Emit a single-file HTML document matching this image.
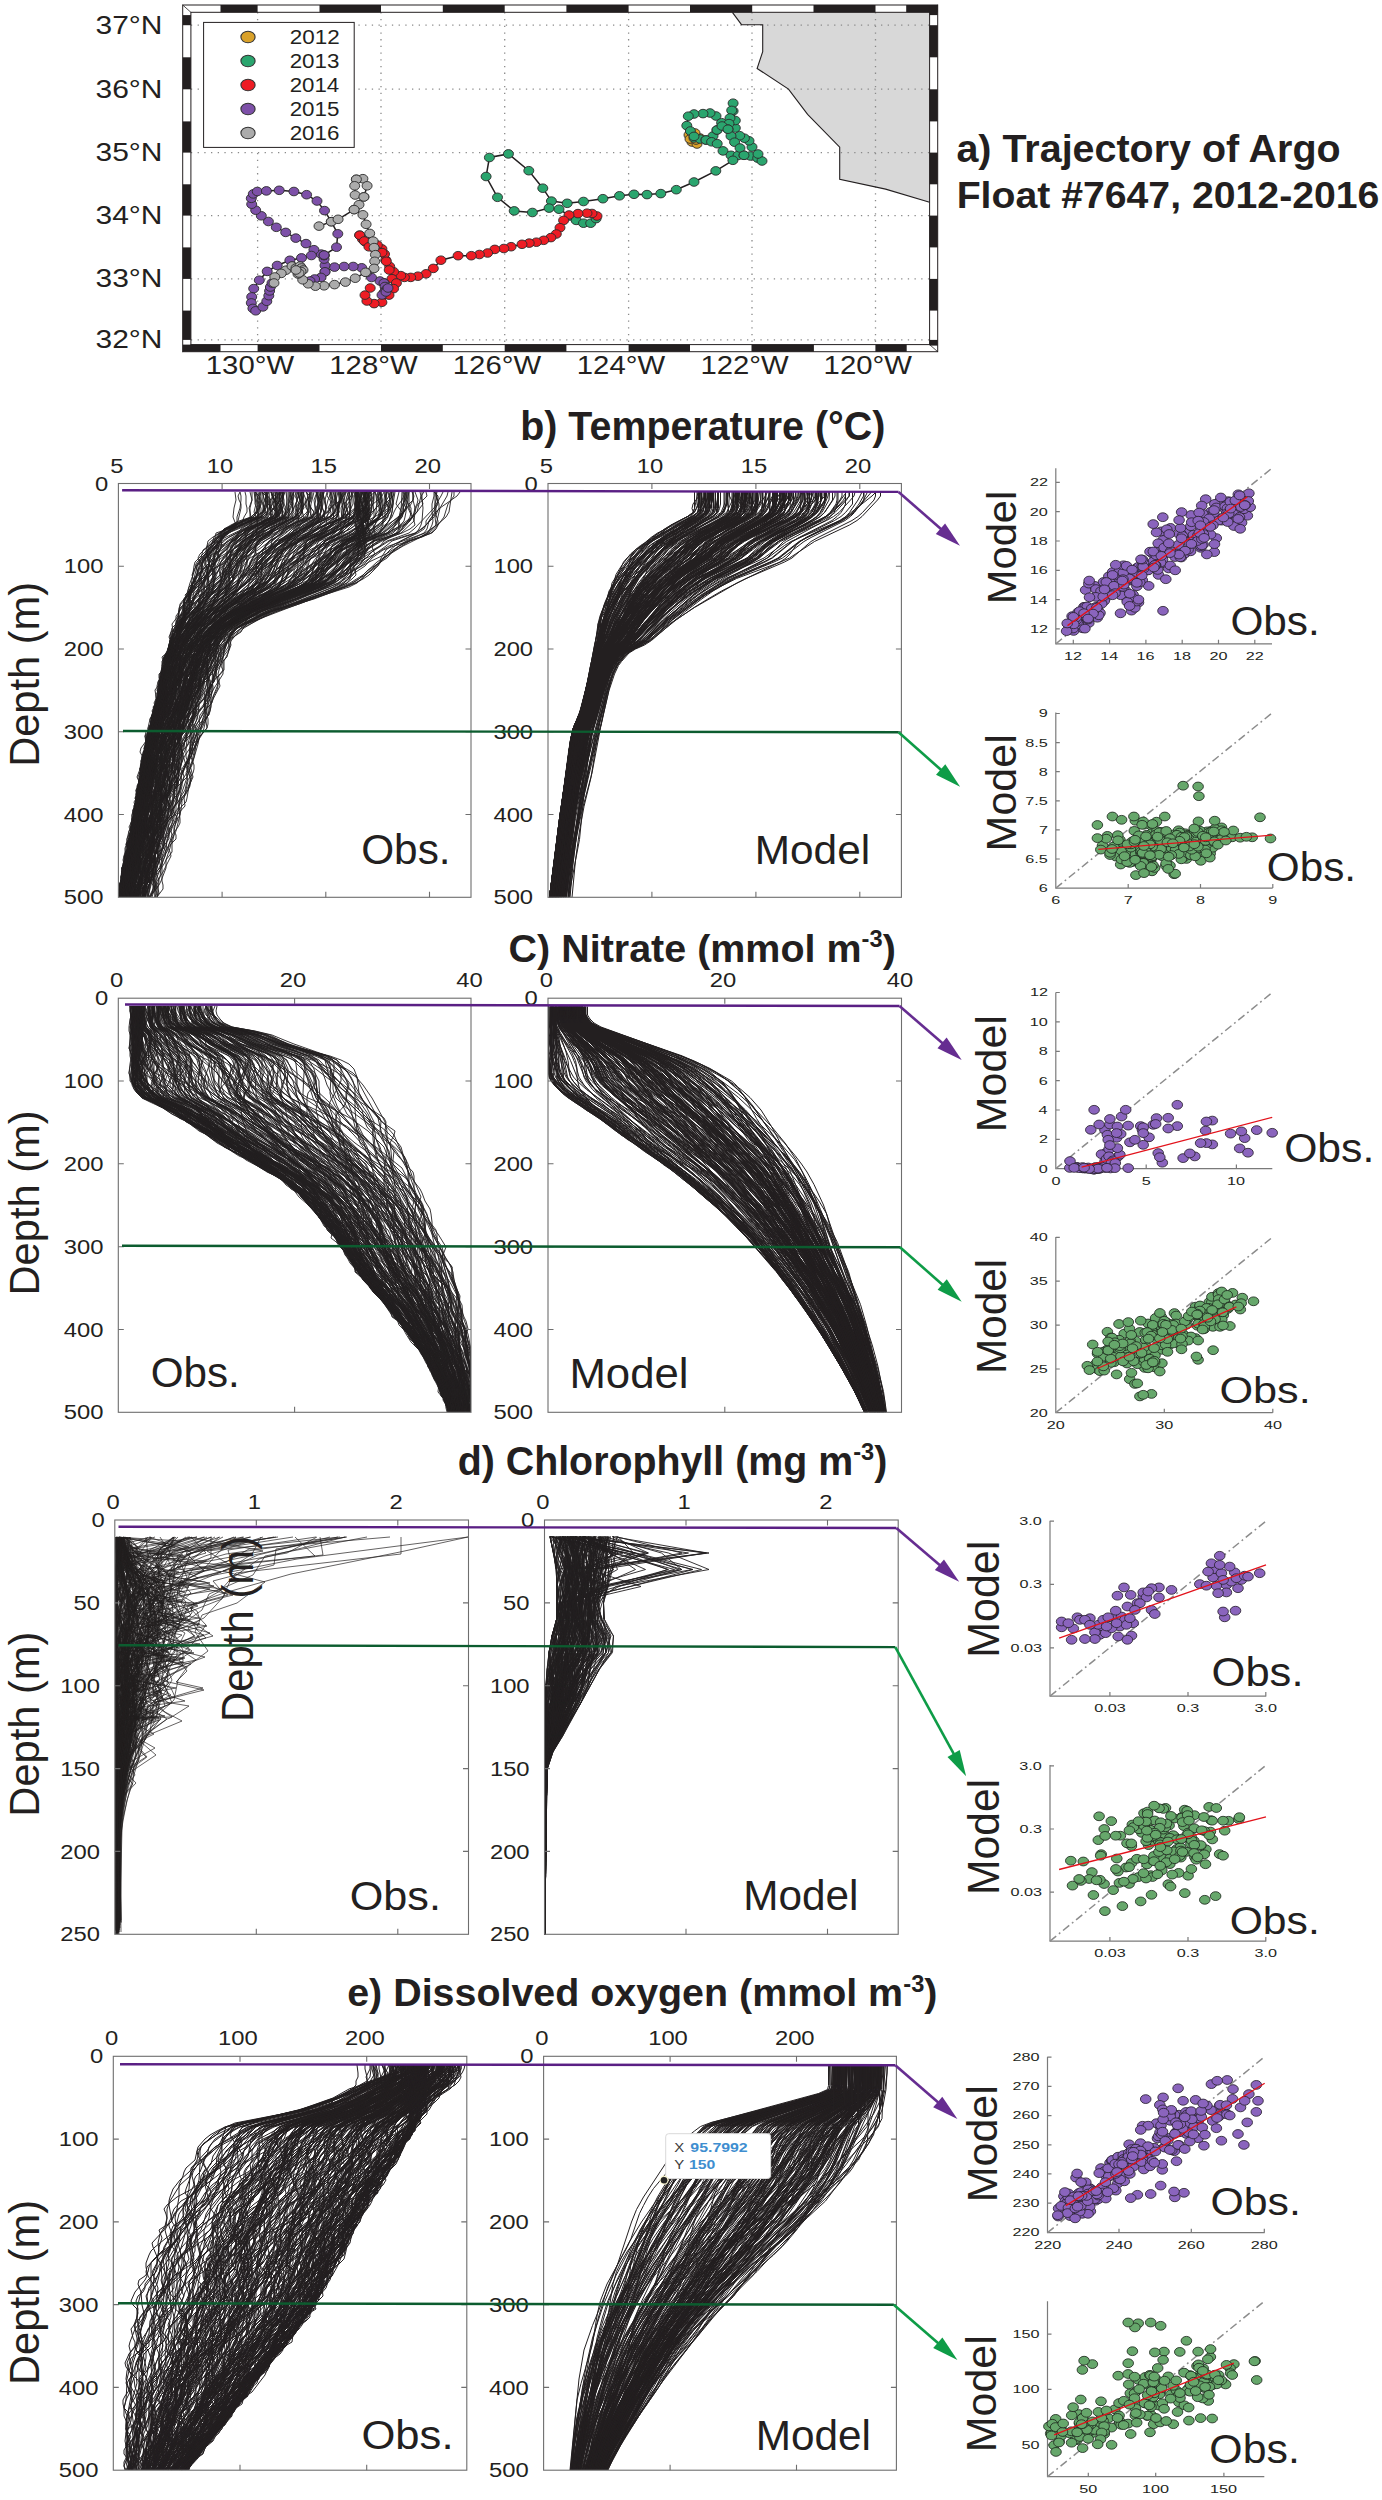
<!DOCTYPE html><html><head><meta charset="utf-8"><style>html,body{margin:0;padding:0;background:#fff;overflow:hidden}svg{display:block}text{font-family:"Liberation Sans",sans-serif}.sm ellipse{rx:5.3px;ry:4.4px}.tm ellipse{rx:5.0px;ry:4.3px}</style></head><body>
<svg width="1382" height="2500" viewBox="0 0 1382 2500">
<rect width="1382" height="2500" fill="#fff"/>
<polygon points="732.4,12.3 741.5,24.7 762.7,24.7 762.7,51.7 757.1,68.5 788.5,89.1 807.6,114.3 839.7,147.2 839.7,179.4 885.6,189.1 929.6,202.2 929.6,12.3" fill="#d8d8d8" stroke="none"/>
<path d="M257.6,12.3V344.6M381.0,12.3V344.6M504.7,12.3V344.6M628.6,12.3V344.6M752.0,12.3V344.6M875.5,12.3V344.6M190.9,25.2H929.6M190.9,89.2H929.6M190.9,152.7H929.6M190.9,215.7H929.6M190.9,278.9H929.6M190.9,339.9H929.6" stroke="#8a8a8a" stroke-width="1.3" stroke-dasharray="1.3 5.4" fill="none"/>
<polyline points="732.4,12.3 741.5,24.7 762.7,24.7 762.7,51.7 757.1,68.5 788.5,89.1 807.6,114.3 839.7,147.2 839.7,179.4 885.6,189.1 929.6,202.2" fill="none" stroke="#231f20" stroke-width="1.1"/>
<polyline points="689.0,135.0 692.0,142.0 697.0,144.0 700.0,138.0 695.0,133.0 690.0,139.0 696.0,140.0" fill="none" stroke="#231f20" stroke-width="1.5"/>
<polyline points="694.0,138.0 706.0,140.0 713.0,136.0 717.0,130.0 721.6,122.7 716.0,116.0 710.0,113.0 703.0,113.6 694.0,114.0 688.3,116.2 686.8,125.6 694.0,136.4" fill="none" stroke="#231f20" stroke-width="1.5"/>
<polyline points="706.0,140.0 717.2,143.7 723.0,150.9 731.0,155.3 738.0,155.5 744.0,155.3 750.5,156.0 757.7,158.1 762.0,161.0 758.0,154.0 752.0,147.0 749.0,140.8 739.7,135.7 735.3,128.0 735.3,120.5 733.1,111.0 733.1,103.2 731.7,110.4 730.0,118.0 728.0,129.2 731.0,136.0 734.6,142.2 740.0,148.0 744.0,155.3" fill="none" stroke="#231f20" stroke-width="1.5"/>
<polyline points="717.0,130.0 722.0,126.0 728.0,129.2" fill="none" stroke="#231f20" stroke-width="1.5"/>
<polyline points="732.9,160.3 715.8,170.9 694.0,182.0 676.3,189.7 660.8,193.6 647.0,194.6 634.0,194.3 619.5,195.8 602.9,198.7 583.5,201.5 567.2,203.3 551.4,201.1 542.8,188.2 528.8,170.7 508.4,153.9 489.4,157.5 486.1,176.5 497.5,197.3 514.2,210.9 532.4,212.5 549.1,208.1 559.0,209.2 570.0,216.0 576.2,220.4 583.5,223.2 590.7,223.2 596.1,218.6" fill="none" stroke="#231f20" stroke-width="1.5"/>
<polyline points="597.0,216.0 592.0,213.5 587.0,213.2 578.0,213.6 569.0,215.0 563.6,220.4 560.0,227.7 556.3,234.0 550.9,237.6 543.7,240.3 536.4,242.2 529.2,243.1 522.0,244.3 511.1,246.7 503.9,248.5 494.8,249.4 487.6,253.0 479.4,254.5 471.3,255.7 458.1,255.7 440.9,260.2 433.3,268.4 426.1,273.8 417.9,276.2 410.7,277.4 404.4,277.4 400.8,275.6 393.6,271.7 389.7,266.5 385.8,260.0 384.5,254.1 381.9,248.9 377.3,245.0 371.5,241.1 365.0,241.7 362.4,239.1 359.7,235.2" fill="none" stroke="#231f20" stroke-width="1.5"/>
<polyline points="359.7,235.2 368.9,246.8 382.0,252.6 386.3,261.3 389.2,270.0 392.0,278.7 396.4,283.0 393.6,288.6 389.0,295.1 381.9,302.3 374.1,303.6 366.9,301.0 365.0,295.1 370.2,288.0" fill="none" stroke="#231f20" stroke-width="1.5"/>
<polyline points="386.0,290.0 384.0,283.0 380.0,281.0 371.5,277.5 361.7,267.8 353.2,266.5 344.1,266.5 334.5,267.1 325.0,271.8 325.0,265.5 324.1,259.1 324.0,255.5" fill="none" stroke="#231f20" stroke-width="1.5"/>
<polyline points="324.0,255.5 321.2,254.1 313.9,249.7 306.0,243.6 295.8,238.1 285.7,232.4 276.3,227.3 268.4,221.5 261.3,215.8 255.7,210.2 251.7,204.2 251.3,198.3 253.3,193.9 257.3,191.5 266.4,190.9 279.2,190.3 293.9,191.5 306.6,194.7 317.0,201.0 324.5,210.6 331.3,221.7 337.8,233.8 336.5,247.2 324.1,255.1" fill="none" stroke="#231f20" stroke-width="1.5"/>
<polyline points="324.1,255.1 311.4,255.5 301.5,257.9 289.9,260.3 277.2,265.5 267.2,271.4 259.3,280.2 253.7,288.6 251.7,296.9 251.3,302.9 252.9,308.4 255.7,310.8 262.9,306.9 266.8,301.3 268.8,295.7 269.6,290.9 270.4,287.0 272.0,283.0" fill="none" stroke="#231f20" stroke-width="1.5"/>
<polyline points="325.0,271.8 321.0,277.4 314.6,279.0 310.0,281.0" fill="none" stroke="#231f20" stroke-width="1.5"/>
<polyline points="384.0,283.0 386.0,290.0 382.0,295.0 386.0,292.0 388.0,288.0" fill="none" stroke="#231f20" stroke-width="1.5"/>
<polyline points="319.0,226.1 331.3,221.7 338.1,219.3 354.1,209.6" fill="none" stroke="#231f20" stroke-width="1.5"/>
<polyline points="356.4,179.3 362.9,178.7 367.1,185.8 363.9,196.9 359.0,204.7 354.1,209.6 362.9,214.8 366.1,224.3 369.7,233.4 373.1,241.1 374.1,247.6 375.4,254.7 374.7,261.3 374.1,268.4 365.6,272.3 355.2,278.2 345.4,282.1 334.5,284.6 324.1,285.8 315.4,286.2 308.2,283.8 302.7,279.8 298.0,274.0 294.0,268.0 292.3,266.3 286.0,270.2 281.2,273.4 274.8,277.0 274.0,283.0" fill="none" stroke="#231f20" stroke-width="1.5"/>
<polyline points="356.4,179.3 354.7,185.8 355.1,195.0 363.9,196.9" fill="none" stroke="#231f20" stroke-width="1.5"/>
<polyline points="292.0,266.0 296.0,268.0 300.0,266.0 303.0,270.0 299.0,273.0 296.0,270.0" fill="none" stroke="#231f20" stroke-width="1.5"/>
<g class="tm" fill="#d9a12a" stroke="#2b2b2b" stroke-width="0.9"><ellipse cx="689.0" cy="135.0" rx="5" ry="4.3"/><ellipse cx="692.0" cy="142.0" rx="5" ry="4.3"/><ellipse cx="697.0" cy="144.0" rx="5" ry="4.3"/><ellipse cx="700.0" cy="138.0" rx="5" ry="4.3"/><ellipse cx="695.0" cy="133.0" rx="5" ry="4.3"/><ellipse cx="690.0" cy="139.0" rx="5" ry="4.3"/><ellipse cx="696.0" cy="140.0" rx="5" ry="4.3"/></g>
<g class="tm" fill="#2aa56e" stroke="#2b2b2b" stroke-width="0.9"><ellipse cx="694.0" cy="138.0" rx="5" ry="4.3"/><ellipse cx="700.0" cy="139.0" rx="5" ry="4.3"/><ellipse cx="706.0" cy="140.0" rx="5" ry="4.3"/><ellipse cx="713.0" cy="136.0" rx="5" ry="4.3"/><ellipse cx="717.0" cy="130.0" rx="5" ry="4.3"/><ellipse cx="721.6" cy="122.7" rx="5" ry="4.3"/><ellipse cx="716.0" cy="116.0" rx="5" ry="4.3"/><ellipse cx="710.0" cy="113.0" rx="5" ry="4.3"/><ellipse cx="703.0" cy="113.6" rx="5" ry="4.3"/><ellipse cx="694.0" cy="114.0" rx="5" ry="4.3"/><ellipse cx="688.3" cy="116.2" rx="5" ry="4.3"/><ellipse cx="686.8" cy="125.6" rx="5" ry="4.3"/><ellipse cx="690.4" cy="131.0" rx="5" ry="4.3"/><ellipse cx="694.0" cy="136.4" rx="5" ry="4.3"/><ellipse cx="706.0" cy="140.0" rx="5" ry="4.3"/><ellipse cx="711.6" cy="141.8" rx="5" ry="4.3"/><ellipse cx="717.2" cy="143.7" rx="5" ry="4.3"/><ellipse cx="723.0" cy="150.9" rx="5" ry="4.3"/><ellipse cx="731.0" cy="155.3" rx="5" ry="4.3"/><ellipse cx="738.0" cy="155.5" rx="5" ry="4.3"/><ellipse cx="744.0" cy="155.3" rx="5" ry="4.3"/><ellipse cx="750.5" cy="156.0" rx="5" ry="4.3"/><ellipse cx="757.7" cy="158.1" rx="5" ry="4.3"/><ellipse cx="762.0" cy="161.0" rx="5" ry="4.3"/><ellipse cx="758.0" cy="154.0" rx="5" ry="4.3"/><ellipse cx="752.0" cy="147.0" rx="5" ry="4.3"/><ellipse cx="749.0" cy="140.8" rx="5" ry="4.3"/><ellipse cx="744.4" cy="138.2" rx="5" ry="4.3"/><ellipse cx="739.7" cy="135.7" rx="5" ry="4.3"/><ellipse cx="735.3" cy="128.0" rx="5" ry="4.3"/><ellipse cx="735.3" cy="120.5" rx="5" ry="4.3"/><ellipse cx="733.1" cy="111.0" rx="5" ry="4.3"/><ellipse cx="733.1" cy="103.2" rx="5" ry="4.3"/><ellipse cx="731.7" cy="110.4" rx="5" ry="4.3"/><ellipse cx="730.0" cy="118.0" rx="5" ry="4.3"/><ellipse cx="729.0" cy="123.6" rx="5" ry="4.3"/><ellipse cx="728.0" cy="129.2" rx="5" ry="4.3"/><ellipse cx="731.0" cy="136.0" rx="5" ry="4.3"/><ellipse cx="734.6" cy="142.2" rx="5" ry="4.3"/><ellipse cx="740.0" cy="148.0" rx="5" ry="4.3"/><ellipse cx="744.0" cy="155.3" rx="5" ry="4.3"/><ellipse cx="717.0" cy="130.0" rx="5" ry="4.3"/><ellipse cx="722.0" cy="126.0" rx="5" ry="4.3"/><ellipse cx="728.0" cy="129.2" rx="5" ry="4.3"/><ellipse cx="732.9" cy="160.3" rx="5" ry="4.3"/><ellipse cx="715.8" cy="170.9" rx="5" ry="4.3"/><ellipse cx="694.0" cy="182.0" rx="5" ry="4.3"/><ellipse cx="676.3" cy="189.7" rx="5" ry="4.3"/><ellipse cx="660.8" cy="193.6" rx="5" ry="4.3"/><ellipse cx="647.0" cy="194.6" rx="5" ry="4.3"/><ellipse cx="634.0" cy="194.3" rx="5" ry="4.3"/><ellipse cx="619.5" cy="195.8" rx="5" ry="4.3"/><ellipse cx="602.9" cy="198.7" rx="5" ry="4.3"/><ellipse cx="583.5" cy="201.5" rx="5" ry="4.3"/><ellipse cx="567.2" cy="203.3" rx="5" ry="4.3"/><ellipse cx="551.4" cy="201.1" rx="5" ry="4.3"/><ellipse cx="542.8" cy="188.2" rx="5" ry="4.3"/><ellipse cx="528.8" cy="170.7" rx="5" ry="4.3"/><ellipse cx="508.4" cy="153.9" rx="5" ry="4.3"/><ellipse cx="489.4" cy="157.5" rx="5" ry="4.3"/><ellipse cx="486.1" cy="176.5" rx="5" ry="4.3"/><ellipse cx="497.5" cy="197.3" rx="5" ry="4.3"/><ellipse cx="514.2" cy="210.9" rx="5" ry="4.3"/><ellipse cx="532.4" cy="212.5" rx="5" ry="4.3"/><ellipse cx="549.1" cy="208.1" rx="5" ry="4.3"/><ellipse cx="559.0" cy="209.2" rx="5" ry="4.3"/><ellipse cx="570.0" cy="216.0" rx="5" ry="4.3"/><ellipse cx="576.2" cy="220.4" rx="5" ry="4.3"/><ellipse cx="583.5" cy="223.2" rx="5" ry="4.3"/><ellipse cx="590.7" cy="223.2" rx="5" ry="4.3"/><ellipse cx="596.1" cy="218.6" rx="5" ry="4.3"/></g>
<g class="tm" fill="#ee1c24" stroke="#2b2b2b" stroke-width="0.9"><ellipse cx="597.0" cy="216.0" rx="5" ry="4.3"/><ellipse cx="592.0" cy="213.5" rx="5" ry="4.3"/><ellipse cx="587.0" cy="213.2" rx="5" ry="4.3"/><ellipse cx="578.0" cy="213.6" rx="5" ry="4.3"/><ellipse cx="569.0" cy="215.0" rx="5" ry="4.3"/><ellipse cx="563.6" cy="220.4" rx="5" ry="4.3"/><ellipse cx="560.0" cy="227.7" rx="5" ry="4.3"/><ellipse cx="556.3" cy="234.0" rx="5" ry="4.3"/><ellipse cx="550.9" cy="237.6" rx="5" ry="4.3"/><ellipse cx="543.7" cy="240.3" rx="5" ry="4.3"/><ellipse cx="536.4" cy="242.2" rx="5" ry="4.3"/><ellipse cx="529.2" cy="243.1" rx="5" ry="4.3"/><ellipse cx="522.0" cy="244.3" rx="5" ry="4.3"/><ellipse cx="511.1" cy="246.7" rx="5" ry="4.3"/><ellipse cx="503.9" cy="248.5" rx="5" ry="4.3"/><ellipse cx="494.8" cy="249.4" rx="5" ry="4.3"/><ellipse cx="487.6" cy="253.0" rx="5" ry="4.3"/><ellipse cx="479.4" cy="254.5" rx="5" ry="4.3"/><ellipse cx="471.3" cy="255.7" rx="5" ry="4.3"/><ellipse cx="458.1" cy="255.7" rx="5" ry="4.3"/><ellipse cx="440.9" cy="260.2" rx="5" ry="4.3"/><ellipse cx="433.3" cy="268.4" rx="5" ry="4.3"/><ellipse cx="426.1" cy="273.8" rx="5" ry="4.3"/><ellipse cx="417.9" cy="276.2" rx="5" ry="4.3"/><ellipse cx="410.7" cy="277.4" rx="5" ry="4.3"/><ellipse cx="404.4" cy="277.4" rx="5" ry="4.3"/><ellipse cx="400.8" cy="275.6" rx="5" ry="4.3"/><ellipse cx="393.6" cy="271.7" rx="5" ry="4.3"/><ellipse cx="389.7" cy="266.5" rx="5" ry="4.3"/><ellipse cx="385.8" cy="260.0" rx="5" ry="4.3"/><ellipse cx="384.5" cy="254.1" rx="5" ry="4.3"/><ellipse cx="381.9" cy="248.9" rx="5" ry="4.3"/><ellipse cx="377.3" cy="245.0" rx="5" ry="4.3"/><ellipse cx="371.5" cy="241.1" rx="5" ry="4.3"/><ellipse cx="365.0" cy="241.7" rx="5" ry="4.3"/><ellipse cx="362.4" cy="239.1" rx="5" ry="4.3"/><ellipse cx="359.7" cy="235.2" rx="5" ry="4.3"/><ellipse cx="359.7" cy="235.2" rx="5" ry="4.3"/><ellipse cx="364.3" cy="241.0" rx="5" ry="4.3"/><ellipse cx="368.9" cy="246.8" rx="5" ry="4.3"/><ellipse cx="375.4" cy="249.7" rx="5" ry="4.3"/><ellipse cx="382.0" cy="252.6" rx="5" ry="4.3"/><ellipse cx="386.3" cy="261.3" rx="5" ry="4.3"/><ellipse cx="389.2" cy="270.0" rx="5" ry="4.3"/><ellipse cx="392.0" cy="278.7" rx="5" ry="4.3"/><ellipse cx="396.4" cy="283.0" rx="5" ry="4.3"/><ellipse cx="393.6" cy="288.6" rx="5" ry="4.3"/><ellipse cx="389.0" cy="295.1" rx="5" ry="4.3"/><ellipse cx="381.9" cy="302.3" rx="5" ry="4.3"/><ellipse cx="374.1" cy="303.6" rx="5" ry="4.3"/><ellipse cx="366.9" cy="301.0" rx="5" ry="4.3"/><ellipse cx="365.0" cy="295.1" rx="5" ry="4.3"/><ellipse cx="370.2" cy="288.0" rx="5" ry="4.3"/></g>
<g class="tm" fill="#7d50a8" stroke="#2b2b2b" stroke-width="0.9"><ellipse cx="386.0" cy="290.0" rx="5" ry="4.3"/><ellipse cx="384.0" cy="283.0" rx="5" ry="4.3"/><ellipse cx="380.0" cy="281.0" rx="5" ry="4.3"/><ellipse cx="371.5" cy="277.5" rx="5" ry="4.3"/><ellipse cx="366.6" cy="272.6" rx="5" ry="4.3"/><ellipse cx="361.7" cy="267.8" rx="5" ry="4.3"/><ellipse cx="353.2" cy="266.5" rx="5" ry="4.3"/><ellipse cx="344.1" cy="266.5" rx="5" ry="4.3"/><ellipse cx="334.5" cy="267.1" rx="5" ry="4.3"/><ellipse cx="325.0" cy="271.8" rx="5" ry="4.3"/><ellipse cx="325.0" cy="265.5" rx="5" ry="4.3"/><ellipse cx="324.1" cy="259.1" rx="5" ry="4.3"/><ellipse cx="324.0" cy="255.5" rx="5" ry="4.3"/><ellipse cx="324.0" cy="255.5" rx="5" ry="4.3"/><ellipse cx="321.2" cy="254.1" rx="5" ry="4.3"/><ellipse cx="313.9" cy="249.7" rx="5" ry="4.3"/><ellipse cx="306.0" cy="243.6" rx="5" ry="4.3"/><ellipse cx="295.8" cy="238.1" rx="5" ry="4.3"/><ellipse cx="285.7" cy="232.4" rx="5" ry="4.3"/><ellipse cx="276.3" cy="227.3" rx="5" ry="4.3"/><ellipse cx="268.4" cy="221.5" rx="5" ry="4.3"/><ellipse cx="261.3" cy="215.8" rx="5" ry="4.3"/><ellipse cx="255.7" cy="210.2" rx="5" ry="4.3"/><ellipse cx="251.7" cy="204.2" rx="5" ry="4.3"/><ellipse cx="251.3" cy="198.3" rx="5" ry="4.3"/><ellipse cx="253.3" cy="193.9" rx="5" ry="4.3"/><ellipse cx="257.3" cy="191.5" rx="5" ry="4.3"/><ellipse cx="266.4" cy="190.9" rx="5" ry="4.3"/><ellipse cx="279.2" cy="190.3" rx="5" ry="4.3"/><ellipse cx="293.9" cy="191.5" rx="5" ry="4.3"/><ellipse cx="306.6" cy="194.7" rx="5" ry="4.3"/><ellipse cx="317.0" cy="201.0" rx="5" ry="4.3"/><ellipse cx="324.5" cy="210.6" rx="5" ry="4.3"/><ellipse cx="331.3" cy="221.7" rx="5" ry="4.3"/><ellipse cx="337.8" cy="233.8" rx="5" ry="4.3"/><ellipse cx="336.5" cy="247.2" rx="5" ry="4.3"/><ellipse cx="324.1" cy="255.1" rx="5" ry="4.3"/><ellipse cx="324.1" cy="255.1" rx="5" ry="4.3"/><ellipse cx="311.4" cy="255.5" rx="5" ry="4.3"/><ellipse cx="301.5" cy="257.9" rx="5" ry="4.3"/><ellipse cx="289.9" cy="260.3" rx="5" ry="4.3"/><ellipse cx="277.2" cy="265.5" rx="5" ry="4.3"/><ellipse cx="267.2" cy="271.4" rx="5" ry="4.3"/><ellipse cx="259.3" cy="280.2" rx="5" ry="4.3"/><ellipse cx="253.7" cy="288.6" rx="5" ry="4.3"/><ellipse cx="251.7" cy="296.9" rx="5" ry="4.3"/><ellipse cx="251.3" cy="302.9" rx="5" ry="4.3"/><ellipse cx="252.9" cy="308.4" rx="5" ry="4.3"/><ellipse cx="255.7" cy="310.8" rx="5" ry="4.3"/><ellipse cx="262.9" cy="306.9" rx="5" ry="4.3"/><ellipse cx="266.8" cy="301.3" rx="5" ry="4.3"/><ellipse cx="268.8" cy="295.7" rx="5" ry="4.3"/><ellipse cx="269.6" cy="290.9" rx="5" ry="4.3"/><ellipse cx="270.4" cy="287.0" rx="5" ry="4.3"/><ellipse cx="272.0" cy="283.0" rx="5" ry="4.3"/><ellipse cx="325.0" cy="271.8" rx="5" ry="4.3"/><ellipse cx="321.0" cy="277.4" rx="5" ry="4.3"/><ellipse cx="314.6" cy="279.0" rx="5" ry="4.3"/><ellipse cx="310.0" cy="281.0" rx="5" ry="4.3"/><ellipse cx="384.0" cy="283.0" rx="5" ry="4.3"/><ellipse cx="385.0" cy="286.5" rx="5" ry="4.3"/><ellipse cx="386.0" cy="290.0" rx="5" ry="4.3"/><ellipse cx="384.0" cy="292.5" rx="5" ry="4.3"/><ellipse cx="382.0" cy="295.0" rx="5" ry="4.3"/><ellipse cx="386.0" cy="292.0" rx="5" ry="4.3"/><ellipse cx="388.0" cy="288.0" rx="5" ry="4.3"/></g>
<g class="tm" fill="#ababab" stroke="#2b2b2b" stroke-width="0.9"><ellipse cx="319.0" cy="226.1" rx="5" ry="4.3"/><ellipse cx="331.3" cy="221.7" rx="5" ry="4.3"/><ellipse cx="338.1" cy="219.3" rx="5" ry="4.3"/><ellipse cx="354.1" cy="209.6" rx="5" ry="4.3"/><ellipse cx="356.4" cy="179.3" rx="5" ry="4.3"/><ellipse cx="362.9" cy="178.7" rx="5" ry="4.3"/><ellipse cx="367.1" cy="185.8" rx="5" ry="4.3"/><ellipse cx="363.9" cy="196.9" rx="5" ry="4.3"/><ellipse cx="359.0" cy="204.7" rx="5" ry="4.3"/><ellipse cx="354.1" cy="209.6" rx="5" ry="4.3"/><ellipse cx="362.9" cy="214.8" rx="5" ry="4.3"/><ellipse cx="366.1" cy="224.3" rx="5" ry="4.3"/><ellipse cx="369.7" cy="233.4" rx="5" ry="4.3"/><ellipse cx="373.1" cy="241.1" rx="5" ry="4.3"/><ellipse cx="374.1" cy="247.6" rx="5" ry="4.3"/><ellipse cx="375.4" cy="254.7" rx="5" ry="4.3"/><ellipse cx="374.7" cy="261.3" rx="5" ry="4.3"/><ellipse cx="374.1" cy="268.4" rx="5" ry="4.3"/><ellipse cx="365.6" cy="272.3" rx="5" ry="4.3"/><ellipse cx="355.2" cy="278.2" rx="5" ry="4.3"/><ellipse cx="345.4" cy="282.1" rx="5" ry="4.3"/><ellipse cx="334.5" cy="284.6" rx="5" ry="4.3"/><ellipse cx="324.1" cy="285.8" rx="5" ry="4.3"/><ellipse cx="315.4" cy="286.2" rx="5" ry="4.3"/><ellipse cx="308.2" cy="283.8" rx="5" ry="4.3"/><ellipse cx="302.7" cy="279.8" rx="5" ry="4.3"/><ellipse cx="298.0" cy="274.0" rx="5" ry="4.3"/><ellipse cx="294.0" cy="268.0" rx="5" ry="4.3"/><ellipse cx="292.3" cy="266.3" rx="5" ry="4.3"/><ellipse cx="286.0" cy="270.2" rx="5" ry="4.3"/><ellipse cx="281.2" cy="273.4" rx="5" ry="4.3"/><ellipse cx="274.8" cy="277.0" rx="5" ry="4.3"/><ellipse cx="274.0" cy="283.0" rx="5" ry="4.3"/><ellipse cx="356.4" cy="179.3" rx="5" ry="4.3"/><ellipse cx="354.7" cy="185.8" rx="5" ry="4.3"/><ellipse cx="355.1" cy="195.0" rx="5" ry="4.3"/><ellipse cx="363.9" cy="196.9" rx="5" ry="4.3"/><ellipse cx="292.0" cy="266.0" rx="5" ry="4.3"/><ellipse cx="296.0" cy="268.0" rx="5" ry="4.3"/><ellipse cx="300.0" cy="266.0" rx="5" ry="4.3"/><ellipse cx="301.5" cy="268.0" rx="5" ry="4.3"/><ellipse cx="303.0" cy="270.0" rx="5" ry="4.3"/><ellipse cx="301.0" cy="271.5" rx="5" ry="4.3"/><ellipse cx="299.0" cy="273.0" rx="5" ry="4.3"/><ellipse cx="296.0" cy="270.0" rx="5" ry="4.3"/></g>
<rect x="220.5" y="5.0" width="37.1" height="7.3" fill="#231f20"/>
<rect x="319.5" y="5.0" width="61.5" height="7.3" fill="#231f20"/>
<rect x="442.8" y="5.0" width="61.9" height="7.3" fill="#231f20"/>
<rect x="566.4" y="5.0" width="62.2" height="7.3" fill="#231f20"/>
<rect x="690.0" y="5.0" width="62.2" height="7.3" fill="#231f20"/>
<rect x="813.5" y="5.0" width="62.0" height="7.3" fill="#231f20"/>
<rect x="906.2" y="5.0" width="31.5" height="7.3" fill="#231f20"/>
<rect x="182.7" y="344.6" width="37.8" height="7.1" fill="#231f20"/>
<rect x="257.6" y="344.6" width="61.9" height="7.1" fill="#231f20"/>
<rect x="381.0" y="344.6" width="61.8" height="7.1" fill="#231f20"/>
<rect x="504.7" y="344.6" width="61.7" height="7.1" fill="#231f20"/>
<rect x="628.6" y="344.6" width="61.4" height="7.1" fill="#231f20"/>
<rect x="751.5" y="344.6" width="62.4" height="7.1" fill="#231f20"/>
<rect x="875.4" y="344.6" width="31.3" height="7.1" fill="#231f20"/>
<rect x="182.7" y="15.1" width="8.2" height="10.1" fill="#231f20"/>
<rect x="182.7" y="57.3" width="8.2" height="32.0" fill="#231f20"/>
<rect x="182.7" y="121.4" width="8.2" height="31.2" fill="#231f20"/>
<rect x="182.7" y="184.3" width="8.2" height="31.3" fill="#231f20"/>
<rect x="182.7" y="247.4" width="8.2" height="31.5" fill="#231f20"/>
<rect x="182.7" y="310.6" width="8.2" height="29.3" fill="#231f20"/>
<rect x="929.6" y="5.0" width="8.1" height="10.1" fill="#231f20"/>
<rect x="929.6" y="25.2" width="8.1" height="32.1" fill="#231f20"/>
<rect x="929.6" y="89.3" width="8.1" height="32.1" fill="#231f20"/>
<rect x="929.6" y="152.6" width="8.1" height="31.7" fill="#231f20"/>
<rect x="929.6" y="215.6" width="8.1" height="31.8" fill="#231f20"/>
<rect x="929.6" y="278.9" width="8.1" height="31.7" fill="#231f20"/>
<rect x="929.6" y="339.9" width="8.1" height="5.7" fill="#231f20"/>
<rect x="182.7" y="5.0" width="755.0" height="346.7" fill="none" stroke="#231f20" stroke-width="1"/>
<rect x="190.9" y="12.3" width="738.7" height="332.3" fill="none" stroke="#231f20" stroke-width="1"/>
<path d="M182.7,5.0L190.9,12.3M937.7,351.7L929.6,344.6M937.7,5.0L929.6,12.3M182.7,351.7L190.9,344.6" stroke="#231f20" stroke-width="0.8"/>
<rect x="203.6" y="22.4" width="150.6" height="125.0" fill="#fff" stroke="#231f20" stroke-width="1"/>
<ellipse cx="248" cy="37" rx="7.1" ry="5.8" fill="#d9a12a" stroke="#333" stroke-width="1.1"/>
<text transform="translate(289.68,44.10) scale(1.1493,1)" font-size="19.57" fill="#231f20">2012</text>
<ellipse cx="248" cy="61" rx="7.1" ry="5.8" fill="#2aa56e" stroke="#333" stroke-width="1.1"/>
<text transform="translate(289.68,68.10) scale(1.1440,1)" font-size="19.57" fill="#231f20">2013</text>
<ellipse cx="248" cy="85" rx="7.1" ry="5.8" fill="#ee1c24" stroke="#333" stroke-width="1.1"/>
<text transform="translate(289.69,92.10) scale(1.1386,1)" font-size="19.57" fill="#231f20">2014</text>
<ellipse cx="248" cy="109" rx="7.1" ry="5.8" fill="#7d50a8" stroke="#333" stroke-width="1.1"/>
<text transform="translate(289.68,116.10) scale(1.1440,1)" font-size="19.57" fill="#231f20">2015</text>
<ellipse cx="248" cy="133" rx="7.1" ry="5.8" fill="#ababab" stroke="#333" stroke-width="1.1"/>
<text transform="translate(289.68,140.10) scale(1.1440,1)" font-size="19.57" fill="#231f20">2016</text>
<text transform="translate(95.50,33.80) scale(1.1732,1)" font-size="25.57" fill="#231f20">37°N</text>
<text transform="translate(95.50,97.90) scale(1.1732,1)" font-size="25.57" fill="#231f20">36°N</text>
<text transform="translate(95.50,161.00) scale(1.1732,1)" font-size="25.57" fill="#231f20">35°N</text>
<text transform="translate(95.50,224.00) scale(1.1732,1)" font-size="25.57" fill="#231f20">34°N</text>
<text transform="translate(95.50,287.20) scale(1.1732,1)" font-size="25.57" fill="#231f20">33°N</text>
<text transform="translate(95.50,348.30) scale(1.1732,1)" font-size="25.57" fill="#231f20">32°N</text>
<text transform="translate(205.80,373.90) scale(1.1588,1)" font-size="25.29" fill="#231f20">130°W</text>
<text transform="translate(329.30,373.90) scale(1.1588,1)" font-size="25.29" fill="#231f20">128°W</text>
<text transform="translate(452.80,373.90) scale(1.1588,1)" font-size="25.29" fill="#231f20">126°W</text>
<text transform="translate(576.80,373.90) scale(1.1588,1)" font-size="25.29" fill="#231f20">124°W</text>
<text transform="translate(700.40,373.90) scale(1.1588,1)" font-size="25.29" fill="#231f20">122°W</text>
<text transform="translate(823.60,373.90) scale(1.1588,1)" font-size="25.29" fill="#231f20">120°W</text>
<text transform="translate(956.42,161.60) scale(1.0143,1)" font-size="38.90" font-weight="bold" fill="#231f20">a) Trajectory of Argo</text>
<text transform="translate(956.65,207.90) scale(1.0488,1)" font-size="37.38" font-weight="bold" fill="#231f20">Float #7647, 2012-2016</text>
<clipPath id="cpbobs"><rect x="118.4" y="483.5" width="352.6" height="413.8"/></clipPath>
<g clip-path="url(#cpbobs)"><path transform="scale(1)" d="M240 492l1 4 0 4-1 8-3 9 0 8-6 4-5 4-7 8-2 5-3 12 0 4 1 4 0 4-6 17 0 4-2 4-21 25-1 4-3 4-9 13-2 4-1 4-5 8-1 4 0 13-3 21-4 12-2 4-3 4-2 4 1 5 0 4-2 8-5 8-3 4-1 4 5 9 0 4 0 4-3 4-1 4-1 9-3 8 1 12 0 4-5 13-1 4 0 8-1 13-7 16 0 13-2 8-1 12M280 492l-1 8-3 8 0 4-3 5-28 12-18 12-7 9-2 4-1 4-8 17-1 8-2 8-5 8-4 9-15 24-2 9-4 8-7 17 0 8-1 4-5 12-6 9-1 8 2 8-3 4-4 5-1 4 0 4-4 16 0 9-4 8-2 8-1 17 1 8-3 17 0 8-4 8-2 8 0 9-5 8 0 4 2 4-1 4-6 21 0 8M349 492l-2 4-1 4 1 8-1 4-3 5-23 16-21 13-4 4-3 8-8 8-4 9-19 16-12 8-22 17-9 4-6 4-5 8-4 5-2 4 0 4 0 4-5 4-4 4 0 9-1 4-1 4-7 8 0 8-9 17-1 8-5 17-9 16-3 4-2 5 2 8-4 16-3 9 0 8-3 8-1 9-3 8-2 8-2 4-2 4 2 5 0 4-4 8-2 12 0 13-3 8 0 8M341 492l-3 20 1 5 2 8-4 4-3 4-14 13-2 4 1 4 0 4-10 21-4 4-7 4-36 17-20 8-18 8-6 4-8 8-14 13-4 4-3 4-1 4 2 4-1 5-3 4-2 4 0 8-3 8-1 5 1 12-3 12-5 13-1 8-2 4-7 13-2 4-2 4-4 4-2 4-4 17-2 4 0 4 1 8-1 4-1 5-2 4-1 4 1 4 0 4-2 4-1 4 2 5 1 4-1 4-1 4 1 4 0 4-2 4-1 4 1 9-1 4-3 4-6 8M378 492l-1 4 0 8-1 4-6 9-17 16-6 4-8 4-6 5-5 4-3 4-4 8-8 13-8 8-6 4-17 8-31 13-9 4-23 16-7 9-10 8-3 4-2 4-1 8-1 5-2 4-7 16 0 4 1 5-1 4-3 4-2 4 1 12-2 5-9 12-2 4 0 4-3 8-1 5 0 8-2 4-4 8-1 4 0 5 0 4-5 12 0 4 0 4-1 5-6 12 0 4 2 4 0 4-5 13 0 4 1 4 0 4-6 17-4 16M318 492l-1 4 1 8-1 13-3 4-18 12-15 8-6 5-21 20-4 4-7 5-4 4-2 4-7 8-16 13-14 12-4 4-2 4-12 17-1 4-2 8-4 8-4 5-1 4 1 4 0 4-1 4-1 13-9 20-4 9-1 4 0 8-5 21-4 8-1 4 2 4 0 4-2 4-1 5 0 4-1 4-2 4-1 4 1 4 0 4-4 13-1 4 1 4 0 4-4 9-2 8-3 4-1 4 2 4 0 4-2 4-1 5 0 4 0 4-3 8-3 4M281 492l-3 12 0 8 2 9-1 4-7 4-4 4-6 4-8 4-13 9-4 4-3 4-7 8-2 4-3 9-2 4-2 4-11 12-13 13-5 8-5 12-3 5-5 4-4 4-3 25 0 4-1 4-5 8-1 4 0 5 1 4-1 4-4 4-3 4-4 13 0 4 0 4-1 4-2 4-1 4 1 4 1 4-7 21-1 29-2 13-2 4-3 4 0 4 1 4 0 4-4 4-3 5 0 8 1 4 0 4-3 21-5 12 1 4M267 492l1 8-2 8-3 4-8 5-12 4-23 12-7 4-5 4-1 5 0 12 1 4 7 13 0 4-1 4-3 4-11 12-16 13-4 4-1 4 0 4-1 4-6 9-2 4-3 12-2 4 0 4 0 9-3 12 0 4 1 4 0 5-6 8-2 8 1 4-1 4-5 13-2 12-4 8-1 5-1 4 0 8-1 4 0 4 1 4 0 5-3 4-1 4 2 4 0 4-3 4-1 4-1 9-5 20 0 17-1 4-4 8-2 13-1 8-3 8M370 492l2 4 1 4-4 8 1 4-5 5-15 8-35 16-5 5-11 12-6 4-4 4-2 9-1 4-2 4-24 16-18 9-6 4-3 4-6 8-7 4-6 4-7 9-3 8-7 8 1 4-1 5-8 8-5 8-9 25-2 8-5 9-6 16-1 17-1 8 1 8-3 8 0 9-6 16-3 13-1 4 1 8-5 8-3 9-4 8-4 16-4 13 0 4 1 8M345 492l-4 8-3 8-3 4-5 5-27 12-22 12-18 9-6 4-4 4-2 4-1 4-6 4-7 5-3 4-2 4-5 4-6 4-3 4 0 4-4 5-12 12-11 16-1 5 1 4-2 4-3 4-5 8-1 9-3 8-1 4 1 4-2 4-3 4-1 5-1 12-4 8-3 9-8 8-2 4 0 4 0 8-1 4-4 13-1 8-4 8 1 17-2 4-3 4-1 4 2 13-2 4-3 4 0 4 1 4-1 9 0 8-4 8-1 4-1 13-2 8 0 8M406 492l0 12 1 4-3 4-11 9-13 12-19 8-8 5-6 4-17 12-8 8-5 5-8 8-6 4-20 8-37 17-17 12-5 4-1 4-4 5-4 4-4 4-4 8-1 4 0 4 1 5-1 4-7 12-1 4 1 4 0 5-10 16-3 13-2 4-5 8-4 12-4 9-1 4 0 4-1 4-4 8-4 13-1 12-4 13-1 4 0 12-1 4-3 4-1 5 0 4-1 4-3 4 0 4 2 8 0 4-1 5-4 4-2 4-2 12M374 492l0 8-1 4-2 4-1 9-20 16-17 8-5 5-4 8-26 29-8 4-18 8-6 4-27 13-7 4-20 16-7 9-4 8-8 12-5 13-4 12-2 4-1 5-1 4-2 8-10 17 0 4 1 12-2 4-2 4-1 4 2 5-1 4-4 8-2 12-4 9-1 4-2 25-1 4-6 12-2 13 0 8-2 4-4 4-5 8 0 5 1 4 0 4-3 4-2 8M307 492l2 16-2 4-5 5-19 8-24 16-4 5-8 8-8 12-3 9-5 8-3 8-8 8-13 9-6 8-5 8-8 8-2 9-4 8-2 8-4 9-3 8 3 8-3 8-6 9-1 8-6 8-5 17-1 8-2 8-6 17 1 8-1 8-6 13-1 4 1 8-3 9-1 8 0 8-6 17-2 8 3 8-5 8-3 9 1 16M415 492l3 8-1 4-2 4-2 9 1 4 1 4-5 4-8 4-24 8-7 5-4 4-5 4-19 12-14 13-14 8-8 4-32 13-9 4-15 8-17 8-6 4-7 13-7 8-1 4 1 4-2 4-4 5-2 4 2 12 0 4-3 13 0 8-2 4-3 4-1 4 1 5-1 4-2 4 0 4 1 4-1 4-5 8-4 13-1 4 1 4-1 4-4 4-2 5-2 8-4 12-3 9-5 8-1 4-1 4-2 8 0 9-2 4-3 4-2 4 0 4-2 4-4 4-3 5-4 12 0 4 2 4M343 492l-5 12-1 8-8 5-13 4-14 8-17 8-5 4-3 5-10 8-17 25-3 4-14 12-11 9-9 8-5 8-8 8-5 9-8 16-2 8-5 9 1 8-5 8-2 9 3 8-5 8-8 8 0 17-7 16 0 9-3 8-5 8 0 9-4 8-1 8-2 8-1 9-2 8 1 8-6 9 2 8-5 8 1 8-6 9-1 8 2 8-3 4M255 492l4 4 1 4-3 12-4 5-9 4-14 8-5 4-10 13-9 8-3 4-2 29-2 4-5 8-3 9-8 12-7 17-2 4-4 4-2 4 1 8-1 4-4 13-1 8-3 13-5 12-1 12-1 5-5 8-1 8-1 21 0 4-6 12-2 9-1 12-3 8 0 17-1 16-2 13-2 4-2 4-2 4-1 17-2 8 0 8M235 492l1 8-2 8-1 9 3 8-8 4-5 4-8 8-12 9-2 8-5 8-2 4-2 5 3 8-4 8-4 8-8 33-5 9-2 8-3 8-2 9-5 8 1 8-6 8 3 9-4 8-2 8 2 9-8 8 0 8-5 33 1 8-5 9-2 8 2 8-2 9-5 8 1 8-4 8-1 17-2 8-4 8 0 17-2 8M385 492l-1 8 1 8 0 13-13 12-8 4-22 9-8 4-19 12-6 4-8 9-13 8-5 4-7 4-45 21-6 4-5 8-12 13-3 4-5 20-2 5-3 4-2 4 0 8-1 8 1 5-1 4-5 4-3 4-1 8-5 13-2 4-8 8-4 8-2 17-4 8-3 17-4 12 0 4 0 17-4 16-3 9 2 12 0 4-4 8-3 13-4 12M409 492l-2 8 0 4-1 4-13 17-9 8-16 8-6 5-5 4-12 16-13 17-33 16-31 13-26 12-5 4-9 13-3 8-6 8-3 17-3 8-9 17-7 8-1 8-4 9-3 8-12 16-5 17-4 8 2 8-1 9-9 16 3 9-3 8-3 16-6 9 0 8 3 8-1 8 0 17-4 8M378 492l1 8 2 12-1 5-3 4-13 8-3 4-14 8-5 5-7 8-12 8-7 13-5 4-18 8-61 29-14 8-6 4-3 4-2 5 1 4-1 4-8 8-3 4-3 4-2 9-4 8 0 8-5 9-5 16 3 4 0 4-5 9-2 8-3 8-1 4 0 9 0 4-5 8 0 12-1 5-11 16-2 8-3 5-1 4 1 8-3 8 0 9-8 16 2 4 0 4-3 4-2 5 3 8-3 12M340 492l1 4 0 4-2 4-5 8-5 5-16 8-21 12-16 9-5 4-9 8-10 12-6 13-4 4-13 12-16 13-7 8-5 8-5 13-7 12-6 17-4 25-1 4-9 16-9 21 0 4 1 4-1 4-3 4-7 17-2 12-1 5-5 8 0 4 1 4-1 4-2 4-1 5 1 4 0 8-3 4-4 4-1 4 2 5-1 4-3 4 0 4 2 4 0 4-5 13 0 8-2 8 0 4M289 492l1 8-2 8 0 4-4 5-34 12-30 17-7 4-4 4-6 8-2 4 1 4 2 5 1 4-1 16-2 9-2 4-7 8-13 16-9 9-1 4 1 4-9 8 1 4 2 5-2 12-2 17-2 12-6 8 0 4 2 5-4 4-5 4-1 4 1 4 3 8-1 4-4 13-1 8-3 8 0 9-5 8 2 4 3 4-1 4-3 5 0 8-4 8-1 8-4 9-1 4-1 4 2 8-5 8 0 5 2 4-2 4-2 4-1 4 0 4M303 492l1 12-2 8-3 5-22 12-16 12-4 5-8 12-9 21-3 4-8 8-15 13-6 8-5 8-15 17-6 8-7 8 2 8-4 9-7 16 2 9-6 8-3 8-2 8-3 9 1 8-7 8-1 8-2 9-2 8 4 8-4 9-6 8 3 8-1 8-3 9-4 8 3 8-3 9 1 8-6 8-1 17-3 8-2 12M349 492l0 4-2 4-2 4 3 8-2 5-19 12-4 4-10 8-18 21-5 8-7 13-4 4-16 8-11 9-17 8-23 16-6 9-4 8-6 8-5 8-4 9-6 8-2 8-5 9-3 16-13 25-2 8-5 13-1 4 4 8-3 8-4 9-1 8 2 8-4 8 1 9-1 8 0 8-2 9 0 4 0 4-9 8-1 8 3 9 0 4-1 4-4 8 0 4M273 492l0 4-3 4-1 4 2 13-25 12-24 17-5 4-3 4-1 4-3 4-4 4-3 4-11 21-4 13-4 8-2 8-4 8-2 9-7 12-4 8 0 4 1 13-2 12 1 4-1 5-3 4-2 4-1 4-2 4-4 4-1 4 1 9-1 8 0 4 0 4-4 8-6 17-3 25 0 12-1 4-3 5-1 4 0 16 1 4-1 5-6 12-2 12-3 4-1 5 0 4 2 12-1 4M443 492l-2 4-7 12-20 21-5 4-22 8-7 5-6 4-16 16-5 9-9 8-6 4-9 4-23 8-26 9-9 4-27 16-10 9-3 4-1 4-2 8-1 4-4 4-2 5 2 4 0 4-10 16-7 21-1 4 0 4-2 5-6 8-5 12-2 4-6 9-6 16-1 21-1 4-4 8 0 4-1 5-4 4-1 4 3 4 1 4-3 8-1 13-1 4-3 8 0 8 0 9 1 4 0 4-6 8M391 492l2 8 0 4-1 8-1 5-5 8-7 8-16 8-7 5-6 4-13 12-11 8-17 13-9 4-21 8-46 21-20 12-6 4-3 5-3 8-7 12-1 4 1 13-1 4-2 4 0 4 1 4 0 5-1 4-3 8-5 8 0 4 0 5-2 4-10 20-1 4 1 5-2 4-4 4-1 4 0 4-1 4-1 4-5 9-1 4 1 4-2 4-5 4-1 4 2 5-1 4-2 4-1 4 0 12-2 5-3 4 0 4 2 4 1 8-1 4-3 4-1 5 2 4 0 4 0 4-2 4-3 4M339 492l2 8-11 8-3 4-7 5-23 8-9 4-6 4-16 13-3 4-1 4 0 4 0 12 0 9-4 8-5 4-28 17-16 8-6 4-10 8-2 4-3 9-4 4-3 4-3 21 0 12-5 8-7 21-2 4-6 9-2 8-3 4-1 4 0 4 0 4-3 4-3 5 1 8 1 16-3 9 1 4 0 4-5 8 1 4 0 5-5 8 1 8-4 8-4 13 0 4 2 8-2 8-1 9-3 8 0 8M371 492l0 8-10 12-13 13-34 16-4 5-11 12-4 8-10 13-8 8-19 12-30 17-7 8-6 4-13 13-2 8-7 8-1 9-6 16-2 8-7 9-4 16-6 9 0 8-6 8 0 8-6 17-1 16-7 9 5 8-6 17-2 16 0 8-1 9-3 8 1 8-5 8-5 17 1 8M280 492l2 8-4 8 2 9-3 4-14 8-11 8-14 13-2 4-5 12-10 17-2 8-20 25-4 8-8 8-6 9-3 8-1 8-11 25-2 8-4 9 2 8-7 8-2 9-5 8 0 8-3 8 0 9-3 8 1 8-2 8 0 9-5 8 0 4 2 13 0 4-1 4-6 8-1 8-2 9 3 8-3 8-1 8-5 9 1 8 0 8M452 492l-3 20-3 5-9 8-12 8-36 13-14 8-17 8-4 4-3 4-14 9-6 4-6 4-29 12-31 13-15 8-6 4-3 4-11 9 0 4 1 4-3 8-4 8 0 9-7 8 1 8-1 4-3 5-2 8-8 8-4 8-6 9-4 8-2 8-6 8 0 9-6 16 1 9-1 8 2 8-6 8 6 9-4 8 0 8-2 9 0 8-6 8 0 8-5 13-2 4-9 12M391 492l-2 4-5 8-3 8-3 5-10 8-8 8-17 8-4 5-5 8-10 12-1 9-3 4-5 4-7 4-28 12-24 9-10 4-26 16-20 21-2 4-2 13-4 8-1 8-3 8 0 5 1 4-2 4-5 8-5 13-1 4-1 12 2 8-3 4-4 5-1 4 1 4 0 4-1 4-2 4-8 13-3 12-6 13-2 12-4 12 1 5 2 4-1 4-6 12 0 8 2 9-4 16M448 492l-1 4-7 12-4 17-7 8-8 4-18 9-13 8-6 4-19 17-13 8-9 4-44 17-24 8-9 4-24 12-6 4-4 5-3 4 0 8-6 8-3 9-6 8-1 8-7 17-2 16-3 9-3 4-1 4 0 8-3 8-2 4-1 5 3 8 0 4-1 4-6 8-2 9-5 8-1 8-5 25 2 4 0 4-5 5-3 4 2 4 1 4-8 16-6 9-5 16M380 492l1 4-3 4-5 4-5 8-4 5-6 4-20 8-25 12-12 9-19 16-14 17-14 12-20 17-17 8-2 4-1 4-7 9-2 4-1 4-6 8-5 8 0 9-6 8-1 4-1 13-2 4-3 4-6 8-5 8 0 9-3 4-4 4-2 4-1 12-6 13-1 4-1 8-3 13 0 4 1 8-2 17 0 8-3 8-2 9-4 8 1 4 2 4 0 8-4 4-5 5 0 4 2 4 0 4 0 4-3 4M262 492l4 12-1 4-2 4-4 5-28 12-6 4-10 8-8 9-12 12-1 4-3 21-3 8-7 9-2 4-1 8-1 12-7 17-1 8-3 4-4 4 0 5 3 4-1 4-3 4-3 8 0 4 1 5 0 4-1 4 0 4 1 4-1 4-3 4-1 5-1 4-1 4-3 4 0 4 1 4 0 4-1 4-3 9-5 8 0 4 2 13-5 12-2 12-1 5-3 4-1 4 0 8-3 13 0 4 2 4 0 4-7 12 0 4 2 13-1 4-4 8M387 492l-2 4 3 12 0 9-3 4-17 12-9 4-12 4-9 5-5 4-23 20-11 9-4 4-6 4-20 8-23 13-8 4-20 12-5 4-5 9-8 8-5 16 0 9-1 4-5 12-2 9-4 8 0 8-3 8-7 13 0 4 1 4 1 4-6 13-9 24-4 13-2 4-1 4 2 4 1 4-6 9-3 16-3 9-3 8-1 4-2 8-1 13-1 8-3 8-3 4M352 492l-1 4-7 8 4 8-2 9-2 4-5 4-4 4-6 4-10 4-7 5-8 8-9 8-7 8-11 9-3 4-4 4-15 8-20 9-12 8-7 8-13 8-5 9-1 8-10 12-6 13 4 8-8 8-1 9-4 8-3 8-3 8-1 9 0 8-7 8-1 8 0 9-5 16-1 9 1 8-3 8-1 8-3 9-1 8 1 8-7 9 2 8-4 8-5 25 2 8-1 4M281 492l2 4-1 4-2 4 0 4 1 4-4 5-10 4-16 8-14 12-7 9-3 4-1 4 0 4-3 8-3 17-13 12-3 5-4 8-7 8-6 8-1 9-3 4-7 12-6 8-1 5 1 4 1 8-2 4-2 4-2 9-6 16-2 8-6 17 0 8-3 8-1 9-4 8-2 8-4 9 0 4 2 4-1 4-5 12 0 9 2 8-3 4-3 4 0 4 2 5-1 4-2 4-1 4-1 12-2 9-1 12-3 8M369 492l-2 12 0 17-20 12-35 17-6 4-4 4-9 12-10 9-15 12-15 8-17 9-6 4-4 4-14 12-3 4-2 5-1 4-6 8-1 4 1 4-2 4-3 5-1 4-2 8-11 29 0 4 1 4-1 4-5 9-9 12-3 8-5 9-4 8 0 4 1 8-1 4-3 9-1 4 1 4-1 4-6 13 0 12-3 12-3 17 2 8-1 4-6 13-1 4 3 12M436 492l1 4-2 8 0 8-6 9-2 8-3 4-8 4-10 4-7 5-5 4-7 8-19 12-9 9-6 4-8 4-57 21-42 16-9 4-4 4-3 5-5 8-2 8-4 8-7 9-4 8 2 8-4 25 2 8 0 5-1 4-7 8-5 12-3 13-3 8 3 8-7 17-7 8 1 8-7 9-4 8-2 8-2 9-2 8-3 8 2 8-1 9-3 8 2 8-2 4M356 492l-1 20-2 5-4 4-6 8-11 17-1 4 0 8-1 4-5 8-3 5-6 4-18 8-61 25-15 8-18 12-1 5 0 12-1 8-5 17-1 8-3 8-6 9-5 8-6 8-3 9-8 8-1 8-6 8-1 4 0 13 4 8 3 8-2 9 0 8-6 8-4 17-11 21-3 8 0 4 0 8-2 8 0 9-2 8 4 8M361 492l0 4-1 4-1 4-3 4-2 9-19 12-4 4-29 17-6 4-12 12-10 17-6 4-19 8-21 13-6 4-18 16-7 9-5 4-3 4-4 12-5 13-7 33-3 8-6 17-6 12-1 4 0 8-2 5 0 12-6 21-2 16-7 17-2 12-4 13 0 4 1 4 1 4-1 4-2 4-3 4-1 5 0 4-1 4-4 4-1 4 1 4M381 492l0 4 1 4-2 4-8 8-4 5-18 12-24 12-5 5-12 12-7 8-2 4 0 5-2 4-16 12-6 4-31 17-27 16-1 4-2 5-7 4-4 4-1 8-11 17-4 16-7 9-1 4-5 12-5 13-2 4-1 8-4 8 0 8-2 9 0 8-1 8 1 9-2 8-3 8 1 8-4 17-9 12-2 5 1 4 0 4-6 8 0 8-3 9 1 12 0 4-2 4M346 492l-1 4-2 8-1 8 0 5-3 4-16 12-16 8-12 9-4 4-7 8-9 17-4 4-21 16-31 21-9 8-6 9-4 8-1 8-4 8-2 9-8 8 0 4 0 4-5 17-2 8-4 8-3 9-4 8-6 16-3 17-4 8-1 9-3 8 0 8-4 8-2 9-5 16 1 9-4 8 0 8-4 8-1 9 1 8-2 8-3 4M298 492l2 8-4 8 3 9-1 4-12 8-14 12-2 9-8 8-6 8 6 9-9 8-2 4-3 4-14 8-11 9-7 8-16 12-3 4-2 5-1 4-1 8-16 17-4 8 0 8-1 8-8 9-2 16-6 13-5 12-5 8 1 9-2 8 1 8-2 8-5 9 4 8-3 8-5 9 4 8-4 8 1 8-3 17 1 8-3 8-2 9-4 8 1 8M262 492l4 4-1 4-2 4 3 8-5 5-15 4-10 4-10 4-6 4-11 13-2 8-7 16 1 9-2 4-4 4-8 8-2 4-2 21-2 4-4 4-1 9-5 8 0 8-6 17-3 16-3 9-5 24-6 9 0 4 1 4-1 8-4 8-1 9-6 16 4 9 0 4-4 12 2 8-4 9-3 8 0 8-3 9-1 8 1 8-3 8-2 13-5 12 0 4M330 492l2 8-4 8 3 4 0 5-20 8-15 8-20 8-12 9-14 8-4 4-9 13-8 8-5 8-7 8-9 9 0 8-7 8-8 8-2 9-4 8-6 8-4 17-9 16-2 9-6 8 0 8-9 17-3 8-1 8 1 9 2 8-4 16 1 17-4 8-2 9-6 16-5 17-2 8-1 16 3 9-9 8 2 8M412 492l2 4-1 4-4 4-1 4 4 9-2 4-5 4-15 8-21 8-21 13-20 16-8 9-6 4-9 4-21 8-36 17-8 4-7 4-4 4-8 8-9 9-3 4-4 8-1 4-1 13-3 8-2 12-6 13 0 4 2 4-1 4-4 9-7 28 0 9-4 16-1 4-9 21-2 8 0 9-3 4-5 4-1 4 1 4-1 4-2 5-5 8-2 4-1 12-3 4-3 5-1 4 1 4-1 4-4 4-1 4M310 492l-2 8 3 8 3 4-1 5-22 12-21 12-12 9-15 8-17 17-10 8-7 8-2 8-4 9-1 8-4 8-13 17-5 8-2 8-14 33-5 17-4 8 0 9-3 8-3 16-3 9 3 8-6 8 2 8-5 9-3 16 1 9-3 8 0 8-4 8 0 9-4 8 4 8-1 8-5 9-4 16M338 492l2 8-2 12-4 5-21 12-11 8-14 9-5 4-3 8-5 8-6 13-2 4-3 4-10 8-22 13-6 4-20 16-3 4-4 9-17 25-3 8-1 8-2 4-6 9-2 4-2 8-2 12-2 5-3 4-1 4 0 8 0 4-7 21 0 4 0 4 1 4-1 4-2 5-2 4 1 8 1 4-1 4-4 4-2 5 0 8-4 12-2 13-2 4-3 12-2 4 0 4 1 5-1 4-3 8-1 8M355 492l2 4 0 4 0 4-1 8-4 5-8 4-14 12-15 8-13 13-6 8-5 8-8 9-4 8-8 4-11 4-12 9-14 8-20 16-8 9-7 8-3 8-5 8-2 5 0 4-2 4-3 4-2 4 0 4-1 4-6 13-2 8-1 8-3 5-4 4-2 4 0 4-4 8-1 4 1 4-6 17 0 12-2 13-1 8-10 25 1 4 3 4 0 4-6 13-1 8-2 8-1 13-4 16M347 492l3 12-7 13-7 4-11 8-8 4-17 8-7 5-5 8-17 8-2 8-6 9-4 4-11 8-19 13-8 8-11 8-6 8-7 9-4 8-7 8-1 8 1 9-7 8-3 8-1 9-3 8-2 8-5 8-3 9 0 8-2 8-3 8-8 25-3 9 0 8-3 8-2 8 0 9 2 8-3 8-5 9-2 8 4 8-7 17 1 8-4 8-1 4M388 492l2 8-2 4-3 4-5 9-4 4-2 8-2 4-10 8-4 5-9 8-4 8-8 8-21 13-9 4-26 8-38 17-11 8-13 8-4 9-4 4-2 4 2 8-3 8-1 9-2 4-3 4-7 8-8 17-7 8-4 13-1 4-1 8-1 4-1 4 3 8 0 13 0 4-6 8-3 4-1 5 1 4-1 4-8 8-2 8-4 9 0 8-3 8 3 21-1 8-4 13 0 4-1 4-5 4-3 4 0 4M240 492l-2 4 1 4 2 4 0 4-3 13-11 8-3 4-8 13-7 8-1 4 1 4 0 4-3 9-5 12-3 8-4 4-5 5-3 4 1 4-2 4-5 4-3 4-1 4-3 9 0 4 1 4-2 4-3 4-2 4-5 13-1 8 0 8 0 4-3 9-2 12-4 13-5 12-1 4 1 4-1 4-2 4 0 5 1 4 0 4-3 8 0 8-4 17-1 17-2 4-4 8 0 4 2 4 0 4-7 13 0 4 0 8-2 21-2 4-3 4 0 4M316 492l5 20-6 5-9 4-10 8-7 8-13 9-4 8-5 8-8 8 0 9-3 4-13 12-23 17-19 16-5 9-8 8-5 8-4 17-9 8 4 8-7 9-4 8 0 8-6 17 3 8-10 8 1 8-1 9-2 8-3 8-1 9-5 16 1 17-6 16 1 9-5 16-1 8 2 9-4 8 1 8-2 4M254 492l2 12-2 8 4 9-3 4-11 4-15 8-29 25-4 17-2 8-6 8 4 9-1 4-7 16-7 13-2 8-4 8 1 8-10 17-4 17-3 8-2 16-3 9-1 8-2 8-1 8-4 9 2 8-4 8 0 9 1 8-3 16-3 9 0 8-4 8-1 4-1 5 0 8-2 8 0 8-4 9-1 4-1 4 1 8-2 4M266 492l0 4 2 4 2 8 2 4-1 5-15 8-6 4-2 4-2 4 0 4-2 5-11 12-3 4-1 4-3 4-10 9-14 16-7 9-3 4-3 4-5 4-4 4-2 8 0 4-2 5-6 8-1 4-1 4 0 8-5 21-1 13-7 16-2 8-2 5-1 4 2 4-1 4-4 8-1 13-2 4-3 4-1 4 1 4 0 4-1 4-1 5 0 8-3 12-2 21-1 12-1 5-4 8-2 8-2 4-2 4 1 9 1 8 1 4-1 4-1 4M375 492l-10 8-7 8-2 4-4 5-19 8-12 8-14 8-3 5-1 4-4 4-2 4 1 8-2 9-1 4-3 4-5 4-7 4-49 25-20 12-5 4-7 9-9 8-2 8-4 9-2 8-3 8 0 8 2 9-5 8 0 8-1 4-1 5-7 8-4 12-9 21-1 8-1 8-3 9 1 8-4 8-2 9 3 8-2 8 0 8-4 9 2 8-4 8 0 8-9 17-2 8M342 492l0 4 3 8-2 8 1 5-8 4-19 8-6 4-23 13-5 4-5 4-9 12-3 4-6 13-4 4-5 8-16 9-11 8-8 8-6 8-9 9-9 16-6 8-4 9-3 16-6 9-3 8-2 8-8 8-1 9-1 16-6 8 1 9-1 8-1 8-2 9-1 8-3 8 3 8-4 9-5 16-1 17 0 8-5 8-7 17 0 8-3 4M276 492l-1 8 1 17-18 12-3 4-15 13-3 4-5 8-5 12-2 5 0 4-1 4-13 12-13 17-2 4 1 4-2 4-11 8-6 9-4 8-2 8-5 9-4 16-2 17-3 8-2 8-6 13-1 4 1 4 0 4-3 4-2 4 2 4 0 5-5 8-1 8 2 8-1 9-3 8 1 4-1 4-4 9-3 12-1 4 0 8-1 17-4 12-3 13-3 8 1 8M303 492l0 4-1 4-3 4-3 8-4 5-9 4-30 16-6 9-8 8-6 8-3 8 3 9-7 8-11 8-2 9-5 8-11 8-6 8 0 9-9 8-2 8-5 8-2 9-3 16 2 9-7 8 1 8-11 8-4 33-5 9-2 16-3 9 0 8-2 8-6 8 2 9-4 8 2 8-5 9 4 8-3 8-1 8-4 9-3 8 1 8 0 4M380 492l-2 4 0 4 2 4 0 4-11 17-7 8-16 8-5 5-7 8-4 4-5 4-3 4 0 4-1 5-4 4-5 4-8 4-53 25-20 12-8 4-5 4-7 9-17 25-3 8 0 4-2 4-6 13 0 4 0 4-1 4-5 4-3 4-1 4-3 5-4 4-3 4 0 16-1 4-2 5-3 4-2 4 2 8-1 8-3 13-1 4 1 17-2 8-3 8 0 4 0 9 0 4-3 8 0 8-5 21-2 12M385 492l1 8 0 4-3 8-3 5-5 4-12 12-16 8-4 5-5 8-2 4-8 8-8 13-4 4-9 4-54 21-9 4-14 8-12 8-3 4-15 21-1 4-1 9-6 20-4 9 0 4 1 4 0 4-10 17-10 28-2 5-4 4-1 4 1 4 0 4-2 8 0 5-2 4-4 4-1 4 1 8 1 4 1 5-2 8-2 4-1 4 1 4 0 4-2 5-1 4 0 4 0 4-1 4-3 4-4 4-1 4 2 5-1 4-5 4-2 4-2 8M279 492l1 8 3 12-2 5-8 4-9 8-10 12-7 13-3 8-4 8-11 9-4 8-14 8-5 4-22 21-7 17-2 8-8 8 0 4 1 4-4 9 0 4-1 12-4 9 2 8 0 4-10 29 1 8-4 8-6 17 1 8-1 9-4 8-1 8-3 8-1 9-4 8 2 4 3 4-2 4-5 5 0 4 3 12-3 8-1 9-1 8-5 8-1 4M314 492l-1 4-2 8-1 8 4 9-3 4-10 4-21 12-12 9-12 12-2 4-1 4-7 9-6 8-9 8-7 9-20 16-7 8-2 4 0 5-9 16-1 4 1 4-2 5-2 4-3 8-5 8 0 4 0 13-10 16-3 9-6 12-6 17-2 8 1 12-2 9-4 8-1 4 1 4-1 8-4 9-1 4-2 12 2 9 0 4-2 4-1 8 0 4-5 13 0 16-1 4M393 492l0 4-8 8-3 8-3 5-5 4-13 12-8 4-12 4-8 5-9 8-5 8-9 8-14 9-2 4-4 4-22 8-13 9-18 8-23 16-9 9-7 8-4 8-2 8-5 9-1 8-4 8-1 9-3 8-3 8-4 8-1 9-5 8 1 8-5 8-1 9 2 8-4 8 2 9-2 8 0 8-5 17-4 8 3 8-5 9 2 8-11 16-3 9 3 8-5 8-4 4M402 492l-1 20-3 9 1 8-3 4-12 8-4 5-15 8-20 16-8 5-17 8-35 12-16 9-27 12-14 8-5 4-4 17-6 8 1 4 0 4-7 9 1 4-1 4-8 8-4 9-8 8-1 8-6 8-1 9 1 8 0 8 2 8-5 9 2 12-1 4-5 9-3 8-15 16 0 9-3 8 2 8-2 4 0 5 3 8-1 8 0 8-3 9-5 8 0 8-1 4M277 492l-6 8-1 4 1 8-3 5-40 16-6 4-5 9-10 8-3 4-2 4-3 8-5 9-4 16-3 9 0 8-8 16-5 13-1 4-1 4-1 4-5 8-2 9-3 4-1 4 2 4 0 4-5 9-1 8 0 8-3 8-2 17-4 8-5 13-1 4 3 8-2 12-6 13 0 8 1 4 0 4-3 9 1 4-1 4-2 4-2 4 2 9-4 12-2 12-3 4-1 5 1 8-2 8-2 4M271 492l2 8-2 8 2 4-1 5-8 4-5 4-2 4-2 4-17 17-3 12-2 4-16 17-12 8-7 8-13 13-3 4-3 8-7 8-4 17-8 25 1 16-1 9 0 8-7 17-1 8-6 8 0 8-2 9 1 8-6 8 3 8-4 9-1 16-3 9 0 8 1 8-5 17 1 8-7 16-1 9 1 8-4 8M408 492l0 8-1 4-5 13-15 16-20 8-9 5-6 4-24 16-20 17-21 8-14 8-29 13-8 4-6 4-10 8-3 4-9 9-2 8-6 8 3 9-6 8 1 8-5 8-2 9 0 8-3 8-5 9-1 8-7 8-1 8-5 17-5 8 1 8-7 9 1 8-9 25 1 8-2 8 0 9-6 16 2 8 0 9-6 8 2 8M301 492l1 8-1 8 3 9-2 4-5 4-3 4-1 4-3 4-12 13-4 8-4 12-4 9-3 4-12 8-16 8-12 9-9 8-18 12-5 4-14 25-7 9 1 8-6 8 2 8-4 9-1 8 1 8-3 9-2 8-3 8-1 8-3 9 2 8-5 8 1 8-5 9-1 8-3 8-1 17-6 8 2 8-7 25-3 8 2 9 2 8-6 8M413 492l0 8 2 8 0 4-1 9-13 12-19 8-9 5-20 12-4 4-10 13-10 8-33 16-35 13-8 4-21 12-4 4-3 5-4 8-1 8-11 25-1 4-1 8-2 9 0 4 0 4 0 4-8 13-2 4 0 4-1 4-3 4-1 4-1 13-7 16-1 4-1 13-2 4-4 4-2 4-1 4-1 9-2 4-4 4-2 4-1 8-3 13 0 8-3 4-4 4-3 4 0 13-1 4-4 4 0 4 3 4M371 492l-2 4 1 4-10 12-4 5-28 16-16 8-9 9-3 4 0 4 1 4-7 8 0 9-2 4-4 4-21 12-25 13-12 8-15 8-11 9-3 8-16 25 0 8-1 8-4 9-4 8-5 8 0 4 3 13-8 16 1 8-5 9-1 8-1 8-5 9 1 8-12 25-1 8-2 8-2 25 2 17-3 8 0 8-1 4M296 492l-1 4 4 8-1 8-1 5-23 12-18 8-4 4-3 5-14 8-4 8-8 8-1 9-8 8-4 8-5 9-17 24-6 17-7 8-2 8-2 9 1 8-7 8 3 9-1 8-6 8-4 8-3 9-1 8-4 8-5 8 1 9 3 8-4 8-1 4-1 5 0 8-6 8 2 8-2 9-3 8 0 8-3 9-1 8 3 8-8 8 1 9-3 8 4 8-3 4M266 492l2 4 0 4-2 8-2 4-4 5-16 8-11 4-8 4-17 17-6 8-5 8-4 17-4 8 0 4-1 4-3 5-2 4 1 4 0 4-3 4-2 4 0 4 0 4-6 9-6 16-4 17 1 8-3 8-1 5-1 4 1 4-1 4-4 4-2 4 1 4 0 5-5 8-5 16 1 9 0 8-3 8-6 21 0 4 2 4 2 4-5 9-2 4 0 4 0 8-2 13-2 4-3 4-1 4 1 8 2 4 0 4-4 9-5 16M321 492l-3 20-7 5-11 4-18 8-11 8-15 9-10 8-5 8-6 8-2 9-6 8-10 8-5 9-9 8-5 8-8 8-5 9-2 8-4 8-6 17 4 8-3 8-6 9-1 8-1 4-7 21 0 8-6 8-1 8 2 9-6 8-3 8 3 9-5 8-2 8-3 8-2 17 0 8-5 9-1 16-6 17 2 8-4 8-1 4M364 492l-1 4 1 4 2 4 1 4 0 4-3 5-7 4-5 4-8 8-13 8-11 13-3 4-6 17-2 4-3 4-5 4-8 4-11 4-14 9-34 16-5 4-2 4-4 4-5 5-3 4-2 4-7 8-4 8-7 9-2 4-2 12-3 4-4 5-3 4-2 4-3 8-4 8-1 5 1 4-2 4-6 8-2 4-1 4 0 13 1 8-2 8-2 9 2 4 2 4 0 4-2 4-3 8 1 9-1 4-3 8-2 13-4 12-3 12-6 17-3 12M352 492l1 4-8 12-3 9-7 4-19 8-5 4-8 4-12 4-9 5-5 4-9 8-9 12-10 9-13 12-17 13-9 8-11 8-7 8-4 9-4 4-2 4-3 8-4 4-2 4-1 9 2 4 0 4-7 17 0 4-1 4-4 8 0 8-1 9-4 8-2 8-3 8 1 17-2 8-4 17-3 16-2 5-1 4 1 8-1 8-7 17-1 4 0 4 1 4 0 4-7 9-1 4-2 8-1 8M338 492l-2 8 1 4 1 4 1 4-2 5-7 4-12 8-5 4-14 8-6 5-3 4-6 8-2 4-2 8-7 13-4 4-15 12-6 5-15 8-11 8-7 8-4 9-12 16-3 8 0 5-1 4-11 16-6 13-1 4 1 4-2 4-4 4-3 4 0 5-2 4-4 4-2 4-3 8-2 4-1 4-1 9-1 8 0 4-1 4-3 4-1 5 1 4 0 4-5 12-4 9-1 4 2 8 2 4 0 4-4 9-2 20 0 8-1 5-5 12 0 4 1 4M349 492l1 4-1 8 1 8-1 9-1 4-3 4-4 4-15 8-5 5-4 8-10 8 0 4 0 4-5 5-7 4-3 4-4 4-17 8-20 9-14 8-17 8-10 8-4 4-17 21-5 8-3 9-5 16-1 9 1 8-3 8-1 8-4 9-1 8 0 8-6 8-1 9-1 8-3 8-1 9 0 8-5 8-1 4-1 4 0 9-7 12-7 13 2 16-6 8 3 9 0 8-4 8-1 4M366 492l-1 8 2 8 2 4-1 5-4 4-2 4-2 8-21 13-4 4-7 8-12 8-9 9-6 4-16 8-49 21-18 12-5 4-4 8-10 13-2 4-1 4-1 4 1 9-3 8-2 8-3 8 0 5 0 4-13 16 0 4-1 5-12 12-2 4 0 8-3 9-1 16-2 8-1 5-1 4 4 8-3 25-3 8 0 4 0 4-9 17-2 8 0 8-2 9-4 8-4 8M303 492l3 8-1 4-3 4-2 4-4 5-46 24-21 17-6 8-8 9-5 8-5 8-10 8-11 17-2 4-4 8-6 21-8 17 0 4 1 12-4 8-2 9-1 16-11 25 2 8-1 4-5 21 0 8-3 9 0 8 1 8-3 9-4 8-1 8-6 25 1 8-6 8 0 5 1 4-4 8 0 4 4 4M286 492l1 8-2 17 1 4-17 8-7 4-11 8-13 9-9 8-5 8-3 4-1 5 2 4 0 4-12 12-13 21-7 12-2 4 1 5-1 4-8 8-3 8-3 4-2 5 1 4-1 4-5 8-4 17-8 16-1 17-2 8-5 21-2 4-4 8-3 17-2 8 2 8-2 17 1 8-3 8-5 9-2 16 0 8-3 9 0 4 0 4 1 8M409 492l0 12-2 4-3 4-5 5-12 8-8 8-15 8-2 5-1 4-4 8-2 4-2 4 2 4 1 5-4 4-5 4-8 4-32 12-38 13-10 4-16 8-7 4-16 13-8 8-9 12-2 5 1 8-1 8-4 8-2 5 0 4 1 8 0 4-1 4-2 4 0 5 3 4 1 4-6 20-5 13-5 8-19 29-1 4 0 4 0 5-3 4-1 4 0 8-2 4-1 4 2 5 1 4-2 8 1 21-1 8 0 4 2 4 0 4M283 492l-3 8 0 4 0 4-2 4-6 5-23 12-17 12-8 5-5 4-9 12-2 4-2 9-2 4-3 4-11 12-1 4 1 5-1 4-8 8-6 16-5 9-2 8-2 8-1 9-3 8 1 8-1 8-4 9-2 12-5 13-2 8-3 8-3 17 1 8-3 8-1 21 0 4-2 4-1 4 1 4 0 5-3 8 1 8-2 8 0 5-1 4-6 4-3 4 1 8-2 17-3 8 0 4 0 4M306 492l4 4 0 4-1 4 2 4 3 4-3 5-8 4-3 4-5 8-4 4-15 9-2 4-2 4-8 8-22 17-9 8-12 8-14 13-4 4-2 8-4 8-9 9-1 4 0 4-8 16-7 13-4 12-6 9 1 8-6 8 0 4 2 4-2 9 0 8-6 8-2 8 1 9 0 8-5 8 1 9-3 8-8 16 2 9-5 16-1 9 1 16-6 8-1 9 3 8-6 8-1 4M333 492l3 8-2 4-6 8-6 5-24 12-21 12-10 9-11 8-15 17-3 8-23 16-5 9-9 8-3 4-7 12-9 9 1 8-5 8-4 9-2 16-4 8 1 9-3 8-5 8-1 9-3 8 0 8-2 8-5 9 2 8-5 8-3 25-4 8 1 9-7 8 0 8 0 17-5 8-1 16-5 9 0 8-2 8M407 492l0 4-4 8 1 8-4 5-18 16-16 8-6 5-7 8-9 8-6 8-11 9-4 4-6 4-61 25-14 8-18 8-5 9-7 8-4 8-1 8-7 9-4 8 0 8-6 9-5 8-3 16-6 9-4 8 0 8-5 17 0 8-5 17-1 16 1 8-3 9-2 8-3 8 3 9-5 8-2 8 0 8-4 9 1 8-2 8-2 4M422 492l0 8 1 8-1 13-1 4-2 4-3 4-24 8-6 5-11 8-5 4-4 4-5 4-16 9-5 4-6 4-45 16-27 9-10 4-8 4-19 12-4 4-4 9-1 8-2 8-4 9-2 4-1 4 3 8 1 4 0 4-2 5-4 8-10 12-8 17-9 20-7 13 1 8-7 13-1 4 2 8 2 4 1 4-3 13 0 4 1 4 0 4-3 8-7 29-2 4-5 9-2 8-4 8M434 492l0 4-2 8 0 8 1 9-1 4-4 8-7 4-11 4-21 13-32 29-8 4-79 25-27 12-8 4-11 17-7 8-6 13-1 4 0 4-1 4-4 4-2 4 0 9-4 8-1 12-1 4-4 9 0 8-2 8-2 17 3 12 1 4-4 9-2 12-1 4-4 4-3 4 1 9 0 4-2 4-6 8-3 9-1 4-1 4-7 8-2 4-2 4-2 9-5 8-2 4-1 4-1 4M406 492l-1 4-2 4 1 4 2 4 0 4-1 5-1 4-11 12-20 8-7 5-16 12-16 17-11 8-31 12-47 21-16 8-6 4-4 4-2 5-4 12-11 12-5 9-3 8-3 12-1 5-2 4-5 8-1 4 0 4-1 9-9 16-1 8 2 9-1 16-2 4-2 4-1 5 0 4-5 12-2 13-2 8 1 4 2 4-1 4-3 4-4 9 2 16-2 4-3 4-2 9-5 8-1 4 0 4M271 492l3 8 9 12-1 5-18 8-6 4-5 4-4 8-12 25-6 9-20 16-7 8-13 13-7 8-3 4-4 8-5 9-2 8-5 8 0 9-5 8-1 8 1 25-7 8-1 4-1 5-2 16 0 8-4 9 0 8 0 8-6 8-2 9 0 8 6 8-8 9-1 4-2 12-2 8 1 9-5 8 0 8-4 8 2 9-4 16M250 492l2 8-2 8 0 9 1 4 0 4-33 16-21 21-2 4 5 9-1 4-5 12-3 17-7 8-7 16-7 9-1 8-5 8-2 9-1 16-2 8 0 9-3 8-2 8 1 9-4 8 0 8-5 8-1 4-1 5 1 8-5 16 0 9-3 8 1 8-2 9-4 8 2 8-4 8-3 17-3 8-1 17-4 12 0 4M454 492l0 4-6 8-4 13-6 8-7 8-9 4-13 4-10 5-5 4-5 4-12 8-14 13-13 8-9 4-21 8-52 17-31 16-5 4-3 5-3 8-7 8-1 4 0 4-5 17-2 21-2 12-3 8-2 9-1 4-2 4-5 8-1 8-1 5-14 41-2 4-7 8 0 5 2 4-1 4-9 21 1 4 2 4-1 4-2 4-2 8-4 9-1 4 1 12-2 4M371 492l1 16-1 4-2 5-10 8-2 4-1 4-5 4-7 4-5 5-3 4-2 4-1 4-2 4-3 4-2 4-1 5-3 4-6 4-15 8-18 8-33 13-17 8-7 4-6 4-13 13-6 8-4 8-7 9-2 4-3 12 0 4 2 4-2 5-4 4-2 4 0 4-2 8 1 4 2 5 0 4-3 4-2 4 0 12-1 9 0 8-2 4-9 12-1 5-1 4-1 4-3 4-3 12-4 9-5 16-2 13-3 8-1 4 2 8-2 13 0 8-1 8M355 492l-1 8 1 8-5 4-7 5-28 12-8 4-14 8-5 5-5 4-6 8 0 8-2 9 0 4 0 4-6 4-7 4-10 8-21 9-6 4-22 16-9 9-10 12-1 8 1 9-4 8 1 8-1 8-1 5-2 4-2 4-10 12-8 25-2 8-6 9 4 8 0 8-2 8-1 13-2 8-4 13 1 8-6 8-1 4-1 13-4 16-2 17 0 8-1 8M291 492l-1 8 1 4 2 4 1 4-4 5-35 16-7 4-4 4-5 5-7 4-5 4-9 12-5 4-11 9-5 4-3 4-2 4-7 8-1 5 0 4-2 4-5 8-7 21-4 25-2 4-5 4 0 4 2 4 1 4 0 13-2 4-5 4-1 4 2 4 0 4-3 5-1 4 1 4-1 4-3 12-2 4-4 5-1 4 1 4 0 16-1 5-3 4-2 4-1 8-2 17-5 12 0 4 2 4-1 5-5 12 0 4 1 4-1 4-2 4-2 5 0 12-2 8M294 492l-6 12 1 4 1 4-4 5-10 4-27 16-6 4-4 5-2 4-6 12-2 8 0 9-1 4-2 4-17 17-2 4-4 12-3 4-13 13-6 8-3 8-4 8-3 9-5 8-2 8-4 13-1 4 0 8-1 4-6 13-1 16-7 8 0 5 2 4 0 4-1 4-4 8-1 4 2 13-2 8 0 8-1 5-3 4-1 4 1 4-1 4-2 4 0 4 0 5-3 12 0 12-3 9-3 16-1 4M405 492l-3 8-6 8-2 4-2 5-6 8-8 8-39 17-6 8-10 8-12 9-21 12-8 4-22 8-13 9-22 8-7 8-5 4-3 4-12 9-1 8-5 8-4 17-7 8-2 8-2 9 2 8-5 8 2 9-4 8 0 8-6 8-1 9 2 8-3 8-2 8 0 9 0 8-4 17-7 8 1 8-1 8-6 9 2 8-11 16 0 9-1 8-4 8M395 492l-2 12-2 4-5 4-12 9-16 12-25 17-7 8-5 12-4 9-3 4-5 4-7 4-38 17-7 4-6 4-19 12-4 4-7 9-6 8-7 17-5 16-12 17-12 25-1 8-3 4-10 12-1 4 0 13-3 8-1 8 2 9-1 8-1 8-3 9 1 4 2 4-1 4-2 4 0 8-2 9 0 8-4 8 0 4 2 4-1 5-7 20M264 492l7 8 0 4-4 8-7 5-10 4-16 8-10 8-8 9-2 4-4 8-1 8-5 17-1 8-2 4-2 4-6 9-8 8-3 8-7 8-4 9 1 8-3 8-4 9-1 8-5 8 2 8-3 9-2 16 0 9-2 8-6 8-1 8 0 9-5 8-1 8-2 8 3 9-2 8-3 8 0 9-4 8 4 8-6 8-1 9-4 8 1 8-1 8-5 9-1 8 0 8M279 492l-2 8 4 8 0 4-4 5-32 12-23 12-2 9-14 8-9 8 0 9-5 8 1 8-4 8-2 9-3 8 2 8-11 8-2 9-1 8-3 8 0 9-7 16-1 8-2 9-6 8 4 8-5 9-6 16-1 8 3 9-6 16 1 8-7 9 1 8-1 8 1 9-4 8-4 25 2 8-5 8 1 8-6 9-2 8 0 8M302 492l0 4 1 8-1 4 0 4 0 5-18 12-3 4-5 4-7 4-4 5 1 4 0 4-13 21-4 4-9 8-4 4-5 4-13 9-10 8-11 12-9 8-3 5-3 8-6 8-2 4-1 4 0 5-1 4-6 12-1 4 1 4 0 5-3 8-2 8-6 13-2 4-1 8 1 12 0 4-3 5-1 4-1 8-3 8-1 13 0 4 1 4-1 4-6 4-2 4 2 5 1 4-9 29-1 4-4 4-1 4 2 4 1 4-3 17-3 8 0 4M327 492l-2 8 1 8-1 4-3 5-12 8-29 16-18 13-5 4-6 8-8 9-25 20-4 4-2 5-3 4-6 4-5 4-4 8-4 4-2 4-6 13-6 12-1 4 0 13-3 8-1 4-1 4-5 9-3 8-4 12-1 5-1 4-1 4-6 8-2 4-1 4 0 9-1 8 0 8-2 4-1 4 1 5 0 4-3 8-1 12-3 13 1 8-2 8-3 5-2 4 0 8-3 8-5 33M357 492l3 8-1 8 1 4-1 5-13 8-8 8-15 8-6 5-5 4-9 16-15 17-6 4-7 4-42 21-14 8-5 4-3 8-10 9-4 8-13 17-2 8 0 8-10 17-1 8-3 8-7 9-1 8-4 8-3 8 0 9-3 8 0 8-1 8-2 9-2 8 2 8-2 9-4 8 4 12 0 4-6 9-3 8 1 4 0 4-5 8 2 9-3 8-1 8M289 492l-1 16 1 4-1 5-26 12-10 8-3 4-12 21-9 17-2 4-6 8-13 13-11 12-3 4-2 4-11 13-2 4-1 4 1 4-2 4-7 8-2 5-1 4 0 4-1 4-1 4-1 4 2 4 0 5-6 8-5 4-2 4 2 4 0 4 0 5-1 4-6 12 0 4 1 4 0 4-3 9-5 20 0 5 1 4-1 4-2 4-2 4 0 4 0 4-2 5 0 4 1 8-1 4-4 13-2 8-2 8-2 8 0 9-3 20M255 492l0 8 0 4 2 4 1 4-5 5-12 4-8 4-7 4-4 4-4 4-10 17-6 8-4 8-2 9-5 8-4 8-7 9-3 24-4 9-4 8-1 12-1 4-4 9-2 12 0 13-5 8 0 8-4 17-5 12-1 4 1 4 0 4-3 5-2 4 1 4 1 4-3 8 1 4 0 5-3 4-2 4 3 8-3 8-3 5-2 4 2 4 0 4-4 8-2 9-1 8-1 8-1 8-3 9 0 8-3 8 0 4M392 492l-1 8-2 8-1 4-5 5-26 16-22 8-9 5-11 8-17 8-30 25-13 8-16 9-27 24-12 17 0 8-2 8 0 9-6 8-2 8-2 9-11 16-7 8-1 9-6 8-6 8-1 8 0 9-4 8-1 8-2 9 5 8-2 8 1 8-4 9 5 8 0 8-6 9-3 8-7 16-2 9-5 12-2 8M375 492l1 4 1 8-1 8-1 5-9 8-13 8-9 4-27 9-22 12-19 12-6 9-11 8-6 8-12 9-8 8-11 8-9 8-3 9-7 8-3 8-5 8-8 9-5 8-5 17-9 16 1 8-5 9 1 8 1 8-5 8 0 9 3 8-9 8 1 9-6 16-9 17 2 8-5 8 2 17-2 8 0 8-5 9 3 8-5 12M277 492l2 8 3 8 1 4-7 5-11 4-18 8-4 4-8 8-2 5-3 8 0 8 3 17 0 4-4 8-3 4-12 13-17 16-10 8-4 5-3 8-4 4-1 4 1 4-1 4-10 13-2 4-2 8 1 9-6 16-4 8-2 13-1 8 1 4 2 4 0 4-5 9-2 4-1 4 2 8-2 13-1 4-6 12-1 4 2 13 0 4-4 4-3 4-1 9-5 16 0 12-1 5-4 8-1 12M387 492l-1 8 3 4 0 4-6 4-23 13-11 8-18 8-5 5-3 4-4 8-1 17-3 4-7 8-5 4-18 8-25 9-13 8-18 8-6 4-3 4-13 9-13 16 0 9-4 8-7 8 4 8-2 17-1 8 0 9-1 8-3 8-11 17-3 8-9 16-2 17-2 8-1 9-3 16 5 8-4 9 2 8-1 8-3 8-11 17-3 8M275 492l2 8-3 8-3 4-6 5-29 12-8 4-5 4-8 9-10 12 3 17-1 8 0 8-1 8-16 17-2 8-7 8-1 9-9 8-10 29-1 4 2 8-5 9-3 8 2 8 0 4-1 5-5 8-3 16-1 17-7 16 1 9-2 16-4 9 3 8-4 8-1 17-4 16-5 8 0 9-1 8-3 8M267 492l-2 12-1 4-2 4-4 5-11 4-13 4-10 4-7 8-6 4-4 5-1 4 0 4 8 8-2 8 2 13-1 4-7 8-2 4-3 5-16 12-5 4-2 8-7 9-1 8-4 8 0 8-4 9 0 8-4 17 2 8-1 8-4 8-6 9 0 16-5 17-1 8-3 8 1 9-2 8-5 8 2 8-4 17 0 8-5 9 2 8-3 8-4 8 0 9 0 8-3 4 0 8M380 492l1 12-3 13-12 16-6 4-8 4-11 9-14 12-8 8-14 9-4 4-7 4-21 8-12 9-22 8-18 12-6 4-5 9-12 16-5 13-3 12 2 8-1 9-4 8-6 16-8 9-3 8 0 8-7 8-2 9 2 8-8 8 4 9-5 8 2 8-4 8 0 9-1 4-6 12 5 9-8 16 0 8 1 9-3 8-5 8-1 4M284 492l-3 20-3 5-8 4-21 8-10 8-12 9-14 16-7 17-4 8-7 8-4 9-6 8 1 8-6 8-1 9-6 8-2 8-5 8-3 9 0 8 0 8-2 9 0 8-7 8-1 8-5 17-3 16 2 9-3 8-4 8 1 9-4 8 2 8-2 8 0 9-4 8-2 8-5 9 3 8-3 8-1 8-2 9 1 8-2 8-2 4M271 492l4 8-5 8 1 9-1 4-6 4-7 4-17 12 0 17-11 17 1 8-8 8-12 8-7 9-15 8 0 4 1 4-8 8-8 17-3 8-1 9-5 8 2 8-3 8 0 9-3 8-6 8 0 17-1 8-9 8 3 9-4 8 0 8-3 8 1 9-6 8 4 8-4 25-4 8 3 9-5 8-5 8 3 8-3 9-2 8-3 8M426 492l1 4-4 4-5 4-2 4-1 4-3 5-11 8-13 8-22 8-7 5-23 16-24 21-7 4-16 8-23 9-9 4-7 4-24 12-6 4-3 4-2 5-2 8-7 12-4 13-3 8-1 4 1 4-1 9-2 12-1 4-4 8-2 9-5 8-2 4 0 4-4 21-4 12-2 9-3 8 0 4 2 4-2 4-8 13-1 4-1 12-2 4-3 5-1 4-1 12-8 17 0 4 1 4 0 4-3 8M356 492l1 4 4 16-6 9 0 4-5 4-8 4-19 8-5 5-9 8-11 8-5 4-4 4-3 9-5 4-6 4-10 8-29 17-13 8-6 8-7 9-2 4-6 12-3 8 1 9-7 8-1 8-4 9 1 8-10 16-8 9-1 8-4 8-5 17-5 8-1 8-4 9 1 8-2 8-1 8-4 9-2 8 3 8-6 9 0 8 1 8-2 8-1 17-1 8-2 4M381 492l2 12-3 13-19 12-4 4-6 4-11 4-8 5-2 4 1 4-8 8-7 8 0 9-5 4-16 8-44 21-19 12-15 13-4 8-7 8-3 4-16 29-3 9-5 8-2 16-4 9 2 8 0 8-4 8-2 9 1 8-5 8 0 9-4 16-1 8-5 9-2 8-5 8 0 9-7 8-2 4 0 4 4 8-3 9-3 8-2 8 0 4M394 492l-3 16-3 4-4 5-29 16-26 13-7 4-36 29-6 4-24 12-34 21-22 21-4 4-2 16-6 13-1 4 1 12-1 4-4 9-2 8-2 4-2 4 0 9-7 16 0 4-1 4-6 9-2 8-2 16-7 17-6 25-4 8-1 8-3 9-2 16-3 13-4 8-1 4 3 4 1 4M353 492l3 4 1 4 0 8-1 4-3 5-5 4-4 4-4 8-11 8-4 5-12 16-2 4-1 4-3 5-11 8-7 4-33 17-19 8-8 4-16 12-9 9-4 4-3 4-3 8-3 4-4 4-2 5-2 8-4 8-1 8-4 9-4 12 0 4-1 13-2 8-3 8-5 8-1 5 4 8 0 4 0 4-3 4-1 4 0 13-2 4-3 4-1 4 1 4 0 5-4 4-2 4-5 16 0 5-2 4-2 4-2 4 0 4-1 4-3 4-2 4 1 5-1 4-2 4 0 4 1 4 0 4M351 492l2 4 0 8-4 8 5 9-21 12-16 8-6 5-15 8-6 8-11 8-12 13-5 4-16 8-13 9-8 8-12 8-14 17-5 8-4 8 0 8-3 9-6 25-3 8-5 8-3 8-4 9-1 8-7 16-6 9 3 8-4 8 2 9-7 8-3 8-2 8 1 9-4 16 2 9-6 16 1 8-2 9 1 8-5 8 0 4M350 492l-1 4 2 12-1 4-5 5-57 24-14 9-5 4-13 12-3 4-2 5-3 12-3 4-7 8-16 13-2 4-4 4-12 8-4 9-8 8-2 4-10 21-4 4-3 4 1 4-1 4-7 9-2 4-1 4 3 8 0 4-1 4-5 9-1 8-3 8 1 8-3 17-5 8 0 9-5 8 0 8-1 8-2 9-5 8-1 8 1 9-2 8-1 8-1 8 0 9-4 8-2 12M335 492l1 8-1 8-1 4-5 5-21 12-6 4-14 13-4 4-5 8-9 21-3 4-4 4-5 4-14 8-10 9-12 8-7 8-16 8 1 5 1 4-10 8-9 17-6 8-3 8-1 8-1 9-6 8-3 8 1 9-9 8 0 8-4 17 5 8-1 8-3 8-4 9-2 16 0 9-3 8-1 8 1 8-5 9-4 16-3 8 0 9-4 8-3 8M311 492l0 4-2 8 2 8-1 5-11 8-11 12-1 9-11 16-2 8-11 13-5 4-14 8-24 13-7 4-12 8-7 8-6 9-6 8-3 8-1 8-6 9 3 8-2 8-2 9-4 8 0 8-3 8-6 9 2 8-6 8-1 8-5 9-4 8 1 8-4 9 2 8-3 8-3 8 1 9-3 8 2 8-1 9-5 8 1 25-2 8-4 8 0 4M413 492l0 8-4 8 4 9-4 4-6 4-16 8-25 8-21 9-11 8-9 8-17 13-19 12-15 8-18 9-7 4-19 12-6 4-3 4-2 9-5 8-4 8-2 9 0 16-4 8 0 9-7 8 0 8-12 17-1 8-6 8-3 9-5 8-1 8 0 8-8 9-2 16 1 9-3 8-1 8 0 25-3 8 1 8-6 25M367 492l-9 12-4 8-6 5-11 4-13 8-7 4-19 8-11 9-13 12-11 8-7 13-3 4-21 17-15 8-2 4-1 4-9 8-7 9-3 8-5 8-2 17-5 8 1 4 2 4-2 4-4 5-9 24-4 9-4 16-3 8-9 17 0 8 1 9-3 8-6 8 0 8-3 9-4 25-3 8-2 16-3 9 3 8-2 4-2 4 0 4M294 492l-2 8 1 8-1 4 0 5 2 4-7 4-10 4-13 8-6 4-3 5 0 4 3 8-2 8 1 9-1 4-2 8-4 4-24 17-16 8-7 8-5 4-8 9-13 16-2 4-3 9-3 4-2 4 1 8 0 8 1 9-7 20-6 13-1 8-5 8 1 9-5 12-3 12-5 9 2 8-2 17 1 8-3 4-1 4 4 8-2 13-1 4-6 8-3 8 1 9-8 16M434 492l4 4 0 4-1 4-1 4 0 4-2 5-4 4-8 8-7 4-26 8-33 21-6 4-10 9-12 8-37 16-21 9-28 12-7 4-4 4-3 4-1 5-3 4-4 4-3 4-1 4 0 13-1 8 0 4-1 4-4 4-1 4 1 5-2 4-3 4-1 4 2 4 0 4-3 4-1 5-4 20-6 21-2 4-6 8-2 4-6 21-6 13-1 4-4 8-4 12-2 5-4 12-3 8-1 8 1 5-1 4-5 8-2 8M316 492l2 4 1 4-1 4-2 4 1 9-17 12-12 12-7 9-3 4-5 8-8 13-12 12-2 4-6 4-16 9-13 8-21 20-8 9-2 4-3 8-9 17-5 8-3 12-3 9-2 4 1 4-1 4-8 21-2 8-4 12-1 17-1 4-1 4 1 4-1 5-1 4 0 4 1 4 0 4-2 4-1 4 0 5 0 4-5 20-1 9-1 4-3 4-1 4 1 4-1 4-2 9-2 12-4 8M420 492l2 8 1 4-3 4-3 4-13 13-2 4-3 4-25 8-10 5-8 4-9 8-7 8-13 9-8 8-8 4-30 12-24 9-13 8-15 8-6 4-4 4-2 5-8 12-3 8-2 9-17 24 3 9-5 16-6 9 3 8-1 8-6 8-2 9 2 8-4 8 0 8 1 9-5 8 3 8-7 9-3 8 2 8-9 17 2 8 0 8-9 8 2 9-4 8-2 8M255 492l2 12 1 4-2 4-5 5-9 4-13 8-12 17-3 4 0 8-2 4-1 4 3 4 1 5-7 8 1 4 0 4-8 8-1 9-6 8-1 8-16 17-5 8-2 8-5 13-1 4 0 8-5 8-5 25-6 17 1 8-4 8 2 9-5 8 0 21-3 12-3 8 0 9-1 8-3 8 1 8-4 9-1 8-2 8-1 8-6 21 0 4M311 492l-1 4-3 4-1 4 2 8 0 5-5 4-17 8-21 12-5 5-14 12-4 4-2 8-2 5-3 4-5 4-3 4-1 4-2 4-12 13-8 12-8 8-4 13-2 4-7 8-2 4-1 4 1 13-1 4-9 21-3 12-4 8-4 13-2 4-7 8-4 13-1 4 1 4 1 4-4 12-3 13-4 12 0 4 2 5 0 4-4 8-6 17 0 12-1 4-2 4-1 4 2 9-2 8-2 12M287 492l0 16 0 4-4 5-35 12-9 4-8 8-5 9-5 4-3 4-4 8-4 4-2 5 1 8 1 4-1 4-7 4-4 4 1 5-1 4-5 8-2 8-6 8-7 13-2 4-3 8-4 9-2 8-2 12-1 4-3 5-1 4 1 4-1 4-8 17-5 16 0 4-1 4-2 4-1 5 0 8 2 4 0 4-5 8-1 9 0 16-3 9-2 12-3 8-1 4 1 5-1 4-3 4-2 4-1 29-1 4-3 8M302 492l-2 4 0 12-2 4-3 5-8 4-7 4-10 8-19 13-4 4-8 12-7 8-9 13-12 12-29 33-2 4-6 21-5 8-2 5-3 12-3 8-1 17-2 4-4 4-2 4 0 13-5 16 0 4 1 4-1 5-3 4-2 4 0 4 1 4 1 4 0 4-3 5-3 8 0 4 1 12-1 5-3 8-2 12 0 9-1 4-4 8-4 12 0 4 2 5-1 4-3 8-1 8M299 492l0 4-7 16-4 5-32 12-23 17-10 12-7 12-3 17-2 8-7 9-16 24 0 9-18 24-4 9-1 8-6 17 0 8-6 8 1 8-4 9-2 24-2 9-1 8-3 8 0 9-3 8 1 8-4 8 1 9-2 8-3 8-3 9 1 8-5 8 0 8 1 9-5 8-1 8-1 4M384 492l-2 4-3 4 4 17 0 4-1 4-12 8-14 8-5 5-15 20-10 9-8 8-9 4-59 25-15 8-12 8-12 13-3 8-11 8 2 4 3 5-3 4-5 4-7 16 0 9-6 8-1 8-9 25 1 8-2 9-3 16 1 8-4 17-5 8 1 9-4 8 2 8-5 8-4 9-8 8-1 16-7 17 0 8M320 492l-2 12 0 17-5 4-14 8-18 8-20 13-5 4-7 12-7 9-5 8-2 4-2 4-3 4-7 5-4 4-3 4-4 4-6 4-12 12-4 5-4 4-2 4-3 8-6 13-3 12-6 17 0 4 2 4-1 4-3 4-2 4 0 4-5 13-1 4-2 4-3 4-1 4 0 9-4 16-4 13 0 4 1 4 0 4-1 4-1 4 1 4-1 5-3 4-2 4 1 4 0 4-3 4-1 4 0 9-4 20-3 9 0 4 1 4-1 4-4 4-1 4M278 492l-1 8 0 12-2 5 0 4 2 4-27 12-7 4-10 9-3 4 1 8-2 8 0 13 0 4-3 8 0 4-3 5-13 8-15 16-5 9-3 8-14 16-9 21-5 17 0 4 0 4 0 4-5 8-2 9-2 20 1 13-4 16 1 4 0 5-5 8-4 4-1 4 1 4 0 4-3 5-2 4 2 4 0 4-3 4-1 4 0 4 0 5-3 4-1 4 1 4 0 4-6 12-1 5 2 4 0 4-3 4-1 4 2 4M358 492l-1 4 0 4 2 4-7 8-7 5-11 4-16 8-6 4-14 8-5 5-4 4-3 4-1 4-2 17-2 8-2 4-5 4-7 4-10 9-7 4-9 4-18 12-8 4-4 4-1 5-5 4-6 4-4 4-1 4-2 4-6 9-3 4-4 12-10 21 0 4 2 4-1 4-8 13 0 4 1 4 1 4 0 8 1 13-2 4-3 4-2 4-1 8-3 9-7 12-1 4 1 4-4 13 0 4-1 4-5 8-4 13-1 4 1 4 0 4-2 4 0 4 1 5 0 4-3 12 1 4M277 492l-3 12 0 4 3 4-4 5-13 4-8 4-8 8-11 8-12 13-5 8-2 8-3 5-5 4-6 8-7 12-6 9-3 8-3 4-3 8-2 4-4 5-2 4 1 4-1 4-4 4-2 4 0 9-4 16 0 4 2 9-1 4-8 12-1 4-2 13-3 8-1 4 1 4-1 8-1 5-3 4-1 4 0 4 2 8 0 4-2 13-1 4-3 4-1 4 0 4-3 13 0 4 0 4-5 13 0 12-2 4-4 8 0 4 2 5 1 4 0 4-1 4-2 8M336 492l0 8 3 8-4 13-3 4-5 4-3 4-17 13-3 4 0 8-3 17-14 12-19 12-24 9-9 4-7 4-13 8-18 17-3 8-6 8-1 9-7 16-2 8 0 9-3 8-1 8 0 9-5 8 0 8-9 8 1 9-4 8-2 8-8 25 1 17-4 8 0 8-2 8-2 9 4 8-7 8 3 8-5 9-6 16M339 492l0 8-1 12 0 5 1 4-1 4-19 12-16 9-5 4-4 8-11 17-4 12-4 4-26 17-24 16-5 4-7 9-4 4-5 8-3 8 0 4-1 5-5 4-2 4 2 4 1 4-7 8-8 9-8 16-11 17-2 8 0 8 1 4-1 5-5 8-2 8 0 8-6 13-1 4 2 12 0 5-2 8 2 12-1 4-4 9 0 8-3 8-1 4-1 4 2 9 0 8-4 8M330 492l0 4 2 8 1 8 1 5-11 12-2 4-4 4-7 4-5 5-3 4-4 4-14 8-8 8-11 9-14 8-17 8-18 17-6 4-4 4-2 8-4 9-5 4-4 4 0 8-4 8-5 9 0 4-1 4-7 8-5 9-4 4-2 4 2 8-3 8-2 5-2 4 1 4 1 4-4 8-2 4 0 4 0 9-1 8-4 17-5 8 0 8-1 4-1 4-3 5-1 4 1 4 0 4-4 8 0 17-2 8-1 21-1 4-4 8 0 4M262 492l0 8-1 4-4 8-4 5-28 12-6 4-5 4-3 9-4 8 2 8 0 8-5 9-2 8-1 8-5 9-3 8-8 8-4 8-2 9-9 8-3 8-1 8-1 9-4 8-1 8 3 9-5 8-2 8-4 8-2 9 1 8-2 8-4 17-7 16 2 9-3 8 5 8-2 8-7 9-2 8 0 4 1 4 2 9-5 8-2 8-5 8-1 9 3 8-5 12M370 492l-5 8 0 4-3 4-4 4-18 13-36 16-7 5-10 8-3 4-2 4-2 4-1 9-1 4-2 4-3 4-4 4-17 13-26 16-12 8-4 4-4 9-7 8-4 8-3 9-8 8-14 25 1 8-6 8 1 9-4 8-1 16 0 9-5 8 2 8 0 8-6 17 0 8-4 9-1 8-7 8-1 4-1 4 0 9-2 16-5 17 1 8-1 8M323 492l1 8 2 8 0 4-3 5-11 8-8 4-7 4-2 4-3 4-13 9-4 8-7 8-13 9 2 4 0 4-14 8-15 8-17 13-26 25-4 4-5 8-4 17-5 8-1 4-1 4 1 8-4 9-3 8-4 8 3 9-6 16-4 8 1 9-3 8 3 8-5 8 3 9-1 8-3 8-2 9-3 8-1 8-1 8-2 9-1 8-2 8-4 8-5 17-1 8M317 492l-3 8 1 8 0 9-3 4-10 8-4 4-18 13-15 12-16 21-8 8-6 4-16 8-9 9-17 16-5 4-4 4-5 13-7 12-3 9 0 8-4 16-4 9-3 8-1 17-1 8-1 8-4 8-1 9-2 16 1 8-1 5-2 4-4 4-2 4 2 4 1 4-4 9 0 12-1 4-2 4-2 4 1 5-1 4-4 4-2 4 1 8-3 8-1 9-4 16M435 492l4 12 0 4-4 9 1 8-9 8-7 4-26 9-11 4-11 8-7 8-26 17-10 4-58 21-10 4-24 12-7 4-4 4-2 9-4 4-2 4 1 4 0 4-6 9-1 16 1 4 0 4-5 9 0 16-6 9-11 33-7 12-1 4 1 4-1 4-5 5-4 4 0 8-10 12-2 5 3 8-2 16-3 9-3 16-4 17 2 8 0 8M320 492l2 12-1 8-3 5-21 12-18 12-4 5-6 8-11 12-7 13-4 4-39 29-17 16-3 4-5 13-8 12-5 13-6 12 1 4 2 4-1 5-3 4-2 4 1 4-1 4-4 8-4 13-1 4 1 4-1 4-2 4-3 9 0 8-2 12 0 9-3 16-4 17-1 12-3 13 1 4-2 4-4 4-1 4 1 4 1 4-2 9 0 4-1 4-2 4-5 8M261 492l-1 4 1 4 2 4 1 4-1 4-2 5-8 4-12 8-3 4-1 4-6 9-1 4 1 4-3 4-5 4-3 4-5 13-4 4-11 8-4 4-7 9-12 16-1 4 1 4-2 4-3 5-2 4 0 4-2 16-1 9-2 4-3 4-1 4 1 4 1 4-1 9-2 4-4 8-2 4-2 9-5 12 0 4 2 4 0 4-3 4-1 5 0 8-4 12-2 17-3 16-3 13-1 4 0 4 2 4-2 4-5 5-2 4 0 4-2 8 1 4 3 4-1 4-2 5-4 8 0 4 2 4 0 4M389 492l1 4-1 8-1 8-5 9 0 4-2 4-5 4-16 8-5 5-12 16-4 8-7 9-5 4-8 4-42 17-19 8-37 20-5 5-6 8-20 33-3 8-3 13-1 8-1 4-5 8-4 21 0 4 2 8-5 21-1 17-3 12-2 17-1 4-2 4-3 4-3 4-1 9-3 8-9 20-3 13-4 8-1 4M264 492l-1 8 0 8 0 4-6 5-14 4-11 4-6 4-4 8-1 4 1 5-2 4-3 4-5 8-1 4 0 4-3 5-11 12-12 12-2 5 1 4 2 4-1 4-3 4-2 4-1 4-1 4-5 9-8 20-1 13-3 12-3 17-2 8-4 8-2 9 0 12-6 21-2 8 0 8 1 9 0 4-5 8-3 8-3 25 0 4-1 4-2 5-1 4 2 4-1 4-3 4-2 4-3 13-1 8 2 8-1 4M328 492l-1 4 3 4 1 4-4 13-1 8-14 8-16 8-13 9-5 4-5 8-2 8-7 13-3 4-13 8-3 4-5 5-14 8-15 16-5 9-8 8-6 8-3 8 0 5-1 4-10 8-2 8-1 9-10 20-5 13-4 4-3 4 3 4 1 4-4 4-2 4 0 9 1 8-3 8-1 9 1 8-3 8 0 8-2 9 1 8 1 4 0 4-4 4-2 5 1 4 0 4-4 8-2 8-3 9-2 12-1 4-3 4M356 492l2 8 1 8-1 4-5 5-8 4-20 12-10 4-8 4-4 5-25 16-8 8-6 9-6 4-34 21-11 8-17 16-6 9-10 24-1 9-4 8-1 8-2 9 2 8-4 16-7 9-1 4-1 4-2 16-1 5-1 4-5 8-3 8 0 9-4 12-2 12-1 9-3 8-5 8 0 4 1 5-1 4-1 4-2 8-4 8-1 4-1 21-1 4M285 492l-3 8 2 4 2 4-1 4-2 5 0 4-3 4-6 4-4 4-15 8-16 17-5 8-13 17-6 8-11 8-10 17-10 12-9 13-2 8-4 17-6 8 1 4 1 4-3 8 0 9-5 8 2 8-1 4-1 5-6 8 0 8-4 8 0 9-5 8-2 8 2 8-1 17-5 8 0 4 2 5-2 8-5 8 0 8 1 9-10 24 1 17-3 8M271 492l2 4 1 4-1 4 2 8-2 5-22 12-19 12-10 9-7 4-5 4 0 4-1 4-7 4-5 5-6 12-8 29-2 16-6 13-4 12-6 9-2 4-1 4 0 4-1 4-3 4-3 4 2 13-1 4-3 8-5 17 1 8 2 4-1 4-6 9-1 4 0 4 0 12 0 4-5 9-1 20-2 5-4 8 0 8-1 8-2 9-1 12-2 12-2 13-2 12M275 492l1 12 0 13-1 4-1 4-6 4-14 12-4 5-4 8-6 8-3 8-4 9-2 4-3 4-15 17-16 12-5 4-2 4-6 8-2 5 0 4-2 4-7 8-2 4-1 4 0 5-1 4-3 4-2 4 0 8-1 4-3 5-4 4-2 4 2 4 1 4-5 13 0 12-7 16 0 9 1 4-1 4-2 4-2 4 1 9-1 8-6 16 0 13-3 12-1 17-2 8-4 8-3 17-3 4 0 4 2 4M366 492l-1 12 1 17-1 4-7 8-12 8-8 9-24 25-9 8-7 4-21 8-27 13-9 4-14 8-10 8-8 9-16 20-5 9-2 4-1 8-1 4-2 4-5 9-1 4 0 4 1 4 1 4-6 8 0 9-6 16 1 8-4 9 3 8-2 8-4 9 0 8-3 8-1 8-6 9 0 8-3 8-7 17-1 8-3 12-1 13-3 12M318 492l0 4 3 4-1 4-3 13-3 4-3 4-29 25-8 8-10 17-2 8-5 4-7 4-10 8-14 9-6 4-23 25-4 4-4 8-4 8-6 13-3 12-3 8-6 9-1 4-1 12-5 9-1 4 0 4-9 16 0 9-3 16-1 8-4 9 0 4 2 4-1 4-4 13-1 4 0 12 2 8-2 5-2 4-3 24-5 9-1 4 1 4-2 4-2 4M301 492l0 8 1 8 0 4-4 5-6 4-5 4-3 4-2 4-12 8-4 5-15 16-8 13-4 4-35 29-4 8-8 8-9 17-2 8-1 8-5 9-5 8 0 8-4 8-1 9-3 8-4 8-5 9-1 8 2 8-7 17-1 8-2 8 2 8-7 9 0 8 1 8-4 9 1 8-4 8 1 8-3 9-6 8 1 8-2 8 1 9-2 8-1 8M304 492l-2 8 2 8-3 4-20 13-29 16-13 9-5 8-5 8-6 9-10 8 0 8-10 8-7 9-8 8-5 8-5 8-3 17-3 8-1 9-6 8 2 8-2 8 1 9-4 8-6 8-1 9-1 8-3 8 2 8-4 9-1 8 1 8-4 8-2 9-2 8-3 8 0 17-5 16-6 9 4 8-3 8 1 8-6 9-2 8 2 8M336 492l-1 4 0 4 3 12-1 5-1 4-18 12-19 8-15 9-5 4-9 8-11 8-4 5-2 4-3 4-32 29-3 4-1 4-3 4-7 4-5 4-3 5-2 4-1 4-7 12-2 9-6 12-6 8-4 9-1 8-4 12-1 4-2 9-1 8-1 4-2 4-1 4 2 4 0 5-2 4-5 12-1 4 0 4 1 5 0 4-10 29-1 12-3 13-2 4-3 4-1 4 3 4 0 4 0 4-2 4-3 5 0 4 1 4-1 4-2 4-1 4M297 492l5 12-2 8-5 5-9 4-6 4-6 4-2 4-4 4-7 4-5 5-6 8-2 4-3 8-3 13-3 4-10 12-9 9-10 12-4 4-12 8-10 21-2 4 1 4-1 4-9 9-4 12-1 4-1 9-6 16-5 8-2 9-4 8 0 8-4 17 1 8-6 12-1 5 2 8-6 12-1 4 3 5 0 4-6 8-4 33-2 8-2 25-1 4M283 492l0 8-1 4-2 4-1 4-3 5-9 4-15 8-10 8-4 4-3 5-5 12-1 4-1 8-2 5 0 4 1 4-1 4-9 8-5 13-3 4-4 4-4 4-1 4-2 4-8 9-5 8-6 8-5 17-10 20 0 5 1 4 0 4-6 8-4 8-6 21-4 8-1 4 3 13-1 4-6 12-1 5 0 12-1 4-3 8 0 5 0 4 2 4 0 4-3 4-2 4-2 21-1 4-3 8 0 9 0 12-1 4-1 4M322 492l3 8 1 8-3 9-3 8-8 8-13 8-4 5-6 8-4 8-5 8-4 5-9 8-6 4-14 8-25 17-12 8-9 8-7 9-6 8-4 8-7 13-1 4-1 4 1 4-2 4-3 4 0 4 2 5-1 4-3 4-2 4 1 4-1 8-8 13-1 4 0 4 1 4-2 4-7 13-1 4 1 4 1 4-1 4-4 9-1 8-4 8-1 4 1 4 0 5-1 4-4 8-2 4-1 21 1 4 1 4-1 4-3 4-2 4 1 5 0 4-2 4 0 4 1 4-1 4M346 492l-5 8 3 12-1 5-13 8-9 8-22 8-15 9-8 8-23 17-6 8-10 8-15 17-8 8-4 8-10 8-5 9-4 8-6 8 0 9-11 16-3 8-5 9-2 8-3 8-2 9-4 12-1 4 1 8-4 9 3 8-1 4-5 12 1 9-6 8 1 8 0 4-6 17-3 12-5 9 1 8-4 8 3 8 0 5 0 4-2 8-1 8M306 492l2 4-3 8 1 4 3 4-2 5-7 4-5 4-9 8-11 8-3 5-10 8-11 16-9 9-6 8-10 8-24 17-4 4-4 4-6 8-8 9-1 4 0 4-3 4-5 4-1 4-1 4-4 9 0 4 1 4-2 4-3 4-1 17-6 16-2 9 1 8 0 8-6 8-1 5 1 16-1 4-3 9 1 8-1 4-3 12-4 9 0 8-4 8 0 9-3 8 0 8-4 8-3 9 0 8-3 8 0 4M358 492l-2 4 0 4 1 12-1 5-3 4-12 12-16 8-5 5-4 4-2 4-7 8-8 13-8 8-19 12-7 4-25 13-15 8-5 4-5 4-7 9-5 8-6 8-1 4 0 4-4 5-6 4-1 4 1 4 0 4-2 4-3 13-1 4-7 8 0 4 2 4-1 5-3 4-6 8-2 4 0 4-4 8 0 5 1 4-1 4-2 4-1 4 1 4 0 4 0 5-3 12-2 12-6 25-5 9 0 4 0 4 0 8-5 8-1 9-3 8-2 12M403 492l0 4 2 4 0 4-2 4 0 4-2 5-8 8-5 4-6 4-20 8-14 9-5 4-13 12-18 13-3 4-7 4-21 8-9 4-23 13-17 8-14 8-4 4-2 5 0 4-2 4-4 4-4 4 0 4-2 4-4 5-2 4 2 4 1 4-6 8-5 17-4 4-2 4 2 4 0 4-7 13-1 4 1 4 0 4-2 4-1 4 1 9-4 8-3 21-1 8-1 4-5 8-1 9-1 8-5 12-1 5 1 4-1 4-5 8-3 8-1 9-4 8-1 8 0 4M322 492l-1 8 0 8-1 13-9 8-3 4-13 8-11 9-5 8-6 8-6 13-3 4-5 4-20 12-10 9-29 20-5 4-2 5-6 12-6 8-2 9-4 8 0 8-8 17-8 25-2 16-5 8 1 9 0 4-9 29 3 8-3 4-3 4-4 9 5 8 0 8-6 8 0 5 1 4-3 8-1 8-3 8-1 9-5 8 1 8M256 492l1 4 3 4 0 4-2 13 0 4-1 4-9 8-6 8-4 5-40 29-3 4-4 8-1 4-6 8 0 5 1 12-1 8-5 13-3 8-2 4-8 12-4 9-1 4 1 8-1 4-1 4-2 9-4 12-1 13-2 4-3 4-1 4 0 4 1 8 0 4-1 5-4 8-1 4-1 21-1 4-2 8-6 13 0 4 1 4 1 8-2 4-2 4 0 5 0 4-4 16 0 8-2 5-3 4-1 4 0 12M332 492l0 4 2 8-1 8 1 9-3 4-9 4-6 4-9 4-35 17-7 8-14 8-5 9-7 8-5 8-12 9-8 8-10 8-8 8 4 9-10 8 0 8-5 8-3 17-7 8 0 9-4 8-6 8-5 8 0 9-6 8-4 8 1 8-4 9 2 8-3 8-2 9-1 8 2 8-2 8-6 9 0 8 3 8-1 17-8 8 4 8-2 9-6 8-5 8 0 4M331 492l2 8-3 12-4 5-24 12-33 21-3 4-3 4-7 8-4 9-6 8-10 8-7 8-14 13-7 8-7 8-2 4-6 9-3 4-8 21-2 8-4 8 0 8-2 9-4 8-7 8-1 4 1 5-5 8-3 8-6 8 1 4 2 5-6 16-2 8 3 9-1 4-3 12-3 9-1 8-5 8-1 8-2 9-1 16-2 8-1 5 0 20M282 492l2 8 0 4-2 4 0 4 1 5-4 4-16 8-10 8-8 13-4 8 0 4 1 4 0 4-3 5-1 4 1 4-1 4-24 21-15 16-10 8-3 5-5 8-4 4-2 4-3 13-7 12 0 8-3 9-4 20-1 4-5 9-4 4-2 4 1 8-3 17-1 12-3 13 0 12-1 4-1 4-1 4 3 9 0 4-2 4-3 4-2 4 1 9-1 8-5 16 1 4-1 5-4 4-3 4 1 4 0 4-1 4M259 492l-1 4-1 4 4 8 0 4-4 5-24 12-6 4-6 8-9 9-8 16-5 9-6 8-3 8-6 8-1 9-2 8-1 8-7 8-1 17-4 8-4 13-5 12 4 8-5 9-4 8-2 8 1 9-1 4-1 4-5 8 0 8-4 9 2 8-2 8 0 17-2 8-5 8-1 9 1 8-1 8-3 8-1 13-1 4-4 8 0 8-2 9-3 8 0 8M280 492l-1 4 2 8-2 8-3 5-7 4-12 8-1 8-10 17 1 8 0 8-8 9-1 4-3 4-4 4-4 4-16 9-16 16-12 8-4 9-2 8-9 12-4 9-2 4 3 8-1 8-5 9 0 8 1 8-5 8 0 9-2 8-2 8-6 8-1 9-4 8 5 8-4 9 0 8-5 8 4 8-8 9 0 8-5 17 3 8-5 8-3 8 3 17-5 8 1 4M435 492l0 8 0 8 0 4 3 9 0 4-2 4-4 4-23 8-10 5-13 8-17 8-23 13-19 8-22 8-48 21-23 16-3 4-2 5-1 4 1 4-2 4-3 4-1 4 0 4 0 9-3 4-4 4-10 17-16 20-7 13-1 4-1 8 0 8 6 21 3 8 1 4-3 9-2 4-5 8-4 8-3 5-11 12-2 4-2 13-7 16-1 8-3 9 2 4 3 4 2 4 0 8M274 492l-1 4 3 8 1 8 0 5-3 4-20 8-4 8-5 4-4 5-3 4-1 4 0 16-7 9 0 4-1 4-6 12-4 5-10 8-4 4-3 4-12 17-13 24 3 9-5 8-7 8-1 9-6 8 0 8-5 8-1 9-3 8-4 8-2 8-2 9-1 16-1 9-1 8-5 8 1 8-5 17 2 17-3 8 2 8-4 8-3 9-2 8 0 12M260 492l-1 4 2 8-1 4-3 4 1 5-2 4-11 8 0 4 1 4-5 9-3 8-8 8-6 8-4 5-14 12-22 17-3 4-2 4 0 4 0 4-3 4-4 4-1 4-2 5 3 8-1 4-4 12 1 9-3 8 1 8-4 9-1 8-1 4-7 12-3 9-2 8-2 8-1 17 1 8-3 8-1 4-1 13-4 8 1 8-4 17-4 8-1 4-1 13-3 16-5 17 0 8-1 4M260 492l0 4-2 4-2 12-5 5-12 4-8 4-7 4-9 12-3 9-4 16 0 13-1 4-4 8 0 4 0 4-2 5-5 4-3 4-4 8-8 12-4 9-2 8-2 4-3 4-4 9-2 8 0 4 1 4-2 4-3 4-1 5 1 4-1 4-2 4-2 8-4 9-1 4-1 12-3 8-1 4 1 5 0 4-4 12 1 8-1 5-5 12 0 4 1 4-1 4-2 5 0 4 0 4-2 4-2 4-4 8-2 17 1 4 1 4 0 4-2 4-3 9 0 8-2 8M331 492l-3 8-3 12-2 5-10 8-21 16-4 5-9 16-3 8-2 5-5 4-8 8-10 8-6 4-17 9-16 12-20 21-13 25-4 4-3 4-2 12-1 4 1 5 0 4-9 16-1 9-3 8-2 8-1 4-1 4 1 9-3 12-1 12-4 13 0 12-3 9 0 4-2 4-2 4-1 4 0 8-2 9 0 8-6 16-7 13 0 4 2 4 1 4M375 492l2 4 2 4-1 4 1 4 1 4 0 5-8 12-4 4-20 8-20 13-5 4-4 4-6 4-8 4-21 13-16 8-20 13-19 8-7 4-7 8-16 21-1 4-1 12-5 13-3 12-7 17-3 12-2 4-4 5-4 4-4 4-4 12-1 8-3 5-4 4-1 4 2 4 0 4-2 4 0 4 0 5 3 8-1 4-2 4-1 4 1 13 0 4-1 4-3 8-1 4 2 5 0 4-9 16-4 13-6 12-3 8M460 492l-3 4-17 12-4 4-10 13-10 8-25 13-5 4-5 8-1 4-2 4-13 9-3 4-6 4-42 16-31 9-13 4-10 4-22 12-5 4-3 5-3 4-1 4-3 12-4 13-1 4 1 4 0 4-7 17-2 12-1 4-10 9-5 8-2 16-4 9 0 4-1 4 3 8 0 13-2 4-6 8-2 4-1 4 1 4 0 5-11 16 0 8-7 9-1 8-3 8-2 8 3 9-1 8 0 4-1 4M368 492l-1 8 1 4-3 4-5 4-6 5-10 4-8 4-10 8-21 8-14 17-13 21-3 4-19 12-8 9-7 4-10 4-6 4-1 4-3 4-6 4-4 4-9 13-3 4-1 8-2 4-1 5-1 8-6 12-1 4-1 5-1 4-4 8-1 8-4 9-4 4-3 4-3 8-4 8-2 13-1 4-4 4-1 4 0 4-1 4-3 9-1 8-4 12-1 5 1 12-1 4-3 4-2 4 0 9-3 12-1 4 1 4 0 4-4 9-1 4-1 12M268 492l-2 4-1 4 2 4 1 4-2 9-9 4-7 4-5 4-13 12-3 5-2 4 0 8 1 4 0 4-6 21-3 4-5 4-3 4-1 5-3 4-14 12-4 4-6 13-2 4-8 8-4 8-2 9-4 8-5 16 1 9-3 12 0 13-3 8-3 4-2 4 0 4 0 4-4 9 1 8 1 4 0 4-3 4-1 4 1 9 0 4-2 4-4 4-2 4 2 13 0 4-5 8-2 13-3 12-1 12 0 4-3 5-1 4 2 8-1 8M309 492l1 4-2 8 0 8-3 5-22 12-18 8-6 4-15 13-9 8-9 8-2 9-11 8-5 8-14 17-2 8-2 4-3 4-7 9-6 24-5 9 0 8-2 8 0 9-3 8-6 8-3 17-7 16-3 8 0 17-7 17 0 8-4 16 1 9-1 8-2 8 2 9-5 8-4 8 2 8-1 9-4 8 3 8-4 4M407 492l-1 8 5 8 0 4-1 5-5 8-7 8-18 8-7 5-6 4-2 4-2 4-12 8-5 9-6 4-7 4-17 8-21 8-25 9-10 4-35 20-9 9-2 4-4 12-11 17 1 8-7 8-4 9-1 8-5 17-1 8-3 8 2 8-6 9 1 4 1 4-2 8 0 8-1 9 0 8-7 17 1 8-6 8 0 4 1 4-5 9-3 8-8 16-2 9-6 8 0 8M403 492l2 4 0 4-2 4 0 8-1 5-6 8-9 8-21 8-8 5-13 8-9 8-30 21-24 12-12 9-18 8-7 4-21 12-3 4 0 5-2 4-10 12-5 8-3 9-3 8-9 17 0 4 1 4-1 4-2 4-2 4-2 13-5 8 0 4 2 4-2 4-3 4-2 5 0 4-3 4-3 4-2 4 0 4-1 9-3 4-4 4-1 4 2 4 1 8-1 5-2 12 0 4 2 4-1 4-2 5-2 8-6 12-6 21-5 12M355 492l1 8-1 8-2 9 1 4-5 4-18 8-16 8-6 5-5 4-5 8-10 8-5 9-4 8-3 4-5 4-19 8-19 13-15 12-4 4-14 21-3 8-1 9-5 8 0 8-7 8-5 17-6 8-3 9-7 8 1 8-7 8-2 9-1 16-5 8 2 9-2 8 1 8-4 9 2 8-4 8 5 8-3 9-4 8-2 8-3 8 1 9-7 16M340 492l2 4 0 4-6 8-1 4-4 5-17 8-33 21-5 4-6 8-6 4-3 4-2 4-2 5-10 8-18 12-4 4-2 5-5 4-7 4-5 4-7 8-8 13-3 8-2 8-2 4-8 9-1 4-1 4 2 4 1 4-1 4-1 4-4 9-3 12-6 13-5 16-7 12-1 5 3 4 0 4-4 4-2 4 1 8-2 13-4 12 0 4-1 5-3 4-1 4 1 8 0 4-5 13 0 8-3 21-5 12-1 8M352 492l-2 20-1 5-15 12-6 4-16 8-6 5-13 12-8 12-12 13-6 4-23 12-6 5-4 4-5 4-14 8-12 8-5 9-3 4-3 4-1 4-2 4-8 8-2 5 0 4 2 4-1 4-2 4-2 4 0 4 0 5-8 12-4 8-1 4-1 13-6 12-3 17 0 8-3 17-2 12-3 12-1 13-2 4-3 4-1 4 1 4 1 5-1 4-1 4-4 8-2 4 0 4 2 4 0 5-2 4-1 4-1 12M341 492l0 8-2 8 0 4-2 5-11 8-5 4-3 4-11 8-2 5-3 16-3 8-4 9-7 8-6 4-47 21-8 4-21 16-21 25-5 9 1 8-6 16-5 9 3 8-1 8-3 9-1 8 3 8-5 8 0 9-5 8-2 8-4 8-6 9 0 8-7 8 1 9-6 16 0 25-5 8 5 8-3 9 0 8-3 8M284 492l-4 8-6 8-4 4-7 5-31 12-8 4-20 17-4 4-2 4 4 8-3 17-1 8 2 8-1 9-5 8-6 8-3 8-6 9-2 8-3 8-6 9-2 8-4 8-1 8-4 9 1 8-1 8-5 9-4 16 1 8-6 9 2 8-1 8 2 8-9 9 2 8-3 8 0 9 4 8-8 8 0 8-3 9 2 8-6 8-1 17-3 8-1 8M252 492l0 8-3 8 1 4 1 5 1 4-36 12-1 4 2 4 2 9-1 8-3 4-6 4-3 4-2 5-4 4-7 4-4 4-1 4 1 4 0 13-1 4-6 8-11 12-1 5 1 4 0 4-1 8-4 13-8 16-1 4 1 13-1 4-5 16-5 29-4 17 0 8-1 4-3 4-1 5-1 12-3 8 1 4 1 5 0 4-5 12 0 4 0 13-2 4-3 4 0 4 2 4-1 4-6 13-1 4 1 4-2 8M299 492l0 4 2 8-1 4-3 4 0 5 2 4-15 8-24 12-10 9-12 12-5 13-3 4-9 8-3 4 0 4-3 4-14 13-3 4-1 4-3 4-3 4-2 4-1 5-5 8-2 4-1 4 0 8-2 5-5 4 1 4 3 4-2 4-4 4-1 4 1 5-1 4-5 8-8 21-4 8-1 4 0 4-1 4-1 4-5 9-1 4 1 12-2 4-3 5-1 4 1 4 0 8-5 17 0 8-4 17-1 12-3 12-4 9 1 16-1 4M334 492l0 4 1 8 4 8-5 5-9 4-13 8-3 4-16 13-17 8-5 8-22 17-8 8-21 17-14 8-13 16-8 17-1 8-6 8-2 9-2 16-2 9-3 8-5 8-1 8-1 9-8 8-3 16-3 9-5 8 2 8-2 9-1 16-4 8-2 9 3 16-2 9-5 8-3 8 3 8-6 9 1 8-1 8-2 4M292 492l1 4 0 8-4 8 0 5-4 4-16 12-7 4-4 4-2 5-1 8-5 8-1 4 0 4-4 5-5 4-3 8-6 8-5 4-7 5-4 4-8 8-21 21-1 4 1 4-2 4-10 12-4 9-1 8 0 8-2 4-3 5-3 12-6 12-1 9-2 8-5 8 0 4 3 13-1 4-7 21-1 4-1 20-2 9-4 8-2 8 1 9 0 4-4 12-1 8-3 9-1 4 1 12-2 4M296 492l1 8-2 8 1 4-1 5-19 8-5 4-3 4-11 8-2 5-2 4-13 16 1 9-4 8-11 8-15 17-19 16-3 4-3 4-3 9-11 16 2 9-6 8-4 8-2 8 0 9-4 8 0 8-6 9-2 8 1 8-3 8-1 9-4 8-1 8 1 8-4 17-1 8 2 17-7 8-1 17-2 8-2 8-5 8 5 9-4 8-3 8M272 492l0 4 4 8 1 4 1 9-1 4-13 8-1 4-4 4-7 4-4 5-3 4-5 12-3 4-4 13-3 4-5 4-10 8-11 13-6 8-3 4-9 8-4 9-6 8-10 21-1 4 0 4 0 4-3 4 0 4 1 4-1 5-3 4-1 4-2 12-1 9-5 12-1 12-1 4-3 5-1 4 1 4 0 4-2 4-1 13-4 12 0 8-1 4-2 5 0 4 1 4 0 4-4 4-1 4 1 4-1 5-3 4-2 4-1 16-2 9-2 4 0 4 1 4 0 4-2 4M318 492l0 4 3 8-3 8 1 9-8 8-16 8-7 4-4 5-2 8-19 25-2 4-4 4-13 8-20 17-23 16 0 9-8 8-3 8-7 8-3 9-1 8-7 8-2 9 0 8-3 8-9 8 2 9-4 8-4 16 0 9-2 8-3 8 0 9 2 8-1 8-6 8 0 9 1 8-5 8 2 9-7 8 2 8-5 8 1 9-6 8 2 8-2 4M391 492l2 12-1 8-3 9-4 4-12 8-9 4-23 9-6 4-25 20-7 9-5 4-7 4-19 8-48 25-10 8-2 4-1 5-9 8-4 8 0 8-5 9 2 8-3 8-5 17 2 8-4 8-2 9-4 8-1 8 0 8-1 9-2 8-1 8-4 9-1 4-5 20-8 17-5 8-1 4-1 13-5 8-1 8-2 9-9 20M317 492l-2 12 1 8-3 5-8 4-12 8-4 4-10 8-5 5-6 8-4 8-6 8-4 9-4 4-13 12-8 9-26 16-1 4-2 4-7 9-4 4-4 4 0 4-1 4-7 8-3 13-1 12-5 9-3 8-5 8-1 8-4 9-1 8-4 8 0 8-7 34-2 33-3 8-6 25-1 8-3 12-1 5 1 4 0 4-3 4-3 4 1 4M265 492l1 4 0 4 2 4 8 8 1 5-14 12-3 4-4 4-9 9-14 8-7 8-15 8-9 9-11 8 0 4-1 13-1 8 1 8-7 17-7 8-7 16-7 9 1 8-5 8 7 9-9 8 0 8-1 8-4 9-1 8-3 8 2 8-8 25-3 9 0 16-2 8-4 9 2 8-1 17-2 8-4 8 0 8-5 9 0 8-2 4-1 4 0 4M324 492l-2 8 0 4 0 4 2 4-2 5-11 4-8 4-7 8-16 13-11 12-10 17-8 8-3 4-18 17-18 12-16 21-3 4-1 4-3 4-4 4-4 4-4 17-4 8-3 8-6 17-4 17-5 8-2 8-1 8-4 13 0 4 1 8-1 4-4 13-1 16 1 4-1 5-4 4-3 4 2 4 1 4-4 13-2 12-4 12-1 4 0 9-1 4-6 12M298 492l0 4-1 4-1 4 2 8-3 5-9 4-13 8-4 4-11 8-3 5 1 4-1 4-4 8-3 8-5 9-5 12-3 4-4 4-12 9-5 4-2 4-3 4-11 8-12 21-7 17-7 12-2 12-1 5-6 12-8 17-2 4-1 8-4 8-1 13-1 4-2 4-1 4 1 4 0 4-2 9 1 4-1 4-4 4-1 4 1 13 0 4-3 4-1 4 1 8 1 4 0 5-3 4-2 4 2 4-1 4-2 4-1 4 0 9-4 12 0 4 1 4M269 492l-2 4 1 21-5 4-13 8-9 8-16 17-15 8-8 8-3 9-6 8-8 8 2 4 3 5-1 8-5 8-2 8-3 9-2 8-5 8-7 8-2 17-3 8-4 9 0 8-4 16-1 9-6 8 2 16-5 9-2 8 4 8-4 9 3 8-4 8-1 8-4 9 1 8-2 8-7 9 3 8-5 8-2 8 4 9-5 16-2 4M323 492l-2 12 3 8 1 9-4 4-11 8-7 4-5 4-2 5-6 8-4 8-10 8-10 13-16 12-6 4-7 5-16 8-5 4-12 12-4 9-9 8-3 4-6 12-2 9-4 8 1 4 2 4-6 13-3 12-7 8 0 5 0 4-2 4-9 12 0 4 0 4-1 9-5 16 1 4 3 5-1 4-2 4-1 4 0 4 0 8-5 17 0 8-1 4-7 21-1 8-6 9-1 4 0 12-1 4M312 492l0 4-1 4-2 4 0 4 0 4-2 5-8 4-12 8-16 17-11 16-1 4-1 13-2 4-5 4-6 8-4 4-12 9-14 12-12 8-4 4-5 13-5 8-5 13-8 12-2 8 1 9-2 4-4 4-3 4-1 4-6 8-2 5-4 16-6 12-1 5-1 4 1 8-2 4-2 4 0 4 2 5 0 4-2 4 0 4 1 4-1 4-3 4 0 5 2 4-1 4-6 16-2 13-1 8 2 8-1 4-2 5-5 8 0 4 3 4-1 4M387 492l-2 8 1 4 4 4 0 4-3 5-19 16-30 13-26 12-6 4-8 8-5 5-36 20-18 13-11 8-16 16-2 5 0 4-2 4-4 4-2 4 0 4-4 9-5 8-6 12-13 17-7 12 0 4 1 5-1 4-4 12-1 8 0 13-1 12 1 4 1 4 0 5-2 4-1 8-2 4-8 13-10 24-2 17 0 16-3 13 0 4 2 8M369 492l0 16-2 9-6 8-5 4-6 4-19 8-8 5-27 16-14 8-6 5-10 8-6 4-19 8-7 4-10 9-14 16-13 13-1 4 2 4-2 4-4 4-1 4 2 4-1 5-2 4 0 4 0 4 0 4-1 4-9 13-5 12-7 8-2 5 0 4-2 4-6 8-5 12-1 9-3 8 0 4 0 4-1 13 3 12-1 4-3 4-1 5 1 4-2 4-3 4 0 4 3 4 2 4 0 5-1 4-4 4-3 4-1 4-3 8-6 17-2 12M437 492l-1 4 2 8-5 8-4 5-3 4 0 4-2 4-6 4-17 8-11 9-4 4-5 8-7 8-5 5-6 4-8 4-11 4-51 17-23 8-26 12-7 4-5 4-7 9-4 8 0 4 0 4 0 4-3 5-2 4 0 4 1 4 2 4 1 4-9 17 0 4-1 4-8 17-6 8-7 21-7 12-1 4 0 4 1 4 0 5-1 4-1 4 2 8-1 8-2 9-3 12-13 25-1 4 0 4-2 4-4 4-3 5 1 8-2 8-3 4M321 492l0 4-3 8-2 8-4 5-33 12-30 12-7 5-6 4-9 8-2 4-2 4 0 4 2 9 0 8 1 4-1 4-6 9-5 8-9 8-11 8-9 9-8 8-6 8-5 17 0 8-3 4-1 4 2 9-1 8 1 8-3 8-4 9-3 8-7 8-4 17-4 25 1 16-4 8 1 9-1 8 1 4-1 4-4 9-4 24-4 9-3 4-2 4 2 12M424 492l-3 4-4 16-14 17-6 4-10 4-12 4-9 5-4 8-23 16-10 9-3 4-5 4-26 8-18 9-22 8-16 8-16 12-12 13-5 8-1 17-10 8-2 4-1 4-1 9-5 8-2 8-4 8 1 9-7 16 0 8 1 9-3 8-4 8 2 9 0 8-4 8 0 8-3 9-2 8 0 8-4 9 0 8-4 8 0 8-2 9-6 8-1 8-2 4M344 492l0 8-3 8 1 13-3 4-7 8-13 8-3 5-8 12-9 8-8 13-3 4-6 4-7 4-18 8-16 9-33 20-5 4-12 21-4 4-9 9-2 4-2 4 2 8-2 4-1 4-3 5-3 4 1 4-1 4-5 4-3 4 1 13-1 4-3 8-1 4 0 4 0 4 0 5-2 4-2 4 2 8-2 8-3 9-1 4 0 21-2 8-2 8-1 13-2 16-1 4-5 8-3 9-4 8-1 8M392 492l-2 4 0 4 1 8-1 4-3 5-9 8-13 8-22 8-7 5-10 8-17 12-15 9-4 4-2 4-5 4-27 12-8 5-5 4-22 12-6 4-4 4-8 13-1 4 0 4-1 4-4 4-1 4 0 9-1 4-9 25 0 4 1 4 0 4-11 13-2 4-6 12-6 8-1 4 2 5-2 4-3 4-2 4 0 12-2 5-3 4-1 4 3 12-1 4-1 5-1 4 1 12-1 8-2 5-2 4-1 4 3 4-1 4-2 4-2 4-2 13-3 8-1 8M282 492l1 12 1 4 2 4-2 5-9 4-6 4-20 16-4 5-8 12-4 4-3 4-2 9-7 12-4 4-6 4-4 4-2 5-3 4-5 4-8 8-8 12-7 9-1 4-2 4 0 12-2 5-5 4-3 4 1 12 0 4-4 9 0 4-1 4-4 8-3 13-1 12-2 4-1 4 0 9-1 4-2 8-3 8-1 4 2 9 0 4-1 4-2 4-1 4 1 4 0 5-4 4-1 4 0 12-1 4-4 9-2 4 0 4-1 8-1 4-1 4 2 5 1 4-3 8-3 8M245 492l1 4 0 8 1 4 0 4-3 5-3 8-12 8-10 8-4 5-5 8-4 4-2 4 2 4 0 4-5 9-2 8-4 8-2 9-5 8-3 8-6 8-1 9 1 4-1 4-5 8-1 8-5 9 0 8-3 8-3 4-2 5 2 8-1 8-5 8-2 9-3 8 0 4-1 4-5 8-1 9 0 8-1 12-4 13 1 8-2 8-3 9 1 4-1 4-3 4-2 4 3 9-1 8-2 12-5 13 0 8-5 12M344 492l-2 4 0 4 2 4 2 13-2 8-5 8-14 8-4 5-5 4-22 12-23 17-14 8-16 8-6 4-4 5-11 12-4 4-3 4-11 21-8 8-2 4 0 4-2 5-7 8-8 12-1 4-1 5-3 4-4 4 0 4 5 4-1 4-6 4-3 5 0 4 2 8-1 4-3 8-2 13-2 4-2 4-3 8-1 13-4 12 0 8-1 5-3 4 0 4 2 4 0 4-3 4 0 4 0 9-1 8-3 12-1 4-3 5-2 4-1 12-1 4M300 492l2 8 1 4-1 8-3 5-7 4-12 8-7 8-14 17-2 4-1 12-3 5-12 12-31 21-13 12-8 8-11 17-2 4 0 4-4 8-3 13-5 12-1 4 1 13-1 4-7 12-1 5 0 12-3 12 0 4-1 5-6 12-5 17 1 4 1 4 0 4-1 4-4 17-7 16 0 4 1 9 0 4-4 20 0 13-2 4-3 4-1 4M364 492l3 12-1 4-3 4-11 9-7 4-23 8-10 4-22 9-10 4-9 8-5 4-4 4-1 9-1 8-6 12-3 4-15 9-17 12-5 4-6 8-10 9-11 8-3 4-2 4-6 17-3 4-2 4 3 8 1 9 0 4-1 4-5 8-4 21-2 4-6 8-7 17-1 8-5 8 0 9 1 8-1 8 2 9-1 16-7 17 0 8-8 12-2 4 1 9-5 8 0 8M399 492l-3 12 6 8-3 9 1 4 0 4-3 4-18 8-21 13-18 16-20 9-6 4-8 4-25 8-21 9-9 4-24 12-11 8-1 9-7 8-1 4 0 4 1 17-4 8 0 8-4 9-3 8-2 4-3 4-8 8-4 9-6 8-2 8-8 13-4 8-1 4 3 8-3 9 3 8-3 8 3 8 0 9 2 8-1 8-4 9-2 8-7 8-3 8-4 9-2 8-6 8-2 4M293 492l1 4-1 4-7 12-4 5-10 4-13 8-11 8-6 4-5 5-4 4-3 4-5 16-4 9-6 8-6 12-3 5-11 8-5 8-2 8 0 4-1 5-5 4-4 4-1 8-3 8-6 9-4 12-1 4 0 9-3 12-1 8-1 4-3 5-2 4 1 8-8 12-1 4 1 9-2 8 1 4 0 4-4 9-4 24-4 9 1 16-7 17 2 12-1 4-3 4-2 5 1 8-3 8 0 4M257 492l0 4 2 8 0 8-2 5-25 12-6 4-3 4-8 17-1 8-1 4 0 4 0 9-2 8-2 4-9 13-3 8-4 8-7 8-6 9-5 12-7 12-6 13-2 8 0 4 2 9-1 4-3 8-8 12-2 9 1 12-1 4-5 8-1 5 1 4 1 4 1 4-5 8-1 4 0 5 0 8 0 4-1 4-5 8-1 5 0 4 2 4 0 4-2 4 0 4 1 4-1 5-4 4-2 4-2 12 1 8-1 5-3 8-1 8-1 4M367 492l2 8 0 4-3 13 0 4-4 4-13 8-7 4-19 9-7 4-23 16-13 9-3 4-6 4-16 8-28 17-6 4-4 4-3 4-4 4-7 4-5 4-3 5-4 8-1 4 0 4 0 4-2 4-2 5 1 4 0 4-4 8-1 17-3 8 0 4-1 4-6 9-3 8-3 8-5 8-1 9-4 12-6 12-2 9-3 4-1 4 1 4 0 4-4 13-1 4 1 8-2 8-1 17 0 4 0 4-4 4-2 4 0 9-1 8 1 4 1 4M280 492l-3 4-2 4 4 4 4 4-3 4-6 5-8 4-13 8-5 4-12 8-19 17-9 17-3 4-3 4-11 8-2 8-9 9-2 8-6 8 1 8-1 5 0 4-4 8 0 8-4 9-1 8-5 8 3 13 0 4-3 8-1 8-4 9 1 8-7 8-2 8 0 9 0 4-1 4-3 8 0 4-1 4 2 9-6 8 0 8-2 9 1 12 0 4-5 8 1 9-4 8-4 12-1 4 2 9 0 4-1 4-3 8M379 492l3 12 0 4-1 4-2 5-6 4-4 4-6 8-23 13-17 12-19 12-9 9-5 4-31 16-28 13-22 16-4 4-2 5-3 12-8 12-1 5-1 4 1 4 2 4-1 4-6 13-1 4 1 4-1 4-4 4-2 4-2 4-2 5-7 8-3 4-5 8-1 4 0 4-1 5-1 4-1 4 2 8 0 8-5 17-2 12 0 9-1 4-3 4-1 4 3 8 1 5-1 4-3 4-1 4 1 4-1 4-6 8-6 13-3 12M291 492l1 12-2 4-5 9-8 4-19 8-14 8-12 9-2 4-2 4-7 8-1 4-1 4 2 9-3 4-5 4-8 17-7 8-5 8-10 8 0 4 1 5-9 8-2 8-7 13-4 12 0 8-2 9 0 8 0 4-1 4-7 8 1 9-1 8-1 4-1 4-6 8 1 9-1 8-4 8 3 9-5 8 0 8-1 8-3 9 2 8-3 8 1 9-6 8-3 8 2 8-5 17-1 8-1 4M324 492l-1 4 0 8-2 8-2 5-5 4-14 12-13 8-4 5-7 8-9 8-2 8-3 5-2 4-5 4-15 12-14 9-11 8-7 8-11 8-4 4-7 9-3 4-2 8-5 8-1 5-6 20-4 9-3 8 0 8-5 8-8 33-3 9-1 8 0 8-1 4 0 5-4 8 1 8 0 8 0 9-4 8-1 17 0 8-5 8-1 17-7 16 3 4M357 492l2 8 1 17-30 24-8 9-11 8-2 4-3 13-5 4-13 8-26 12-19 9-16 8-9 8-11 8-3 5-7 12-6 8 0 4 1 5-8 8 0 4 0 4 2 8-2 9-10 16-1 4-2 5-1 8-6 8-3 8 0 9 0 8-6 8-1 4-3 13-1 16-3 9 4 8-2 4-3 4-2 8 1 9-4 16-2 8-5 9-2 8-1 8M405 492l0 4-2 8-2 4-2 9-4 8-2 4-4 4-16 8-12 9-20 16-8 9-6 4-8 4-60 25-9 4-26 16-3 4-6 13-4 4-2 4 3 13-1 4-4 4-3 4-1 4-2 4-6 9-5 12-8 12-5 13-3 20 1 13 0 4-5 8 0 13-2 4-3 8-2 8-6 13-1 4-1 8-8 17-2 20 1 13-3 12M359 492l0 4 3 12 2 4 0 5-2 4-1 4-2 4-4 4-13 8-9 9-8 8-10 8-10 9-6 4-47 20-8 5-26 16-13 12-2 5-2 8-3 8 0 4-5 13 1 4-1 4-5 12-2 9-2 4-7 8-9 8-6 9-4 8-2 12 2 9 0 4-1 4 0 4 2 17 0 8-2 8-4 13-2 8-2 4-5 8-2 9-6 12-1 4 2 12-1 5-4 12 0 8M269 492l1 16-2 4-5 5-38 12-4 4 0 8-5 9 1 4 3 4-1 4-8 13-27 29-1 4 1 8-2 8-7 17-5 8-6 8-1 4-2 13 3 8 0 8-5 9-4 8 0 8-4 9 0 4 0 4-4 8 0 8-3 9-2 8 0 8 0 8-3 9-1 8-2 8 0 13-3 12 1 8-5 9-6 16 1 4 1 4-2 9 1 8-3 8M266 492l1 8-3 8 1 4-3 5-11 4-18 8-14 8-5 4-11 17-7 8-3 9-3 8-6 21-2 4-6 8 0 8-4 21-2 4-3 4-3 4 0 13-1 4-2 8 0 8-2 9 0 4 0 4-6 8 0 9-3 8-1 8-5 12-3 9-1 8 1 12-3 5-2 4 1 8-1 12-1 5 1 4 0 4-7 8-2 8 2 9 0 8-5 8 1 8-6 13 0 4 0 8M290 492l3 12-1 8-4 5-28 12-24 17-3 4-21 29-3 8-7 8-2 4-2 5-6 8-8 12-3 4-1 4 0 5-3 8-1 8-3 4-5 4 0 5 1 4 0 4-4 12-2 9-4 8-2 4 0 4-4 13-3 12 1 4 2 4-2 4-4 4-1 5 0 4-2 4-3 4 1 4 3 4-1 4-2 5-1 4 0 12-3 8-5 9-1 4-2 12 1 9-2 4-3 4-2 8 1 12-1 9-1 4-4 8 0 4M356 492l1 8 0 17-2 8 5 16-18 9-11 8-8 8-9 9-5 8-6 4-8 4-37 17-6 4-5 4-15 8-5 4-7 13-3 8-5 8-1 9-5 8-2 8-5 8-3 9-6 8-2 8-6 9-7 16-5 8-2 9-4 8 0 16-3 9 1 8 3 8 0 9-2 8-6 16-4 9 2 8 0 8-4 8-2 9-6 8 0 8M370 492l-4 8 1 4 2 4-2 9 2 12 0 8-14 9-29 20-16 9-9 8-36 16-20 9-8 4-10 8-9 8-6 9-6 12-1 4-1 4 1 9-3 4-4 4-2 4-3 12-5 9-3 8-8 8-3 4-4 13-5 8 1 4 1 4 1 4-1 5-3 8 3 8-1 4-2 4 3 9-2 4-2 4-5 17-10 16 1 4 1 4-12 17 0 4-1 21 3 8-1 4-2 4M355 492l2 4 1 4-1 4 4 17-1 4-2 4 0 4 1 4 1 4-2 13-17 12-14 13-7 4-32 12-17 9-38 16-7 4-8 8-5 5-4 4-2 4-3 12-2 4-5 9-1 4-1 4-1 4-3 4 0 4 0 5-1 4-5 12-1 4 1 4 0 5 0 4-7 12-2 8-1 4 1 5 3 4 1 4-2 4 0 4 1 4-2 4-5 5-2 4 0 8 0 12-7 17-5 8 0 4 1 5 0 4-3 4-1 4 1 4-2 4-5 4-2 4-3 13-4 12M365 492l-2 12 1 13-2 8 4 8-7 4-15 9-5 4-7 8-9 8-7 13-4 4-18 8-14 8-30 13-8 4-19 12-5 4-7 9-1 8-5 8-3 9-6 8 0 8-8 13-2 4-3 8-10 17-4 8 0 8-3 8-1 9-3 8-1 8-3 8-1 9-5 20-1 5 3 8-3 8-6 8 2 9-1 8-3 8 0 8-3 9-1 16M361 492l-2 4 0 4 3 4 1 4-1 4 2 17-1 4-7 4-9 4-4 5-15 16-5 8-3 5-11 8-7 4-35 17-22 8-8 4-19 12-5 4-3 5-3 8-5 8-1 4 0 4-4 5-5 4-2 4 0 4-2 4-4 4-1 4 2 5-1 4-6 12-6 8-2 5 0 4-5 8-2 4 0 4 1 4 1 4 0 5-6 12 0 4 2 13-1 16-3 8-4 9-1 4 1 12-1 9-4 8 0 4 0 4-1 4-6 13-2 4-1 4 0 8-1 4M366 492l-1 4-2 4-1 4 1 4-1 4-1 5 0 4 1 4 1 4-1 4 1 4 3 4 0 5-2 4 1 8-4 4-7 4-11 9-13 8-68 25-9 4-6 4-14 8-5 4-8 13-2 4-4 12-4 9-2 4 0 4-2 4-7 12-6 9-2 4 0 4-1 4-3 4-2 4-5 21-1 8 0 13-2 12-1 4-9 17-3 12-3 9-1 4 0 4-1 4-2 4-1 4 1 4 1 17-1 4-2 4-2 8-4 13-3 12M356 492l1 8 4 8-2 4-4 5 0 4 3 12 3 8-1 5-2 4 0 8-16 8-5 4-12 13-9 4-57 21-9 4-13 8-11 8-10 13-2 4-3 12-3 9 0 12-1 4-2 8-1 9-4 4-5 4-2 4 0 4-3 4-4 5-2 4-1 4-7 8-2 4-2 4-1 9-4 8-1 4 4 12-1 5-3 4 0 4 0 4 4 8-2 4-4 5 0 4 2 4 0 4-1 4-8 17-2 8-5 8-1 4-2 13-5 8-2 8M366 492l4 25-3 8 3 8-1 4-15 9-5 4-19 16-9 9-2 4-4 4-21 8-15 8-30 13-8 4-11 8-14 8-8 17-7 8-3 9-2 8-9 16-5 9 0 16-6 17-5 8-4 8 1 9-2 16-3 17 1 8-7 8 0 9 3 8-6 8 0 8-2 9-4 8-4 8 1 8-1 9-6 8-4 8M363 492l3 16-3 17 3 8 0 4-3 4-20 9-3 4-2 4-1 8-8 9-4 8-6 4-24 12-19 9-23 8-6 4-4 4-15 8-11 9-10 16-7 9-2 8 1 8-4 8 0 17-3 8 1 17-8 8-1 8-2 4-1 5-6 8-3 16-8 9-2 4-1 4 2 17-2 8 2 8-6 17-2 8-1 8 0 8-4 9-8 8 3 8M357 492l-2 12 1 8 2 9 0 8 1 4 1 4-3 9-5 4-14 12-6 4-13 13-5 4-7 4-21 8-46 21-7 4-12 8-4 4-8 9-3 4-2 8-11 17-2 8-2 4-1 4 1 4-1 5-5 8-1 4-3 4-5 4-2 4 1 9 0 4 0 4-4 12-2 9 0 12-2 4-1 4 1 4-1 5-2 4-2 4 2 8-1 8-5 13-5 16-1 5 1 12 0 4-6 17-3 4-3 4 0 12M367 492l-2 4 3 8-3 4-1 4 4 5 3 4-5 8 0 4-5 4-10 4-7 5-5 4-3 4-2 8-16 21-6 4-52 21-18 8-19 12-10 9-2 4-2 4 1 8-7 8-2 9-1 8-4 8-3 9-1 8-1 4-2 4-5 8-2 9-8 8 0 8-7 8-2 9 0 4 1 4 3 8-5 9 2 8-5 8 1 8-3 9-5 8 1 8-7 17-4 8 1 8-3 9 0 8-3 8-1 4M365 492l0 8 2 8-1 9 2 8-4 8-1 4 0 4 3 9-2 4-5 4-4 4-3 4-9 9-13 8-18 8-64 25-14 8-6 4-4 4-6 9-1 8-9 8-1 4 0 5-2 4-2 4-7 8 0 4 2 4-1 5-4 12 1 8-4 9 1 16-5 8-4 9-1 8-2 8-1 8-2 9-6 8-1 4-2 21-6 8 0 8-5 9-2 8-5 8-2 8 1 9-3 8-2 8M359 492l-3 8 4 17-2 16 1 8-1 9-1 4-5 4-7 8-16 13-7 4-38 16-31 13-25 12-4 4-3 4-12 9 0 8-6 8 0 9-7 8 0 8-1 8-3 9-3 16-4 17-8 8 2 8-1 9-5 8 0 8-3 17-4 8 1 8-10 17-1 8-3 13-3 12-7 8 3 8-7 9 2 16M366 492l-4 8-2 8 4 29 0 4-2 9-8 4-6 4-2 4-3 4-12 9-4 4-5 4-9 4-32 12-18 9-12 4-9 4-7 4-6 4-3 4-12 21-6 8-5 13-1 4 2 4 0 4-5 13-1 4 1 4 0 4-5 8-4 9-1 8-7 16-1 9-1 4-1 4-3 4-2 4 1 8-1 5-2 4-7 8-2 17-5 8-3 12-3 17-1 4-4 4-2 4 2 8 0 5-1 4-4 4-2 4 1 4 0 4M374 492l-1 12 1 8 0 5-2 4 1 4 2 8 0 4-3 9 1 4 2 4-5 4-12 8-5 4-5 9-4 4-7 4-18 8-44 17-28 12-6 4-7 9-9 8-2 4-2 4-1 8-2 5-3 4-1 4-1 4-1 8-5 9-2 4 0 16 2 13-3 4-11 12-1 4 1 4-2 5-4 4-2 4-4 12-5 9-2 4 1 4-1 4-1 4 0 4 1 4 0 5 0 4-3 8 0 4 1 4 0 4-2 9-4 12-2 4-9 13-1 4 2 4-1 4-3 4-2 4M361 492l0 4-2 8-2 17-1 8 1 4-3 4-9 4-6 5-10 8-4 8-8 8-2 9-4 4-6 4-9 4-43 21-21 12-7 4-2 4-1 5-7 8 0 4 0 4-3 4-5 4-1 5 1 4-6 8-1 8-12 17-10 25-6 8-2 4-1 12-4 9-5 16 3 9-2 8 1 8-3 8-4 9-1 12-3 13 0 8-2 8 1 8-3 9-5 8 0 4 2 4-1 4M361 492l1 8 1 12 1 9-1 4 0 4 1 4 0 4-3 4-1 5 3 4-2 4-12 12-4 4-2 5-3 4-5 4-9 4-67 25-13 8-9 4-7 4-10 13-2 4-3 8-9 13-1 4 1 4-1 4-7 8-7 13-9 12-3 8-5 9-2 12-5 12-1 17 1 12 0 5-7 20-1 4 2 9 1 4 0 4-4 4-2 4 2 13-1 12-3 8-3 4-2 5 1 8-2 8-1 4M363 492l-4 12-1 4 0 4 4 9-1 8-1 8 2 9-2 4-7 4-4 4-2 4-33 25-24 8-10 4-47 21-6 4-4 4-17 17-2 4-4 8-4 13-2 12-2 8-1 5-6 12-4 12-1 9-2 8-1 8 0 13-1 12-4 8-2 9-4 8 1 4 1 4-3 4-5 4 0 5 1 12-3 4-5 4 0 4 1 5-2 4-2 4-1 4 1 4-7 17-7 8 0 4 3 4-3 4M367 492l3 16-6 9 3 8-2 8 0 8 3 9-14 16-4 13-3 4-9 4-29 12-36 13-10 4-16 8-4 4-2 4-14 9-3 8-1 8-8 9-3 8-10 8 0 8-5 9 0 8-9 8 1 9-3 8 1 8-1 8 0 9 3 8-3 8 2 8-4 17 1 8-8 9-3 8-3 8-6 8-1 9-11 8-1 8-3 8 1 9-2 8-6 8M368 492l4 12-1 8-3 9 0 8 5 8 0 4-4 5-6 8-3 4-14 12-7 5-16 8-57 21-21 8-6 4-10 8-5 4-7 9 0 4 1 4-2 8-1 8-2 5-6 8-16 21-3 8-10 16 1 5 1 4-3 8 2 8 1 13 0 4 1 8-14 17-1 8-7 8-1 4-3 13 3 8-7 8 1 4 2 5 1 8-3 20-1 5-3 4-3 4-8 8 0 4M365 492l1 12 3 13-1 4-1 4-2 4-1 4 1 4-17 9-6 4-17 16-19 17-5 4-24 12-32 13-7 4-4 4-12 8-3 4-2 5-5 8-2 4-1 4-1 4-4 4-1 5 1 4-1 4-3 12-6 13-4 12-8 13-1 4-2 12-4 8-2 9-6 12-3 12-1 5-6 8-1 4 2 4 0 4-4 13-1 16-1 4-2 5 0 4 0 12-1 4-3 4-1 4 1 5-3 12-1 8M364 492l1 4-2 8 2 8-3 9 2 8-3 4-12 8-2 5-1 8-8 8-4 8-2 5-5 4-4 4-8 4-10 4-23 8-37 13-11 8-17 8-4 9-11 16-2 8-3 9 0 8 3 8 1 9-4 8-10 16-17 25-6 17-1 8-3 8 0 9 4 16-3 8 2 9-5 8 0 8-5 9-7 16-2 8-4 9 1 8-6 8 0 4M363 492l-4 8 4 8-3 25 3 8-2 5-16 12-17 17-7 4-15 8-9 4-21 8-28 13-23 12-6 4-4 4-9 13-3 4-3 8-8 9-3 8-7 16-1 9-3 8 0 8-6 9-2 8 0 8-4 8-1 9 3 8-4 8-2 8 4 9-6 16 0 13 0 4-8 8 2 8-2 9 0 8-6 8-4 8 1 17-3 8M366 492l-1 16 0 9 4 8-4 8-6 4-18 9-7 4-6 8-9 8-14 17-15 8-14 8-20 9-22 12-13 8-5 4-3 5-2 4-1 4-3 12-6 17-1 8 0 8-6 9-4 16-7 17-9 16 1 9-4 16-3 17-9 8 2 8-1 9-8 8 3 8-6 17-1 8-6 8 0 8-1 9-1 8-3 8M359 492l3 12 0 4-1 4-1 5 1 8 2 4 0 4-3 8-3 5-9 8-7 8-9 13-4 4-4 4-6 4-9 4-23 8-19 9-9 4-16 8-13 8-9 9-3 4 0 4-2 4-3 4-6 13-4 4-2 4 0 4 0 4-9 13-1 4 2 4-1 4-5 4-2 4-2 13-2 4-2 4-3 4-5 4-2 4 2 4 0 5-2 12-1 4-6 13-1 4 0 20-1 5-6 12 0 4 2 4 0 4-2 9-3 16-1 8 1 5-1 4-3 4-2 4-1 8M358 492l2 8-2 8 0 4 2 21-3 8 0 5-2 4-5 8 0 4 1 13-3 4-6 4-8 4-10 4-42 17-27 8-21 8-7 4-12 13-1 4 0 4-7 17 1 12 0 12 2 9-3 4-4 4-6 8-8 9-10 16-1 4 0 4-4 9-3 8 1 4 6 12 1 5 0 4-3 8 0 8 0 4-2 5-8 8-2 4-1 4-6 8-7 17-1 8-3 8 0 5 2 20M362 492l-2 4-1 8 1 8-2 9 4 8-2 8-17 13-22 20-6 9-6 4-9 4-20 8-14 9-19 8-28 16-3 4-2 5-10 8-3 8-8 8 1 5 1 4-6 8-1 8-4 9-2 8-8 25-4 8-5 8 0 8-1 9-5 16-3 9 6 16-8 8 2 9-3 8 0 8-5 9 2 8-6 16-1 9-3 8 0 8-2 4M362 492l3 8 0 4-2 13 0 8 0 12 1 9 0 4-10 8-5 8-8 9-8 8-6 4-9 4-45 17-40 20-4 4 0 5-2 4-5 4-3 4-4 12 0 5 1 4 0 4-5 8-3 8-2 5-1 4-1 4-1 4-4 4-2 4 0 4-2 5-3 4-2 4 0 4-3 4-5 4-2 4 2 4-1 5-4 4-1 4 2 4 0 4-8 13-2 4-1 12-2 8 0 5 1 4-2 4-4 4-2 4 1 4 0 4-2 5 0 4 2 4 0 4-8 25-3 16M364 492l2 4 1 8-2 17 3 8-3 8-1 13-6 12-10 13-8 8-7 4-30 12-34 13-15 8-17 8-5 4-12 13-3 8-8 17-1 4-1 4-1 8-5 9-4 8-2 8 0 8-5 9 2 8-1 4-1 12-2 9-7 16-5 9-3 8-1 8-3 8-1 9-8 8 0 8-1 9 2 8-7 16 0 9 1 8-3 8-1 4M358 492l0 4-1 4 0 4 1 8-1 13 2 8 0 4-2 4 0 5 2 4 0 4-1 4-8 8-3 4-1 5-3 4-5 4-9 4-62 25-24 12-6 4-10 13-5 8-4 8-1 9-3 4-4 4-1 4 2 4-1 4-8 9-5 8-3 12-6 13-2 12-5 8-3 9 0 4 1 4-1 4-1 4-1 4 1 4-1 5-2 4 0 4 0 4-2 8 0 9-1 4-2 4-1 4 1 4 0 4-4 13-3 8-1 8-2 4-7 13-4 16" fill="none" stroke="#231f20" stroke-width="0.90" stroke-linejoin="round"/></g>
<clipPath id="cpbmod"><rect x="548.0" y="483.5" width="353.4" height="413.8"/></clipPath>
<g clip-path="url(#cpbmod)"><path transform="scale(0.5)" d="M1591 984l-1 16-16 25-10 8-14 8-66 34-14 8-11 8-28 25-51 33-31 25-25 25-22 25-14 16-31 41-29 25-11 17-9 16-6 17-20 66-13 33-6 25-22 133-26 182M1535 984l-4 8-27 33-12 8-80 42-21 16-26 33-30 33-37 50-52 66-7 8-25 25-10 17-14 33-17 66-13 42-12 74-19 91-7 41-6 58-5 67M1498 984l0 8-6 25-3 8-8 8-13 8-58 34-12 8-19 16-25 25-29 25-16 17-20 24-24 34-11 16-22 41-21 25-4 9-13 33-22 74-14 33-8 33-23 141-20 166M1636 984l0 24-9 17-8 8-11 8-60 34-12 8-9 8-23 25-12 8-60 33-35 25-59 50-52 49-28 17-12 8-8 9-12 16-8 17-7 16-30 91-14 58-9 50-9 58-18 174M1525 984l0 16-2 25-7 8-10 8-65 42-40 33-66 41-30 25-16 17-19 25-11 16-20 41-21 25-9 17-10 25-25 74-13 33-5 17-12 91-21 116-12 116M1423 984l0 33-2 8-10 8-88 50-24 16-20 17-18 17-22 24-17 25-12 25-10 33-34 166-7 24-10 25-4 17-26 165-20 158M1525 984l0 24-1 9-3 8-9 8-12 8-59 34-12 8-37 33-44 33-20 17-24 24-34 42-32 49-23 25-9 17-10 25-22 74-14 33-6 25-22 141-22 174M1752 984l-8 8-52 41-13 8-67 34-12 8-8 8-12 17-8 8-12 8-86 42-85 49-50 33-42 33-32 17-12 8-15 17-9 16-6 17-20 91-28 99-7 42-9 91-22 116M1479 984l3 33-1 8-7 8-70 50-31 33-49 41-17 17-29 33-27 33-27 41-19 25-4 9-10 24-23 83-16 42-5 33-9 74-14 99-20 125M1561 984l-1 16-7 17-5 8-10 8-14 8-85 42-50 33-53 33-30 25-22 25-18 25-10 16-20 41-20 25-8 17-6 16-23 83-17 42-14 57-10 50-8 50-17 174M1506 984l-3 24-5 17-10 8-14 8-82 42-25 16-69 50-17 17-14 16-17 25-14 25-7 16-10 33-14 25-6 17-25 91-5 16-11 25-10 33-11 58-12 75-18 174M1552 984l0 24-2 9-4 8-10 8-13 8-65 34-14 8-44 33-62 41-27 25-23 25-20 25-11 16-19 33-22 25-4 9-8 16-6 17-20 74-15 42-5 24-28 149-20 158M1691 984l0 24-4 9-5 8-8 8-10 8-66 34-14 8-41 33-16 8-76 33-30 17-27 16-24 17-33 25-20 16-35 33-28 17-11 8-14 17-10 16-9 25-27 100-24 149-27 182M1572 984l-2 16-15 25-10 8-14 8-65 34-13 8-12 8-28 25-49 33-29 25-24 25-27 33-33 49-27 25-5 9-9 16-6 17-21 74-12 33-6 25-29 149-23 166M1653 984l0 8-2 8-21 25-10 8-14 8-69 34-15 8-41 33-74 41-33 25-28 25-25 25-43 49-36 25-12 17-9 16-12 34-24 91-31 132-9 41-8 50-8 58-5 50M1646 984l0 8-10 25-5 8-7 8-11 8-62 34-13 8-38 33-14 8-66 33-38 25-33 25-29 25-18 16-31 33-35 25-13 17-9 16-10 25-16 58-11 33-4 17-23 141-25 182M1494 984l-1 8-17 33-12 8-64 33-29 17-21 16-50 50-12 17-15 24-27 50-19 41-18 25-5 9-13 33-23 74-14 33-6 25-5 33-24 182-15 100M1437 984l0 24-4 17-9 8-86 50-22 16-36 34-16 16-19 25-24 41-12 25-19 66-25 108-6 16-10 25-4 17-45 323M1531 984l-1 16-2 17-2 8-8 8-11 8-71 42-38 33-50 33-31 25-26 25-29 33-12 16-20 33-20 25-5 9-10 24-22 83-14 42-32 190-21 141M1417 984l-1 8-5 16-7 17-12 8-84 42-27 16-20 17-19 25-10 16-7 25-6 33-18 74-15 42-26 99-16 42-4 24-8 67-15 99-18 141M1479 984l-1 24-5 17-9 8-15 8-64 34-27 16-42 33-26 25-13 17-10 16-25 50-21 49-17 25-4 9-10 24-23 83-13 33-4 17-27 165-19 158M1710 984l-2 8-7 8-23 25-11 8-14 8-76 34-16 8-45 33-15 8-53 25-15 8-25 17-22 16-28 25-26 25-32 33-9 8-13 9-16 8-12 8-15 17-10 16-11 25-31 100-7 33-22 149-18 99-7 50M1515 984l0 24-3 17-9 8-12 8-72 42-40 33-46 33-20 17-24 24-35 42-11 16-19 33-19 25-13 33-24 83-13 33-5 17-6 41-36 282M1513 984l-3 24-6 17-9 8-14 8-79 42-93 66-19 17-23 24-17 25-15 25-16 41-15 25-6 17-23 91-16 41-6 25-28 149-8 58-11 108M1545 984l0 24-1 9-3 8-8 8-12 8-57 34-12 8-36 33-50 33-31 25-26 25-31 33-13 16-24 33-24 25-10 17-13 33-20 66-13 33-6 25-18 124-25 191M1583 984l0 8-15 25-6 8-10 8-15 8-68 34-15 8-44 33-52 33-31 25-25 25-21 25-17 24-20 33-24 25-5 9-8 16-6 17-20 74-11 33-4 17-32 165-23 158M1567 984l0 16-4 17-3 8-7 8-12 8-76 42-43 33-57 33-36 25-28 25-32 33-12 16-21 33-22 25-8 17-6 16-21 83-14 42-36 190-12 74-7 67M1699 984l0 8-8 8-27 25-13 8-16 8-81 34-16 8-13 8-31 25-69 41-30 25-98 91-11 8-30 17-12 8-8 9-13 16-12 25-11 33-14 66-10 66-28 108-7 50-5 82-3 34M1483 984l0 8-18 33-11 8-29 17-40 25-18 16-24 33-28 33-66 83-27 41-18 25-4 9-12 33-17 74-15 42-23 115-10 67-10 99-6 50M1482 984l0 33-1 8-8 8-12 8-68 42-38 33-42 33-18 17-22 24-32 42-10 16-16 33-14 25-12 33-21 83-13 33-4 17-28 182-21 141M1394 984l0 24 5 17-6 8-78 58-59 50-16 16-13 17-10 16-6 17-6 17-3 16-5 50-34 124-5 16-11 25-4 17-11 83-15 99-17 141M1607 984l-1 16-15 25-9 8-13 8-68 34-15 8-43 33-70 41-31 25-17 17-23 25-14 16-30 41-29 25-11 17-8 16-6 17-20 66-15 42-8 33-9 49-10 58-24 191M1496 984l0 8-2 8-9 17-7 8-14 8-97 42-30 16-20 17-13 16-10 17-19 49-8 17-68 99-7 17-5 16-17 83-16 42-13 49-9 58-11 99-14 83-5 42M1450 984l0 16-1 8-7 17-12 8-99 50-38 25-20 16-17 17-13 16-14 25-18 50-9 49-9 34-22 91-9 24-11 25-9 33-21 141-19 166M1510 984l0 16-4 8-15 17-15 8-61 25-36 17-15 8-11 8-9 8-11 17-36 66-20 25-38 41-12 17-25 41-8 25-16 75-9 24-16 34-9 33-5 33-8 83-18 107-7 75M1487 984l-2 8-15 33-10 8-59 33-25 17-18 16-44 50-23 33-34 58-21 41-22 25-9 17-10 25-24 74-15 33-9 33-9 58-9 67-20 182M1547 984l-1 8-10 25-5 8-10 8-94 50-45 33-48 33-29 25-23 25-25 33-10 16-17 33-19 25-8 17-6 16-22 83-12 33-4 17-30 165-22 158M1580 984l-1 16-20 25-12 8-15 8-72 34-15 8-24 16-20 17-48 33-10 8-24 25-20 25-23 33-24 41-26 25-5 9-9 16-7 17-23 74-16 42-14 57-12 58-7 50-16 166M1459 984l0 8 12 25 2 8-4 8-10 8-26 17-61 33-69 42-21 16-8 8-6 9-8 16-11 42-16 41-9 16-21 25-8 17-12 33-14 66-15 42-15 66-8 49-9 83-14 83-5 50M1475 984l0 33-2 8-7 8-12 8-52 34-12 8-18 16-15 17-39 33-17 17-22 24-32 42-11 16-17 33-16 25-13 33-22 83-12 33-4 17-29 182-20 141M1427 984l-1 33-2 8-9 8-71 42-23 16-18 17-31 33-18 25-15 24-25 50-24 75-28 107-14 33-4 17-21 149-23 174M1403 984l0 24-3 17-10 8-74 42-24 16-20 17-16 16-19 25-14 25-14 33-10 33-24 124-10 42-7 24-11 25-4 17-22 157-22 166M1570 984l0 16-5 17-4 8-8 8-12 8-59 34-12 8-36 33-52 33-32 25-28 25-32 33-39 49-28 25-10 17-8 16-6 17-20 66-12 33-4 17-23 141-26 182M1426 984l-1 16-5 17-4 8-12 8-102 50-27 16-21 17-7 8-37 83-3 8-4 17-6 58-30 116-8 24-12 25-6 25-19 141-13 107-9 67M1728 984l0 16-5 8-16 17-10 8-12 8-71 34-14 8-41 33-16 8-74 33-43 25-24 17-33 25-66 57-14 9-18 8-13 8-15 17-6 8-8 17-11 33-53 223-8 42-7 49-7 50-4 50M1505 984l0 8-7 25-3 8-10 8-88 50-82 66-18 17-21 24-30 42-10 16-15 33-17 25-12 33-23 83-13 33-4 17-23 149-24 174M1613 984l-2 16-5 17-4 8-8 8-11 8-80 42-46 33-79 41-37 25-29 25-25 25-14 16-22 33-26 25-5 9-9 16-6 17-18 74-14 42-31 132-6 33-6 41-11 125M1651 984l0 8-2 8-15 25-8 8-11 8-57 34-11 8-29 33-12 8-60 33-49 33-63 50-47 41-29 17-12 8-8 9-13 16-9 17-10 25-27 91-6 33-21 157-25 141M1623 984l0 8-5 25-2 8-6 8-10 8-14 9-59 33-44 33-85 41-27 17-23 16-20 17-25 25-14 16-24 33-30 25-11 17-9 16-6 17-20 66-16 42-7 24-10 58-15 116-16 91-6 42M1598 984l0 16-16 25-11 8-13 8-68 34-14 8-42 33-54 33-32 25-18 16-23 25-20 25-30 41-29 25-10 17-8 16-6 17-19 66-15 42-10 41-13 66-10 58-19 166M1505 984l0 24-2 17-8 8-11 8-53 34-11 8-9 8-22 25-40 33-18 17-23 24-34 42-35 49-24 25-9 17-11 25-23 74-14 33-8 33-19 125-20 182M1411 984l1 41-7 8-55 42-17 16-27 33-31 33-28 33-29 42-12 25-15 49-21 100-7 24-14 34-8 33-16 107-12 108-13 83M1477 984l0 16-5 25-8 8-67 42-11 8-10 8-23 25-43 41-20 25-34 50-27 49-19 25-9 17-9 25-22 74-17 42-6 24-21 133-20 174M1431 984l0 33-2 8-9 8-67 42-22 16-17 17-23 25-20 24-17 25-27 50-8 16-12 33-11 25-9 25-21 83-6 16-11 25-6 25-21 149-21 166M1491 984l0 24-2 17-8 8-12 8-68 42-38 33-43 33-18 17-23 24-32 42-10 16-17 33-16 25-12 33-22 83-12 33-4 17-29 165-20 158M1556 984l-2 8-15 33-9 8-13 8-60 34-12 8-11 8-25 25-45 33-28 25-22 25-27 33-35 49-27 25-11 17-11 25-22 74-13 33-11 42-10 49-14 83-20 166M1519 984l-6 41-7 8-11 8-65 42-40 33-62 41-20 17-16 16-25 34-10 16-20 41-21 25-9 17-13 33-21 66-13 33-4 17-13 83-16 91-17 149M1419 984l0 33-2 8-8 8-68 42-22 16-17 17-30 33-18 25-14 24-25 50-26 75-27 107-13 33-5 17-22 157-22 166M1471 984l0 24-3 17-8 8-64 42-11 8-17 16-22 25-35 33-21 25-37 50-11 16-19 33-18 25-4 9-10 24-23 83-13 33-4 17-48 323M1409 984l0 16-8 17-5 8-13 8-35 17-33 16-13 9-28 24-15 17-19 25-16 25-21 115-14 42-25 91-6 16-11 25-4 17-19 132-13 108-11 83M1411 984l1 33-2 8-9 8-69 42-12 8-21 16-17 17-22 25-18 25-13 24-23 50-18 66-22 100-8 24-10 25-4 17-23 157-22 166M1724 984l-8 16-17 25-7 8-11 8-67 34-14 8-42 33-17 8-78 33-32 17-27 16-25 17-33 25-20 16-36 33-29 17-12 8-14 17-10 16-10 25-22 91-14 75-19 91-9 49-11 67-7 58M1615 984l0 24-13 17-10 8-13 8-65 34-13 8-10 8-25 25-11 8-41 25-23 17-28 24-25 25-60 66-37 25-18 25-8 17-6 16-19 58-12 33-8 25-9 41-9 50-8 50-17 174M1435 984l0 33-1 8-9 8-68 42-11 8-20 16-33 34-15 16-19 25-30 50-13 24-25 67-26 99-5 16-11 25-4 17-6 33-38 290M1483 984l1 33-2 8-9 8-13 8-61 34-27 16-55 42-27 24-13 17-10 16-21 42-22 49-18 25-4 9-13 33-21 74-15 42-27 157-13 116-9 58M1610 984l0 24-4 9-5 8-9 8-13 8-66 34-15 8-43 33-61 33-37 25-31 25-26 25-22 24-25 33-28 25-6 9-9 16-6 17-21 74-13 42-28 165-26 166M1550 984l0 16-12 25-9 8-13 8-59 34-12 8-10 8-25 25-46 33-19 17-25 24-29 34-14 16-29 41-26 25-11 17-8 16-5 17-21 66-12 33-7 25-20 124-26 191M1396 984l-7 33-3 8-11 8-33 17-38 25-29 24-14 17-11 17-14 24-32 75-7 25-8 33-12 66-11 50-7 24-11 25-6 25-23 157-20 158M1657 984l-1 8-10 25-5 8-7 8-12 8-78 42-42 33-14 8-70 33-28 17-25 16-32 25-29 25-39 41-33 25-12 17-9 16-9 25-27 100-53 331M1550 984l-1 16-2 17-3 8-7 8-12 8-71 42-39 33-65 41-31 25-26 25-23 25-12 16-22 33-22 25-5 9-7 16-6 17-19 74-12 33-4 17-33 182-11 74-8 67M1454 984l0 24-6 17-11 8-59 33-26 17-19 16-42 50-16 25-29 58-22 49-17 25-8 17-8 25-23 74-18 42-5 24-19 125-21 182M1548 984l-1 24-6 17-9 8-12 8-60 34-12 8-36 33-46 33-21 17-25 24-30 34-19 24-23 33-26 25-11 17-7 16-6 17-20 66-15 42-6 24-23 133-21 174M1540 984l-6 16-11 25-9 8-73 42-12 8-19 16-17 17-42 33-18 17-15 16-27 33-19 25-26 41-25 25-10 17-11 25-23 74-13 33-10 42-10 49-13 83-19 166M1526 984l0 16-4 8-11 17-12 8-83 42-14 8-22 16-49 42-17 16-20 25-20 33-15 25-20 41-21 25-5 9-11 24-25 83-16 42-11 41-13 66-9 58-17 166M1468 984l0 16-8 25-10 8-58 33-26 17-19 16-53 58-17 25-24 42-9 16-19 41-18 25-4 9-10 24-24 83-15 33-8 33-20 133-21 174M1651 984l0 16-18 25-10 8-13 8-88 42-49 33-81 41-37 25-20 17-26 25-22 24-25 33-30 25-6 9-12 24-8 25-15 58-12 42-32 140-8 42-8 49-10 100M1554 984l-1 24-4 17-6 8-9 8-44 34-10 8-21 25-9 8-12 8-78 42-26 16-31 25-17 17-13 16-22 41-24 25-10 17-11 25-26 74-14 33-5 17-11 99-19 83-5 33-8 108M1632 984l-1 16-23 25-13 8-16 8-75 34-15 8-12 8-29 25-59 41-27 25-85 91-9 8-35 25-13 17-10 16-9 25-23 83-4 17-11 66-21 91-9 58-10 116M1638 984l0 8-10 33-5 8-10 8-71 42-32 25-13 8-89 41-39 25-19 17-17 16-22 25-25 33-9 8-36 25-20 25-12 25-13 41-15 58-11 58-18 75-7 41-8 83-14 83M1548 984l-1 33-3 8-8 8-13 8-77 42-47 33-68 41-30 25-24 25-20 25-10 16-16 33-19 25-8 17-5 16-21 83-15 42-19 82-11 58-7 42-7 58-8 91M1502 984l-1 8-15 33-9 8-50 33-20 17-7 8-16 25-7 8-64 58-58 58-12 17-17 24-19 25-7 17-5 16-17 75-17 50-20 82-12 67-9 107-12 75M1508 984l0 16-2 8-9 17-10 8-15 8-66 34-14 8-24 16-62 50-17 17-14 16-24 33-15 25-18 41-15 25-6 17-8 25-19 74-15 42-6 33-20 132-25 166M1515 984l-1 16-12 25-10 8-74 42-12 8-10 8-24 25-46 41-20 25-29 42-35 57-23 25-10 17-10 25-24 74-16 42-8 33-10 49-11 75-19 174M1513 984l0 24-9 17-12 8-84 42-27 16-51 42-27 24-19 25-15 25-18 33-19 41-19 25-5 9-13 33-24 74-14 33-7 25-7 41-22 174-15 100M1516 984l0 16-1 8-7 17-9 8-67 42-10 8-9 8-20 25-8 8-41 33-18 17-40 41-22 25-30 41-22 25-4 9-8 16-5 17-19 74-14 42-18 82-9 50-7 41-17 158M1400 984l0 24-1 9-4 8-11 8-32 17-41 25-20 16-15 17-16 25-31 66-18 33-7 16-8 25-8 33-21 100-8 24-11 25-6 25-18 124-25 191M1427 984l1 33-2 8-8 8-64 42-11 8-18 16-44 50-22 33-28 50-21 49-13 25-11 33-20 75-6 16-11 25-6 25-21 149-20 166M1453 984l-1 24-6 17-11 8-77 42-24 16-19 17-25 25-21 24-15 25-24 50-17 49-13 25-6 17-25 91-5 16-11 25-5 17-6 33-18 116-22 174M1578 984l0 8-5 8-18 25-11 8-15 8-69 34-14 8-23 16-20 17-48 33-19 17-24 24-26 34-11 16-25 41-26 25-5 9-8 16-7 17-21 74-16 42-12 49-15 75-8 49-9 67-9 91M1565 984l0 16-2 8-10 17-9 8-14 8-63 34-13 8-10 8-27 25-47 33-20 17-17 16-23 25-27 33-29 41-28 25-11 17-11 25-23 74-12 33-11 42-10 49-13 83-19 166M1565 984l5 33-1 8-7 8-11 8-15 9-52 25-31 16-42 25-47 25-25 16-18 17-12 16-48 83-7 8-29 25-17 25-8 17-10 25-23 82-9 58-21 83-6 41-7 91-12 67M1676 984l0 16-1 8-3 9-4 8-7 8-10 8-78 42-45 33-17 8-77 33-31 17-26 16-23 17-30 25-17 16-29 33-35 25-13 17-8 16-9 25-15 58-20 66-14 58-12 67-11 107-10 75M1436 984l-1 16-6 25-10 8-71 42-22 16-17 17-34 41-10 17-13 24-22 50-15 41-14 25-11 33-21 75-6 16-11 25-7 25-23 149-20 166M1467 984l0 33-2 8-11 8-16 8-77 34-33 16-25 17-18 16-7 9-8 16-13 50-7 16-55 91-8 25-17 83-5 16-15 34-10 41-15 124-16 99-7 67M1411 984l-1 24-6 17-9 8-29 17-24 16-11 9-17 16-7 8-25 42-60 91-10 16-7 17-17 50-21 99-5 16-11 25-8 33-19 116-13 116-11 75M1559 984l0 16-3 8-10 17-10 8-14 8-68 34-15 8-46 33-50 33-30 25-23 25-19 25-16 24-17 33-22 25-8 17-9 25-20 74-15 42-8 33-18 91-9 49-8 67-10 91M1587 984l0 24-6 17-7 8-10 8-54 34-10 8-29 33-11 8-55 33-55 42-47 41-40 41-33 25-13 17-8 16-10 25-28 100-15 99-30 165-9 67M1605 984l-1 16-11 25-8 8-11 8-60 34-12 8-35 33-12 8-57 33-22 17-30 25-27 25-24 24-29 33-33 25-12 17-9 16-10 25-17 58-12 33-8 33-11 58-11 75-21 174M1727 984l0 8-9 16-13 17-10 8-14 8-81 34-18 8-13 8-34 25-80 41-35 25-87 66-41 33-31 17-13 8-14 17-10 16-6 17-15 66-19 66-8 33-14 100-20 99-4 33-1 42M1597 984l-1 8-9 25-4 8-8 8-12 8-63 34-14 8-41 33-58 33-36 25-30 25-34 33-14 16-25 33-27 25-6 9-8 16-7 17-21 74-12 33-4 17-12 74-35 249M1400 984l-3 33-2 8-10 8-29 17-52 33-19 16-21 25-11 17-13 25-26 66-13 49-13 42-23 91-6 16-11 25-4 17-24 157-20 166M1455 984l0 24 3 17-5 8-63 50-34 33-56 41-19 17-17 16-22 25-11 17-9 16-11 33-13 34-22 91-9 24-14 34-9 33-6 33-9 58-13 124-13 83M1594 984l0 8-2 8-19 25-10 8-14 8-64 34-13 8-10 8-24 25-47 33-20 17-18 16-31 33-56 66-34 25-17 25-14 33-19 58-12 33-7 25-10 66-18 141-18 108M1400 984l-2 8-12 16-2 9 3 8-6 8-38 25-72 41-8 9-8 33-9 25-13 24-28 42-9 16 0 17-1 16-14 50-12 66-7 25-15 33-6 25-42 315M1515 984l0 24-2 9-3 8-8 8-13 8-74 42-42 33-46 33-28 25-22 25-24 33-10 16-15 33-18 25-14 33-22 83-16 42-8 33-21 124-21 174M1496 984l-18 41-11 8-76 42-13 8-21 16-42 42-16 16-12 17-16 25-22 41-19 41-18 25-4 9-10 24-21 75-15 41-9 33-26 141-23 166M1474 984l-1 8-11 33-10 8-54 33-23 17-9 8-28 33-25 25-23 25-50 66-22 41-16 25-11 33-21 83-16 42-7 33-20 116-13 115-9 67M1468 984l0 33-2 8-8 8-81 50-20 16-62 58-21 25-35 50-9 16-16 33-14 25-12 33-23 83-13 33-5 17-5 33-39 290M1398 984l-1 24-9 17-12 8-33 17-33 25-19 16-16 17-22 25-19 24-16 25-2 8-3 17-14 74-13 42-25 99-14 33-6 25-42 315M1408 984l0 33-2 8-9 8-68 42-22 16-16 17-21 25-16 24-13 25-25 58-13 41-12 34-26 99-6 16-11 25-4 17-23 157-21 166M1448 984l0 24 0 9-4 8-9 8-56 33-25 17-18 16-41 50-21 33-31 58-18 41-18 25-7 17-9 25-23 74-17 42-6 24-20 133-20 174M1705 984l0 24-14 17-9 8-13 8-69 34-15 8-40 33-15 8-72 33-41 25-23 17-32 25-64 57-13 9-18 8-12 8-15 17-6 8-8 17-11 33-22 83-26 115-9 42-7 49-8 67-6 58M1522 984l-1 16-7 17-5 8-10 8-16 8-85 42-25 16-57 42-19 16-14 17-12 16-19 34-8 16-16 41-17 25-8 17-8 25-19 66-18 41-7 25-9 41-10 67-14 132-11 75M1551 984l-7 16-15 25-11 8-15 8-69 34-15 8-24 16-74 58-16 17-19 25-26 41-21 41-22 25-4 9-11 24-26 83-17 42-8 33-9 49-9 58-12 116-10 75M1698 984l0 8-5 8-23 25-11 8-14 8-73 34-15 8-44 33-83 41-38 25-21 17-29 25-17 16-30 33-9 8-12 9-15 8-11 8-14 17-13 25-8 25-24 91-32 132-8 41-7 50-6 50-5 58M1674 984l0 16-2 8-12 17-8 8-11 8-61 34-13 8-33 33-13 8-67 33-52 33-65 50-47 41-30 17-12 8-8 9-13 16-8 17-10 25-24 91-16 99-30 165-9 67M1466 984l0 24-2 9-4 8-11 8-61 33-26 17-20 16-44 50-23 33-33 58-21 41-17 25-4 9-12 33-21 74-14 33-4 17-28 190-18 133M1406 984l0 16-5 17-4 8-11 8-33 17-43 25-22 16-9 8-14 17-10 17-11 24-40 124-11 25-5 17-27 99-16 42-6 33-8 66-32 232M1570 984l-6 33-3 8-7 8-12 8-74 42-41 33-57 33-35 25-28 25-31 33-13 16-21 33-23 25-5 9-8 16-6 17-19 74-14 42-19 82-11 58-7 42-15 149M1618 984l0 16-1 8-8 17-8 8-13 8-17 9-70 33-51 33-62 33-13 8-21 17-17 16-15 17-26 33-23 33-7 8-32 25-13 17-9 16-10 25-32 100-14 91-17 82-7 42-5 41-6 75M1430 984l3 33 0 8-8 8-65 42-24 16-57 50-16 16-19 25-14 25-12 25-5 16-8 33-14 42-21 83-9 24-11 25-7 25-43 315M1415 984l1 41-8 8-70 42-24 16-41 33-24 25-12 17-9 16-11 25-11 33-8 50-28 107-8 25-14 33-5 17-4 25-40 298M1561 984l-18 33-6 8-11 8-101 50-24 16-77 58-17 17-19 25-27 41-21 41-22 25-5 9-10 24-25 83-17 42-10 41-8 41-12 75-19 174M1421 984l0 16-4 17-4 8-10 8-75 42-33 24-16 17-19 25-9 16-11 25-22 58-12 41-13 34-27 99-6 16-11 25-5 17-5 33-17 116-21 174M1549 984l-4 8-20 33-10 8-75 42-12 8-10 8-31 33-39 33-15 17-19 25-32 41-28 41-29 25-15 25-10 25-23 66-14 33-10 42-14 91-14 132-10 75M1691 984l0 8-4 8-23 25-10 8-14 8-69 34-14 8-38 33-14 8-64 33-25 17-53 41-28 25-34 33-10 8-30 17-12 8-15 17-10 16-11 25-29 100-47 273-8 58M1761 984l0 8-6 8-31 33-10 8-15 9-70 33-50 33-18 8-88 33-34 17-29 16-26 17-34 25-20 16-36 33-13 9-17 8-12 8-14 17-5 8-8 17-10 33-31 165-20 75-12 58-10 58-6 58M1491 984l0 8-3 8-12 25-11 8-79 42-25 16-48 42-25 24-18 25-24 42-8 16-16 41-16 25-12 33-20 75-16 41-8 33-25 141-21 166M1580 984l-1 16-11 25-8 8-12 8-59 34-13 8-34 33-62 41-20 17-27 25-32 33-42 49-30 25-12 17-8 16-7 17-20 66-13 33-6 25-12 66-9 58-24 191M1398 984l-1 33-2 8-8 8-27 17-36 25-26 24-25 34-22 33-33 58-12 24-18 58-23 108-5 16-11 25-6 25-21 141-22 174M1499 984l0 16-6 17-5 8-10 8-15 8-64 34-14 8-23 16-52 42-18 16-21 25-22 33-15 25-16 41-15 25-6 17-27 99-15 42-7 33-22 132-23 166M1548 984l2 33-3 8-8 8-14 8-17 9-57 25-33 16-63 42-21 16-14 17-28 49-30 42-21 24-26 25-10 17-10 25-17 74-15 42-12 41-5 25-7 41-8 83-17 91-5 50M1591 984l0 8-11 25-4 8-9 8-12 8-59 34-12 8-34 33-11 8-52 33-21 17-28 25-33 33-44 49-31 25-12 17-9 16-6 17-20 66-12 33-5 17-12 74-37 249M1400 984l1 33-1 8-8 8-66 42-21 16-16 17-21 25-17 24-13 25-27 58-24 75-24 99-5 16-11 25-4 17-22 157-21 166M1485 984l0 16-3 8-12 17-12 8-80 42-12 8-19 16-45 58-27 42-30 41-25 41-18 25-7 17-5 16-18 75-17 50-10 41-16 91-13 116-12 83M1604 984l-3 8-15 25-6 8-10 8-14 8-67 34-14 8-42 33-55 33-33 25-18 16-23 25-21 25-29 41-28 25-5 9-9 16-9 25-19 66-14 42-6 24-28 149-12 83-8 75M1584 984l0 16-17 25-11 8-14 8-68 34-15 8-12 8-30 25-51 33-31 25-24 25-20 25-13 16-26 41-27 25-5 9-9 16-9 25-19 66-15 42-10 41-16 83-9 49-18 158M1651 984l0 16-4 8-12 17-10 8-13 8-87 42-48 33-83 41-26 17-22 16-20 17-25 25-15 16-26 33-30 25-6 9-9 16-9 25-28 108-40 198-12 75-8 58M1637 984l-1 8-25 33-10 8-13 8-67 34-13 8-11 8-27 25-12 8-43 25-34 25-28 25-26 25-52 57-36 25-13 17-9 16-10 25-18 58-12 33-9 33-11 58-7 50-26 199M1569 984l-2 8-13 25-6 8-10 8-14 8-66 34-14 8-11 8-29 25-48 33-20 17-16 16-22 25-25 33-26 41-25 25-5 9-9 16-6 17-22 74-16 42-8 33-10 49-12 75-20 174M1573 984l0 8-11 33-7 8-11 8-52 34-11 8-34 33-11 8-58 33-25 17-31 25-27 25-16 16-29 41-26 25-5 9-8 16-6 17-19 66-19 50-8 33-10 49-14 116-21 133M1425 984l0 16-5 17-4 8-11 8-32 17-44 25-12 8-20 16-14 17-12 17-10 16-11 25-25 66-14 41-13 25-6 17-29 99-17 42-7 41-25 199-14 91M1577 984l0 16-2 8-7 17-8 8-12 8-56 34-11 8-9 8-22 25-10 8-51 33-22 17-28 25-35 33-45 49-32 25-11 17-9 16-6 17-33 108-17 107-27 157-9 67M1580 984l0 8-2 8-6 17-5 8-8 8-13 8-62 34-13 8-40 33-54 33-34 25-27 25-24 25-21 24-24 33-26 25-5 9-9 16-7 17-21 74-12 33-4 17-25 149-24 174M1467 984l-1 24-2 17-8 8-63 42-10 8-16 16-20 25-32 33-20 25-34 50-30 49-21 25-8 17-10 25-24 74-14 33-7 25-5 33-13 91-21 191M1578 984l-1 8-14 25-5 8-11 8-14 8-68 34-15 8-45 33-53 33-32 25-25 25-22 25-18 24-19 33-22 25-8 17-7 16-22 83-14 42-6 33-46 298M1568 984l0 8-3 8-20 25-11 8-56 33-12 9-10 8-7 8-15 25-8 8-66 50-70 58-17 16-28 33-25 25-5 9-11 24-20 83-20 58-15 58-8 50-10 107-19 100M1628 984l0 8-2 8-6 17-4 8-8 8-13 8-16 9-68 33-50 33-64 33-13 8-23 17-19 16-23 25-20 25-18 25-13 16-33 25-12 17-9 16-10 25-33 100-17 107-23 124-5 42-5 58M1602 984l-1 41-4 8-8 8-24 17-44 25-36 25-15 8-73 33-16 8-24 17-18 16-14 17-47 66-8 8-35 25-19 25-13 25-8 25-24 107-22 83-5 33-6 75-16 82-5 34M1568 984l0 16-2 8-9 17-11 8-15 8-91 42-26 16-47 34-23 16-9 8-15 17-12 16-52 83-7 8-27 25-11 17-8 16-10 25-32 100-13 91-16 74-6 41-6 50-7 75M1627 984l-12 33-4 8-7 8-11 8-61 34-12 8-37 33-13 8-61 33-36 25-31 25-27 25-48 49-33 25-13 17-9 16-9 25-17 58-12 33-6 25-21 133-24 182M1485 984l-1 24-3 17-8 8-63 42-10 8-9 8-28 33-36 33-22 25-39 50-33 49-22 25-9 17-10 25-23 74-13 33-4 17-6 33-24 190-16 100M1427 984l0 33-1 8-9 8-64 42-20 16-15 17-40 49-15 25-27 50-22 49-14 25-4 9-8 24-21 75-6 16-11 25-7 25-20 141-20 174M1431 984l-1 24-1 9-3 8-10 8-93 50-25 16-31 25-16 17-20 25-10 16-14 33-7 17-4 16-7 50-19 99-7 25-16 42-5 24-22 141-21 166M1631 984l0 8-5 8-23 25-13 8-16 8-57 25-33 17-12 8-36 33-46 33-87 83-41 41-24 17-9 8-12 17-8 16-8 25-13 58-13 42-23 91-9 49-9 100-17 91M1506 984l0 24-7 17-8 8-60 42-15 16-17 25-8 8-62 50-54 50-23 24-22 33-20 25-4 9-6 16-5 17-17 74-13 33-7 25-16 66-11 67-10 107-12 75M1619 984l0 16-1 8-6 17-7 8-11 8-60 34-13 8-39 33-13 8-65 33-26 17-23 16-30 25-28 25-37 41-32 25-11 17-8 16-6 17-31 108-54 331M1484 984l0 24-3 9-5 8-11 8-75 42-11 8-18 16-47 58-56 83-21 33-6 8-21 25-9 17-10 25-22 74-15 42-15 107-24 141-10 83M1488 984l0 41-7 8-68 50-33 33-55 41-37 33-24 25-20 25-10 17-12 24-17 25-11 33-20 83-16 42-18 82-14 83-11 108-7 58M1492 984l-4 41-7 8-60 42-10 8-28 33-8 8-41 33-26 25-31 33-22 25-28 41-20 25-4 9-12 33-19 74-13 42-35 190-9 66-7 75M1502 984l3 41-6 8-10 8-60 42-36 33-62 41-21 17-19 16-24 25-21 25-9 17-13 24-16 25-12 33-20 83-16 42-19 82-14 83-11 116-6 50M1441 984l0 24-2 9-3 8-10 8-91 50-24 16-29 25-24 25-13 17-16 24-21 42-10 33-34 149-5 16-10 25-4 17-45 323M1471 984l-2 8-16 33-12 8-64 33-28 17-21 16-9 9-30 33-12 16-14 25-23 50-19 49-15 25-4 9-9 24-25 83-18 42-5 24-19 125-21 182M1540 984l-1 8-20 33-11 8-80 42-13 8-20 16-17 17-47 41-21 25-31 42-38 57-25 25-9 17-14 33-20 66-12 33-4 17-34 215-14 108M1419 984l0 16-10 25-9 8-25 17-29 25-7 8-23 33-7 8-45 42-24 24-18 25-8 17-4 16-3 33-2 9-6 16-37 116-10 25-5 17-10 74-16 91-10 99-11 67M1532 984l-5 33-2 8-8 8-12 8-70 42-38 33-49 33-31 25-25 25-28 33-12 16-19 33-20 25-5 9-12 33-20 74-15 42-7 33-24 132-20 166M1566 984l0 8-2 8-18 25-11 8-16 8-68 34-14 8-12 8-29 25-53 41-16 17-20 25-30 41-27 41-27 25-10 17-15 33-21 66-13 33-7 25-7 41-21 158-18 116M1512 984l0 24-1 9-4 8-10 8-14 8-62 34-14 8-22 16-19 17-44 33-27 25-20 25-25 33-9 16-17 33-17 25-14 33-22 83-13 33-4 17-24 149-24 174M1540 984l0 33-2 8-7 8-11 8-68 42-39 33-66 41-31 25-35 33-22 25-27 41-21 25-4 9-7 16-6 17-18 74-14 42-36 198-10 66-8 67M1402 984l1 8 8 25 1 8-7 8-92 58-45 33-25 25-12 17-8 16-5 17-8 33-7 49-17 50-25 91-16 42-26 173-19 158M1464 984l0 24-2 9-4 8-11 8-80 42-14 8-23 16-29 25-26 25-13 17-16 24-21 42-7 16-10 33-13 34-25 99-18 50-7 33-20 132-24 166M1665 984l0 16-16 25-9 8-13 8-86 42-47 33-70 33-43 25-34 25-29 25-24 24-27 33-22 17-10 8-6 9-14 24-8 25-14 58-11 42-32 140-8 42-8 49-6 50-5 50M1459 984l-2 33-2 8-9 8-66 42-11 8-18 16-46 50-13 17-17 24-26 42-24 49-18 25-8 17-9 25-22 74-17 42-5 24-22 141-20 166M1641 984l0 24-9 17-8 8-11 8-61 34-12 8-36 33-13 8-64 33-37 25-33 25-29 25-50 49-27 17-11 8-13 17-10 16-9 25-29 91-5 25-23 133-24 182M1414 984l0 33-1 8-9 8-68 42-12 8-20 16-16 17-23 25-18 25-14 24-24 50-20 66-25 108-5 16-11 25-4 17-23 157-22 166M1389 984l0 33-3 8-11 8-32 17-14 8-23 17-18 16-14 17-10 16-12 25-43 99-22 67-26 107-14 33-4 17-5 25-39 298M1631 984l-1 24-9 17-10 8-13 8-92 42-13 8-35 25-57 33-12 8-28 25-84 91-9 8-35 25-13 17-13 25-8 25-11 49-12 42-22 91-9 49-9 91-17 100M1531 984l0 16-8 17-6 8-12 8-17 8-76 34-16 8-25 16-35 34-20 24-36 58-49 66-22 25-5 9-7 16-6 17-17 74-15 42-16 66-9 58-11 99-18 108M1538 984l-1 24-6 17-8 8-12 8-59 34-12 8-37 33-46 33-30 25-24 25-28 33-13 16-22 33-24 25-9 17-10 25-22 74-13 33-6 25-21 133-24 182M1623 984l-8 16-10 17-7 8-10 8-15 8-89 42-49 33-59 33-23 17-19 16-15 17-27 33-33 49-28 25-6 9-10 16-7 17-24 74-16 42-9 33-11 66-17 141-14 91M1492 984l0 24-5 17-9 8-67 42-11 8-32 33-52 41-33 33-21 25-11 17-9 16-15 33-17 25-4 9-10 24-23 75-16 41-4 17-28 174-18 149M1454 984l-1 24-6 17-10 8-57 33-25 17-18 16-41 50-16 25-32 58-23 49-18 25-8 17-9 25-23 74-17 42-5 24-18 125-12 107-10 75M1563 984l-2 16-7 17-4 8-9 8-14 8-63 34-14 8-41 33-63 41-28 25-24 25-21 25-12 16-21 33-23 25-5 9-8 16-6 17-21 74-12 33-4 17-27 157-23 166M1659 984l-1 16-14 25-9 8-11 8-64 34-14 8-39 33-14 8-67 33-38 25-33 25-29 25-50 49-26 17-11 8-13 17-9 16-9 25-31 108-27 149-23 174M1418 984l0 24-1 9-3 8-11 8-60 33-26 17-21 16-23 25-18 25-9 17-24 58-7 16-10 41-15 42-24 91-6 16-11 25-4 17-6 33-17 116-21 174M1624 984l-2 16-7 25-5 8-9 8-49 34-10 8-22 25-9 8-14 8-55 25-33 17-29 16-38 25-21 17-19 16-36 41-21 17-10 8-5 9-10 16-6 17-18 66-20 58-14 49-8 50-11 108-22 116M1751 984l0 8-3 8-23 25-9 8-12 8-68 34-14 8-38 33-15 8-77 33-49 25-29 17-26 16-36 25-51 41-33 17-13 8-15 17-11 16-10 25-7 25-13 58-17 108-14 58-9 49-8 58-7 75M1555 984l0 16-11 25-9 8-13 8-58 34-12 8-10 8-24 25-58 41-19 17-26 25-31 33-14 16-24 33-26 25-10 17-7 16-6 17-18 66-12 33-6 25-28 157-8 58-11 100M1417 984l0 8-16 33-11 8-27 17-30 25-13 16-20 33-14 17-48 49-19 25-9 17-5 16-5 42-15 58-23 74-14 33-3 9-11 91-14 82-12 108-7 50M1488 984l0 16-3 17-3 8-9 8-14 8-75 42-23 16-62 50-18 17-21 24-24 34-14 24-28 67-8 24-21 83-15 42-6 33-27 198-14 100M1489 984l0 16-4 17-4 8-10 8-75 42-12 8-21 16-45 42-24 25-19 24-21 34-10 16-19 41-17 25-4 9-10 24-20 75-16 41-6 25-25 149-22 166M1636 984l-1 24-8 17-8 8-12 8-17 9-72 33-54 33-69 33-27 17-22 16-17 17-22 25-12 16-21 33-6 8-31 25-12 17-9 16-7 17-23 66-13 33-8 25-7 41-14 125-21 107-6 42M1493 984l0 16-2 8-7 17-10 8-72 42-12 8-19 16-58 58-18 25-26 42-31 57-22 25-9 17-9 25-23 74-16 42-9 33-23 132-20 166M1397 984l0 8 4 25 0 8-8 8-26 17-45 33-16 16-13 17-23 33-18 33-29 58-15 41-16 34-28 99-6 16-11 25-6 25-20 149-20 166M1693 984l-24 33-7 8-9 8-13 8-70 34-14 8-44 33-15 8-69 33-27 17-24 16-21 17-29 25-49 49-25 17-11 8-13 17-9 16-9 25-27 100-33 173-15 91-9 67M1569 984l1 33-1 8-6 8-10 8-14 9-61 33-50 33-62 33-24 17-18 16-15 17-22 33-25 41-6 8-29 25-17 25-8 17-9 25-27 91-9 57-22 100-4 33-6 74-11 67M1562 984l0 16-11 25-9 8-12 8-60 34-12 8-10 8-25 25-47 33-20 17-26 24-23 25-21 25-31 41-29 25-11 17-8 16-6 17-21 66-13 33-8 33-11 58-11 75-21 174M1551 984l-1 33-3 8-9 8-13 8-82 42-51 33-55 33-11 8-19 17-15 16-17 25-14 25-19 41-22 25-5 9-12 24-28 83-14 33-7 25-6 33-16 133-24 149M1538 984l1 41-5 8-9 8-12 9-53 33-47 33-62 33-13 8-20 17-16 16-11 17-15 25-21 41-6 8-8 9-19 16-16 25-8 17-8 25-14 49-10 33-10 50-15 66-7 42-9 91-15 91M1422 984l0 24-4 17-9 8-26 17-33 25-18 16-21 25-42 41-15 17-18 25-18 33-5 16-9 42-12 33-29 99-14 33-2 9-12 82-14 83-12 108-8 58M1412 984l0 24 0 9-3 8-11 8-73 42-24 16-19 17-22 25-16 24-13 25-17 42-6 16-9 41-10 34-24 99-5 16-11 25-4 17-24 157-22 166M1618 984l-2 8-13 25-5 8-9 8-12 8-59 34-12 8-34 33-11 8-56 33-22 17-30 25-36 33-47 49-35 25-13 17-9 16-10 25-17 58-12 33-4 17-12 74-37 249M1500 984l3 33-1 8-6 8-11 8-69 42-44 33-51 33-30 25-22 25-17 25-13 24-12 33-16 25-14 33-22 75-18 41-7 25-7 41-18 141-20 133M1638 984l0 8-10 25-4 8-9 8-12 8-82 42-45 33-65 33-14 8-25 17-20 16-18 17-31 33-33 41-33 25-13 17-9 16-9 25-18 58-12 33-4 17-39 232-6 41-5 50M1633 984l0 16-1 8-9 17-8 8-12 8-60 34-13 8-10 8-26 25-12 8-62 33-35 25-31 25-28 25-49 49-26 17-11 8-13 17-9 16-10 25-18 58-11 33-8 33-12 58-12 75-20 174M1574 984l-3 16-4 8-12 17-12 8-17 8-80 34-16 8-24 16-50 50-41 50-49 49-27 33-24 25-11 25-21 83-7 16-14 34-9 33-4 24-8 75-20 108-7 91M1586 984l0 8-3 8-17 25-10 8-14 8-65 34-14 8-11 8-28 25-49 33-30 25-23 25-22 25-13 16-30 41-29 25-11 17-12 25-23 74-13 33-10 42-10 49-10 67-22 182M1496 984l0 33-3 8-8 8-13 8-60 34-25 16-30 25-45 33-19 17-16 16-20 25-17 25-10 16-14 33-14 25-9 25-21 83-14 41-6 25-29 166-20 149M1477 984l-7 24-7 17-11 8-79 42-14 8-23 16-47 42-15 16-11 17-14 25-16 33-17 49-14 25-6 17-25 91-6 16-11 25-7 25-6 33-17 108-20 174M1684 984l0 8-4 8-19 25-10 8-14 8-89 42-50 33-86 41-40 25-21 17-28 25-24 24-27 33-24 17-10 8-6 9-14 24-8 25-14 58-12 42-33 140-8 42-8 49-5 50-4 50M1417 984l0 24-2 9-3 8-10 8-72 42-32 24-15 17-19 25-14 25-10 24-19 50-12 41-14 34-27 99-5 16-11 25-5 17-6 33-20 124-21 166M1473 984l0 33-2 8-8 8-64 42-11 8-18 16-23 25-35 33-21 25-36 50-29 49-19 25-8 17-9 25-22 74-15 33-6 25-21 141-20 174M1650 984l0 8-32 33-12 8-14 8-70 34-14 8-10 8-26 25-11 8-40 25-23 17-44 41-33 33-30 33-9 8-28 17-11 8-8 9-12 16-9 17-9 25-29 82-4 17-7 41-19 149-24 133M1515 984l-1 8-6 25-4 8-9 8-90 50-87 66-26 25-20 25-23 33-9 16-15 33-17 25-13 33-20 75-16 41-8 33-24 141-20 166M1609 984l0 16-2 8-3 9-5 8-11 8-14 8-81 34-34 16-80 50-22 16-14 17-34 50-32 41-16 16-34 25-12 17-13 25-9 25-20 82-10 50-21 83-7 41-6 91-5 33-9 42M1532 984l0 16-1 17-3 8-7 8-11 8-56 34-12 8-35 33-47 33-31 25-25 25-30 33-13 16-23 33-24 25-9 17-13 33-20 66-13 33-6 25-18 124-24 191M1601 984l-1 8-18 25-7 8-12 8-16 8-76 34-16 8-97 66-10 8-17 17-20 25-23 33-20 33-11 16-29 25-11 17-8 16-7 17-23 66-14 33-6 25-7 41-19 149-21 125M1643 984l0 16-3 8-12 17-10 8-14 8-72 34-15 8-47 33-77 41-33 25-19 17-24 25-15 16-32 41-33 25-12 17-9 16-9 25-18 58-14 42-9 33-10 49-6 42-15 124-12 83M1399 984l-1 16-5 17-4 8-13 8-33 17-31 25-17 16-14 17-37 49-16 25-25 42-9 66-13 49-17 75-5 16-11 25-8 33-22 158-19 149M1553 984l0 16-2 8-10 17-11 8-100 50-96 66-19 17-23 24-18 25-16 25-20 41-21 25-4 9-14 33-21 74-17 42-12 49-11 58-7 50-19 174M1649 984l0 24-9 17-7 8-11 8-60 34-12 8-34 33-13 8-65 33-49 33-31 25-29 25-43 41-29 17-11 8-8 9-12 16-9 17-9 25-28 91-10 41-13 66-9 58-17 166M1606 984l0 16-3 8-10 17-10 8-14 8-69 34-15 8-45 33-58 33-34 25-18 16-24 25-21 25-28 41-29 25-5 9-9 16-10 25-19 66-15 42-12 49-11 58-8 50-20 174M1512 984l0 24-2 9-5 8-11 8-15 8-67 34-14 8-23 16-51 42-27 25-20 24-21 34-14 24-15 33-17 25-14 33-19 75-15 41-6 25-28 157-23 158M1496 984l-12 33-4 8-10 8-76 42-13 8-21 16-62 58-20 25-26 42-9 16-18 41-17 25-13 33-21 75-15 41-7 25-25 149-23 166M1563 984l-2 8-21 33-10 8-14 8-62 34-12 8-19 16-15 17-42 33-18 17-23 24-27 34-44 57-29 25-11 17-8 16-7 17-21 66-13 33-7 25-11 66-18 149-16 100M1437 984l0 33-2 8-9 8-74 42-26 16-23 17-29 25-17 16-19 25-10 16-16 34-8 24-7 42-27 116-8 24-12 25-8 33-21 141-20 166M1409 984l1 16 1 17-1 8-9 8-90 50-36 25-19 16-14 17-10 16-7 17-15 58-10 49-14 42-25 99-16 42-25 165-20 166M1488 984l0 33-1 8-7 8-75 50-37 33-46 33-29 25-22 25-25 33-9 16-14 33-16 25-12 33-20 75-6 16-11 25-10 33-10 58-18 149-15 100M1576 984l0 8-23 33-11 8-15 8-66 34-13 8-20 16-17 17-54 41-24 25-21 25-25 33-28 41-30 25-11 17-11 25-25 74-13 33-14 50-8 41-11 75-18 174M1565 984l-2 16-4 17-4 8-9 8-13 8-82 42-47 33-54 33-11 8-19 17-22 25-18 25-10 16-23 41-25 25-10 17-11 25-24 74-14 33-4 17-6 33-13 91-21 132-8 67M1624 984l0 8-2 8-25 25-13 8-16 8-55 25-31 17-11 8-23 25-9 8-45 33-85 75-18 16-32 33-22 17-9 8-6 9-10 16-6 17-18 74-17 50-15 58-7 41-11 99-15 83-6 42M1408 984l0 8-6 33-9 8-27 17-35 25-18 16-13 17-25 41-50 91-31 66-11 33-21 83-16 42-46 331M1602 984l0 16-15 25-10 8-13 8-68 34-14 8-43 33-69 41-31 25-26 25-22 25-36 49-28 25-6 9-9 16-9 25-18 66-15 42-7 33-18 91-9 49-10 75-9 83M1743 984l-21 24-15 17-10 8-12 8-72 34-15 8-42 33-16 8-75 33-43 25-24 17-33 25-20 16-35 33-10 8-14 9-17 8-13 8-15 17-6 8-8 17-11 33-21 83-26 115-9 42-7 49-7 58-6 67M1457 984l-1 8-6 25-4 8-10 8-73 42-13 8-20 16-41 42-13 16-11 17-35 66-15 41-13 25-7 17-25 91-5 16-11 25-4 17-7 33-19 124-22 166M1499 984l0 24-9 17-11 8-81 42-14 8-22 16-48 42-16 16-20 25-15 25-18 33-18 41-17 25-14 33-20 75-17 41-8 33-25 141-20 166M1582 984l-2 33-2 8-8 8-12 8-16 9-54 25-31 16-39 25-56 33-20 17-22 24-57 83-7 8-31 25-12 17-12 25-11 33-10 41-10 33-10 50-18 74-7 42-8 91-14 83M1670 984l0 8-4 8-17 25-8 8-13 8-67 34-14 8-43 33-15 8-69 33-39 25-33 25-29 25-17 16-31 33-35 25-12 17-9 16-9 25-28 100-27 157-25 174M1522 984l0 16-2 8-13 17-12 8-58 33-13 9-9 8-7 8-16 25-7 8-80 66-28 25-15 17-13 16-17 33-18 25-11 25-25 83-18 41-7 25-11 91-20 108-11 116M1735 984l-8 16-18 25-8 8-11 8-68 34-14 8-43 33-17 8-80 33-31 17-28 16-25 17-34 25-20 16-36 33-30 17-13 8-14 17-10 16-9 25-22 91-41 199-12 74-7 67" fill="none" stroke="#231f20" stroke-width="2.00" stroke-linejoin="round"/></g>
<clipPath id="cpcobs"><rect x="118.3" y="998.2" width="352.7" height="414.1"/></clipPath>
<g clip-path="url(#cpcobs)"><path transform="scale(1)" d="M164 1006l1 5 1 4 6 8 4 4 9 4 8 4 11 9 25 12 6 4 8 9 6 12 5 8 8 9 33 24 7 9 9 12 8 8 12 13 9 12 8 9 2 4 2 8 9 8 3 4 8 21 7 8 2 5 5 8 0 8 2 4 7 9 21 28 3 5 3 8 3 4 8 8 6 13 6 8 8 21 4 12 4 13 3 8 0 12M142 1006l-2 17 1 4 2 4 3 13 9 20 13 21 8 8 5 5 20 12 12 12 9 9 8 8 10 8 13 9 54 29 10 8 13 12 3 4 3 9 11 20 1 9 1 4 8 8 9 13 10 8 4 4 6 8 8 8 3 5 4 8 12 12 3 9 2 4 8 8 3 12 4 9 8 12 3 8 6 13 5 12M190 1006l5 9 2 8 5 4 13 4 9 4 12 9 24 12 4 4 3 9 5 8-2 8-1 4 3 4 24 25 13 13 12 12 10 8 16 13 4 4 24 25 13 16 8 9 27 45 5 13 6 16 6 13 7 20 6 21 6 21 3 12-1 13 6 20M150 1006l0 17 0 4 6 8 7 17 4 8 4 13 6 12 4 8 5 5 17 8 20 12 15 9 18 12 14 8 19 13 21 12 21 17 7 8 13 17 8 8 2 4 1 8 8 13 6 12 19 29 11 21 4 12 10 13 6 8 5 12 10 21 6 8 1 4-1 9 8 16M160 1006l0 5 3 8 3 4 7 4 13 4 9 4 16 9 19 8 4 4 2 4-2 9-1 4-13 16-1 4 0 5 3 4 15 16 13 9 7 4 52 25 23 12 12 8 9 9 3 4 6 12 1 4 1 29 2 4 6 9 4 8 2 4 9 8 17 13 6 8 12 12 4 9 5 12 1 13 11 29 3 12 10 21 1 4 1 8 3 4M165 1006l0 5 1 4 6 8 5 4 12 4 9 4 16 9 31 12 6 4 3 4 1 5-3 8-2 8-5 8-2 5 2 4 11 12 5 4 12 9 40 20 14 9 18 12 8 8 3 4 3 5 0 12 4 17 2 4 14 20 21 21 21 33 2 13 2 8 1 8 2 4 5 9 9 12 17 33 1 8 4 13-1 12M191 1006l5 13 3 4 5 4 15 4 11 4 16 9 35 12 5 4 6 9 9 8 13 16 4 5 17 12 21 21 32 33 7 12 6 9 2 4 4 8 1 8 2 4 6 9 1 8 1 4 4 8 1 5 2 8 0 8 1 4 8 21 9 21 0 8 1 4 11 29 3 12 3 9 6 12 2 13 0 8 2 4 0 8M132 1006l1 9-2 12 8 17 3 4 11 12 9 13 2 4 2 12 1 4 3 5 15 12 7 12 9 9 11 8 25 12 26 17 8 4 9 4 21 13 20 16 9 9 16 16 3 13 5 12 8 17 4 8 13 16 14 21 10 8 12 13 15 20 10 13 4 8 1 4 1 9 4 8 1 4-2 8M175 1006l0 9 2 4 3 4 6 4 13 4 28 13 36 12 8 4 12 9 8 8 2 4 3 12 5 17 0 12 1 9 2 4 2 4 4 4 10 8 27 17 10 8 23 17 5 4 4 4 5 8 5 13 4 8-1 13 1 16 1 8 4 9 5 8 4 8 3 4 9 9 12 16 11 17 3 8 4 12 2 13 1 8 1 4-1 9 3 20M209 1006l0 5 1 4 2 4 3 4 7 4 19 4 11 4 15 9 24 12 4 4 1 4 1 9 0 12 2 8 5 5 12 8 22 16 20 13 18 12 16 13 10 8 6 12 9 17 5 12 0 5-3 8 0 12 2 9 2 20 4 13 3 8 7 12 10 13 3 8 2 4 6 8 3 5 4 8 3 8 1 13 2 4 0 45M163 1006l1 17 3 4 8 4 5 4 3 5 6 12 3 17-3 16 0 4 2 4 3 5 24 16 13 8 16 13 13 8 23 13 14 8 30 21 15 12 4 4 6 8 13 13 6 8 16 21 8 12 5 13 6 8 1 4 2 8 3 9 7 12 6 12 6 9 6 20 2 5 6 8 6 21-1 12 5 8M142 1006l0 5 3 16 3 4 19 21 3 4 2 4 3 13 0 12 1 8 3 5 17 12 21 17 12 12 6 4 14 8 20 9 21 12 31 21 12 12 17 25 3 8 2 9 7 12 7 8 6 13 16 20 7 13 7 8 13 13 7 12 4 8 7 9 3 4 4 12 8 17 1 4 1 8 0 4M181 1006l0 13 1 4 3 4 11 4 7 4 10 9 19 12 4 4 9 13 3 4 19 16 6 5 24 12 12 8 6 9 12 12 6 8 20 33 6 13 7 12 16 21 5 8 11 13 12 16 16 25 3 8 4 17 5 8 0 13 6 8 1 4 0 8 8 13 5 16 2 13 2 4 6 8 1 4M166 1006l0 5 5 8 3 4 6 4 13 4 10 4 27 17 6 4 3 4 0 13 0 4-3 4-7 8 1 4 2 5 13 16 8 8 28 21 23 13 35 20 15 13 8 8 10 8 3 4 9 29 4 25 2 9 9 12 3 8 3 4 8 9 10 12 16 21 11 20 2 13 3 8 6 13-1 20M159 1006l-1 13 0 4 3 4 6 4 5 4 3 5 4 12 6 8 2 4 3 17 2 4 8 8 6 5 18 8 21 12 15 9 17 12 37 21 30 20 9 9 13 12 3 4 2 9 8 12 3 8 1 13 7 8 1 4 2 8 3 9 5 12 7 12 5 13 14 29 9 12 4 9 12 20 1 4 2 21 3 4M165 1006l7 17 5 4 12 4 10 4 14 9 17 8 7 4 5 4 7 9 7 12 7 8 4 9 3 4 24 20 5 9 11 20 4 5 11 8 13 16 11 17 5 12 6 9 4 12 5 8 12 21 6 13 16 12 3 8 2 4 17 21 15 21 2 8 2 4 7 8 5 21 10 33M137 1006l1 13 1 8 7 13 2 8 8 12 7 21 3 4 7 8 6 5 24 12 19 12 31 25 18 13 10 8 18 12 9 9 3 4 4 8 11 13 5 8 9 12 7 13 12 16 8 9 16 16 6 8 13 13 9 12 4 8 8 13 7 8 7 13 1 8 1 4 9 21 2 8 3 8M211 1006l1 5 2 4 2 4 4 4 9 4 22 4 16 4 22 9 37 12 7 4 8 9 4 8 3 8-2 8 0 5 5 12 4 17 8 12 2 8 1 4 5 9 7 12 14 21 3 8 2 4 7 9 3 12 5 8 11 13 4 8 3 4 6 8 17 33 1 9 2 4 6 8 3 8 1 5 2 8 3 12 0 58M152 1006l3 21 3 4 2 4 0 9 4 12-9 17-3 8-1 4 2 8 2 5 40 24 15 9 24 12 13 8 30 13 24 12 19 13 10 8 18 21 9 8 4 4 2 4 2 4 2 13 4 8 9 13 4 12 5 8 4 13 8 12 16 21 13 29 8 12 9 13 8 20M168 1006l0 5 1 12 2 4 7 4 5 4 7 9 5 4 23 16 7 9 4 4 11 8 13 13 14 8 5 4 3 4 4 8 5 13 5 8 10 13 10 8 36 25 16 12 4 4 3 4 12 17 0 8 2 4 6 9 0 12 1 8 3 5 8 8 3 8 3 4 11 13 23 29 3 8 3 16 5 17 0 4-1 8 6 13 3 12M159 1006l-2 9 0 8 2 4 5 4 4 4 2 9 3 4 10 12 9 9 10 8 13 12 14 9 24 12 10 8 4 4 6 9 4 12 11 13 10 12 8 8 13 9 5 4 9 8 18 12 15 17 11 12 5 9 3 8 8 29 4 8 4 13 12 12 4 8 11 13 4 8 4 4 9 8 3 5 3 8 0 8 4 13 0 8 4 12M187 1006l-1 5 2 4 8 8 7 4 15 4 10 4 19 17 3 4-1 4-3 9-4 12 0 4 3 4 7 4 9 5 32 12 23 12 8 5 12 8 4 4 3 4 3 8 0 9 0 12 2 4 5 9 4 8 3 4 7 8 28 21 4 4 5 8 8 9 2 4 1 4 2 8-2 17 1 4 3 12 8 17 15 21 12 12 5 12 2 9 0 8-2 12 1 13 5 12M176 1006l-2 5 0 4 4 8 6 4 14 4 11 4 14 9 28 12 5 4 5 9-1 8 1 4 5 8 2 9 2 4 18 20 8 13 15 21 10 8 4 4 5 8 14 13 12 12 13 17 11 12 8 13 8 8 8 12 14 21 8 8 2 4 1 9 10 12 0 8 3 13 9 20 2 21 2 4 5 9 1 12-1 8M139 1006l0 5-7 16-1 4 1 4 0 5-1 8 1 4 7 8 10 9 13 8 30 21 14 8 5 4 5 8 1 4 1 9 10 16 4 4 16 9 19 12 29 13 45 29 5 4 2 4 7 16 1 9 0 12-1 8 0 5 14 12 5 8 4 4 11 9 19 20 24 21 4 8 1 4 1 9 3 12 2 13 2 8 3 12M211 1006l-1 5 3 4 3 4 5 4 10 4 24 4 17 4 12 5 10 4 34 12 5 4 1 4 0 5-1 12 0 8 1 4 2 5 4 4 4 4 29 21 31 29 2 4 3 16 0 13 5 12-2 8 1 5 4 8 9 12 4 9 11 12 2 8 3 4 7 9 1 4 2 8 2 8 0 9-1 12 0 4 1 8 1 9 1 4 5 8 3 13 3 4 0 45M210 1006l1 5 8 12 7 4 20 4 13 4 21 9 39 12 8 4 10 9 8 8 16 21 33 37 7 16 12 34 3 8 11 21 3 12 3 8 9 13 2 8 2 4 6 8 0 13 4 8 3 8 2 13 1 12 3 13 3 20 1 9 2 8 0 41M165 1006l1 13 2 4 3 4 7 4 4 4 6 9 11 12 2 4 9 21 4 8 3 4 5 5 31 16 37 25 11 8 34 21 16 12 3 5 10 16 11 13 2 4 3 8 3 8 6 13 4 12 4 17 2 4 6 8 8 21 10 12 11 21 13 21 6 20 8 21 1 4 0 4M206 1006l7 9 6 8 8 4 23 4 16 4 31 13 26 8 6 4 1 4 1 13-1 16 1 5 4 8 6 8 16 17 36 33 12 12 18 33 1 13 9 41 0 9 1 4 8 8 1 4 0 8 5 9 6 12 6 8 2 4 1 9 7 12 1 8 0 54M181 1006l-1 9 2 4 2 4 4 4 11 4 43 25 5 4 4 4 12 17 7 8 5 4 21 13 16 12 36 29 17 17 2 4 4 8 6 9 4 8 3 8 4 17 6 12 2 13 7 16 15 25 11 21 11 20 14 21 6 12 1 13 4 12 2 9 0 12 3 8M152 1006l-4 13-4 8 0 4-2 9-1 4 0 4 2 4 3 4 9 8 12 9 22 12 19 13 15 8 5 4 3 4 2 4-1 9 1 4 4 8 1 4 2 4 5 4 6 5 23 12 29 12 8 5 27 16 5 4 4 4 5 9 2 4 1 4 0 21 4 8 0 4 0 8 24 21 13 12 11 9 4 4 7 8 10 21-1 12 5 9 4 12 13 21 6 16M198 1006l-1 5 3 8 2 4 5 4 16 4 11 4 16 9 14 8 6 4 3 4 1 4-2 5-4 8 0 4 3 12 2 5 5 4 17 12 6 4 23 13 8 8 27 17 11 8 14 12 14 17 2 4 1 8 3 13 2 20 2 9 3 12 4 13 1 8 2 4 11 16 6 13 10 12 5 9 5 8 3 8 3 8 1 9 8 8 1 4 0 4-2 4 2 9 0 16M203 1006l0 5 2 8 3 4 6 4 19 4 14 4 49 21 6 4 2 4 2 9 3 12 4 13 17 29 15 20 14 13 4 8 13 12 9 13 14 16 8 13 7 12 7 9 3 4 3 8 9 8 3 4 1 9 7 12 3 8 1 4 0 9 6 12 2 21 2 12 1 17 1 4 4 8 2 9 1 4 1 16M171 1006l2 5 8 12 5 4 12 4 9 4 6 5 25 12 5 4 3 4-1 9-10 24 0 5 2 4 4 4 12 8 12 13 38 20 47 29 11 9 7 8 5 8 4 8 1 5-1 8 1 4 6 29 8 12 3 9 4 4 9 8 18 21 7 12 8 13 5 12 5 17 2 12 5 21 1 16M154 1006l0 5 0 4 0 4 2 4 3 4 6 4 3 4 2 5 7 8 2 4 1 4-1 4-5 13-4 8 0 4 2 4 3 4 5 5 49 24 7 5 12 8 7 4 32 17 6 4 26 20 7 9 5 12 6 8 3 5 5 16 3 4 7 9 8 12 13 12 7 9 13 12 15 21 7 12 7 21 6 8 4 13 11 20 5 21 4 8M189 1006l0 5 5 8 3 4 7 4 17 4 13 4 20 9 35 12 7 4 4 4 9 17 5 12 2 5 13 16 2 4 5 17 2 4 7 8 13 21 6 12 8 9 2 4 13 29 10 12 1 9 1 4 5 8 21 25 6 8 5 12 6 9 2 12 7 8 3 5 4 16 5 13 1 12 3 8 1 4 0 9 2 8 0 8M188 1006l2 5 2 12 3 4 11 4 7 4 9 9 12 8 5 4 2 4 0 4-2 9 3 8 2 4 4 4 10 9 35 20 15 9 30 20 14 13 8 8 3 4 5 8 10 29 1 5 2 20 11 13 10 20 19 21 17 21 1 4 1 8 6 8 1 5 1 8 4 8 2 8 4 17 0 8 0 4 2 9 1 8 1 4 2 4M165 1006l0 5-1 12 2 4 10 8 3 5 2 4 5 12 0 4 0 4-5 9 0 4 1 4 3 8 3 4 4 5 7 4 34 16 37 21 25 12 39 25 6 4 4 5 6 8 6 12 5 9 3 12 4 8 1 4-1 9 5 12 4 8 5 13 7 8 8 12 14 13 16 21 4 8 4 4 8 8 5 13 4 8 2 12 5 25M189 1006l0 5 3 8 2 4 5 4 14 4 11 4 29 17 10 8 6 9 5 20 4 4 10 9 21 20 10 9 4 4 6 8 17 13 17 16 29 33 2 4 1 9 8 12 3 8 6 13 6 8 2 4 0 9 7 12 6 21 5 8 2 4 0 8 10 21 1 4 1 8 6 13 4 8 9 33M215 1006l-2 5 0 4 2 4 3 4 8 4 22 4 15 4 20 9 36 12 7 4 5 9 1 4 1 8 3 8 3 9 8 16 9 8 3 5 4 8 11 12 5 9 11 12 10 8 2 4 4 9 5 8 10 12 2 5 9 20 10 17 2 4 1 8 13 33 3 21 4 12 2 9 0 12 1 8 2 9 1 45M193 1006l1 5 2 8 3 4 7 4 16 4 11 4 15 9 24 12 6 4 2 4 0 9 2 12-2 8 0 5 3 4 23 25 8 12 43 37 24 25 10 13 6 12 18 21 3 8 14 21 7 12 0 12 5 21 6 13 4 8 1 4 8 37 0 4-1 9 6 12 0 4M198 1006l0 5 9 8 5 4 9 4 22 4 16 4 26 9 43 12 9 4 2 4 2 5 0 8 0 4-6 12-3 5-2 4-1 4 4 12 2 4 6 9 14 12 24 17 11 8 13 8 5 4 4 9 9 12 2 4 1 9 1 16 0 4-3 9 0 4 3 8 1 8 3 9 7 16 18 25 8 12 4 9 3 12 1 4 0 4-1 17 2 8 0 33M160 1006l0 17 3 4 8 4 5 4 3 9 11 12 2 25 1 4 5 8 4 5 21 12 42 29 44 25 30 21 18 20 9 13 7 8 3 4 5 8 5 13 5 8 9 21 5 12 7 13 6 8 2 12 8 13 4 8 2 8 2 4 6 9 4 12 3 8 2 13 6 8 2 4M206 1006l9 17 7 4 22 4 15 4 21 9 38 12 7 4 3 4 6 13 2 12 2 4 6 9 12 20 3 9 3 4 8 8 11 13 17 20 15 21 6 12 6 9 1 4-1 8 7 13 3 8 0 12 2 9 2 4 5 8 10 33 4 8 1 4 1 9 5 12 2 8 4 9 0 45M145 1006l0 17 1 4 4 4 2 4-2 9-3 25 0 8 0 8 4 8 4 5 8 4 17 8 16 8 21 13 24 12 21 13 32 16 21 13 5 4 8 8 4 8 3 4 8 9 5 8 17 37 12 21 3 8 10 13 5 8 3 4 9 8 6 13 7 8 12 21 9 12 6 13 8 20M196 1006l10 17 6 4 16 4 10 4 35 17 6 4 5 4 4 9-1 16 1 8 2 5 18 24 11 13 18 16 16 13 13 12 11 9 4 4 6 8 14 12 17 29 5 13 7 12 2 9 6 12 1 8 3 13 0 12 3 8 0 13 6 8 1 4 2 8 5 13 5 21 2 8 4 12M154 1006l-2 13-1 4 1 4 8 8 12 17 15 21 4 4 15 12 13 9 35 16 8 4 12 9 27 20 4 4 6 9 22 20 2 5 1 8 4 8 3 13 3 8 2 4 13 21 6 8 12 12 7 9 4 4 11 8 11 12 8 9 6 8 7 17 8 12 5 8 2 13 2 8 0 12 7 25M154 1006l-2 17 1 4 9 8 3 5 2 4 4 12 1 4-1 4-3 9-3 8-1 4 3 8 4 5 13 8 25 21 12 8 7 4 41 21 12 8 22 12 6 5 25 20 12 13 7 8 4 8 10 13 5 8 9 12 8 13 2 8 6 12 15 21 6 13 2 8 11 21 5 12 5 8 2 4 1 9 7 16M168 1006l0 5 2 4 6 8 4 4 11 4 8 4 13 9 15 8 6 4 3 4 4 13 1 4-3 8 0 4 2 4 3 5 14 12 3 8 10 13 6 8 4 4 12 8 13 13 10 8 16 13 8 8 10 12 21 21 22 33 12 13 6 12 5 8 7 8 2 5 2 8 6 12 1 9 2 4 6 8 4 12 3 9 1 12 7 21 0 8 1 4M142 1006l-1 5 0 4 1 8 2 4 4 4 2 4 2 9 10 8 20 12 4 5 7 8 8 16 3 5 13 12 9 17 10 12 4 4 13 8 43 21 8 4 26 17 6 4 8 8 9 21 2 12 7 21 5 8 4 5 28 28 9 13 7 8 3 4 10 9 1 4-2 8 6 8 2 4 1 9 1 4 3 8 6 8 3 13 4 12M150 1006l1 17 2 4 6 4 5 4 2 5 4 12 0 8-2 9-4 8-5 8-1 4 1 4 3 5 6 4 15 8 19 12 17 13 15 8 78 42 12 8 17 16 5 9 3 4 8 8 0 8 1 5 8 8 1 4 0 8 6 9 6 12 10 12 2 9 10 12 7 12 12 17 3 4 8 8 9 13 2 8 3 4 6 9 2 12 3 8M149 1006l1 9 3 8 2 4 6 4 3 4 5 9 17 12 9 8 10 17 9 12 4 5 23 12 11 8 5 4 8 9 10 12 34 33 34 38 11 12 14 21 24 25 5 8 5 12 8 8 2 5 2 8 12 21 4 12 11 21 4 12 11 21-1 8 1 4M137 1006l3 9 1 4-1 8 5 8 3 13-1 4-2 4-12 21 1 4 9 8 13 9 28 12 8 4 13 8 41 34 22 16 32 17 11 8 13 12 3 5 5 8 6 8 8 13 5 12 5 8 4 13 22 20 20 21 2 4 4 8 14 21 9 17 10 16 4 9 2 4 1 8 5 8M131 1006l0 5 0 4 2 4 5 8 8 8 2 5 0 8 1 8-1 4-15 13 0 4 4 4 20 17 19 12 4 4 3 4 7 4 37 17 17 8 30 21 8 12 21 13 14 12 4 4 3 5 4 12 24 25 10 12 7 13 1 8 2 4 4 4 6 4 3 4 5 9 9 8 6 8 4 9 3 4 13 16 9 13 9 16-2 9 1 4 9 16M162 1006l0 5 9 16 15 8 12 9 15 8 6 4 3 4 2 4 0 13 5 16 3 5 16 12 19 21 13 12 10 8 17 13 9 8 18 13 15 20 11 13 12 16 3 4 4 9 14 20 11 13 6 12 7 8 1 5 0 8 9 8 3 4 1 9 5 8 2 4 0 8 1 4 9 17 5 12 0 13 6 12M190 1006l1 5 2 8 2 4 5 4 14 4 9 4 14 9 16 8 5 4 1 4 7 9 2 4-1 8 0 4 2 8 6 5 13 8 22 21 13 8 53 41 8 9 14 16 9 8 2 5 0 8 5 12 4 9 2 12 4 12 4 9 4 20 4 13 3 8 7 12 0 13 9 21 2 8 2 4 5 8 6 29M154 1006l-3 13 1 4 4 4 7 4 2 4 4 17 4 8 1 4-1 9 0 4 2 4 6 12 4 5 25 12 30 17 17 12 15 8 23 13 7 4 16 12 15 13 16 16 19 29 1 4-1 9 6 8 2 4 0 8 10 13 5 8 3 12 11 9 3 4 11 21 7 8 9 12 14 29 2 4 1 9 2 4 5 8 0 4M190 1006l-1 5 2 8 4 4 6 4 15 4 8 4 19 17 4 4 1 4-1 9 0 8 2 4 2 4 4 4 5 4 7 5 29 12 33 17 10 8 6 8 2 4 3 9 2 16 2 8 5 13 11 16 4 5 11 8 5 4 7 8 13 13 7 8 2 12 4 9 0 4 0 8 2 8 1 13 2 4 6 12 2 4 12 13 3 8 2 4 7 9 2 4 2 8 1 8 5 13-3 8-1 8M153 1006l3 17 2 4 6 4 19 17 7 8 2 4 0 9 3 8 1 8 1 4 2 4 4 5 6 4 10 8 10 12 35 29 23 17 8 8 16 13 9 8 15 21 7 12 12 13 6 8 10 12 5 9 4 4 10 8 12 21 14 12 3 8 3 4 8 9 2 4 3 8 2 8 17 34 3 12 2 8M207 1006l0 5 3 8 4 4 7 4 20 4 13 4 18 9 32 12 5 4 5 9 1 4 1 8 2 17 1 4 2 4 12 21 18 20 42 42 4 4 5 8 7 13 8 8 3 4 12 21 10 29 7 12 1 12 5 21 0 8 1 13 8 21 1 12 2 21 3 16M181 1006l0 5 5 8 4 4 6 4 15 4 12 4 18 9 32 12 7 4 4 4 6 13 7 8 9 21 10 12 10 21 3 4 7 8 10 9 4 4 4 8 14 13 5 8 27 33 12 21 9 12 0 8 1 5 10 20 2 13 4 12 6 17 11 20 2 13 1 8 1 4 5 8 3 9 1 4-1 8 1 4M182 1006l0 5 3 8 3 4 6 4 16 4 74 25 10 4 7 4 6 5 4 4 4 8 2 8 1 9-2 12 2 8 0 4-1 9 3 4 9 8 6 8 5 5 14 8 17 12 20 17 6 8 8 13 4 8 3 8 2 8 0 21 0 4 3 9 0 8 2 4 8 8 7 13 10 8 3 4 6 12 7 17 0 12 4 9 0 4 0 21 2 8 4 12M162 1006l0 5 3 12 3 4 8 4 10 9 26 16 5 4 4 9 9 12 3 8 3 4 5 5 18 12 28 25 18 21 14 12 16 12 8 9 16 33 9 8 3 4 6 13 9 16 13 13 3 8 10 12 3 9 2 4 8 8 8 21 13 20 1 5 1 8 8 12 2 21 3 8M159 1006l0 5 2 4 8 12 8 4 5 4 7 9 11 8 3 4 0 4-3 9-4 8 0 4 0 12 2 5 3 4 18 16 17 13 9 8 5 4 29 17 23 12 24 17 6 4 4 4 7 8 22 21 12 21 8 12 4 13 6 8 3 12 8 13 8 16 3 4 6 9 3 12 10 17 18 37 1 8 1 4M195 1006l1 5 7 8 4 4 8 4 20 4 12 4 13 9 17 8 5 4 2 4-6 13-1 4 0 4 1 4 2 4 4 4 6 5 35 16 23 13 10 8 7 8 2 4 3 9 3 16 2 17 1 4 2 4 13 17 14 12 12 12 9 13 4 8 0 21-1 8-1 4 10 21 3 8 2 4 14 17 2 4 4 8 5 21 1 4-1 21 1 8 0 4M131 1006l3 13 3 8 12 17 12 12 6 8 7 9 1 4 2 8 7 13 9 8 10 8 4 4 5 9 3 4 12 12 10 8 37 21 46 29 5 4 20 21 5 8 11 13 3 8 9 12 1 9 1 4 5 8 4 12 2 5 7 8 15 16 8 13 18 21 2 4 4 8 5 12 4 9 6 16M136 1006l2 9 0 8 1 4 12 17 11 12 3 4 5 13 4 12 7 13 15 12 11 12 13 13 16 12 19 13 35 20 23 17 13 12 9 9 11 12 9 13 4 8 15 21 2 4 2 8 5 8 9 13 10 12 8 12 11 21 9 8 3 5 4 8 2 8 2 4 11 17 2 4 1 8M160 1006l1 5 3 8 3 4 5 4 10 4 7 4 12 9 22 12 4 4 3 4 3 9 9 12 4 8 4 5 12 8 4 4 15 17 13 12 16 21 33 33 2 8 2 4 19 29 7 21 3 4 14 17 3 4 4 8 3 4 15 17 11 12 5 13 9 12 9 17 1 4 2 8 5 12 4 13 2 8 0 4M200 1006l-1 5 4 8 3 4 7 4 17 4 11 4 18 9 27 8 11 4 7 4 43 33 8 9 11 12 6 13 1 4 0 8 1 8 2 9 11 24 7 13 3 8 3 4 10 9 11 12 17 29 3 8 4 13 3 16 4 8 0 21 1 4 5 9 1 12-1 8 9 13 4 12 0 33M154 1006l2 13 1 4 3 4 6 4 9 9 18 12 8 8 12 9 4 4 14 20 17 13 15 16 13 21 11 13 14 12 23 17 19 16 8 8 18 21 3 4 5 9 10 12 3 8 7 13 4 8 9 25 6 8 6 12 7 9 1 4 1 8 13 13 9 20 3 13 5 16M131 1006l0 5 1 8 3 8 3 4 14 13 6 8 12 12 5 9 1 4 1 8 3 8 3 5 12 8 4 4 3 8 11 13 14 12 21 17 20 12 23 13 13 8 15 12 17 13 16 16 3 4 5 9 10 12 7 21 6 12 2 8 26 34 7 12 7 8 6 13 20 29 2 4-2 8 2 4M134 1006l1 5 4 12 2 4 13 13 8 16 0 8 0 5-1 4-9 12-3 4-1 4 2 5 16 12 6 4 17 8 29 17 15 8 23 9 18 8 15 8 25 17 3 4 2 4 6 17 5 8 1 8 2 4 7 9 2 4 3 8 7 8 8 9 19 16 9 8 14 13 10 16 13 25 5 17 8 16 2 9 2 4 6 8 4 8M164 1006l0 5 2 4 1 4 3 4 7 4 13 4 9 4 36 21 6 4 3 4 2 5-1 4-1 4-3 8-1 4 0 4 3 9 4 8 5 8 4 4 10 9 8 8 5 4 26 17 7 4 18 8 7 4 12 9 8 8 18 21 3 4 1 8 5 12 0 9 1 4 3 8 2 8 1 5 12 20 15 21 14 16 13 17 6 21 8 20 0 13 1 12M157 1006l0 9 3 8 2 4 5 4 12 13 15 12 3 4 1 4 7 21 2 4 5 4 19 13 35 25 16 12 18 13 23 16 14 13 3 4 5 8 10 8 4 4 18 29 3 13 5 8 9 13 11 20 4 13 8 12 7 17 2 4 7 8 2 4 9 17 5 12 4 13 1 8 2 4 7 8M144 1006l-1 5-1 8 1 4 2 4 3 4 3 21 4 8 3 13 2 8 1 4 9 8 6 5 20 8 21 12 16 9 17 12 15 8 5 4 9 9 23 16 14 13 4 4 3 8 2 4 7 9 6 12 7 8 4 13 20 20 19 25 7 8 13 13 7 8 8 21 12 12 0 9 1 4 5 8 4 21 9 12-1 4M167 1006l-1 9 5 8 5 4 13 4 9 4 18 13 17 8 4 4 1 4 0 9-2 8 0 4 1 8 1 5 3 4 11 12 17 17 15 12 23 13 31 20 10 9 13 12 13 21 2 4 1 8 3 8 6 13 2 12 10 21 13 12 6 9 13 20 7 13 7 8 3 4 1 8 6 13 1 8 1 4 4 9-1 20M158 1006l3 17 1 4 6 4 3 4 4 9 8 12 6 13 3 12 2 4 4 4 4 4 5 5 26 12 6 4 12 8 14 9 6 4 8 8 5 4 23 17 5 4 12 12 5 9 5 8 11 12 5 9 5 12 14 13 3 8 3 4 11 17 20 20 3 4 5 13 4 8 6 8 2 4 2 9 7 12 10 21 13 41M172 1006l-1 5 3 12 3 4 17 8 21 17 4 4 2 4 2 13-2 12 3 8 3 5 17 12 9 8 9 9 5 4 23 16 32 21 11 8 10 9 20 20 8 9 7 8 3 4 4 8 10 13 16 41 9 12 1 9 1 4 10 21 11 29 7 12 2 12 8 21 0 4M198 1006l1 5 5 8 4 4 8 4 21 4 15 4 25 9 44 12 11 4 7 4 5 5 4 4 3 4 2 4 2 8 0 21 2 21 2 8 1 4 15 21 9 8 17 13 20 20 3 4 6 13 5 12 2 4 4 21 1 21-1 12 7 21 6 12 6 9 2 4 3 16 2 4 2 5 2 4 0 45M145 1006l1 5 5 8-1 4 1 4 7 8 5 9 13 16 1 4 1 17 1 4 5 8 3 5 25 16 18 17 20 16 20 13 13 8 5 4 8 8 12 9 5 4 23 29 12 12 6 13 6 8 8 12 6 9 12 12 8 12 8 9 8 12 7 8 3 5 3 8 9 12 3 9 8 12 3 12 6 17 4 8M212 1006l1 9 1 4 3 4 7 4 20 4 14 4 28 13 23 8 8 4 15 21 12 17 16 16 10 13 9 8 14 12 9 13 11 20 7 9 2 4 3 8 5 8 1 5 1 8 0 12 2 9 4 12 2 12 2 9 6 12 0 8 4 13 6 12 2 8 6 13 1 8 4 8 0 54M134 1006l0 9 0 4 1 4 7 17 6 12 1 8 8 21 0 12 5 5 17 8 6 4 40 33 21 17 23 12 21 13 12 8 11 8 9 13 5 8 10 12 4 9 7 12 8 8 3 4 1 9 13 12 32 33 13 21 7 8 11 21 2 4 1 8 8 13 4 16M175 1006l2 13 1 4 4 4 12 4 8 4 12 9 21 12 4 4 6 9 2 4 3 8 3 4 7 8 5 5 12 8 9 8 27 21 12 12 25 21 13 17 24 37 6 12 6 21 4 12 12 21 6 8 4 13 6 12 13 21 7 21 6 12 3 8 3 9 2 4-1 8 3 8M141 1006l0 5-1 8 2 4 3 4 4 4 2 4 7 21 1 4 0 4-3 9 0 12 2 8 3 5 5 4 20 12 17 13 20 12 12 8 38 21 20 12 15 9 6 4 7 8 11 13 8 12 7 8 12 21 5 12 4 9 4 4 10 8 2 8 1 4 9 9 4 4 15 21 5 8 11 12 19 42 2 12 2 4M154 1006l-1 5 6 12 2 4 9 8 15 17 3 4 1 4 0 4 3 13 0 8 3 8 3 5 10 8 18 12 27 21 15 12 14 9 12 8 30 25 8 8 14 17 14 20 8 9 2 4 4 8 9 13 14 20 7 8 20 34 8 8 3 4 1 8 4 13 6 8 2 4 2 8 3 21 1 4M200 1006l1 5 5 8 4 4 7 4 19 4 14 4 18 9 23 8 10 4 4 4-1 13-1 20 0 5 7 16 5 8 7 9 9 12 39 29 20 17 8 8 15 21 11 20 7 21 1 4 4 29 0 13 5 8 2 4 1 8 5 13 1 8 2 4 4 8 2 9 2 4 6 8 3 8 1 5 1 4 0 16M148 1006l0 5-2 8 0 4 2 4 4 4 0 4-5 17-3 25 0 4 1 4 5 8 5 5 30 12 39 21 18 8 25 12 41 25 12 9 4 4 7 8 10 17 1 4 1 8 4 8 6 13 3 12 5 8 18 25 18 21 21 21 8 12 7 8 5 13 8 8 1 4 1 8 6 17 2 8M208 1006l0 5 1 4 1 4 3 4 9 4 20 4 15 4 51 21 7 4 8 13 4 12 7 13 3 8 2 4 6 8 10 13 13 20 20 21 9 13 8 8 6 12 6 9 7 12 2 8 1 4 5 9 10 12 8 29 5 12 7 21 3 13 1 20 5 21 0 37M206 1006l-1 5 2 4 2 4 4 4 8 4 21 4 16 4 25 9 47 12 11 4 8 4 5 5 3 8 2 16 5 9 14 16 4 4 13 9-1 4-4 8 1 8 1 13 2 8 2 4 7 9 6 12 11 12 16 21 1 4 0 4 1 5 4 8 1 8 1 4 5 9 11 24-1 9 2 8 1 4-1 8 2 13 0 8 3 12 4 9 1 45M154 1006l0 5 1 8 2 4 4 4 14 8 10 9 16 12 16 17 16 20 6 5 14 8 5 4 18 17 11 8 14 12 12 9 4 4 5 8 14 12 7 9 2 4 3 8 7 8 2 5 2 8 2 12 5 9 6 12 9 12 4 9 14 20 12 13 9 12 21 33 4 9 10 20 1 13 5 8 1 4 0 4M137 1006l0 5 3 16 9 17 5 29 0 4 0 8 3 8 4 5 19 12 10 8 19 13 15 12 12 8 15 9 25 12 5 4 9 9 12 12 17 17 26 33 8 12 11 13 6 8 13 12 7 8 14 21 11 13 3 4 17 29 4 12 2 8 6 13 2 12M211 1006l1 5 2 4 4 4 5 4 9 4 21 4 13 4 18 9 21 8 7 4 5 4 5 9 3 4 10 8 7 8 5 4 37 25 2 4-1 9 1 4 3 8 2 4 7 9 15 16 1 4 0 13 2 12-1 8 1 5 5 8 3 8 2 4 7 9 7 12 9 8 3 4 0 9 4 16 5 17 3 8 2 4 1 4 1 4-3 9 0 4 3 8 0 13 3 12 0 37M194 1006l1 5 5 8 3 4 8 4 17 4 35 13 42 12 9 4 11 9 9 8 12 12 11 13 5 8 3 12 2 5 7 8 1 12 3 13 4 8 11 21 3 12 4 8 5 13 7 8 2 4 2 9 10 12 27 41 4 13 3 8 1 12 4 21 3 13 0 8 3 12-1 9 1 20M149 1006l-1 5 0 4 1 4 2 4 4 4 7 4 5 4 17 17 2 4 1 4-2 9-3 4-8 8-1 4 2 8 3 5 25 16 49 29 56 29 13 8 8 9 2 4 2 8 7 8 2 5 4 16 2 4 9 9 1 4 2 8 17 21 28 29 11 12 2 4 3 8 7 13 2 8 7 13 2 12 6 17 7 12 4 8M161 1006l3 13 1 4 5 4 9 4 8 4 9 9 24 12 7 4 8 9 5 8 8 12 2 9 11 12 5 12 8 13 7 8 66 46 11 8 8 8 3 4 4 9 6 8 5 8 1 4 0 9 0 4 5 8 3 13 7 8 2 4 2 8 9 13 18 20 11 21 13 33 4 8 1 5 0 8 1 12M199 1006l2 5 4 8 3 4 8 4 20 4 15 4 24 9 40 12 10 4 6 4 26 34 11 16 6 13 2 12 3 8 1 4 6 9 5 12 3 8 2 13 6 12 6 9 1 12 12 21 6 12 5 8 11 13 2 8 11 21 2 4 0 8 7 21 2 12 3 9 1 4 0 45M133 1006l0 17 1 4 1 4 20 50 2 4 13 13 6 4 22 12 7 4 10 9 15 12 27 21 15 8 6 4 15 13 12 12 14 17 4 8 3 4 7 8 10 13 8 8 8 12 19 21 13 12 5 9 6 8 4 4 8 8 3 5 3 8 8 8 2 4 1 9 7 12 2 12 3 9 6 12 1 4M157 1006l0 13 1 8 4 4 3 4 3 9 9 12 4 17 4 8 3 4 9 8 7 5 26 12 15 8 33 21 30 25 24 21 1 8 1 4 15 21 7 16 15 25 14 13 33 41 9 12 4 9 4 12 6 12 2 9 1 12 5 8 2 5 1 8 5 12M179 1006l0 5 2 8 2 4 4 4 10 4 7 4 11 9 14 8 5 4 3 4 0 9-3 16 0 4 0 4 3 5 14 12 16 17 10 8 15 12 8 9 23 12 11 8 4 4 7 9 17 12 8 8 9 13 9 8 2 4 2 9 9 12 4 8 8 13 2 8 3 4 6 8 3 13 4 8 4 12 3 9 3 12 8 21 7 21 3 12 3 8M142 1006l0 5 4 8 0 8 5 8 1 9 0 12-1 4-7 13-1 4 0 4 1 8 1 4 5 5 8 4 40 16 15 9 41 20 6 4 10 9 30 20 4 5 6 8 3 8 2 4 9 9 8 12 5 8 24 25 16 21 9 8 3 4 3 8 8 13 3 8 14 21 5 12 7 9 3 4 3 8 2 4 5 8 6 9 2 4 3 12M152 1006l1 21 7 8 7 9 22 12 3 4 2 4 11 13 3 12 2 4 2 5 27 33 33 20 32 17 14 8 12 9 7 8 2 4 4 8 7 13 1 8 4 8 13 17 3 8 13 13 8 8 9 12 5 8 7 13 4 12 20 33 16 38 4 16M139 1006l2 9 0 8 2 4 7 8 5 9 14 16 6 9 3 12 6 12 3 5 6 4 16 8 6 4 10 8 22 21 19 13 10 8 17 12 14 13 11 12 7 8 5 9 6 12 10 8 3 5 5 8 12 12 5 9 12 12 16 21 8 12 9 8 3 4 4 9 3 8 2 4 6 8 2 5 7 16 2 13 2 8 6 12M195 1006l-1 5 0 4 3 4 4 4 7 4 14 4 9 4 7 5 16 8 5 4 3 4 0 21 1 8 2 4 4 4 5 5 41 24 25 13 26 21 3 4 3 8 4 8 3 9 2 12 0 12 4 13 11 16 18 25 13 13 7 8 2 4 1 8 6 9 1 4 1 8 4 8 1 4-2 9 1 4 4 8 2 13 3 8 1 12 3 9 7 12 1 8M168 1006l0 9 1 4 3 4 5 4 12 4 24 13 18 8 7 4 9 8 4 5 3 4 3 8 2 4 5 8 18 13 9 8 16 21 11 12 21 29 4 4 9 9 11 20 6 13 7 8 3 4 3 9 11 20 11 13 4 8 3 4 14 17 8 12 2 4 1 8 8 13 9 21 5 8 1 4 1 8 4 21-1 8M200 1006l0 5 3 8 3 4 7 4 20 4 14 4 24 9 40 12 8 4 16 17 18 21 3 4 3 8 12 12 6 9 12 20 1 5 1 8 6 12 9 21 2 8 6 13 2 12 2 8 6 13 2 8 5 13 3 12 3 8 8 13 8 20 6 13 1 8 6 12 0 9 1 4 3 4 1 4 0 33M140 1006l0 5-2 16 2 17-2 20 3 17 2 4 4 4 6 4 8 5 21 8 8 4 11 8 24 13 10 8 36 21 6 4 6 8 17 13 8 8 10 12 6 9 6 12 9 12 4 9 21 20 8 13 20 20 6 13 11 8 3 4 3 9 9 12 2 4 10 25 6 12 4 13 5 12M181 1006l-1 9 1 8 4 4 11 4 8 4 9 9 19 12 3 4 3 4 1 5-1 8 2 4 8 12 4 5 30 20 15 13 20 12 12 8 20 13 9 8 16 13 12 12 19 33 3 8 15 34 1 12 2 8 6 13 0 8 1 4 6 17 6 12 4 12 2 9 4 12 0 8 1 5 3 8 4 12M164 1006l0 5 5 8 1 4 2 4 10 4 7 4 19 17 3 4 0 4-6 17-1 8 0 4 2 4 4 5 6 4 22 12 20 13 25 12 14 8 17 13 14 8 4 4 4 8 8 9 2 4 6 16 4 13 11 12 1 9 2 4 21 20 5 9 15 16 6 8 3 9 6 8 2 4 1 8 10 21 2 4 2 9 7 20 4 13 6 16M183 1006l3 17 4 4 11 4 9 4 36 21 4 4 2 4 13 13 6 8 12 8 40 25 17 13 24 25 22 24 3 5-2 8 2 4 5 8 2 13 3 8-2 12 9 21 5 13 5 8 7 12 18 29 2 4 3 9 6 12 8 12 6 17 1 4 0 8 4 9 0 16M173 1006l2 5 5 8 4 4 5 4 14 4 9 4 13 9 16 8 6 4 3 4 0 4 4 9 1 4 1 16 1 5 6 8 10 12 7 13 12 16 7 9 30 24 12 13 9 12 19 21 8 12 7 9 7 12 14 13 6 8 8 12 4 8 9 13 4 8 2 4 2 9 12 12 1 8-1 13 3 8 1 4 0 8 3 13 3 8 0 4M169 1006l1 5 8 12 5 4 12 4 9 4 6 5 9 8 12 8 3 4 0 4-7 17 0 4 3 8 3 5 5 4 30 20 21 13 18 12 21 13 19 16 7 9 3 4 4 8 5 12 4 13 6 12 1 9 3 4 7 8 8 12 20 21 4 8 4 13 4 8 3 4 6 8 1 5 4 16 8 25 1 8 7 13 2 8 4 8M173 1006l1 5 2 8 1 4 4 4 11 4 8 4 12 9 27 12 6 4 7 9 12 12 14 12 5 5 32 20 18 13 16 12 8 13 9 8 2 4 2 8 8 9 8 12 2 12 4 9-1 4-1 8 4 8 1 5 2 8 2 8 6 13 5 12 7 8 3 4 2 9 9 12 22 33 2 8 9 21 2 21 4 12M171 1006l2 17 4 4 11 4 8 4 8 9 19 12 4 4 3 4 1 5-2 8 0 4 3 8 3 4 9 9 29 29 16 12 6 8 5 5 12 8 13 12 13 9 4 4 6 8 8 8 3 4 3 9 20 25 5 8 4 8 3 4 8 9 9 12 3 8 6 13 11 20 8 13 2 8 6 12 0 9 1 4 7 8 1 4 4 17 0 12M211 1006l0 5 8 12 5 4 17 4 14 4 19 9 34 12 6 4 16 17 11 16 4 5 10 8 12 12 14 9 5 4 12 12 3 4 7 25 0 8 1 5 4 8 7 8 2 4 0 9 3 4 13 16 8 13-3 8-1 4 6 21 1 8 3 12-2 9 1 4 6 8 2 4 2 9 3 8 4 21 3 8 0 41M153 1006l0 5 0 4 5 8 4 4 8 4 19 13 21 12 7 4 9 9 7 8 2 4 2 8 5 9 7 8 20 29 14 16 5 5 12 8 17 12 25 21 28 29 3 4 5 8 11 13 5 12 8 21 6 12 2 9 2 8 2 4 7 8 7 13 7 8 2 4 2 8 13 21 2 4 10 29M182 1006l1 5 4 8 3 4 5 4 15 4 11 4 34 21 4 4 5 9 0 4-3 8 0 4 2 13 2 4 22 20 28 21 15 13 18 12 10 8 19 21 10 12 6 13 5 16 1 5-1 8 0 4 8 17 9 12 3 12 6 13 5 8 10 12 3 9 11 12 1 8 1 5 5 8 2 12 2 9-1 12 5 8M156 1006l0 5 3 12 2 4 8 4 19 13 14 8 23 17 4 4 6 8 18 17 16 12 14 12 3 5 4 8 6 8 23 25 13 21 15 20 14 21 3 4 9 9 16 20 11 13 9 8 4 4 12 21 7 8 2 4 1 8 6 9 1 4 1 8 4 13 1 8 4 12 1 13 1 8 4 8M165 1006l7 13 4 4 6 4 16 4 12 4 16 9 19 8 8 4 4 4 2 4 1 5-2 4-6 8-3 8-4 4-1 5 1 4 12 12 11 8 74 42 11 8 12 13 2 4 2 8 3 8 1 4-2 17 0 4 8 8 2 5 3 8 16 12 5 9 13 12 10 16 2 5 4 12 4 8 1 13 3 8 4 21 2 4 9 16 12 25M141 1006l1 5 1 4 0 12 5 8 6 9 4 16 0 4-1 5-4 8 0 12-1 4 1 5 5 4 23 16 25 13 12 8 22 12 45 29 21 17 18 17 13 12 19 25 14 21 8 8 7 12 6 13 6 8 10 12 4 9 4 12 12 12 6 9 6 20 6 13 1 8 1 4M186 1006l1 5 6 12 5 4 13 4 9 4 10 9 12 8 5 4 3 4 1 9-3 12 0 4 2 8 4 5 5 4 13 8 16 12 56 34 8 8 20 12 7 13 7 8 1 12 5 9 1 4 1 8 0 8 1 5 4 8 5 21 6 12 4 8 11 13 13 20 7 13 9 12 4 8 1 13 8 21 0 12 1 8M169 1006l1 5 5 8 4 4 7 4 14 4 12 4 19 9 24 8 9 4 6 4 4 4 9 9 2 4-2 8-2 8 0 5 4 8 2 12 9 17 2 4 7 8 14 13 21 12 9 8 18 13 10 8 4 4 3 4 9 13 8 12 5 13 2 12 4 8-1 13 4 8 4 12 20 34 3 8 9 12 4 13 5 8 2 12 9 21 0 4M168 1006l0 9 1 4 3 4 4 4 10 4 7 4 20 17 4 4 2 4 0 25 2 8 3 5 17 12 17 17 30 20 10 9 18 12 21 17 14 12 4 4 15 21 7 12 17 21 5 12 14 29 8 13 4 8 7 12 3 13 3 8 6 13 6 8 1 4 0 8 4 13 1 8 4 8M168 1006l1 13 0 4 3 4 7 4 6 4 7 13 6 8 1 4 1 9-2 12 1 4 5 8 4 5 21 12 18 12 21 13 18 12 16 9 7 4 37 25 15 12 4 4 4 8 11 13 13 21 0 8 1 4 6 8 2 4 3 17 1 4 8 17 9 24 8 9 2 4 12 29 2 12 10 21 2 8M217 1006l-1 5 1 4 3 4 4 4 8 4 22 4 16 4 17 9 34 12 4 4 4 17 2 4 7 8 5 9 26 24 10 9 16 12 9 13 4 8 4 12 4 9 5 12-3 8 0 4 4 9 1 4 2 8 0 8 2 5 11 20 13 21 11 21 1 12 3 8 1 13 3 8 1 4 0 13-2 8 2 8 0 33M183 1006l4 17 5 4 12 4 7 4 12 9 24 12 4 4 6 13 10 16 3 4 3 5 11 8 17 12 10 9 11 12 13 8 6 4 8 9 10 8 4 4 5 8 15 13 21 41 4 13 9 20 0 9 1 4 12 20 1 9 7 12 3 13 10 20 2 9 6 12 0 8 0 4 5 13 3 12M135 1006l5 17 2 4 7 8 11 17 4 4 10 8 4 5 11 16 9 8 29 17 18 12 43 38 5 4 10 12 29 42 6 12 13 21 13 16 11 13 9 12 15 13 15 16 7 8 14 21 9 17 1 12 5 17 2 16M137 1006l0 5 0 4 3 8 2 4 28 25 11 8 4 4 4 9 0 4 0 8 0 8 2 5 6 8 3 4 3 8 9 9 11 12 12 8 8 4 46 21 16 8 14 9 7 4 4 4 16 17 2 4 3 8 9 21 0 12 3 8 2 5 11 16 4 4 22 21 7 8 14 13 9 12 7 12 4 9-1 8 4 12 1 13 4 12M181 1006l0 5 3 4 6 8 5 4 14 4 10 4 35 17 13 8 3 4 3 5 0 4 1 4-4 12 0 4 1 5 2 4 8 8 2 8 3 4 7 9 9 12 23 21 15 12 9 9 17 12 7 8 9 13 10 8 3 4 4 8 10 13 9 21 5 8 2 4 1 8 8 13 5 20 3 13 0 8 5 12 8 21 2 13 6 20M195 1006l0 5 1 4 1 4 4 4 6 4 16 4 10 4 13 9 15 8 5 4 7 13 1 4-3 8 1 4 8 8 3 5 4 4 6 4 13 8 17 13 11 8 19 12 5 4 14 13 4 4 7 8 2 4 9 25 1 9 0 8 2 8 4 13 4 12 5 8 9 13 12 12 2 8 2 4 8 9 7 20 6 13 3 8 1 4 0 9 4 20 1 13 1 8 2 8M133 1006l4 9 2 8 1 4 8 8 11 9 3 4 8 12 2 9-1 8-5 12-2 4-1 5 4 4 13 8 3 8 3 4 20 9 20 12 19 8 7 5 32 24 14 9 11 8 25 21 12 8 3 4 1 8 16 21 5 13 1 8 2 4 5 8 10 17 18 16 6 13 18 29 10 12 8 21 3 12M206 1006l2 13 2 4 5 4 17 4 10 4 30 21 4 4 11 21 8 8 5 4 8 5 19 8 23 12 18 13 8 8 4 8 4 13 1 12-1 8 0 5 1 8 3 12 1 9 4 4 8 8 6 8 5 4 12 9 16 20 7 13 2 8 1 12-4 9-1 4 1 4 7 33 2 4 7 13 6 20 3 13 0 12M166 1006l0 13 2 4 4 4 10 4 6 4 10 9 23 12 6 4 24 25 13 8 26 17 11 8 10 9 20 12 2 8 2 4 8 9 8 12 6 8 2 5 5 20 5 9 4 12 6 12 3 9 2 8 2 4 10 8 3 5 10 16 3 4 9 8 3 5 25 41 9 21 2 8 4 12 2 9 0 4-1 8 1 4M206 1006l-2 5 2 4 8 8 8 4 20 4 15 4 24 9 40 12 9 4 26 17 7 8 9 13 11 20 2 4 2 9 0 8 2 4 5 8-1 9 0 4 2 4 12 21 23 37 5 12 4 9 10 16 4 9 1 8 4 12 1 29 1 4 4 9 2 8 1 4 0 8 0 4 4 13 0 41M154 1006l0 5-3 8 0 4 2 4 4 4 3 4 1 5 1 12 1 4 0 17-3 12 1 8 4 5 20 12 39 25 83 45 25 21 20 21 10 12 7 13 4 8 16 21 2 4 2 8 9 12 3 9 7 12 7 8 2 5 2 8 12 29 5 16 9 17 1 4 1 4M163 1006l-1 5 2 8 1 4 3 4 16 8 30 21 5 4 5 9 4 8 2 8 7 8 4 5 20 12 24 21 37 29 11 12 10 8 8 9 3 4 7 12 7 9 4 12 10 21 3 8 2 4 6 8 5 13 8 8 2 4 3 8 8 13 7 12 5 9 8 8 2 4 0 8 2 4 7 17 7 12 6 25M153 1006l3 9 0 8 2 4 6 4 5 4 17 21 1 4 0 4-3 17 0 4 2 4 2 4 4 5 52 37 70 45 10 9 7 8 13 12 10 13 5 8 3 8 2 5 12 16 1 4 2 9 10 12 4 8 12 13 4 12 18 29 9 12 4 9 9 25 6 12 2 8M195 1006l-1 9 0 4 2 4 6 4 17 4 12 4 21 9 13 4 33 8 14 4 19 9 7 4 6 4 3 4 2 4-1 4-1 4-1 9-2 4-7 8-1 4 0 13 2 4 2 4 4 4 6 4 35 21 6 4 16 13 5 4 3 4 1 4 1 4-1 4-6 25-1 4 2 9 2 4 5 8 4 8 4 4 9 9 12 12 5 8 4 9 1 4 1 8-1 4-4 8 4 13-2 8 1 4 5 9 3 8 6 12 1 9 0 20M190 1006l0 5 2 4 2 4 4 4 7 4 14 4 9 4 13 9 25 12 4 4 2 4 4 13 1 12 1 4 3 5 15 16 21 21 24 21 37 33 9 12 7 8 8 13 7 8 2 4 1 9 5 12 3 8 2 13 5 8 3 12 6 13 11 20 7 29 6 13 1 12 3 13 1 8 3 8M143 1006l2 21 2 4 2 4 1 9-3 8-10 17-5 12 2 4 3 4 5 4 6 5 15 8 7 4 9 8 53 25 33 17 37 20 6 5 5 4 7 8 6 8 4 13 7 12 7 21 2 4 3 4 16 21 13 12 4 8 4 5 14 8 2 4 5 8 9 9 3 4 10 16 10 21 2 4 2 13 3 8 4 8 1 4M184 1006l3 13 2 4 5 4 13 4 9 4 12 9 27 12 5 4 19 29 4 9 31 24 20 21 14 13 6 8 15 12 5 9 14 12 2 8 2 4 10 17 2 4 3 8 6 13 0 8 1 4 17 29 1 4-1 9 6 8 2 4 2 8 7 21 6 12 4 9 2 12 4 13 1 8 4 12M159 1006l-1 13 2 4 3 4 8 4 18 13 22 12 6 4 6 13 10 8 17 17 10 8 6 8 12 13 4 8 3 4 8 8 4 9 3 4 14 12 19 21 9 8 9 13 19 20 12 13 15 20 7 9 7 12 9 8 2 4 0 9 8 20 4 13 10 21 2 12 10 21 1 16M179 1006l1 5 5 8 3 4 7 4 17 4 11 4 16 9 24 8 9 4 4 4 2 4 0 5-1 8 0 8-7 13 2 4 5 12 2 4 3 4 12 13 10 8 25 17 21 12 6 4 22 17 12 12 11 21 0 12 3 9 3 12-2 8 0 5 11 20 3 8 2 5 5 8 11 21 11 12 4 8 9 13 3 8 1 8 1 4-1 13 2 12M189 1006l0 5 13 12 6 4 18 4 12 4 19 9 25 8 11 4 7 4 12 13 2 4 2 4 1 12 2 5 6 8 4 8 2 4 2 9 6 12 1 8 3 4 7 9 6 12 5 8 7 13 17 25 7 8 8 8 6 13 11 12 17 29 12 12 3 13 10 29 1 12 9 42 0 16M139 1006l2 9 0 4-2 8 0 8-3 21-1 4-2 4 6 17 4 4 5 4 11 9 26 12 8 4 30 21 16 12 32 21 13 12 34 29 4 5 7 8 11 8 4 4 6 9 16 20 3 4 3 9 15 20 5 13 16 20 11 21 13 13 3 8 6 12 4 13 5 8 3 8M141 1006l2 13 3 8 5 4 16 21 5 8 3 9 0 4 0 8 2 4 7 8 5 5 13 8 5 4 29 25 9 8 5 4 14 9 14 12 20 12 10 9 4 8 3 4 19 21 5 8 9 13 11 12 6 8 19 21 8 12 8 9 3 4 5 8 10 12 23 42 2 12 3 9 2 12 4 8M195 1006l0 5 1 4 3 4 3 4 7 4 17 4 11 4 16 9 28 12 6 4 4 9 4 8 1 4 0 8 0 4 2 5 3 4 8 8 10 12 5 13 10 8 4 4 6 9 13 12 15 17 3 4 5 8 3 4 9 8 1 9 1 4 18 21 4 8 2 4 8 8 7 21 7 12 2 9 6 12 3 12 3 9 2 12 9 21 2 8 1 4 0 9-1 12 3 8M158 1006l0 17 2 4 6 4 4 4 2 5 3 8 4 8 1 4 1 13-3 16 0 4 4 5 20 12 22 17 13 8 22 12 18 13 37 20 15 13 11 8 7 8 10 13 12 12 7 9 7 12 3 8 3 4 8 9 3 4 9 16 5 13 7 12 6 8 2 5 13 37 7 16 3 9-1 8 2 8M206 1006l2 5 12 12 7 4 22 4 15 4 23 9 41 12 9 4 4 4 7 9 18 33 8 16 0 5-2 8 12 12 8 21 2 8 2 4 4 9 6 12 5 8 4 13 10 21 2 12 5 8 10 13 3 12 10 21 2 8 8 12 0 9 1 4 4 12 1 4 0 54M156 1006l2 5 1 4 0 8 4 4 9 4 7 4 10 9 21 12 3 4 6 17-1 8 1 4 2 4 3 5 15 12 5 8 3 4 31 29 35 25 10 9 7 8 10 12 12 13 7 8 14 12 8 13 7 8 6 13 5 8 11 12 4 13 2 8 8 12 4 9 6 12 12 33 5 8 7 25M171 1006l3 13 2 4 3 4 10 4 7 4 3 5 7 12 3 4 2 4 1 13 1 4 2 4 3 4 9 8 7 5 34 16 14 8 11 9 8 8 20 29 15 17 12 16 13 13 10 12 12 12 7 9 5 8 2 4 1 8 4 13 5 8 2 12 3 9 2 4 8 8 18 21 7 12 6 21 2 12 7 21 0 4M195 1006l1 5-1 8 1 4 4 4 13 4 8 4 13 9 28 12 7 4 34 21 12 8 14 13 7 8 4 8 0 9-2 12 3 8 5 9 6 8 47 41 8 9 6 8 2 4 1 4 0 8-1 9 1 12 4 21 10 12 5 8 11 13 4 8 9 13 0 12 2 8 1 9 0 24 3 13 3 8 0 4M167 1006l0 5 1 8 3 4 5 4 9 4 5 4 3 5 5 4 19 12 4 4 8 21 2 4 6 8 5 5 15 8 6 4 37 29 12 8 28 21 5 4 6 8 8 9 7 8 17 25 2 4 2 8 11 21 3 12 7 13 8 20 7 9 4 8 2 4 2 8 2 5 6 8 1 8 1 4 7 13 11 29 2 8-1 8M143 1006l4 13 4 8 19 17 10 16 2 4-2 5-5 8-2 4 0 4-1 8 2 5 18 12 9 8 12 13 20 12 29 17 24 12 15 8 6 5 15 12 12 8 7 9 16 24 2 9 2 4 5 8 10 21 9 12 6 13 6 8 11 12 4 9 14 12 3 8 2 4 6 9 8 12 4 8 3 9 1 4 0 8 1 4M168 1006l-2 9 0 8 2 4 9 4 5 4 5 9 10 12 2 4 1 9-2 12 5 12 2 5 5 4 13 8 29 21 19 12 34 21 23 12 26 25 14 17 13 20 9 13 5 12 1 9 2 4 5 8 10 21 5 12 12 21 8 20 9 13-1 8 1 4 5 9 9 20M179 1006l3 13 1 4 7 4 15 4 12 4 13 9 32 12 10 4 7 4 7 5 11 8 14 12 9 9 16 12 0 4 0 4 0 4 6 9 1 4 1 12 1 9 3 8 4 8 3 4 8 9 10 12 13 12 20 21 5 8 11 13 6 8 1 4 1 9 5 8 2 4-1 8 3 13 1 20 7 13 1 8 1 4 13 29 6 8 2 5 1 20M160 1006l4 9 2 4 0 4 2 4 8 4 15 13 18 12 11 13 3 4 4 8 2 4 8 8 5 5 20 12 15 12 11 13 14 12 20 21 9 8 4 4 7 9 6 12 6 8 11 13 7 12 3 9 17 20 18 25 14 25 4 8 2 8 12 21 2 8 1 13 1 4 5 8 9 21 1 8M196 1006l-1 5 3 4 4 8 5 4 28 8 42 21 5 4 2 4 1 9 0 4-3 8 12 17 22 25 12 12 19 21 17 12 5 8 3 5 21 20 21 29 14 25 7 21 6 8 7 12 1 13-1 8 8 13 5 20-1 9 1 4 4 8-2 12 4 9 1 4 0 8 0 4M153 1006l-1 5-1 4 0 8 1 4 5 4 10 9 6 4 35 16 13 9 6 4 4 4 2 4 1 4 6 13 2 20 1 4 5 13 3 4 5 4 30 17 54 25 12 8 8 8 4 8 2 5 0 4 0 8 1 12 0 13 2 8 19 21 16 12 8 8 13 13 2 4 4 8 1 9 3 12 4 8 1 4-1 9 5 12 2 8 7 13 7 8 1 4M153 1006l1 5 3 12 3 4 6 4 4 4 6 9 13 12 3 4-1 4-3 17 0 4 4 8 4 5 16 12 4 4 6 8 3 5 13 8 18 12 26 21 23 12 10 9 10 12 10 8 4 5 4 8 4 4 13 17 9 12 18 21 7 12 11 12 6 9 6 12 7 8 4 13 4 8 8 13 6 12 11 37M150 1006l-1 5 1 4 3 8 2 4 7 4 16 13 17 12 3 4 10 17 1 8 3 4 10 9 21 12 12 8 13 13 10 8 4 4 7 8 27 21 13 13 8 12 3 8 7 13 3 8 3 4 9 8 3 13 4 8 15 21 12 12 4 8 3 5 9 8 6 12 7 9 7 12 9 12 3 9 2 12 12 21 2 12M152 1006l-2 17 1 4 10 8 4 5 4 8 12 12 8 13 3 8 6 8 4 4 6 5 16 8 12 8 23 21 18 12 10 9 13 12 10 8 4 4 7 9 12 12 6 8 6 13 3 4 7 8 9 9 2 4 3 8 9 8 3 4 5 9 9 12 5 8 9 13 4 8 3 4 7 8 6 9 2 4 0 8 8 13 1 8 2 4 4 8 4 13 4 8 1 8M182 1006l0 5 1 4 1 4 2 4 7 4 15 4 9 4 9 9 17 8 6 4 3 4 1 4 8 21 7 8 12 13 5 4 12 8 12 13 7 8 17 12 24 21 21 21 3 4 15 29 10 12 4 9 2 12 3 8 2 5 6 8 4 8 5 17 9 20 2 9 6 12 1 8 1 4 12 29 0 13 1 12M182 1006l0 5 4 12 5 4 12 4 8 4 13 9 22 12 3 4 0 9 0 12 3 8 4 9 14 12 10 12 23 21 17 13 14 12 27 21 4 8 3 4 10 8 3 5 12 16 10 21 3 4 7 8 4 13 6 12 5 17 7 12 3 12 3 9 1 12 7 8 2 5 7 20 1 13 1 8 3 8M171 1006l5 17 5 4 12 4 9 4 16 9 30 12 7 4 10 13 3 4 1 4-3 12 0 5 2 4 11 16 3 4 14 13 24 16 32 21 5 4 8 9 6 8 2 4 3 12 5 9 0 12 3 8 5 9 2 4 11 12 7 9 12 12 2 4 6 17 4 8 1 4 0 8 7 13 3 8 3 12 8 13 1 8 12 33M175 1006l1 13 2 4 4 4 12 4 9 4 12 9 21 12 4 4 8 21 2 4 4 4 24 21 28 21 12 12 19 17 18 12 3 4 4 9 10 8 3 4 4 8 8 13 5 8 4 12 7 13 5 16 2 5 8 8 3 12 7 8 1 5 0 8 10 21 4 12 10 21 6 16 1 4 3 21 2 4M199 1006l-1 5 2 8 2 4 5 4 15 4 10 4 35 17 8 4 3 4 1 9 7 8 11 21 4 4 28 20 5 9 4 4 27 21 19 16 4 4 7 9 11 12 3 8 2 4 7 9 4 12 5 8 1 5 0 8 10 21 2 4 4 16 2 13 0 20 0 4 3 9 7 8 2 4 3 8 1 13 2 8 1 13 1 8 5 8 0 4M139 1006l-4 9-2 12 2 13 2 4 3 4 8 8 29 21 6 8 9 13 9 8 4 4 2 4 4 17 4 8 4 4 7 4 16 9 65 29 7 4 11 8 13 8 4 4 2 5 2 8 2 16 0 13 3 8 3 4 8 9 5 8 4 4 27 21 10 8 3 4 4 8 9 13 2 8 3 12 4 13 4 8 8 21 8 12M145 1006l-1 5-3 16 1 4 1 17-2 4-6 8-2 9 0 4 2 12 1 4 4 4 7 5 28 12 71 37 51 25 8 4 6 4 7 9 13 12 15 21 5 8 1 4-1 9 18 33 23 37 3 4 4 4 9 8 4 9 3 4 7 8 19 29 2 4 1 9 2 4 6 8 3 8M171 1006l0 5 1 4 4 8 3 4 10 4 8 4 12 9 25 12 7 4 5 4 2 5 2 8 13 16 4 5 21 12 9 8 18 21 13 12 4 9 10 12 8 13 7 8 7 12 7 9 3 4 4 8 3 4 12 17 2 4 4 8 12 17 11 16 5 13 15 29 3 12 3 8 3 13 5 12 2 8 2 13 5 12M149 1006l0 9 1 8 1 4 4 4 2 4 0 5-3 8 6 8 2 4 2 9-1 16 2 4 3 4 5 5 8 4 20 8 7 4 11 8 40 25 14 9 26 12 7 4 17 13 14 12 15 12 6 13 2 8 10 13 4 8 8 21 6 12 8 12 4 9 8 12 2 8 3 4 8 9 9 12 7 21 7 12 3 9 2 12 4 8M169 1006l-1 5 0 8 1 4 5 4 10 4 6 4 7 9 16 12 4 4 3 4 3 13 2 4 9 12 5 5 21 12 25 17 5 4 9 8 20 12 17 13 13 12 23 29 10 21 1 12 10 21 2 8 2 5 13 20 3 8 4 9 24 37 4 8 5 13 7 12 5 13 4 12 1 8M130 1006l1 9-1 8 4 21 4 12 6 13 2 12 2 4 2 4 4 4 6 5 24 12 30 21 33 20 19 13 15 8 7 4 4 4 32 38 8 12 3 8 15 21 8 13 21 20 6 13 6 8 10 12 13 13 5 8 8 12 6 9 2 4 3 8 6 13 4 8 3 12M164 1006l-1 5 2 4 3 4 4 4 7 4 10 4 22 13 24 12 5 4 2 4 2 5-1 4-4 8-1 4-1 8 0 5 10 16 8 8 26 21 7 4 37 21 25 17 10 8 5 4 3 4 2 8 5 9 5 12 1 17 0 4 2 4 5 8 5 13 3 8 3 4 9 8 5 9 4 4 11 8 6 12 9 13 4 8 2 8 3 13 8 21 0 4-3 8 1 8M184 1006l-1 5 1 8 2 4 3 4 11 4 7 4 11 9 13 8 4 4 3 4 8 9 12 16 4 4 5 4 6 5 14 8 13 8 14 13 16 20 6 13 10 16 3 4 21 21 3 8 20 21 7 8 2 5 11 20 2 13 3 8 13 33 5 12 14 21 10 21 2 12 4 9 0 4-1 8 1 8M189 1006l-2 5 1 4 5 8 8 4 19 4 13 4 18 9 34 12 8 4 9 9 4 4 4 8 6 17 8 12 14 29 2 4 10 8 3 5 5 8 22 21 9 12 8 8 2 4 3 9 11 16 5 9 3 8 3 8 10 21 4 12 2 21 1 4 5 8 6 13 4 8 3 12 7 21 2 13 3 12 0 8M138 1006l5 9 3 8 2 4 12 13 16 12 4 4 3 4 4 9 0 4-2 8-1 4 1 8 2 5 11 12 10 12 4 5 16 12 13 8 65 33 14 9 12 12 10 8 12 21 3 8 4 13 2 12 4 9 2 4 51 58 5 8 5 8 13 21 2 12 5 9 1 4-1 8 3 8M172 1006l-2 13 1 4 2 4 9 4 7 4 23 21 3 4-1 13 0 12 3 8 5 5 15 8 12 8 25 21 18 12 13 9 22 12 25 21 10 12 14 21 5 12 9 9 2 4 2 8 7 12 2 9 8 12 4 8 4 13 16 33 5 8 1 4 1 9 11 20 4 13 2 16M161 1006l-2 13 0 4 2 4 25 17 35 16 7 4 4 5 7 8 3 4 1 4 1 4 0 9 2 8 5 12 1 4 2 5 3 4 10 8 8 4 45 21 16 8 5 4 13 13 3 4 2 8-1 4-2 9 1 4 6 16 7 9 18 16 26 29 2 4 2 8 2 9 1 4-1 8 3 8 2 5 17 20 5 9 1 4 1 8 8 12 2 5 1 4 1 12 1 4M144 1006l0 21 2 4 0 4 0 5-1 8 0 12-1 9 2 8 1 4 2 4 9 8 8 5 42 16 21 13 16 8 17 12 9 9 6 4 17 8 16 17 3 4 3 12 8 13 7 8 10 21 13 12 11 12 43 42 2 8 3 4 9 8 3 13 4 8 2 13 4 8 7 12 3 13 5 16M135 1006l1 5 4 8 3 8 2 4 0 9 2 4 7 8 3 4 5 8 5 9 3 8 3 4 15 13 14 8 17 8 6 4 39 29 20 13 23 20 11 9 4 4 10 21 6 8 2 4 2 8 7 13 2 8 3 4 10 8 5 9 4 4 9 8 8 12 9 13 18 21 18 24 9 17 10 33 2 4M196 1006l0 5 5 8 4 4 7 4 19 4 14 4 19 9 23 8 9 4 19 17 4 8 0 4 1 13 1 4 6 12 10 13 6 12 7 8 12 21 4 4 12 8 4 5 6 8 5 8 23 33 5 9 5 12 11 21 1 4 1 8 5 12 8 29 1 13 4 12 1 9 5 12 0 8 6 21 1 8M138 1006l0 5 2 8-1 8 2 13 1 4 4 8 0 12 7 17 2 4 8 8 7 5 34 16 7 4 12 9 20 12 8 8 6 4 15 9 11 8 5 4 6 8 10 9 8 8 14 17 3 8 3 4 7 8 8 13 9 8 3 4 4 8 13 13 23 29 11 12 7 13 6 8 4 8 3 13 2 4 7 8 4 21 8 16M135 1006l0 9 3 8 1 8-3 25 1 8 0 5-4 8 3 8 3 4 5 4 7 5 43 20 22 13 31 20 21 13 29 21 9 8 10 12 14 25 7 8 13 13 3 8 2 4 8 9 15 20 13 13 14 20 16 21 8 17 5 16 11 21 7 12M200 1006l5 13 4 4 9 4 21 4 16 4 25 9 31 8 14 4 8 4 5 4 15 9 4 4 3 8 7 13 11 20 5 21 5 12 6 29 1 5 12 20 1 9 4 12 7 8 2 4 1 9 15 20 5 13 16 20 3 9 1 4 0 8 2 4 4 9 3 16 0 62M133 1006l1 9-1 4-3 8 4 8 0 5-5 8 5 12 6 13 3 12 4 8 5 5 22 12 12 8 11 9 20 16 25 13 23 12 20 12 12 9 7 8 8 12 11 13 8 8 9 13 26 33 13 20 11 13 16 20 11 13 14 21 4 8 3 12 5 9 3 12 4 8M159 1006l2 9 1 8 3 4 7 4 5 4 22 21 2 4 1 9-1 16 1 4 3 4 4 5 16 12 13 12 20 17 70 46 4 4 26 29 12 20 9 13 3 8 12 21 5 12 9 13 1 8 3 4 7 8 5 9 2 4 3 8 20 33 0 8 1 5 4 8 4 12M135 1006l0 9 3 12 0 8 4 13-2 8-6 13-1 4 0 4 3 8 3 4 3 4 5 5 15 8 27 16 11 9 46 25 19 8 8 4 12 8 14 13 11 8 3 4 4 8 8 9 3 4 5 12 14 17 7 12 15 21 2 4 7 8 17 17 10 12 11 13 13 20 4 9 1 4 4 12 8 21 2 8M142 1006l-1 13 2 4 2 4 15 13 8 8 4 4 11 8 8 9 10 12 2 4 3 8 3 5 14 12 13 17 5 12 6 8 6 4 34 21 12 8 31 21 18 17 8 8 15 21 5 8 5 12 1 9 2 4 4 8 2 8 2 4 6 9 6 12 7 8 11 13 10 12 5 9 6 12 5 8 1 4 2 9 5 8 2 4 1 4M150 1006l-1 5-1 8 1 4 1 4 4 4 2 13 5 8 5 12 11 17 4 4 11 8 8 5 35 16 7 4 25 17 5 4 27 25 8 8 5 8 11 13 11 21 8 12 24 29 21 21 21 24 5 9 8 12 3 8 2 5 6 8 2 12 2 9 8 12 1 8 8 29M148 1006l-2 5 0 4 5 12 4 4 2 4 1 5 0 8-1 4-5 12-2 5-7 8-3 4 0 4 1 4 4 4 7 5 59 24 34 17 42 25 10 8 4 4 4 9 3 4 7 8 1 8 2 4 8 9 11 20 4 5 11 8 13 12 23 25 7 8 5 9 6 8 2 4 1 8 5 9 2 4 8 8 1 4-1 8 9 13 4 8 10 13 2 8 7 12M183 1006l3 13 4 4 7 4 16 4 11 4 18 9 23 8 8 4 6 4 3 4 2 5 2 8 1 8 2 8 2 5 7 8 3 8 2 4 16 25 10 13 27 24 9 13 21 21 11 12 6 8 6 13 8 12 9 21 15 41 2 13 8 29 7 12 3 8 0 13 2 8 2 4 2 4M176 1006l-1 13 0 4 3 4 10 4 7 4 10 9 13 8 4 4 1 4 1 4 9 17 2 4 4 4 10 9 21 12 44 29 22 21 14 12 12 13 9 16 2 4 0 9 8 12 5 21 7 12 1 8 10 13 7 12 16 21 4 8 9 13 3 8 11 21 2 4 5 16 0 4-1 9 1 4 3 8 0 4M174 1006l-1 5 1 4 1 4 2 4 4 4 12 4 7 4 9 9 20 12 3 4 6 13 2 4 1 8 2 4 4 4 4 5 20 12 9 8 5 4 32 21 9 8 16 13 30 29 10 12 35 67 4 12 10 21 7 29 2 4 7 8 1 12 3 9 6 20 5 13 1 12M144 1006l5 13 2 8 3 4 1 4 0 13-2 4-21 21 3 8 8 12 4 5 12 8 53 21 46 20 21 13 11 8 5 4 10 13 5 8 3 8 3 13 18 20 5 9 2 4 16 16 16 13 20 20 9 13 14 29 3 12 2 4 10 13 5 8 4 8 2 9 5 12 5 8M180 1006l0 5 1 4 6 8 4 4 13 4 9 4 15 9 31 12 6 4 28 33 22 25 14 13 4 8 3 4 10 8 7 13 7 8 3 4 9 17 6 12 7 9 3 4 0 8 3 4 8 8 11 21 8 13 3 8 8 12 7 13 6 8 4 12 2 9 4 12 10 21-1 12 3 8 2 13 1 12M140 1006l3 17 2 4 17 21 7 8 9 8 4 5 3 12 7 12 4 5 20 12 10 8 14 13 12 12 16 13 7 8 9 8 17 13 4 4 7 8 11 21 12 12 4 8 12 13 16 21 13 12 6 8 12 13 23 29 9 12 5 12 7 13 10 29 1 12M177 1006l1 5 2 4 5 8 3 4 9 4 6 4 3 9 3 4 9 8-1 4-5 9 0 4 2 8 2 4 7 8 6 5 8 4 44 20 29 17 7 4 11 8 5 5 8 8 3 4 8 17 1 4 0 8 4 8 1 4 0 9 8 12 4 8 8 9 27 25 9 12 7 8 5 8 7 17 2 8 3 13 5 8 1 4 0 8 2 9 2 4 5 8 4 8 1 5-1 8 1 4 3 8M157 1006l1 5 1 16 15 17 2 4 3 8 0 17 1 4 1 4 2 4 8 8 5 5 22 12 46 29 24 12 17 13 21 12 11 9 10 16 10 17 12 29 2 4 2 8 2 4 10 17 10 12 2 8 3 5 11 12 6 8 4 9 11 12 9 12 3 9 4 12 6 8 1 5 3 8 2 12M137 1006l0 5-3 8-1 4 2 8 4 9 1 4-3 8-1 4 1 17-2 12 2 4 3 4 6 5 24 12 6 4 56 37 25 13 28 16 11 9 18 16 10 9 17 20 3 4 3 9 8 12 7 13 12 16 11 12 3 5 11 16 7 13 5 8 4 4 9 8 3 4 4 9 1 8 2 4 6 8 5 9 2 4 5 12M153 1006l0 9-2 12 0 4-1 4 0 5 1 16 2 4 17 17 6 4 45 25 7 4 4 4 3 4 5 9 4 8 2 8 2 4 15 13 6 4 7 4 35 17 21 12 5 4 15 17 8 12-2 13 1 8 9 21 9 12 16 12 18 17 4 4 6 8 2 4 1 9 4 12 2 8 7 13 2 8 5 13 9 12 3 8M144 1006l1 21 2 4 3 13 4 8 0 4 0 25 1 4 7 8 5 5 53 29 20 12 51 29 13 8 12 9 16 16 11 13 4 12 7 8 7 13 8 20 9 13 13 20 9 13 8 12 20 29 6 9 3 4 3 8 9 21 3 12 3 4M141 1006l0 5-1 8 1 4 3 4 5 4 5 9 3 4 14 12 4 4 18 25 21 17 28 16 29 21 5 8 5 4 16 9 10 12 14 13 8 8 11 21 3 12 5 8 7 13 1 8 2 4 10 17 4 4 9 8 3 4 13 17 8 12 18 21 9 12 17 33 9 25M153 1006l0 5-2 12 1 4 2 4 0 4 0 5 0 4 1 8-4 8-1 4 2 9 2 4 9 12 4 4 8 5 23 8 9 4 33 17 15 8 13 8 25 17 12 12 7 8 6 9 7 12 10 25 4 8 3 4 8 9 11 8 14 12 17 21 12 12 17 29 2 5 10 29 6 12 6 21 8 12 1 4M148 1006l0 5 2 8 1 4 3 4 6 4 4 4 7 9 14 12 3 4 3 4 11 13 2 8 6 8 5 5 19 12 8 8 15 13 32 29 16 12 13 13 15 20 17 21 5 12 9 9 3 4 20 29 10 12 18 21 8 12 7 9 2 4 6 16 3 13 5 12 2 8 7 13-2 8 0 4M201 1006l0 5 3 8 3 4 6 4 18 4 12 4 20 9 24 8 9 4 6 4 6 13 9 20 3 5 11 12 10 12 13 13 7 8 14 13 5 8 14 16 6 9 4 8 10 12 2 9 2 4 6 8 3 13 5 8 1 4 0 8 9 21 1 12 8 21 4 8 1 4-1 9 13 33 0 8 3 13 0 20M161 1006l4 17 4 4 8 4 7 4 19 17 4 4 2 4 0 9 3 12 5 12 2 5 15 12 23 21 13 12 18 13 10 8 28 21 4 4 14 16 8 13 12 12 3 8 2 5 9 8 5 12 11 13 13 16 6 13 9 12 4 8 6 13 7 12 7 17 3 12 5 13 0 8 1 4 4 8M184 1006l0 5 6 8 4 4 7 4 18 4 14 4 23 9 38 12 8 4 5 4 4 5 4 8 1 4-2 4-6 8-1 5 0 16 6 13 1 8 3 4 7 8 51 33 29 29 3 5 3 8 5 8 2 4 0 4 1 17 2 8 0 17 1 8 7 12 19 29 6 13 12 21 4 20 0 13 2 8 0 8M200 1006l-1 5 0 4 2 4 3 4 7 4 17 4 13 4 18 9 39 12 9 4 26 17 21 16 14 13 12 12 1 4-1 9 6 8 1 4 0 8-2 13 8 21 2 8 1 4 15 21 11 12 17 21 4 8 8 21 6 12-1 13 0 8-1 12 4 9 0 4 0 8 2 12 7 21 3 4 0 29M199 1006l0 5 4 8 3 4 7 4 18 4 13 4 53 21 6 4 7 9 4 8 0 8 1 4 2 4 11 17 3 8 19 25 6 8 3 9 3 4 11 12 12 17 11 12 6 9 2 4 1 8 2 4 19 29 6 13 5 8 5 12 4 8 2 5 1 8 7 16 4 17 7 21-1 12 2 8 0 13 2 12M150 1006l-2 9 2 8 1 4 5 4 4 4 8 13 4 8 1 4 0 9 4 8 2 8 2 4 4 4 6 5 15 8 26 16 18 13 47 29 14 12 13 9 4 4 7 8 14 12 8 9 1 4-1 8 8 13 12 20 6 9 2 4 0 8 19 25 10 16 9 13 13 20 5 13 5 8 1 4 0 9 6 8 2 4 2 8M164 1006l-2 9 0 4 1 4 3 4 5 4 2 4 0 5 5 12 0 8-2 9 1 4 12 12 11 8 9 5 31 12 8 4 14 8 11 9 8 8 12 17 8 12 17 21 21 20 16 13 16 16 6 9 14 20 4 9 1 8 2 8 19 37 14 13 11 16 13 25-1 13 3 16M135 1006l1 5 0 8 1 8 1 4 3 9-1 4-5 8 3 12-1 9 1 16 1 4 5 5 27 12 31 17 16 12 53 33 27 21 10 8 3 4 5 9 12 8 4 4 6 8 10 21 8 12 7 13 20 20 18 21 23 33 5 9 4 12 6 12 2 9 11 12 0 4M137 1006l0 17-1 8 2 13 0 8-3 21 0 16 4 4 8 5 30 12 15 8 70 50 32 17 14 8 9 8 9 8 21 25 3 4 4 9 10 12 4 13 1 8 10 12 9 17 17 16 8 9 5 12 7 8 7 13 5 12 8 17 1 4 2 8 1 4M132 1006l0 9 1 20-1 29 4 17 5 8 1 4 3 5 22 12 42 21 23 12 48 21 24 16 22 17 8 12 9 17 2 4 3 8 7 13 4 12 5 9 6 16 3 4 21 21 3 4 4 8 7 9 15 20 17 25 6 13 3 8 7 12M130 1006l0 5 3 8 1 12-1 9 0 12-4 21 3 8 3 4 9 8 6 5 17 8 8 4 21 17 14 8 14 12 43 21 20 12 9 9 11 12 14 13 4 8 25 33 7 12 6 9 7 8 5 4 15 21 10 12 9 8 3 5 3 8 5 8 9 13 4 12 6 8 2 4 8 25M135 1006l0 25 2 9-3 12-1 12 1 9 3 8 1 4-1 4 1 4 4 5 8 4 26 12 47 25 22 12 41 21 13 8 9 9 12 12 7 13 9 12 4 8 12 21 5 12 15 21 19 21 9 12 10 13 6 8 10 12 6 9 6 12 5 12 4 9 7 16M134 1006l2 9-4 8 0 4 1 8 2 13-2 21 0 16 3 4 6 4 9 5 37 12 10 4 25 13 14 8 10 8 4 4 8 9 7 8 13 12 3 4 4 5 12 8 15 12 3 4 3 9 16 12 24 21 6 8 12 21 2 4 2 8 2 4 11 17 19 21 3 4 1 8 3 4 8 8 3 5 5 8 4 8 9 13 1 8 0 12M133 1006l1 17-2 12 1 13-1 21 5 8 5 8 3 4 7 4 8 5 33 12 17 8 16 9 43 24 19 13 5 4 6 8 10 9 4 4 10 16 2 4 3 9 5 12 3 8 2 5 6 8 6 12 8 9 9 12 16 12 9 9 30 33 7 8 2 4 3 8 9 13 3 8 1 13 7 20M130 1006l1 17-1 21 0 12 1 4 6 9 2 8 1 4 3 4 8 8 6 5 28 12 34 21 6 4 10 8 21 13 8 8 19 12 11 9 3 4 4 8 21 21 9 12 18 21 7 12 7 9 3 4 4 8 3 8 4 4 21 17 4 4 3 8 3 4 6 9 8 8 7 8 2 4 4 9 2 12 2 4 3 9 8 12 3 8M136 1006l1 9-1 12 1 29-1 4-4 9 0 4 7 12 7 8 4 5 15 8 12 8 15 8 41 29 34 17 13 8 23 13 29 29 3 4 4 8 11 13 11 20 4 9 2 4 8 8 3 4 5 8 8 13 5 8 11 12 16 21 4 8 8 13 4 12 4 9 3 12 5 8M137 1006l2 21-1 8-3 13 0 12 1 4 2 5 11 16 8 8 7 5 26 12 13 8 23 17 21 21 11 8 22 12 6 4 8 9 26 20 11 13 10 8 3 4 7 9 3 8 3 4 7 8 10 25 4 8 12 13 5 8 21 21 8 12 14 21 8 21 2 12 2 8M133 1006l-2 17 3 8 1 4-2 9 2 12-1 8 2 13-3 8 1 4 3 4 6 5 28 12 16 8 6 4 10 9 26 12 34 21 24 16 10 9 9 8 7 8 17 21 5 12 10 13 4 8 10 13 4 8 19 20 14 13 21 29 7 12 5 13 10 12 2 8 3 13 6 12M139 1006l-1 5 1 8 2 12-3 13 0 4 1 4 7 12 7 9 8 12 12 8 8 5 29 12 14 8 16 9 38 24 11 9 18 12 10 13 15 20 2 9 11 20 2 4 1 9 2 4 4 8 11 17 3 4 11 12 6 8 13 13 8 8 8 13 10 8 4 4 3 8 8 13 13 20 5 25M139 1006l-3 13 4 8 0 4-3 9-1 12-1 8 1 4 5 9 4 8 4 4 20 13 30 12 10 4 7 4 24 17 4 4 6 8 24 21 12 12 24 21 12 13 25 20 6 9 11 12 13 21 6 12 5 12 5 9 6 12 17 21 9 8 3 4 11 17 6 12 2 13 2 8 4 8M139 1006l0 9-1 16 1 13 1 33 0 4 3 4 5 4 8 4 9 5 29 8 13 4 24 12 13 9 11 8 4 4 6 8 40 46 9 8 18 13 15 12 30 29-1 8 1 5 5 8 2 16 3 9 5 8 6 8 26 25 10 12 12 21 3 8 1 13 3 8 1 4M139 1006l1 13-2 12 0 9 2 8-1 4-1 8 2 9 1 4 5 8 4 8 3 4 7 5 28 12 16 8 14 9 11 8 21 12 42 29 5 4 7 9 14 12 4 13 5 8 15 21 6 12 11 12 20 21 4 8 13 13 10 12 9 8 4 13 8 8 8 13 10 24 2 9 4 16M145 1006l-4 9-1 12 4 21 0 4 0 8-3 21 1 8 3 4 6 5 7 4 19 8 23 12 18 13 51 33 26 21 6 8 12 12 25 21 2 4 3 9 10 12 9 8 9 13 9 8 2 4 4 8 9 9 4 4 10 20 9 13 10 21 7 8 3 12 12 21 1 8M134 1006l2 17-1 8 1 13-2 8 0 4 4 8 0 13 2 4 7 12 4 5 22 12 26 21 17 8 23 12 43 21 27 17 6 4 4 4 5 8 11 9 4 4 4 8 5 12 8 9 6 12 7 8 2 5 2 8 9 12 5 8 9 13 12 21 11 12 3 4 8 17 13 20 6 25M138 1006l-1 17-2 8 2 42 0 4-3 8 4 8 6 5 20 8 9 4 7 4 87 54 12 8 21 17 8 12 20 21 8 8 4 4 4 9 7 12 6 8 11 13 13 20 19 21 8 13 11 12 12 17 2 4 3 8 3 12 10 21 1 4M138 1006l-2 17 2 21-2 12 2 8 0 9 11 12 8 8 5 5 14 8 5 4 6 8 2 4 60 29 11 9 23 20 14 9 23 16 4 4 6 9 2 8 1 4-2 8 17 13 13 12 7 9 2 8 2 4 5 8 2 4 9 9 5 8 16 12 4 9 5 12 7 8 4 4 13 25 2 4 0 5-1 8 7 12M133 1006l0 5-3 8-1 8 0 4 3 9 0 4 0 8-2 12-1 9 2 8 3 4 12 8 8 5 21 8 8 4 14 8 63 42 17 12 19 17 21 25 5 8 7 8 22 25 12 12 8 13 25 29 5 12 5 8 10 13 10 21 9 12 16 29 2 8M143 1006l-1 9 0 4 1 8-1 13 0 29-4 12 0 4 1 4 2 4 5 5 14 8 12 8 25 13 13 8 36 21 33 20 11 9 25 24 10 13 19 21 16 20 12 13 2 8 3 4 8 8 9 13 7 8 13 21 3 4 8 8 5 13 1 8 2 4 8 8 9 29M136 1006l0 9-3 12 0 33-1 13 0 8 1 4 3 4 3 4 6 5 31 16 17 8 31 21 43 25 17 12 9 9 6 8 14 12 11 13 20 21 12 20 11 13 5 8 6 8 22 25 6 8 2 4 3 9 5 8 3 4 8 8 2 5 3 8 5 8 2 4-1 9 10 12 2 8M143 1006l1 5-3 12 0 8 3 25-3 8 3 5 6 8 9 8 6 4 44 25 6 4 5 4 8 9 5 8 4 4 11 8 22 21 14 8 11 9 8 8 10 8 4 9 13 12 16 12 4 9 4 4 11 8 7 8 6 9 7 12 12 25 8 8 3 4 1 9 2 4 6 8 9 8 2 4 2 9 4 8 7 12 8 13 4 12M133 1006l0 9-1 12-1 8-2 13 3 8 1 4-3 17 0 4 3 4 8 8 7 5 15 8 40 25 22 16 14 9 19 8 8 4 27 17 6 4 8 8 14 12 26 34 13 20 7 9 2 4 2 8 12 12 6 9 7 12 8 8 9 13 11 20 19 34 8 20M131 1006l-1 5 2 12 0 8 2 13-2 12-1 21 2 8 3 4 4 4 5 5 25 12 13 8 25 13 31 16 49 25 19 13 9 8 4 4 5 8 2 9 3 4 9 8 3 12 5 9 4 12 6 8 7 13 18 20 20 21 2 4 3 9 16 12 7 8 4 13 6 8 2 4 2 8 9 21 1 4M136 1006l0 5-1 20-1 13 1 8 1 12-2 9-2 4 0 4 2 4 9 8 8 5 21 8 9 4 104 58 7 4 5 4 14 13 7 8 6 8 5 9 4 12 7 8 1 4 0 9 8 8 3 4 0 4 2 4 21 21 4 4 6 8 10 13 5 8 17 21 2 4 3 8 14 21 5 12 7 13 5 12M135 1006l-2 9 2 12-1 8-1 13 2 12-2 4 0 5 4 8 3 8 5 8 4 5 21 12 17 12 39 21 31 13 15 8 28 16 25 17 4 4 4 8 13 13 6 8 4 13 4 8 1 12 14 21 6 12 8 9 1 4 2 8 12 8 3 4 2 9 12 12 5 8 4 13 13 21 7 8 2 4 1 8M133 1006l-1 17 2 17-1 8 2 4 15 21 7 12 11 13 16 12 17 17 11 12 13 8 25 13 11 8 25 12 14 9 18 12 14 13 5 8 1 4 3 8 10 29 3 4 9 9 3 4 4 8 4 4 9 8 6 9 16 12 16 21 4 12 5 9 6 12 3 12 7 17 2 8M139 1006l0 21-1 13 1 8-2 4-3 4-1 4 8 9 3 4 2 4 3 16 2 5 8 8 32 12 18 9 16 8 11 8 13 13 16 12 7 4 18 8 12 9 3 4 5 8 9 8 1 5 0 4 4 4 17 12 14 17 2 4 2 8 8 17 3 4 4 4 6 8 19 21 2 4 2 8 11 9 4 4 5 8 14 21 1 4 3 17 1 4 5 8 2 8M136 1006l-1 13 3 41-2 13-1 12 0 4 2 4 6 5 19 8 41 21 17 8 39 21 48 24 23 21 14 17 12 16 5 13 10 20 2 9 8 12 4 8 8 13 8 12 20 29 7 13 6 8 3 4 1 8 2 9 2 4 6 8 3 4 0 4M135 1006l0 9-1 8-3 12 2 21-1 13 0 4 0 4 5 16 5 5 10 4 58 20 16 9 37 16 15 9 16 12 10 8 13 21 1 12 3 9 2 4 2 4 8 8 8 13 16 16 10 9 18 12 18 21 7 12 7 8 6 13 2 8 3 12 5 13 3 8 6 13 2 8 5 12M139 1006l0 9-2 8 1 12 0 21-2 8 1 5 12 8 6 8 11 8 8 5 27 12 29 21 37 33 21 21 18 12 9 8 16 21 2 4 3 8 3 5 8 8 10 8 20 21 3 4 5 8 13 13 7 8 5 12 6 9 2 4 2 8 5 12 8 13 4 8 2 8 7 13 3 12M143 1006l0 5 2 8 0 4-3 8-1 13 4 8 0 4-2 8-2 13 1 4 8 12 5 5 34 12 70 33 23 13 14 8 11 8 10 8 6 9 9 16 4 9 0 4 0 8 12 25 5 8 11 13 7 8 23 20 17 21 5 4 10 9 5 12 6 8 2 4 6 21 3 8 4 25M136 1006l1 5-1 12-1 21 0 12-2 13 11 16 10 8 33 17 39 25 6 4 14 12 17 13 35 29 17 12 6 9 2 4 3 8 2 4 4 4 13 13 3 4 5 8 33 33 3 8 16 21 2 4 3 9 9 16 12 17 7 12 7 17 4 16M138 1006l0 9 0 8 0 4-3 8 0 5 1 8 3 8 0 4-1 4 1 5 5 12 2 4 7 8 5 5 7 4 19 8 35 21 6 4 9 8 5 4 13 9 14 8 13 8 6 4 9 9 12 12 2 4 4 8 19 21 16 21 9 12 8 9 3 4 4 8 22 25 6 8 3 8 2 4 9 9 16 20 4 9 7 16 5 9 4 8 2 4 1 8M134 1006l2 5 0 4-3 8-1 12 1 21 2 8 7 13 4 8 3 4 5 4 6 5 16 8 13 8 24 17 26 20 17 13 6 4 17 8 14 9 6 4 9 8 18 21 11 20 9 13 4 8 4 8 2 5 15 12 18 21 9 8 3 4 12 21 8 8 4 12 6 9 4 12 8 13 6 8 1 12M141 1006l-1 9 2 20-1 21 0 8 1 13-1 4 1 4 4 4 5 4 23 13 21 12 16 13 14 12 13 8 17 13 37 21 15 12 12 8 13 13 10 12 17 29 10 13 5 8 5 12 10 13 6 8 4 12 13 13 7 8 6 12 13 17 2 4 1 8 1 5 5 8 2 12M139 1006l1 9-2 12 3 8 0 5-1 8 1 12-2 9-2 12 1 4 4 8 4 5 7 4 19 8 7 4 12 8 51 29 7 5 27 12 32 21 12 12 11 8 6 9 14 25 9 12 9 21 21 29 2 4 2 8 12 12 5 9 11 12 6 13 11 16 2 4 2 9 8 12 0 8M139 1006l-2 9 0 29-1 12 1 8 0 17 2 4 5 8 5 5 21 12 12 8 26 13 12 8 23 12 35 21 6 4 9 9 4 4 11 16 10 9 7 8 9 12 10 17 18 21 12 16 4 4 10 8 4 5 5 8 9 12 4 9 17 24 4 9 4 12 6 8 3 13 6 8 2 4M138 1006l2 9-2 12 2 8 1 5-1 12 1 4 7 13 22 20 7 9 6 4 14 8 4 4 17 21 8 8 12 8 62 34 19 12 5 4 5 8 8 9 3 4 9 29 5 8 5 8 8 9 13 12 17 17 10 12 5 8 5 13 6 12 13 21 0 8 2 4 7 9 4 12 6 8M132 1006l1 5 1 4-3 8-1 4 0 21 1 8 2 8 1 9 9 12 4 4 5 4 19 13 5 4 11 12 7 5 19 8 14 8 32 21 10 8 26 13 12 8 8 8 4 4 1 4 0 9 2 4 2 4 14 12 7 9 7 12 4 13 18 12 7 8 6 13 8 8 8 12 11 13 5 8 10 12 5 9 3 12 5 8 2 5 1 8 6 12M136 1006l0 9 2 8-2 12-1 9 1 12 0 8 0 5 1 4 4 8 3 4 10 8 7 5 29 12 17 8 5 4 7 9 11 8 15 12 18 13 25 21 27 20 12 13 9 8 4 4 5 8 10 13 14 21 8 16 11 17 4 8 12 12 9 9 3 4 4 8 7 8 3 4 3 9 8 12 4 8 1 13 5 12M137 1006l-1 9 3 12 1 8-1 13 0 8 0 4-2 9-1 8-2 4 1 4 4 4 7 4 9 5 23 8 39 16 44 34 6 8 17 12 4 9 3 4 15 8 3 4 6 8 8 9 2 4 2 8 4 4 19 17 19 21 21 20 2 4 2 9 6 12 2 8 3 4 5 9 10 12 6 8 9 21 10 13 10 20M136 1006l-1 9 3 8 0 4-4 21 1 8 5 13 1 8 1 4 4 4 8 8 5 5 52 24 17 13 37 21 33 20 11 9 4 4 4 8 12 12 3 9 10 12 10 25 6 12 5 9 16 20 9 9 19 20 3 4 3 9 10 12 7 8 6 9 3 4 3 8 2 13 10 20M140 1006l2 5-3 8-1 4 4 8 1 4-5 29 2 13 0 4 2 4 8 8 6 5 29 12 14 8 26 13 47 29 6 4 9 8 13 8 9 9 7 8 5 8 15 21 8 21 13 20 3 5 5 8 11 12 10 8 17 21 3 4 4 9 15 20 3 13 8 12 2 8 12 21 1 4M139 1006l-1 17 1 8 0 4-2 9 0 4 5 16 1 13 10 12 1 4 4 5 27 12 43 29 18 12 20 13 11 8 20 13 27 33 17 29 10 12 7 13 18 20 5 8 4 5 10 8 7 12 18 21 6 12 2 9 8 8 3 4 2 8 7 13 1 8 2 4M144 1006l-1 9 0 12-1 21 1 12-3 9 1 4 4 8 1 4 2 4 4 4 6 5 34 16 14 8 18 13 24 12 31 21 21 12 10 9 4 4 7 8 6 8 9 13 7 21 12 12 4 8 5 13 24 29 11 12 15 21 11 12 7 13 5 8 4 12 4 9 2 4 2 8 4 8M132 1006l2 13-1 8 1 13-2 8 0 4 3 8-2 13-1 8 0 4 2 4 3 4 8 5 19 8 12 8 23 13 47 29 8 4 18 8 16 12 12 9 8 8 4 4 3 8 3 5 18 20 1 9 3 4 8 8 12 21 18 20 14 13 7 12 11 13 12 16 5 13 7 12 9 21 5 8 1 8M138 1006l-1 5 1 12 0 8 0 4 2 9-2 20 3 13-1 4 1 4 3 4 4 4 7 5 44 20 24 13 9 8 6 4 18 8 18 13 19 12 11 9 10 12 7 8 3 4 10 17 5 12 3 5 5 8 6 8 7 13 3 4 7 8 9 8 17 21 9 12 9 9 3 4 4 8 9 8 3 4 2 9 7 12 3 8 5 13 2 12M136 1006l0 13-1 8 0 4 2 9-1 12-2 8 2 13-1 8 2 4 3 4 4 4 7 5 27 12 28 17 17 8 6 4 10 8 20 9 8 4 12 8 21 12 5 9 12 12 14 21 22 37 10 17 35 41 12 12 10 13 4 8 9 13 4 12 5 8 6 13 3 8 1 8" fill="none" stroke="#231f20" stroke-width="0.90" stroke-linejoin="round"/></g>
<clipPath id="cpcmod"><rect x="548.0" y="998.2" width="353.5" height="414.1"/></clipPath>
<g clip-path="url(#cpcmod)"><path transform="scale(0.5)" d="M1102 2013l1 41 6 42 13 49 4 9 6 8 8 8 21 17 60 41 22 17 47 41 163 133 37 33 23 25 21 25 25 33 111 165 33 58 29 67M1129 2013l0 8 6 17 3 8 8 8 86 58 19 17 40 50 82 91 25 25 62 58 58 57 39 42 27 33 24 33 16 25 14 25 18 33 22 50 50 124 19 50M1115 2013l1 25 2 8 4 8 28 34 30 33 23 33 7 8 27 25 74 58 92 83 24 25 29 33 61 74 92 124 50 75 25 41 22 42 20 41 16 42M1126 2013l1 25 2 8 5 8 23 25 27 33 9 17 9 25 4 8 12 17 26 24 80 67 87 66 58 50 35 33 24 25 22 24 27 34 24 33 22 33 20 33 17 33 41 91 39 100M1159 2013l2 8 8 17 7 8 13 8 155 58 35 17 27 16 23 17 18 17 23 24 19 25 53 75 21 33 122 224 21 41 20 50 15 49 14 58 11 67M1143 2013l1 17 3 8 4 8 9 8 14 9 49 25 53 24 30 17 37 25 40 33 17 16 21 25 33 50 26 33 43 50 46 49 28 34 22 33 17 33 44 108 49 107 18 50 12 50M1148 2013l0 8 5 17 5 8 8 8 44 25 40 25 22 17 15 16 21 25 25 25 31 25 134 99 28 25 22 25 17 25 14 24 15 34 22 58 15 33 18 33 47 83 24 49 14 33 9 25 9 33 7 34M1149 2013l0 17 2 8 5 8 10 8 16 9 125 58 38 24 21 17 28 25 24 25 21 25 150 198 24 33 26 42 24 41 16 33 22 58 46 141 12 42M1138 2013l0 25 3 8 7 8 77 58 16 17 26 33 27 25 75 58 73 58 29 25 25 25 35 41 23 33 20 33 106 191 25 49 18 42 16 41 13 42M1105 2013l2 25 3 16 31 67 13 33 6 8 7 8 17 17 76 58 39 33 91 75 90 82 24 25 30 33 28 33 26 34 23 33 21 33 28 50 31 57 25 50 18 42M1110 2013l2 33 20 58 4 17 3 24 2 9 5 8 14 17 21 16 77 50 95 66 33 25 37 33 39 41 43 50 85 108 31 41 23 33 25 42 22 41 23 50 20 50M1155 2013l1 8 8 17 6 8 12 8 20 9 156 58 31 16 23 17 9 8 14 17 34 58 19 24 25 25 57 50 16 17 13 16 11 17 11 24 17 67 13 33 13 25 40 66 15 33 8 25 17 83 22 83M1143 2013l1 8 2 9 9 16 9 8 45 25 42 25 23 17 14 16 28 42 22 24 27 25 40 33 96 75 27 25 27 33 12 16 14 25 49 108 18 33 43 75 25 49 10 25 12 33 10 33 7 34M1165 2013l0 17 1 8 5 8 12 8 18 9 136 58 29 16 25 17 58 41 39 33 42 42 27 33 16 25 8 16 33 83 19 41 18 34 42 74 24 50 9 25 11 41 27 133M1150 2013l1 8 7 17 5 8 10 8 119 58 15 9 22 16 95 91 82 83 23 25 27 33 29 41 30 50 45 83 28 58 21 50 19 58 18 58 14 58M1139 2013l0 8 3 17 3 8 7 8 45 34 50 33 44 33 61 41 22 17 18 16 15 17 32 50 26 33 32 33 61 58 15 16 13 17 11 16 9 17 27 66 11 25 14 25 35 58 22 41 15 42 21 83M1162 2013l1 17 5 8 5 8 12 8 161 67 44 24 36 25 43 33 47 42 44 41 29 33 11 17 10 17 12 24 10 25 39 124 46 116 26 75 17 58 11 50M1155 2013l1 17 4 8 4 8 10 8 117 58 15 9 25 16 83 58 33 25 36 33 29 33 12 17 15 25 24 49 14 25 76 116 15 25 12 25 19 50 22 74 31 91 11 42M1164 2013l0 8 8 17 6 8 13 8 144 58 17 9 13 8 22 16 19 17 23 25 65 74 52 58 27 34 35 49 30 50 42 83 26 58 15 41 14 50 18 74 12 67M1121 2013l0 8 3 17 2 8 5 8 67 67 31 41 27 25 74 58 104 91 46 50 47 58 31 41 46 66 32 50 25 41 27 50 20 41 22 50 15 42M1143 2013l0 8 5 17 4 8 8 8 13 9 93 49 29 17 58 41 39 33 23 25 35 50 20 25 87 91 28 33 21 33 43 100 46 82 17 34 10 24 8 25 25 100M1165 2013l0 8 3 9 4 8 6 8 13 8 144 58 30 17 22 16 28 25 129 125 24 24 14 17 22 33 17 33 10 25 33 91 48 108 14 33 14 41 12 42 9 41 7 42M1135 2013l0 17 2 8 3 8 8 8 11 9 88 58 58 49 101 75 77 66 24 25 14 17 23 33 25 41 109 215 31 67 19 41 16 41 10 34M1151 2013l0 8 2 9 5 8 6 8 11 8 130 58 16 9 22 16 23 25 42 58 33 41 23 25 79 75 31 33 20 25 11 16 16 25 23 50 45 116 51 124 14 41 8 34M1152 2013l0 8 2 9 10 16 11 8 52 25 48 25 28 17 19 16 31 33 18 17 83 66 39 33 25 25 13 17 16 25 29 57 14 25 63 100 15 25 12 24 13 34 25 74 27 75 10 33 6 25M1147 2013l1 25 4 8 8 8 59 34 63 33 25 16 20 17 19 16 26 25 64 75 25 25 56 49 23 25 13 17 21 33 42 83 47 74 22 42 10 24 23 67 25 66 15 50M1112 2013l3 25 1 8 4 8 42 58 10 17 12 25 13 16 26 25 63 50 125 108 59 57 39 42 36 41 39 50 47 66 35 58 37 75 18 41 17 42M1147 2013l0 25 3 8 8 8 79 50 23 17 40 41 27 25 136 108 39 33 32 33 27 33 23 33 19 33 55 116 29 66 36 91 19 50 13 42M1148 2013l1 17 4 8 4 8 9 8 43 25 48 33 17 17 24 33 17 17 32 24 74 50 46 33 30 25 23 25 12 17 9 16 28 66 22 42 21 33 55 74 24 42 7 16 9 25 26 91 20 67M1113 2013l3 25 2 8 4 8 53 67 18 33 13 16 28 25 61 50 94 83 27 25 47 49 37 42 74 91 54 74 42 67 23 41 17 33 14 33 17 42M1139 2013l1 17 3 8 3 8 7 8 99 67 49 41 75 58 28 25 44 50 137 165 23 33 23 42 83 174 14 33 9 25 17 58M1144 2013l1 17 4 8 5 8 10 8 114 58 26 17 19 16 42 42 38 41 89 108 75 108 67 99 27 41 24 42 21 41 23 58 16 50 12 50M1097 2013l0 58 2 17 14 57 3 9 5 8 6 8 17 17 64 50 47 41 11 8 72 50 31 25 65 49 38 34 25 24 28 34 25 33 65 91 49 74 35 58 17 33 14 34M1162 2013l0 25 7 8 12 8 146 58 17 9 25 16 10 8 15 17 29 41 22 25 36 33 61 50 17 17 13 16 10 17 8 16 20 58 10 25 19 33 41 67 17 33 11 33 18 66 28 83 7 25 5 25M1152 2013l1 25 4 8 9 8 88 50 25 17 18 16 23 25 25 25 166 141 25 25 26 33 23 33 23 41 79 174 48 116 15 41 9 34M1145 2013l1 8 6 17 5 8 10 8 115 58 26 17 19 16 92 92 68 74 28 33 36 50 38 58 64 108 32 58 19 41 23 58 18 58 13 50M1152 2013l1 8 7 17 5 8 11 8 147 67 27 16 34 25 40 33 35 33 38 42 33 41 23 33 63 108 51 91 25 50 13 33 14 41 27 91 16 67M1124 2013l1 17 4 16 5 8 24 25 28 33 9 17 8 25 4 8 5 8 13 17 17 16 75 67 97 74 67 58 35 33 23 25 22 25 26 33 39 58 33 58 41 91 39 100M1150 2013l1 17 4 8 5 8 10 8 15 9 122 58 28 16 37 25 46 33 41 33 34 33 35 42 17 25 9 16 33 75 26 49 19 34 51 82 26 50 13 33 13 42 12 49 13 67M1131 2013l1 8 5 17 4 8 7 8 89 58 20 17 45 50 58 58 38 41 64 66 73 83 46 58 31 41 28 42 20 33 17 33 15 33 20 50 20 58 16 50M1162 2013l0 8 8 17 5 8 12 8 138 58 31 17 36 25 61 49 75 67 35 33 29 33 12 17 14 24 18 42 37 116 46 116 26 74 15 50 10 50M1142 2013l0 17 2 8 3 8 7 8 35 25 44 33 10 9 31 33 19 16 23 17 74 50 32 24 30 25 17 17 15 16 13 17 11 17 33 57 19 34 28 41 61 83 16 25 14 25 12 24 9 25 51 158M1140 2013l0 17 2 8 4 8 8 8 76 50 22 17 16 16 28 33 16 17 146 132 26 25 44 50 33 41 30 42 36 58 29 49 22 42 18 41 23 58 17 50 15 50M1109 2013l0 17 2 16 3 8 20 34 24 33 19 33 6 8 26 25 72 58 35 33 83 75 85 82 33 33 44 50 34 42 35 49 29 50 36 74 40 92M1108 2013l0 25 4 16 32 58 7 17 7 25 10 16 23 25 48 42 43 41 80 66 113 100 51 49 46 50 27 33 18 25 17 25 20 33 38 74 40 92M1140 2013l1 17 9 16 9 8 14 9 77 41 27 17 17 16 31 42 14 16 17 17 48 41 74 58 26 25 14 17 16 24 48 83 57 83 24 41 16 34 28 74 31 75 11 33 7 25M1159 2013l0 8 2 9 5 8 6 8 13 8 166 67 29 16 25 17 30 25 33 33 29 33 46 58 22 33 19 33 64 133 46 91 19 41 19 50 15 49 12 50 8 42M1152 2013l0 8 3 9 8 16 10 8 118 58 26 17 126 108 55 49 35 33 28 34 23 33 22 41 92 207 24 58 18 50 13 41 10 42M1169 2013l0 8 3 9 5 8 7 8 15 8 163 58 20 9 15 8 25 16 19 17 14 17 60 82 65 75 26 33 23 33 15 25 16 33 13 33 30 91 48 158 11 41 9 42M1121 2013l2 25 2 8 4 8 30 34 48 41 133 141 32 25 60 41 22 17 27 24 21 25 53 83 60 75 18 24 10 17 13 25 29 66 42 83 10 25 8 25M1158 2013l1 17 10 16 11 8 129 58 15 9 23 16 26 25 96 99 59 58 22 25 20 25 29 41 24 42 20 41 36 83 27 66 29 83 15 50 13 50M1158 2013l1 8 8 17 6 8 13 8 20 9 164 58 35 16 14 8 23 17 8 8 13 17 10 16 19 42 17 25 23 25 53 49 29 33 11 17 12 25 7 25 10 49 11 33 13 25 38 67 14 33 9 33 15 83 12 58M1135 2013l1 8 5 17 5 8 8 8 114 67 21 16 87 83 24 25 80 91 71 91 36 50 46 66 26 41 19 34 15 33 19 49 20 58 19 67M1131 2013l0 17 3 16 5 8 7 9 39 33 64 41 35 25 21 17 9 8 14 16 10 17 23 41 14 17 32 25 77 50 29 24 14 17 10 16 19 50 13 25 19 25 51 58 12 16 9 17 10 25 18 58 12 25 23 41 12 25 9 25 7 25M1170 2013l1 17 6 8 7 8 14 8 167 58 38 17 30 16 23 17 19 17 16 16 19 25 60 83 26 41 48 91 57 125 20 49 12 42 23 99 14 75M1129 2013l1 17 2 8 3 8 7 8 71 58 15 17 21 33 22 25 88 83 76 66 27 25 64 66 21 25 26 33 30 41 22 34 20 33 18 33 19 41 25 58 20 50 18 50M1133 2013l0 17 7 16 8 8 11 9 81 49 22 17 47 41 59 50 28 25 57 58 36 41 23 33 33 50 107 174 24 41 26 50 23 50 16 41 12 42M1144 2013l0 17 3 8 3 8 7 8 36 25 42 33 45 42 24 16 66 42 23 16 18 17 20 25 32 49 19 25 22 25 61 58 22 25 11 16 8 17 23 58 11 25 14 25 37 58 18 33 12 33 18 66 12 42M1140 2013l0 17 2 8 4 8 9 8 14 9 93 49 14 9 20 16 16 17 21 25 63 82 21 25 129 124 23 25 20 25 28 42 25 49 51 125 44 99 18 50M1139 2013l0 17 1 8 5 8 9 8 44 25 37 25 10 8 7 9 5 8 10 33 12 17 9 8 22 16 72 42 26 16 23 17 18 17 8 8 12 16 24 50 11 17 22 24 52 50 21 25 11 17 8 16 18 50 11 25 14 25 33 49 17 33 10 25 15 58 13 42M1125 2013l1 25 2 8 6 8 8 9 69 58 29 33 16 16 88 75 77 74 24 25 22 25 80 99 79 108 22 33 20 33 22 42 23 49 16 42 16 50M1135 2013l0 25 3 8 6 8 86 67 46 41 22 17 74 49 32 25 46 42 23 24 13 17 11 17 39 66 26 41 28 42 61 82 31 50 16 33 16 42 16 49 19 67M1143 2013l0 17 7 16 9 8 123 67 32 24 56 50 27 25 23 25 65 74 27 34 62 82 29 42 37 58 28 49 16 34 16 41 35 99 20 67M1119 2013l3 25 2 8 4 8 59 67 21 33 7 8 28 25 82 58 87 66 30 25 18 17 32 33 41 49 24 33 27 42 35 58 28 50 25 49 33 66 22 50 16 42M1106 2013l0 17 2 16 8 17 19 25 31 33 10 16 12 25 10 17 18 24 21 25 32 33 21 17 37 25 70 41 47 33 29 25 22 25 17 25 28 50 16 24 26 34 56 66 23 33 21 41 30 75 22 50M1151 2013l0 8 2 9 3 8 5 8 10 8 122 58 29 17 24 16 77 58 50 42 54 50 23 24 14 17 21 33 16 33 50 124 59 133 19 50 15 41 13 41 8 34M1137 2013l1 17 2 8 2 8 7 8 46 34 55 33 73 49 33 25 19 17 22 25 30 49 20 25 32 33 73 66 16 17 13 17 11 16 9 17 30 74 12 25 14 25 37 58 21 41 15 42 21 83M1134 2013l0 17 2 8 3 8 7 8 91 67 50 49 95 75 57 50 45 41 35 41 30 42 26 41 61 108 32 58 24 50 26 57 20 50 14 42M1131 2013l1 17 6 16 6 8 66 50 19 17 13 16 15 25 21 25 82 83 81 74 49 50 54 58 46 58 25 33 22 33 20 33 18 33 19 42 16 41 19 50 16 50M1140 2013l0 17 2 8 3 8 8 8 37 25 43 33 15 17 18 25 26 25 83 58 21 16 27 25 30 33 51 66 59 67 20 24 12 17 15 25 41 83 54 99 11 25 9 25 25 83M1105 2013l0 25 2 16 18 67 6 24 3 9 5 8 16 17 22 16 76 50 106 74 33 25 56 50 48 50 28 33 31 41 35 50 32 50 35 58 32 57 26 50 19 42M1126 2013l0 17 2 8 2 8 4 8 54 58 28 42 8 8 29 25 86 58 73 58 36 33 15 17 20 24 82 116 68 91 32 50 18 33 18 42 20 49 23 67M1137 2013l1 8 6 17 5 8 9 8 14 9 96 49 14 9 21 16 24 25 91 108 26 25 72 66 32 33 21 25 17 25 15 24 50 108 63 124 14 33 9 25 10 33 8 34M1117 2013l1 17 2 8 2 8 4 8 58 67 20 33 14 16 27 25 62 50 113 99 49 50 37 41 28 33 33 42 54 74 22 34 20 33 21 41 20 41 22 50 15 42M1143 2013l0 17 4 8 4 8 9 8 108 58 14 9 23 16 88 75 36 33 57 58 35 41 23 33 30 50 87 157 27 50 22 50 20 49 17 50 11 42M1140 2013l0 17 4 8 4 8 8 8 14 9 48 25 53 24 31 17 26 16 23 17 29 25 16 16 14 17 11 17 29 49 26 33 37 42 65 66 21 25 23 33 21 41 40 108 46 99 11 25 11 33 8 34M1156 2013l0 8 7 17 5 8 12 8 79 34 63 24 19 9 32 16 39 25 21 17 27 24 21 25 89 133 53 74 15 25 17 33 25 58 64 182 15 50 8 42M1103 2013l2 33 8 33 5 33-3 42 2 8 9 17 16 16 30 25 42 25 97 66 34 25 29 25 34 33 71 58 27 25 24 25 22 24 27 34 18 24 21 34 25 41 44 83 19 33 24 50M1121 2013l1 17 3 8 2 8 6 8 64 58 15 17 15 25 21 25 62 58 40 41 61 58 63 66 60 66 41 50 33 42 41 58 15 24 18 34 16 33 18 41 27 75M1147 2013l1 17 3 8 4 8 9 8 88 50 26 17 19 16 25 25 27 25 69 58 87 74 25 25 27 33 22 33 24 42 78 166 25 58 26 66 15 41 11 42M1124 2013l0 17 4 16 5 8 7 9 28 25 43 33 44 41 63 50 27 25 73 82 46 50 83 83 36 41 28 42 23 41 46 100 45 91 14 33 9 25M1134 2013l0 25 3 8 6 8 30 25 36 33 14 17 21 33 15 17 29 24 149 116 30 25 26 25 32 33 22 25 20 25 23 33 26 41 24 42 21 41 19 42 26 66 23 58 17 50M1153 2013l0 17 4 8 4 8 9 8 47 25 58 33 12 9 56 49 90 67 41 33 35 33 21 25 15 25 30 66 18 33 20 33 56 83 22 41 16 42 51 174M1119 2013l0 17 3 16 4 8 19 25 20 33 6 17 4 25 3 8 5 8 13 17 28 25 74 58 96 66 53 41 29 25 26 25 23 25 20 25 35 49 39 67 85 157 21 41 14 34M1120 2013l0 25 2 8 4 8 45 58 10 17 11 25 13 16 27 25 66 50 106 83 29 25 35 33 32 33 29 33 20 25 30 41 29 42 26 41 19 33 26 50 24 49 21 50 17 42M1147 2013l0 17 2 8 4 8 9 8 85 50 24 17 55 58 149 124 25 25 21 25 22 33 58 99 58 91 23 42 15 33 12 33 28 83 17 58M1142 2013l0 17 3 8 4 8 8 8 101 58 24 17 130 116 67 66 23 25 13 17 30 41 32 50 66 116 32 58 20 41 28 66 18 50 14 50M1120 2013l1 17 4 16 5 8 20 25 14 25 5 17 1 24 2 9 4 8 6 8 9 9 23 16 88 50 26 16 36 25 21 17 17 16 15 17 35 50 20 24 24 25 61 58 22 25 14 17 11 16 14 25 27 58 17 33 54 91 15 33 11 34M1129 2013l0 17 2 8 2 8 5 8 38 34 43 33 83 74 34 33 43 50 28 25 52 41 29 25 25 25 21 25 16 25 43 74 58 83 20 33 15 33 62 158M1126 2013l0 17 2 8 3 8 5 8 74 67 26 33 25 25 85 66 97 83 17 16 22 25 41 50 30 41 38 58 42 66 29 50 26 50 24 49 20 50 15 42M1158 2013l0 17 3 8 4 8 10 8 50 25 75 42 56 41 71 50 22 16 29 25 29 33 22 33 24 50 14 25 17 25 54 74 15 25 13 25 14 33 30 91 36 91 10 33 7 34M1133 2013l1 17 7 16 7 8 36 25 33 25 18 17 10 16 11 25 10 17 13 16 15 17 66 58 91 66 31 25 44 41 27 33 12 17 15 25 58 116 73 132 23 50 16 50M1142 2013l0 17 8 16 8 8 83 50 24 17 16 16 32 42 23 24 68 67 67 58 27 25 39 41 28 33 18 25 20 33 23 41 29 58 26 58 43 100 16 41 14 42M1119 2013l1 25 2 8 4 8 49 58 11 17 12 25 12 16 25 25 61 50 37 33 70 58 27 25 42 41 39 42 28 33 39 49 48 67 21 33 19 33 21 41 20 42 17 41 16 42M1111 2013l3 25 2 8 3 8 38 58 8 17 8 25 5 8 13 17 17 16 49 42 46 41 80 66 82 75 33 33 31 33 36 41 27 34 42 58 34 58 37 74 31 75M1139 2013l1 8 6 17 5 8 9 8 15 9 119 58 37 24 28 25 25 25 20 25 41 58 19 25 111 124 27 33 17 25 15 25 25 50 46 124 37 91 16 50M1152 2013l0 17 4 8 4 8 11 8 16 9 55 25 78 33 43 24 32 25 17 17 13 16 38 58 13 17 23 25 61 58 28 33 11 16 13 25 23 67 15 33 48 83 16 33 13 41 33 133M1143 2013l0 17 2 8 4 8 8 8 107 67 56 49 73 58 30 25 53 50 24 25 13 16 23 33 21 33 53 92 55 91 23 41 19 42 19 49 16 50 13 50M1164 2013l0 17 1 8 6 8 11 8 17 9 39 16 90 42 39 24 57 42 40 33 33 33 27 33 22 33 38 67 52 82 14 25 17 33 20 50 56 157 13 42 10 50M1122 2013l0 17 4 16 5 8 23 25 29 33 9 17 10 25 5 8 12 17 25 24 77 67 94 74 47 42 35 33 24 25 22 24 27 34 24 33 22 33 20 33 19 33 47 99 38 92M1134 2013l2 17 6 16 6 8 31 25 35 33 11 17 13 25 6 8 16 17 32 24 64 42 83 58 21 16 19 17 22 25 12 16 15 25 40 75 14 25 22 33 59 83 25 41 16 33 13 33 13 42 17 58M1105 2013l1 33 6 33 1 17-1 25-6 33 2 8 4 8 7 9 8 8 20 16 87 58 108 67 38 25 54 41 45 41 29 33 24 34 137 207 36 58 17 33 12 25M1124 2013l0 17 4 16 6 8 56 58 11 17 12 25 5 8 14 17 26 24 49 42 27 25 90 74 35 33 34 33 31 34 21 24 33 42 47 66 20 33 19 33 20 42 22 49 21 50 15 42M1143 2013l0 8 2 9 9 16 10 8 14 9 81 41 28 17 18 16 33 42 23 24 38 34 91 74 17 17 14 16 22 33 42 75 60 91 23 41 19 42 24 66 26 66 11 33 9 34M1150 2013l0 17 2 8 4 8 9 8 45 25 42 25 24 17 16 16 32 42 24 24 62 58 97 83 40 42 27 33 18 25 20 33 21 41 20 42 28 66 46 116 15 41 13 42M1142 2013l1 25 4 8 8 8 38 25 36 25 20 17 13 16 22 33 21 25 76 75 76 66 34 33 55 58 41 50 29 41 22 33 24 42 16 33 14 33 22 58 19 58 16 50M1118 2013l1 17 1 8 2 8 5 8 50 58 11 17 12 25 12 16 25 25 50 42 36 33 68 58 27 25 49 49 39 42 35 41 40 50 48 66 21 33 20 33 22 42 20 41 14 33 15 42M1153 2013l0 8 3 9 5 8 5 8 12 8 18 9 144 58 43 24 24 17 29 25 24 25 20 25 34 49 27 42 52 91 80 132 27 50 18 41 12 42 16 66 16 75M1149 2013l1 8 7 17 5 8 10 8 120 58 26 17 20 16 174 183 21 25 26 33 29 41 31 50 37 66 29 58 17 41 20 58 21 67 15 58M1135 2013l1 17 2 8 4 8 7 8 97 67 53 49 105 83 58 50 26 25 23 25 20 24 23 33 25 42 92 174 27 58 26 58 15 41 14 42M1131 2013l0 25 3 8 5 8 63 58 37 42 9 8 21 17 82 58 20 16 34 33 39 42 53 66 65 74 33 42 29 41 27 50 75 166 14 33 9 25M1138 2013l0 8 5 17 4 8 8 8 95 58 22 17 44 41 81 67 64 58 34 33 28 33 29 41 26 42 74 132 26 50 23 50 25 57 17 50 12 42M1166 2013l1 17 5 8 6 8 13 8 177 67 34 16 41 25 33 25 28 25 39 41 27 33 22 33 13 25 13 33 25 75 17 41 15 33 40 83 17 42 13 41 11 41 8 42 7 50M1122 2013l0 17 3 8 2 8 6 8 53 50 16 17 24 41 21 25 27 25 68 58 76 58 29 25 43 41 36 41 35 50 85 133 25 41 22 41 16 33 16 42 18 50M1172 2013l0 17 4 8 7 8 13 8 155 58 34 17 37 25 28 25 24 24 89 100 27 33 26 41 26 50 22 50 46 116 17 49 15 58 16 67 11 58M1151 2013l0 17 3 8 4 8 9 8 43 25 54 33 12 9 52 41 85 58 22 17 19 16 29 33 17 25 27 50 16 25 18 24 54 67 17 25 15 24 15 34 37 99 40 91 11 33 10 42M1171 2013l0 17 3 8 7 8 14 8 21 9 146 49 39 17 31 16 25 17 28 25 21 25 61 91 25 41 57 100 17 33 19 41 19 50 19 58 36 141 12 58M1098 2013l-1 41 4 34 4 16 15 41 4 9 6 8 16 17 72 58 34 33 20 16 150 108 40 33 25 25 28 33 59 83 63 83 22 33 15 25 18 33 37 83M1145 2013l0 8 5 17 4 8 8 8 83 50 25 17 55 49 98 75 50 41 34 33 21 25 25 42 60 116 61 99 27 50 14 33 15 41 12 42 14 58M1117 2013l2 25 2 8 3 8 49 67 16 24 14 17 32 25 89 58 65 50 29 24 17 17 16 17 20 24 30 42 58 83 74 99 33 50 24 41 19 41 17 42 17 50M1141 2013l0 8 6 17 5 8 9 8 14 9 96 49 15 9 24 16 83 66 39 34 60 58 37 41 22 33 28 50 111 223 22 50 20 50 15 41 12 42M1114 2013l0 8 3 17 2 8 4 8 44 58 8 17 8 25 4 8 5 8 13 17 97 91 91 75 95 82 25 25 32 33 48 58 36 50 15 25 18 33 35 74 38 92M1158 2013l0 17 1 8 5 8 11 8 53 25 66 33 13 9 20 16 109 124 88 92 36 41 32 41 28 42 30 49 23 42 19 41 13 33 16 50 21 75 15 58M1163 2013l0 17 2 8 5 8 12 8 151 67 41 24 46 34 41 33 26 25 31 33 27 33 16 25 9 16 41 83 68 124 24 50 10 25 10 33 30 116 12 50M1134 2013l0 17 5 16 6 8 30 25 35 33 12 17 16 33 6 8 15 17 29 25 64 49 81 58 32 25 44 42 35 41 17 25 20 33 119 224 28 58 13 33 9 25M1128 2013l0 25 3 8 5 8 26 25 32 33 11 17 12 25 5 8 14 17 27 24 80 67 73 58 30 25 35 33 32 33 29 33 20 25 24 33 28 41 20 33 22 42 21 41 29 66 21 50 16 42M1135 2013l1 8 4 17 3 8 8 8 53 34 44 24 26 17 62 50 36 33 23 25 32 41 21 25 101 107 35 42 17 25 19 33 45 99 54 108 19 50 16 58M1161 2013l1 8 8 17 6 8 12 8 61 25 76 33 15 9 25 16 130 108 34 33 22 25 11 16 10 17 38 83 60 107 20 42 16 41 22 75 24 74 9 33 6 34M1146 2013l0 17 2 8 4 8 9 8 117 67 122 91 30 25 27 24 32 34 21 24 22 34 60 107 74 116 28 50 14 33 14 41 17 58 17 67M1113 2013l1 25 5 16 33 58 17 42 12 16 29 25 70 50 131 99 36 33 33 33 31 34 20 24 31 42 29 41 32 50 25 41 53 100 20 41 17 42M1155 2013l0 8 7 17 5 8 11 8 55 25 68 33 14 9 21 16 16 17 98 107 74 75 28 33 33 41 28 42 30 50 32 58 23 49 16 42 15 49 17 67 13 58M1128 2013l3 25 2 8 5 8 24 25 64 75 20 16 64 42 33 25 16 16 41 50 23 25 34 33 66 58 16 16 14 17 12 16 10 17 24 50 14 25 56 82 19 34 15 33 42 116M1117 2013l0 25 2 8 4 8 46 58 9 17 9 25 4 8 5 8 15 17 27 25 70 58 91 66 41 33 28 25 25 25 35 41 29 42 76 116 46 74 18 33 16 33 15 33 12 34M1151 2013l1 25 4 8 8 8 44 25 67 42 58 49 92 67 52 41 37 33 22 25 16 25 13 25 40 91 16 33 70 116 21 41 13 33 14 42 11 41 8 42M1126 2013l0 17 5 16 5 8 26 25 31 33 10 17 10 25 4 8 6 8 14 17 28 25 71 58 89 66 30 25 53 49 22 25 20 25 23 33 21 33 47 83 72 141 18 41 13 34M1123 2013l2 17 3 16 5 8 22 25 24 33 4 9 11 33 12 16 17 17 22 16 64 42 73 50 34 24 20 17 17 17 28 33 24 33 50 74 76 100 33 49 18 34 15 33 44 116M1136 2013l1 25 4 8 7 8 101 67 57 49 86 67 83 74 24 25 20 25 29 41 25 42 96 182 28 58 26 58 16 41 14 42M1156 2013l0 8 8 17 7 8 12 8 19 9 151 58 32 16 27 17 22 16 29 25 23 25 26 33 29 42 20 33 66 140 22 42 47 83 20 41 16 42 15 49 12 50 8 50M1129 2013l1 17 4 16 5 8 9 9 39 33 33 25 38 33 23 16 63 42 34 25 18 16 17 17 22 25 19 24 37 58 24 33 85 100 26 33 28 41 20 42 36 99 38 100M1146 2013l0 8 6 17 5 8 9 8 108 58 13 9 20 16 48 50 146 141 22 25 33 41 30 41 26 42 42 74 28 58 18 42 24 66 19 58 13 50M1127 2013l1 17 3 8 3 8 6 8 84 67 30 33 17 16 93 75 76 66 34 33 41 50 24 33 28 41 56 92 38 66 25 50 28 57 20 50 15 42M1104 2013l0 17 3 16 8 17 28 41 8 17 3 16 0 17 3 16 3 9 11 16 25 25 44 33 38 25 74 41 41 25 32 25 25 25 20 25 38 58 19 25 21 24 61 67 20 25 11 16 19 33 37 83 37 75M1098 2013l1 41 5 34 16 57 4 9 6 8 8 8 21 17 89 58 114 83 20 16 28 25 56 58 29 33 39 50 42 58 46 66 37 58 30 50 23 41 20 42M1154 2013l1 17 9 16 10 8 16 9 108 49 16 9 26 16 74 58 59 50 53 50 24 24 14 17 22 33 22 41 14 34 33 82 47 108 40 108 12 41 10 42M1136 2013l1 8 6 17 4 8 9 8 82 50 23 17 15 16 31 42 24 24 65 58 62 50 30 25 24 25 21 25 28 41 49 91 57 91 23 42 15 33 16 41 13 42 17 58M1121 2013l0 8 3 17 3 8 5 8 51 50 15 17 20 33 12 16 25 25 48 42 36 33 66 58 27 25 48 49 38 42 61 74 30 42 23 33 21 33 18 33 21 41 19 42 17 41 14 42M1143 2013l0 8 6 17 4 8 9 8 107 58 14 9 22 16 115 91 48 42 53 49 28 34 27 41 23 41 83 183 18 41 32 83 15 41 12 42M1125 2013l0 8 3 17 2 8 5 8 25 25 30 33 11 17 12 25 5 8 15 17 29 24 152 116 31 25 27 25 24 25 22 25 20 25 23 33 32 49 67 116 31 58 24 50 18 41 12 34M1134 2013l1 17 3 8 4 8 8 8 73 50 22 17 14 16 17 25 20 25 85 91 68 66 62 66 44 50 46 58 25 33 22 33 19 34 17 33 18 41 16 41 29 92M1138 2013l0 8 4 17 4 8 7 8 38 25 34 25 20 17 13 16 21 33 23 25 80 75 70 58 36 33 49 49 41 50 23 33 26 42 19 33 21 41 18 42 22 58 24 66 17 50M1133 2013l0 8 3 17 3 8 6 8 28 25 33 33 28 33 17 17 22 17 78 49 23 17 18 16 16 17 21 25 43 58 21 25 71 74 28 33 12 17 14 25 46 99 54 99 17 42 14 50M1139 2013l0 17 3 8 4 8 8 8 97 58 23 17 45 41 85 75 67 66 23 25 14 17 35 49 32 50 68 116 33 58 24 50 24 57 18 50 13 42M1159 2013l0 8 1 9 5 8 5 8 12 8 130 58 16 9 22 16 26 25 90 99 74 75 21 25 26 33 22 33 25 41 24 50 26 58 27 75 35 116 15 58M1175 2013l0 17 5 8 8 8 14 8 184 67 34 16 43 25 9 8 7 9 11 16 23 42 16 24 19 25 41 50 26 33 23 33 15 25 9 33 9 25 26 58 35 124 30 100 7 33 3 25M1125 2013l1 17 5 16 6 8 29 25 36 33 12 17 16 33 13 17 18 16 20 17 153 116 27 25 35 41 126 174 32 50 18 33 15 33 42 99 16 42M1156 2013l0 8 3 9 5 8 7 8 13 8 19 9 132 49 19 9 29 16 22 17 18 16 14 17 11 16 35 58 12 17 19 25 95 116 23 33 19 33 20 41 18 50 33 108 31 91 13 50M1107 2013l1 33 10 33 7 33 2 42 3 8 11 17 27 24 55 42 31 25 107 74 54 42 59 49 26 25 24 25 28 33 26 33 24 33 22 34 24 41 31 58 29 58 23 50M1107 2013l1 33 8 33 5 25 4 50 3 8 6 8 16 17 21 16 63 42 47 33 76 50 34 25 60 49 42 42 22 24 31 42 29 41 33 50 45 75 39 66 22 41 20 42M1122 2013l1 17 1 8 2 8 5 8 21 25 26 33 9 17 12 25 13 16 29 25 71 50 78 58 30 25 18 16 24 25 47 58 110 149 38 58 23 42 19 41 20 50 22 58M1146 2013l1 8 4 17 4 8 9 8 112 67 117 82 30 25 16 17 13 16 45 67 25 33 59 66 20 25 11 16 14 25 41 100 42 83 16 33 9 24 8 25 14 67M1154 2013l0 17 2 8 5 8 11 8 17 9 136 58 28 16 22 17 17 16 14 17 35 50 19 24 25 25 65 58 15 17 13 16 11 17 13 25 24 66 11 25 14 25 40 66 16 33 11 33 18 66 26 92M1135 2013l0 17 8 16 8 8 81 50 22 17 13 16 16 33 10 17 13 16 17 17 50 41 85 58 22 17 18 17 23 24 11 17 10 16 32 67 14 25 22 33 49 66 16 25 9 16 18 42 26 83 20 58M1169 2013l0 17 12 16 14 8 138 50 42 17 30 16 23 17 19 16 15 17 57 74 69 83 23 33 20 33 16 34 14 33 58 157 24 75 16 58 11 58M1144 2013l0 25 4 8 8 8 37 25 41 33 8 9 5 8 18 33 6 8 16 17 32 25 143 99 30 25 16 17 13 16 20 33 36 75 18 33 22 33 53 75 24 41 11 25 13 33 31 108M1124 2013l0 17 4 16 5 8 24 25 26 33 5 9 15 33 6 8 8 8 20 17 75 50 22 16 59 50 33 33 51 58 63 66 34 42 18 24 16 25 92 166 23 50 20 58M1129 2013l0 17 1 8 3 8 6 8 27 25 33 33 13 17 13 25 6 8 14 17 29 24 147 116 30 25 27 25 32 33 42 50 23 33 26 41 25 42 27 50 24 49 35 75 18 41 15 42M1128 2013l1 8 5 17 3 8 8 8 50 34 41 24 13 9 19 16 77 83 55 66 129 124 31 34 21 24 27 42 27 50 48 107 44 91 13 33 12 34M1154 2013l0 17 8 16 10 8 48 25 44 25 27 17 61 58 87 66 40 33 27 25 22 25 12 16 9 17 32 66 18 33 20 33 48 75 23 41 11 25 8 25 49 166M1120 2013l2 25 2 8 4 8 19 25 23 33 20 42 13 16 30 25 75 50 80 58 33 25 36 33 22 25 21 24 35 50 111 166 26 41 23 42 16 33 18 41 14 42M1149 2013l1 8 6 17 4 8 9 8 45 25 71 42 46 33 61 41 32 25 23 25 38 58 19 25 22 25 47 49 21 25 11 17 8 16 21 58 11 25 13 25 36 58 16 33 11 33 17 66 20 67M1106 2013l2 41 15 75 5 16 4 9 6 8 19 17 76 49 22 17 75 66 132 108 27 25 16 16 33 42 45 66 54 74 23 34 14 24 18 33 40 92M1123 2013l1 25 3 8 5 8 54 58 11 17 11 25 6 8 13 17 27 24 39 34 47 41 71 58 36 33 42 41 31 34 22 24 33 42 30 41 22 33 21 34 18 33 21 41 22 50 32 83M1155 2013l0 8 7 17 5 8 11 8 126 58 27 17 21 16 69 67 100 99 23 25 20 25 28 41 30 50 36 74 30 67 20 49 22 67 19 66 13 50M1152 2013l2 25 4 8 10 8 68 34 74 33 29 16 39 25 47 33 30 25 34 33 27 33 16 25 10 17 37 82 22 42 25 41 54 83 14 25 13 25 13 33 12 41 12 50 15 75M1162 2013l1 8 4 9 10 16 13 8 59 25 54 25 32 17 134 91 20 16 23 25 11 17 24 49 15 25 19 25 41 50 11 16 8 17 7 16 13 50 8 25 12 25 33 58 14 33 6 25 13 66 19 75M1152 2013l1 25 5 8 10 8 15 9 100 49 14 9 23 16 36 33 67 67 70 74 28 33 34 50 32 50 67 116 31 58 19 41 26 66 16 50 13 50M1116 2013l0 25 1 8 4 8 16 25 19 33 6 17 6 25 4 8 13 17 18 16 21 17 87 66 81 58 31 25 37 33 26 25 23 25 27 33 30 41 28 42 61 99 50 91 20 41 14 34M1163 2013l0 8 3 9 5 8 6 8 12 8 143 58 31 17 23 16 19 17 32 33 116 124 27 34 28 41 27 50 23 49 34 83 22 58 22 75 19 66 11 50M1149 2013l1 25 4 8 8 8 42 25 52 33 11 9 40 41 18 17 89 66 63 50 38 33 22 25 17 24 15 25 57 124 65 116 21 42 14 33 12 33 10 33 10 42M1162 2013l1 17 5 8 6 8 13 8 170 67 31 16 37 25 31 25 35 33 37 41 34 42 22 33 17 33 18 41 37 92 45 99 18 41 18 50 15 50 10 41 7 42M1140 2013l2 17 3 8 4 8 9 8 105 58 14 9 21 16 111 100 63 66 35 41 29 42 37 58 80 132 32 58 23 50 20 49 17 50 11 42M1144 2013l1 25 3 8 7 8 35 25 42 33 9 9 30 33 20 16 24 17 80 50 33 24 37 34 20 24 16 25 29 58 16 25 25 33 61 75 17 25 15 24 18 42 27 83 45 116M1135 2013l1 8 5 17 3 8 8 8 71 50 20 17 14 16 17 25 22 25 93 83 88 74 48 50 34 41 24 33 26 42 23 41 26 50 23 50 35 82 20 50 14 42M1127 2013l0 8 5 17 3 8 6 8 90 67 50 49 87 75 67 66 24 25 59 74 37 50 65 91 27 42 25 41 21 42 21 49 19 50 15 50M1148 2013l3 17 8 16 9 8 46 25 43 25 25 17 16 16 35 42 25 24 66 58 70 58 28 25 31 33 27 33 17 25 19 33 21 42 22 50 27 66 46 124 15 41 10 34M1130 2013l1 17 3 8 3 8 7 8 66 50 20 17 35 41 15 17 75 66 87 83 24 25 22 24 54 67 36 49 45 67 26 41 24 41 20 42 23 49 19 50 14 42M1142 2013l0 17 3 8 5 8 9 8 14 9 111 58 34 24 70 58 36 34 46 49 35 42 11 16 21 33 66 116 65 108 23 41 24 50 17 41 13 42 13 50M1130 2013l0 8 2 9 6 16 6 8 27 25 12 17 10 16 12 33 5 9 8 8 10 8 26 17 79 41 26 17 10 8 17 17 14 16 30 50 20 25 26 25 62 49 17 17 15 16 15 25 23 58 12 25 17 25 37 50 20 33 11 25 23 74 15 42M1123 2013l1 8 3 17 2 8 6 8 75 67 28 33 17 16 79 67 96 91 24 25 61 66 29 33 26 33 24 33 23 33 20 33 18 34 20 41 38 83 17 41 16 42M1150 2013l0 25 4 8 9 8 86 50 25 17 18 16 23 25 26 25 144 124 27 25 31 33 33 41 23 34 24 41 30 58 27 58 17 41 23 67 21 66 14 50M1159 2013l0 17 3 8 5 8 11 8 16 9 108 49 15 9 24 16 96 83 73 66 34 33 28 34 27 41 21 41 76 183 17 41 29 83 12 41 10 42M1141 2013l4 17 10 16 10 8 95 50 26 17 16 16 17 25 13 17 17 16 20 17 98 74 27 25 14 17 11 16 22 42 15 24 67 92 15 24 9 17 38 91 35 75 11 24 13 42 12 50M1167 2013l0 17 2 8 5 8 12 8 119 50 36 17 27 16 34 25 60 50 84 74 33 33 20 25 17 25 14 25 11 25 13 33 65 199 32 107 16 67M1129 2013l1 17 2 8 4 8 6 8 11 9 37 25 40 24 21 17 15 16 45 58 31 34 37 33 89 66 26 25 21 25 17 24 44 75 61 83 25 41 12 25 26 66 36 83 15 42M1124 2013l0 17 2 8 2 8 4 8 22 25 25 33 9 17 9 25 5 8 13 17 19 16 21 17 77 58 82 58 31 25 38 33 25 24 23 25 27 33 24 34 21 33 19 33 22 41 62 133 35 83M1129 2013l2 17 6 16 7 8 32 25 29 25 16 17 10 16 6 17 8 16 12 17 15 16 74 67 91 66 41 33 44 41 28 34 18 24 20 34 60 116 58 107 24 50 18 50M1151 2013l0 8 8 17 5 8 11 8 126 58 28 17 21 16 17 17 32 33 66 75 54 58 40 49 35 50 26 41 32 58 28 58 18 42 17 50 29 91 16 58M1121 2013l2 17 5 16 5 8 9 9 69 58 30 33 19 16 87 67 57 49 44 42 15 16 20 25 31 41 28 42 97 149 31 50 27 49 20 42 17 41 15 42M1112 2013l0 17 3 16 3 8 6 9 24 25 30 24 17 17 61 83 40 49 18 17 22 17 80 49 47 33 28 25 21 25 16 25 25 50 15 24 25 34 54 66 23 33 19 41 28 75 21 50M1132 2013l0 8 4 17 3 8 7 8 46 34 52 33 20 16 75 66 33 34 27 33 23 25 110 107 35 42 12 16 14 25 43 83 47 83 21 41 11 25 13 33 22 75M1126 2013l0 8 5 17 3 8 6 8 63 50 19 17 13 16 17 25 14 17 59 58 40 41 71 66 49 50 60 66 47 58 24 33 23 33 19 34 14 24 19 42 17 41 19 50 17 50M1156 2013l0 8 2 9 5 8 5 8 12 8 132 58 30 17 21 16 27 25 39 42 105 124 35 50 41 66 56 99 30 58 18 42 19 58 17 58 12 58M1148 2013l0 17 2 8 5 8 10 8 14 9 118 58 26 16 23 17 54 41 38 33 39 42 34 41 23 33 64 116 72 116 27 50 15 33 17 50 14 49 15 67M1132 2013l1 17 2 8 3 8 6 8 30 25 37 33 14 17 17 25 15 16 30 25 70 50 74 58 37 33 29 33 29 41 58 92 62 91 30 49 21 42 17 41 18 50 15 50M1103 2013l0 17 4 24 20 58 8 42 9 16 7 9 17 16 95 75 106 74 42 33 48 42 41 41 28 33 31 42 51 74 44 67 26 41 19 33 16 33 19 42M1128 2013l0 8 3 17 3 8 5 8 62 58 13 17 17 25 15 16 29 25 70 50 89 66 31 25 19 17 24 24 36 42 18 25 21 33 28 49 30 58 28 58 45 100 17 41 16 42M1157 2013l0 8 6 17 5 8 11 8 151 67 42 24 36 25 31 25 27 25 23 25 19 25 35 49 35 58 48 75 20 33 21 41 14 34 13 33 48 140 15 50 9 42M1159 2013l0 17 4 8 6 8 13 8 19 9 133 49 36 17 27 16 22 17 17 17 14 16 16 25 28 50 16 25 47 66 70 91 22 33 23 41 15 34 15 41 26 99 27 91 9 34M1151 2013l0 8 6 17 4 8 11 8 15 9 128 58 29 16 39 25 47 33 30 25 25 25 27 33 17 25 14 25 27 58 18 33 25 41 59 91 15 25 12 25 10 25 8 25 44 174M1141 2013l1 8 6 17 5 8 9 8 107 58 23 17 16 16 51 58 57 58 72 67 25 25 30 33 20 24 23 34 19 33 86 174 26 58 17 41 11 33 11 42M1125 2013l1 17 4 16 5 8 23 25 17 25 9 17 11 33 13 16 9 9 22 16 82 50 49 33 33 25 19 16 17 17 14 17 45 66 26 33 91 108 24 33 18 33 38 91 49 108M1141 2013l0 8 5 17 5 8 8 8 104 58 25 17 144 116 63 58 24 25 13 16 29 42 23 41 102 207 26 58 20 50 15 41 11 42M1120 2013l1 17 5 16 5 8 8 9 67 58 29 33 17 16 96 75 74 66 33 33 34 42 53 74 81 124 36 58 28 50 25 50 19 41 15 42M1165 2013l1 8 8 17 6 8 13 8 89 34 73 24 22 9 36 16 45 25 24 17 18 16 22 25 21 33 58 108 53 83 21 41 18 50 29 99 35 108 10 41 6 42M1141 2013l1 17 7 16 8 8 80 50 22 17 15 16 18 25 21 25 83 83 63 58 26 25 53 57 40 50 30 42 32 49 24 42 17 33 14 33 22 58 19 58 15 50M1156 2013l0 17 4 8 5 8 11 8 145 67 26 16 33 25 51 41 46 42 60 58 29 33 27 41 22 42 80 190 16 42 28 82 15 50 10 42M1131 2013l0 8 5 17 4 8 7 8 99 67 19 16 34 33 75 67 95 99 86 108 36 49 35 50 26 41 19 34 19 41 20 50 21 58 18 58M1155 2013l0 25 5 8 10 8 49 25 59 33 13 9 9 8 15 16 32 42 22 25 57 58 64 58 25 25 39 41 34 41 23 33 25 42 21 41 19 42 22 58 41 124 16 50M1158 2013l0 17 4 8 6 8 12 8 136 58 17 9 23 16 27 25 38 41 25 25 80 75 30 33 12 17 14 24 39 83 55 100 19 41 16 41 36 116 10 33 7 34M1115 2013l2 17 5 16 4 8 22 25 25 33 7 17 4 25 3 8 5 8 13 17 18 16 22 17 59 41 76 50 34 25 20 17 17 16 15 17 20 24 59 83 79 100 28 41 26 50 61 141M1161 2013l1 17 4 8 5 8 11 8 56 25 52 25 30 17 11 8 18 16 39 42 26 25 132 116 24 25 19 24 12 17 14 25 19 41 36 100 72 182 13 41 10 42M1134 2013l0 25 4 8 7 8 69 50 20 17 14 16 17 25 21 25 47 50 37 41 68 66 86 91 44 50 39 50 41 58 20 33 12 25 15 33 17 41 17 50 16 50M1135 2013l0 25 4 8 8 8 12 9 69 41 25 17 16 16 37 58 13 17 16 16 27 25 21 17 93 66 27 25 20 25 16 24 30 58 14 25 16 25 50 66 16 25 10 17 14 33 26 74 35 92M1111 2013l0 17 3 16 4 8 5 9 23 25 35 33 13 16 24 33 60 67 27 33 17 16 20 17 103 74 32 25 37 33 22 25 22 33 55 100 62 91 25 41 20 42 20 58M1165 2013l0 8 8 17 6 8 13 8 174 67 31 16 39 25 41 33 35 33 57 58 21 25 13 17 11 16 14 25 19 41 68 199 13 42 22 82 12 50 8 42M1097 2013l0 99 6 33 3 9 5 8 8 8 20 17 87 58 108 83 29 25 36 33 60 49 42 42 30 33 32 41 92 133 21 33 19 33 17 33 19 42M1097 2013l0 108 2 16 2 8 5 9 7 8 20 17 83 49 36 25 68 58 69 66 105 91 27 25 24 25 28 33 27 42 47 83 60 99 26 50M1118 2013l0 66 1 9 13 33 9 33 5 8 15 17 19 16 67 50 40 33 84 66 71 66 56 58 43 50 40 50 31 41 29 42 31 49 23 42 21 41 18 42M1097 2013l0 108 4 24 3 9 6 8 8 8 22 17 98 58 124 83 41 33 42 41 30 33 26 33 107 150 35 49 27 42 26 41 22 41 16 34M1097 2013l0 124 0 8 2 9 5 8 6 8 18 17 71 50 31 24 102 67 35 25 61 49 26 25 25 25 22 25 34 41 62 83 24 33 21 33 50 83 23 41 16 34M1103 2013l0 91-2 41 1 9 3 8 6 8 17 17 23 16 64 42 48 33 77 50 35 25 62 49 27 25 25 25 30 33 26 33 30 42 28 41 36 58 44 74 27 50 20 42M1104 2013l0 108 4 24 3 9 5 8 7 8 20 17 89 58 106 74 33 25 57 50 49 50 29 33 39 49 37 50 40 58 37 58 30 50 22 41 20 42M1097 2013l0 132 2 9 4 8 16 17 22 16 79 50 110 74 35 25 59 50 51 50 29 33 34 41 37 50 34 50 38 58 26 41 36 66 21 42M1112 2013l0 132 1 9 3 8 5 8 15 17 20 16 57 42 43 33 96 66 43 33 60 50 42 41 30 34 26 33 25 33 28 41 37 58 40 66 27 50 21 42M1109 2013l0 66 2 9 8 16 28 50 7 8 19 17 68 49 20 17 50 50 81 74 114 99 34 34 22 24 26 34 27 41 57 108 41 74 21 42M1101 2013l0 91-4 33 0 8 4 9 6 8 9 8 22 17 98 58 82 58 32 25 20 16 25 25 76 83 43 41 22 25 19 25 36 50 39 49 29 42 21 33 18 33 16 33 17 42M1104 2013l0 116-1 16 0 9 3 8 5 8 6 9 18 16 78 50 125 91 103 83 37 33 24 25 30 33 27 33 25 33 28 42 75 124 23 41 19 42M1107 2013l0 83 1 8 8 41 3 9 5 8 7 8 18 17 80 58 31 25 96 74 82 75 57 58 44 49 35 42 32 41 30 42 27 41 24 41 21 42 23 50M1112 2013l0 75 6 33 0 33 2 8 10 17 7 8 19 16 87 67 103 66 47 33 51 41 34 34 22 24 32 42 129 182 21 33 19 33 16 33 15 34M1097 2013l0 108 5 24 3 9 6 8 7 8 18 17 68 50 38 33 97 58 48 33 51 41 34 33 35 42 58 83 34 41 24 33 21 33 23 42 36 58 29 58M1101 2013l0 58-4 25 1 8 17 41 11 17 17 17 71 58 39 41 72 41 24 17 22 17 26 24 31 33 52 42 18 16 24 25 14 17 19 25 35 58 28 33 23 33 19 33 17 33 31 50 24 50M1104 2013l0 132 3 9 5 8 7 8 19 17 86 58 134 99 65 58 50 50 79 91 45 58 30 41 33 50 25 41 26 50 20 42M1098 2013l0 132 1 9 3 8 6 8 17 17 11 8 79 50 150 99 32 25 40 33 27 25 25 25 29 33 27 33 30 42 28 41 36 58 52 91 18 33 20 42M1097 2013l0 108 3 24 3 9 5 8 7 8 19 17 89 58 126 91 21 17 37 33 59 58 88 99 27 33 30 42 27 41 25 41 42 75 25 50M1101 2013l1 58 2 33 7 33 6 17 7 8 18 17 81 58 66 58 144 107 29 25 25 25 27 33 49 66 58 75 23 33 16 25 18 33 52 108M1102 2013l0 108-4 33 4 8 8 8 21 17 91 58 125 91 38 33 52 50 38 33 42 41 30 33 27 34 25 33 22 33 44 74 45 83 20 42M1106 2013l0 91-3 41 1 9 3 8 6 8 17 17 23 16 195 125 36 25 62 49 42 42 22 24 26 34 29 41 27 41 96 158 23 41 21 42M1112 2013l0 108 4 33 4 8 6 8 7 9 19 16 55 42 60 49 22 17 63 41 42 33 47 42 41 41 93 108 26 33 30 41 26 42 24 41 25 50 23 50M1111 2013l-1 75-4 16-9 25 5 25 7 16 8 9 14 8 83 41 28 17 11 8 18 17 54 58 37 25 27 24 51 33 23 17 27 25 20 25 29 49 22 25 17 25 46 50 18 25 13 25 22 49 15 25 13 25 27 50M1102 2013l0 99 1 9 12 24 10 17 24 25 60 58 27 16 37 25 40 33 44 25 37 25 21 17 25 24 39 50 19 17 16 16 14 17 17 25 33 33 27 33 16 25 26 50 27 41 17 33 25 41 16 34" fill="none" stroke="#231f20" stroke-width="2.00" stroke-linejoin="round"/></g>
<clipPath id="cpdobs"><rect x="114.8" y="1520.0" width="353.7" height="414.3"/></clipPath>
<g clip-path="url(#cpdobs)"><path transform="scale(1)" d="M117 1537l2 11 6 16 2 8 12 16 5 13 0 11-9 12-1 12-3 13-10 13 1 13 1 13 1 15 8 11-2 5-5 23-1 17-4 21-3 23 0 18 1 65 0 43M207 1537l-30 19 10 21-13 16 8 22 31 21-67 18-9 20-4 17 2 20-3 7-1 21-2 22-8 43-2 21-1 45 0 62M120 1537l0 6 0 9 2 15 5 7 4 9 5 8 9 5-2 9 3 7-6 10 16 9-6 5-13 16 48 6-57 8-3 8 0 9 1 5 7 12-1 13-1 4-1 17 2 10-8 14-3 13 12 13-15 18 0 53-1 42 0 26M128 1537l1 8 9 5 0 10 12 7 13 15 17 5-1 7 15 9-3 8-11 4 14 9 2 5 10 9-26 8 10 4-24 11 25 3-34 17 14 7 4 9-24 6-1 12-4 4-4 23-11 25-4 18-4 25-2 24 0 43 0 46M149 1537l42 15-7 18-6 20-2 14-44 35-5 17 7 20 2 14-2 21-6 10-6 12-4 10 0 17 2 27-1 28-2 13 0 24 1 57-1 25M215 1537l-29 16 18 18-39 19-3 19-16 17 10 15-19 22 0 18-5 14-4 18-5 28-4 79-1 104M151 1537l-35 9 0 5 1 15 4 9 5 9 0 6 2 9-5 9-1 8-3 5-3 11 1 21-1 8 0 24 7 19 0 11-5 19-2 15 0 53 1 29-1 43 1 58M121 1537l-1 6 4 8 2 11 4 9 10 11-4 9 0 7-4 9 4 10-5 7 1 8 23 7-27 10-7 6 1 8 0 9-4 15-1 16 1 11 1 4 0 57-1 57-1 88M119 1537l56 10-48 8-5 8 6 11 3 7-2 11-1 6 1 8-1 12-2 6-4 12 2 8-1 8 0 7 3 31-2 8 3 6 0 8 0 24-3 16-6 71-1 106M192 1537l-34 15 1 39-8 16 6 16-14 19 62 15-54 20 7 17-7 18-17 7 2 19-12 41-3 21-2 18-1 19 2 84M123 1537l4 11 7 14 8 25-7 17 3 13-6 12 1 14-4 12 2 12 2 14-5 12 3 14-1 11 3 19 1 12-7 15-5 30-3 20-1 15 0 14 0 76M118 1537l0 24-2 11 1 12 4 13 4 10 9 16 18 12-15 9-8 11-8 16-4 9-1 14 1 13 3 12-1 2 3 11 3 16-5 24-3 14-1 13 0 29 2 38-2 68M119 1537l1 9 0 3 4 14 1 8 4 5 4 13 0 10 64 4-52 10-8 4 11 9 0 11-13 6 11 9 3 7-8 6 2 9-12 5 11 7-7 7 3 6-10 7 5 5-5 7-2 16-6 15-2 32 0 34 0 113M117 1537l-1 24 1 31-1 14 1 21 5 22 4 10-3 13 3 11 0 11-3 14 1 10-5 21 0 22-2 24-1 20 0 129M116 1537l0 53 3 8 6 9-2 5 5 6 2 7-2 8 0 6-4 5 2 6 13 7-21 10-2 6 1 22-1 42 3 15 0 16-3 48 0 64 1 47M119 1537l1 13 0 9 2 9 1 16-3 4-2 11-2 6 0 58 3 14 4 11 4 7-1 4-1 11-2 7 0 3-4 24-2 21-1 23 1 138M219 1537l-22 19-22 15-4 18-27 36-7 15-3 16 6 20-3 15-1 17-2 13-11 15 6 15-3 16-6 35-1 14-2 37 1 81M117 1537l0 17 32 6-33 11 0 16 5 14 1 7 1 11 4 8-2 5 5 11 0 7-5 5 3 13-1 6-4 7 0 7 14 11-21 6 0 80 1 21 0 41-1 87M212 1537l-56 18 65 17-74 19-16 18-7 22-4 17-2 19-1 53 4 17-4 69-1 15 1 102M130 1537l5 24 14 9-6 12 8 10 12 12-2 11-2 7 45 13-45 12 13 8-11 25 7 13-15 8 12 11 17 9-36 15-16 20-3 15-3 18-3 34-2 105M123 1537l6 25 5 15 2 10-8 15 1 23 10 14 3 26-9 28-2 10-6 14 1 3-4 22 2 21-2 23-3 25-2 21 1 71 0 22M117 1537l2 5 1 16 4 10-2 6 0 5-2 11-3 6-1 12 0 23 0 41 43 4-38 10 2 7 3 6-2 7-1 11-6 24-1 23 1 94-1 69M116 1537l3 9 0 9 4 20-2 8 6 9 1 13 1 7-7 8-1 12-5 9 0 7 0 11 0 11 0 38 0 11 3 19 1 24-4 60 1 102M178 1537l-21 20-16 21-18 21-5 18 13 24 5 19-7 22-9 18-4 17 2 14 4 32-5 43-1 17 2 62-2 43M117 1537l-1 10 1 9-1 10 0 9 22 7-22 8 1 22 3 7-1 6 6 20 0 11-2 10 3 6-1 10-1 16 20 9-24 11-4 25 1 178M117 1537l0 5 1 7-1 26 1 4 0 8 7 18 0 3 5 11-3 4 6 11-2 6 8 5-2 8 2 6-4 9-5 5-1 10-4 7-1 6-6 18-1 24 2 40 0 20-2 39-1 42 1 37M276 1537l-93 15-12 17-24 17-15 15-7 15-8 33 3 16 1 17 2 16-1 16 3 6-6 37-3 38 0 130M191 1537l15 16-71 20-11 17-4 20-1 17 4 37 5 17-3 17-2 17 1 3-5 18-3 17 0 88 1 87M126 1537l5 8-1 8 3 10 4 8 9 9 18 11-12 10 25 5-14 13 10 7 12 7-4 8-9 13-20 6 11 8-17 12 15 9-18 10 1 7-7 8 2 4-4 17 1 19-10 32-5 19-2 17 0 16 1 52-1 38M118 1537l3 30-1 12-3 22-1 34 0 34 1 5-1 10 2 14 1 10 1 8 2 5 0 12-5 98-1 98M118 1537l0 8-1 9 0 9-1 5 1 33-1 8 4 9 0 3 7 11-1 4 3 5-4 11 0 10-4 7-5 12 0 14 0 5 0 16 0 3 0 22 3 19 0 19-2 22-1 21 1 101M124 1537l1 8 3 11 2 6 8 9 21 12-14 10 16 8 0 9 19 10-31 6-6 9-1 21-5 8 2 9-2 10 25 9-29 9-2 12 1 8-5 9 3 16-3 13-3 26-5 42-1 100M125 1537l7 11 14 13-4 13 20 11-11 12-3 14 11 13 0 9 13 11 24 16-49 10 11 15 3 11-13 10-4 15-7 17-2 19-11 36-4 21-1 16 1 38-1 55M174 1537l-14 12-4 12 4 16 50 12-53 14-12 14-6 17-6 10-7 15-2 12 4 40-1 9 0 17-4 40-2 18-3 34-1 55 0 39M121 1537l7 20-1 9 5 8 13 9-8 10 16 7 0 20 7 9 0 7 7 11-11 6 1 9-1 9 13 12-8 8-15 11 2 5-6 10 2 4-16 42-6 26-2 20-2 27 1 91M121 1537l3 13 7 12 7 11 3 9 11 12 13 13-7 13 21 8-28 13-7 10 2 11-8 13-5 15-1 11 4 17-1 17-12 52-3 21-2 19 1 105M119 1537l0 24 5 19 6 10 5 6-3 9 7 8 2 8 3 8-4 15-4 4 3 7-7 9-7 7-1 10-3 7 2 6-2 10 37 8-35 6 3 24-2 19-6 43-1 21 1 89M468 1537l-68 15-109 22-67 19-42 15-29 17-24 18-2 18-7 21-2 17 0 20 0 1 0 25 1 14 0 18-2 54 0 94M117 1537l3 10 3 10 8 22-2 13 9 9-6 13 2 11 4 9-10 12 1 15-6 17-3 14-1 12-2 8-1 39 2 171M119 1537l1 8-2 11 0 10-2 7 1 4-1 16 0 20 1 8 5 6 1 8 4 7 1 8 55 9-53 7-5 7 0 6-3 6-4 7-2 8 0 19 0 21 3 21 0 21-3 41 1 101M155 1537l-28 10 1 8 14 11-7 7 7 9 3 11 2 10 4 8 48 7-56 9-2 8 0 10 2 12-2 7-5 11-6 9 15 8-8 18-1 10-5 18-1 18-7 36-2 23-2 19-1 91M117 1537l3 12 7 11 2 10 6 11 1 8-8 14-7 9 0 9 2 14 5 10 9 11 1 10 1 12-2 11-10 10-1 8-5 11-1 22 1 15 1 20-5 36 0 19 1 54-1 35M117 1537l0 10 4 29 5 12 2 8 7 14 3 25-1 11 3 26-13 14 4 12-6 22-6 16-2 42 0 19 1 123M119 1537l1 13 0 11 8 12 7 13 4 11 2 12 10 13 6 9-14 14-6 9 0 13-11 14-4 13 23 11-23 11 1 5 1 42-6 65-1 21 0 22 1 63M118 1537l0 24-2 13 1 33 1 16 9 20 1 15-2 9 4 15-3 11 1 13-5 9 31 6-35 19-3 19 1 112 0 57M234 1537l-56 22-9 20 5 21 8 21-29 20-4 25-6 18-1 22-3 13 4 17-13 24-6 19-2 12-3 30 1 43-2 59M121 1537l-1 7 4 6 1 13 8 9 1 6 6 5-1 10-8 2 0 8-3 8 58 8-64 6 4 7-1 8 7 18 1 7 6 5 3 6-10 18 3 7-6 4-1 15-6 17-3 13 1 46-3 48 0 34 1 46M123 1537l0 9 4 8 2 9 13 7 11 17-1 8-2 9-5 9-3 10 2 7-5 8 2 7-10 9 0 8-2 10 8 9 39 7-39 7 4 7-5 13 3 3-12 22 0 22-5 20-3 18-1 22 0 18 1 83M125 1537l11 9 1 8 20 10 9 9 15 9 10 11-10 9 16 9 3 9-12 8 6 8-25 12 12 5-10 12-13 9 6 7 40 9-48 12 1 10 4 6-16 21-13 42-5 20-5 21-1 21-1 79M119 1537l5 10 0 11 4 7-3 22 1 9-9 18-1 10 0 21 2 11 3 10 4 18 3 20-2 11 2 5-5 13-2 20-3 17-1 14-1 30 2 67-1 48M122 1537l4 6 1 11 5 14 31 6-20 10-6 5 5 11-3 9 7 7 3 7 3 8 0 6 7 10 10 6-12 8-2 9-4 10 14 6-10 8-8 5-6 11-8 6 0 4-5 19-3 21-6 75-1 39 0 42M340 1537l-133 14 28 17-39 10-36 16-13 17 2 15-3 14-3 11-2 17-9 12 2 14-4 19-5 3-3 24-4 23-1 25 0 93 0 41M119 1537l2 8 4 7-2 5 8 9 9 5 6 10 5 21 4 6 6 5 7 7 39 6-58 11-3 3 4 8 17 9-30 5-2 7-4 6 0 7 3 10-6 5 3 11 3 10-5 20-1 25-4 20-4 18-2 20 0 21 1 86M116 1537l0 15 6 21 13 16-3 10 0 14-13 23-3 17 0 20 4 15 4 10 4 18-3 4-5 19-4 23 1 59-1 65 1 39M123 1537l2 13 3 12 0 15 3 8 10 28 10 15-5 11 10 10 3 16-16 12-7 11-10 26 6 5-6 20 1 18-3 22-4 23-2 20-1 21 2 62 0 18M118 1537l1 7 3 8-2 15 3 3 0 10 2 5-2 7-4 21 58 11-61 5 0 126 1 38 0 133M120 1537l-2 5 2 8 31 7-29 11 0 6 3 7-4 7-5 23 0 9 1 45-1 5 1 18-1 22 3 50-2 88-1 86M116 1537l1 12 4 22 4 11 3 11-2 13 53 11-55 11 1 11-3 12-6 24 34 9-34 13 1 11-1 12 1 132 0 65M117 1537l3 24 3 11 1 11 4 10 2 10-2 11-1 14-7 24 45 8-48 14-1 20 0 23 1 1-1 19 1 138 0 54M367 1537l-102 19-12 19-44 19-7 16-25 18-6 22-7 15-4 23 5 18-15 12-6 19-12 15-8 20-2 19-3 12 0 23-1 32 1 72M118 1537l0 12 9 23-1 8 1 10-5 15-6 23 0 22 17 11-17 7 0 11 5 13-1 11 5 11-3 5 2 15 12 13-17 14-2 12-1 15 0 38 1 66 0 42M118 1537l3 22 6 7 0 10 5 10 3 13-6 6 0 11-5 12 1 8-6 13-2 8 0 8-1 20 1 31-1 24 2 37 0 20-2 128M174 1537l-9 18-21 25-6 19-18 42 2 16-5 40 1 22-1 69 0 137M118 1537l4 9 6 15 5 11 16 9 4 14 14 11-20 11 2 15-8 10-7 14 2 12 13 11-4 10 1 14-5 8-8 9-3 12-7 16-1 26-1 26-2 27-1 29 0 27 1 42M130 1537l-1 8 20 13 85 8-66 10 37 6 23 13-37 10 1 8-20 19 8 10 12 9-13 9 8 11-11 11 27 6-44 13 30 5-19 12-3 1-20 14-8 12-1 13-6 14-5 17-4 27-1 12-1 43-1 50M129 1537l10 12 6 11 21 13 8 9 59 13-45 11-6 15-13 10 0 10-8 16 26 10-25 12 10 24-22 10 2 5-2 13-11 17 0 11-7 16-5 17-6 28-1 11 0 28 1 73M119 1537l47 8-47 11 0 11-2 20-1 23 0 72 0 10 0 26 0 25 2 22 0 20-2 137M117 1537l-1 6 1 11-1 36 3 6 1 12 4 5 1 10 2 6-3 10 5 9-3 11-3 7-4 19 21 5-24 9 0 91 1 36-1 93M293 1537l-90 14-51 33-14 20-8 16 43 15-52 16-3 16 0 18 5 31-1 16 1 13-4 17-3 24 0 70 1 65M125 1537l3 8 0 5 3 6 11 11-2 6 24 8 0 7 21 4-21 7 25 11-16 7 17 4-23 11 15 3-17 11-6 6 2 6 0 7-4 7 3 8-8 8-19 5 10 7-9 9 6 6 4 2-11 21 0 19-9 42-3 22-2 17 0 23 0 61M123 1537l7 10 8 8-6 7 16 23 1 11 5 6 6 10-15 7-7 16 62 9-53 8-14 8-1 6 4 8 2 8-3 11-3 6 1 6-2 11-3 5 4 15-6 16-6 61-1 15-1 91M121 1537l2 8 3 7 2 7 3 3 1 7 8 10-1 6 4 4 5 8-7 9 5 7-8 7 1 4-1 6 2 8-8 5 4 7-9 6 2 14-2 7-4 9-1 7 2 3-3 11 1 7-1 7 0 12 2 18-3 14-2 63 0 105M117 1537l2 15-1 17 5 4 3 10-3 8 4 6 1 9-5 10 6 4-3 18-4 7-2 21-3 9-1 24 1 9-1 42 1 176M119 1537l-1 9-1 11-1 14 1 10-1 12 1 22 5 8 3 12 3 12 0 8 3 11 1 11-2 9-7 10-1 16-4 8-2 18 0 42 2 24-2 125M251 1537l-79 17-21 19 17 19-8 18-2 17-1 16-18 23-4 14-12 20-1 20-3 1 1 16-2 35 0 49-1 101M174 1537l-6 20-22 18 24 19-21 16-27 40-3 18 5 20 30 17-22 16-7 12-6 35-2 17 0 13 1 63-1 65M117 1537l0 24 1 8 3 14 7 12 0 13 6 8-1 12-8 9-5 12-4 15 0 46 6 28-1 17-4 35-1 18 1 112M127 1537l1 10 13 18 22 10-8 11 18 12-5 9-4 10-16 11 16 13-14 6-2 11-1 10-4 10 1 10-9 13 0 11-7 41-5 40-3 38-2 87M120 1537l2 8 5 12 8 9 11 12-4 6 1 11 2 9 11 10 44 10-52 11-2 9-3 7-12 22-4 28-3 10-1 6 1 17-3 13-1 31-1 45-1 103M263 1537l-58 19-49 21-12 22-7 18 10 20 2 22-17 22-7 18 5 42-3 18-6 21-3 19 0 59-1 37 1 20M204 1537l-55 16-4 20-6 14-3 19 2 18-11 15-9 37-1 59 0 120-1 69M119 1537l5 13 1 7 6 14 19 22-4 12-1 9 20 13-13 12 7 10-14 11 3 12-7 9 3 12-8 13-4 10 6 1-16 29 0 14-3 31-2 38 1 97M122 1537l2 7 0 8 5 16 4 17 0 12-4 6 5 10-8 8 0 6 3 11 0 9-4 5-1 12-1 8 5 7-1 9-2 5 4 9 2 12-1 7 2 19-8 25-5 43-1 26-1 87M118 1537l-1 23-1 6 0 20 0 45 2 10 26 10-19 12 0 8 8 10-8 11 1 9-2 14 1 5-6 14-3 31 0 79 1 80M118 1537l4 21-1 11 1 6-4 24-2 8 0 44 16 8-16 13 0 28 2 14 2 3 1 22-1 16-2 36-2 37 0 90M223 1537l-33 17-22 17-8 20 13 16-14 18-19 16-19 55-2 19 5 21-1 20 0 18-4 34-2 34 0 41 0 36M117 1537l0 15 66 3-67 9 1 14 3 4 5 11 3 5-2 7 5 6-2 6 2 16-4 5-5 9-1 4-3 6-1 7-1 8 0 7 0 34 2 7 3 17 13 15-14 15-2 16-2 15 0 46 1 52 0 28M121 1537l1 6-1 5 6 16 5 8-3 7 4 7 14 3 1 11 2 5 1 8-4 7 6 3-8 9-4 7 0 7-10 9 6 2-11 10 14 6-11 5 10 9 4 7-3 4 4 7-4 9-8 7-2 19-8 20-2 18 0 23-2 58-1 17 2 42M119 1537l3 10 6 13-1 8 8 14 11 12 17 9-7 13 0 10 5 13-25 8-5 14 5 13 14 10-25 12 14 12-11 10 1 2-2 23-1 21-7 47-1 23 0 41 1 49M120 1537l1 10-1 6 0 10 2 16 0 9-1 6 1 11-2 8 1 11-2 13 1 10-2 10 4 5-1 8 2 14-2 6 6 9-3 7 0 8 3 6-3 17-6 78 0 21-1 95M119 1537l1 8-1 12-1 8 1 7 0 9-2 4-1 24 0 49 1 7 0 31 1 10 0 7 3 7-2 31 1 19-2 31-1 33-1 87M117 1537l-1 24 63 11-63 13 1 22 5 11 5 16 0 11 2 10-1 11-5 15-5 11-2 9 1 37-1 15 2 37-2 70 1 74M117 1537l0 23 0 8 2 5 0 6 3 7 5 17 4 9-1 7 5 5 1 9-2 7 2 6-6 7-3 10 2 7 0 7 5 6-8 8 0 8-3 9 0 6-3 6-4 29 1 177M119 1537l4 10 2 14 7 20-4 13-2 11-7 14-2 11 0 15 4 11 1 12 3 11 5 9-2 12 0 15 1 5-3 18-6 24-3 21-1 23 2 65-1 45M236 1537l-18 16-15 17-53 32-14 16-11 16 8 17 8 16-18 37-3 13-1 0-2 46 2 24-2 71 0 69M244 1537l-57 17-16 21-40 21-5 17 0 22-3 20 3 20-3 21 2 17-3 8-5 42-1 17 1 151M117 1537l1 19 5 12 4 29 1 11 2 10-2 10-4 11-3 18-4 20-1 11 0 22 0 10 1 139 0 56M121 1537l5 10 5 8-2 7 5 10 8 10 18 11 2 10-8 10 4 6-1 12 1 6-18 9 3 13-2 16-8 19-1 10-9 8 11 7-8 17-4 20-4 73 1 91M129 1537l0 6 5 12 11 7-4 10 4 8 12 12-8 10 20 16-14 12 6 8 18 6-21 11 3 13 7 7-11 19 13 10-18 7 2 6-14 19-8 21-6 17-4 23-2 19-1 16 1 58 0 38M120 1537l2 8 2 17 5 6 7 7 8 10 3 6 6 9 1 10 1 5-10 12 9 5 2 10-11 5-9 13 3 8-5 6-1 6 0 9 30 9-30 7-1 9 8 7-6 15 22 19-33 22-3 18-2 14 0 19 1 60-1 35M188 1537l-36 19 17 19 2 20-7 20 31 21-43 20 3 17-11 22-6 22 1 3-9 14-1 18-3 19-2 17-4 32-1 18-1 35 2 52M116 1537l0 11 1 11 4 12 7 23 23 9-19 14-1 10-5 13-1 11-2 13-7 18 1 25-1 12 0 36 2 33-2 103 0 37M119 1537l0 11 3 13 11 12 2 13 11 16 1 14-13 11 3 15 5 12-14 12 0 12-4 12-5 29-2 42 1 161M120 1537l1 10 3 13 6 10 11 25-5 9 7 14-4 7-9 26-6 20 2 11 9 11-14 12-3 16-1 15 0 20 1 175M119 1537l3 22 3 27-5 11 2 12-4 11-2 11 1 16-1 70 2 65-1 151M175 1537l-37 19 16 17 3 18 6 14-21 19-6 18-4 14-5 19 7 20-6 15 11 11-9 14 0 16-5 14-4 19-2 14-2 31 1 65 0 34M118 1537l1 36-2 13-1 26 60 14-60 13 0 38 21 10-21 13 2 36 1 14-2 79-1 94M197 1537l-69 20 5 19-8 16-5 17-2 21 4 18 6 17-4 37-7 39 5 26-6 21 1 72-1 67M120 1537l4 24 4 12 11 12 14 9 45 12-45 13-5 10 1 13-13 11 1 11-5 11-5 13 0 27 4 5-3 20-2 24-5 22-3 23-1 21 2 63-1 24M120 1537l11 20 0 5 6 14 5 9 2 7 6 8-7 8-6 11 0 11 1 7 5 11-5 8 10 10 3 10-8 8 3 10-8 8-5 18-12 23 2 23 0 19-5 44 0 23 1 70M146 1537l2 20-12 17-2 21 1 20-9 23-1 21-6 18-3 22 0 87 1 70 0 64M338 1537l-108 23-49 21-14 21 6 19-23 23-16 23-9 19-3 25 2 7-3 40-1 37-3 55 0 75M347 1537l-121 17-74 21 9 17-23 20-11 33-5 20 16 17-13 19 2 16-1 25-7 66-1 20-1 88M117 1537l-1 38 73 12-73 13 1 68 5 25 0 15 2 12-2 20-5 61-1 36 0 82M124 1537l3 15 4 11 9 11 7 14 3 26-11 15 4 15-7 11 1 13 13 15-12 27 8 6 0 23-14 14-8 39-3 18-2 16 0 21-1 70M236 1537l-79 22-17 20-8 16-9 25 7 19-4 17 5 23 7 22-11 20 3 22-5 20-4 21-2 23-2 22 0 24 0 65M123 1537l15 10-11 7 1 9-2 10 4 6-2 19 3 9 3 7-4 10-2 9 8 10 58 10-57 4 6 12-2 7 6 10 2 8-8 10 3 7-11 7-3 22-8 22-2 18-2 21 0 21 1 62-1 42M122 1537l3 12 4 10-2 8 25 13-9 10 12 10 20 13-21 12-12 11 13 11-16 11-1 7-4 13 0 10-2 12-3 11 2 6-5 20 1 19-7 59-1 18-1 57 0 41M295 1537l20 19-160 16-6 18-9 15-17 22-1 16 49 16-46 20 4 17-1 17-6 5 0 14-4 19-2 11 0 77 1 94M121 1537l-1 5 5 9 0 8 15 18 2 8 6 8-4 5 10 9-8 8-2 7 2 7-2 9-5 7 5 6-6 6-2 12-7 3-3 12 1 8-2 4-1 25-1 22-2 18-3 69 0 88M123 1537l9 18 11 7 0 9 22 12-9 6-2 9 7 9-12 11 1 5 7 10 2 11-10 7 26 8-11 9-13 8 7 11 4 10-9 8 0 15-15 14-3 12-8 13-7 71-1 53 0 41M120 1537l9 37 10 14 6 15 6 10-3 16-5 13 16 12 5 12-25 15 10 9 2 13 21 14-37 1 1 14-6 14-5 19-4 26-2 15-1 30 0 88M120 1537l1 13 1 14 6 10-2 12 6 15-2 12 2 12-4 15 9 40-6 9 6 14-5 13 5 2-7 21-6 34-3 22-2 16-1 18-1 92M120 1537l5 19 8 17 1 7 7 11-5 9 5 11-4 8-8 8 3 8-8 13 3 7-4 10-4 19 2 8-1 9 2 11-2 9 2 15 0 20-4 75-1 92M127 1537l2 10 13 11 18 10 24 14-7 10 9 10-5 12-2 11-6 13 2 14-10 11 3 11-1 11-19 12 10 7-7 13-8 3-2 33-7 14-6 18-4 15-4 20-1 17 2 83M173 1537l-13 12-11 18 8 12-10 11 5 32-4 10 0 14 3 15-8 13-5 15-11 15-2 15 34 1-38 16-1 15 0 36-2 50-1 87M211 1537l-45 18 6 14-8 17-11 18 4 16-6 17 14 18-9 14-4 19 7 15-15 13-9 24-7 15-5 22-3 19-2 34 1 59 0 41M118 1537l1 9-1 6 5 19 6 10-2 21 1 7-4 10-1 9 23 9-28 8-2 6 1 28-1 30 0 49 1 21 1 22-2 119M117 1537l1 19-2 12 0 62 5 20 5 8-1 10-1 19-7 31-1 38 1 62-1 113M118 1537l0 9 2 5 2 10 2 5-1 9 2 6 0 6-3 8 5 9-8 9 1 3-4 19 0 5 0 99 2 52-2 95 0 39M118 1537l0 13-2 11 0 27 1 22 4 15 9 10-6 25-7 12-1 28 0 11 3 31 0 21-2 21-1 20 1 62-1 64M278 1537l-105 14-12 20-14 15-7 15-15 22 2 13-4 19 4 17 3 14-1 17-1 15-9 24-2 21 19 20-19 20 0 21 0 105M117 1537l-1 11 1 26-1 29 0 49 3 27 1 9 2 15 31 13-29 1 0 19-3 16-4 54-1 35 0 85M211 1537l0 21-29 16-23 24-17 16 68 19-55 21 0 20-8 21-14 26-5 19 0 24-7 40-3 21 0 25 1 39-1 44M117 1537l0 9 49 7-50 7 0 30 3 8 8 17-2 4 3 7 6 9-3 10 0 5-7 10-2 7 0 6 37 9-43 7 0 28 3 22 1 18 0 18-3 33-1 20 1 91M118 1537l1 12 0 24 3 11 6 14-1 10 5 14 0 10 3 14 4 12-11 13 5 9 1 14-1 13 2 11 2 0-11 21-5 18-2 18-2 20 0 38 1 89M119 1537l2 14 0 9 4 17-5 9 1 12-5 17 0 10 0 11 1 29-1 10 11 16-1 13-3 14 1 21-4 21-3 23-1 63 1 86M119 1537l1 11 3 13 6 15 11 10 7 11 8 15-8 9-3 16 5 11-11 14-2 9-9 15-4 21 3 13-3 23 1 22-6 64-1 45 1 44M390 1537l-141 12-21 12-62 15-4 16 1 13-1 10 9 15-39 14 2 12-7 14-1 14 1 14 2 14-3 8-1 16 0 16-6 69-2 101M316 1537l-88 13 4 15-80 18-32 47-2 15 23 15-24 17 0 44 2 38-3 84 0 81M117 1537l-1 46 12 27-2 8 5 9-1 6-5 7 0 7-3 11-4 6-2 9 0 6 0 62 2 23 0 19-2 50 1 89M119 1537l-2 9 1 27 6 22 14 16-6 8 10 14-6 13 6 11-8 14-10 9 36 15-42 12-1 11 3 21 1 17 0 21-4 52 0 39 1 55M345 1537l-86 22-28 20-9 20-56 22-2 22-24 21-11 21-3 19-4 13-2 20 2 21-3 33-2 128M116 1537l1 63 5 26 5 9-1 12 1 16-3 10 6 15-1 9-8 15 0 7-3 15-2 17 1 128 0 46M118 1537l-2 16 0 15 1 52 1 8 2 7 0 10 8 10-2 12 0 7 4 7-5 5 3 9-9 21 1 5-4 14 1 127-1 67M468 1537l-171 22-108 21-52 16-4 24-9 20-2 19 1 19 2 57 21 22-27 17-1 19-2 36 0 90M121 1537l8 18 7 10-2 7 10 8 14 11 4 8-1 8 12 8-12 10 6 7-4 12-8 7-8 10 1 9-4 6-5 14-6 5 2 22-5 2-11 111-1 94M124 1537l3 13 5 10 20 15 8 15 6 9 14 13-29 12 25 14 7 12 0 14-14 15-14 8 4 17-2 12-15 4-6 13-8 28 7 14-13 17-1 13-2 30 1 86M116 1537l0 42 19 5-19 6 1 23 4 17 3 10 2 5-1 5 3 11-4 3 3 7 1 9-7 8 3 7-2 11-3 11-3 19 1 187M346 1537l-70 12-2 16-61 16 12 14-9 10-12 13-31 14-5 18-10 14-1 11-23 17 0 11 25 15-28 1-9 18 2 10-3 19-1 16-1 13-2 18 1 119M118 1537l1 9-3 38 0 30 18 12-18 13 0 53 4 28-1 22 1 17-3 67-1 101M250 1537l-72 20-30 24-10 21-5 18-9 66-3 21-2 12-2 18-1 20 1 163M116 1537l1 6 43 11-40 10 3 5 3 14 2 5 1 9 5 10-4 8-4 24-7 17-3 13 0 71 2 44-2 135M117 1537l1 9 3 13 4 12 10 8-7 12 8 9 7 11 5 16 1 10-11 10 6 8-17 14 7 11 0 9-5 14-6 12 0 3-5 20-1 47 0 46 1 84M117 1537l1 7-1 6 1 8 5 16-1 5 3 8 5 7 1 10 4 6-3 5 9 7-8 9 8 8 2 8-6 6-5 7 0 7-3 7 9 8-13 9 1 16-2 5 11 5-15 19-2 15-1 17 1 103-1 50M160 1537l14 22 0 20-5 19 14 22-20 19 1 21 8 20-11 19-6 22-16 29-8 19-5 15-4 20-2 17-1 14 1 84M190 1537l-41 15 10 16-17 19 8 13 1 19-9 15-6 16-12 21-3 12 5 17 2 17 4 3-5 12-3 15-5 16-2 17 1 30-1 78 1 44M116 1537l1 8-1 20 1 12 57 12-55 9 2 11 0 7 1 13 4 10 3 12-3 8 2 10-4 11 0 9 1 13 0 9-8 52-1 23 1 136M120 1537l6 13 6 10 1 7 9 8 19 5-11 6 6 8-4 11 19 5-9 7 19 8-10 13-11 6-2 12-2 4-1 10-5 5-3 7-1 11-8 13 3 5-4 9-10 21-5 48-3 46 0 91M117 1537l0 24-1 10 0 21 3 23 2 20 3 11-1 9 4 12 3 13 1 7 0 12-3 13-1 9-2 13 1 17-5 19-3 31-1 32 0 85M197 1537l-73 12 2 12 12 16 4 11 2 13-1 10 1 16 8 12 5 23-4 27 7 12-17 15 4 4-14 15-4 15-7 34-4 35 0 18 1 97M123 1537l3 12 5 9 1 10 14 14 13 11 13 9 2 25-6 8 5 13-28 10 24 11-6 14-20 17 4 15-11 5 1 20-8 18-8 67-2 62 0 42M117 1537l1 23 2 14 10 27 3 12 11 26-9 11 48 12-52 15 4 12-11 12 25 11-30 7-2 18 1 40 1 22-2 118M174 1537l-21 19-18 17 2 17-3 17 0 16-16 18 0 16-1 18 8 17 1 27-5 14-4 18-1 19 2 33-2 49 0 32 1 37M205 1537l-44 15-2 20 6 17-7 16 1 22-13 14-6 38 2 17-14 16 5 4-2 22 16 19-22 16-6 57-1 90M118 1537l2 8 21 9-18 4 3 12 5 13-1 7 4 11 3 4 3 11 9 8-9 5 3 7-5 8 9 11-1 6 4 11 3 4-8 12-7 7 3 5-2 7-5 11-3 2-3 22-5 20-3 22-2 24-1 25 1 87M125 1537l3 9 1 7 11 11 1 6 15 12 69 7-69 10-6 6 1 13 4 8 1 5-13 13-1 6-7 10-1 19-6 9 1 6-3 12 2 6 1 8-3 18-3 23-4 63-1 106M119 1537l-1 10 3 15 1 11-6 37 1 8-1 62 1 12 3 24 34 18-34 17-3 34-1 18 0 80 1 51M274 1537l-83 16-19 12-30 12-17 16-1 15 30 15-36 15 1 26 6 42 1 13-6 18 1 23-4 37 0 17-1 59 1 58M119 1537l-2 25 0 23-1 13 0 41 52 7-52 7 1 10 4 14 2 16-3 8 2 9-1 5 2 5-6 35-1 17 0 97 1 52M152 1537l-17 22-8 16-6 24-4 19 0 23 2 21 7 18-6 40-4 21 0 43 1 39-1 64 1 47M116 1537l2 13 24 10-21 9 43 14-34 12-3 9-3 12 0 13-4 9-4 24 0 12 1 20-1 52 1 178M118 1537l2 9-3 11-1 22 1 9-1 10 1 10 6 12 6 8 1 10-2 9 4 11-12 21-4 11 0 27 2 24 2 22-3 43-1 20 1 87M119 1537l3 9-3 7 2 9 8 8 81 13-76 6-3 20 3 5-5 9-3 21-4 7-2 8-1 8 0 10-3 21 17 8-17 7 0 43 1 50 0 123M117 1537l-1 12 69 8-68 9-1 14 3 7 5 6 1 4 6 8-3 16 1 4-8 10 0 4-5 10 0 52 4 10 0 5 1 5 2 16-6 24-1 19 1 79-1 65M117 1537l0 8 8 21 8 11 3 11-3 20-6 14-6 6-2 15 1 9-1 9 8 9 2 12 6 13-2 8-4 10 1 4-11 26-2 21 1 23 1 22-2 46 0 27 1 46M186 1537l-25 16 1 12-5 15 7 13-1 16-2 14-5 12 6 14 2 16-14 11-9 16-6 13-4 15-4 20-4 46-4 43-1 44 1 44M117 1537l-1 52 65 13-57 11 5 14 4 27-5 16-1 10-6 13-5 14 0 40 3 43-3 73 1 69M176 1537l-11 13-10 16 11 12-10 14 6 15-8 12 5 14-13 17-3 9-8 17-5 11-3 15-2 14-1 2 0 21-3 20-3 77-1 77M116 1537l65 4-62 10 1 8 3 4-2 8 4 13-7 6-2 14 0 42 1 9 2 6 9 18-3 7 0 8-3 10 19 7-24 3-1 4 0 53 2 16 0 18-2 34 0 50 1 32M119 1537l2 8 3 12 4 10 10 11 2 11 12 12-1 9 2 11-1 13-12 10-7 12-5 10-1 12 1 8-2 13-1 11 1 10 6 15 23 13-30 17-5 32-3 31 1 97M261 1537l-9 17-21 14-42 17-8 18 10 12-38 18 1 33-8 14-11 17-4 19 1 1-9 26-3 22-3 45 0 22 1 93M121 1537l1 7 14 30 7 9-4 10 5 9 18 11 2 8-12 8-5 10-4 8 19 11-8 11 6 9-7 10 1 9-9 8-10 11-2 21-9 23-3 20-2 20-1 38 1 80M317 1537l-30 16-110 20-27 20 15 15 3 21-16 19 9 13-21 21-9 17-1 19-7 2-4 31-2 65 1 18-1 97M122 1537l5 12 1 7 13 14 12 9 5 24 2 10 7 9-7 11 17 9 0 13-7 12-3 10-10 9 14 9-25 13 1 8 14 3-21 18-7 14-8 36-3 18-3 18 0 35 0 68M117 1537l1 8 5 12 2 8 4 9-3 6-1 9-4 6-4 8-1 6 1 15-1 10 3 6 4 6 4 8 4 15-3 5 1 11-4 7-1 4-5 8-3 8 0 27 18 24-14 18-3 24-1 20 1 67-1 39M320 1537l3 18-131 15-11 21-22 16-5 18-9 17-4 16 8 18-9 16 2 27-19 32 0 15-3 17-2 28-1 36 1 79M188 1537l75 14-86 16 21 11-28 14-17 18 2 10 0 17-18 29 1 11-6 14-10 30-3 25-1 42-1 40 1 103M330 1537l-72 18-35 16 42 11-28 21-35 12-7 17 13 19-20 15-10 14-4 20-15 14 8 5-25 19-8 24-1 20-6 18-4 21-3 19 1 82M119 1537l2 20 0 13-4 9-1 33 1 19 3 9 2 11 7 10-3 10 2 15-1 9-6 9-3 13-2 19 0 27 2 45-2 58 1 60M116 1537l1 24 1 11 6 15 0 10 8 13-4 14 4 10 2 13-9 15 1 11-5 11-3 15-2 13 1 147 0 70M220 1537l-53 18-15 15-9 18-12 16 6 15 4 16-2 17 1 15-7 17-5 18-1 13-3 6-6 20-2 45 2 140M120 1537l1 10-1 8 86 6-79 10 0 9 7 11 48 9-47 6 3 20-8 8 2 9 0 7-12 12 4 5 0 8-5 18-1 8-2 18 0 27 7 15-7 13 2 151M118 1537l-2 6 1 41-1 24 7 21 4 6-1 8 2 8-1 6-5 22-5 14-1 68 2 24 0 21-2 43 0 69M120 1537l2 8 5 13 6 10 5 7 9 10 12 10-17 14 6 9 1 7 9 12-4 11-1 7 30 11-40 10-9 9 3 10-1 13-2 8-6 4-2 13-4 29-3 70-1 102M123 1537l66 10-56 10-3 11 9 10-1 7 6 11-10 9 5 14-5 10 0 10 9 11 7 10-7 8 9 12-3 9 36 12-44 6-16 33-3 19-2 23-1 42-1 103M119 1537l1 10 9 18 4 11 18 8 5 10-8 7 7 12 0 10-10 7 3 11-12 9-4 7 6 11-8 11-1 7 1 11 0 10 35 9-31 2 1 21-7 21-5 20-3 21-2 19-1 21 2 79M116 1537l0 10 2 10 5 11 3 13 1 7-4 10-6 13-1 19 1 11 52 11-53 9 9 20 3 12-6 14-3 8-2 6-1 14 0 33 2 18 0 16-2 32 0 48 1 36 0 15M151 1537l-18 16 5 19-3 22-8 15 34 23-28 19 5 17 0 20-5 17 5 16-8 17-4 13-1 17-3 17-2 21-2 19 0 16 0 83M401 1537l0 17-165 19-16 18-30 17 16 17-13 18-18 17-29 18-1 18-9 16-3 22-4 13 2 13-3 11-3 17-6 38 0 17-1 11 1 69M243 1537l-76 15-27 17 1 16-6 17-1 19-8 16-7 19-2 16-1 14 1 16-1 18 2 20 1 35-2 58-1 91M120 1537l0 22-3 16-1 45 2 15 6 9 3 14 5 8-6 15-4 12-6 25 0 37 2 38-2 57 1 72M119 1537l4 9 1 11 8 10 9 11 73 8-59 10-5 14 10 9 0 8 6 10-5 13 1 12-19 21 1 9 2 9-2 8-7 9-10 25-4 22-3 18-2 24-1 24 1 86M117 1537l0 5 2 18 0 5 5 20 2 3 2 18 3 8-3 15-3 6 1 16-2 6-6 27-2 20 0 135 1 74M116 1537l0 20 2 8 2 7 6 9-1 3 4 10 2 8 2 5-5 8-6 13-2 6-4 11 0 32 45 8-39 10 9 4-6 10 0 7-3 21-5 22-1 19 1 75-1 38 0 39M122 1537l3 11 3 17 7 10-2 15 1 13-1 25 13 28-2 14-10 13 6 13 10 10-15 14-5 21-6 19-4 25-2 17 0 25 1 63 0 42M118 1537l0 15-2 22 0 114 4 13 0 19 1 17-4 65-1 120M117 1537l0 8 2 14 4 11 0 8 5 10 5 13-2 7 7 9 0 11-8 11-1 11-4 9-8 35-1 62 2 35-2 132M120 1537l1 9-2 12 2 9-5 26 0 20 3 10 4 11 0 8 9 19 0 14 1 7-5 19 0 12-7 5-5 44 2 80-2 79M116 1537l1 23 3 14 3 14 0 11 3 16 3 11 11 11-7 17 3 13-5 10 9 14-10 13-6 14 2 0-4 32-3 15-1 15-2 48 1 91M148 1537l-18 19-4 17 21 22-22 16 9 17-4 20-12 17 0 19-1 21 6 30-5 27-2 13 0 43 1 34-1 25 0 45M120 1537l-1 12 1 15-1 11 1 13-3 12-1 16 0 89 1 12 28 4-26 16 0 18-2 80-1 95M122 1537l5 23 10 15 3 12-2 8 11 14-8 11 9 10 1 14 8 13-8 13-7 22-7 11-5 14 23 1-25 16 5 15-13 19-3 66 0 30-1 68M117 1537l-1 10 3 13 5 21 7 13-5 14-4 12-5 9-1 13 1 47 5 14 2 15-3 17 0 11-4 19-1 11 0 44 1 45-1 59M116 1537l1 23 3 11 6 10 19 11-17 14-4 9-8 11 0 46 5 10 4 15 0 9-3 12 0 2-5 13-1 17 0 33 1 16 1 12-2 50 1 59" fill="none" stroke="#231f20" stroke-width="0.70" stroke-linejoin="round"/></g>
<clipPath id="cpdmod"><rect x="544.5" y="1520.0" width="353.7" height="414.3"/></clipPath>
<g clip-path="url(#cpdmod)"><path transform="scale(0.5)" d="M1141 3073l-11 33-2 33 6 34 19 66 3 33-15 33-24 33-13 33-1 34 3 33-2 33-7 33-5 33-2 83 0 249M1100 3073l7 33 14 33 13 34-5 33-15 33-10 33-6 33 4 33 7 33-6 34-10 33-2 33-1 398M1125 3073l-11 33-1 33 1 34 8 33 11 33 1 33-14 33-22 33-6 33 0 34 4 33 2 33-7 66-1 332M1152 3073l12 33 5 33-4 34-22 99-26 66-5 33-3 67-4 33-7 33-6 33-2 166 0 166M1150 3073l71 33-43 33-7 34-15 33-12 33-5 33 5 33 2 33-2 33-13 34-17 33-12 33-7 33-3 33-2 332M1170 3073l-1 33-6 33-20 67-12 66-10 66-2 67-4 33-7 33-10 33-6 33-1 83-1 249M1215 3073l-7 33-10 67-3 33 8 33 24 33-2 33-26 33-74 133-20 33-11 33-2 83-2 249M1142 3073l12 33 9 33 3 34-1 33 3 66-11 33-22 33-15 33-9 34-6 33-9 66-4 33-2 332M1183 3073l-10 33-1 33 10 67 8 33 12 33-13 33-32 33-19 33-9 34-12 66-14 33-9 33-3 83-1 249M1105 3073l15 33 10 33 5 34 1 33-1 33-7 33-11 33-13 33-9 33-3 34-2 99 0 365M1220 3073l-22 33-16 33-1 34 9 33 11 33 7 33-22 33-27 33-6 33-2 34-12 33-38 66-8 33-2 166-1 166M1135 3073l16 66 5 34 3 33 5 33 8 33-6 33-20 33-16 33-13 34-11 33-12 66-3 33-1 332M1100 3073l156 33 108 33-147 34-81 33-12 33-20 33-6 33 4 33 9 33-2 34-10 33-8 33-1 398M1177 3073l-17 33-6 33 4 34 18 66 4 33-19 33-27 33-8 33 1 34-3 33-10 33-15 33-7 33-2 332M1176 3073l5 33-3 33-9 34-11 33-13 66-19 66-10 100-6 33-10 33-7 33-3 166 0 166M1160 3073l-5 33-24 100-7 66-1 99-3 34-6 33-17 66-5 33-2 83 0 249M1231 3073l133 33-174 33 23 34-21 33 13 33 7 33-47 66 0 33-6 34-43 66-15 33-7 33-3 166-1 166M1168 3073l102 33 114 33-181 34-20 33-13 33-7 33 4 66-6 33-19 34-22 33-12 33-9 33-6 33-2 166-1 166M1130 3073l142 33 131 33-143 34-135 33 3 66 3 33-6 66-6 34-23 99-5 33-1 332M1168 3073l69 33-70 33 5 67 9 33 16 33-3 33-25 33-21 33-18 34-14 33-18 66-5 33-3 332M1180 3073l-7 33 13 33 10 34-8 33-13 33-6 33 3 33 1 33-8 33-44 67-11 33-16 66-3 83-1 249M1125 3073l-12 66 1 34 2 66 6 33 2 33-11 33-14 33-7 34-2 464M1201 3073l-6 33-9 33-23 67-4 33 1 33-4 33-11 33-12 67-8 33-10 33-13 33-9 33-3 166 0 166M1123 3073l-6 33 13 33 16 34 3 33-11 33-21 33-7 33 8 33 6 33-8 34-15 33-8 33-3 149 0 249M1124 3073l146 33 87 33-162 34-44 33 1 66-9 33-17 33-13 33-9 34-6 33-3 33-4 66-1 332M1143 3073l13 33 5 33-6 34-20 66-12 33-8 33-4 33 4 67-3 33-6 33-10 33-5 33-1 83 0 249M1199 3073l5 33-1 33-9 34-12 33-6 33-1 33-11 33-17 33-8 33-13 67-10 33-13 33-9 33-4 166 0 166M1148 3073l69 33 74 33-117 34-45 33-8 33-10 33-5 33 0 33 4 67-2 33-5 33-7 33-5 33-1 332M1150 3073l20 33 7 33-11 34-18 33-9 33 5 33 14 33-4 33-15 33-19 34-14 33-13 99-2 83-1 249M1139 3073l-1 33-4 33-20 100-10 33-6 33 0 33 5 67 0 33-3 33-5 33-4 33-1 332M1186 3073l1 33-14 33-17 34-9 33 6 33 19 33 8 33-20 33-23 33-19 34-8 33-3 33-14 66-2 83-1 249M1115 3073l11 33-7 33-5 34 0 33-2 66 5 33-25 66-1 67 1 66-2 33 0 332M1162 3073l7 33 9 33 5 34-1 33 2 33 4 33-14 33-26 33-16 33-8 34-12 66-11 33-8 33-3 166 0 166M1188 3073l8 33 3 33-6 34-9 33-4 33 0 33-12 33-21 33-12 33-22 100-11 33-8 33-3 166-1 166M1139 3073l11 33 9 33 4 34 0 33 6 66-9 33-21 33-15 33-12 34-7 33-10 66-4 33-1 332M1105 3073l24 66 8 34 7 66-1 33-10 33-17 33-12 33-8 34-3 33-2 99-1 332M1130 3073l4 33 13 67 4 33 6 33 9 33-3 33-19 33-15 33-14 34-10 33-7 33-4 33-3 33-1 332M1190 3073l-21 33-5 33 17 67 1 33-8 33-19 33-7 33 3 33-7 34-19 33-17 33-10 33-5 33-3 166 0 166M1134 3073l18 66 4 34 2 33 4 33 7 33-6 33-19 33-15 33-13 34-10 33-12 66-3 33-1 332M1159 3073l-6 33-3 33-1 34 2 33 7 33 13 33 4 33-59 133-11 33-9 33-5 33-1 332M1150 3073l4 33 9 33 7 34 9 99-15 33-25 33-14 33-7 34-8 66-10 33-7 33-3 166 0 166M1214 3073l7 33 4 33-18 67 0 33 7 33-13 33-27 33-16 33-34 100-18 33-11 33-4 166-1 166M1134 3073l-1 33 5 33 12 67 16 66-7 33-22 33-18 33-11 34-6 33-10 99-2 166 0 166M1178 3073l4 33-1 33-8 34-11 33-11 66-11 33-13 33-6 33-8 67-5 33-9 33-6 33-3 166 0 166M1111 3073l11 33 14 33 10 34 3 33-2 33-8 33-34 66-6 33 4 67-1 33-10 66-2 83 0 249M1100 3073l23 33 8 33-13 34-4 33-1 33-5 33 11 33-12 33-15 33-1 67 3 33-4 66 0 332M1178 3073l11 33-5 33-32 67-4 33 9 33 12 33-6 33-14 33-19 34-17 33-10 33-6 33-5 33-2 166 0 166M1184 3073l-3 33-11 33-15 34-10 33-1 33 17 66-5 33-9 33-31 67-12 33-9 33-4 33-1 332M1221 3073l-6 33-12 33-16 34-14 33-3 33 8 33 5 33-16 66-13 34-52 99-9 33-3 332M1161 3073l-5 33-21 100-5 66 0 33-8 100-6 33-8 33-10 33-6 33-1 83-1 249M1212 3073l-8 33-13 33-16 34-11 33-1 33 12 33 8 33-9 33-10 33-16 34-18 33-16 33-15 33-7 33-2 332M1154 3073l-2 33-6 33-18 67-11 66 2 99-2 34-5 33-16 66-5 33-1 332M1134 3073l136 33-119 33 33 34-37 33-4 33-7 33-13 33-14 33-9 33-4 34-5 132-1 332M1168 3073l-8 33-16 67-6 33-1 33 5 66-7 66-6 34-10 33-21 66-6 33-2 83 0 249M1192 3073l-27 100-6 33 1 33 9 33 3 33-10 33-7 33-10 34-27 66-16 33-9 33-3 166 0 166M1151 3073l-5 33-1 33 0 34 2 33 7 33 12 33 4 33-56 133-10 33-9 33-4 33-1 332M1158 3073l7 33 0 33-8 34-10 33-27 99-5 33 0 67-2 33-6 33-9 33-6 33-2 83 0 249M1125 3073l23 33 5 33-30 67-2 33 22 66-13 33-21 33-12 34 0 33 3 33-9 66-1 83 0 249M1126 3073l8 33-12 33-8 34 0 33 6 33 9 33-6 33-23 33-8 33 0 34 5 33 1 33-5 33-3 33 0 332M1147 3073l-6 33-13 33-8 34 1 33 21 66 0 33-37 66-10 34 0 33 2 33-5 66-2 83 0 249M1167 3073l11 33 3 33-7 34-10 33-16 66-20 66-5 67-4 33-7 33-12 33-7 33-2 83-1 249M1100 3073l152 33 134 33-126 34-138 33-18 66 13 33 1 33-17 33-9 34-1 33 5 33-2 33-4 33 0 332M1128 3073l-2 33-8 33-4 34 0 33-1 33-5 33 8 33 0 33-6 33-18 67-2 66 0 365M1135 3073l20 33 5 33-11 34-15 33-9 33-2 33 11 33 2 33-7 33-28 67-6 33-4 66-1 332M1142 3073l11 33 8 33 3 34-1 33 1 33 3 33-9 33-20 33-15 33-11 34-8 33-10 66-3 33-1 332M1122 3073l-9 33 0 33 1 34 0 33 8 33 5 33-3 33-31 66-1 34-1 66 1 33-1 33-1 83 0 249M1166 3073l-12 33-14 33-5 34 5 33 25 66-11 33-27 33-16 33-4 34 2 33-2 33-9 33-6 33-2 83 0 249M1166 3073l56 33 49 33-77 34-18 33 7 33 16 33-2 33-23 33-38 67-15 33-23 66-6 33-2 332M1140 3073l3 33-10 33-13 34-5 33 3 33 16 66-9 33-16 33-13 34-5 33 2 66-2 33-1 83 0 249M1145 3073l-2 33-5 33-14 67-5 33-9 33-3 33-2 33 2 67-1 33-4 33-6 33-4 33-2 83 0 249M1169 3073l54 33 12 33-61 34-12 33-15 66-18 66-4 67-4 33-9 33-12 33-8 33-1 83-1 249M1166 3073l10 33 7 33 0 34-4 33 0 33 5 33-12 33-24 33-16 33-11 34-23 99-5 33-3 332M1165 3073l0 33 7 100 8 33 16 33-1 33-22 33-37 67-16 33-22 66-6 33-2 332M1100 3073l13 66 11 34 5 33 3 33-5 33-11 33-15 33-9 33-2 133 0 365M1177 3073l7 33-5 33-27 67-7 33-1 33 3 33-3 66-9 34-27 66-12 33-5 33-1 332M1150 3073l261 33-233 33 104 34-140 33 2 33 21 33 8 33-52 66-8 34 2 33-4 33-12 33-7 33-2 332M1141 3073l-9 33-1 33 6 34 17 66 7 33-10 33-23 33-17 33-8 34-2 66-9 66-2 83 0 249M1210 3073l-21 33-10 33 2 34 8 33 9 33 8 33-20 33-29 33-9 33-2 34-9 33-16 33-19 33-9 33-3 332M1150 3073l0 33-6 33-19 67-13 66 1 33 4 66-1 34-6 33-16 66-3 33-1 332M1208 3073l115 33 40 33-125 34-63 33 9 33 22 33 6 33-65 100-20 33-14 33-13 33-7 33-3 332M1227 3073l-3 33-12 33-32 67-5 33 9 33 4 33-17 66-13 34-55 99-10 33-3 332M1187 3073l-14 33 1 33 9 34 5 33 3 33-1 33-40 66-4 33-2 34-10 33-34 66-8 33-2 332M1212 3073l2 33-2 33-9 34-11 33-4 33 4 33-11 33-23 33-14 33-11 34-18 66-13 33-8 33-3 166-1 166M1159 3073l-29 66 2 34 13 33 10 33-9 33-26 33-10 33 8 33 4 34-11 33-13 33-6 33-1 33-1 332M1129 3073l16 33 8 33-1 34-15 66-27 66-7 33 0 33 3 34 1 33-4 33-7 33-5 33-1 83 0 249M1199 3073l-11 33-1 33 8 67 8 33 14 33-15 33-33 33-20 33-10 34-7 33-10 33-17 33-11 33-2 83-2 249M1108 3073l23 33 9 33-8 34-14 33-5 33-9 33 14 66-5 33-12 34-10 33-1 66 0 365M1189 3073l2 33 5 33 2 34-1 33 6 33 17 33-8 33-30 33-24 33-18 34-15 33-23 66-8 33-3 166-1 166M1217 3073l-9 33-12 33-15 34-12 33-2 33 8 33 4 33-16 66-12 34-49 99-9 33-2 83-1 249M1113 3073l-4 33 4 33 1 34 0 33-1 33-7 33 5 33 1 33-2 33-17 100-3 33 0 365M1146 3073l-9 33-8 33-3 34 2 33 7 33 10 33 4 33-13 33-29 67-9 33-3 33-4 66-1 332M1118 3073l11 33 14 33 9 34 1 33-1 33-8 33-34 66-6 33 1 67-1 33-12 66-2 83 0 249M1100 3073l7 33 11 33 13 34 6 33 0 33-11 33-19 33-13 33-2 33 1 34 5 33 1 33-8 66-1 332M1167 3073l-4 33-6 33-18 67-10 66-9 66-3 67-4 33-6 33-9 33-6 33-2 166 0 166M1212 3073l-12 33-9 33-9 34-5 33 5 33 18 33 7 33-30 66-74 133-10 33-1 83-2 249M1100 3073l7 33 6 33 1 34 0 33 5 33 4 66-5 33-22 100-5 33-1 33 0 365M1190 3073l12 33-11 33-22 34-12 33 9 33 26 33 2 33-32 33-26 33-11 34-1 33-7 33-15 33-9 33-3 332M1160 3073l11 33-7 33-17 34-12 33 2 33 14 33 10 33-14 33-21 33-17 34-6 33-1 33-10 66-2 83 0 249M1167 3073l18 33 14 33-11 34-22 33-6 33 20 33 16 33-24 33-30 33-16 34-3 33-5 33-16 33-9 33-2 166-1 166M1178 3073l23 66 1 34-22 66-9 66-6 33-2 33-11 34-37 66-15 33-7 33-3 332M1121 3073l12 33 5 33-1 34-12 66-27 66-4 33-2 33-1 67 1 33-1 66-1 332M1107 3073l76 33 45 33-78 34-9 33-11 33-17 33-12 33 0 33 7 33 3 34-3 33-15 66-3 33 0 332M1160 3073l-10 33-12 33-8 34 1 33 9 33 13 33 2 33-39 66-12 34-5 33 0 33-7 66-2 83 0 249M1106 3073l2 33 14 133 5 66-9 66-20 100-6 33-2 33 0 332M1205 3073l-7 33-10 67-3 33 7 33 20 33 5 33-55 100-58 99-10 33-3 166-1 166M1137 3073l17 33 5 33-8 34-13 33-20 66 2 33 4 33 2 33-5 34-22 66-7 33-2 33 0 332M1137 3073l26 66 6 34-3 33-6 33-10 33-16 33-12 33 0 33 1 34-4 33-9 33-12 33-6 33-1 83-1 249M1169 3073l0 33-30 67-2 33 12 33 16 33-4 33-28 33-19 33-5 34 1 33-2 33-10 33-6 33-2 332M1185 3073l7 33 1 33-6 34-9 33-4 33 1 33-12 33-21 33-12 33-9 34-13 66-9 33-6 33-2 166-1 166M1160 3073l-8 33 6 33 11 34 5 33 0 33-5 33-20 33-17 33-1 33 1 34-7 33-27 66-6 33-2 332M1170 3073l-13 33 5 33 11 34 5 33-1 33-8 33-19 33-11 33 2 33-2 34-12 33-17 33-13 33-5 33-2 332M1225 3073l188 33-212 33 11 34-35 33-1 33 11 33 2 33-13 33-9 33-11 34-32 66-19 33-11 33-3 166-1 166M1216 3073l-8 33-13 33-15 34-12 33-2 33 8 33 5 33-16 66-12 34-49 99-9 33-2 83-1 249M1205 3073l-17 33-10 33-4 34 4 33 12 33 21 33-5 33-32 33-25 33-17 34-10 33-7 33-12 33-9 33-3 166-1 166M1180 3073l2 33 5 33 2 34 1 33 7 33 15 33-6 33-30 33-23 33-18 34-13 33-21 66-8 33-2 166-1 166M1197 3073l9 33 11 33-2 34-11 33-9 33-1 33-5 33-9 33-4 33-14 34-42 66-18 33-9 33-2 166-1 166M1201 3073l12 33 8 33-6 34-15 33-10 33 1 33-2 33-9 33-5 33-13 34-42 66-18 33-9 33-3 332M1147 3073l-4 33-21 67-3 33 5 33 10 33 6 33-10 33-29 67-7 33-4 182 0 249M1203 3073l8 66 0 34-4 33 2 33 18 33-4 33-32 33-24 33-20 34-17 33-27 66-9 33-3 166-1 166M1151 3073l79 33-56 33 1 34-13 99-15 33-18 33-9 33-7 67-4 33-9 33-7 33-3 166 0 166M1100 3073l7 33 6 33 9 34 7 33 4 33-2 33-8 33-15 33-11 33-5 34-2 99 0 365M1117 3073l15 33-2 33-12 34-4 33-1 33-9 33 10 33 1 33-9 33-12 34-3 33-1 431M1187 3073l1 33-4 33-24 67-7 33-4 33-6 33-8 33-7 67-6 33-9 33-12 33-8 33-3 166 0 166M1175 3073l-15 33 5 33 12 34 4 33-6 33-24 66-1 33 2 33-11 34-20 33-15 33-9 33-4 33-3 166 0 166M1189 3073l1 33 13 33 5 34-22 66-3 33 1 33-3 33-6 33-21 34-24 33-17 33-12 33-7 33-3 166-1 166M1118 3073l13 33 11 33 5 34 2 66 0 33-10 33-17 33-12 33-9 34-5 33-5 99-1 332M1119 3073l4 33 22 33 10 34-11 33-17 33-9 33 14 33 5 33-15 33-19 34-6 33 3 33-3 33-5 33-2 83 0 249M1171 3073l119 33-128 33 45 34-69 33 10 33 18 33 2 33-26 33-23 33-9 34-2 66-9 33-7 33-2 83 0 249M1142 3073l17 33 13 33-2 34-33 99-5 33 0 33 2 33-4 34-24 66-11 33-4 33-1 332M1128 3073l17 66 5 34 3 33 5 33 7 33-4 33-17 33-14 33-13 34-10 33-8 33-5 33-3 33-1 332M1165 3073l131 33-107 33-3 34-10 33-9 33-7 33-19 66-4 67-9 33-13 33-15 33-8 33-2 332M1161 3073l21 33 5 33-17 34-19 33-2 33 18 33 13 33-19 33-26 33-17 34-5 33-2 33-10 33-8 33-2 83-1 249M1172 3073l-25 100-5 33 1 33 12 66-5 33-7 33-10 34-36 99-5 33-2 332M1131 3073l-7 33 14 33 15 34 0 33-13 33-19 33-1 33 10 33 0 33-30 67-4 33-1 33-3 33-2 83 0 249M1207 3073l5 33-1 33-9 34-12 33-6 33 1 33-11 33-19 33-10 33-16 67-10 33-15 33-10 33-3 166-1 166M1156 3073l-4 33 24 67-2 33-9 33-12 33-9 33 1 33 2 33-10 34-18 33-15 33-8 33-4 33-2 166 0 166M1175 3073l12 66 2 34-2 33 5 33 13 33-7 33-27 33-21 33-17 34-13 33-21 66-6 33-3 332M1165 3073l15 33 9 33-3 34-13 33-10 33-13 66-5 33 0 33-5 34-12 33-29 66-7 33-2 332M1107 3073l9 33 19 33 12 34-3 33-12 33-19 33-9 33 14 66-3 34-11 33-10 33-3 33-1 365M1114 3073l-6 33 5 33 1 34 0 66 7 66-4 33-17 67-8 33-2 66 0 365M1100 3073l24 100 10 66 2 33-4 33-23 66-9 34-6 33-3 33-1 398M1120 3073l16 33 4 33-9 34-12 33-6 33-9 33 0 33 8 33 2 33-6 34-9 33-7 33-2 33 0 365M1113 3073l19 66 8 34 11 99-6 33-16 33-14 33-10 34-7 33-4 33-4 66 0 332M1120 3073l112 33 105 33-126 34-81 33-11 33-15 33-6 33 1 33 6 33 3 34-2 33-13 66-3 33 0 332M1128 3073l9 33 14 33 9 34 1 33-2 33-9 33-18 33-16 33-3 33 1 34 0 33-6 33-10 33-6 33-2 83 0 249M1227 3073l4 33-6 33-15 34-18 33-7 33 8 33 3 33-18 66-16 34-59 99-10 33-3 332M1181 3073l13 33-3 33-35 67-3 33 28 66-11 33-20 33-22 34-15 33-20 99-3 166 0 166M1160 3073l217 33-197 33 38 34-39 33-2 33 1 33-15 33-23 33-12 33-7 34-11 66-9 33-8 33-3 166 0 166M1145 3073l8 33 0 33-8 34-11 33-9 33-12 33-4 33 1 33 3 33 1 34-4 33-15 66-4 33-1 332M1202 3073l-28 66-11 34-3 33 8 33 20 33 7 33-20 33-42 67-16 33-18 66-6 33-3 166 0 166M1126 3073l8 33 15 33 9 34 1 33-4 33-11 33-18 33-12 33 0 33 3 34-2 33-7 33-11 33-6 33-1 332M1148 3073l15 33 6 33-6 34-12 33-20 66-6 33-2 33 3 33-1 34-8 33-21 66-5 33-1 332M1144 3073l2 33-3 33-18 67-7 33-11 33-5 33 1 33 5 67-2 33-4 33-7 33-4 33-1 332M1108 3073l28 66 8 34 2 33-1 33-8 33-33 66-7 33-1 34 2 66-7 66-1 83 0 249M1172 3073l-11 33-8 33-6 34 0 33 6 33 14 33 6 33-13 33-47 100-10 33-8 33-3 33-2 332M1126 3073l-11 33 2 33 24 67 3 33-12 33-22 33-12 33 4 33 8 34-2 33-16 66-2 33 0 332M1178 3073l-8 33-6 33-3 34-1 33 8 33 16 33 5 33-31 66-34 67-14 33-12 33-6 33-2 332M1147 3073l1 33 10 100 7 33 13 33-1 33-19 33-32 67-13 33-10 33-8 33-4 33-1 332M1218 3073l-14 33-12 33-10 34-5 33 6 33 21 33 8 33-35 66-42 67-18 33-16 33-8 33-3 332M1116 3073l15 33 21 33 4 34-30 66-5 33 14 33 2 33-14 33-18 34-8 33 2 33-3 33-4 33-2 83 0 249M1152 3073l-16 66-6 34-1 33 3 33 13 66-5 33-8 33-23 67-9 33-7 33-2 33-1 332M1139 3073l108 33 88 33-99 34-120 33 20 66-3 33-22 33-16 33-3 34 7 66-8 66-1 332M1203 3073l-9 33-22 67-10 33-2 33 6 33 1 33-8 33-6 33-9 34-26 66-15 33-10 33-3 166 0 166M1136 3073l11 33 9 33 2 34-1 33 2 66-10 33-18 33-13 33-10 34-7 33-4 33-6 66-1 332M1188 3073l-20 33-10 33 6 34 10 33 7 33-3 33-23 33-17 33 2 33-1 34-12 33-17 33-13 33-5 33-2 166 0 166M1126 3073l9 33 4 33-2 34-13 66-14 33-12 33-6 66-1 67 2 33-2 66-1 332M1147 3073l-7 33-17 67-3 33 3 33 5 33 8 33-5 33-9 33-23 67-6 33-2 33-1 365M1100 3073l249 66-144 34-69 33 3 33-2 33-12 33-17 33-11 33-5 34-2 464M1190 3073l9 33 7 33-1 34-7 33-3 33 3 33-14 33-25 33-12 33-16 67-10 33-16 33-11 33-3 166-1 166M1183 3073l2 33-6 33-26 67-7 33-1 33 2 33-5 66-7 34-37 99-6 33-2 332M1116 3073l14 33 10 33 5 34-1 66-5 33-12 33-16 33-10 33-6 34-2 33-2 99-1 332M1170 3073l57 33-36 33 4 34-12 66-5 33-28 66-7 67-10 33-15 33-17 33-8 33-3 332M1130 3073l17 33 2 33-11 34-13 33-8 33-5 33 9 33 5 33-4 33-23 67-6 33-2 66-1 332M1215 3073l-9 33-10 33-25 67-3 33 4 33-2 33-12 33-15 67-11 33-12 33-16 33-10 33-3 166-1 166M1100 3073l146 33-129 33 49 34-33 33 2 33-5 33-14 33-17 33-7 33-1 67 1 66-2 116 0 249M1235 3073l-11 33-36 67-10 33 8 33 25 33 10 33-23 33-51 67-19 33-25 66-9 33-3 166-1 166M1161 3073l-7 33-18 67-6 33-1 33 3 33 5 33-1 33-4 33-8 34-21 66-9 33-3 33-1 332M1141 3073l-11 66-4 34-2 33 5 66 4 33-2 33-4 33-7 34-18 66-8 33-3 33-1 332M1236 3073l31 33-46 33-30 67-5 33 7 33-3 33-16 33-20 67-13 33-15 33-20 33-11 33-4 166-1 166M1181 3073l-13 33-5 33 0 34 4 33 11 33 17 33-5 33-27 33-23 33-16 34-9 33-6 33-9 33-7 33-3 166 0 166M1207 3073l7 33 3 33-2 34-8 33 2 33 13 33-11 33-31 33-21 33-17 34-13 33-11 33-14 33-10 33-3 166-1 166M1119 3073l15 33 10 33 1 34-10 66-12 33-15 33-11 33-4 33 4 100-6 66-1 332M1199 3073l12 33 2 33-12 34-17 33-10 33 5 66-12 66-13 34-38 66-16 33-7 33-3 332M1135 3073l14 33 6 33-3 34-18 66-13 33-12 33-5 33 1 33 3 34-1 33-3 33-8 33-5 33-1 83 0 249M1206 3073l-14 33-10 33-6 34 0 33 10 33 22 33 4 33-24 33-45 67-18 33-25 66-7 33-2 166-1 166M1141 3073l277 33-279 33 75 34-92 33-7 33-11 33-4 33 1 33 6 67-2 33-4 33-6 33-4 33-1 332M1162 3073l-22 100-4 33 0 33 7 66-7 66-7 34-32 99-5 33-2 83 0 249M1112 3073l0 33 27 67 6 33-3 33-16 33-20 33-7 33 12 67-2 33-16 66-3 33 0 332M1134 3073l1 33 20 67 5 33 2 33-4 33-39 66-7 33 1 67-5 33-10 33-6 33-2 83 0 249M1145 3073l21 66 5 34 0 99-14 33-23 33-13 33-7 34-8 66-13 66-3 166 0 166M1152 3073l-6 33 9 33 12 34 4 33-4 33-11 33-17 33-9 33 4 33-1 34-11 33-14 33-12 33-5 33-1 332M1189 3073l148 33 81 33-187 34-36 33 7 33 18 33-3 33-29 33-23 33-20 34-18 33-26 66-8 33-3 332M1201 3073l-16 33-10 33-2 34 4 33 12 33 19 33-6 33-32 33-25 33-15 34-15 66-12 33-9 33-3 83-1 249M1127 3073l9 33 2 33-4 34-14 66-15 33-7 33-6 66 0 34 2 66-3 66-1 332M1224 3073l73 33-95 33-4 34-10 33 7 33 21 33 7 33-24 33-73 133-21 33-11 33-2 83-2 249M1197 3073l-6 33-12 33-14 34-11 33-1 33 14 66-5 33-8 33-13 34-30 66-13 33-6 33-2 332M1178 3073l1 33-6 33-22 67-7 33-15 99-4 67-6 33-8 33-12 33-7 33-1 83-1 249M1167 3073l5 33-6 33-27 67-4 33 2 33 8 33-1 33-5 33-13 34-14 33-11 33-7 33-3 33-1 332M1180 3073l-11 33 7 33 11 34 1 33-4 33-8 33-14 33-9 33 2 33-7 34-36 66-14 33-5 33-3 166 0 166M1135 3073l16 33 0 33-27 67-5 33 3 33 12 33-1 33-12 33-15 34-10 33-3 33-2 66-1 332" fill="none" stroke="#231f20" stroke-width="1.80" stroke-linejoin="round"/></g>
<clipPath id="cpeobs"><rect x="113.3" y="2056.3" width="353.5" height="413.9"/></clipPath>
<g clip-path="url(#cpeobs)"><path transform="scale(1)" d="M416 2065l0 4-4 4-2 4 2 4-1 4-16 9-12 8-30 12-25 9-9 4-14 12-4 4 1 4 0 4-13 9-14 16-3 4-2 5-2 8-9 12-3 4-1 9-2 8-4 8-1 4-1 5 1 8-3 8-3 17 2 4 0 4-7 8-1 9-3 12-2 4-7 8-4 9 1 4 0 4-8 12-10 13-4 8-6 8-4 9-1 8-10 16-9 17-6 8-1 9-6 8-5 12M400 2065l4 4 0 4-3 4 1 4-2 4-7 4-9 5-20 8-18 8-48 13-10 4-16 8-5 4-3 4-16 17-12 16-4 9-1 8-10 16 1 5 2 4 1 4-1 4-3 8 0 4 3 5 0 4-1 4 1 8-1 8 1 9 1 8-1 8-3 4-4 5-2 4 0 4-2 8-4 4-6 4-3 4-17 29-8 9-7 8-2 4-1 4-13 25 0 4 1 4 0 5-2 4 0 8-6 17 0 4 3 12-2 4M457 2065l-4 4 1 4-1 4-7 8-13 9-7 8-17 8-13 13-3 4-1 8-4 8-8 8-3 25-8 9-4 16-22 25-1 8-8 9-3 8-7 8-9 8-3 9-7 8-2 8-6 9-3 8-4 8-7 8-1 9-6 8-5 12-7 13-10 8-5 8-15 17-2 8-34 33 0 9-11 8-8 12M444 2065l-1 4-5 4-16 8-5 8-16 9-27 16-22 9-7 4-21 20-7 9-10 8-5 8-11 8-8 9-6 8-4 8-1 9-11 8-2 8-4 8 0 9-4 8 2 8-9 9 6 8-7 8 1 8-3 9 4 8-6 8-9 25-1 8-6 17-14 16-1 9-6 8-5 8-22 25-2 8-5 9-7 8-2 8M370 2065l0 4-4 8 3 8-4 4-25 13-24 8-16 4-37 9-12 4-5 8-12 8-8 8-5 9-7 8-3 8-12 13-3 4-3 8-6 8 1 5-2 4-13 8-3 8 1 4 0 5-5 8-5 12-1 4-1 9-1 4-1 4-5 8-1 4 0 5 3 8-1 16-2 9-4 8-1 4 0 4 0 8-2 9-1 8-2 8 0 9-1 8 1 8-3 8 2 5 1 4-4 8-1 4 0 4 0 9-1 8-2 8-2 4M385 2065l1 16-5 4-24 13-12 8-9 4-24 8-20 9-5 4-3 8-3 4-10 13-20 16-22 17-3 8-8 8-4 9-2 8 3 8 3 8-2 9 5 16-16 25-10 8-5 9-11 8-6 8 0 8-2 9 1 8-3 8 5 9-2 8 5 8-5 8-2 17-10 17-14 16-1 4-2 4 1 9-4 8 0 8M433 2065l1 8 1 8-3 4-4 4-16 9-3 8-3 4-5 4-18 9-4 4-3 4 0 4 0 4-12 8-9 9-6 8-22 16-8 9-9 8-7 8-5 9-8 8-2 8 1 8 1 9-3 8-1 8 9 9-6 8-3 8-1 8 2 9-1 4-2 4-13 8-3 8-10 9-6 8-10 8-12 9-6 8-5 8-7 8-8 9-4 8-9 17-2 8-4 12-6 13-3 16M458 2065l-4 8-3 4-13 8-10 9-13 8-3 8-14 8-4 9-12 8-2 8-9 8 0 9-11 8 1 8-9 17-3 8-4 8 1 9-7 8 0 8-8 9 0 8-2 8-7 8-1 9-3 8-9 8-6 17-9 8-4 8-9 9-3 8-6 8-9 8-7 9-9 8-5 8-9 9-3 8-6 8-11 8-5 9-3 8-8 8-4 9-5 8-6 8-3 4M423 2065l1 8-1 8-2 4-42 25-27 13-7 4-13 12-5 8-7 9-4 16-4 8 0 5-2 4-6 8-3 12-1 9-2 4-4 4-2 4 5 8-2 9-4 8-2 17-6 16-7 8-4 5-3 4 3 4 0 4-9 8-6 8-4 9-3 4-3 4-9 8-5 9-15 16-5 8-10 13-3 4-3 8-7 9-5 8-7 8-4 8-6 13-5 12M405 2065l0 16-2 4-5 4-7 9-16 8-6 4-9 4-25 9-8 4-4 4-6 8-7 8-12 9-5 8-12 8-5 8-9 9-3 4-2 4-2 8-6 9-2 4-1 4 0 8-5 8 4 9-4 8 3 8-3 13-2 8-2 4-7 8-1 9-3 8-10 8-9 17-8 8-6 8-3 9-4 8-6 8-3 8 0 9-4 8-3 8-7 17-1 8 1 8-1 5-1 4-8 8 1 8M430 2065l4 8-15 8-23 17-22 12-16 8-11 9-4 4-3 8-6 8 0 9-5 8 0 8-8 8-2 9-3 4-12 12-7 9-4 8-9 8-4 8-7 9-10 16-9 9-1 4 0 4-9 8-2 8-2 5-7 12-2 4-7 21-5 8-1 8-1 9-7 8-4 25-4 8-2 8-6 9-9 8 0 4 0 4-4 8-3 9-13 16M458 2065l3 12-2 4-4 4-35 21-29 25-1 8-6 8 2 9-5 8 1 8 4 8-3 5-6 4-3 8-7 8-2 4-12 13-6 8-13 8-19 25 0 9-7 8 4 8-2 17-3 4-4 4-1 8-8 13-11 12-14 8-8 9-13 8-4 8-13 17-4 16-4 9-12 16-11 17-7 8-5 8M423 2065l3 12-2 8-13 9-6 8-47 25-9 8-3 8-8 8-6 9-8 8-4 8-7 9-5 8-8 8-3 8-10 9-5 8-2 8-6 9 0 8-3 8-2 8 0 9-5 8-5 17-5 8-2 8-4 8 0 9-8 8-3 8-17 25-5 8 0 9-11 8-2 8-6 8-3 9-8 8-2 8-7 9-8 8-5 8-1 4M421 2065l0 12-29 17-23 16-23 8-9 5-5 4 0 4 2 4 0 4 0 4 1 8 0 5-6 12-1 8-3 4-5 5-3 4-1 4-2 4-4 4-16 13-4 4-17 12-11 13-2 4-1 4-3 4-6 4-8 8 0 5 1 4-2 4-5 4-2 4 0 4 3 13 0 8 1 12-2 9 0 12-3 12-2 5-4 4-7 12-10 13-18 20-12 13-3 4-2 4-8 12-5 13-3 8-2 4M407 2065l0 4-3 4-22 8-15 8-20 9-15 8-11 4-47 13-9 4-7 12-7 8-3 9-10 16-11 8 2 9-8 8-6 8-7 9-5 8-8 8-5 8-8 9-5 8 0 8-7 9-1 8-4 8-1 8-4 9 3 8-3 8 0 4 0 4 1 9-2 16 0 9 3 8-2 8-1 8-4 9 0 8-5 8-3 9-4 8-2 8 1 8-2 9-4 8 1 8M442 2065l1 4-1 4-23 12-6 4-7 9-20 12-16 8-5 5 0 8-2 4-1 4 3 8 3 4 1 5-9 16-8 13-4 4-10 8-13 12-17 13-2 4-4 4-8 4-5 4-1 5-3 4-5 4-4 4-1 8-3 9-1 8 1 8-1 4 0 4 3 9 1 8 2 4 0 4-7 8 0 5-2 4-15 20-42 42-10 8-4 4 0 4-2 5-4 4-3 4-1 4-2 4-5 4-3 4 0 9-5 16M402 2065l-1 8 2 8-1 4-7 4-18 9-11 8-43 21-5 4-7 16-8 9-7 12-10 12-4 9-7 8-6 4-4 4 0 4-2 5-8 8-3 4-6 12-3 5-3 4-1 8 0 8-3 9-3 4-2 4 2 12 0 4-3 9-5 8-1 8-1 4-2 4-3 5-7 8-2 4 0 4-1 4-7 9-8 8-3 4-2 4-1 13-2 4-4 4-3 4 0 4-2 4-3 4-2 5-1 8-1 8 1 4 0 4-4 5-3 4 0 4 0 4-5 8M447 2065l0 4-13 12-7 4-19 9-8 4-18 12-24 13-5 4-6 8-4 4-1 4 1 8-2 13-8 21-2 4-4 4-5 4-3 4 0 4-1 4-3 5-8 8-15 12-4 4-3 5-3 8-8 12-2 4-1 13-1 4-6 8-2 4 0 5 3 8 0 4 0 4-4 8-6 9-8 8-7 12-11 13-2 4-4 4-5 4-5 4-5 9-4 4-3 4-2 8-4 8-2 5-2 4-4 4-2 4 1 12-1 5-5 4-3 4-1 4-1 4-4 4M395 2065l-2 4 1 8-3 8-8 9-7 4-10 4-14 8-28 13-6 4-4 8-1 8-2 4-3 4 0 5 2 4-3 4-5 4-3 4 0 4-2 4-3 5-7 8-8 8-6 8-4 5-23 20-3 4-2 5-9 8-3 4-2 4-6 8-1 5-2 12-1 4-3 4-3 9 2 4 3 4 0 4-3 4 0 4 0 4-1 17 1 8-1 8-2 5-8 12-1 4 0 4-3 9-11 12-9 12-4 9-8 8-2 4-1 4-10 17-4 12M379 2065l0 4 1 4 2 12-3 4-7 5-19 8-10 8-35 8-12 5-6 4-13 16-5 8-4 9-6 8-4 8-18 17-2 8-9 8-8 17-9 8-3 9-2 8-8 8-2 8-4 9-5 8 3 8-4 9 4 8-8 8 2 4 2 4 0 4-2 21-4 8-5 9-3 16-3 9-12 16 4 8-10 17-6 17-4 20M445 2065l0 4-3 4-5 4-6 8-14 9-3 4-2 4-5 4-18 12-4 5-9 12-5 8-8 8 0 5 0 4-2 4-19 21-3 8-11 8-5 8-11 17-8 8-10 9-10 16-3 8-13 17-5 17-5 8 1 8-4 4-5 4-5 17-2 8-8 8-2 9-3 8 1 8-3 4-4 5-7 16-7 8-4 9-9 8 0 4 1 4-5 4-6 5-13 20M435 2065l-1 4-3 4-4 4-7 4-26 13-14 8-9 4-10 4-42 13-10 4-14 8-6 4-3 4-13 17-5 8 0 4 2 4 0 4-5 13 0 4 4 8 1 9 0 16-1 8-2 9-1 4-3 4-4 4-2 4 0 4-3 5-19 16-7 8-5 5-3 4-1 4-4 4-10 8-6 8-3 9-5 8-4 12 0 5 1 12-1 4-2 4 0 4 2 5 1 4 0 4-2 4-3 4-2 4 1 9-1 8-8 16-3 9-6 8-6 8M396 2065l-2 8 2 8-6 4-22 13-28 12-12 4-33 9-9 4-7 8-2 4-7 17-6 8 0 8-6 8-6 9-1 8-4 8-3 17-8 8-5 8-4 9 0 8-9 8-3 9-6 8-2 8-8 8-3 5-2 4-2 8-3 8-6 8-4 9 3 8-2 8-6 9 4 8-5 8-3 8 2 9-6 8 3 8-4 9 0 8 0 8-8 8-1 9-9 16M371 2065l0 4-1 8-3 4-7 4-13 9-42 16-53 13-10 4-2 4-1 4-5 8 0 4 1 4-3 9-5 8-3 8-5 9-9 16-10 8-9 9-7 12-9 13-13 8-4 4-11 12-1 5 1 4-2 4-10 12-4 9 2 4 4 4 1 4-1 4-3 8 1 4 3 5 1 8-3 8 2 4 4 4 0 5-1 4 1 4 3 4 3 8-2 25 0 8-2 9-5 8-2 17-3 8-1 8-1 4M435 2065l-2 4-5 4-28 12-11 9-23 12-10 4-38 13-11 4-6 4-14 12-4 8-7 9-4 8-5 12-3 13-3 8-2 8-1 9-6 8 1 4 2 4 0 9-5 8 2 8-4 17-4 8-1 12-3 13-2 8-8 8-5 9-3 8-11 8-3 8-5 9-1 8-10 8-3 4-3 5-3 8-4 8-7 8-10 17-3 8 3 9-7 8 0 8-3 4M382 2065l6 8-6 4-12 4-34 17-4 4-5 4-12 4-51 13-12 4-37 20-10 9-6 8-8 8-1 4-1 13-2 8 0 8 5 9-1 8-7 8-10 13-4 4-11 8-8 8 0 13 0 12 0 8 4 9 1 4 1 4-3 8 2 8-3 9-17 16-3 9-2 20 0 4 5 9 1 8 2 8 1 9-4 8 1 8-1 8-8 9 1 8-2 8M420 2065l-1 4 1 12-47 29-18 8-22 9-6 4-4 4-10 8-4 4-2 4-9 9-4 4-4 8-10 13-6 8-17 16-3 5-1 4 0 4 1 4-2 4-5 4-2 4 2 5-2 4-3 4-2 4 0 4 2 8-1 5-6 12 0 4 1 4 0 9-1 4-7 12 0 4 1 4 0 4-2 5-3 8-3 8-12 17-3 8-2 8-2 4-11 13-2 4 0 4-1 4-22 29-2 4-1 5-1 4-3 4-2 4-1 4-2 4M443 2065l0 4-4 4-5 4-9 8-15 9-4 4-2 4-7 4-8 4-23 8-7 5-2 4-12 12-11 12-11 9-1 4 0 4-4 4-12 13-15 16-3 8-6 9-7 8-2 4-2 4 0 9-10 16-3 8-1 9-5 8-1 4-1 8-2 13-1 8-6 8-1 4 0 5-5 8-4 16-2 9-10 16-13 17-1 8-12 17-3 8-8 8-10 17-7 8-2 4M407 2065l1 4 0 4-2 4-19 8-8 4-7 5-10 8-9 4-37 12-10 5-5 4-8 8-4 4-2 4-1 4 0 13-2 4-8 12-3 9-8 8-3 4-3 4-3 8-9 9-2 4-1 4-3 4-19 21-8 16-3 9-6 8-4 8-3 9-1 4 0 12 1 8-2 9 2 16-1 4-6 13-2 8-6 8-1 4 0 5-1 4-6 12-6 8-1 5 0 4-2 4-13 21-3 8-5 8-1 4M451 2065l-2 4-1 8 0 8-9 9-3 4-7 12-11 8-13 17-3 8-10 8-15 17-6 8-10 9-8 8-5 8-12 17-3 8-7 8-5 9-1 8-1 8-1 8 1 9-9 16-2 17-15 25-7 8-8 8-7 13-3 4-10 8-7 8-10 9-4 8-10 8-4 8-11 9-1 8-11 8-9 17-10 12M411 2065l0 4 2 4 1 4-3 4-1 4-2 4-26 13-15 8-19 8-6 5-2 4 2 8 0 4 1 4 6 13 0 4-2 4-3 4-4 4-6 4-14 9-11 8-14 8-15 13-9 8-1 4 6 8 0 4 1 9 3 4 4 4 3 4 0 4 1 4 4 5 0 4-41 33-25 16-4 4-2 5 2 8-2 4-1 4 1 8 3 9 1 8 1 4-1 4-6 9-10 12-5 4-11 8-12 13-3 4-1 4-3 4-4 4-3 5 0 8-3 8 1 4M430 2065l-4 8-3 4-8 4-13 17-17 12-15 8-18 9-21 12-19 12-5 5-3 4-5 8-3 8-1 4 1 9 4 8 0 12 0 5-8 12-4 4-12 8-7 9-12 8-11 25 0 4 1 4 3 4 2 4-4 9 2 4 0 4-3 8 0 4-2 4-13 9-19 16-7 9-2 8-3 4-2 4 1 8-2 9-1 12 0 4-2 4-2 5-7 8-7 12-11 13-5 8-6 8M423 2065l-2 12-17 12-19 13-13 8-18 8-12 9-5 4-3 4-1 4-5 8-8 9-1 4 0 4-3 4-10 12-14 17-4 8-24 25-2 4-1 4-4 9-10 16-6 9-3 8-5 8-5 8-3 9 0 8-9 25-3 16-5 17-6 8 0 4 1 4-2 5-4 4-1 4 1 4-2 4-6 13-3 8-8 8-5 8-6 9-1 4 0 4-3 8M449 2065l0 8-1 8 1 4-1 4-13 9-5 8-8 8-29 25-6 8-10 9-6 16-8 8-1 9-3 8 2 8-1 9-3 8-5 8-1 4-6 13-6 16-8 9-9 8-3 8-19 17-13 16-8 8-5 9-2 8-6 8-8 17-3 8-6 8-5 9-2 8-12 8-6 9-5 8-6 8-13 8-12 17-8 8M465 2065l-1 4-2 4-3 4-5 4-6 8-15 9-4 4-14 21-4 4-5 4-2 4-2 4-5 4-7 4-10 9-12 8-4 4-3 4-10 8-9 17-3 8 0 9 1 8-2 16 3 9 0 4-1 4-7 8-5 9-6 8-5 8-1 8 0 9-25 16-6 8-18 13-4 4-16 17-3 4-1 4-9 16-1 9-4 4-5 4 0 4 1 4 0 4-3 9-3 4-3 4-5 4-6 8-17 17-2 4 0 4M461 2065l0 4-11 12-5 4-9 4-6 5-8 8-23 16-21 21-3 4-2 4-3 4-8 9-17 20-15 17-2 4-1 4-1 4-9 13-1 4 1 4-1 4-7 17-6 16-1 5 0 4 1 4 0 4-1 8-1 4-2 5-4 4-3 4-2 8-2 4-3 4-7 9-2 4-5 12-3 4-3 4-9 9-8 8-5 8-2 4-3 5-7 4-5 4-5 8-15 17-8 8-5 12-2 5-8 8-7 8-5 4M416 2065l-1 4-5 4-15 8-41 25-10 4-35 13-8 4-11 12-8 8-11 13-9 8-4 4-2 4-4 4-18 13-4 4-1 4-3 4-9 9-3 4-2 4 0 4-2 4-4 4-2 4 1 5 2 4 3 4 1 4-2 4 0 4 1 4 0 5-1 4 1 4 3 4 0 4-3 4 0 4 1 5 0 4-7 12-6 17-4 4-5 4-4 4-1 4-2 4-13 17-4 8-4 13-7 12-3 12 0 5 2 4 0 4-2 4 0 4 0 8-1 13-2 8-1 4M423 2065l1 4-4 4-60 37-9 4-23 9-9 4-6 4-8 8-5 8-4 9-11 16-5 8-12 13-3 4-5 8-8 9-3 8-7 8-15 17-12 20-4 13-10 12-2 4 2 9-5 8-1 4-2 4 0 8-4 9 0 8-3 8 2 9-3 16-4 8-1 9 1 8-5 8-4 9 1 8-5 12-16 29M403 2065l0 4 2 4 1 4-1 4-27 17-17 8-10 4-46 13-11 4-7 4-5 4-3 4-15 21-2 4-1 4 1 4 0 4-2 4 0 5 2 4 0 4-3 8-6 13-4 4-10 8-6 8-13 13-3 4-1 8-8 21 0 4 2 17-1 8 1 4-1 4-11 17-10 16-11 17-4 8-2 4 0 4 0 4-1 5-2 4-1 4 2 8 0 4-2 13 0 4-1 4-5 8-4 4-2 5 0 4-2 4-6 8-2 4M440 2065l1 4-1 4-22 12-20 13-23 12-27 13-8 4-4 4-6 8-3 4-1 4 1 4 0 5-1 4-2 4-6 8-4 13-1 4-3 4-2 4 0 4-1 4-2 4-6 9-15 16-2 4-1 5-1 4-11 12-9 13-8 16-7 21-2 16-1 4-5 9-6 12-3 8-2 5-4 4-3 4-1 4-3 4-4 4-4 4-3 9-5 8-13 17-7 16-8 13-2 4 0 4-2 4-4 8M426 2065l0 4-1 4-7 4-52 25-22 8-28 8-11 5-8 4-4 4-3 4-3 8 0 8-4 9-6 25-3 8-16 16-5 9-10 8-6 8-8 9-6 8-4 8-3 8 1 9-1 8 3 17-1 8-3 12-1 4-7 9-2 8-4 8-9 8-5 9 0 4 0 4-11 8-1 9-4 8-5 8-1 8-5 9 1 8-2 8 2 9-4 8-2 8-1 4M407 2065l2 4-4 4-33 12-37 17-28 8-68 13-14 4-8 4-7 4-5 4-7 8-1 4 1 5 5 8 5 8 2 4-3 4-1 5 4 4 1 4-7 12-4 4-14 13-31 25-4 4-2 4-3 8 0 4 1 5 1 4 5 8 2 4 4 13 6 8 2 4 0 4-9 8-6 9-1 4-2 4-8 8-10 8-4 13-1 8 1 4 4 13 6 12-1 4-1 4 4 5 2 4-2 8-1 8 1 9-1 8-5 8-4 4M396 2065l1 8-7 4-30 12-12 9-22 8-13 4-52 13-8 4-2 4-10 8-3 8 5 9-11 24 0 9-3 8-2 4-15 21-9 8-7 8-6 9-8 8-16 17 0 8-4 12-1 4 0 9-5 8 5 8-4 8 7 9 3 8-2 8 1 9-2 8 1 8-6 8-1 9-7 8 1 8-5 9-3 8-6 8-2 8 1 9-1 8-5 8M422 2065l0 4-4 4-10 4-13 8-17 9-12 8-17 8-33 13-8 4-16 16-3 4-2 4-3 13-2 4-9 8-2 9-6 8-7 16-5 9-15 25-6 8-3 8-11 17-2 8-4 8-5 9-5 16-4 8-6 9-3 8-2 8 2 8-7 9 1 8-3 8-6 9 3 8-4 8-5 8 4 9-11 16 1 9-7 8-1 8-2 4M382 2065l2 4 1 4-1 4-4 4-6 4-37 21-10 4-41 13-12 4-16 8-4 4-3 4-5 4-7 4-14 13-5 4-15 8-4 4-1 5-3 4-11 12-2 4-1 4 0 5 3 12 4 8 1 4 0 21 3 8-2 5-4 4-2 4-1 4-3 4-3 4-2 4 0 5-4 4-5 4-5 4-3 4-9 8-3 4-8 21 0 4 0 4-3 9 3 4 5 4 2 4-2 4 1 4 3 5 3 8-1 4-2 4 0 4 0 4 0 9 0 8-2 4-4 4-3 4 0 5-6 8-2 4-1 8M411 2065l1 4-5 4-30 12-13 9-20 8-7 4-9 4-45 13-11 4-17 12-4 4-7 8-10 9-6 8-4 8-12 9-7 8-5 8-8 8-4 9-7 8-2 17-3 8-5 8 6 17 0 8-2 8 1 9 0 8-4 16-4 9 1 12-1 4-7 8 1 9-9 8 0 8-2 9-9 16-1 8-6 9 1 8-5 8 0 9 3 8-2 8 0 4M376 2065l0 4 1 12 0 4-1 4-20 13-9 4-13 4-15 4-34 9-15 4-18 8-14 8-11 8-12 13-4 4-3 4-2 8-1 5 1 4 1 4 2 8 2 8 6 9 1 4-1 12-3 4-12 13-5 8-4 4-6 4-13 9-4 4-2 4-10 8-2 4 1 5-1 8 1 4 2 4 0 8 1 4 10 13 1 4-1 4 0 4 3 13-2 4-12 21-7 8-4 8-9 8-3 5-2 4 1 4 1 4 1 8-2 4-2 5-1 4 3 12 2 4M405 2065l-3 4-7 4-18 8-13 8-16 9-29 12-16 4-39 9-14 4-7 4-10 8-15 8-12 9-10 8-7 8-9 8-7 9-3 8-1 4 0 4 3 17 3 4 1 4-2 8 1 9 3 8 0 8 1 4-1 5-8 8-4 8-1 4-3 4-10 9-11 16-6 8-5 13-1 4 1 4 1 4-2 4-2 5 1 4 1 4 5 8 1 8 5 13 2 4 0 8 2 4 1 5 0 4-2 4-3 4-2 4 0 4-1 4-3 5-2 4 1 4-1 4-2 4-1 4M436 2065l0 12-11 8-6 4-18 9-12 8-10 4-14 4-25 13-9 8-17 21-1 8-2 8-2 8 0 9 5 8-1 8 1 9-12 20-10 13-3 8-3 4-3 4-12 9-4 8-10 8-11 8-6 9-3 8-8 8-2 4-3 4 1 9-4 8 1 8 3 17-7 8-3 17-7 8-3 8-4 9-13 16-9 8-2 9-13 8 0 4 0 4M405 2065l0 4 1 4-18 8-18 13-15 8-17 8-13 4-30 9-9 4-4 4-10 8-4 4-3 4-5 4-29 21-5 4-3 4-10 9-3 4-8 12-2 4 0 5-5 8 0 4 2 4 0 13 3 12 5 8 0 4-1 5 0 4 1 4 0 4-4 12-3 5-3 4-28 24-2 5 1 4-3 4-6 4-3 4-2 8 0 13-2 8 0 4 2 4-1 5-2 4 0 4 3 4 3 8 0 4-3 13 1 4 3 4-1 4-4 4-2 5-1 8-7 12M390 2065l0 4-2 8 2 4-1 4-20 9-15 8-9 4-12 4-51 13-12 4-7 4-7 4-10 8-13 8-11 9-6 8-7 8-10 9-6 8-3 8 2 8-5 21 0 4 4 9 2 12 1 4-2 4 0 4 3 5 3 4-5 16-1 9-9 12-12 12-3 9-5 8-8 8-2 8-3 9-7 8-4 12-1 5 2 8 0 8-2 8 2 9-3 8 2 8 0 4 0 5-1 8 1 8-1 4M435 2065l0 4 1 8-1 4-3 4-26 17-20 16-8 5-7 4-2 4-3 4-7 16-7 9-1 8-1 8-3 9-9 8 3 8-11 17 1 8-7 8 1 9-11 16-1 8-11 17-10 8-3 9-5 8-17 16-6 9-10 16-13 8-3 9-2 8-8 8-3 9-6 8 1 8-8 8-5 9 0 8-11 8-2 9-1 8-10 8-3 4M423 2065l3 8 0 8-1 4-7 4-10 9-16 8-5 4-7 4-22 9-4 4-1 4-10 8-7 8-11 9-5 8-7 8-12 8-8 9-2 8-13 17-3 8-9 8-5 17-3 8-1 8 3 9-4 8 0 8-7 8 4 9-4 8 1 8-8 8 0 9-5 8-7 8-1 9-6 8 0 8-9 8-4 9-9 8-2 8-8 9-1 8-7 8-9 17-10 8-3 8M459 2065l0 4-10 8-7 8-23 17-3 8-6 8-1 5 2 12-1 4-14 12-12 17-4 8-3 13-4 4-12 8-5 8-12 9-6 8-8 8-2 4-4 13 1 16-3 9 1 8 0 4-3 4-11 9-2 4-12 20-5 9 0 4-4 4-13 8-9 8-7 9-9 8-5 8-7 9-8 8-2 8-7 8-1 9-5 8-1 4-3 4-10 9-10 16-4 4M438 2065l2 8-1 4-6 4-9 8-11 9-13 8-8 8-15 9-5 4-4 4-3 8-15 17-14 12-12 12-12 17-4 8-12 9-4 8-10 12-2 4-2 5-1 4 1 8-4 8 2 9-2 8 0 8-5 8 1 9-6 8 0 8-3 8-10 17-10 8-3 9-7 8-9 8-4 8-8 9-3 4-2 4-3 8-8 9-7 8-3 8-6 8-1 9-7 8-4 8M425 2065l0 4-5 4-26 12-14 9-9 4-12 4-18 8-43 13-10 4-4 4-4 12 0 4 3 13-1 4-2 4-1 12-2 5-1 8-1 4-6 12-6 9-7 8-7 8-14 13-17 16-3 4-2 5 0 4-2 4-6 4-3 4-5 13 0 8-2 8 0 4 2 13 1 24-1 5-2 4-1 4 0 4-1 4-3 4-2 4 0 5-1 4-2 4-10 12-7 13-9 12-5 13-8 12-3 8M373 2065l1 8 1 4 0 4-23 8-17 9-34 12-59 13-11 4-4 4-12 8-6 8-2 9-7 8-1 16-3 9 0 16-3 9 0 8 1 4 1 4-7 8-1 9-4 8-3 4-2 4 2 4 1 5-7 8 0 8-6 8-3 9-5 8-1 8-11 17 1 4 0 4-8 8-5 9 2 4 0 4-9 8 2 17-3 16-2 13 0 4 2 8-2 8 2 17 4 8M421 2065l4 8-21 16-13 9-14 8-9 4-21 8-9 5-5 4-2 4-4 4-2 4 0 4-1 4-4 4-4 5-6 4-4 4-5 12-9 13-1 4-2 4-9 8-5 9-4 4-2 4-1 4-3 4-9 8-7 13-7 8-3 4-1 4-1 5-4 8-1 4-2 4-4 4-2 4-1 9-4 12-2 8-2 4-4 5-2 4 1 4-1 4-8 12-1 5 2 4 0 4-4 8-2 4 0 4 0 5-2 4-4 4-2 4 1 4 1 4-10 21-11 17-5 8-1 4-1 4-2 4M413 2065l1 8 1 4 0 4-17 8-32 21-9 4-22 9-7 4-4 4-7 16-3 9-1 8-8 16-4 17-5 8-1 4 1 5-1 4-8 16-9 13-4 8-6 8-2 9-4 4-4 4-2 4-1 4-3 4-11 13-8 8-2 4-4 12-5 5-6 4-4 4-1 4-6 8-9 25-8 17-2 16-7 9-1 4-1 4-5 16-6 9-2 4-2 12M439 2065l-1 12 1 4 0 4-28 21-13 12-2 5-6 12-8 8-2 8-1 5-1 4-9 8-3 4-7 13-9 12-13 12-3 9-4 4-3 4 0 4-1 4-8 9-11 8-3 8-5 13-3 4-9 8-3 8-8 13-3 4-1 8-6 8-7 9-3 8-4 8-10 17-12 25-2 8-3 4-2 4-8 8-8 17-10 8-5 9-8 16-5 4M425 2065l1 4-2 8-2 4-20 13-16 16-20 8-7 5-3 4-8 16-4 4-3 4-11 9 0 4 0 4-4 4-5 4-1 4-1 5-4 4-12 12-6 8-12 9-2 4-2 4-1 8-12 9-2 4-1 4-7 16-6 9 0 4 0 12 1 9-1 8-5 8-1 8-5 9-2 8-8 16-2 9-7 8-17 25-8 8-7 8-4 9-3 8-6 8-5 9-8 8-3 12M390 2065l2 4-3 8-1 8-4 4-4 5-25 16-40 17-2 8-16 8-11 8-20 17-17 8-12 13-11 12 1 4 3 4 1 9-1 8 8 12 2 5 1 4 0 8-2 8-2 4 0 9-11 8-3 8-13 9-6 4-5 4-8 8-10 8-1 9-6 8 2 8 0 8 5 17 5 8-3 13-7 20-5 9-8 8-4 8-11 17-2 8-2 4M411 2065l1 4-2 4-3 4-45 25-22 8-13 4-31 9-12 4-25 16-9 8-13 17-11 8-15 17-4 8-7 8-6 17 0 8-7 9-3 16 3 8-2 17 3 8 1 4-1 5-4 4-2 4 4 8 1 17-1 8-4 8-1 8-3 9-1 8-5 8-2 9-6 8-8 21-8 12 1 8-4 9-3 8-5 8 0 4M433 2065l-1 4-6 4-17 8-6 4-9 4-19 9-16 8-10 4-39 13-7 4-4 8-2 8 1 4 3 4 0 5-7 8-9 12-16 17-16 12-4 4-3 5-7 12-2 8 0 4 4 9 1 4-1 12 0 4 0 5-1 4-4 8-11 12-2 5-4 4-11 8-11 12-2 4 1 9-1 4-1 8 0 4 3 13 0 4-5 12-2 4 0 5-2 4-9 8-6 8-5 4-1 5 2 4-2 4-5 4-3 4-1 4-1 4-3 5-1 4 2 8 0 8M437 2065l0 8-2 4-16 17-15 12-16 12-4 5-7 8-13 8-11 12-17 13-11 12-3 4-2 5 0 4 0 8-1 8 1 9-1 8 0 4-1 4-5 13-3 4-4 4-17 12-4 4-4 5-5 8-7 12-1 4-2 13-1 12-2 8-1 5-2 4-6 8-4 8-3 4-13 13-2 4-4 4-6 4-5 4-9 13-5 8-3 13-4 8-2 8-4 13-2 4-14 16M408 2065l4 8-2 4-9 4-13 8-18 13-14 8-10 4-26 9-6 4-2 4-8 8-4 8-2 4-9 13-5 8-9 8-8 9-1 8-27 25-6 8-7 8-7 13-8 12-3 9 0 8-5 8 0 4 0 21-2 8-1 17 5 8-5 4-6 4-2 4 1 5 3 8-3 4-4 4-1 4 0 4-4 9-2 4-2 12-10 9-2 4-2 4-4 8-2 8-9 17-2 8M420 2065l-3 12-32 21-7 8-5 4-7 4-21 9-7 4-15 12-8 8-14 9-5 8-36 25-8 8-9 17-1 8 1 16 2 17 3 8 3 4 1 5-4 8 0 8-2 8-4 9-7 8-9 12-3 4-15 9-2 8-2 4-3 4-13 9-4 8-6 8 0 8-3 9 1 12 0 4-6 9 3 16-4 17-10 16M416 2065l-1 4-2 4-1 4-4 4-32 17-13 8-8 4-12 4-32 9-10 4-15 12-2 4 0 4-8 9 0 4 1 4-2 4-4 4-1 4 1 4-4 9-1 4 0 12 1 9-3 8 1 8-6 17 3 8-1 4-3 4-4 17-1 4-8 12-3 9-14 16-6 8-4 9-6 8-9 8-4 9-5 8-7 8-8 8-2 5 0 4-4 8-3 8-4 9-2 8-4 8-2 8-4 9-5 8 0 4 0 4M389 2065l-2 4-3 8-35 12-16 9-34 12-17 4-47 9-9 4-4 12 0 17-5 12-4 4-12 8-4 5-5 4-15 8-10 8-3 4 2 5 1 4-1 8-2 4-12 13 1 4 5 12 7 13 1 4 0 4-4 8-4 13-2 4-12 8-10 12-3 4 2 9 2 4 0 4-6 8-4 9 1 4 3 4 8 8 3 4 2 4-1 9 1 4 0 4-5 8 0 9-9 16 0 4-1 4-3 5 0 4 3 4 3 4-4 8M416 2065l-2 4 6 8 0 4-5 4-13 9-25 12-40 17-21 12-9 8-23 25-6 8-4 9-12 12-3 4 4 8-3 9-4 8-3 8 1 9-4 16 2 8 0 9-4 8-3 12-2 5-8 8 0 8-9 8-9 17-10 8-8 8-1 9-15 25-2 8-3 8-8 8 2 9-4 8-2 8-4 9-2 8 0 8-1 4M373 2065l2 4 3 4-1 4-3 4-15 8-19 9-33 12-14 4-38 9-12 4-4 4 0 4 3 4-2 4-4 4 0 4 0 5-1 4-6 12-11 17-4 4-26 21-8 8-8 16-4 17 1 4 3 4 1 4 0 5-1 8 0 4 2 21-2 4-3 4-4 8-1 8-2 5-4 4-6 8-8 8-1 4-1 5-3 8 0 16 3 9-1 4-2 4 0 4 5 13-2 4-3 4 2 4 3 4-1 4-3 4-1 9-6 8-1 4 1 4M398 2065l-2 4-1 4 2 8-5 4-24 13-13 8-10 4-41 13-10 4-12 8-4 4-4 8-1 4-3 5-7 4-6 4-1 8-4 8-7 9-5 8-25 29-2 4 0 13-1 4-5 4-3 4-3 12-1 5-6 8-1 8-6 17 0 8-2 12-2 4-5 9 0 8 1 8-2 9 0 8-4 12-2 4-5 5-2 4 3 4 1 4-3 4-2 4 1 9-1 4-1 4-5 8-2 8-5 9-1 8 1 4 0 4M458 2065l-1 4-1 4-8 12-4 4-13 9-7 8-11 17-13 8-4 8-9 8-23 25-10 8-1 9-13 8-17 17-9 12-3 4-4 8-14 17 0 8-5 9 1 8-2 8-5 8-1 17-2 8-8 8 0 9-2 8-8 8 0 9-2 8-11 16-10 9-5 8-4 8-17 17-9 8-4 8-6 9-17 16M418 2065l0 4 1 4-3 4-10 4-28 17-9 4-24 8-45 13-11 4-19 12-8 8-9 17-1 4-1 12-2 5-3 4-2 4 0 12 3 9 1 4 0 4-3 8-1 4 0 4 3 9 1 8-2 4-3 4-3 4-1 5-7 8-8 16-6 9-9 8-3 4-2 4-6 4-8 4-2 5 1 4-1 4-3 4-12 8-1 4 1 5 0 4-2 4-2 12-5 13 0 8-3 8 0 4 2 5 1 8-1 4-3 8-1 4 1 9-1 4-2 4-3 8M404 2065l-1 4 4 12-5 4-19 9-14 8-9 4-10 4-27 8-12 5-7 4-17 16-2 8-5 9-2 8-4 8-1 9-9 8 0 8-6 13-8 12-2 8-16 17-6 16-9 17 0 8-8 9-4 8-2 8 1 8-7 9 5 16-10 8 2 9-4 8-7 8-2 9-3 8-7 8 0 8-6 9-7 16 1 9-6 8 2 8-4 4M394 2065l-2 16-14 8-11 9-7 4-29 12-23 9-7 4-11 12-3 4-1 4-2 4-9 9-16 12-5 4-11 13-12 8-4 4-2 4-2 4 0 5-3 4-6 4-2 4 1 4 0 4 0 4-3 9 0 4 3 12 3 9 1 4-3 12 1 8-2 5-10 12-8 12-9 13-4 8-3 4-5 4-2 4-3 9-7 12-1 4 0 4-1 5-3 4 1 4 2 4 1 4-1 4 2 9-1 4-4 4 0 4 3 4-1 4-3 4-2 5 0 4 0 8-3 4-5 4M400 2065l-4 4-1 4 2 4-1 4-5 4-7 4-33 17-9 4-34 13-8 4-3 4-1 4-3 4-7 8-10 13-11 16-1 4 0 5-3 4-5 4-3 4-8 12-2 5-1 4-3 4-4 4-3 4 0 4-3 4-6 5-3 4-9 20-4 9-2 4 0 4-2 4-3 4-2 4-1 5 0 4 2 4-1 4-3 4-1 4 0 4-1 4-2 5-1 4 2 4-1 4-4 8-4 13-3 8-1 4-1 13-1 4-1 4-8 12-12 29-2 9-4 8-1 4-1 8M424 2065l0 4-5 4-14 8-9 4-30 13-13 8-10 4-45 13-9 4-4 4-12 8-4 4-6 13-10 16-2 8-7 9-2 4 0 4 2 8-4 4-5 5-1 4 0 4-5 12-2 13 3 8-3 4-5 4-1 4 1 5-2 8 0 8-5 8-3 9-1 8-9 8-2 13-6 12-2 8-6 9-6 16-7 8-5 9-1 8-6 8-2 9-9 16 1 4 1 4-1 5-2 4-3 8 0 8M439 2065l1 8-2 8-7 8-13 13-15 12-14 9-5 4-4 8-7 8-26 21-5 4-10 12-10 9-4 4-2 4-3 8 0 4 3 5-1 4-4 4-2 4 2 4 2 4 4 4 0 5-5 4-3 4 2 8 2 4-1 4-9 13-10 8-2 4 0 4-4 5-7 4-6 4-2 4-14 12-6 9-13 12-3 4-2 8-4 9-2 8-2 4-1 4 1 4 0 5-4 12-2 4-7 8-3 9-3 4-11 12-8 13-4 4-6 4-3 4 0 4M451 2065l-1 8-9 8-6 4-14 9-25 16-7 4-18 9-8 4-8 8-7 8-5 4-3 4-1 13-2 8 0 4 1 9-2 8 0 16 0 5-2 4-8 8-6 8-12 21-4 4-16 13-3 4-3 4-3 4-5 4-4 4-1 4-3 5-5 4-4 4-2 4-1 4 1 4 0 4-2 9 0 8-3 8-4 8-2 17-1 4-3 4-8 9-6 4-4 4-4 12-3 4-19 13-4 4-1 4-3 4-7 9-5 8-3 4-3 4-1 4M406 2065l0 4 0 4-1 8-1 4-3 4-15 13-8 4-26 12-26 9-4 4-2 4-5 4-5 4-16 8-4 5-8 12-3 4-4 4-11 9-3 4-2 4-8 8-1 4-1 4-4 9-3 8 0 8-2 9 5 8-1 4-2 4 1 4 2 4-1 5-2 4-5 25-7 8-8 16-2 4-4 5-8 8-4 8-12 8-4 5-7 12-1 8-4 9-2 8-8 16 2 9-1 4-3 4 1 4 1 4-1 4-3 5 0 8-1 4-5 8M410 2065l1 4-2 4-11 4-18 8-21 9-27 12-11 4-44 13-8 4-7 8 0 8 4 8-1 9 1 8-21 25-12 8-7 8-14 9-10 8-9 8-4 9 0 4 5 20 0 9 7 8-1 8 3 9 0 8-4 8-3 4-9 13-12 12-16 21-8 16 3 9-4 8 3 8-1 8 3 9 1 8 3 8-2 9-10 8 2 8-1 4M459 2065l-1 8-4 12-4 4-14 9-17 16-6 9-6 4-4 4-1 8 1 8-8 13-15 12-17 13-10 8-7 8-8 13-7 4-4 4 2 8-3 4-2 4 0 9-2 4-1 4 6 8-1 21-12 12-10 9-2 8-7 8-3 8-8 9 0 8-2 4-5 4-14 9-9 8-11 8-6 8-8 9-17 25-9 8 0 8-3 8-6 9-3 8-6 8M443 2065l-1 4-3 4-10 8-28 21-43 25-7 8-3 4-13 21 0 4 1 4-3 4-5 4-3 4-1 5 0 8-2 4-4 4-2 4-8 21-2 8-4 9-3 16-3 4-4 4-2 5-4 12-2 4-17 29-3 4-13 13-2 4-1 4-13 16-4 9-13 16-3 9-4 8-11 8-2 4 0 4-6 9-3 8-2 4-3 4-8 9-1 4 0 4-1 4-2 4-1 4M406 2065l-1 4 2 8-17 12-21 13-16 8-35 13-8 4-5 4-4 4-5 12-4 4-6 5-4 4-9 12-4 8-3 5-8 8-11 12-2 4-1 5-1 4-8 12 0 4 2 4-1 5-5 12 0 4 1 4-1 4-3 5-2 4-1 8-3 12-7 13-4 12-2 4-3 4-8 9-3 4-7 12-2 9-2 4-4 4-4 8-1 4 1 21-2 4-3 4-2 4-4 13 0 4 1 4-2 4-3 4-2 5-5 20M409 2065l0 4-2 4-37 21-37 16-37 13-9 4-6 4-5 4-3 4-2 4-1 4-2 4-8 9-12 16-9 9-14 20-2 4-1 5-2 4-3 4-3 4-1 4-2 4-4 4-3 5 0 4-2 4-6 12-1 4-1 5-1 4-3 4-1 4 1 12-1 17 0 4-6 12-4 9-1 4 3 4 0 4-1 4-2 4-4 5-2 4-2 8-4 12-2 5-4 4-1 4 2 4-2 4-3 4-1 4 2 5 0 4-5 4-3 4-2 4-1 4 1 4-1 5-2 4-3 12-2 4M409 2065l1 8 0 4-4 8-2 4-6 5-3 4-5 4-18 8-25 8-30 13-8 4-4 4-5 4-7 4-6 4-13 17-1 4-3 4-3 4-3 5-1 8-4 12 1 4 3 5 2 4-1 8 1 17 0 12-1 4-9 13-12 12-16 21-15 12-5 8-6 9-4 8-2 4-2 4-3 13 0 4 1 4 0 4-2 4-1 4 2 4 0 5-2 4-2 4 2 12 0 9-1 4-11 12-5 8-2 5 0 4-2 4-12 12M396 2065l-1 4 0 4 3 4 1 4-1 4-3 4-32 21-30 13-7 4-6 8-10 21-3 4-9 12-1 4-3 4-14 13-3 4 0 4-2 4-8 9-13 12-8 8-2 4 1 5-1 4-6 8-6 12-7 9-1 4 3 4 1 4-3 8-1 13-1 4-3 4-1 4 1 4 0 4-2 5-1 4 0 8-3 12-2 5-8 8-3 4-2 4 0 4-2 4-7 9-12 16-5 9-2 4-5 12-5 8-6 13-2 4-1 8M420 2065l-2 8 0 12-8 4-21 9-21 12-18 8-8 5-5 4-2 8-1 4 1 8 4 9-1 4-1 4-7 12-3 4-5 5-5 4-23 12-7 4-2 4-3 5-7 4-5 4-3 8-1 4 0 4 4 21 2 4 3 4 2 5-3 8 0 4-1 4-2 4-3 4-9 9-11 8-23 21-7 8-6 8-4 8-1 5 3 8-1 4-1 4 4 4 1 4-3 5-1 4 2 4 0 4-9 8-1 4-3 5-10 8-6 8-12 13-8 12-3 8M389 2065l1 8-1 4 0 4 2 4-6 4-40 21-35 13-9 4-10 8-17 16-19 13-2 4-5 4-15 8-5 5-4 4-5 8-10 12-3 5-1 4-4 12-3 4-1 4 3 13 0 4-1 4 0 4 2 4 2 5 0 4 1 4 3 4 1 4-2 13-1 4-3 4-2 4 2 4-1 4-8 8-8 13-3 4-4 4-2 4 0 4-1 5-8 8-4 8-6 8-5 9-6 8-1 4-1 4 1 9 0 4 1 4 2 4 0 4-2 8 1 13-1 4-4 8M431 2065l0 4-3 4-4 4-31 17-17 12-7 4-15 8-16 9-8 8-2 4 0 4-1 4-2 4-4 5-4 4-3 4-2 4-5 4-8 4-3 4 1 5-2 4-10 8-5 4-3 4-2 4-6 9-2 4 0 4-2 4-5 4 0 4 2 5 0 4-3 8-3 12 0 5 1 4-1 4-2 4-3 12-2 5-11 12-7 12-12 13-9 12-2 4 1 4-3 5-4 4-3 4-1 4 0 8-2 4-1 5-1 4 0 4-1 4-8 12-1 5 0 4-1 4-5 12-9 17-10 12M450 2065l0 4 2 8-3 4-5 4-7 4-6 5-7 8-14 12-2 4 0 5-4 8-1 4 1 4-2 8-4 13-11 12-11 8-3 5-1 4-5 8-5 4-7 4-2 4 1 5-2 4-9 12-8 8-2 5 0 4-1 4-7 12 1 4 1 5-1 4-3 4-5 8-2 8 0 9-2 4-6 4-7 8-5 4-16 13-3 4-5 8-11 13-5 8-10 8-3 4-5 9-16 20-3 9-12 16-4 8-10 9-2 4 0 4-3 8M418 2065l-2 8-4 4-21 12-37 21-45 17-5 4-21 20-3 5-2 4-3 4-13 12-4 9-4 4-7 4-3 4 1 4-3 4-7 4-2 5 2 4-2 4-7 8-7 13-1 4 0 4 0 8-3 8 0 5 2 4 0 4-2 4-1 4-1 21-2 4-3 4-2 4-1 4 1 9-1 4-3 4-3 4-1 4-2 4-6 9-5 12-3 4-5 4-2 4 0 5-1 8-3 4-5 4-3 4 0 4-3 9-6 8-1 4 2 4-2 4-3 5-3 4-2 4 0 4 2 4 0 4M445 2065l-3 4 4 8 1 4-3 4-14 9-6 4-31 25-17 16-10 12-2 9-9 8-2 8-8 9-3 8-1 8-6 8-5 17-2 8-6 17-1 8-1 4-2 4-11 17 0 8-3 9-7 8-10 8-3 8-8 9-6 8-8 8-5 8-9 9-5 8-4 8-7 9-9 8-6 8-6 8-5 9-3 8-8 8-8 17-9 8-2 4M442 2065l-2 4-14 12-15 8-19 17-2 4-3 4-8 9-9 12-9 8-14 13-16 8-7 8-16 8-2 5 0 4-3 8 4 8 2 9-1 8 5 8-1 4-3 9-3 4-21 16-13 9-12 12-3 4-3 8 3 9 3 8 4 8-5 17-8 8-12 8-6 9-9 8-13 8-6 13-3 8-1 4 1 8-5 9 5 8-10 8-5 8-3 9-5 8-11 8M417 2065l-4 4-13 8-34 17-18 8-12 4-68 17-14 4-7 4-5 4-8 8-3 4-4 9-3 4-1 4 3 4 1 4-3 4-1 4 1 5 1 4-2 8-1 8-7 17-2 4-3 4-10 8-8 9-10 8-12 17-1 4-1 4-1 12 1 4 3 9 4 16-1 17-2 8-4 8-6 9-4 8-12 16-2 5 0 4 0 4 0 4-4 8-1 4 0 5 3 4 1 4-1 12 0 4 3 5 2 4-2 8-4 8M373 2065l2 8-7 12-18 13-28 12-14 4-33 9-12 4-20 12-3 8-18 17-7 8-3 8-13 9-10 8-14 17-4 8-12 8 3 8-3 9-1 8-1 8-5 9 3 8 3 8-1 8 5 9 2 8-3 8 0 8 0 9 2 8-7 17-4 8-7 16-4 9-3 8-5 8-4 9-3 8 5 8-5 8 2 9-2 8 2 8M442 2065l-2 4-3 4-6 4-8 8-38 25-10 8-8 5-7 4-5 8-7 8-9 17-15 16-2 9-9 8-11 16-10 9 3 8-8 8-5 9-5 8-8 16-1 9-2 8 0 8-4 9-6 8 0 8-7 8-2 9-8 8-4 8-2 8-8 9 0 8-9 8-6 13-3 4-6 8-5 8-5 9-5 8-14 25-6 8-1 4M442 2065l0 4-4 4-10 8-23 21-11 8-15 8-5 5-3 4-2 12-2 4-2 4-11 17-2 8-3 4-7 9-13 16-40 42-3 4-3 8-4 4-7 4-4 4-2 5-2 4 0 4-2 4-5 4-2 4-2 4-6 9-1 4 0 4-2 4-10 12 0 5 3 4 0 4-3 4-5 12-7 13-1 4 0 4-1 4-3 4-1 5 0 4-2 4-4 4-2 4 0 4-2 4-4 5-2 4 1 4-1 4-16 21-3 4-2 4-1 8M459 2065l0 4-10 8-7 8-12 9-20 12-23 12-4 5-10 12-4 16 0 17-6 21-2 4-29 25-7 8-11 8-8 17-1 8-1 8 1 17 1 4 1 4-6 13-3 4-18 16-1 4-4 5-16 8-4 8-9 8-3 9-8 8-5 8-6 25-4 8-6 9-2 4-2 4-9 8-8 9-6 8-8 8-3 4M436 2065l2 4-2 4-9 12-15 9-11 8-9 8-17 8-6 5-3 4-9 8-19 25-6 8-11 8-2 9-14 8-4 8-6 8-9 9-3 8-8 8-2 9-11 8-2 8-3 8-8 9 0 8-3 8-7 9-1 8-7 16-1 9-1 8 0 8-10 17-3 8-2 8 1 9-2 4-2 4-8 8-2 8-5 9-6 8-1 8-9 9-6 8-4 8-4 4M453 2065l-16 20-25 17-5 4-5 4-6 8-9 9-1 4-1 4-4 8-1 4-1 13-3 8-1 8-2 4-2 5-9 8-2 4-2 12-10 13-7 12-6 9-5 8-9 8-6 8-9 9-6 8-9 8-2 4-1 5-3 4-5 4-3 4-7 12-9 9-2 4-1 4-7 12-1 4-2 9-6 8-2 4-1 4-7 9-3 4-3 12-2 4-9 13-5 8-8 8-7 17-6 8-4 4M428 2065l-2 4 3 8 1 8-2 4-6 5-8 8-6 4-7 4-19 8-7 5-31 28-20 17-7 8-10 9-7 8-5 8-9 8-7 17-4 8 1 9-3 8-4 16 1 9 3 8-3 8 1 17-5 8 1 8-6 9-5 8-6 8-5 8-11 9-2 8-10 8-5 9-13 16-6 8-16 17-1 8-11 9-1 4 0 4-7 12M445 2065l-2 4 2 4-3 4-29 21-5 4-11 12-8 9-4 4-3 8-1 8-4 8 0 9-5 8-4 8 0 4-1 5-8 8 0 4-1 4-10 8-2 9-6 8-15 17-4 8-24 25-5 8-16 17-4 8-8 8-10 17-12 24-5 9-4 8-5 8-1 9-6 8-10 21-8 12 0 4 0 4-9 9-12 20M449 2065l1 4-3 4-11 8-26 17-6 8-10 8-2 4 0 5-5 8 1 8 2 8-13 17-9 8-10 8-33 25-5 9-10 8-3 4-2 4 1 8-2 9 2 8 5 8 1 9-1 8 1 8-16 17-5 8-17 8-25 25-14 17-1 8-2 8-8 8 3 17-5 8-3 9-8 8-5 8-18 17-14 16M440 2065l1 4-5 4-34 21-11 8-18 8-32 13-14 8-6 4-7 8-19 17-6 8-9 8-8 9-5 8-1 8-5 17 0 8-2 8 2 9 1 8-3 4-2 4 3 4 1 4-4 9 1 8-6 8-4 9-1 8-1 4-3 4-11 8-3 9-3 4-12 12-6 8-10 9-12 25-10 12-2 4 1 8-1 9-6 8 1 8-3 9-5 8-1 8-2 4M408 2065l-2 8-7 4-35 17-15 8-10 4-12 4-46 13-11 4-5 4-9 12-4 8 0 5 0 4-2 4-4 4-2 4 0 4-2 9 1 8-2 8 0 4 1 4-1 5-2 4-3 8-1 8-2 4-4 5-1 4 0 4-3 8 0 4 1 4-3 5-6 4-4 4-2 4-1 8-3 4-5 5-2 4 0 4-2 4-11 12-6 9-7 16-7 8-4 9-2 8 0 8-3 4-4 5-2 4 1 4-2 4-2 4 0 4 0 4-1 5-2 4 0 4 2 4 1 4-3 13 0 8-1 4-2 4 1 4M394 2065l-2 8 2 8-6 4-9 4-7 5-15 12-7 4-21 8-13 9-4 4-3 8-2 4-4 4-9 9-8 8-21 12-13 9-5 4-3 4-2 4-12 8-2 4 2 5 0 8 2 4 8 12 4 9 1 4 0 12-3 4-3 5-6 8-4 4-17 12-5 5-10 12-9 8-1 4 0 4-7 9 1 4 3 4 2 17 5 8 1 4 0 4-3 4-3 4-4 13-6 12-11 9-8 8-1 4-1 4-4 13-2 12-3 8M405 2065l4 8-9 4-11 4-14 8-10 9-24 12-11 4-32 9-8 4-4 4-12 16-10 9-6 8-4 4-13 12-4 9-12 8-7 8-2 9-19 16-3 4-2 4-2 9-8 8 4 8-6 9 1 8-2 8 0 8 5 9-5 8 5 8-5 8 8 9-5 8-2 8-6 9-3 8 1 8-4 8-3 9-7 8-6 8-2 17-5 8-2 17-5 8-2 8M416 2065l3 8 1 4-6 4-26 17-22 12-30 13-8 4-5 4-3 8-6 8-7 9-9 8-6 8-17 17-5 8-9 8-4 9-2 8-6 8-3 13 0 12-5 12 0 5 2 4 1 4-3 8-3 13-2 4-10 12-2 4 0 4-1 4-6 9-1 4-1 4-9 8-10 9-9 16-3 4-2 4-1 9-5 8-1 4-1 4-1 9-1 4-4 12 0 8-2 9-4 8-6 8M424 2065l0 4-2 4-7 4-17 12-14 9-16 8-10 4-28 8-12 5-9 4-29 16-10 13-2 4-3 8-2 4-2 4 0 4 1 5 3 4 2 4-2 4-1 4 3 8 0 5-1 4-6 8 0 4-3 4-11 9-3 4-3 4-12 8-4 4-14 17-2 4-1 8-2 4-1 5 3 8 3 4 1 4-3 4-1 4 5 4 1 5-7 8-2 12-1 4-7 9-7 8-2 4-4 4-6 4-4 5-4 8-4 8-3 17 0 8-1 4-4 13 1 8 0 12M444 2065l-2 4-3 4-14 12-27 17-10 8-23 13-5 4-6 8-4 8-2 8-5 9 1 4 2 4-1 4-5 8-9 13 0 4 1 4-1 4-2 4-2 9-6 8-1 8-4 9-2 8-8 8-2 4-1 4-5 9-9 8-4 8-7 9-12 16-8 8-4 9-3 4-4 4-11 8-1 4-1 4-4 9-7 8-4 8-3 4-12 13-2 8-1 8-8 9-3 8-1 8-5 9-3 8-8 8-2 4M450 2065l0 8-1 4-3 4-6 4-20 13-4 4-3 4-2 4-4 4-7 4-5 5-2 8-5 4-2 4 1 4 0 4-5 9 0 4-2 4-5 8-9 21-2 4-6 8-2 4-2 5-9 8-6 8-3 8-6 9-2 8-3 4-11 13-6 8-8 8-3 4-2 4 0 5-2 4-4 4-3 4-3 8-8 17-14 20-10 13-2 8-11 17-10 12-3 4 0 4-2 5-10 8-6 8-8 8-3 5-2 4 0 4-2 4-11 8M417 2065l1 12-4 4-31 17-27 12-36 13-8 4-4 4-2 4-6 12-2 13-4 12-1 8 1 9-2 4-3 4-8 17-4 8-14 16-1 5 0 4-4 4-4 4-5 8-8 9-5 8-6 8-10 21-2 4-2 8-4 8-3 9-1 8 1 8-1 4-2 5 0 4 1 4-2 8-4 8-5 9-9 16-5 9-10 16-15 25-4 8M423 2065l1 4-1 8-4 4-16 8-6 5-12 8-7 4-46 17-8 4-10 8-2 4-1 4-4 4-7 4-3 5 0 4-2 8-4 8-5 9-1 4 1 4-1 4-2 4-9 25-3 4-5 4-1 4-1 5-3 4-6 4-4 4-2 4-2 8-3 5-5 8-6 12-3 9-9 16-1 4 2 13-1 4-5 12-5 8-3 13-2 4-4 4-5 4-3 4-1 5-3 4-3 4-5 12-11 21-1 4-1 4-4 9-2 8-3 4-4 4 0 4M392 2065l-2 8 1 4-2 4-16 8-12 9-18 8-11 4-31 8-12 5-10 4-5 4-15 8 0 4 1 4-4 9-6 8 1 8-5 8-13 17 0 8-3 9-3 8-5 8-5 17-3 8-9 17 0 8-6 8-4 8-2 9-8 8-4 16-7 9 0 8-6 17-5 8 1 16-3 9-6 8-1 8-5 25 0 8-1 5-1 4-7 8 4 8M433 2065l-1 4 1 8-26 17-15 8-50 21-8 4-8 8-6 8-11 8-7 9-6 16-6 9-4 16 0 8-2 9-1 8-3 8 1 9-4 16-6 8-3 9-3 8-2 8-5 9-13 16-3 8-18 17-3 8-9 8-8 13-5 12-8 9-1 8-6 8-4 8-1 9-4 8 2 8-6 9-3 8-5 8-1 4M401 2065l-2 4-5 4-20 8-8 4-21 9-15 8-26 8-17 4-40 9-14 4-21 16-5 8-16 17 0 4-1 4-10 9-10 16-3 8 0 9-2 8-5 8-2 9 1 8-2 8 0 8-3 9-1 16-6 17-1 8-7 17-6 24-4 13-2 8-1 4 4 9-4 8-2 8 0 8 4 9-1 8 1 8-1 9 0 8-3 8 1 4M426 2065l-2 12-4 4-7 4-8 9-25 16-18 8-7 5-13 12-11 8-2 8-7 9-8 8-7 8-4 9-12 8-12 16-4 9-8 8 0 8-10 9-8 16-2 8-3 9 0 8-3 8-4 9 0 8-5 8 3 8-11 17 1 8-4 8-6 9-2 8-7 8-1 9-19 33-3 8-9 8-8 17-2 8-3 4M453 2065l-2 8 1 4-2 4-17 13-16 12-8 12-2 5 1 8-1 4-2 8-16 13-6 8-5 8-3 4-2 4-1 9-4 8 1 8-4 4-5 5-14 8-11 16-5 5-4 4-2 8-10 12-2 5 4 8 1 16-3 5-6 4-6 8-5 4-4 4 0 4-2 4-15 13-4 4 1 8-3 9-4 4-17 12-8 8-8 9-9 8-2 8-6 9-12 20-5 13-3 4-13 12M400 2065l1 4-4 4-21 8-27 13-20 8-26 8-57 13-14 4-16 8-11 8-4 4-1 4 0 5 0 4-2 4-5 8-1 4 1 4 1 5-10 20-1 4 1 5-2 4-6 8-3 8-6 9-2 4-2 4-9 8-3 4-2 4-1 5-3 4-6 4-1 4 3 8 1 13 2 8 0 4-3 12-1 5 4 12-1 4-5 8-2 5-1 4 0 8-3 8-4 9-3 4-2 4 0 4 1 4 4 4 1 4-2 9 0 8 4 21 0 12 1 4M420 2065l0 4-3 4-17 8-6 4-20 9-23 12-10 4-32 8-13 5-8 4-10 8-6 8-2 4 0 4-3 5-4 4-2 4-1 4-10 17-2 8 1 8-4 8-6 9-1 4 0 12-2 9-2 16-3 4-5 4 0 5 1 4-8 16-2 9-6 8-5 8-1 8-4 9-12 16-1 4 0 4-3 9-9 8-8 8 0 4 1 5-1 8-5 8-3 8-4 9-3 16-4 9-3 8 2 8-1 4M447 2065l0 8-6 8-5 4-15 9-10 8-38 25-6 4-4 4-4 8-11 17-3 4-2 4-1 4-1 4-8 13-2 4-2 8-4 8 0 5-2 4-4 4-3 4-1 4 0 4 1 9-1 4-3 8-2 4-3 4-2 4 1 5 0 4-6 12-9 13-4 8-13 16-4 9-15 16-7 13-3 4-15 12-3 4 0 4-2 5-16 16-7 13-1 4 0 4-2 4-9 8-6 4-3 5 2 4-1 4-9 8-3 4M423 2065l1 4-1 4 0 4-2 4-9 8-19 17-6 4-16 8-6 5-5 4-3 4-2 4-4 16-1 13-2 4-6 8-6 13-3 4-5 4-9 12-10 13-10 16-6 9-26 25-6 12-10 12-5 9-7 8-2 4-1 4-4 8-2 9-3 4-5 4-1 4 1 4-1 4-6 13-1 8-1 4-6 13 0 4 1 4-2 8-4 4-6 5-3 4-1 4 1 8-1 4-9 13-4 8-8 8M375 2065l0 12-2 8 0 4-5 5-34 16-44 13-9 4-4 4-2 4-1 8-6 8 1 9-6 16-8 17-2 8-13 8-1 9-3 8-3 4-3 4-9 9-4 8-9 8-10 17-8 8-5 8-8 25 0 8 0 9-4 8 3 8-3 8-1 9 0 8-2 8 2 9 0 4 0 4-7 8 4 8-8 9 1 8-17 37M440 2065l1 8-1 8-3 4-22 17-8 8-17 13-5 8-4 4-13 12-19 21-3 4 0 4-1 4-10 9-10 12-2 4-1 13-2 4-4 4-2 4-1 8-8 21-6 13 0 8-1 4-6 12-1 5-2 4-9 8-6 12-3 4-8 9-6 8-8 8-2 4-3 5-5 4-5 4-4 8-16 25-1 4-1 4-8 9-1 4-1 4-1 4-1 4-9 8-3 5-2 4-3 8-7 8M442 2065l-2 4 2 4-3 4-13 8-15 9-12 8-16 8-9 4-23 9-8 4-6 4-5 4-10 12-8 13-4 4-3 4-3 8-3 4-1 5 2 4-1 4-6 8-3 8 1 9 1 8-2 12 0 5 2 4 1 4-9 21-1 4-1 8-1 4-2 4-9 13-2 4-1 4-3 4-12 8-7 9-5 4-4 4-1 4-2 4-13 8-13 17-4 8-13 17-4 12-2 4-5 5-2 4 2 4 1 4-3 8-1 4-1 5-6 8-5 12M440 2065l-1 4-4 4-30 21-16 8-10 4-32 12-28 9-6 4-5 4-11 8-3 4-6 13-1 4 1 4 1 4 6 13 3 8 0 8-2 8-2 5-6 8-4 4-12 8-3 4-2 5-12 8-15 8-4 4-1 4-9 9-2 4 0 4 0 4 6 21-1 8 3 8 5 9-2 4-4 4-4 8-15 17-4 8-7 4-8 4-3 4-1 5-10 8-3 4-1 12-4 9-2 8 2 8 0 4-2 5-2 8-4 8 0 4M402 2065l1 8-2 12-21 13-18 8-10 4-37 13-8 4-14 12-7 8-4 17-6 8-3 8 2 9-10 16-2 9-4 8 1 8-2 4-6 13-10 16-3 9-2 8-8 8-3 8-9 9-6 8-4 16-7 9-6 8 0 8-4 9-1 8-6 8 1 8-8 17 1 8-3 9-4 8-1 8-6 8-2 9-5 8 0 8M452 2065l1 4 1 8-1 4-6 4-8 9-12 8-4 4-1 4-7 8-3 5-1 4-2 4-4 4-2 4 0 4-3 4-12 13-14 8-5 4-3 4-4 4-10 9-4 4-2 4-5 8-11 17-2 4-1 8 1 4 2 5 2 4-2 12 1 13 0 4-7 8-4 4-6 4-3 4 1 5-3 4-6 4-3 4 1 4 0 4-5 8-15 13-17 12-5 4-8 9-13 12-6 8-6 13-12 16-2 5-1 4-1 8-3 4-4 4-2 4 0 5-1 4-7 8-11 8M438 2065l-2 4 1 4-2 4-13 8-15 9-24 16-10 8-7 5-5 4 0 8 4 8-3 8-1 17-10 8-6 9-4 4-15 12-5 8-15 9-10 8-5 8-3 9-11 8-1 4 0 4 4 17-1 8-3 8 7 9-1 4-2 4 0 8-2 4-2 4-11 9-7 8-4 4-17 12-7 9-11 8-9 8-2 9-14 24-6 25 1 9-5 8-9 8-1 4M413 2065l0 4-3 12-30 17-13 8-10 4-42 13-8 4-2 4-10 8-2 4-3 13-5 8-2 4-6 21-6 8 0 4 1 4 0 9-3 8-4 8-3 17-8 12-6 13-3 4-5 4-1 4 1 4-3 4-5 4-3 5-8 16-3 4-8 8-3 5-6 12-11 17-1 4-6 16-1 4-1 9-4 8 0 4 0 4-1 4-6 13-2 8-5 8-1 5 1 4 0 8-2 4-3 4M459 2065l1 4-1 4-5 8-12 8-3 9-4 4-5 4-12 8-3 9-7 8-4 8-5 8-3 9-3 8-9 8-1 8-5 9-12 16-8 9-4 8-8 8-6 8-8 9-7 8-9 17-2 8-9 8-3 8-11 17-3 8 0 8-16 17-4 8-2 9-6 8-1 8-11 8-7 9 0 4-2 4-18 17-5 8-31 33 1 8M449 2065l1 4-1 4-13 12-12 9-18 16-13 8-16 9-4 8-9 8-4 8-11 9-8 8-5 8-7 9-12 16-8 8-8 17-6 8-4 17-3 8-1 8-6 9-2 4-1 4 1 8-4 9-1 8-5 8-2 8-5 9-3 8-5 8-2 8-2 5-3 4-7 8-2 8-11 9-1 8-10 8-6 8-4 9-12 16-18 17 0 8-3 4M423 2065l1 8 0 8-3 4-20 13-15 12-20 13-3 4-5 8-2 4 1 4-1 4-3 4-1 5 2 12-2 4-3 4-1 4 0 5-1 4-4 8-3 8 0 4-2 5-4 4-3 4-3 8-5 8-21 34-12 12-23 29-23 25-12 16-11 17-11 16-6 13-1 4-1 4-1 4-8 13-6 12-8 13-1 4 1 4-2 4-4 4-2 4M395 2065l-4 8-7 4-10 4-5 4-7 4-60 21-56 13-11 4-9 8-3 4-2 8-4 9-1 12-2 4-10 8-15 17-5 8-6 4-4 5-3 8-4 4-2 4 1 4 4 13-2 8 1 8-5 17 0 4-2 4-7 8-3 5-4 8-5 12-3 4-2 4 0 5 1 4 3 8-1 8 1 9-1 8 2 8-3 17-8 16-1 9-3 8-1 8 1 13 1 4 2 8-1 8M453 2065l0 4-1 4-4 4-9 8-17 13-7 8-8 8-10 13-2 4 2 4 1 4-8 17 0 4-1 4-8 12-4 9-3 4-10 8-15 17-11 8-7 8-5 8-6 5-4 4-2 8-1 8-4 9-1 8-4 8-3 25 1 4-1 4-8 8-4 9-14 16-19 17-9 8-11 8-18 25-7 9-5 8-6 8 0 4-2 4-7 5-4 4 2 4 0 4-4 8M445 2065l0 4 1 8-4 4-13 8-15 13-15 8-13 8-16 9-4 4-3 4-10 8-8 8-4 9-6 4-7 4-3 4-1 4-7 9-4 8-6 8-4 8-7 9-2 4 0 4-5 8-1 4-1 25-2 13-5 16 1 9-1 4-5 16-4 8-7 13-9 8-7 8-2 5 0 4-4 4-4 4-3 4-1 4-8 9-5 8-13 12-16 21-8 8-3 4-2 5-10 16-1 4M415 2065l0 8 1 4-3 4-21 13-18 12-9 4-22 8-7 5-5 4-13 29-10 16-9 8-7 9-6 8-16 17-13 16-5 17-5 16 1 9-2 8 3 16-3 5-4 4-2 8-3 4-10 12-2 9-4 4-5 4-8 8-8 17-11 16-2 9 1 8-2 4-4 4-3 9-2 8 0 8-8 8-3 9 2 8-3 4-4 4M454 2065l2 4-2 4-8 8-5 4-12 9-29 24-12 9-6 8-11 8-3 4-2 4-11 9-2 4-1 4-8 8-2 4-4 13-5 8-1 4 0 4-1 9-1 8-1 4-11 29-4 8-7 9-7 8-2 8-18 17-2 4 0 4-17 17-6 8-6 8-3 8-9 17 0 4 1 4-3 4-11 13-5 12-8 13-4 8-11 8-2 4-1 5-5 8-11 8-2 4M442 2065l-1 8-3 4-6 4-17 8-9 9-48 25-9 4-7 4-9 16-6 9-1 8-12 16 0 9-4 8 0 8-2 9-8 8 3 8-3 8 2 9-3 8 0 8-10 17 1 8-7 8-3 9-3 8-28 33-5 8-2 9-10 8-6 8-17 17-4 8-7 8-1 9-7 8-12 16-7 9-8 16M403 2065l-1 4-3 4-21 8-8 4-12 9-19 8-8 4-9 4-32 8-13 5-9 4-16 12-20 12-2 5-5 4-7 4-5 4-4 8-10 13-2 4-2 4-1 4 1 8-2 5 0 4 4 12 0 4-5 17 2 4-1 4-9 8-11 13-9 12-7 9-2 4-1 4 1 4 0 4-2 4-2 4 3 17 5 12 0 4 0 9 2 4-1 4-5 4-3 4 1 4 0 5-11 16-2 8-3 9 1 4-1 4-3 4-2 4 3 9-2 8 2 12M357 2065l1 8 0 4-2 4 0 4-4 4-8 5-10 4-34 12-16 4-40 9-11 4-5 8-4 4-2 4-1 8-2 5-1 4 1 4-1 4-3 4-3 4-3 9-3 8-1 4-2 4-8 8-8 17-13 17-9 8-6 8-9 21-9 12-1 4-3 13 0 8 1 8 3 9 1 12 0 4-1 8-1 5 4 24 1 5-2 8 1 4-1 4-2 4-1 4 1 9-1 8-6 12-2 13-3 8 0 4M441 2065l0 4-3 4-14 8-45 29-26 13-7 4-4 4-1 4 2 12-4 4-5 5-2 4 1 4 6 8-3 4-5 4-2 5-1 4-7 16 0 9-3 8-6 8-2 8-5 9-3 8-5 8-4 9-2 4-4 4-13 12-12 13-8 8-3 4-5 12-9 9-3 4-1 4-7 8-5 13-2 4-7 8-2 4 0 4-10 17 0 4 0 4-2 4-7 13 0 4 1 4-3 4-4 4-2 5-7 12-2 8M455 2065l-2 4-4 4-12 12-19 13-14 8-10 8-21 13-5 4-3 8-13 17-6 8-3 8 0 8-5 9 1 8-7 8-5 13-5 12-11 17-14 16-3 9-9 8-3 8-1 8-4 9-9 8-3 8-1 8-4 9-4 8-1 8-13 17-6 8-7 8-5 9-18 20-17 21-1 8-9 9-1 8-4 8M390 2065l1 8-3 4-14 8-16 9-14 8-20 8-34 8-15 5-9 4-6 4-5 4-4 8-7 8-1 5-2 4-12 8-9 8-5 9-9 8-1 4-3 4-10 8-6 9-9 8-3 4-3 4 1 9-2 8-4 8 1 17 3 16 1 21 0 4-3 8 1 4 0 5-3 8 0 4-1 4-7 8-2 5-1 4-2 8-5 8-2 9-5 8-4 16-4 9 1 8 0 17-3 8 0 8-2 4M408 2065l0 4 0 4-5 4-17 8-21 9-8 4-7 4-5 4-8 4-25 8-7 5-4 4-2 4-2 4-2 8 0 4-2 4-21 17-4 4-6 4-16 9-11 8-6 4-4 4-4 4-1 4 0 5 3 8 4 8 7 8 2 5 1 12-1 4-2 4-3 4-5 5-13 8-6 4-2 4-4 4-7 4-6 5-3 4-3 4-1 12 0 8 1 5 8 8 2 4 1 4 0 8-3 9 0 4-2 4-5 4-3 4-1 4-2 5-15 12-4 4-4 8-2 9-1 8-2 8 0 4 2 5 4 4 2 4-3 8-1 4M426 2065l-1 4 0 4-21 12-51 25-38 13-8 4-4 4-8 12-3 8-1 9 0 8-2 4-5 4-2 4-3 9-2 4-7 8-2 4 0 4-3 5-4 4-9 16-10 13-2 4-3 8-2 4-10 13-2 4-1 4 1 8-1 4-7 13-1 4 1 4 0 8-3 17-2 4-7 12-7 17-8 12-5 13-3 4-4 4-2 4 0 4-2 5-4 4-2 4-1 4-2 4-3 4-1 4-1 5 0 8-1 4-3 8M428 2065l-1 4 3 8-2 4-5 4-14 9-10 8-25 12-21 9-8 4-3 4-7 12-8 8-5 9-8 8-6 17 0 8-8 16 1 9-2 16 3 17-3 8-5 8-1 9 0 8-4 8-4 9-15 16 0 8-9 9-4 8-10 8-5 8-10 9-7 8-13 8 0 9-5 8-11 8 0 8-5 9-6 8-9 8 0 9-10 8 0 8-4 4M444 2065l1 4-2 4-24 21-13 8-17 16-10 9-5 8-7 16-5 9-7 16-13 13-15 20-16 17-2 4-1 4-3 4-4 5-6 8-9 8-3 4-2 4-12 17-6 12-8 13-1 4 0 4-2 4-4 4-1 4-1 5-4 8-11 16-1 5 0 4-1 4-7 12-10 25-7 8-5 9-3 8-1 8-4 4-5 5-1 4 0 4-3 4-9 8M404 2065l0 8 1 4-4 4-21 13-9 4-11 4-9 4-5 4-10 4-26 9-7 4-4 4-2 4-2 4 0 4-2 4-5 4-3 5-1 4-2 4-13 12-17 13-7 8-5 8-10 13-2 4-3 8-7 8-5 13 0 4 3 4 1 4-2 4-2 5 2 8 0 8 2 8-3 9-3 8 0 4-1 4-11 21-4 4-9 8-7 9-6 16-10 17-2 8 0 8-4 13-1 4 1 8 0 8-2 9-4 8-1 8M424 2065l-2 4-3 4-23 12-29 21-7 4-36 13-10 4-4 8-5 8-11 8-7 17-2 8-12 9-8 8-3 8-6 8-10 9-7 8-10 17-6 8-4 8-6 8-10 17-2 8-9 17-1 8-7 8 1 9-3 8-1 4-1 4 1 8-4 9-1 16 0 9-4 16-4 17 0 8-3 8-5 9-6 16 1 4M392 2065l3 12-4 4-15 8-6 5-4 4-5 4-19 8-30 8-13 5-10 4-26 12-6 4-6 8-14 13-4 4-7 12-2 5-2 12 1 4 7 13 0 4-3 12-1 4-3 4-4 5-11 8-9 8-8 8-8 9-4 4-2 4 0 4 1 13 0 4 2 4 4 4 2 4 1 8 1 4 0 5-5 8-1 4-2 4-7 8-4 9-4 4-2 4-3 8-9 13-1 4 1 8 0 8 1 9-2 12 1 4 2 4 1 5-1 4-5 12 0 4M456 2065l-1 4-6 8-12 8-8 9-53 41-3 8-9 8-6 9-8 8-4 17-9 8-7 8-3 8-3 9-6 8-4 8-3 9-1 8-4 8 1 8-6 9-2 4 0 4-1 8-11 9-1 4 0 12-2 4-9 13-10 8-1 8-3 4-3 4-11 9 0 4 0 4-6 8-10 9-3 8-7 8-4 8-16 17-13 17 0 8-12 12M400 2065l1 4-5 4-22 8-31 17-13 8-11 4-49 13-8 4-3 4-8 8-3 17-6 8-3 8-9 8-7 9-8 8-7 8-26 25-10 17-7 8-4 8 1 17 1 8 1 8-1 9 0 8 7 8-1 8 4 9-7 8 2 8-3 9-8 16-8 8 0 9-3 8-4 8-4 9-3 16-7 8 4 9-2 8 1 8M382 2065l3 8 0 12-5 4-49 21-43 13-9 4-5 4-6 8-2 8-3 9-2 8-2 4-13 17-13 12-7 8-4 9-6 8-4 8 2 17-1 8-4 8 1 4 1 5-2 4-4 4-1 4 0 4-2 4-4 4-10 17-7 8-5 8-1 5-3 29 1 8-5 25-11 16-2 9-4 8-1 4-2 21-5 8-1 4 0 4M420 2065l0 8 1 4 0 4-3 4-5 4-3 5-5 4-9 4-7 4-5 4-7 4-16 9-7 4-4 4-2 4-4 12-2 4-5 9-11 12-4 8-10 13-13 12-3 4-3 5-1 8-6 8-4 4-2 4 1 5-1 4-9 8-2 4-2 4-4 13-2 4-3 4-2 4 0 8-4 17-12 16-4 9-4 8-5 21-2 4-4 4-3 4 0 4-2 4-5 5-3 4-3 12-2 4-15 17-4 4-2 4-3 8-5 9-5 12-3 4M365 2065l0 4 2 8 0 8-7 4-10 5-38 12-14 4-53 13-10 4-3 4-2 4 5 8 0 8-9 17-9 8-12 9-9 8-15 8-7 8-2 5-1 4-2 4 0 4 3 8 6 9 2 8 2 8 0 4-1 4 0 9-19 16-16 17-6 8-1 4-1 4 0 9 2 8 8 8 6 17 1 8-6 8-2 9-14 16-3 4-3 4-1 5 0 8 1 4 3 8-1 9 7 8 3 8-1 4M442 2065l0 8 2 12-2 4-13 9-16 12-21 13-6 4-9 8-16 12-4 4-5 9-11 12-2 4-3 9 0 12-3 8 0 4 0 5-3 12 0 4 3 8 0 5-4 8-8 12-3 9-4 4-13 12-11 8-3 5-2 4-4 4-10 8-12 12-3 5-2 4-6 8-2 4-1 4-2 4-4 5-1 4-1 8-2 8-1 4-7 13-2 4-2 8-3 9-7 8-5 8-4 4-7 4-3 5-3 4-7 8-3 4-2 4M421 2065l-2 8-3 4-15 8-12 9-14 8-18 8-40 13-10 4-16 12-20 17-4 4-5 8-9 8-11 9-4 8-12 16-2 9-4 8 1 8 3 9-2 8 0 8-2 8 1 9-2 8 1 12 1 5-2 8 1 8-8 8-1 9-5 8-2 8-6 8-7 9-5 8-6 8-3 9-6 8-8 8 1 8-2 9-9 8 1 8-4 9-5 8 0 8 0 4M432 2065l0 4 1 4-3 4-13 8-11 9-13 8-11 8-27 13-8 4-4 8-9 8-2 8-5 9-4 8-12 17-4 8-8 8-5 8-10 9 0 8-6 8-10 9-3 8-5 8-8 8 0 9-3 8-7 8-5 9 2 8-9 8 1 8-6 9 1 8-6 8 0 8-6 9-8 8 0 17-9 8 1 8-7 8-1 9-3 8-5 8-8 9-1 8-8 8-2 4M421 2065l1 4-4 8-4 4-6 4-14 9-26 12-19 8-23 9-8 4-2 4 0 4-7 8-1 4-3 13 2 8-3 17 0 8-3 8 0 8-3 9-6 8-1 8-5 9 0 8-6 8-3 8-11 9-10 16-10 9-4 8-5 8-17 17-3 8-8 8-10 8-2 9-1 16-6 9-2 4-2 4-1 8-6 8 1 9-4 8 3 8-7 9-2 8 0 8-2 4M448 2065l1 8 0 4-2 4-20 13-20 16-21 13-5 4-4 8-4 4-4 4 0 4-2 4-4 5-3 4-2 12 0 4 1 4 1 5-8 16 1 13-1 4-3 8-5 17-8 16-17 21-14 12-1 4-3 5-12 8-7 8-8 8-6 9-5 4-4 4-1 4-2 4-5 4-4 4-3 9-11 16-2 9-9 16-4 13-2 4-7 8 0 4-2 4-7 9-8 12-8 8M392 2065l1 4 1 4-7 4-12 4-38 17-23 8-14 4-18 4-43 9-14 4-12 8-12 12-2 4-1 5-1 4-4 8-2 8-5 13-1 4 3 4 0 4-2 4-1 4 2 5-1 4-7 12-2 4 0 4-2 5-8 8-9 16-2 5-8 8-3 4 0 4-2 4-5 4-2 5 2 8-1 8-2 8 1 9 1 4 0 4-2 4 1 4 4 4 3 4-1 9 1 8-1 8 0 4-1 5-3 4-1 4 1 4 0 4-2 8-1 5-2 4-5 4-2 4 1 4 0 4-1 9 0 8-2 4 0 4 2 4M415 2065l-1 8-14 8-61 29-13 4-32 9-11 4-6 4-17 16-1 9-9 8-5 8 1 4-1 4-9 9-3 4-2 4 4 4 2 4-7 9 1 8-5 16 0 9-5 8-2 8-4 9 0 12-1 4-6 8-4 9-3 8-4 8-3 8-7 9-1 8-6 8-9 17-5 8 1 8-4 9-2 8-5 17-1 8-5 8-2 4-1 4-1 9-3 8-1 8M440 2065l1 4-2 4-1 4-3 4-11 8-28 17-11 8-9 4-12 5-7 4-15 20-4 4-6 5-3 4 1 4 0 4-2 4-3 4-5 4-2 5-1 8 0 4-1 4-7 13 0 4 2 4-1 4-5 4-3 4 1 4-1 5-8 8-5 4-3 4 0 4-2 4-9 9-4 4-16 25-2 4-2 8-3 8-1 4-1 5-3 4-2 4 1 4-1 4-11 17-7 16-8 13-11 16-9 9-3 4 0 4-1 4-4 4-3 4-2 4-2 5-8 8-7 12M461 2065l0 4-1 4-2 4-3 4-18 13-8 8-10 8-5 13 0 8-3 4-15 8-4 8-14 9-6 4-5 4-7 8-8 17-6 8-4 17 5 8 0 8-3 9 2 4-3 4-7 8-10 8-5 9 1 8-1 8-2 4-12 13-44 33-1 8-8 8-9 17-3 8-7 25-3 4-4 4-4 9-13 8-3 4-3 4-2 9-5 8-11 12M438 2065l0 4-4 4-27 16-15 9-5 4-4 4-7 4-11 4-9 4-9 9-9 12-4 8 0 4 1 5-2 4-3 4-2 4 0 12-1 5-9 16-5 17-5 8-18 25-9 16-19 25-4 4-10 9-3 4-4 12-2 4-3 4-8 9-3 4-4 12-11 17-2 4 0 4-2 4-3 4-2 5 1 4-1 8-2 4-8 13-1 4 0 12-2 4-5 4-4 5-2 4-2 8-2 4-3 4M412 2065l3 8-8 12-6 4-20 17-7 4-18 8-15 9-20 20-6 9-23 16-4 4-11 13-4 8-16 17-3 4-2 4 1 8-4 8 1 9-4 8 3 8-1 9 7 8-5 8 1 8-6 9-2 8-5 8-21 25-5 8-8 9-10 8-3 8-10 8-1 9-8 16 1 9-2 8 1 8-1 8-2 9-12 16M445 2065l-1 4-3 4-6 4-44 25-13 8-26 8-10 5-7 4-10 8-10 16 1 17-3 8 2 9 0 12 0 4-4 8-2 9-3 8-8 8-4 9-9 8-10 8-5 8-9 9-6 8-10 8-6 9-2 8-7 8 4 8 0 9-5 8-2 8-4 8 2 9-1 8-1 8-2 4-2 5-9 8-7 8-15 25-8 8-9 9-5 8-5 8-1 4M450 2065l1 4-2 4-9 8-44 29-35 17-7 4-15 16-11 9-4 4-7 8-12 21 0 8-3 8 3 9-6 8 1 4 2 4 0 8 1 9-1 4-2 8-5 13-1 8-4 8-2 8-6 9-3 8-10 8-5 8-28 25-7 9-8 8-12 16-4 9-6 8-8 8 0 4 0 5-7 8-1 8-8 21-2 4-5 8M419 2065l-2 8-3 4-13 8-16 13-17 8-7 4-10 4-27 9-10 4-6 4-19 16-7 9-6 8-10 8-7 17-6 8-12 21-1 4 3 4 1 4-3 4-1 4 3 5 1 4-6 8-4 17-6 8-4 16-8 13-3 4-6 4-4 4-1 8-3 9-18 33-2 8 1 8 0 5-2 4-4 4-3 4 2 4 1 4-5 17-4 8 1 4-1 4-6 9-8 16M396 2065l0 4 1 4-2 4-21 8-28 13-22 8-13 4-42 8-17 5-12 4-14 8-4 4-2 4-7 8-10 9 1 4 2 4-5 8-1 9-5 8 2 8-2 8 0 5 2 12-2 17 0 8-4 8-1 8-4 9-2 8-5 8-6 9-2 8-8 8 0 4 0 4-11 9-3 4-3 4-3 8-4 8-1 9-2 8 1 8-7 25 6 8 1 9-2 8 3 8-4 9 6 8-3 4-3 4-1 4M398 2065l2 4 1 4-8 4-11 4-43 21-10 4-14 4-53 13-10 4-19 12-7 8-12 13-4 4-6 12-9 13-2 4-2 4-1 8-4 9-1 8-4 8-5 17-2 16-4 13-1 12-3 8 0 9-2 16-1 4-3 4-3 5-3 4 1 4 0 4-6 17-2 12-1 4-5 8-4 17-1 17-3 4-1 4 1 8 0 4-1 4-2 5-1 4 2 4 0 4-1 8M400 2065l0 4 2 4 0 4-1 8-5 4-31 17-11 4-33 8-14 5-9 4-5 4-3 4-2 8-1 13 1 8 3 8 0 4-6 9-2 4-2 4-16 16-8 13-4 4-11 8-13 13-3 4-4 12-1 9 0 4 1 4 2 4 3 4 2 4 0 4 0 5-3 8-1 4-1 4-4 4-2 4-1 4-2 5-6 4-4 4-2 4-3 4-5 4-4 4-5 9-4 4-2 4-2 4 0 8-1 5-2 4-2 4 0 8 1 4 0 4-3 5 0 4 1 4 1 4-1 4-6 13-1 4-3 4-8 8-2 4M458 2065l1 4-1 4-2 4-4 4-5 4-13 9-6 4-4 4-6 8-12 8-5 5-10 12-18 16-3 9-12 8-4 4-1 4-2 9-5 8-3 8 0 8-8 17-1 17-1 4-1 4-7 8 0 4 2 4-3 5-5 4-2 4-5 12-3 4-4 5-10 8-2 4-1 4-4 4-17 13-19 24-15 17-2 4 0 4-4 9-6 8-2 8-4 8-8 9-5 12-12 21-10 8-2 4M425 2065l-7 8 1 4-10 8-35 25-8 4-19 9-8 4-5 4-9 8-3 8-5 9-12 8-6 8-13 8-3 9-11 8-4 8-8 9-5 8 1 8-8 8 0 9-5 8 1 8 4 9-2 8-3 8 0 8 3 9-7 8-3 8-2 8-9 9-7 16-6 9-20 16-4 8 3 9-10 8-11 17 1 16-8 8 1 9-2 16M372 2065l0 4 2 8 0 4-28 13-17 8-12 4-15 4-58 13-17 4-7 4-4 4-12 8-7 8-2 9-9 8-2 4-1 4-4 9 0 12-2 12-2 9 1 8-4 8-1 4-1 5 5 8-1 4-2 4-1 8-3 9-4 8-1 8-5 9 1 8-3 4-4 4-1 4 0 4-2 4-9 13 0 4 0 4-1 8-4 9-3 8-5 8-1 17-2 8 3 8-1 17-1 8 2 9 0 8 2 8 0 4M408 2065l0 20-16 9-18 8-20 8-23 8-10 5-7 4-9 12 0 4 4 21 0 8-2 8-13 17-3 4-14 13-20 16-4 4-7 9-2 4-8 8-3 4-1 4 2 4 3 5 2 4 0 4 3 16-3 13 0 12-3 4-6 4-3 5-1 4-4 4-11 8-4 4-10 9-3 4-8 16-8 21-3 17-1 8 1 8 0 4-1 4-5 9-1 4 0 4-2 4-3 4M418 2065l-2 4 3 8 3 4 1 4-17 9-9 8-11 8-18 8-5 5-5 8-5 12-6 8-7 9 0 8-11 17-1 8-15 8-8 17-8 8-6 8-8 9-4 8-11 16-3 9-9 8-7 8 0 9-9 8-2 8-10 8-2 9-5 8 0 8-8 8 0 9-1 8 2 8-11 9 0 8-2 8-6 8-5 17-7 8 1 9-8 8-2 8-3 4M424 2065l-1 4 1 12-1 4-15 9-16 8-11 8-18 8-7 5-4 4-1 4 2 16-1 21-3 4-12 13-5 8-4 4-5 4-22 17-4 4-2 4-8 8-6 9-1 4-1 4-3 8 0 4 3 4 1 5-1 4 2 4 3 4 0 4-1 4-6 9-1 4-1 4-2 4-8 12-5 4-6 5-5 4-11 12-9 8-12 17-3 4-5 13-1 4-2 12-2 4-3 4-3 13-8 16-13 21-4 4M401 2065l-1 4 3 8-1 4-6 4-15 9-21 12-9 4-36 13-8 4-8 8-6 8-7 8-2 9-3 4-12 12-2 9-11 8-3 4-7 12-6 9-2 4-5 12-5 9-2 8-12 16-1 9-6 8-1 4 1 4-5 9-4 8 0 8-5 12-2 13-4 8-3 8-1 9-3 8-4 8 1 9 0 8-4 8-2 8-5 9 1 8-10 17 0 8-6 8-2 4M438 2065l-1 4-4 4-8 4-10 8-19 9-15 8-9 4-33 12-10 5-6 4-9 8-4 8-1 8-6 17 7 8-6 17 0 16-5 17-7 8-3 9-6 8-17 16-14 17-12 8-5 9-6 8-3 8-13 17-1 8 2 8-9 8 5 9-5 8 2 8-4 9 0 12-2 12-11 9-1 8-3 8-7 9-10 16-6 4M425 2065l0 4 2 4 0 4-2 4-1 4-2 4-36 29-12 13-2 4 0 4 0 4-1 4-3 4-7 9-5 8-14 17-18 16-7 8-7 13-1 4 0 4-1 4-6 9-4 8-1 4 1 4 2 4 1 4-3 5-2 4 0 4-2 4-4 4-2 4 1 4-2 5-5 4-4 4-4 8-3 4-5 4-7 4-5 5-4 8-9 12-11 13-3 4-2 4-2 12-2 5-4 4-2 4 1 4-1 4-4 4-3 4-1 5-2 4-4 4-3 4-4 12-2 5-9 8-4 4-5 8M412 2065l0 4-2 4-15 8-32 17-11 8-10 4-39 13-7 4-3 4-3 8-6 8 1 17-5 8-1 8-7 9-3 8-7 8-5 9-12 8-2 8-4 4-4 4-10 9-7 8-9 8-3 9-1 8-7 8-7 17-6 8 1 8 2 8-4 17 0 8-3 9 1 8 5 8-8 17 0 16-4 9-5 8-9 8 2 8-6 9-9 16M450 2065l0 8 2 4-3 4-6 4-16 9-6 4-7 8-6 4-22 13-6 4-4 4-3 4-1 4 1 8-2 4-1 5 3 24-3 9-3 4-3 4-11 8-7 9-9 8-3 4-4 4-13 8-13 17-3 8 1 17-2 8 0 13-2 4-4 8 0 4 0 4-2 4-3 4-10 9-13 12-5 4-7 4-6 5-4 8-8 8-18 25-6 12-3 13-4 8-6 8 0 5-3 4-10 8-7 8M437 2065l0 4 3 8-1 8-4 4-5 5-16 16-15 21-2 4-3 12-2 4-7 9-14 20-3 5-6 4-4 4-3 8-2 4-3 4-10 9-9 16-4 4-2 5-1 8-2 8-1 8-6 13-2 4-4 4-2 4 1 9-2 4-2 4-9 8-7 8-19 17-12 16-7 9-9 12-2 4-1 9-2 4-2 4-8 8-5 13-2 4-10 8-11 17-5 4-4 4-1 4-2 4-5 4M392 2065l0 4-1 8 3 8-7 4-8 5-11 8-7 4-8 4-24 8-9 5-19 12-4 8-7 8-5 9-17 16-4 9-12 8-8 8-5 8-9 9-15 20-3 5 0 8-6 8 2 8-2 13 1 12-1 9 4 8-5 8 1 8-1 9-3 8-1 8-4 8-2 9-18 25-2 8-8 8-1 8-8 9-1 8-3 8-7 9-1 8-3 8 1 4M415 2065l0 4-5 4-17 8-9 8-15 9-10 8-8 4-11 4-26 9-11 4-19 12-11 8-30 17-7 8-3 4-1 4-7 9 0 4 5 12 6 9-1 8 5 8 1 4-1 4-6 9-5 8-16 8-10 9-13 8-9 8 1 4 2 4-5 9 0 4 1 4 13 16-1 9 2 8-3 8-4 9-2 8-12 8-5 4-4 4-7 9-5 20-1 9 0 4 4 8-3 8 1 9 3 8-6 8M458 2065l-1 4-5 4-6 4-7 8-14 9-6 4-14 12-14 8-5 5-8 12-11 8-1 4 1 4-19 17-4 8-7 9-2 4-4 12-6 8-8 9 0 4 0 4-9 17 0 8-11 25 0 8-8 17-2 8-5 8-4 8-9 9-11 16-9 8-1 5-1 4-3 4-4 4-11 8-3 4-1 5-7 8-3 8-9 8-2 5-1 4-2 4-4 4-9 8-2 4 0 5-4 8-6 8-5 4M411 2065l3 4-5 4-34 12-35 17-10 4-13 4-17 4-53 13-6 4-2 4-5 8-1 4 1 4-1 5-1 4-1 4-1 12-3 9-4 4-6 4-13 16-10 9-8 8-1 4 0 4-1 4-4 13 1 4 2 4 1 4-1 4-3 9 0 4 1 4-1 4-2 4-10 13-12 20-1 4 0 5-3 8 0 4 2 4 0 4-1 4 3 13 1 12-1 4-2 5-4 8-1 4 0 4-3 4-4 4-2 5 0 4-3 8 1 4 1 4-1 4-2 5-1 4 1 16M429 2065l0 4-5 4-7 4-11 8-23 9-41 16-43 13-9 4-7 4-5 4-1 4-1 4 5 8 2 13 0 4-4 12-4 9-6 8-4 4-14 8-7 9-22 16-3 4-3 5 1 8-2 4-1 4 4 8 2 9 5 8-1 17-3 8-8 12-4 4-13 9-6 8-8 8-3 4-1 4 2 9-7 12-1 4 4 9 1 4 0 4-2 8 0 8-4 9-5 8-7 17-7 8-2 8-5 4M450 2065l-1 4-4 4-18 12-4 4-5 5-25 16-24 13-6 4-6 12-4 8-1 4 0 13-2 4-5 4-2 4 2 4 1 5-3 12-1 4-3 4-2 4 0 9-11 25-4 8-5 16-11 17-1 4-3 4-8 9-3 4-7 12-23 21-11 12-5 4-4 4-4 9-6 8-12 12-6 9-7 12-9 13-2 4 0 4 0 4-1 4-3 4-5 4-4 5-2 8-9 12M406 2065l-4 8-1 8 0 4-1 4-18 9-21 8-8 4-12 4-33 9-14 4-10 4-5 4-8 8-6 8-2 5 1 4 3 4 4 16 4 9 0 4-2 4 2 8-3 4-3 5-7 8-24 16-14 9-5 4-4 4-3 4-1 4-6 9 1 4 1 4-1 8 7 8 0 9 6 8 2 8-2 4-2 4-3 9-24 25-11 8-9 12-5 9-2 4 0 4 1 4 4 8-3 9 2 8 0 4-4 17-3 8-2 4-5 8M440 2065l-1 8-1 4-7 8-4 4-14 9-18 12-6 4-34 17-16 16-4 9-2 8-6 8-1 4-3 13 1 16-3 9-11 16-9 8-12 17-7 8-5 9-6 8-3 4-2 4 0 8-6 9 1 8-5 8-3 8-1 9-6 8-3 8-6 9-9 8-6 16-18 17-6 8-10 17-2 16-9 9-4 8 4 8M428 2065l1 4-5 4-23 12-9 9-20 12-7 4-26 8-7 5-17 16-12 12-10 9-7 8-12 8-8 9-10 8-23 25 2 8-4 8-2 9-1 16 0 8 3 17 0 8 2 9-2 8-7 8-2 8-2 9-7 8-4 8-11 8-2 9-5 8-9 8-7 9-1 8-9 8-4 17 1 8-8 8 1 17-1 8-3 4M424 2065l0 4 3 8-4 4-27 17-19 12-30 13-6 4-3 8-5 8 1 4-1 4-9 9-3 12-2 4-7 9-1 8-4 8-6 8-7 9-3 8-1 8-6 9-9 16-13 13-3 4-1 8-2 4-2 4-4 4-3 5 1 4 0 4-7 8-9 8-7 17-6 8-4 4-2 4 2 5 0 4-8 8-3 8 1 4-1 5-7 8-5 16-8 13-2 4 1 8-3 9-15 20M428 2065l0 4-4 4-17 8-14 8-12 9-16 8-9 4-14 4-30 9-9 4-11 8-13 12-19 25-11 13-3 4 0 8-6 17-2 8-3 8-2 8-2 9 0 8-2 8 0 9 0 12-1 4-6 8-3 9-8 16-2 8-6 9-4 8-7 8-3 9-5 8-10 12-2 4 1 5-1 4-4 4-3 4 1 8-10 17-2 4-1 4 0 4 1 13-5 16M448 2065l-1 4-5 4-13 8-5 4-6 4-21 13-12 8-16 8-7 5-3 4-8 12-3 8 0 4 0 5 2 4-1 4-2 4-2 4-1 4-7 13-1 4-4 4-6 4-5 4-3 4-14 17-8 8-4 4-2 5-4 4-5 4-3 4-4 12-2 5-7 12-1 4 1 13-3 20-10 21-6 16-4 5-10 8-8 8-3 4-12 13-2 4-6 12-11 13-2 4 0 4-2 4-4 4-1 4 1 5-1 4-12 12-1 4M442 2065l1 4-3 8 2 4-2 4-17 9-15 8-9 8-20 8-6 5-15 12-14 16-3 9-5 8-1 8-6 9-4 8 0 8-5 8 2 9 0 8-4 8 1 9-6 8 3 8-7 17-6 8-3 8-8 9-1 8-10 12-4 4-12 9-16 16-6 8-8 9-10 8-4 8-8 9-2 8-6 8-4 8-6 9-3 8-2 8-8 17-7 12M401 2065l1 8-1 4-18 8-22 13-17 8-10 4-43 13-7 4-2 4-9 12-3 4-1 4 0 5-3 8 0 12-1 9-1 8-5 12 0 9-3 4-4 4-3 4-9 21-14 16-4 9-7 8-7 12-17 21-2 4-1 4-13 25-3 8-5 9 0 4 2 4 0 4-1 4-3 8-2 17-1 8 1 9 0 8-2 8 0 8-2 5-4 4 0 4 1 4-1 4-2 4M398 2065l0 4-5 8-5 12-4 5-22 16-19 8-8 5-4 4-1 8-3 8-2 8-1 9-11 8-9 8-15 9-7 8-9 8-13 8-18 17-3 8-1 17 3 8 3 8 7 9 0 8 0 8 0 9-10 8-1 8-10 8-8 9-12 8-4 8-8 8-9 9-7 8 3 8-4 9 2 16-2 8 3 9-6 8-2 12-5 13-9 8-2 4M453 2065l0 4-2 4-7 8 0 4-1 4-17 17-12 8-9 9-11 8-8 8-16 8-8 9-8 8-4 8 0 8-4 9 4 8-1 8 5 9-1 8-7 8-5 8-7 9-13 8-4 8-21 17-8 8 1 8-6 9 1 8-6 16 2 9 3 8-12 8-16 17-6 8-13 8-18 17-8 8-4 9-3 8-6 8 0 8-6 9-3 8-5 8M404 2065l-3 8 3 4-1 4-17 8-44 17-8 4-12 4-31 9-11 4-6 4 1 4 3 12-5 9-8 8-2 8-6 8-13 9-10 8-9 8-7 9 2 8-5 8 4 8 2 9-3 8 2 8-6 9-1 8-3 4-3 4-10 8-5 9-10 16-2 8-4 9 6 8-1 8 1 9-5 8 3 8-7 8-3 9-7 8-6 17-7 8 0 8 1 8-1 9-4 8 1 8M433 2065l1 4-2 4-11 8-27 17-11 8-3 4-6 4-22 9-6 4-17 20-8 9-5 8-8 8-12 17-11 8-4 4-28 29 0 8-10 9-2 8-4 8 1 9-6 8 2 8-2 8 1 9-3 8-3 16 0 9-3 8-6 8-2 9 0 8-14 25-6 8-3 8-9 9-5 8-4 8-5 8-2 9-8 8-7 8M417 2065l3 4-1 4-1 4 1 4-2 4-24 17-10 8-24 13-5 4-9 12-25 25-16 21-12 8-3 4-2 8 0 13 0 8-1 8 0 9-4 8-1 8-2 4-8 13-10 8-6 8-8 9-3 4-1 4-10 16-3 9-3 8-1 8-4 25-4 4-5 4-14 25-8 8-4 9-8 8-2 4-1 4-7 9-2 4 0 4-5 8 0 4M411 2065l-6 8 0 4 2 4-3 4-6 4-15 9-11 8-8 4-12 4-9 4-12 9-5 4-2 4-1 4-5 8-1 9-2 4-2 4-6 8-2 4-1 4 0 9-3 8-9 8-2 4 0 5-3 4-3 4-10 8-2 4 0 4-3 5-18 20-1 4 0 5-3 4-5 4-7 8-5 8-3 9-8 8-3 4-1 4-13 17 0 4 1 4-1 4-9 13-3 8-4 8-1 8-4 17-6 8-1 4-2 13 1 8-2 4-3 4-2 5 0 12-2 4-4 4M398 2065l-2 8-3 8-16 8-10 9-28 12-14 4-31 13-6 4-19 16-2 9-6 8-10 8-4 8-15 17-3 8-7 9-4 8-5 8-4 8-5 9-3 8-3 17-5 8-1 8 2 8-2 9 0 8-5 8-1 4-1 4-1 9-2 8-6 17-3 8-3 16-4 9-3 8-6 17-1 8-1 12 0 4-10 9 0 8-4 8M414 2065l-1 4-7 4-68 29-22 8-51 13-10 4-14 12-4 4-2 4-3 4-5 5-4 4-2 4-1 4 1 4-1 4-3 9-3 12-3 8-2 13-5 12 0 8-4 9 0 4 1 4-1 4-6 13 0 4 1 4-1 4-10 21 0 4 0 4-2 4-2 4-2 4 0 4-1 5-8 12-1 4 0 4-2 4-5 5-1 4 1 4-1 4-10 17-3 4-1 4-3 21-2 4-3 4-1 4 2 12-1 5-3 4-1 4 1 4-1 4-2 4M417 2065l-1 4-5 4-17 8-20 13-30 16-36 13-6 4-4 8-5 12-13 21-4 4-15 13-18 12-13 12-3 5-2 4-6 8-1 4 0 4-3 9 0 4 2 4 4 8 0 4-3 4 0 5 7 12-1 4-3 4-1 4 1 5-1 4-13 16-3 4-11 9-4 4 0 4-3 4-4 4-10 13-4 4-2 4 2 4 0 4 0 4 0 9-1 4-2 4 0 4 2 4 1 4 0 4-5 13 0 4 0 4 1 4-1 4-12 21 0 4M455 2065l-1 4-11 16-15 9-7 8-10 8-2 8-3 5-5 12-6 8 0 17-1 4-8 12-8 9-5 8-9 8 0 8-1 5-9 12-13 17-14 12-8 8-3 4-2 9-8 8-12 17-4 8-2 8-5 17-7 8-3 8-6 17-6 8-8 8-12 17-12 8 1 8-5 9-10 8-8 8-6 9-14 8 0 8-4 4M399 2065l0 4 3 8-5 4-28 13-33 12-14 4-57 13-13 4-6 4-4 4-3 4-2 4 1 17 0 8 2 8 4 9-3 8-1 8-2 4-2 4-20 17-3 8-14 9-21 16-3 8-1 9-5 12 0 4 7 9-1 8 10 8 2 8-2 9-4 8 1 8-6 8-4 9-13 8-2 8-6 9-8 8 1 8-5 8 3 9-3 8 1 8 4 9-2 8 2 8 0 4M407 2065l-2 4-14 8-31 12-13 9-20 8-10 4-51 13-10 4-16 16-14 17-2 4 2 4-1 4-4 4-3 4 1 5 0 4-23 33-3 12-5 13-7 8-5 4-3 4 0 13-2 4-6 8-5 8-4 9-2 8-4 8-1 13-2 4-4 8 0 4 0 4 3 13-1 4-4 4-2 4 3 8 1 5-1 4-1 8 1 4 0 4-2 4-2 5 2 4 0 4-2 4-2 4 1 8-2 25M427 2065l0 4-3 4-7 4-34 17-23 8-16 8-30 8-11 5-7 4-5 16 0 8-6 9-3 8-4 4-13 13-12 8-5 8-15 17 0 4 0 4 3 17-1 16 1 8-9 9-6 8-12 12-11 13-1 4-1 8 0 13-2 8 3 8-1 4-4 13-5 8-2 8-12 9-2 4-3 16-1 13-7 8 2 8-5 9-2 12-1 4-2 4M398 2065l-1 4-6 4-18 8-21 8-13 9-10 4-25 8-36 8-29 9-8 4-4 4-2 4-12 17-2 8-7 8-3 17-2 4-2 4-10 8 1 4 2 5-5 8-8 8 0 8-7 9-8 16-2 9-11 16-2 8 1 9-4 8-2 8-2 17-4 8-7 8 2 13 1 4-2 8 2 17-1 8-3 8 2 9 2 8-3 8 2 8-3 17 1 8M427 2065l1 4 1 4-2 8-2 4-14 9-5 4-9 8-6 4-22 13-6 4-19 29-11 12-9 8-3 4-1 5-3 4-17 16-9 13-7 8-2 4-5 13-8 12-10 25-4 12-3 13-5 12-1 4 1 4-1 4-4 5-2 4 0 8-3 12-3 5-4 4-3 4-4 12-3 4-4 5-6 8-2 4-1 4-2 4-25 29-4 9-3 8-2 4-6 8M376 2065l2 8 0 8-5 4-8 4-17 9-34 12-54 13-12 4-33 20-9 9-6 16-4 4-2 4 1 9-3 8 1 8 2 4 0 5-9 8 1 4 1 4-15 21-7 12-7 9-3 8-8 12-2 4 2 9 3 8 3 12 0 4-1 9 0 8-2 8-1 9-2 4-1 4-7 8-1 8-3 9-5 8 4 33-2 8 2 5 0 4-5 8 3 8M398 2065l1 4-2 12-4 4-17 9-6 4-7 4-10 4-11 4-44 13-11 4-8 4-5 4-6 8-5 4-3 4-2 13-2 4-3 4-1 4 1 4 0 5-4 8-4 12-6 13-1 4-3 4-5 4-4 4-5 9-11 12-3 4-2 8 1 5 1 4 3 4-1 4-3 4-2 4 1 4 0 5-7 20-5 8-9 13-9 16-6 17-3 4-1 4 2 4-1 5-3 4 0 4 3 4 1 4-1 4-2 4-3 5 0 4 2 4-1 4-6 4-3 4 0 9-1 4-3 4-3 4-3 4 0 4M384 2065l1 4-4 8 1 4-22 13-28 12-11 4-51 13-10 4-4 4-8 12-9 17-7 8-11 17-13 16-10 8-3 5-2 4-2 8-3 8-1 9 0 8 2 8-10 17 5 8-1 4-1 4-6 9-3 8-5 8-5 8-4 9-3 12-5 21 1 8-1 8 1 25-4 17-4 8-2 8-3 9 0 8-5 8 0 4M447 2065l-3 8 5 8-2 4-17 13-13 16-3 9-10 8-5 8-5 8-10 9-21 24-9 9-8 16-3 9-8 8-2 8-9 17-1 8-5 17-1 8-5 8 0 8-6 9-7 8-2 8-8 8-5 9-7 8-11 8-12 13-3 4-2 8-10 8-5 9-16 16-4 4-3 5-3 8-5 8-6 8-8 9-6 8-1 8M438 2065l1 4-4 8-1 4-11 8-7 5-19 8-13 8-39 13-9 4-2 8-6 4-4 4 0 4 5 13 5 8 2 8 1 4 1 5-3 4-9 8-17 12-10 9-17 8-6 8-10 9-2 4-2 4 7 8-2 4-1 4 8 9 3 8 3 4 1 4-2 4-8 9-17 16-16 13-12 8-10 8-4 13-1 4 4 33-1 4-5 8-3 4-11 9-6 8-8 8-10 9-6 8-1 8-4 4M450 2065l0 4 2 4-3 4-26 17-10 8-8 8-20 13-5 4-11 12-4 4-7 4-4 4-2 9-3 8-5 8-5 4-2 5 2 4-1 4-5 4-4 4 1 4-1 4-5 9-1 16-4 9-7 12-2 4-2 8-6 9-2 4-1 4-2 8-1 4-3 5-10 8-8 12-4 4-10 9-5 8-5 8-8 8-4 9-17 20-3 5-3 12-3 4-4 4-3 4-2 9-5 8-6 8-5 13-2 4-10 12M427 2065l0 8-2 4-13 8-19 9-8 4-4 4-6 4-8 4-23 8-9 5-4 4-4 8-4 4-7 4-3 4 2 4-1 5-3 4-1 4 0 4 0 4-5 13-4 8-1 4 1 4-1 4-4 4-3 5-2 12-2 4-8 8-2 5-1 4 0 4-2 4-5 4-3 4-2 13-2 4-18 21-5 12-4 4-8 12-8 9-9 12-2 4 0 4-1 5-7 12-3 4-4 4-3 4-1 5-7 12-1 8 1 4-1 5-3 4-2 4-1 4-2 4-3 4-2 4 2 5-1 4-8 12-1 4M429 2065l1 4 3 4 1 4-1 4-5 4-14 9-11 8-21 12-22 9-8 4-5 4-3 4-3 4-4 4-5 4-3 4 0 5-1 4-13 16-8 17-9 12-2 4-2 13-4 8-1 4 1 4-1 5-1 4-6 8-1 4 3 13-1 4-4 8-3 8-7 13-3 8-3 4-12 12-2 5-1 4-5 8-29 37-2 4-6 9-2 4-1 4-3 4-5 4-3 4-5 9-3 12-3 4-6 4-2 5 0 4-2 4-4 4-3 4 0 4M440 2065l2 4 0 8-4 4-17 13-20 16-14 8-5 5-5 4-11 8-3 4-2 4-6 8-17 17-5 8-9 9-4 8-6 8-5 8-7 9-5 8-7 8-1 4 1 5-7 8 0 4 0 4-3 8-2 9-3 8-1 12-3 13-4 8-6 17-6 12-3 4-7 8-4 9-8 8-7 8-4 9-3 8-10 8-5 8-6 9-3 8-9 8-3 4-3 5-5 8-10 12M422 2065l-1 4-3 4-16 8-7 4-4 4-7 5-9 4-8 4-4 4-7 4-24 8-10 5-7 4-7 8-10 21-3 4-5 4-3 4 1 4-1 4-1 4-3 5-5 4-3 4 0 4-3 4-8 8-4 9-11 12-3 4 0 4-3 5-11 12-7 8-2 4-3 9-2 4-10 16-9 13-2 8-2 4-1 4-1 4-1 5-10 12-2 4 0 4 0 4-2 5-1 4 1 4 0 4-3 4-1 4 1 4-1 5-3 4-1 4 0 8-1 8 0 5-1 4-2 4-1 4 1 4 0 4-5 9-3 8-3 4-1 4 0 4M433 2065l0 4-4 4-17 8-14 8-4 5-3 4-7 4-22 12-19 9-5 4-7 12-2 8-3 9-5 8-4 8-8 8-2 9-3 4-4 4-11 8-4 4-7 9-17 20-10 9-2 4 0 4-4 8-1 4 1 5-2 4-3 4-1 4-1 8 0 13-4 8-1 4 0 4 0 8 0 5-5 12-5 8-7 17-10 8 0 4 1 4-1 5-2 4-12 8-3 4-1 4-3 4-16 21-1 4 0 4-2 5-4 4-2 4-1 4-1 8M431 2065l0 4 2 4-1 4-2 4-4 4-24 17-14 8-9 4-38 13-22 12-5 4-4 4-2 4-1 5 1 4 3 4 3 8 8 13 2 4 0 4-2 4-4 4-16 13-13 8-23 12-5 4-4 5-2 4-1 4 0 4 1 4 2 4 8 9 2 4 0 4 2 4 2 4 1 4-1 4-3 5-5 4-12 8-13 12-17 13-9 8-1 4 2 13-1 4-1 4 2 4 3 4 1 4-1 4-2 9-2 4-5 4-7 8-11 9-4 4-1 4-4 4-5 4-3 4 0 4-2 5-3 4-4 12-2 4M410 2065l3 8-2 8 0 4-2 4-27 17-47 21-19 12-13 8-6 4-5 5-3 8-7 8-5 13-1 4 2 8 2 21 0 4-5 16-1 9-8 12-4 4-14 9-4 8-19 21-3 4 2 4-1 4-7 4-4 4 3 4 0 4-3 5-2 4 3 16-6 13-1 4 1 12 0 4-11 13-7 12-6 4-5 5-1 8-5 8-7 8-2 9-7 8-2 8M445 2065l3 4-3 4-4 4-2 8-10 9-13 12-10 8-5 4-15 9-2 4-1 4-6 8-3 8-9 9-7 8-3 8-5 9-7 8-5 8 1 4 1 4-4 5-5 4-7 8 0 4 1 4-4 9-1 8-7 16-1 9-1 8-4 8-8 13-2 4-7 8-1 8-9 9-7 8-3 8-9 8-6 9-2 8-4 4-14 13-10 16-14 17-8 8-3 8-8 9-14 16-2 4M413 2065l-1 8 1 4-3 4-6 4-6 4-43 21-27 8-11 5-5 4-3 4-6 4-5 4-3 4-10 21-2 16-2 5-6 8-2 4-1 8-2 4-2 5-6 8-15 16-2 5-3 8-2 4-11 12-9 17-1 4 2 8 0 5-2 4-4 4-3 4-1 8 0 8-1 5-1 4-3 4-1 4 1 4 0 4-7 13-2 4 0 4-3 4-6 4-3 4-1 9-2 4-3 4-5 4-3 4-1 4 0 5 0 4 0 4-3 4-2 4-1 8-7 21-2 4M450 2065l-4 4 0 4-1 4-7 8-13 9-9 8-11 8-9 8-10 9 2 8-5 8-1 8-7 9-8 8-4 8-8 9-3 8-6 8-12 8-12 17-5 8-10 13-15 20-8 9-7 8 4 8-12 9 1 8-18 16-1 9-3 8-2 8-6 8-1 9-9 16-3 9-4 8-9 8 2 8-9 9-7 8 4 8-7 9-9 8-8 8-3 4M426 2065l0 4-4 4-9 4-12 8-15 9-19 8-24 8-45 13-12 4-26 16-2 4-1 4 1 9 1 8 3 8 3 17-4 8-5 8-3 9-6 8-21 17-17 16-6 4-5 4 2 9-2 8 0 4 0 4 5 9-1 8 5 8 1 8 0 9-4 8-7 8-6 8-17 13-4 4 1 8-7 9-1 8-5 4-3 4 1 8-2 5 0 4 4 4 2 4-4 8-1 9 2 4 2 4-6 8 0 4M451 2065l1 4-4 12-14 13-4 4-4 8-1 4-12 8-15 9-4 4-2 4-8 8 4 4 5 4-3 9 1 4-12 8-10 8-8 9-3 4 1 4 2 4 2 8-4 5-13 8-15 12-2 4-1 5 1 4 2 4 5 12-2 4-13 9-10 8-2 4 0 4-3 9 8 8-6 4-11 4-5 4-15 13-3 4-2 4-9 8 3 8 1 5-1 4-10 8-13 8-1 4-1 5-5 8-2 8-4 4-7 4-6 5-5 4-3 4-7 12-6 9-4 8-1 8-4 4M403 2065l0 8-7 4-10 4-48 25-11 4-16 4-37 9-12 4-7 4-4 4-10 12-13 9-4 4-10 12-11 8-4 5-2 4-8 8-4 8-6 9-1 4-1 4-3 8-10 17-1 4 0 8 2 13-4 8 1 4 5 12 0 5-1 4 2 8-1 4-4 12 0 9-1 16-3 9 0 8-2 4-4 4-2 4-6 21-1 8-5 9-5 16-4 17 1 8-3 8M417 2065l-2 8-1 8 2 8 0 9 2 8-1 12-1 5-4 8-9 8-3 4-9 13-8 8-7 8-8 8-4 9-6 8-3 8 1 9-10 16-2 4-1 4 1 9-1 4-3 4-6 12-3 5-10 8-8 16-1 9-5 8-1 4-3 4-10 8-8 9-7 4-5 4-3 8-18 17-7 16-10 9-3 4-2 4 0 4-1 4-6 4-4 5 1 4-1 4-7 8-10 8-5 9-1 4-2 4-9 8M415 2065l1 4 1 4 0 4-2 4 0 4 2 4 0 5-4 4-3 4 5 8 0 8-1 9-6 8-5 12-3 4-9 9-22 33-7 16-3 9-6 12-2 4 0 4-1 5-6 8-9 8-10 13-3 4-3 8-7 8-6 9-4 8-2 8-7 8-10 9-5 8-11 16-7 13-3 4-6 4-5 4 0 4-1 5-11 8-2 4-1 4 1 4 0 4-8 9-10 8-3 8-17 17-4 8-4 4M417 2065l-2 16 3 8-1 9 0 4-2 4-13 8-16 17-9 8-16 17-8 8-13 16-14 9-7 8-11 8-6 9-3 8-10 12-3 4 0 9-5 8-3 17-4 8 0 16-3 9 3 4 2 4-7 8-5 8 1 9-5 8-4 8-8 9-1 8-8 8-4 8-9 9-6 8-9 8-10 17-17 16-2 9-4 8-11 8M418 2065l-1 12 1 4-1 8 0 5 2 4 0 4-3 12 2 4 3 5-4 4-6 4-10 8-4 4-2 4-8 9-3 4-1 4-8 12-2 4-11 17-2 4-1 13-3 12-2 4-9 8-3 5-1 4-5 8-8 8-3 4-1 5-8 12-3 12-2 5-4 4-1 4 1 4-3 4-14 12-4 5-2 4-6 8-18 17-3 4-1 4-5 8-13 13-6 8-2 4-3 8-8 17-6 8-14 13-19 20M432 2065l-1 8 1 4 3 4 1 4-2 13-7 12-7 8-16 17-3 8-13 25-1 8-3 4-19 21-9 8-5 5-4 4 0 4-3 4-7 4-4 4 1 4-2 5-9 8-8 12-7 13-4 4-3 4-4 12-6 13-5 12-2 4-5 9-7 12-6 8-3 4 0 5-1 4-8 8-2 8-6 13-4 4-6 4-4 4-5 8-7 9-5 8-24 29-6 8M422 2065l-1 4 3 8-3 8 1 9 4 8-8 8-14 8-4 5-9 12-5 8-4 8-8 9-6 8-3 8-21 25-9 8-2 9-8 8-4 8-10 17-4 8-3 8-4 9-7 16-7 9-3 8-2 8-8 8-6 9-5 16-5 8-10 9 2 8-12 17-9 8-5 8-2 8-8 9-4 8-14 17-5 8-8 8-2 4M427 2065l-1 4-1 8 0 8 2 9-1 8-2 4-4 4-20 13-5 4-8 12-3 4-1 8-7 9 0 8-2 17 3 4 1 4-13 8-7 8-8 9-2 4-5 12 2 17-1 4-5 4-14 8-12 9-7 8-3 8-6 9-8 16-6 8 0 9-2 8 2 8-3 4-12 9-15 12-4 4-3 4-4 9-7 8-3 8-2 8-11 9-18 16-5 9-13 12-4 4-2 4M418 2065l3 4-6 8 5 8 0 9-3 8 2 16-1 5-4 4-5 8-5 12-2 4-7 9-9 8-4 8-11 9-2 8-21 25-8 8-2 17-7 8-2 8-5 8-2 9 4 8-12 17-4 8-8 8-2 8-9 9-6 8-5 8-13 8-6 9-3 8-14 8 1 9-18 16-5 8-9 9-2 8-5 8-8 9-4 8-8 8-3 4M416 2065l1 16 2 8 0 5-2 4 3 12 0 13-9 8-3 4-11 21-9 8-3 4-3 12-2 5-6 8-2 4-18 21-7 12-12 8-1 5 1 4-4 12-1 13-3 4-4 4-3 4-1 4-3 13-5 8-3 4-9 8-9 13-12 12-3 4-1 4-7 9-11 16-13 17-12 8-8 8-2 4 0 5-3 4-11 12-7 8-1 5 0 4-3 4-4 4-4 8M402 2065l0 16 2 17-14 8-4 4-24 17-5 4 0 8-5 8 0 17-2 8-4 8-7 9-4 8-5 8-7 9-2 8-8 8-6 8-3 9-6 8-10 8-9 9-4 8-8 8-9 17-10 8-6 8-11 8-1 9-1 8-11 17-8 16-1 8-5 9-2 8-1 8-6 9-2 16-7 8-6 17-9 8M418 2065l1 12-1 8 2 9 1 16-2 4-5 4-5 9-9 8-5 8 0 8-6 9 0 12-2 4-10 9-14 8-10 16-16 17-6 17-11 16 3 8-6 9-1 8 3 8-7 9 4 8-13 8-13 17-10 8-8 8-3 8-4 9-6 8-4 8-15 17-11 8-1 8-12 9-7 8-9 8-6 9-3 8-12 8-2 4M413 2065l-4 8-2 8 2 8-1 9 3 8 0 17-8 8-21 33-9 8-2 17-4 8-10 8-6 9-3 8 1 8-3 21-2 8-4 4-11 9-4 4-9 12-1 8-3 5-3 4-9 8-6 8-11 8-3 5-3 4-2 8-6 8-5 9-7 8-1 8-8 8-5 9-7 8-4 8-2 4-3 5-9 8-7 8-10 8-4 9-9 8-4 8M414 2065l0 4 3 8 0 4-1 13-4 8 1 4 3 4 1 8-2 5-5 4-15 8-4 4-10 12-8 9-5 8 0 4 1 4-4 9 0 4 1 12 2 4-1 4-10 9-3 4-12 21 1 8-6 8-11 8-7 9-10 8-7 8-5 9-2 4-2 12-4 8 1 9-3 8-8 8-8 8-10 9-1 4-1 4-8 8-2 4-4 5-17 16-10 8-3 5-2 4-11 8-1 4 1 4-8 9-1 4-1 4-9 12M412 2065l-2 4 1 4 6 12 0 4 0 5-6 8 1 4 1 4 0 4-1 4 2 9-1 4-18 20 0 5 1 4-2 4-8 12-9 9-2 4-2 4-3 4-13 12-3 5-11 20-7 9-2 4 0 4-6 8-1 4 0 4-4 9 0 4 1 4-1 4-10 17-2 4-8 8-7 8-3 9-4 4-5 4-14 16-7 9-7 8-5 8-4 4-14 13-3 4-1 4-10 13-6 8-11 21-7 8-10 12M412 2065l5 12-2 8-3 9 5 8-7 8 2 13 1 4-1 4-5 8-5 12-12 9-6 12-2 4-11 9-5 8-8 8 1 8-6 9-10 8-4 8-2 9-8 8 3 4 2 4-13 8 0 9-4 16-4 9-5 8-4 8-6 8-9 17-7 8-10 8-7 17-13 17-12 8-7 8-7 8-2 9-11 8-5 8-16 17-4 8-6 4M416 2065l-1 4 2 8 4 8-2 4-4 5 0 4 0 12 3 8-1 5-3 4-2 4-1 4-5 4-7 4-4 4-2 4-14 9-3 4-2 4-7 8-5 9-6 8 0 4 1 4-1 8-6 9-3 8-2 8 1 9 0 4-2 4-7 8-2 4-5 17-3 4-4 4-15 13-1 4-1 4-5 4-7 4-5 4-11 13-5 8-6 8-3 8-5 9-3 8-12 17-5 12-8 12-8 9-6 8-10 8-4 4-4 5-5 8-15 12M416 2065l2 12 2 8-4 9 3 4 1 4-16 8-15 17-3 8 5 8 0 4-2 4-4 9-8 8-5 8-20 17-11 12-18 21-5 25 3 8-1 8 1 9-2 4-15 21-11 8-8 8-4 8-21 17-3 4-3 4-2 8 3 9-4 4-5 4-4 8-17 25-9 17-7 8-14 8-3 4-3 5-1 8-8 8-2 4M413 2065l-3 8 2 8 4 8 0 9-3 8 1 17-2 8-7 8-3 8-2 9-7 8-9 8-8 8-10 17-11 8-4 9-8 8-10 16-1 9-4 8 0 17-5 8-1 8 1 8-9 9-5 8-18 25-17 16-10 9-5 8-12 8-2 8-12 9-7 8-7 17-8 8-1 8-4 8-3 9-12 8-2 8M414 2065l-3 8-1 8-5 8 2 5 4 4 2 4 0 4-3 8 0 4 2 13 0 4-4 4-8 8-5 9-3 4-4 4-10 8-11 17-8 8-2 4-1 4-10 17 0 4 0 4-4 8-1 9-3 8 0 4 1 4-2 4-5 9-4 4-6 12-14 21-7 8-12 8-3 5-2 4-8 8-4 8-6 4-7 5-4 4-2 4-1 8-4 4-5 4-2 5-1 4-12 16-2 4-2 5-2 8-14 12-10 13-5 8-7 8M412 2065l2 4 2 8-1 8-4 9 2 8-3 8 0 8 3 9-9 8-5 8-11 8-17 17-4 8-16 17-4 8-10 8-6 17-8 12-2 5 0 8-3 8-2 8-2 9 0 8-5 8-2 4-1 5-1 8-6 16-6 9-18 16-13 17-5 8-14 8-1 9-10 16-18 25 0 4-2 4-11 9-14 16-4 4M420 2065l0 12-5 8 5 9 3 8-3 12-3 4-4 9-10 8-3 8 1 4 0 4-7 9-15 8-7 8-10 9-8 8-11 8-11 13-5 8-1 4-1 4-1 21 5 8-3 8 2 13-2 4-12 17-10 8-4 16-19 17-12 8-7 8-15 9-3 8-8 8-5 9-3 8-9 8-1 8-4 9-2 8-7 8-4 9-12 16-5 4M424 2065l2 12 0 4-2 4-1 4 0 5 0 4 4 12-3 4-14 9-17 16-6 8-5 9-9 12-2 4 0 8-2 5-1 4 1 4-1 4-1 4-4 8-4 5-4 8-12 12-2 4-1 9 1 4-1 4-2 4-4 8-4 5-15 12-3 4-1 4-3 4-7 9-5 4-3 4-1 4-3 4-4 4-2 4-2 9-5 12-2 4-27 33-10 17-3 8-4 4-12 9-5 4-8 12-7 9-9 12-7 8M419 2065l0 8-1 8 2 8-5 9-3 4-5 4-7 8-16 9-5 4-12 12-5 8-8 9-9 8-7 8-8 17 0 8-3 8-8 9-2 8 0 8-7 17-1 16-6 17-5 16-9 9-2 8-17 16-5 9-14 16-4 9-9 8-5 8-11 8-1 5 1 4-9 8-10 17-7 8-7 16-7 9-2 4-2 4-2 8M415 2065l-3 16 2 8-4 5-8 4-9 8-16 8-5 4-10 9-4 4 0 8 3 8-2 9 2 8-7 8-5 8-12 9-4 8-15 8-12 9-13 16 0 8-4 9 0 8-2 8 4 9-2 8 1 8-5 8-3 9-10 16-13 8-7 9-11 8-9 8-3 9-4 8-9 8 3 8-9 9 3 8-8 8 3 9-7 8-5 8-4 8-11 17-9 8M421 2065l-2 4 3 8-1 8-5 9 5 8-14 12-7 9-3 4 1 8-4 8-4 8 0 9-1 8-8 8-3 9-4 8-2 8-2 4-3 4-7 9-5 8-9 8-11 17-12 8 0 8-5 9-10 8-9 17-7 8-3 8-4 8-7 9-2 8-6 8-3 8-8 17-2 8-11 9-16 16-4 8-6 9-5 8-7 8-9 9-18 20M410 2065l1 4 0 8-3 8 3 9-3 8 4 8-2 8 0 17-5 8-11 8 1 9-13 8-9 8-6 9-3 8-8 8-1 8-6 9-7 16 1 9-3 8-4 12-2 4-10 9 0 8-8 8-6 9-4 16-6 8-4 4-6 5-5 8-9 8-20 21-4 4-2 8-13 9-1 8-7 8-1 8-12 9-3 8-6 8-8 9-2 8-7 8-5 4M412 2065l-1 16 3 8 0 5-5 4-12 8-4 4-6 4-16 9-6 4-3 4-3 8-1 8-11 17-5 21-2 4-9 8-7 8-5 9-5 8-4 4-4 4 0 4-2 4-9 9-4 8-9 12-3 5-2 8-8 12-2 4 0 5-2 4-7 8-2 8-5 8-3 9-5 8-2 8-5 9-6 16-12 17-4 8-6 8-1 4-2 5-8 8-4 8-8 8-6 13-2 4-7 8M414 2065l1 4-1 4-3 4-1 4 4 13 0 4-3 16 0 4 2 9 0 4-15 12-2 4 1 4 0 5-14 8-24 12-6 4-4 5-3 4-1 4-3 8 0 4 12 21-1 4-3 4-9 9-2 4 2 4 0 4-5 4-21 13-18 12-9 8 0 4 5 9 5 12 0 4-4 8-7 9-9 12-2 4-4 4-21 13-14 12-4 4-7 13-5 16 0 9-3 4-5 4-3 4-1 4-3 4-3 5-5 4-7 4-5 4-6 8M423 2065l-2 12 0 4 2 8-1 17-3 4-3 4-3 9-12 16-2 4-2 4-9 9-5 8-7 8-17 17-5 8-14 17-15 16-5 8-4 9-3 4-4 4-9 8-3 4-2 5-6 12-1 4 0 8-2 5-2 4-7 8-4 8-4 17-11 16-9 17-5 16-1 5-1 4-9 8-4 4-3 4-1 9-3 4-3 4-11 8-11 17-9 8-4 8M415 2065l2 8-3 8 1 4 1 4-3 5-2 4 3 8 1 4 1 4-2 9 2 4-1 4-6 4-5 4 0 4-2 4-10 9-3 4-3 4 1 8-2 4-10 13-11 8-13 8-8 9-1 4-3 4-13 8-5 4-3 4 1 9 0 4-1 4-6 4-4 4 3 9 1 8-2 8 2 8-1 9 0 8-6 8-12 8-11 17-4 8-3 4-4 5-14 8-13 16-11 9-8 8-18 17-5 8-4 16-6 9-11 16M418 2065l0 4 2 4 0 4-2 4 1 4 2 4 0 5-2 12 3 8-1 4-13 13-15 16-12 9-3 4-3 4-16 12-3 4-5 9-13 12-6 8-6 13 0 4 2 4-2 4-3 4-1 5 0 12 1 4 3 4 1 4 0 5-5 8-1 12-3 9-11 12-3 4-6 12-6 9-23 16-14 17-11 8-5 4-10 13-5 8-3 4-14 13-1 4 0 4-3 4-4 4-5 8-7 9-4 8-6 8M421 2065l1 4 0 4-2 4 0 4 4 13-1 4-2 4-1 4 0 4-1 8-4 5-3 4-6 4-7 4-5 4-5 8-2 4-3 9 0 8 2 4-3 4-35 25-3 4-2 13 1 4 2 4 0 4-1 4 2 9-21 16-4 4-3 4 0 5 1 4 1 4-3 12 0 4-27 21-10 8-2 4-1 5-2 4-7 12-1 4 1 9-3 4-21 16-3 4-1 5-7 8-2 4-1 4-4 8-4 5-15 12-3 4-1 4-3 4-12 13-8 12M405 2065l-1 4 1 8 2 8-1 9-2 8-4 4-21 17-4 4-5 8-11 16-1 9-6 8-17 17-11 16-13 17-5 8-10 8-6 9-4 8-6 8-8 8-6 9-5 8 0 8-2 9-7 8-1 8-5 8-7 9-2 8-6 8-5 8-3 9 2 8-7 12-10 13 0 8-3 8-1 9-11 8-7 17-13 20M426 2065l1 4-2 16 0 17 2 4-3 4-4 4-20 17-3 4 0 8-2 4 0 4 4 5-4 4-37 25-6 8-4 8 0 13 2 8 4 8-1 4-13 9-8 8-3 4-2 4-1 8-1 9-2 4 0 4-2 4-3 4-15 9-7 8-14 12-3 4-1 9-3 8-3 16-4 5-6 4-17 16-5 9-2 4-5 16-22 17-4 4-3 8-19 17-2 12M418 2065l-1 8-3 8 2 8-3 17 2 4-1 4-15 13-20 20-9 9-8 8-2 4-2 4 1 4-1 4-12 9-12 12-3 4-2 9-6 8 1 16-9 17 2 8-2 9-5 8-3 8 1 8-2 9-8 8-9 16-6 9-8 16-18 17-13 8-3 8-7 9-3 8-8 8-11 9-5 8-7 8-5 8-7 9-5 8-6 8M430 2065l-3 8 4 8-2 8 1 9-9 8-7 8-10 9-3 8-20 16-5 9-9 8-7 8-16 17-10 8-2 8-12 9 0 8-7 8 2 8-5 9 3 8 0 8-6 21-4 12-1 9-4 8-6 8-10 8-10 9-5 8-6 8-9 9-7 8-9 8-6 8-9 9-8 16-8 9-5 8-5 8-2 8-6 9-2 4-2 4-2 8M412 2065l2 4 1 8 1 8-1 9 2 8-5 8 1 8 0 5-2 4 1 8-12 8-3 4-9 13-12 8-2 4 0 4-7 9-9 8-2 4-2 12-13 25 1 4 3 5-2 4-3 4 0 4-2 4-5 8-18 17-7 8-4 9-9 8-13 16-14 21-2 4-6 17-6 8-3 8-7 9-7 12-17 17-3 4-3 8-10 8-14 17-4 8-4 4M413 2065l-1 4 1 8 0 4-4 13-1 4 2 8 5 12-1 5-4 4-9 8-2 4-2 12-1 5-2 4-7 8-3 4-4 17-12 12-6 8-17 17-12 17-4 8-3 8-11 13-3 4-3 8-14 17-1 4 0 4-2 4-4 4-1 4 0 4-4 4-6 5-2 4 1 4-3 4-3 4-2 4-5 13-8 8-5 8-1 4 1 5-3 4-4 4-11 8-3 4-1 4-5 5-7 4-4 4-1 4-9 17-5 4-7 4-1 4 0 4-2 4M423 2065l-1 4 2 8-2 4-4 4 2 4 3 5 1 4-2 4 2 4 3 4 0 4-13 13-3 4-3 8-3 4-20 17-6 8-8 8-8 17 0 4 2 12-2 5-6 12-8 8-1 4 1 5-4 8-13 8-4 4-3 4-12 9-1 4 2 4-3 8 0 4 2 5-2 4-3 4-8 16-9 9-4 8-3 4-5 4-7 8-10 9-7 8-13 8-2 4-2 13-1 4-3 4-8 8-6 13-3 4-4 8-11 9-7 8-12 12M416 2065l-1 8 1 8-2 13 0 4 0 4-1 4-10 8-16 9-6 4-6 4-3 4-6 12 1 4 1 5-1 4-3 4 0 4 1 4 1 8 2 9 0 4 0 4-1 4-4 8-10 13-18 16-7 9-16 12-19 21-6 16 0 5 1 4-2 4-2 4 0 4 1 8 0 4-1 5-1 4-6 8-3 8-2 4-11 13-10 8-8 8-15 9-4 4-3 4-8 8-2 4-2 5-2 4-4 4-8 8-2 4 0 4-9 13-7 12M411 2065l1 4-2 25 2 20 0 4-3 5-1 4 3 4 1 4-10 8-8 8-10 9-7 8-11 8-4 4-3 5-3 8-2 4-2 4-1 8-4 9-3 4-2 4 1 8 0 17-2 4-11 17-2 4-2 8-2 4-4 4-17 17-17 12-4 4-1 4-3 5-11 8-11 16-1 9-1 4-1 4-6 8-2 4-2 5-1 8-13 16-4 5-3 4-1 4-2 4-9 8-12 13-16 12-3 4M418 2065l-2 12 0 4 3 13 1 8-3 8-9 17-2 8-2 4-5 4-6 8-4 13-14 21-3 4-5 4-4 4-2 4-7 8-2 5-2 4-2 4-13 12-3 4-2 5-3 8-3 4-9 8-9 13-4 8-13 17-3 4-4 12-11 17-7 8-2 4 1 4-3 4-4 4-6 9-1 4 0 4-2 4-2 4-18 25-6 17-3 4-12 12-2 4-1 5-3 4-16 12-3 4M419 2065l-1 8 3 8-1 13 0 4 1 4-1 4-29 25-6 4-4 4 0 4-1 4-12 9-1 4-2 4-11 8-4 4-4 4 0 5-2 4-7 4-5 4-1 4-1 4-10 9-4 8-6 8-6 13-2 4-2 8-5 8-5 17-5 8 2 8-3 9-1 8-3 8-8 8-4 17-6 8-10 9-3 8-4 8-11 17-3 8-9 8-11 17-9 8-4 8-9 9-15 16M408 2065l0 4 3 8-5 8-1 9 4 8 2 8-1 8 0 9 2 8-3 4-5 4-2 8-6 13-12 12-18 17-20 16-7 9-6 8-12 12-6 9-3 4-1 4-4 12-2 9-14 25 9 8-5 8-11 25-8 8 0 4-1 4-8 9-10 12-4 4-5 9-12 8-7 8-4 8-12 9-5 8-19 17-3 8-11 12M411 2065l0 4-5 8 3 8 1 9 0 8 0 16-3 17 1 4-4 4-9 8-17 13-4 4-2 8-3 4-3 5 3 16-3 8-15 17-8 21-1 4 1 4-4 4-11 8-20 21-3 4-1 9 0 8-3 8-4 8-8 9-4 8-12 8-4 17-2 4-18 12-8 9-3 8-12 8-4 8-8 13-2 4-2 8-10 9-5 8-10 8-2 4M410 2065l1 8 4 8-2 4-3 4 0 5 0 4-1 8-3 8 2 4 4 5-1 4-3 4 0 4-2 4-6 8-2 9-8 8-7 8-6 13-8 12-1 8-6 9-2 8-8 8-6 8-10 9-2 4 1 4-4 4-4 4-1 4 0 5-10 24-4 9-7 8-1 8-2 4-3 4-10 9-4 4-9 12-10 9-8 8-5 8-6 8-2 9-4 4-5 4-3 4-2 4-3 4-12 13-12 16-8 9-5 8-6 8M417 2065l2 4 1 4-2 25-2 4-37 21-4 4-1 4 0 12 5 8 0 5 0 4 1 4 3 4 0 4-1 13-2 4-3 4-5 4-16 12-12 9-15 8-5 4-2 4-5 4-7 5-5 4-3 4 0 4 2 4-1 4-2 4-1 5 0 4 3 4 4 4 2 4 0 13 1 16-4 4-19 13-15 12-17 12-28 25-2 4-5 13-3 16 0 9-2 8-4 4-6 4-2 4 0 5-3 4-4 4-11 8-3 4M414 2065l1 8 1 8-2 8 1 5 2 4 0 4-1 4-4 8 0 4 1 5 2 4-1 4-6 4-7 4-3 4-2 4-3 4-5 5-3 4-3 4-3 8-2 4-11 13-1 4 1 4-3 8-8 9-1 4 1 4 0 4-1 4-3 8-4 5-6 4-3 4-8 12-10 9-3 4-7 12-3 8-19 25-3 8-2 5-3 4-4 8-6 8 0 4 0 5-1 4-4 4-7 8-9 8-3 5-1 4-5 4-15 12-2 4 0 5-4 4-5 4-6 8-9 8-1 5 1 4-3 4-5 4-2 4-2 4M409 2065l-1 8 1 16-2 9 2 4 3 4-1 4-2 4 0 13-3 4-11 8-2 4-6 13-7 8-1 4-3 12 2 9-1 4-3 4-3 4-6 4-5 9-8 8-2 4-8 21-4 12-18 21-5 8-9 8-2 5 0 4-8 8-1 4-1 4-5 13-3 12-4 4-8 4-4 4-3 5-10 8-6 8-4 8 1 9-5 4-6 4-4 8-10 9-5 8-13 8-3 4-2 4-5 9-16 16M409 2065l0 4 0 8 3 12-1 5-2 4-1 4 3 21-4 12-23 25-3 4-4 8-7 8-2 5-5 12 0 8-2 4-3 5-1 4 0 4-4 4-4 4-7 8-8 9-2 4-1 4-8 12-2 5-2 8-3 12-2 9-1 4-5 8-15 12-13 13-9 12-11 13-5 8-1 4 1 4-2 4-4 4-5 9-8 8-7 8-11 9-4 4-3 4-2 4-1 4-3 4-12 17-7 12M421 2065l0 4 1 4 1 4-1 4-1 4 2 4 0 5-2 4-6 4-9 8-12 8-21 17-1 4-3 4-10 8-8 9-6 8-15 17-13 12-6 8-9 13-7 8-4 8-1 9-2 8-7 12-1 4 1 5 1 4-4 8-4 21-5 12 0 8-7 13-9 12-2 8-7 17-15 17-16 24-9 9-6 12-3 4-10 9-4 8-7 8-2 4M420 2065l-1 8-1 4 1 4 3 4 1 4-1 5-2 4-12 12-4 4-25 17-15 8-12 12-4 5-12 8-3 4-3 8-2 9 0 4 1 8 5 12 1 5-1 4-1 4-4 4-16 17-26 20-11 17-2 4-1 4 2 8-1 5 0 4 4 8-1 8-4 8 0 5-3 4-14 8-13 12-27 29-3 9-4 8-2 17-6 16-7 13-3 4-23 16M415 2065l-3 8-1 16 0 9-2 4-9 8-20 13-4 4-3 4-8 8-6 8-5 17-14 33-6 8-1 9-1 4-2 4-5 4-3 4 0 8-9 17-3 8-6 17-20 29-10 12-9 17-7 8-5 8-17 17-3 4-2 4-4 8-17 25-5 9-8 8-12 25-12 16M424 2065l1 4 0 8-3 8 3 9-15 8-5 4-16 17-9 12-3 8-7 8-1 5 0 4-2 4-3 4-3 8-8 9-1 4 1 4-12 16-7 17-9 8-2 4 0 5-3 4-10 12-7 17-19 25-6 8-4 8-13 17-5 8-7 8-4 8-12 17-2 8-6 9-2 8-6 8-17 25-4 8-4 9-10 16-2 4M427 2065l0 4 2 8 1 8-2 13-1 8-1 4-13 13-5 4-15 8-4 4-5 4-8 4-6 4-2 5-4 4-13 8-4 4-2 4 1 9-2 4 0 4 5 4 3 4 0 4 0 4 2 5 1 4-4 4-1 4 2 4 0 4-2 4-3 5-13 12-5 4-17 8-9 9-7 4-5 4-3 8-5 9-2 8 0 8 2 21-1 4-5 4-3 4 1 4-1 4-8 9-14 12-5 4-7 4-5 5-3 4-3 4-6 4-5 4-5 8-8 9-5 8-3 4-2 4-2 13-1 4-10 12M418 2065l1 4-3 4-1 8 1 4 2 4 0 5-2 12 1 8 0 4-3 13-6 8-8 8-3 4-4 13-5 4-6 4-3 4-2 4-3 5-11 12-3 4-1 4-6 9-2 4-1 4-11 16-2 9-3 4-3 4-2 4 0 4-2 4-1 5-6 8-1 4 0 4-2 4-5 4-5 9-3 8-3 8-3 8-6 5-8 4-3 4 1 4-3 4-4 4-8 13-7 8-4 4-9 8-2 5 1 4-3 4-7 4-4 4-5 8-10 13-6 8-4 4-5 4-3 5-2 4-10 16M417 2065l3 8 2 16 4 9-3 8-6 12-4 5 1 8-9 8-2 8-5 9-10 8-6 8-10 8-6 9-8 8-9 8-11 9-2 8-17 16-10 17-3 8-6 9-2 8-4 8-1 8-5 9-4 8 0 8-4 8-2 9-7 8-7 17-1 8-9 8-5 8-3 9-6 8-26 25-3 8-14 17-5 8-11 8M418 2065l0 12-1 4-1 4 3 4-1 5-9 4-8 4-9 8-8 4-20 9-8 4-10 16-9 8-3 5-8 12-9 12-2 5 0 4-1 4-11 16-3 9-2 8 0 4-1 4-4 4-3 5 2 4 1 4-3 8 0 4 0 4-6 9-3 16-4 9-13 16 0 4-2 4-15 17-7 12-6 9-7 8-12 12-5 13-3 4-7 8-3 8-2 5-13 16-2 4-3 9-5 8-3 8-3 4M409 2065l3 4 2 4-1 16-1 5-1 4 2 4 0 4-2 4-1 4 1 4 1 5-4 4-1 4 3 4-2 4-9 8-13 29-2 4-9 9-18 16-9 13-4 4-12 8-6 8-9 9-3 8-3 4-2 4 0 4-1 5-4 4-3 4 0 8-1 4-1 4 1 9-3 8-2 12-2 4-4 5-3 4 1 4-1 4-24 25-5 4-4 4 1 4-1 4-3 5-15 12-23 25-15 12-3 4-2 5-2 4-5 4-4 4-3 8M427 2065l0 4-5 8 5 8-3 9 2 16-7 8-9 9-5 8-12 8-3 8-18 17-4 8-8 9-13 16-2 8-9 17-5 8 1 9-5 8-3 8-1 8-2 9 0 8 0 4 1 4-8 9-7 16-10 8-7 9-2 8-3 4-4 4-11 8-4 9-10 12-8 8-14 13-8 8-19 25-9 8-5 9-6 8-4 8-4 4M417 2065l0 8-1 8 4 8-4 9-1 4-3 4-7 4-9 4-18 13-12 12-1 4-1 4-5 9 0 8-4 8 1 8-3 9-10 8-5 8-17 17-3 4-3 4-2 8-7 9-9 16 1 17-2 8-4 8-1 9-6 8-15 16-11 9-4 8-8 8-5 9-8 8-1 8-5 8-5 17-8 8-5 9-4 8-9 8-6 8-5 9-13 16M403 2065l-1 16 1 4 3 4 0 5-14 8-5 4-6 4-33 13-7 4-4 4-5 4-7 4-6 4-12 13-16 12-7 8-1 4-4 5-10 8-12 16-6 13-4 12-2 4-1 5 3 4-1 4-4 4-1 4 3 4 0 4-1 5 0 4 2 4-1 4-3 4 1 4 3 4 2 5-1 4-2 4-3 4-1 4-1 8-3 17-2 4-4 4-6 4-4 4-7 13-4 8-3 4-5 4-3 5-1 4-2 4-12 12-12 17-2 4-5 12-5 9-2 4 0 4-2 4-4 4M412 2065l1 4 1 4-2 8 0 13-1 4-2 4 0 4 2 4 1 4-2 4 0 5 1 4-1 4-3 4-5 4-3 4-2 4 0 4-2 5-13 12-3 4-1 4-3 4-5 5-3 4-1 8-2 4-1 4 0 4-1 5-3 4-2 4-2 4-8 8-5 9-4 4-12 8-4 4-2 4-2 4-2 5-10 12-15 12-8 13-2 4 0 4-1 4-14 21-7 16-1 5 0 12-2 4-4 4-3 4-2 5-2 4-6 4-4 4-4 8-2 4-2 5-22 20-4 4-4 9-3 4-11 12M415 2065l1 4-3 8 2 4 3 4 0 4-2 5 0 4 3 12-1 13-3 4-9 8-6 8-16 17-19 25-2 8-6 16-6 9 1 4 2 4-2 4-2 4-1 4-10 17-3 4-9 8-1 5 0 4-7 8-9 17 0 8-3 4-4 4-2 4-12 13-4 8-13 8-3 4-9 13-8 8-4 4-8 13-6 8-7 16-8 9-5 8-3 4-4 4-5 9-9 8-11 12M424 2065l-1 4-2 4-1 4 4 8 1 9 0 4-15 12-13 8-5 9-5 4-2 4 3 4 3 4 0 21-1 4-2 4-8 8-3 5-1 4-1 4-12 16-1 5-3 4-15 8-5 4-5 4-3 4-5 9-4 4-6 4-5 4-2 4-3 9-1 8-1 4-4 4-2 4 3 13 0 4-2 4 0 4 1 4 0 4-2 4-3 5-11 8-4 4-8 12-5 5-2 4-1 4-3 4-13 8-3 4-4 5-12 8-11 16-12 13-3 4-1 4-2 4-12 13-2 4-3 8-2 4M406 2065l-1 4 8 8-1 8-5 9 5 8-2 8-1 8 3 9-4 12-9 12-4 9-9 8-10 17-9 8-7 8-14 25-13 17 0 8-5 8-2 8-11 17 2 8-6 9-5 8-8 8 2 8-7 9-1 8-14 8-15 17-7 8-4 8-6 9-4 8-8 8-4 8-8 9-15 16-7 9-4 8-15 12M411 2065l2 4-4 8-1 8 2 9-3 8 0 8 5 8-2 9 1 8-2 4-13 12-13 9-4 8-10 8-4 9-6 8-2 4-2 4 2 8-2 9-3 8 0 4-2 4-2 9-8 8-7 16 0 5-1 4-21 16-6 9-14 16-1 8-5 9-9 8 0 8-6 8-1 9-18 16-7 9-3 8-6 8-9 8-8 9-9 8-5 8-9 9-1 8-10 8-3 4M406 2065l0 4 1 8 4 8-1 4-2 5-1 4-1 4 1 4-3 4-27 17-7 8-9 8-2 4-2 4-11 13-10 12-3 9-7 8-5 8-5 8-5 17-4 8-7 9-2 4-1 8-7 29-9 17-3 12-4 8-2 4-7 9-1 4 0 4-3 4-5 4-2 4-2 4-4 5-6 4-2 4-1 4-2 4-7 13-7 8-5 8-5 4-6 4-3 5-1 4-5 8-11 17-15 20M425 2065l-2 8 2 8 0 8 0 9-2 8 1 4 0 4-11 9-2 4-1 8-1 4-8 8-12 17-20 16-1 5 0 4-11 12-8 13-4 8-1 8-5 8-5 17 0 4 2 4-2 4-3 5-5 16-7 8-5 9-4 8-10 8-5 8-6 5-8 4-4 4-3 4-7 8-9 9-4 8-7 8-1 4 0 4-4 5-6 4-1 4 0 4-12 21-16 20-5 9-13 8-3 4-3 4M418 2065l-4 12 1 8 3 9 1 8-1 8 1 8-7 9-11 8-6 8 0 4 1 4-1 9-4 4-7 4-6 8-8 9-5 8-9 8 1 4 2 4-4 9 2 8-3 4-5 4-6 9-8 8-1 4-1 4-6 8 2 9-4 8-13 8-2 4 0 5-13 8-1 4 1 4-2 8-4 9-10 12-3 4-10 8-9 9-4 8-3 12-3 5-13 8-6 8-9 8-6 9-2 8-7 8-9 9-1 8-13 12" fill="none" stroke="#231f20" stroke-width="1.00" stroke-linejoin="round"/></g>
<clipPath id="cpemod"><rect x="543.6" y="2056.3" width="352.8" height="413.9"/></clipPath>
<g clip-path="url(#cpemod)"><path transform="scale(0.5)" d="M1693 4129l0 42-1 8-12 8-60 25-88 33-14 8-15 17-13 16-31 50-12 17-97 116-42 57-21 34-22 41-19 41-12 34-20 66-34 132-15 66M1705 4129l-3 42-2 8-12 8-38 17-110 41-14 8-17 17-12 16-10 17-23 50-51 91-32 49-94 133-20 33-14 25-18 41-18 50-22 74-23 91M1668 4129l-3 42-2 8-17 8-57 17-160 41-20 8-10 9-17 16-13 17-8 16-18 42-26 58-41 107-17 42-58 124-20 49-15 50-12 50-7 49-4 58M1676 4129l0 42-1 8-15 8-48 17-135 41-18 8-9 9-24 24-40 58-69 83-31 42-24 41-16 33-16 41-13 42-19 74-38 191-9 49M1682 4129l0 42-1 8-14 8-23 8-149 50-16 8-15 17-12 16-34 67-83 124-41 66-32 58-29 58-22 58-20 66-20 83-13 74M1727 4129l0 42-2 8-8 8-40 25-64 33-12 8-8 9-29 33-34 49-56 75-46 66-32 50-75 124-60 108-27 49-20 42-17 41-15 41M1733 4129l0 25-4 25-8 8-41 25-67 33-12 8-16 17-13 16-9 17-40 91-18 33-16 25-35 41-95 100-22 25-18 24-15 25-13 25-45 116-46 99-14 33M1756 4129l1 50-3 8-57 124-14 25-25 33-38 42-34 33-113 99-50 50-43 49-29 42-30 49-67 125-42 82M1738 4129l1 50-5 8-26 25-53 41-48 50-52 58-20 25-11 16-42 75-29 41-34 42-71 74-27 33-15 25-13 25-39 91-49 99-15 33M1670 4129l0 42-2 8-16 8-26 8-169 50-16 8-8 9-12 16-11 25-9 33-5 17-21 41-32 50-67 91-22 33-20 33-19 41-12 34-8 33-18 116-23 115M1732 4129l-1 50-6 8-30 25-46 33-8 8-43 58-20 25-63 66-28 33-20 25-23 33-62 100-62 83-29 41-26 41-25 50-20 50-29 82M1763 4129l-1 33-2 17-4 8-17 25-39 41-9 17-7 16-18 50-14 25-14 16-16 17-84 75-24 24-20 25-34 50-18 25-22 25-56 58-21 24-13 17-16 25-44 83-49 82-17 33M1763 4129l-2 42-1 8-3 8-15 25-36 41-11 17-14 25-19 41-15 25-18 25-23 25-25 24-62 58-24 25-20 25-51 66-63 75-32 41-24 33-20 33-78 149M1771 4129l-4 50-13 66-7 25-15 25-19 25-51 49-23 25-13 17-33 49-21 25-25 25-77 66-17 17-22 25-58 82-62 75-19 25-20 33-57 107M1716 4129l0 42-1 8-9 8-47 25-81 33-16 8-32 25-17 17-12 16-14 25-10 25-17 50-7 16-10 17-12 16-15 17-67 66-27 33-10 17-12 25-20 66-13 33-13 25-39 66-15 33-13 41-11 58M1731 4129l0 33-2 17-8 8-40 25-64 33-12 8-15 17-13 16-10 17-23 50-18 33-19 33-17 25-33 41-92 99-20 25-18 25-15 25-13 25-47 107-51 108-17 41M1680 4129l-1 42-2 8-14 8-24 8-51 17-114 33-18 8-29 25-19 25-51 91-49 91-57 99-16 34-11 24-12 34-9 33-19 82-24 100-9 49M1732 4129l0 50-7 8-33 25-54 33-10 8-29 33-44 58-63 75-32 41-29 42-58 91-61 91-32 49-24 42-22 41-19 42-16 41-13 41M1688 4129l0 42-2 8-14 8-44 17-125 41-16 8-9 9-15 16-12 17-32 58-46 74-43 75-57 107-33 67-27 66-26 74-18 66-11 58M1732 4129l-1 50-7 8-35 25-57 33-11 8-23 25-20 25-66 91-61 91-42 58-77 99-24 34-30 49-25 50-31 74-34 91M1738 4129l0 42-2 8-7 8-10 8-23 17-50 33-9 8-14 25-17 42-14 24-22 25-50 50-23 25-19 25-55 82-21 25-45 50-25 33-15 25-41 83-39 66-13 25-15 33-17 49M1737 4129l-1 42-1 8-6 8-32 25-55 33-11 8-8 9-29 33-38 49-54 67-59 82-63 100-55 83-72 115-22 42-17 33-14 33-15 41M1673 4129l-1 42-1 8-15 8-176 58-15 8-13 17-28 41-19 25-56 58-14 17-12 16-10 17-7 16-19 66-12 34-13 24-41 67-12 25-7 16-8 33-8 58-6 33-24 91-7 33M1716 4129l0 50-8 8-91 58-9 8-24 42-24 33-24 25-73 66-23 25-18 25-17 33-29 66-14 25-23 33-58 74-17 25-14 25-12 25-9 25-24 82-20 58M1748 4129l0 42-1 8-4 8-24 25-53 41-31 33-13 17-10 17-53 91-22 33-29 33-61 58-32 33-22 25-24 33-21 33-40 74-53 83-20 33-21 42-18 49M1675 4129l0 42-2 8-16 8-51 17-144 41-19 8-11 9-18 16-15 17-36 49-45 58-23 33-15 25-16 33-13 33-14 42-29 108-42 165-11 50-9 49M1691 4129l-1 42-1 8-14 8-68 25-104 33-18 8-10 9-19 16-22 25-79 108-25 41-15 33-13 33-37 100-71 173-15 42-10 33-10 41-6 33M1755 4129l1 50-3 8-15 25-13 16-25 25-43 50-22 33-40 66-23 33-32 34-55 49-25 25-22 25-20 25-62 91-62 83-22 33-26 49-41 91M1672 4129l0 42-2 8-17 8-84 25-122 33-18 8-8 9-12 16-6 17-10 33-7 16-5 9-21 24-48 50-19 25-9 17-7 16-13 58-8 25-13 25-33 58-8 16-6 17-5 25-6 49-4 25-6 25-18 58-5 25-4 25-2 24M1657 4129l0 42-2 8-18 8-213 58-17 8-23 25-36 50-41 49-11 17-9 17-8 16-17 50-7 16-41 75-13 33-6 25-11 66-22 75-8 33-13 140M1711 4129l0 42-1 8-9 8-47 25-67 33-11 8-18 25-29 50-17 25-96 107-26 33-18 25-16 25-22 41-112 224-15 33-13 33-11 33-9 33M1768 4129l-1 50-8 25-12 24-49 67-51 74-61 83-52 58-138 141-22 25-26 33-34 49-31 50-37 66-33 66M1676 4129l3 42-1 8-14 8-22 8-47 17-102 33-17 8-29 25-24 25-28 33-31 41-18 34-25 66-12 25-14 24-50 75-13 25-7 16-10 34-13 66-5 25-28 82-9 33-5 25-4 33M1749 4129l-1 50-4 8-43 58-4 8-27 67-13 24-25 33-31 34-35 33-77 66-26 25-40 41-34 42-18 24-21 34-49 91-71 124-26 49M1720 4129l0 25-4 25-9 8-15 8-33 17-71 33-12 8-12 17-9 16-24 67-14 24-16 25-34 42-88 91-21 25-18 24-15 25-13 25-49 116-58 116-17 41-11 33M1745 4129l-1 50-5 8-22 25-32 33-6 8-34 58-18 25-22 25-57 58-36 41-26 33-60 83-77 91-37 50-20 33-18 33-75 157M1712 4129l0 50-9 8-43 25-64 33-11 8-64 83-81 83-21 25-18 25-24 41-30 66-17 33-19 33-57 91-27 50-15 33-11 33-12 42-12 49M1741 4129l-1 50-5 8-58 58-5 8-22 67-7 16-9 17-18 24-31 34-35 33-69 58-28 24-32 34-28 33-17 25-20 33-55 107-74 124-19 34-11 24M1705 4129l-2 42-2 8-11 8-55 25-80 33-12 8-17 25-8 17-18 49-9 17-16 25-38 49-88 100-36 49-24 42-19 41-37 108-45 116-17 49M1732 4129l-3 50-7 8-37 25-58 33-11 8-15 17-18 25-38 58-120 165-79 116-27 42-25 41-51 91-32 66-14 33-12 33M1684 4129l-1 42-2 8-14 8-23 8-150 50-15 8-8 9-12 16-12 25-18 50-30 58-37 58-96 140-24 42-17 33-19 49-14 50-14 66-16 91M1757 4129l0 42-1 8-4 8-12 17-16 16-42 33-23 25-21 25-35 58-40 74-21 34-21 24-31 33-113 108-22 25-19 25-16 25-14 24-51 108-51 99M1714 4129l-1 42-2 8-10 8-34 17-99 41-14 8-15 17-13 16-9 17-20 50-23 49-17 33-15 25-35 50-109 132-22 34-15 24-15 33-16 42-16 50-33 115M1669 4129l0 42-2 8-17 8-55 17-154 41-20 8-11 9-17 16-12 17-10 16-55 116-54 141-54 124-20 50-17 49-13 50-9 50-5 49M1747 4129l-4 50-5 8-26 25-44 33-8 8-24 33-40 67-64 91-39 49-132 158-19 25-30 41-37 58-28 50-27 57-23 58M1734 4129l-1 33-1 17-7 8-36 25-61 33-12 8-16 17-13 16-11 17-39 74-31 50-27 33-79 83-20 25-19 25-25 41-47 91-48 83-17 33-22 50-15 49M1680 4129l0 25-1 17-2 8-15 8-24 8-162 50-16 8-9 9-13 16-12 25-12 41-7 17-15 33-18 33-31 50-86 124-24 41-16 34-11 33-9 33-37 198M1729 4129l-1 50-6 8-11 8-23 17-49 33-9 8-20 33-26 50-10 17-18 24-47 58-84 91-36 42-40 50-30 41-15 25-19 33-32 66-35 83-27 74M1694 4129l0 42-1 8-13 8-20 8-43 17-98 33-16 8-27 25-21 25-44 74-57 100-75 116-27 49-16 42-27 91-30 91-12 41-7 33M1692 4129l-1 42-1 8-13 8-149 58-13 8-12 17-27 50-17 24-14 17-56 58-20 25-12 16-10 17-12 25-22 58-15 33-14 25-45 74-20 41-13 42-21 91-20 74M1736 4129l0 50-6 8-27 25-43 33-8 8-46 75-18 25-36 41-94 99-30 33-33 42-36 50-31 49-35 66-68 133-19 41-14 33M1716 4129l-1 33-3 17-10 8-34 17-19 8-87 33-16 8-29 25-16 17-12 16-15 25-18 33-11 25-23 58-21 41-17 25-18 25-82 99-17 25-14 25-11 25-9 25-28 107-29 91M1721 4129l-1 42-1 8-10 8-46 25-75 33-14 8-17 17-14 16-16 25-68 124-25 42-36 49-79 100-30 41-24 42-22 49-20 58-41 124M1676 4129l0 42-2 8-16 8-24 8-165 50-17 8-9 9-14 16-13 25-18 50-21 41-30 50-87 132-23 42-16 33-12 33-11 41-42 215M1738 4129l-1 50-5 8-56 58-5 8-20 50-14 25-13 16-16 17-104 91-25 25-15 16-24 33-40 75-21 33-30 42-58 74-24 33-20 33-16 33-13 33-20 58M1733 4129l2 50-6 8-28 25-61 41-34 33-15 17-19 25-16 25-40 74-17 25-22 25-68 66-22 25-18 25-14 25-39 74-55 83-19 33-18 41-32 91M1754 4129l0 42-1 8-5 8-22 25-21 16-36 25-26 25-14 17-10 16-8 17-30 74-9 17-11 16-14 17-17 17-70 57-28 25-24 25-20 25-20 33-27 58-14 25-22 33-49 66-21 33-20 42-16 49M1667 4129l0 33-1 9-2 8-17 8-57 17-158 41-19 8-11 9-17 16-13 17-9 16-54 116-53 141-51 116-19 49-19 58-12 50-8 50-5 49M1732 4129l-1 50-6 8-31 25-48 33-9 8-64 91-119 133-27 33-24 33-32 50-41 66-85 149-33 66-14 33-12 33M1710 4129l1 50-10 8-45 25-64 33-10 8-15 25-27 58-21 33-20 25-28 33-100 108-34 41-29 42-16 24-13 25-22 50-23 66-52 157M1717 4129l0 42-1 8-9 8-30 17-87 41-12 8-14 17-12 16-37 67-53 82-149 216-41 66-31 58-26 58-19 49-18 58M1731 4129l0 17 5 33-4 8-24 25-11 8-12 8-43 25-35 25-20 17-14 16-8 17-4 16-6 42-6 16-6 9-14 16-9 8-79 58-17 17-13 16-7 17-12 41-12 25-20 25-42 42-16 16-17 25-11 25-11 41-9 25-13 25-26 41-14 25-7 17-8 24M1711 4129l0 42-1 8-10 8-15 8-33 17-75 33-13 8-30 33-41 58-81 100-25 33-23 33-20 33-27 50-26 49-19 42-69 165-18 50-13 41M1718 4129l-1 25-4 25-10 8-33 17-97 41-14 8-17 17-20 25-49 91-43 83-24 41-37 58-85 116-21 33-19 33-21 41-20 50-15 50-12 49M1695 4129l-3 42-2 8-13 8-44 17-123 41-15 8-9 9-13 16-14 25-19 50-19 33-28 41-78 99-21 34-18 33-16 41-37 108-41 107-12 42-10 49M1686 4129l-3 42-2 8-15 8-48 17-137 41-18 8-10 9-16 16-12 17-9 16-14 33-28 58-52 116-26 50-63 108-28 57-18 50-14 50-10 49-7 58M1660 4129l0 42-2 8-17 8-58 17-161 41-21 8-12 9-20 16-22 25-60 91-14 25-10 25-30 91-48 116-17 49-10 58-18 182M1713 4129l0 42-2 8-9 8-48 25-70 33-11 8-12 17-10 16-22 50-8 17-32 49-37 50-103 124-25 33-23 33-15 25-14 25-26 58-33 91-32 99M1713 4129l0 42-1 8-9 8-15 8-32 17-72 33-12 8-28 33-46 67-57 66-40 50-41 57-44 75-22 41-19 42-69 165-19 50-13 41M1731 4129l0 17-5 33-8 8-12 8-26 17-58 33-9 8-11 17-8 16-17 50-7 17-13 24-17 25-19 25-22 25-77 74-32 34-28 33-25 33-15 25-13 25-46 107-54 108-22 49M1691 4129l0 33-3 17-13 8-44 17-125 41-16 8-18 17-13 16-10 17-23 50-19 33-32 49-71 100-19 33-17 33-23 58-63 182-14 50-9 49M1737 4129l0 17-4 33-7 8-35 25-59 33-11 8-23 25-19 25-27 41-45 67-106 165-69 100-65 99-24 41-23 42-19 41-15 41M1674 4129l-1 42-2 8-16 8-52 17-145 41-19 8-10 9-16 16-12 17-30 58-44 74-31 58-53 108-33 74-20 58-14 58-14 75-12 82M1688 4129l0 42-1 8-13 8-21 8-139 50-15 8-8 9-19 24-25 50-16 25-79 108-34 49-20 33-23 42-20 41-17 42-17 49-32 108-16 58-12 49M1713 4129l0 42-1 8-10 8-45 25-66 33-10 8-10 17-9 16-18 42-9 16-22 33-48 58-91 100-26 33-24 33-25 41-20 42-80 207-18 49M1710 4129l0 17 3 33-8 8-41 25-63 33-12 8-89 83-24 25-20 25-10 16-7 17-19 58-8 16-10 17-26 33-70 75-18 24-10 17-7 17-6 16-14 58-8 25-14 33-30 58-12 25-9 25-7 24M1703 4129l-1 33-2 17-12 8-135 58-11 8-13 25-11 33-6 17-16 25-23 24-71 67-23 25-12 16-9 17-8 16-20 58-14 33-20 33-50 75-10 16-12 25-14 42-19 82-17 58M1704 4129l0 42-1 8-11 8-17 8-36 17-81 33-14 8-17 17-22 25-39 49-49 58-24 33-25 42-56 116-66 116-24 49-17 42-13 41-11 41-12 58M1706 4129l0 42-1 8-10 8-51 25-75 33-12 8-18 25-30 50-12 16-77 91-20 25-17 25-25 41-39 75-62 108-20 41-18 41-15 42-15 49-15 58M1750 4129l2 42-1 8-5 8-16 17-10 8-25 16-30 17-12 8-15 17-6 8-4 8-4 17-1 25-1 16-6 17-11 16-8 9-19 16-69 50-26 25-7 8-10 17-19 49-9 17-6 8-24 25-57 50-22 25-14 24-17 50-11 25-15 25-36 49-15 25-11 25-12 41M1679 4129l0 42-2 8-15 8-23 8-155 50-15 8-8 9-13 16-12 25-16 41-18 33-32 50-87 124-30 50-20 41-17 42-12 41-45 215M1738 4129l0 25-2 25-6 8-67 58-6 8-28 67-16 24-13 17-24 25-81 74-24 25-22 25-18 25-44 74-21 33-84 116-27 42-13 25-16 33-12 33-17 49M1678 4129l2 42-2 8-14 8-48 17-139 41-19 8-22 17-18 16-14 17-12 17-32 57-29 67-16 33-15 25-49 74-14 25-11 25-13 41-21 100-32 107-7 33-4 33M1743 4129l0 50-5 8-24 25-50 41-71 83-66 66-31 33-34 42-25 33-21 33-93 157-88 141-26 50-21 49M1751 4129l-1 42-2 8-4 8-22 25-36 33-8 8-21 33-26 50-15 25-39 58-24 33-28 33-58 66-90 100-28 33-31 41-39 58-29 50-25 49-24 58M1706 4129l-1 42-2 8-11 8-36 17-100 41-13 8-20 25-15 25-23 50-44 74-38 58-110 157-20 34-19 33-24 49-23 58-18 58-17 66M1694 4129l-1 42-1 8-12 8-61 25-86 33-13 8-19 25-25 42-18 24-59 67-30 41-19 33-30 66-13 25-54 91-21 42-15 41-53 190M1670 4129l0 42-2 8-16 8-54 17-149 41-19 8-11 9-17 16-14 17-32 49-46 67-29 49-21 50-18 50-47 140-19 67-16 66-11 58-6 49M1709 4129l0 33-2 17-11 8-35 17-105 41-14 8-18 17-20 25-10 16-22 42-36 66-19 33-28 41-87 116-21 33-14 25-11 25-13 33-72 215M1712 4129l-1 42-2 8-11 8-17 8-113 50-11 8-5 9-7 16-12 42-8 16-5 8-22 25-72 66-15 17-12 17-13 24-18 50-12 25-23 33-35 41-19 25-11 17-8 16-10 25-21 75-10 25-34 74-13 41M1742 4129l2 50-4 8-22 25-19 16-32 25-53 50-56 58-20 25-11 16-9 17-31 66-16 25-12 16-21 25-15 17-76 74-22 25-12 17-10 16-13 25-43 108-53 107M1671 4129l0 42-1 8-16 8-77 25-112 33-17 8-17 17-13 16-38 67-61 82-23 34-24 41-21 41-18 42-19 58-19 66-26 116-12 58-8 49M1681 4129l-1 42-3 8-15 8-50 17-141 41-18 8-10 9-17 16-13 17-10 16-16 33-36 67-61 132-64 124-22 50-18 50-15 58-11 57-7 58M1753 4129l-1 50-4 8-16 25-24 33-5 8-33 75-19 33-31 41-35 42-25 25-71 66-69 66-39 41-27 34-41 57-34 58-38 75-33 74M1727 4129l0 42-1 8-8 8-39 25-62 33-11 8-15 17-20 25-38 58-222 314-40 66-34 67-28 66-25 74M1721 4129l-1 50-9 8-26 17-77 41-11 8-26 33-41 58-107 125-27 33-24 33-41 66-23 41-16 34-78 173-20 50-14 41M1735 4129l0 50-6 8-59 58-6 8-21 42-10 16-12 17-14 16-17 17-66 58-35 33-31 33-19 25-15 25-39 74-21 33-34 50-62 83-26 41-13 25-14 33-22 66M1750 4129l0 50-4 8-17 25-33 41-35 58-16 25-20 25-39 41-41 42-69 66-32 33-50 58-25 33-17 25-30 50-45 82-43 83-31 66M1757 4129l-3 50-4 8-45 66-28 75-8 16-15 25-24 33-30 33-26 25-86 75-44 41-41 42-27 33-18 25-25 41-123 223M1742 4129l-1 50-5 8-27 25-62 41-44 42-30 33-34 41-18 25-14 25-33 66-15 25-18 25-34 41-78 83-14 17-18 24-15 25-16 33-41 108-31 74M1713 4129l0 42-1 8-10 8-15 8-32 17-74 33-12 8-29 33-40 58-87 108-48 66-21 33-29 50-22 41-20 42-25 58-40 99-18 50-15 49M1730 4129l2 50-6 8-27 25-41 33-8 8-36 50-21 25-25 25-62 58-30 33-19 25-16 24-39 75-20 33-24 33-64 83-23 33-20 33-20 42-15 41-24 74M1674 4129l0 33-3 17-16 8-26 8-168 50-17 8-9 9-13 16-12 25-16 50-24 49-30 50-85 124-24 42-15 33-12 33-8 33-20 116-21 107M1748 4129l-1 50-4 8-21 25-40 41-44 67-24 33-67 74-102 108-54 66-43 58-35 58-50 91-37 74-26 58M1775 4129l-3 50-6 33-2 8-8 17-16 25-47 66-33 41-64 75-75 82-94 108-48 58-63 83-41 58-36 58-27 49M1698 4129l0 42-1 8-12 8-39 17-109 41-15 8-9 9-16 16-13 17-34 49-60 75-35 50-26 41-17 33-28 58-28 66-26 66-39 108-16 50-12 49M1747 4129l0 17-4 25-3 8-7 8-34 25-55 33-8 8-10 17-5 16-4 42-4 16-4 9-10 16-15 17-17 16-85 67-18 16-15 17-17 24-25 58-8 17-11 17-19 24-54 58-27 33-11 17-12 25-33 91-37 74M1708 4129l-3 25-3 17-2 8-13 8-21 8-109 42-19 8-11 8-7 17-11 41-8 17-7 8-16 17-60 49-15 17-6 8-5 8-6 17-10 41-11 25-18 25-54 58-12 17-8 16-8 25-8 41-8 25-13 25-29 50-11 25-7 24-9 58-8 33M1754 4129l0 25-2 17-2 8-4 8-24 25-42 33-9 8-13 17-11 16-10 17-23 50-22 41-20 33-11 17-20 25-23 24-103 100-33 33-29 33-18 25-15 25-19 33-97 198M1676 4129l1 42-2 8-15 8-51 17-147 41-20 8-24 17-28 25-22 25-35 49-15 25-14 33-8 25-17 66-16 42-16 33-46 83-12 24-9 25-9 33-6 33-14 149M1728 4129l-1 50-6 8-32 25-51 33-9 8-70 83-83 83-28 33-18 25-25 41-29 58-23 42-21 33-72 107-29 50-12 25-13 33-11 33-11 41M1726 4129l0 33-2 17-9 8-44 25-75 33-14 8-8 9-14 16-9 17-15 58-8 16-11 17-14 16-16 17-65 58-15 16-13 17-13 25-21 49-13 25-16 25-52 66-20 33-13 34-24 74-33 75-10 24M1681 4129l1 42-1 8-13 8-66 25-94 33-14 8-21 25-34 50-12 16-79 83-20 25-12 17-14 24-11 25-9 25-19 66-11 33-16 42-41 91-16 41-7 25-8 33-5 33-4 33M1725 4129l0 42-1 8-8 8-25 17-75 41-11 8-30 33-44 58-41 50-19 25-28 41-74 116-73 108-39 66-21 41-21 50-17 50-15 49M1733 4129l0 33-2 17-8 8-23 17-67 41-10 8-12 17-9 16-25 58-13 25-20 33-23 33-34 42-123 132-27 33-18 25-25 42-24 49-39 91-37 91M1749 4129l-4 50-5 8-24 25-41 33-8 8-23 33-41 67-59 82-34 42-140 165-26 34-29 41-37 58-28 50-28 57-24 58M1746 4129l-1 50-4 8-21 25-33 33-7 8-42 67-24 33-29 33-124 132-27 33-44 58-45 67-86 140-36 66-26 58M1659 4129l1 42-2 8-17 8-28 8-184 50-18 8-18 17-12 16-10 17-25 50-63 91-25 41-26 50-17 41-18 58-16 66-31 174-9 66M1730 4129l-2 42-2 8-9 8-43 25-74 33-13 8-26 25-17 25-7 17-17 49-10 25-12 25-11 16-12 17-23 25-62 58-24 25-21 24-12 17-10 17-12 24-27 75-15 33-17 33-34 58-16 33-14 33-9 33M1774 4129l0 17-4 33-8 33-7 16-21 42-23 50-15 24-19 25-23 25-87 83-24 25-71 82-78 83-29 33-25 33-22 34-77 124-28 49M1714 4129l0 42-1 8-10 8-32 17-96 41-14 8-17 17-21 25-33 49-40 58-26 42-30 49-51 91-53 92-44 82-25 50-22 50-15 41-12 41M1720 4129l0 33-3 17-9 8-31 17-92 41-13 8-16 17-13 16-10 17-68 132-29 50-52 75-85 107-22 33-20 33-21 42-21 50-16 49-18 66M1682 4129l1 42 0 8-14 8-65 25-94 33-14 8-20 25-30 50-17 25-102 116-25 33-17 24-15 25-16 33-10 25-11 33-11 42-24 107-39 149M1760 4129l0 42-1 8-3 8-17 33-22 33-36 83-14 25-16 25-30 41-29 33-33 33-142 133-32 33-28 33-37 50-37 58-35 66-35 74M1765 4129l-1 17-3 25-2 8-3 8-17 25-30 33-6 8-11 17-13 25-20 49-11 25-14 25-15 25-19 25-23 25-26 24-123 108-33 33-29 33-17 25-20 33-58 108-59 107M1678 4129l-1 42-2 8-15 8-51 17-143 41-19 8-11 9-18 16-15 17-73 107-29 50-19 41-15 42-60 174-24 74-17 58-11 50-8 49M1733 4129l0 33-3 17-7 8-25 17-73 41-11 8-12 17-11 16-29 67-15 24-12 17-35 41-81 83-14 17-18 25-21 33-56 99-52 83-18 33-13 25-14 33-24 74M1740 4129l1 50-5 8-23 25-34 33-6 8-38 67-17 24-22 25-24 25-104 99-33 33-35 42-36 50-21 33-14 25-49 99-60 116-23 49M1665 4129l-1 42-2 8-17 8-27 8-181 50-19 8-9 9-13 16-10 17-17 49-13 25-24 42-78 115-23 42-15 33-11 33-11 42-18 107-23 108-8 49M1725 4129l-1 50-7 8-12 8-25 17-56 33-9 8-24 33-26 42-18 25-109 124-27 33-24 33-32 50-34 58-74 140-21 42-19 41-13 33-12 33M1741 4129l-4 50-6 8-28 25-42 33-7 8-29 58-15 25-21 25-58 58-37 41-25 33-57 83-69 83-25 33-16 25-18 33-35 75-41 82-15 33M1745 4129l-1 50-5 8-15 17-41 41-7 8-38 75-22 33-27 33-37 41-92 91-38 42-42 50-30 41-30 50-54 99-38 74-28 58M1683 4129l-1 42-2 8-15 8-48 17-135 41-17 8-17 17-12 16-9 17-17 41-9 17-27 41-51 67-17 24-20 33-16 34-35 99-38 99-14 42-14 58-13 82M1698 4129l1 42-2 8-12 8-40 17-122 41-18 8-30 25-22 25-10 17-9 16-15 33-24 58-17 33-22 33-54 67-19 24-15 25-13 25-7 17-7 25-16 66-7 25-44 115-8 25-7 33M1715 4129l0 42-1 8-9 8-31 17-16 8-76 33-14 8-28 25-24 25-64 74-25 34-16 24-13 25-41 91-17 33-21 34-60 91-15 24-17 34-15 33-14 41-11 41-13 58M1720 4129l0 42-1 8-9 8-95 58-8 8-24 50-16 25-22 25-62 58-22 24-23 34-33 66-15 25-26 33-50 58-18 25-10 16-13 25-33 91-43 91-16 41M1768 4129l-1 50-7 41-12 42-10 24-87 116-36 33-94 83-32 33-42 50-62 83-40 49-39 58-36 50-32 50-26 49M1685 4129l1 42-2 8-13 8-45 17-132 41-18 8-32 25-15 17-12 16-13 25-32 75-13 24-17 25-58 75-15 25-8 16-9 25-23 83-9 25-28 66-12 33-9 41-13 91M1736 4129l1 50-5 8-26 25-38 33-6 8-37 67-17 24-14 17-39 41-86 83-33 33-35 42-30 41-21 33-18 33-50 100-62 115-27 58M1693 4129l-1 42-2 8-13 8-44 17-126 41-17 8-10 9-16 16-11 17-9 16-26 58-35 66-27 42-71 99-20 33-17 33-10 25-8 25-24 91-34 108-13 49M1684 4129l0 42-2 8-14 8-22 8-147 50-15 8-16 17-12 16-34 67-77 116-41 66-38 66-29 58-23 58-24 74-18 75-14 74M1662 4129l1 42-2 8-16 8-27 8-177 50-18 8-10 9-15 16-11 17-31 58-63 91-31 49-30 58-25 58-22 67-13 57-17 108-11 99M1718 4129l0 42-1 8-9 8-43 25-63 33-10 8-17 25-29 58-17 25-40 50-95 107-20 25-23 33-30 50-25 50-85 182-18 41-14 41M1679 4129l0 42-1 8-14 8-71 25-102 33-15 8-15 17-12 16-36 58-61 75-30 41-14 25-12 25-35 91-45 99-16 42-11 33-10 41-10 50-13 74M1695 4129l-2 42-2 8-14 8-43 17-122 41-16 8-9 9-16 16-12 17-31 58-43 74-73 141-59 108-25 49-24 58-18 50-14 49-12 58M1742 4129l0 25-2 25-6 8-28 25-48 33-10 8-14 17-19 25-35 49-85 116-81 108-71 91-29 41-37 58-32 58-27 58-25 66M1728 4129l0 33-3 17-8 8-27 17-14 8-68 33-13 8-25 25-14 17-71 99-31 50-77 132-88 133-45 74-22 42-15 33-16 41-12 41M1756 4129l-2 50-3 8-6 8-18 25-31 33-54 75-19 25-152 173-59 75-38 50-50 74-57 91-37 66-28 58M1731 4129l-1 42-1 8-8 8-39 25-63 33-11 8-22 25-13 17-112 182-47 74-29 42-66 91-33 49-26 42-24 41-21 42-18 41-14 41M1680 4129l0 42-1 8-15 8-47 17-133 41-17 8-10 9-17 16-13 17-34 49-59 75-29 41-24 42-19 41-17 41-19 58-20 67-30 124-14 58-9 49M1760 4129l-3 50-3 8-10 17-20 24-24 25-31 42-35 49-83 108-95 116-79 91-51 66-40 58-31 50-26 49-26 58M1702 4129l0 42-1 8-12 8-58 25-83 33-13 8-13 17-9 16-21 67-12 24-20 34-17 24-20 25-90 100-19 24-18 25-20 33-18 42-11 33-30 99-43 124M1744 4129l0 42-2 8-5 8-19 17-21 16-35 25-10 8-7 9-23 33-34 58-52 82-29 42-63 83-89 107-50 66-39 58-29 50-24 50-19 49M1697 4129l0 42-2 8-12 8-59 25-86 33-13 8-14 17-10 16-27 58-20 33-36 50-78 99-34 50-34 58-16 33-10 25-15 41-38 125-24 82M1712 4129l-2 42-1 8-11 8-33 17-93 41-12 8-6 9-12 16-9 17-17 41-11 25-19 33-26 41-35 50-98 124-36 50-16 25-19 33-26 58-26 74-25 91M1705 4129l0 33-2 17-12 8-38 17-112 41-16 8-19 17-20 25-10 16-17 42-16 33-24 41-23 33-69 83-23 33-14 25-18 41-22 67-13 33-47 107-13 42-11 49M1703 4129l0 25 3 17-1 8-9 8-49 25-81 33-16 8-33 25-30 25-23 25-18 25-9 16-7 17-13 49-6 17-13 25-12 16-15 17-65 66-19 25-9 17-7 16-5 17-11 58-11 33-12 25-36 66-13 33-9 33-6 41M1669 4129l1 42-2 8-17 8-26 8-57 17-130 33-22 8-22 17-9 8-14 17-5 8-6 17-10 33-5 16-16 33-22 33-52 67-14 24-8 17-7 25-9 58-6 25-9 25-27 66-10 33-5 33-6 74-8 58M1767 4129l-1 17-5 33-14 33-8 25-2 8-2 33-4 17-4 8-13 17-9 16-6 8-9 9-77 58-20 16-17 17-14 16-12 17-33 58-11 16-25 25-23 25-61 50-18 16-15 17-13 16-16 25-27 58-14 25-12 17-15 24-35 50-24 41M1720 4129l0 50-8 8-13 8-26 17-60 33-11 8-20 25-43 58-92 99-27 34-24 33-25 41-52 99-95 174-15 33-14 33-18 58M1689 4129l2 42-1 8-11 8-57 25-82 33-12 8-60 75-23 25-61 58-21 24-12 17-9 17-10 24-22 75-14 33-18 33-51 83-13 25-11 25-8 24-6 25-22 124M1736 4129l-1 33-2 17-6 8-33 25-53 33-10 8-7 9-25 33-25 41-17 25-131 174-96 132-46 75-42 74-31 66-22 58M1712 4129l-5 42-2 8-11 8-37 17-106 41-14 8-21 25-14 25-18 50-15 33-16 33-14 25-17 25-19 24-76 91-27 34-22 33-15 25-15 33-12 33-31 107-28 91M1745 4129l-1 50-5 8-24 25-40 33-9 8-71 91-67 75-72 83-26 33-41 58-48 74-86 149-35 66-26 58M1758 4129l-2 25-5 25-5 8-7 8-55 50-5 8-6 17-8 33-5 17-9 16-6 8-16 17-60 50-26 24-19 25-34 58-19 25-24 25-63 58-15 16-13 17-9 17-23 49-14 25-54 75-15 24-16 33-21 58M1740 4129l0 17-5 33-6 8-71 58-6 8-6 17-10 41-6 17-8 16-11 17-14 16-25 25-107 91-25 25-19 25-21 33-38 75-25 41-23 33-49 66-27 42-13 25-11 24-19 58M1754 4129l-1 42-1 8-3 8-19 25-29 33-6 8-17 33-24 50-20 33-31 42-28 33-143 140-39 42-27 33-28 41-35 58-59 108-37 74M1746 4129l-5 50-6 8-18 17-54 41-8 8-21 33-22 50-18 33-20 33-23 33-21 25-22 25-129 133-28 33-24 33-26 41-26 50-38 83-36 82M1751 4129l-1 50-4 8-6 8-20 25-34 33-65 83-63 75-121 157-90 108-41 57-27 42-27 50-27 57-24 58M1677 4129l1 42-1 8-14 8-23 8-48 17-105 33-17 8-18 17-15 16-42 58-48 58-24 33-15 25-15 33-39 108-47 108-18 49-13 42-9 41-7 41-7 58M1760 4129l0 50-11 41-15 42-11 24-16 34-10 16-27 33-32 33-44 42-107 91-50 49-37 42-25 33-21 33-114 199-27 49M1706 4129l-2 42-2 8-11 8-37 17-107 41-14 8-17 17-13 16-10 17-25 50-73 124-46 74-71 108-32 58-23 50-22 58-17 57-14 58M1714 4129l0 25-2 17-2 8-11 8-55 25-83 33-13 8-7 9-10 16-6 17-9 33-7 16-5 9-21 24-69 67-20 25-14 24-20 50-12 25-17 25-46 58-11 16-9 17-10 25-23 74-44 99-8 25-8 33M1718 4129l0 33-2 17-10 8-30 17-90 41-13 8-23 25-18 25-29 50-69 107-131 182-25 42-28 58-38 99-33 99M1677 4129l-1 42-1 8-15 8-75 25-107 33-15 8-16 17-11 16-26 50-10 17-71 91-23 33-19 33-19 41-80 224-13 41-8 33-7 42-7 49M1669 4129l0 42-2 8-16 8-27 8-173 50-18 8-17 17-13 16-10 17-23 50-59 99-35 66-36 75-32 74-20 58-17 66-14 75-9 74M1708 4129l0 42-2 8-11 8-52 25-75 33-11 8-16 25-21 42-15 24-21 25-55 58-20 25-11 17-15 24-30 58-13 25-62 91-23 42-14 33-24 74-32 83-13 41M1723 4129l0 33-2 17-8 8-91 58-9 8-27 50-16 25-22 25-59 58-28 33-22 33-37 66-16 25-19 25-48 58-18 25-16 24-16 33-32 83-41 91-13 33M1705 4129l-1 42-2 8-11 8-37 17-107 41-15 8-9 9-15 16-13 17-33 58-56 91-106 157-34 58-19 41-15 42-46 140-17 58M1724 4129l0 42-1 8-8 8-25 17-76 41-12 8-30 33-45 58-68 75-37 41-26 33-24 33-40 67-38 74-84 199-28 74M1737 4129l0 25-3 25-7 8-33 25-55 33-11 8-22 25-154 215-115 166-53 83-43 74-32 66-22 58M1665 4129l1 42-2 8-16 8-80 25-115 33-17 8-17 17-14 16-41 58-40 50-18 25-10 16-12 25-33 91-45 100-16 41-10 41-11 75-18 91-7 41M1713 4129l0 42-1 8-9 8-31 17-90 41-13 8-30 33-42 58-76 91-25 34-24 33-20 33-24 41-25 50-24 50-75 173-18 50-13 41M1731 4129l-1 50-6 8-34 25-56 33-10 8-29 33-46 58-72 83-33 42-30 41-21 33-73 124-80 141-33 66-13 33-12 33M1755 4129l-1 50-3 8-11 17-21 24-24 25-66 83-111 124-34 42-26 33-95 132-89 133-25 41-19 33-17 33-15 33M1727 4129l0 33-2 17-9 8-44 25-77 33-14 8-18 17-7 8-10 17-6 16-6 33-5 17-7 16-10 17-21 25-18 16-58 50-16 17-14 16-14 25-22 58-12 25-16 25-51 66-21 33-13 33-16 58-8 25-31 74M1706 4129l-1 25-3 25-11 8-37 17-104 41-13 8-21 25-14 25-21 50-19 33-25 41-35 50-94 124-27 41-18 34-19 41-15 41-31 100-24 82M1732 4129l0 50-5 8-32 25-73 41-20 17-17 16-13 17-4 8-7 17-10 33-6 16-15 25-13 17-17 16-49 42-18 16-20 25-10 17-22 49-15 25-19 25-43 50-12 16-10 17-11 25-14 41-10 25-44 83-11 25-7 24M1759 4129l-3 50-3 8-13 25-25 41-31 75-8 16-15 25-25 33-37 42-35 33-75 66-53 50-40 41-28 33-29 42-35 58-49 91-42 82M1723 4129l1 42-1 8-8 8-26 17-78 41-12 8-32 33-47 58-77 83-34 42-24 33-30 49-46 91-48 108-54 116-17 41-12 33M1685 4129l1 42-2 8-13 8-44 17-123 41-16 8-9 9-17 16-15 17-37 49-48 58-24 33-20 34-15 33-44 116-47 107-19 50-14 41-11 42-8 41-5 41M1761 4129l-1 42-1 8-3 8-19 25-17 16-32 25-15 17-12 16-5 9-7 16-15 50-8 16-10 17-12 17-25 24-84 67-26 24-14 17-17 25-28 50-17 24-26 34-58 66-24 33-18 33-32 74-29 58M1731 4129l0 50-7 8-31 25-69 41-39 33-25 25-21 25-22 33-12 25-20 50-9 16-11 17-28 33-77 74-21 25-12 17-18 33-23 66-11 25-18 33-35 58-17 33-13 33-9 33M1744 4129l-2 50-5 8-8 8-17 17-37 33-6 8-17 33-25 58-20 33-23 34-19 24-29 34-123 124-39 41-34 42-30 41-30 50-26 49-26 58-27 66M1678 4129l0 17-4 25-3 8-17 8-27 8-174 50-16 8-7 9-9 16-4 17-2 25-3 16-7 17-5 8-13 16-16 17-55 50-17 16-19 25-10 17-8 24-2 17-5 50-3 16-5 17-16 33-39 66-7 17-8 25-6 33-6 82-11 58M1749 4129l0 17-3 25-1 8-5 8-27 25-46 33-10 8-14 17-18 25-86 140-29 42-60 74-97 108-27 33-23 33-26 42-27 49-26 58-25 66M1699 4129l-2 42-1 8-13 8-39 17-112 41-15 8-15 17-13 16-10 17-24 50-173 281-20 33-17 33-26 58-21 58-17 58-15 66M1743 4129l0 33-1 17-6 8-58 58-4 8-17 58-12 25-13 17-24 24-80 67-27 25-24 24-12 17-16 25-26 49-21 34-26 33-72 82-29 42-21 41-51 124M1670 4129l0 42-2 8-16 8-27 8-57 17-126 33-20 8-12 9-19 16-15 17-11 16-50 83-20 41-13 34-40 115-58 141-17 58-12 50-7 49-4 58M1745 4129l0 25-1 17-2 8-5 8-28 25-46 33-10 8-6 9-24 33-33 58-53 82-23 34-70 91-98 116-54 74-32 50-23 41-23 50-20 49M1734 4129l-1 50-5 8-29 25-44 33-8 8-42 58-19 25-63 66-29 33-19 25-24 33-64 100-63 83-29 41-26 41-26 50-20 50-31 82M1729 4129l-2 33-1 17-8 8-26 17-14 8-65 33-12 8-23 25-13 17-35 49-60 83-156 240-55 91-26 50-20 41-16 42-16 49M1742 4129l1 50-4 8-20 25-41 41-19 25-34 42-24 24-79 75-29 33-19 25-23 33-38 66-26 42-104 140-33 50-14 25-15 33-13 33-14 41M1761 4129l2 50-4 41-4 17-8 16-14 17-62 58-23 25-16 24-25 58-11 17-8 8-27 25-77 58-27 25-14 16-17 25-29 50-17 25-21 25-46 49-25 33-14 25-34 75-28 49M1690 4129l-2 42-1 8-14 8-21 8-142 50-15 8-8 9-12 16-13 25-18 50-44 82-35 58-104 158-19 33-17 33-20 50-19 58-14 57-10 58M1676 4129l0 42-1 8-14 8-24 8-48 17-107 33-17 8-19 17-15 16-45 58-66 75-24 33-19 33-13 33-10 33-17 67-12 41-56 166-15 57-8 58M1668 4129l0 42-2 8-17 8-56 17-159 41-20 8-11 9-18 16-13 17-14 25-43 91-13 33-26 74-19 50-56 124-20 50-15 49-12 50-7 50-4 49M1741 4129l0 17-5 33-7 8-22 17-65 41-10 8-19 25-10 17-26 58-17 33-23 41-21 33-20 25-28 33-124 133-20 25-24 33-25 41-24 50-24 58-30 82M1733 4129l-1 50-6 8-10 8-21 17-46 33-8 8-18 33-19 42-8 16-16 25-18 25-26 33-22 25-80 83-52 58-35 41-24 33-30 50-29 58-37 83-32 82M1685 4129l0 42-2 8-14 8-46 17-134 41-19 8-21 17-18 16-14 17-12 17-31 49-13 25-40 91-16 33-19 33-46 75-14 25-11 25-9 24-7 25-20 108-24 107M1672 4129l0 42-1 8-15 8-77 25-112 33-17 8-17 17-14 16-44 67-67 82-29 42-25 41-20 42-16 41-15 50-9 33-8 41-36 215M1743 4129l-1 50-5 8-16 17-43 41-7 8-42 83-27 41-26 34-29 33-89 91-76 83-35 41-23 33-36 58-31 58-31 66-27 66M1723 4129l0 17-4 33-8 8-29 17-81 41-11 8-7 9-11 16-9 17-21 49-17 33-28 50-21 33-24 33-45 58-88 108-29 41-36 58-29 58-22 58-20 66M1735 4129l-1 50-6 8-29 25-46 33-8 8-23 33-25 42-18 25-42 49-113 124-45 58-36 50-30 50-47 91-43 91-31 74M1676 4129l0 42-1 8-14 8-165 58-14 8-19 25-31 50-13 16-75 75-22 25-11 16-14 25-9 25-18 74-14 42-16 33-38 74-11 25-9 25-7 25-6 33-11 99M1715 4129l1 50-8 8-27 17-77 41-12 8-71 75-59 58-22 25-12 16-10 17-13 25-31 74-17 33-21 33-50 67-23 33-16 24-13 25-10 25-12 33-32 124M1747 4129l1 50-4 8-20 25-18 16-30 25-40 42-66 74-31 42-50 82-36 50-28 33-78 83-20 25-18 25-21 33-16 33-73 165M1766 4129l0 50-2 58-4 8-27 41-16 34-35 33-79 66-41 41-34 42-43 66-18 25-42 41-33 42-48 49-29 33-25 33-25 42-20 41-29 66M1702 4129l3 42-1 8-10 8-33 17-97 41-15 8-44 42-70 74-21 25-18 25-10 16-12 25-31 83-16 33-20 33-62 91-14 25-12 25-9 25-10 33-28 132M1743 4129l-2 50-6 8-58 58-6 8-28 58-16 25-29 33-86 83-37 41-24 33-31 50-23 33-78 100-30 41-20 33-17 33-19 42-33 82M1705 4129l0 83-10 8-39 25-10 8-21 25-18 25-81 132-28 42-61 74-88 100-20 25-18 24-31 50-25 50-26 58-32 82M1729 4129l0 91-5 8-22 25-47 67-19 24-163 182-54 67-37 49-51 75-68 108-32 57-29 58M1711 4129l0 91-3 8-33 25-17 17-26 25-21 25-18 24-15 25-37 75-10 16-13 17-32 33-90 83-23 25-13 16-20 33-31 66-17 34-53 82-20 33-12 25-13 33M1700 4129l0 91-5 8-30 25-66 75-73 74-29 33-26 34-27 41-38 66-21 33-101 141-33 50-18 33-16 33-13 33-13 41M1705 4129l0 108-19 16-24 25-20 25-53 74-57 92-31 41-49 58-96 99-39 50-27 41-23 42-27 58-35 82M1689 4129l-1 83-55 33-10 8-7 9-23 33-33 58-57 82-153 199-30 42-41 66-37 66-30 66-24 66M1700 4129l0 66-3 9-13 8-61 33-12 8-38 42-97 124-39 58-65 107-76 116-46 75-21 41-19 42-16 41-12 41M1667 4129l0 91-10 8-28 17-10 8-7 9-22 33-32 58-56 82-31 42-120 157-35 50-42 66-36 66-30 66-21 58M1692 4129l0 124-1 9-10 24-13 42-7 16-9 17-24 33-30 33-26 25-80 66-27 25-41 41-27 34-29 41-55 99-78 124-19 34-13 24M1703 4129l0 75-6 8-53 33-10 8-12 17-9 16-19 50-7 17-10 16-12 17-14 16-23 25-79 75-21 24-13 17-60 99-75 108-25 41-23 50-37 99M1718 4129l0 75-9 8-49 33-10 8-22 25-19 25-97 149-29 41-50 67-83 99-44 58-37 58-27 50-26 57-21 58M1720 4129l0 116-12 17-14 24-22 58-13 25-18 25-31 33-28 25-70 58-26 25-21 25-83 116-74 91-25 33-16 25-13 24-42 91M1721 4129l0 99-6 9-125 132-21 25-19 25-53 83-35 49-29 33-79 83-34 42-22 33-23 41-71 157M1759 4129l0 116-2 8-21 25-64 66-29 33-18 25-35 58-26 33-27 25-23 25-87 75-25 24-14 17-24 33-47 83-80 116-15 25-12 24M1698 4129l0 99-3 9-7 8-20 33-19 25-23 25-43 41-21 25-16 25-22 41-11 17-13 16-24 25-71 66-15 17-13 17-15 24-25 50-15 25-53 74-21 34-16 33-31 82M1710 4129l0 83-5 8-22 25-4 8-12 42-12 25-12 16-15 17-69 58-34 33-14 16-12 17-37 66-18 25-21 25-68 66-22 25-22 33-12 25-21 49-12 25-49 83-20 41M1687 4129l0 66-7 9-15 8-69 33-14 8-39 33-17 17-21 25-22 33-11 25-20 49-14 25-21 25-65 66-14 17-12 16-10 17-8 17-23 66-10 25-14 24-35 58-16 34-14 41-17 74M1716 4129l0 99-4 9-13 16-38 75-15 25-30 41-41 50-32 33-60 58-64 66-37 41-26 34-34 49-39 66-40 75-36 74M1715 4129l0 108-4 8-6 8-22 33-26 50-15 25-33 50-34 41-24 25-119 116-31 33-27 33-24 33-30 50-78 132-35 66M1745 4129l0 66-9 17-22 33-5 8-27 75-8 16-14 25-31 42-29 33-35 33-67 58-63 58-42 41-28 33-29 42-30 49-44 83-49 99M1710 4129l0 91-2 8-17 17-6 8-18 33-22 50-19 33-39 58-28 33-31 33-139 141-30 33-26 33-34 50-34 58-32 66-28 66M1705 4129l0 99-1 9-6 8-4 8-13 50-7 17-5 8-13 16-17 17-70 58-35 33-14 17-12 16-39 66-18 25-23 25-68 66-29 33-11 17-14 25-26 58-17 33-45 74-17 33M1700 4129l0 83-7 8-32 25-8 8-20 33-20 42-13 25-22 33-32 41-28 33-71 75-52 58-35 41-25 33-31 50-36 66-39 83-31 74M1717 4129l0 124-3 9-26 66-7 16-15 25-24 33-29 33-26 25-78 66-46 42-41 41-28 33-29 42-59 99-67 108-28 49M1728 4129l0 83-1 8-33 33-20 25-115 157-32 42-71 83-82 91-39 49-34 50-33 58-34 66-30 66M1722 4129l0 116-27 66-14 25-12 17-23 24-89 83-32 33-20 25-56 75-76 83-35 41-24 33-20 33-85 157M1733 4129l0 66-12 17-32 33-6 8-38 75-15 25-24 33-40 49-30 34-66 66-70 74-36 42-26 33-39 58-38 66-33 66-27 66M1736 4129l0 116-2 8-48 58-22 33-36 58-18 25-14 17-18 16-67 58-25 25-28 33-57 75-76 91-18 25-15 24-82 149M1689 4129l0 83-47 33-9 8-20 33-26 50-10 17-19 24-49 58-77 83-30 33-41 50-30 41-31 50-34 66-40 91-34 91M1692 4129l0 108-16 16-15 25-9 17-19 41-14 25-27 41-33 42-32 33-60 58-49 49-36 42-26 33-21 33-24 41-81 149-28 58" fill="none" stroke="#231f20" stroke-width="2.00" stroke-linejoin="round"/></g>
<rect x="118.4" y="483.5" width="352.6" height="413.8" fill="none" stroke="#6e6e6e" stroke-width="1.1"/>
<path d="M118.4,566.3h5.5M471.0,566.3h-5.5M118.4,649.0h5.5M471.0,649.0h-5.5M118.4,731.8h5.5M471.0,731.8h-5.5M118.4,814.5h5.5M471.0,814.5h-5.5M222.1,483.5v5.5M222.1,897.3v-5.5M325.8,483.5v5.5M325.8,897.3v-5.5M429.5,483.5v5.5M429.5,897.3v-5.5" stroke="#6e6e6e" stroke-width="1.1" fill="none"/>
<text transform="translate(95.02,490.60) scale(1.1900,1)" font-size="20.00" fill="#231f20">0</text>
<text transform="translate(63.81,573.36) scale(1.1900,1)" font-size="20.00" fill="#231f20">100</text>
<text transform="translate(63.81,656.12) scale(1.1900,1)" font-size="20.00" fill="#231f20">200</text>
<text transform="translate(63.81,738.88) scale(1.1900,1)" font-size="20.00" fill="#231f20">300</text>
<text transform="translate(63.81,821.64) scale(1.1900,1)" font-size="20.00" fill="#231f20">400</text>
<text transform="translate(63.81,904.40) scale(1.1900,1)" font-size="20.00" fill="#231f20">500</text>
<text transform="translate(110.20,472.50) scale(1.1900,1)" font-size="20.00" fill="#231f20">5</text>
<text transform="translate(206.82,472.50) scale(1.1900,1)" font-size="20.00" fill="#231f20">10</text>
<text transform="translate(310.59,472.50) scale(1.1900,1)" font-size="20.00" fill="#231f20">15</text>
<text transform="translate(414.53,472.50) scale(1.1900,1)" font-size="20.00" fill="#231f20">20</text>
<rect x="548.0" y="483.5" width="353.4" height="413.8" fill="none" stroke="#6e6e6e" stroke-width="1.1"/>
<path d="M548.0,566.3h5.5M901.4,566.3h-5.5M548.0,649.0h5.5M901.4,649.0h-5.5M548.0,731.8h5.5M901.4,731.8h-5.5M548.0,814.5h5.5M901.4,814.5h-5.5M651.9,483.5v5.5M651.9,897.3v-5.5M755.9,483.5v5.5M755.9,897.3v-5.5M859.8,483.5v5.5M859.8,897.3v-5.5" stroke="#6e6e6e" stroke-width="1.1" fill="none"/>
<text transform="translate(524.62,490.60) scale(1.1900,1)" font-size="20.00" fill="#231f20">0</text>
<text transform="translate(493.41,573.36) scale(1.1900,1)" font-size="20.00" fill="#231f20">100</text>
<text transform="translate(493.41,656.12) scale(1.1900,1)" font-size="20.00" fill="#231f20">200</text>
<text transform="translate(493.41,738.88) scale(1.1900,1)" font-size="20.00" fill="#231f20">300</text>
<text transform="translate(493.41,821.64) scale(1.1900,1)" font-size="20.00" fill="#231f20">400</text>
<text transform="translate(493.41,904.40) scale(1.1900,1)" font-size="20.00" fill="#231f20">500</text>
<text transform="translate(539.80,472.50) scale(1.1900,1)" font-size="20.00" fill="#231f20">5</text>
<text transform="translate(636.66,472.50) scale(1.1900,1)" font-size="20.00" fill="#231f20">10</text>
<text transform="translate(740.66,472.50) scale(1.1900,1)" font-size="20.00" fill="#231f20">15</text>
<text transform="translate(844.84,472.50) scale(1.1900,1)" font-size="20.00" fill="#231f20">20</text>
<rect x="118.3" y="998.2" width="352.7" height="414.1" fill="none" stroke="#6e6e6e" stroke-width="1.1"/>
<path d="M118.3,1081.0h5.5M471.0,1081.0h-5.5M118.3,1163.8h5.5M471.0,1163.8h-5.5M118.3,1246.7h5.5M471.0,1246.7h-5.5M118.3,1329.5h5.5M471.0,1329.5h-5.5M294.6,998.2v5.5M294.6,1412.3v-5.5" stroke="#6e6e6e" stroke-width="1.1" fill="none"/>
<text transform="translate(94.92,1005.30) scale(1.1900,1)" font-size="20.00" fill="#231f20">0</text>
<text transform="translate(63.71,1088.12) scale(1.1900,1)" font-size="20.00" fill="#231f20">100</text>
<text transform="translate(63.71,1170.94) scale(1.1900,1)" font-size="20.00" fill="#231f20">200</text>
<text transform="translate(63.71,1253.76) scale(1.1900,1)" font-size="20.00" fill="#231f20">300</text>
<text transform="translate(63.71,1336.58) scale(1.1900,1)" font-size="20.00" fill="#231f20">400</text>
<text transform="translate(63.71,1419.40) scale(1.1900,1)" font-size="20.00" fill="#231f20">500</text>
<text transform="translate(110.04,987.20) scale(1.1900,1)" font-size="20.00" fill="#231f20">0</text>
<text transform="translate(279.66,987.20) scale(1.1900,1)" font-size="20.00" fill="#231f20">20</text>
<text transform="translate(456.37,987.20) scale(1.1900,1)" font-size="20.00" fill="#231f20">40</text>
<rect x="548.0" y="998.2" width="353.5" height="414.1" fill="none" stroke="#6e6e6e" stroke-width="1.1"/>
<path d="M548.0,1081.0h5.5M901.5,1081.0h-5.5M548.0,1163.8h5.5M901.5,1163.8h-5.5M548.0,1246.7h5.5M901.5,1246.7h-5.5M548.0,1329.5h5.5M901.5,1329.5h-5.5M724.8,998.2v5.5M724.8,1412.3v-5.5" stroke="#6e6e6e" stroke-width="1.1" fill="none"/>
<text transform="translate(524.62,1005.30) scale(1.1900,1)" font-size="20.00" fill="#231f20">0</text>
<text transform="translate(493.41,1088.12) scale(1.1900,1)" font-size="20.00" fill="#231f20">100</text>
<text transform="translate(493.41,1170.94) scale(1.1900,1)" font-size="20.00" fill="#231f20">200</text>
<text transform="translate(493.41,1253.76) scale(1.1900,1)" font-size="20.00" fill="#231f20">300</text>
<text transform="translate(493.41,1336.58) scale(1.1900,1)" font-size="20.00" fill="#231f20">400</text>
<text transform="translate(493.41,1419.40) scale(1.1900,1)" font-size="20.00" fill="#231f20">500</text>
<text transform="translate(539.74,987.20) scale(1.1900,1)" font-size="20.00" fill="#231f20">0</text>
<text transform="translate(709.76,987.20) scale(1.1900,1)" font-size="20.00" fill="#231f20">20</text>
<text transform="translate(886.87,987.20) scale(1.1900,1)" font-size="20.00" fill="#231f20">40</text>
<rect x="114.8" y="1520.0" width="353.7" height="414.3" fill="none" stroke="#6e6e6e" stroke-width="1.1"/>
<path d="M114.8,1602.9h5.5M468.5,1602.9h-5.5M114.8,1685.7h5.5M468.5,1685.7h-5.5M114.8,1768.6h5.5M468.5,1768.6h-5.5M114.8,1851.4h5.5M468.5,1851.4h-5.5M256.3,1520.0v5.5M256.3,1934.3v-5.5M397.8,1520.0v5.5M397.8,1934.3v-5.5" stroke="#6e6e6e" stroke-width="1.1" fill="none"/>
<text transform="translate(91.42,1527.10) scale(1.1900,1)" font-size="20.00" fill="#231f20">0</text>
<text transform="translate(73.42,1609.96) scale(1.1900,1)" font-size="20.00" fill="#231f20">50</text>
<text transform="translate(60.21,1692.82) scale(1.1900,1)" font-size="20.00" fill="#231f20">100</text>
<text transform="translate(60.21,1775.68) scale(1.1900,1)" font-size="20.00" fill="#231f20">150</text>
<text transform="translate(60.21,1858.54) scale(1.1900,1)" font-size="20.00" fill="#231f20">200</text>
<text transform="translate(60.21,1941.40) scale(1.1900,1)" font-size="20.00" fill="#231f20">250</text>
<text transform="translate(106.54,1509.00) scale(1.1900,1)" font-size="20.00" fill="#231f20">0</text>
<text transform="translate(247.72,1509.00) scale(1.1900,1)" font-size="20.00" fill="#231f20">1</text>
<text transform="translate(389.56,1509.00) scale(1.1900,1)" font-size="20.00" fill="#231f20">2</text>
<rect x="544.5" y="1520.0" width="353.7" height="414.3" fill="none" stroke="#6e6e6e" stroke-width="1.1"/>
<path d="M544.5,1602.9h5.5M898.2,1602.9h-5.5M544.5,1685.7h5.5M898.2,1685.7h-5.5M544.5,1768.6h5.5M898.2,1768.6h-5.5M544.5,1851.4h5.5M898.2,1851.4h-5.5M686.0,1520.0v5.5M686.0,1934.3v-5.5M827.5,1520.0v5.5M827.5,1934.3v-5.5" stroke="#6e6e6e" stroke-width="1.1" fill="none"/>
<text transform="translate(521.12,1527.10) scale(1.1900,1)" font-size="20.00" fill="#231f20">0</text>
<text transform="translate(503.12,1609.96) scale(1.1900,1)" font-size="20.00" fill="#231f20">50</text>
<text transform="translate(489.91,1692.82) scale(1.1900,1)" font-size="20.00" fill="#231f20">100</text>
<text transform="translate(489.91,1775.68) scale(1.1900,1)" font-size="20.00" fill="#231f20">150</text>
<text transform="translate(489.91,1858.54) scale(1.1900,1)" font-size="20.00" fill="#231f20">200</text>
<text transform="translate(489.91,1941.40) scale(1.1900,1)" font-size="20.00" fill="#231f20">250</text>
<text transform="translate(536.24,1509.00) scale(1.1900,1)" font-size="20.00" fill="#231f20">0</text>
<text transform="translate(677.42,1509.00) scale(1.1900,1)" font-size="20.00" fill="#231f20">1</text>
<text transform="translate(819.26,1509.00) scale(1.1900,1)" font-size="20.00" fill="#231f20">2</text>
<rect x="113.3" y="2056.3" width="353.5" height="413.9" fill="none" stroke="#6e6e6e" stroke-width="1.1"/>
<path d="M113.3,2139.1h5.5M466.8,2139.1h-5.5M113.3,2221.9h5.5M466.8,2221.9h-5.5M113.3,2304.6h5.5M466.8,2304.6h-5.5M113.3,2387.4h5.5M466.8,2387.4h-5.5M240.0,2056.3v5.5M240.0,2470.2v-5.5M366.7,2056.3v5.5M366.7,2470.2v-5.5" stroke="#6e6e6e" stroke-width="1.1" fill="none"/>
<text transform="translate(89.92,2063.40) scale(1.1900,1)" font-size="20.00" fill="#231f20">0</text>
<text transform="translate(58.71,2146.18) scale(1.1900,1)" font-size="20.00" fill="#231f20">100</text>
<text transform="translate(58.71,2228.96) scale(1.1900,1)" font-size="20.00" fill="#231f20">200</text>
<text transform="translate(58.71,2311.74) scale(1.1900,1)" font-size="20.00" fill="#231f20">300</text>
<text transform="translate(58.71,2394.52) scale(1.1900,1)" font-size="20.00" fill="#231f20">400</text>
<text transform="translate(58.71,2477.30) scale(1.1900,1)" font-size="20.00" fill="#231f20">500</text>
<text transform="translate(105.04,2045.30) scale(1.1900,1)" font-size="20.00" fill="#231f20">0</text>
<text transform="translate(218.11,2045.30) scale(1.1900,1)" font-size="20.00" fill="#231f20">100</text>
<text transform="translate(345.11,2045.30) scale(1.1900,1)" font-size="20.00" fill="#231f20">200</text>
<rect x="543.6" y="2056.3" width="352.8" height="413.9" fill="none" stroke="#6e6e6e" stroke-width="1.1"/>
<path d="M543.6,2139.1h5.5M896.4,2139.1h-5.5M543.6,2221.9h5.5M896.4,2221.9h-5.5M543.6,2304.6h5.5M896.4,2304.6h-5.5M543.6,2387.4h5.5M896.4,2387.4h-5.5M670.1,2056.3v5.5M670.1,2470.2v-5.5M796.5,2056.3v5.5M796.5,2470.2v-5.5" stroke="#6e6e6e" stroke-width="1.1" fill="none"/>
<text transform="translate(520.22,2063.40) scale(1.1900,1)" font-size="20.00" fill="#231f20">0</text>
<text transform="translate(489.01,2146.18) scale(1.1900,1)" font-size="20.00" fill="#231f20">100</text>
<text transform="translate(489.01,2228.96) scale(1.1900,1)" font-size="20.00" fill="#231f20">200</text>
<text transform="translate(489.01,2311.74) scale(1.1900,1)" font-size="20.00" fill="#231f20">300</text>
<text transform="translate(489.01,2394.52) scale(1.1900,1)" font-size="20.00" fill="#231f20">400</text>
<text transform="translate(489.01,2477.30) scale(1.1900,1)" font-size="20.00" fill="#231f20">500</text>
<text transform="translate(535.34,2045.30) scale(1.1900,1)" font-size="20.00" fill="#231f20">0</text>
<text transform="translate(648.16,2045.30) scale(1.1900,1)" font-size="20.00" fill="#231f20">100</text>
<text transform="translate(774.91,2045.30) scale(1.1900,1)" font-size="20.00" fill="#231f20">200</text>
<path d="M122.1,490.2L898.6,491.9" stroke="#5a1f84" stroke-width="2.4" fill="none"/>
<path d="M898.6,491.9L942.7,530.6" stroke="#662d91" stroke-width="2.6" fill="none" stroke-linejoin="round"/>
<path d="M960.0,545.8L935.8,533.9L945.1,523.4Z" fill="#662d91"/>
<path d="M123.0,731.0L898.6,732.3" stroke="#0c5c2f" stroke-width="2.4" fill="none"/>
<path d="M898.6,732.3L942.9,771.5" stroke="#0e9c47" stroke-width="2.6" fill="none" stroke-linejoin="round"/>
<path d="M960.1,786.7L936.0,774.7L945.3,764.2Z" fill="#0e9c47"/>
<path d="M125.0,1004.5L899.5,1006.0" stroke="#5a1f84" stroke-width="2.4" fill="none"/>
<path d="M899.5,1006.0L944.3,1044.8" stroke="#662d91" stroke-width="2.6" fill="none" stroke-linejoin="round"/>
<path d="M961.7,1059.9L937.5,1048.2L946.6,1037.6Z" fill="#662d91"/>
<path d="M122.0,1245.8L900.0,1247.2" stroke="#0c5c2f" stroke-width="2.4" fill="none"/>
<path d="M900.0,1247.2L944.5,1286.5" stroke="#0e9c47" stroke-width="2.6" fill="none" stroke-linejoin="round"/>
<path d="M961.7,1301.7L937.6,1289.7L946.8,1279.2Z" fill="#0e9c47"/>
<path d="M118.5,1526.7L896.3,1528.0" stroke="#5a1f84" stroke-width="2.4" fill="none"/>
<path d="M896.3,1528.0L941.7,1566.8" stroke="#662d91" stroke-width="2.6" fill="none" stroke-linejoin="round"/>
<path d="M959.2,1581.7L934.9,1570.1L944.0,1559.5Z" fill="#662d91"/>
<path d="M118.5,1645.2L895.3,1647.1" stroke="#0c5c2f" stroke-width="2.4" fill="none"/>
<path d="M895.3,1647.1L955.0,1756.1" stroke="#0e9c47" stroke-width="2.6" fill="none" stroke-linejoin="round"/>
<path d="M966.1,1776.3L947.5,1756.9L959.7,1750.1Z" fill="#0e9c47"/>
<path d="M120.0,2064.2L895.3,2065.2" stroke="#5a1f84" stroke-width="2.4" fill="none"/>
<path d="M895.3,2065.2L940.0,2103.9" stroke="#662d91" stroke-width="2.6" fill="none" stroke-linejoin="round"/>
<path d="M957.4,2119.0L933.2,2107.3L942.3,2096.7Z" fill="#662d91"/>
<path d="M118.0,2303.3L893.8,2304.7" stroke="#0c5c2f" stroke-width="2.4" fill="none"/>
<path d="M893.8,2304.7L940.0,2344.8" stroke="#0e9c47" stroke-width="2.6" fill="none" stroke-linejoin="round"/>
<path d="M957.4,2359.9L933.2,2348.1L942.4,2337.6Z" fill="#0e9c47"/>
<text transform="translate(361.20,863.80) scale(0.9868,1)" font-size="42.90" fill="#231f20">Obs.</text>
<text transform="translate(754.81,864.10) scale(1.0230,1)" font-size="41.38" fill="#231f20">Model</text>
<text transform="translate(150.70,1387.00) scale(0.9960,1)" font-size="42.34" fill="#231f20">Obs.</text>
<text transform="translate(569.40,1387.60) scale(1.0370,1)" font-size="42.21" fill="#231f20">Model</text>
<text transform="translate(349.76,1909.80) scale(1.0508,1)" font-size="41.10" fill="#231f20">Obs.</text>
<text transform="translate(743.21,1910.30) scale(1.0128,1)" font-size="41.79" fill="#231f20">Model</text>
<text transform="translate(361.44,2448.50) scale(1.0535,1)" font-size="41.38" fill="#231f20">Obs.</text>
<text transform="translate(755.71,2449.70) scale(1.0162,1)" font-size="41.66" fill="#231f20">Model</text>
<text transform="translate(38.90,766.83) rotate(-90) scale(0.9993,1)" font-size="41.66" fill="#231f20">Depth (m)</text>
<text transform="translate(38.90,1295.43) rotate(-90) scale(0.9993,1)" font-size="41.66" fill="#231f20">Depth (m)</text>
<text transform="translate(38.90,1816.63) rotate(-90) scale(0.9993,1)" font-size="41.66" fill="#231f20">Depth (m)</text>
<text transform="translate(38.90,2384.93) rotate(-90) scale(0.9993,1)" font-size="41.66" fill="#231f20">Depth (m)</text>
<text transform="translate(252.60,1721.95) rotate(-90) scale(0.9609,1)" font-size="43.59" fill="#231f20">Depth (m)</text>
<text transform="translate(520.24,440.00) scale(0.9583,1)" font-size="41.10" font-weight="bold" fill="#231f20">b) Temperature (°C)</text>
<g transform="translate(508.62,961.60) scale(0.9968,1)" fill="#231f20" font-weight="bold">
<text font-size="39.59">C) Nitrate (mmol m</text>
<text x="354.11" y="-14.25" font-size="23.75">-3</text>
<text x="375.23" font-size="39.59">)</text>
</g>
<g transform="translate(457.73,1474.90) scale(0.9699,1)" fill="#231f20" font-weight="bold">
<text font-size="40.55">d) Chlorophyll (mg m</text>
<text x="407.74" y="-14.60" font-size="24.33">-3</text>
<text x="429.37" font-size="40.55">)</text>
</g>
<g transform="translate(347.22,2006.20) scale(1.0094,1)" fill="#231f20" font-weight="bold">
<text font-size="39.03">e) Dissolved oxygen (mmol m</text>
<text x="550.97" y="-14.05" font-size="23.42">-3</text>
<text x="571.79" font-size="39.03">)</text>
</g>
<path d="M1055.8,468.2V643.8H1272.0M1073.3,643.8v-4.0M1109.6,643.8v-4.0M1145.9,643.8v-4.0M1182.2,643.8v-4.0M1218.5,643.8v-4.0M1254.8,643.8v-4.0M1055.8,628.9h4.0M1055.8,599.6h4.0M1055.8,570.3h4.0M1055.8,541.0h4.0M1055.8,511.7h4.0M1055.8,482.4h4.0" stroke="#7a7a7a" stroke-width="1.2" fill="none"/>
<text transform="translate(1064.10,659.80) scale(1.4600,1)" font-size="11.10" fill="#231f20">12</text>
<text transform="translate(1100.24,659.80) scale(1.4600,1)" font-size="11.10" fill="#231f20">14</text>
<text transform="translate(1136.62,659.80) scale(1.4600,1)" font-size="11.10" fill="#231f20">16</text>
<text transform="translate(1172.92,659.80) scale(1.4600,1)" font-size="11.10" fill="#231f20">18</text>
<text transform="translate(1209.38,659.80) scale(1.4600,1)" font-size="11.10" fill="#231f20">20</text>
<text transform="translate(1245.81,659.80) scale(1.4600,1)" font-size="11.10" fill="#231f20">22</text>
<text transform="translate(1029.92,632.80) scale(1.4600,1)" font-size="11.10" fill="#231f20">12</text>
<text transform="translate(1029.60,603.50) scale(1.4600,1)" font-size="11.10" fill="#231f20">14</text>
<text transform="translate(1029.76,574.20) scale(1.4600,1)" font-size="11.10" fill="#231f20">16</text>
<text transform="translate(1029.76,544.90) scale(1.4600,1)" font-size="11.10" fill="#231f20">18</text>
<text transform="translate(1029.68,515.60) scale(1.4600,1)" font-size="11.10" fill="#231f20">20</text>
<text transform="translate(1029.92,486.30) scale(1.4600,1)" font-size="11.10" fill="#231f20">22</text>
<path d="M1055.8,643.8L1272.0,468.2" stroke="#8c8c8c" stroke-width="1.5" stroke-dasharray="8 3.5 1.8 3.5" fill="none"/>
<g class="sm" fill="#8a64bd" stroke="#2b2230" stroke-width="0.85"><ellipse cx="1085.6" cy="590.0" rx="5.3" ry="4.4"/><ellipse cx="1092.5" cy="614.6" rx="5.3" ry="4.4"/><ellipse cx="1112.8" cy="574.3" rx="5.3" ry="4.4"/><ellipse cx="1075.0" cy="628.1" rx="5.3" ry="4.4"/><ellipse cx="1194.7" cy="536.6" rx="5.3" ry="4.4"/><ellipse cx="1168.6" cy="568.4" rx="5.3" ry="4.4"/><ellipse cx="1156.2" cy="551.3" rx="5.3" ry="4.4"/><ellipse cx="1097.7" cy="609.4" rx="5.3" ry="4.4"/><ellipse cx="1097.5" cy="614.6" rx="5.3" ry="4.4"/><ellipse cx="1210.7" cy="511.9" rx="5.3" ry="4.4"/><ellipse cx="1226.0" cy="516.3" rx="5.3" ry="4.4"/><ellipse cx="1158.5" cy="574.9" rx="5.3" ry="4.4"/><ellipse cx="1228.3" cy="509.1" rx="5.3" ry="4.4"/><ellipse cx="1072.1" cy="616.2" rx="5.3" ry="4.4"/><ellipse cx="1137.1" cy="567.7" rx="5.3" ry="4.4"/><ellipse cx="1152.5" cy="553.6" rx="5.3" ry="4.4"/><ellipse cx="1192.0" cy="535.5" rx="5.3" ry="4.4"/><ellipse cx="1076.0" cy="621.0" rx="5.3" ry="4.4"/><ellipse cx="1097.0" cy="612.7" rx="5.3" ry="4.4"/><ellipse cx="1138.3" cy="567.5" rx="5.3" ry="4.4"/><ellipse cx="1130.2" cy="580.5" rx="5.3" ry="4.4"/><ellipse cx="1179.4" cy="556.2" rx="5.3" ry="4.4"/><ellipse cx="1162.2" cy="563.0" rx="5.3" ry="4.4"/><ellipse cx="1224.7" cy="517.1" rx="5.3" ry="4.4"/><ellipse cx="1153.0" cy="563.3" rx="5.3" ry="4.4"/><ellipse cx="1216.3" cy="538.1" rx="5.3" ry="4.4"/><ellipse cx="1159.0" cy="561.0" rx="5.3" ry="4.4"/><ellipse cx="1163.0" cy="610.8" rx="5.3" ry="4.4"/><ellipse cx="1205.5" cy="515.4" rx="5.3" ry="4.4"/><ellipse cx="1153.2" cy="561.5" rx="5.3" ry="4.4"/><ellipse cx="1219.6" cy="501.5" rx="5.3" ry="4.4"/><ellipse cx="1181.3" cy="557.5" rx="5.3" ry="4.4"/><ellipse cx="1127.4" cy="600.1" rx="5.3" ry="4.4"/><ellipse cx="1093.2" cy="609.4" rx="5.3" ry="4.4"/><ellipse cx="1206.2" cy="528.9" rx="5.3" ry="4.4"/><ellipse cx="1094.7" cy="585.9" rx="5.3" ry="4.4"/><ellipse cx="1165.7" cy="550.1" rx="5.3" ry="4.4"/><ellipse cx="1163.2" cy="539.9" rx="5.3" ry="4.4"/><ellipse cx="1204.9" cy="528.3" rx="5.3" ry="4.4"/><ellipse cx="1228.2" cy="501.2" rx="5.3" ry="4.4"/><ellipse cx="1163.5" cy="554.7" rx="5.3" ry="4.4"/><ellipse cx="1229.7" cy="518.9" rx="5.3" ry="4.4"/><ellipse cx="1213.9" cy="516.0" rx="5.3" ry="4.4"/><ellipse cx="1199.6" cy="526.5" rx="5.3" ry="4.4"/><ellipse cx="1162.6" cy="559.6" rx="5.3" ry="4.4"/><ellipse cx="1185.2" cy="553.3" rx="5.3" ry="4.4"/><ellipse cx="1133.1" cy="594.8" rx="5.3" ry="4.4"/><ellipse cx="1082.5" cy="628.3" rx="5.3" ry="4.4"/><ellipse cx="1158.2" cy="543.3" rx="5.3" ry="4.4"/><ellipse cx="1148.8" cy="569.9" rx="5.3" ry="4.4"/><ellipse cx="1236.0" cy="503.2" rx="5.3" ry="4.4"/><ellipse cx="1229.5" cy="513.4" rx="5.3" ry="4.4"/><ellipse cx="1132.7" cy="574.8" rx="5.3" ry="4.4"/><ellipse cx="1230.2" cy="512.8" rx="5.3" ry="4.4"/><ellipse cx="1190.9" cy="539.5" rx="5.3" ry="4.4"/><ellipse cx="1203.1" cy="544.5" rx="5.3" ry="4.4"/><ellipse cx="1239.7" cy="496.4" rx="5.3" ry="4.4"/><ellipse cx="1170.1" cy="551.8" rx="5.3" ry="4.4"/><ellipse cx="1138.8" cy="566.6" rx="5.3" ry="4.4"/><ellipse cx="1196.9" cy="520.5" rx="5.3" ry="4.4"/><ellipse cx="1070.9" cy="628.5" rx="5.3" ry="4.4"/><ellipse cx="1221.8" cy="520.6" rx="5.3" ry="4.4"/><ellipse cx="1138.5" cy="602.5" rx="5.3" ry="4.4"/><ellipse cx="1214.0" cy="514.2" rx="5.3" ry="4.4"/><ellipse cx="1100.0" cy="612.9" rx="5.3" ry="4.4"/><ellipse cx="1200.8" cy="547.8" rx="5.3" ry="4.4"/><ellipse cx="1162.8" cy="517.2" rx="5.3" ry="4.4"/><ellipse cx="1170.2" cy="565.5" rx="5.3" ry="4.4"/><ellipse cx="1131.5" cy="610.6" rx="5.3" ry="4.4"/><ellipse cx="1088.8" cy="583.6" rx="5.3" ry="4.4"/><ellipse cx="1161.3" cy="531.4" rx="5.3" ry="4.4"/><ellipse cx="1073.6" cy="630.9" rx="5.3" ry="4.4"/><ellipse cx="1218.8" cy="505.8" rx="5.3" ry="4.4"/><ellipse cx="1239.2" cy="519.6" rx="5.3" ry="4.4"/><ellipse cx="1205.7" cy="499.2" rx="5.3" ry="4.4"/><ellipse cx="1142.2" cy="565.6" rx="5.3" ry="4.4"/><ellipse cx="1231.2" cy="510.6" rx="5.3" ry="4.4"/><ellipse cx="1085.9" cy="606.8" rx="5.3" ry="4.4"/><ellipse cx="1113.7" cy="587.1" rx="5.3" ry="4.4"/><ellipse cx="1159.4" cy="555.0" rx="5.3" ry="4.4"/><ellipse cx="1119.1" cy="579.0" rx="5.3" ry="4.4"/><ellipse cx="1076.0" cy="616.9" rx="5.3" ry="4.4"/><ellipse cx="1186.6" cy="532.4" rx="5.3" ry="4.4"/><ellipse cx="1107.4" cy="587.6" rx="5.3" ry="4.4"/><ellipse cx="1131.4" cy="579.6" rx="5.3" ry="4.4"/><ellipse cx="1210.6" cy="534.6" rx="5.3" ry="4.4"/><ellipse cx="1193.4" cy="534.8" rx="5.3" ry="4.4"/><ellipse cx="1157.7" cy="569.9" rx="5.3" ry="4.4"/><ellipse cx="1191.1" cy="515.0" rx="5.3" ry="4.4"/><ellipse cx="1148.0" cy="570.4" rx="5.3" ry="4.4"/><ellipse cx="1205.7" cy="520.0" rx="5.3" ry="4.4"/><ellipse cx="1125.4" cy="590.5" rx="5.3" ry="4.4"/><ellipse cx="1197.9" cy="535.4" rx="5.3" ry="4.4"/><ellipse cx="1190.8" cy="526.2" rx="5.3" ry="4.4"/><ellipse cx="1181.0" cy="533.8" rx="5.3" ry="4.4"/><ellipse cx="1108.0" cy="581.6" rx="5.3" ry="4.4"/><ellipse cx="1200.9" cy="546.1" rx="5.3" ry="4.4"/><ellipse cx="1108.8" cy="576.4" rx="5.3" ry="4.4"/><ellipse cx="1150.0" cy="551.7" rx="5.3" ry="4.4"/><ellipse cx="1128.2" cy="571.4" rx="5.3" ry="4.4"/><ellipse cx="1190.6" cy="551.3" rx="5.3" ry="4.4"/><ellipse cx="1221.8" cy="518.4" rx="5.3" ry="4.4"/><ellipse cx="1232.4" cy="504.6" rx="5.3" ry="4.4"/><ellipse cx="1134.9" cy="607.8" rx="5.3" ry="4.4"/><ellipse cx="1214.3" cy="552.1" rx="5.3" ry="4.4"/><ellipse cx="1117.1" cy="575.0" rx="5.3" ry="4.4"/><ellipse cx="1170.5" cy="527.9" rx="5.3" ry="4.4"/><ellipse cx="1221.5" cy="505.5" rx="5.3" ry="4.4"/><ellipse cx="1189.9" cy="541.7" rx="5.3" ry="4.4"/><ellipse cx="1120.7" cy="595.2" rx="5.3" ry="4.4"/><ellipse cx="1073.0" cy="628.5" rx="5.3" ry="4.4"/><ellipse cx="1136.8" cy="601.5" rx="5.3" ry="4.4"/><ellipse cx="1188.1" cy="549.7" rx="5.3" ry="4.4"/><ellipse cx="1083.9" cy="606.9" rx="5.3" ry="4.4"/><ellipse cx="1090.3" cy="617.7" rx="5.3" ry="4.4"/><ellipse cx="1227.3" cy="504.0" rx="5.3" ry="4.4"/><ellipse cx="1202.7" cy="513.8" rx="5.3" ry="4.4"/><ellipse cx="1091.4" cy="615.2" rx="5.3" ry="4.4"/><ellipse cx="1201.9" cy="545.3" rx="5.3" ry="4.4"/><ellipse cx="1136.9" cy="586.2" rx="5.3" ry="4.4"/><ellipse cx="1214.8" cy="503.9" rx="5.3" ry="4.4"/><ellipse cx="1238.3" cy="494.3" rx="5.3" ry="4.4"/><ellipse cx="1142.3" cy="580.2" rx="5.3" ry="4.4"/><ellipse cx="1160.6" cy="562.5" rx="5.3" ry="4.4"/><ellipse cx="1156.2" cy="555.3" rx="5.3" ry="4.4"/><ellipse cx="1104.3" cy="600.8" rx="5.3" ry="4.4"/><ellipse cx="1156.5" cy="532.4" rx="5.3" ry="4.4"/><ellipse cx="1241.1" cy="509.9" rx="5.3" ry="4.4"/><ellipse cx="1085.2" cy="606.8" rx="5.3" ry="4.4"/><ellipse cx="1077.7" cy="613.9" rx="5.3" ry="4.4"/><ellipse cx="1078.2" cy="612.2" rx="5.3" ry="4.4"/><ellipse cx="1117.7" cy="588.0" rx="5.3" ry="4.4"/><ellipse cx="1165.8" cy="579.2" rx="5.3" ry="4.4"/><ellipse cx="1080.7" cy="624.6" rx="5.3" ry="4.4"/><ellipse cx="1179.1" cy="534.0" rx="5.3" ry="4.4"/><ellipse cx="1232.1" cy="506.9" rx="5.3" ry="4.4"/><ellipse cx="1182.4" cy="535.8" rx="5.3" ry="4.4"/><ellipse cx="1226.0" cy="510.5" rx="5.3" ry="4.4"/><ellipse cx="1120.5" cy="613.3" rx="5.3" ry="4.4"/><ellipse cx="1245.5" cy="499.4" rx="5.3" ry="4.4"/><ellipse cx="1178.4" cy="553.1" rx="5.3" ry="4.4"/><ellipse cx="1197.5" cy="541.0" rx="5.3" ry="4.4"/><ellipse cx="1201.7" cy="505.6" rx="5.3" ry="4.4"/><ellipse cx="1220.8" cy="497.5" rx="5.3" ry="4.4"/><ellipse cx="1228.0" cy="515.2" rx="5.3" ry="4.4"/><ellipse cx="1237.3" cy="507.6" rx="5.3" ry="4.4"/><ellipse cx="1247.4" cy="515.7" rx="5.3" ry="4.4"/><ellipse cx="1189.6" cy="543.9" rx="5.3" ry="4.4"/><ellipse cx="1178.3" cy="544.9" rx="5.3" ry="4.4"/><ellipse cx="1155.7" cy="565.4" rx="5.3" ry="4.4"/><ellipse cx="1077.3" cy="621.6" rx="5.3" ry="4.4"/><ellipse cx="1132.1" cy="597.5" rx="5.3" ry="4.4"/><ellipse cx="1245.4" cy="497.1" rx="5.3" ry="4.4"/><ellipse cx="1216.3" cy="507.5" rx="5.3" ry="4.4"/><ellipse cx="1155.2" cy="565.0" rx="5.3" ry="4.4"/><ellipse cx="1206.8" cy="554.4" rx="5.3" ry="4.4"/><ellipse cx="1153.3" cy="551.5" rx="5.3" ry="4.4"/><ellipse cx="1241.6" cy="522.7" rx="5.3" ry="4.4"/><ellipse cx="1101.7" cy="603.7" rx="5.3" ry="4.4"/><ellipse cx="1203.4" cy="534.1" rx="5.3" ry="4.4"/><ellipse cx="1123.0" cy="586.8" rx="5.3" ry="4.4"/><ellipse cx="1233.9" cy="526.0" rx="5.3" ry="4.4"/><ellipse cx="1103.5" cy="582.0" rx="5.3" ry="4.4"/><ellipse cx="1087.8" cy="607.8" rx="5.3" ry="4.4"/><ellipse cx="1241.6" cy="500.2" rx="5.3" ry="4.4"/><ellipse cx="1175.1" cy="557.0" rx="5.3" ry="4.4"/><ellipse cx="1233.8" cy="507.5" rx="5.3" ry="4.4"/><ellipse cx="1218.7" cy="520.5" rx="5.3" ry="4.4"/><ellipse cx="1225.1" cy="506.3" rx="5.3" ry="4.4"/><ellipse cx="1076.4" cy="620.0" rx="5.3" ry="4.4"/><ellipse cx="1209.2" cy="518.4" rx="5.3" ry="4.4"/><ellipse cx="1236.7" cy="511.4" rx="5.3" ry="4.4"/><ellipse cx="1097.3" cy="617.7" rx="5.3" ry="4.4"/><ellipse cx="1227.7" cy="522.0" rx="5.3" ry="4.4"/><ellipse cx="1098.7" cy="615.2" rx="5.3" ry="4.4"/><ellipse cx="1110.5" cy="582.9" rx="5.3" ry="4.4"/><ellipse cx="1088.8" cy="623.0" rx="5.3" ry="4.4"/><ellipse cx="1227.4" cy="508.3" rx="5.3" ry="4.4"/><ellipse cx="1214.1" cy="510.1" rx="5.3" ry="4.4"/><ellipse cx="1094.1" cy="610.3" rx="5.3" ry="4.4"/><ellipse cx="1075.2" cy="618.3" rx="5.3" ry="4.4"/><ellipse cx="1185.1" cy="550.7" rx="5.3" ry="4.4"/><ellipse cx="1097.7" cy="590.4" rx="5.3" ry="4.4"/><ellipse cx="1095.9" cy="606.9" rx="5.3" ry="4.4"/><ellipse cx="1148.7" cy="585.9" rx="5.3" ry="4.4"/><ellipse cx="1096.0" cy="589.1" rx="5.3" ry="4.4"/><ellipse cx="1139.8" cy="582.3" rx="5.3" ry="4.4"/><ellipse cx="1101.0" cy="591.1" rx="5.3" ry="4.4"/><ellipse cx="1087.2" cy="606.5" rx="5.3" ry="4.4"/><ellipse cx="1106.3" cy="582.0" rx="5.3" ry="4.4"/><ellipse cx="1143.6" cy="562.7" rx="5.3" ry="4.4"/><ellipse cx="1243.9" cy="509.2" rx="5.3" ry="4.4"/><ellipse cx="1233.2" cy="513.5" rx="5.3" ry="4.4"/><ellipse cx="1086.0" cy="616.7" rx="5.3" ry="4.4"/><ellipse cx="1129.2" cy="578.4" rx="5.3" ry="4.4"/><ellipse cx="1201.9" cy="539.0" rx="5.3" ry="4.4"/><ellipse cx="1180.5" cy="528.0" rx="5.3" ry="4.4"/><ellipse cx="1214.5" cy="544.1" rx="5.3" ry="4.4"/><ellipse cx="1095.9" cy="596.9" rx="5.3" ry="4.4"/><ellipse cx="1226.9" cy="513.2" rx="5.3" ry="4.4"/><ellipse cx="1112.6" cy="572.1" rx="5.3" ry="4.4"/><ellipse cx="1228.7" cy="513.6" rx="5.3" ry="4.4"/><ellipse cx="1127.2" cy="601.8" rx="5.3" ry="4.4"/><ellipse cx="1067.9" cy="624.1" rx="5.3" ry="4.4"/><ellipse cx="1089.2" cy="580.6" rx="5.3" ry="4.4"/><ellipse cx="1119.5" cy="570.9" rx="5.3" ry="4.4"/><ellipse cx="1164.1" cy="547.6" rx="5.3" ry="4.4"/><ellipse cx="1248.9" cy="493.3" rx="5.3" ry="4.4"/><ellipse cx="1199.3" cy="532.8" rx="5.3" ry="4.4"/><ellipse cx="1113.9" cy="585.8" rx="5.3" ry="4.4"/><ellipse cx="1076.1" cy="617.5" rx="5.3" ry="4.4"/><ellipse cx="1230.3" cy="501.7" rx="5.3" ry="4.4"/><ellipse cx="1143.7" cy="568.5" rx="5.3" ry="4.4"/><ellipse cx="1180.3" cy="557.2" rx="5.3" ry="4.4"/><ellipse cx="1238.8" cy="499.2" rx="5.3" ry="4.4"/><ellipse cx="1154.8" cy="565.0" rx="5.3" ry="4.4"/><ellipse cx="1091.8" cy="608.4" rx="5.3" ry="4.4"/><ellipse cx="1170.6" cy="551.3" rx="5.3" ry="4.4"/><ellipse cx="1096.8" cy="607.6" rx="5.3" ry="4.4"/><ellipse cx="1123.3" cy="572.5" rx="5.3" ry="4.4"/><ellipse cx="1123.5" cy="565.3" rx="5.3" ry="4.4"/><ellipse cx="1250.2" cy="507.2" rx="5.3" ry="4.4"/><ellipse cx="1073.8" cy="624.3" rx="5.3" ry="4.4"/><ellipse cx="1181.6" cy="512.1" rx="5.3" ry="4.4"/><ellipse cx="1115.0" cy="593.2" rx="5.3" ry="4.4"/><ellipse cx="1191.4" cy="543.9" rx="5.3" ry="4.4"/><ellipse cx="1168.8" cy="543.3" rx="5.3" ry="4.4"/><ellipse cx="1123.0" cy="579.2" rx="5.3" ry="4.4"/><ellipse cx="1138.5" cy="599.6" rx="5.3" ry="4.4"/><ellipse cx="1143.2" cy="566.7" rx="5.3" ry="4.4"/><ellipse cx="1088.2" cy="619.5" rx="5.3" ry="4.4"/><ellipse cx="1079.7" cy="611.2" rx="5.3" ry="4.4"/><ellipse cx="1239.5" cy="517.1" rx="5.3" ry="4.4"/><ellipse cx="1191.7" cy="522.2" rx="5.3" ry="4.4"/><ellipse cx="1166.8" cy="529.3" rx="5.3" ry="4.4"/><ellipse cx="1129.7" cy="593.7" rx="5.3" ry="4.4"/><ellipse cx="1093.0" cy="613.6" rx="5.3" ry="4.4"/><ellipse cx="1199.1" cy="512.6" rx="5.3" ry="4.4"/><ellipse cx="1248.3" cy="501.0" rx="5.3" ry="4.4"/><ellipse cx="1203.7" cy="522.0" rx="5.3" ry="4.4"/><ellipse cx="1126.5" cy="565.9" rx="5.3" ry="4.4"/><ellipse cx="1240.9" cy="507.0" rx="5.3" ry="4.4"/><ellipse cx="1175.2" cy="570.3" rx="5.3" ry="4.4"/><ellipse cx="1235.3" cy="500.4" rx="5.3" ry="4.4"/><ellipse cx="1153.8" cy="567.5" rx="5.3" ry="4.4"/><ellipse cx="1141.8" cy="575.4" rx="5.3" ry="4.4"/><ellipse cx="1179.0" cy="554.6" rx="5.3" ry="4.4"/><ellipse cx="1103.2" cy="596.6" rx="5.3" ry="4.4"/><ellipse cx="1115.7" cy="564.8" rx="5.3" ry="4.4"/><ellipse cx="1204.1" cy="537.9" rx="5.3" ry="4.4"/><ellipse cx="1245.1" cy="505.1" rx="5.3" ry="4.4"/><ellipse cx="1169.9" cy="553.1" rx="5.3" ry="4.4"/><ellipse cx="1123.9" cy="584.6" rx="5.3" ry="4.4"/><ellipse cx="1073.4" cy="616.9" rx="5.3" ry="4.4"/><ellipse cx="1084.0" cy="613.2" rx="5.3" ry="4.4"/><ellipse cx="1104.5" cy="589.4" rx="5.3" ry="4.4"/><ellipse cx="1066.6" cy="631.1" rx="5.3" ry="4.4"/><ellipse cx="1112.6" cy="595.2" rx="5.3" ry="4.4"/><ellipse cx="1230.6" cy="508.6" rx="5.3" ry="4.4"/><ellipse cx="1212.9" cy="525.2" rx="5.3" ry="4.4"/><ellipse cx="1210.3" cy="526.8" rx="5.3" ry="4.4"/><ellipse cx="1239.6" cy="495.4" rx="5.3" ry="4.4"/><ellipse cx="1198.2" cy="520.7" rx="5.3" ry="4.4"/><ellipse cx="1088.1" cy="618.6" rx="5.3" ry="4.4"/><ellipse cx="1200.4" cy="525.3" rx="5.3" ry="4.4"/><ellipse cx="1067.2" cy="623.4" rx="5.3" ry="4.4"/><ellipse cx="1223.3" cy="517.5" rx="5.3" ry="4.4"/><ellipse cx="1142.5" cy="559.6" rx="5.3" ry="4.4"/><ellipse cx="1084.9" cy="628.6" rx="5.3" ry="4.4"/><ellipse cx="1244.7" cy="505.2" rx="5.3" ry="4.4"/><ellipse cx="1169.2" cy="534.0" rx="5.3" ry="4.4"/><ellipse cx="1179.1" cy="520.1" rx="5.3" ry="4.4"/><ellipse cx="1141.0" cy="559.3" rx="5.3" ry="4.4"/><ellipse cx="1161.3" cy="555.9" rx="5.3" ry="4.4"/><ellipse cx="1181.5" cy="538.3" rx="5.3" ry="4.4"/><ellipse cx="1122.3" cy="580.6" rx="5.3" ry="4.4"/><ellipse cx="1132.1" cy="569.7" rx="5.3" ry="4.4"/><ellipse cx="1129.6" cy="605.9" rx="5.3" ry="4.4"/><ellipse cx="1238.2" cy="518.9" rx="5.3" ry="4.4"/><ellipse cx="1112.6" cy="575.0" rx="5.3" ry="4.4"/><ellipse cx="1240.2" cy="528.8" rx="5.3" ry="4.4"/><ellipse cx="1136.9" cy="582.8" rx="5.3" ry="4.4"/><ellipse cx="1089.5" cy="597.3" rx="5.3" ry="4.4"/><ellipse cx="1153.2" cy="524.1" rx="5.3" ry="4.4"/></g>
<path d="M1067.5,625.6L1247.2,496.9" stroke="#e3121b" stroke-width="1.3" fill="none"/>
<text transform="translate(1015.60,604.34) rotate(-90) scale(1.0123,1)" font-size="41.24" fill="#231f20">Model</text>
<text transform="translate(1230.40,635.30) scale(1.0546,1)" font-size="40.14" fill="#231f20">Obs.</text>
<path d="M1055.8,712.5V888.1H1272.7M1128.2,888.1v-4.0M1200.5,888.1v-4.0M1272.8,888.1v-4.0M1055.8,859.0h4.0M1055.8,829.9h4.0M1055.8,800.8h4.0M1055.8,771.7h4.0M1055.8,742.6h4.0M1055.8,713.5h4.0" stroke="#7a7a7a" stroke-width="1.2" fill="none"/>
<text transform="translate(1051.32,904.10) scale(1.4600,1)" font-size="11.10" fill="#231f20">6</text>
<text transform="translate(1123.70,904.10) scale(1.4600,1)" font-size="11.10" fill="#231f20">7</text>
<text transform="translate(1195.96,904.10) scale(1.4600,1)" font-size="11.10" fill="#231f20">8</text>
<text transform="translate(1268.30,904.10) scale(1.4600,1)" font-size="11.10" fill="#231f20">9</text>
<text transform="translate(1038.75,892.00) scale(1.4600,1)" font-size="11.10" fill="#231f20">6</text>
<text transform="translate(1025.22,862.90) scale(1.4600,1)" font-size="11.10" fill="#231f20">6.5</text>
<text transform="translate(1038.92,833.80) scale(1.4600,1)" font-size="11.10" fill="#231f20">7</text>
<text transform="translate(1025.22,804.70) scale(1.4600,1)" font-size="11.10" fill="#231f20">7.5</text>
<text transform="translate(1038.75,775.60) scale(1.4600,1)" font-size="11.10" fill="#231f20">8</text>
<text transform="translate(1025.22,746.50) scale(1.4600,1)" font-size="11.10" fill="#231f20">8.5</text>
<text transform="translate(1038.83,717.40) scale(1.4600,1)" font-size="11.10" fill="#231f20">9</text>
<path d="M1055.8,888.1L1272.7,712.5" stroke="#8c8c8c" stroke-width="1.5" stroke-dasharray="8 3.5 1.8 3.5" fill="none"/>
<g class="sm" fill="#66a76b" stroke="#1f2a1f" stroke-width="0.85"><ellipse cx="1194.5" cy="831.0" rx="5.3" ry="4.4"/><ellipse cx="1184.6" cy="840.9" rx="5.3" ry="4.4"/><ellipse cx="1147.6" cy="843.1" rx="5.3" ry="4.4"/><ellipse cx="1181.3" cy="832.6" rx="5.3" ry="4.4"/><ellipse cx="1124.4" cy="851.4" rx="5.3" ry="4.4"/><ellipse cx="1151.7" cy="826.0" rx="5.3" ry="4.4"/><ellipse cx="1150.8" cy="860.0" rx="5.3" ry="4.4"/><ellipse cx="1221.9" cy="835.7" rx="5.3" ry="4.4"/><ellipse cx="1112.4" cy="816.5" rx="5.3" ry="4.4"/><ellipse cx="1195.9" cy="852.0" rx="5.3" ry="4.4"/><ellipse cx="1156.0" cy="834.8" rx="5.3" ry="4.4"/><ellipse cx="1205.1" cy="836.6" rx="5.3" ry="4.4"/><ellipse cx="1260.0" cy="817.3" rx="5.3" ry="4.4"/><ellipse cx="1182.6" cy="844.1" rx="5.3" ry="4.4"/><ellipse cx="1213.9" cy="845.3" rx="5.3" ry="4.4"/><ellipse cx="1204.2" cy="849.8" rx="5.3" ry="4.4"/><ellipse cx="1232.2" cy="837.3" rx="5.3" ry="4.4"/><ellipse cx="1209.6" cy="833.7" rx="5.3" ry="4.4"/><ellipse cx="1211.0" cy="831.0" rx="5.3" ry="4.4"/><ellipse cx="1207.1" cy="831.4" rx="5.3" ry="4.4"/><ellipse cx="1186.5" cy="858.9" rx="5.3" ry="4.4"/><ellipse cx="1198.9" cy="796.2" rx="5.3" ry="4.4"/><ellipse cx="1161.9" cy="852.6" rx="5.3" ry="4.4"/><ellipse cx="1130.7" cy="853.1" rx="5.3" ry="4.4"/><ellipse cx="1153.7" cy="842.7" rx="5.3" ry="4.4"/><ellipse cx="1150.6" cy="858.7" rx="5.3" ry="4.4"/><ellipse cx="1119.7" cy="854.4" rx="5.3" ry="4.4"/><ellipse cx="1152.0" cy="871.3" rx="5.3" ry="4.4"/><ellipse cx="1173.6" cy="836.6" rx="5.3" ry="4.4"/><ellipse cx="1115.6" cy="850.7" rx="5.3" ry="4.4"/><ellipse cx="1149.9" cy="842.0" rx="5.3" ry="4.4"/><ellipse cx="1205.7" cy="843.1" rx="5.3" ry="4.4"/><ellipse cx="1185.3" cy="833.3" rx="5.3" ry="4.4"/><ellipse cx="1177.6" cy="841.5" rx="5.3" ry="4.4"/><ellipse cx="1181.9" cy="841.4" rx="5.3" ry="4.4"/><ellipse cx="1144.6" cy="824.6" rx="5.3" ry="4.4"/><ellipse cx="1116.1" cy="856.6" rx="5.3" ry="4.4"/><ellipse cx="1162.4" cy="856.3" rx="5.3" ry="4.4"/><ellipse cx="1214.3" cy="838.9" rx="5.3" ry="4.4"/><ellipse cx="1169.2" cy="853.6" rx="5.3" ry="4.4"/><ellipse cx="1151.4" cy="833.3" rx="5.3" ry="4.4"/><ellipse cx="1202.5" cy="856.7" rx="5.3" ry="4.4"/><ellipse cx="1252.2" cy="837.3" rx="5.3" ry="4.4"/><ellipse cx="1198.1" cy="786.5" rx="5.3" ry="4.4"/><ellipse cx="1174.3" cy="834.3" rx="5.3" ry="4.4"/><ellipse cx="1177.2" cy="847.0" rx="5.3" ry="4.4"/><ellipse cx="1210.2" cy="853.5" rx="5.3" ry="4.4"/><ellipse cx="1199.9" cy="830.7" rx="5.3" ry="4.4"/><ellipse cx="1156.9" cy="831.1" rx="5.3" ry="4.4"/><ellipse cx="1107.4" cy="835.9" rx="5.3" ry="4.4"/><ellipse cx="1138.4" cy="848.4" rx="5.3" ry="4.4"/><ellipse cx="1181.9" cy="844.1" rx="5.3" ry="4.4"/><ellipse cx="1187.8" cy="834.8" rx="5.3" ry="4.4"/><ellipse cx="1119.9" cy="839.8" rx="5.3" ry="4.4"/><ellipse cx="1189.9" cy="837.1" rx="5.3" ry="4.4"/><ellipse cx="1154.6" cy="867.9" rx="5.3" ry="4.4"/><ellipse cx="1102.5" cy="845.5" rx="5.3" ry="4.4"/><ellipse cx="1195.0" cy="841.7" rx="5.3" ry="4.4"/><ellipse cx="1202.9" cy="838.7" rx="5.3" ry="4.4"/><ellipse cx="1135.5" cy="854.2" rx="5.3" ry="4.4"/><ellipse cx="1181.2" cy="837.7" rx="5.3" ry="4.4"/><ellipse cx="1179.1" cy="852.4" rx="5.3" ry="4.4"/><ellipse cx="1143.9" cy="853.5" rx="5.3" ry="4.4"/><ellipse cx="1139.9" cy="839.8" rx="5.3" ry="4.4"/><ellipse cx="1208.8" cy="832.6" rx="5.3" ry="4.4"/><ellipse cx="1140.9" cy="852.7" rx="5.3" ry="4.4"/><ellipse cx="1216.8" cy="838.9" rx="5.3" ry="4.4"/><ellipse cx="1221.5" cy="827.4" rx="5.3" ry="4.4"/><ellipse cx="1152.8" cy="855.9" rx="5.3" ry="4.4"/><ellipse cx="1117.8" cy="835.2" rx="5.3" ry="4.4"/><ellipse cx="1183.8" cy="857.1" rx="5.3" ry="4.4"/><ellipse cx="1181.3" cy="859.3" rx="5.3" ry="4.4"/><ellipse cx="1185.0" cy="841.3" rx="5.3" ry="4.4"/><ellipse cx="1198.6" cy="843.0" rx="5.3" ry="4.4"/><ellipse cx="1200.8" cy="860.8" rx="5.3" ry="4.4"/><ellipse cx="1165.1" cy="841.0" rx="5.3" ry="4.4"/><ellipse cx="1196.8" cy="834.4" rx="5.3" ry="4.4"/><ellipse cx="1141.3" cy="862.3" rx="5.3" ry="4.4"/><ellipse cx="1188.6" cy="843.1" rx="5.3" ry="4.4"/><ellipse cx="1161.6" cy="840.4" rx="5.3" ry="4.4"/><ellipse cx="1116.3" cy="845.5" rx="5.3" ry="4.4"/><ellipse cx="1156.6" cy="854.3" rx="5.3" ry="4.4"/><ellipse cx="1135.3" cy="820.7" rx="5.3" ry="4.4"/><ellipse cx="1143.5" cy="854.3" rx="5.3" ry="4.4"/><ellipse cx="1209.9" cy="857.6" rx="5.3" ry="4.4"/><ellipse cx="1186.6" cy="850.4" rx="5.3" ry="4.4"/><ellipse cx="1174.1" cy="874.2" rx="5.3" ry="4.4"/><ellipse cx="1118.5" cy="843.4" rx="5.3" ry="4.4"/><ellipse cx="1149.4" cy="866.3" rx="5.3" ry="4.4"/><ellipse cx="1215.9" cy="838.9" rx="5.3" ry="4.4"/><ellipse cx="1233.3" cy="830.5" rx="5.3" ry="4.4"/><ellipse cx="1214.9" cy="828.7" rx="5.3" ry="4.4"/><ellipse cx="1164.2" cy="845.0" rx="5.3" ry="4.4"/><ellipse cx="1178.6" cy="830.3" rx="5.3" ry="4.4"/><ellipse cx="1167.5" cy="847.2" rx="5.3" ry="4.4"/><ellipse cx="1199.4" cy="834.4" rx="5.3" ry="4.4"/><ellipse cx="1193.6" cy="840.1" rx="5.3" ry="4.4"/><ellipse cx="1199.7" cy="847.4" rx="5.3" ry="4.4"/><ellipse cx="1161.2" cy="831.9" rx="5.3" ry="4.4"/><ellipse cx="1207.4" cy="844.1" rx="5.3" ry="4.4"/><ellipse cx="1187.6" cy="844.1" rx="5.3" ry="4.4"/><ellipse cx="1100.8" cy="849.6" rx="5.3" ry="4.4"/><ellipse cx="1205.8" cy="841.5" rx="5.3" ry="4.4"/><ellipse cx="1211.1" cy="843.7" rx="5.3" ry="4.4"/><ellipse cx="1214.6" cy="844.5" rx="5.3" ry="4.4"/><ellipse cx="1214.7" cy="820.7" rx="5.3" ry="4.4"/><ellipse cx="1167.0" cy="848.0" rx="5.3" ry="4.4"/><ellipse cx="1193.5" cy="848.7" rx="5.3" ry="4.4"/><ellipse cx="1207.1" cy="844.5" rx="5.3" ry="4.4"/><ellipse cx="1110.0" cy="855.0" rx="5.3" ry="4.4"/><ellipse cx="1215.7" cy="839.7" rx="5.3" ry="4.4"/><ellipse cx="1212.8" cy="847.7" rx="5.3" ry="4.4"/><ellipse cx="1147.9" cy="847.1" rx="5.3" ry="4.4"/><ellipse cx="1183.1" cy="785.7" rx="5.3" ry="4.4"/><ellipse cx="1270.5" cy="838.5" rx="5.3" ry="4.4"/><ellipse cx="1221.3" cy="832.7" rx="5.3" ry="4.4"/><ellipse cx="1212.1" cy="841.3" rx="5.3" ry="4.4"/><ellipse cx="1221.7" cy="830.3" rx="5.3" ry="4.4"/><ellipse cx="1137.3" cy="845.3" rx="5.3" ry="4.4"/><ellipse cx="1176.1" cy="843.3" rx="5.3" ry="4.4"/><ellipse cx="1110.1" cy="852.8" rx="5.3" ry="4.4"/><ellipse cx="1132.6" cy="861.9" rx="5.3" ry="4.4"/><ellipse cx="1132.7" cy="861.4" rx="5.3" ry="4.4"/><ellipse cx="1144.0" cy="838.5" rx="5.3" ry="4.4"/><ellipse cx="1188.4" cy="836.1" rx="5.3" ry="4.4"/><ellipse cx="1120.7" cy="864.5" rx="5.3" ry="4.4"/><ellipse cx="1220.9" cy="839.3" rx="5.3" ry="4.4"/><ellipse cx="1123.8" cy="845.4" rx="5.3" ry="4.4"/><ellipse cx="1198.2" cy="848.6" rx="5.3" ry="4.4"/><ellipse cx="1171.6" cy="848.3" rx="5.3" ry="4.4"/><ellipse cx="1204.9" cy="845.6" rx="5.3" ry="4.4"/><ellipse cx="1143.8" cy="850.2" rx="5.3" ry="4.4"/><ellipse cx="1174.4" cy="843.1" rx="5.3" ry="4.4"/><ellipse cx="1135.9" cy="875.1" rx="5.3" ry="4.4"/><ellipse cx="1240.2" cy="837.7" rx="5.3" ry="4.4"/><ellipse cx="1194.8" cy="831.8" rx="5.3" ry="4.4"/><ellipse cx="1150.4" cy="845.7" rx="5.3" ry="4.4"/><ellipse cx="1206.2" cy="844.8" rx="5.3" ry="4.4"/><ellipse cx="1179.5" cy="832.6" rx="5.3" ry="4.4"/><ellipse cx="1175.2" cy="873.7" rx="5.3" ry="4.4"/><ellipse cx="1140.5" cy="863.0" rx="5.3" ry="4.4"/><ellipse cx="1121.1" cy="850.5" rx="5.3" ry="4.4"/><ellipse cx="1152.9" cy="865.3" rx="5.3" ry="4.4"/><ellipse cx="1097.4" cy="825.0" rx="5.3" ry="4.4"/><ellipse cx="1224.0" cy="831.9" rx="5.3" ry="4.4"/><ellipse cx="1113.7" cy="846.4" rx="5.3" ry="4.4"/><ellipse cx="1143.2" cy="821.5" rx="5.3" ry="4.4"/><ellipse cx="1156.9" cy="849.1" rx="5.3" ry="4.4"/><ellipse cx="1144.0" cy="845.6" rx="5.3" ry="4.4"/><ellipse cx="1151.8" cy="857.2" rx="5.3" ry="4.4"/><ellipse cx="1155.8" cy="836.1" rx="5.3" ry="4.4"/><ellipse cx="1129.7" cy="862.9" rx="5.3" ry="4.4"/><ellipse cx="1144.8" cy="849.9" rx="5.3" ry="4.4"/><ellipse cx="1156.5" cy="836.5" rx="5.3" ry="4.4"/><ellipse cx="1205.1" cy="849.5" rx="5.3" ry="4.4"/><ellipse cx="1121.4" cy="859.4" rx="5.3" ry="4.4"/><ellipse cx="1211.8" cy="831.5" rx="5.3" ry="4.4"/><ellipse cx="1179.5" cy="846.3" rx="5.3" ry="4.4"/><ellipse cx="1144.0" cy="849.7" rx="5.3" ry="4.4"/><ellipse cx="1156.9" cy="849.8" rx="5.3" ry="4.4"/><ellipse cx="1187.2" cy="842.3" rx="5.3" ry="4.4"/><ellipse cx="1170.0" cy="865.6" rx="5.3" ry="4.4"/><ellipse cx="1211.1" cy="838.3" rx="5.3" ry="4.4"/><ellipse cx="1112.0" cy="849.0" rx="5.3" ry="4.4"/><ellipse cx="1130.8" cy="847.6" rx="5.3" ry="4.4"/><ellipse cx="1175.8" cy="850.5" rx="5.3" ry="4.4"/><ellipse cx="1161.0" cy="849.0" rx="5.3" ry="4.4"/><ellipse cx="1106.3" cy="838.7" rx="5.3" ry="4.4"/><ellipse cx="1121.6" cy="819.8" rx="5.3" ry="4.4"/><ellipse cx="1097.4" cy="838.1" rx="5.3" ry="4.4"/><ellipse cx="1131.1" cy="844.3" rx="5.3" ry="4.4"/><ellipse cx="1157.6" cy="834.1" rx="5.3" ry="4.4"/><ellipse cx="1198.4" cy="821.4" rx="5.3" ry="4.4"/><ellipse cx="1132.3" cy="841.4" rx="5.3" ry="4.4"/><ellipse cx="1175.7" cy="849.5" rx="5.3" ry="4.4"/><ellipse cx="1127.4" cy="844.3" rx="5.3" ry="4.4"/><ellipse cx="1188.0" cy="853.5" rx="5.3" ry="4.4"/><ellipse cx="1177.0" cy="834.8" rx="5.3" ry="4.4"/><ellipse cx="1165.8" cy="865.6" rx="5.3" ry="4.4"/><ellipse cx="1190.8" cy="855.2" rx="5.3" ry="4.4"/><ellipse cx="1208.1" cy="837.2" rx="5.3" ry="4.4"/><ellipse cx="1133.9" cy="816.5" rx="5.3" ry="4.4"/><ellipse cx="1195.2" cy="856.3" rx="5.3" ry="4.4"/><ellipse cx="1196.4" cy="833.1" rx="5.3" ry="4.4"/><ellipse cx="1187.8" cy="846.8" rx="5.3" ry="4.4"/><ellipse cx="1181.4" cy="836.8" rx="5.3" ry="4.4"/><ellipse cx="1146.3" cy="834.9" rx="5.3" ry="4.4"/><ellipse cx="1143.2" cy="862.9" rx="5.3" ry="4.4"/><ellipse cx="1134.3" cy="830.9" rx="5.3" ry="4.4"/><ellipse cx="1134.4" cy="842.0" rx="5.3" ry="4.4"/><ellipse cx="1156.5" cy="821.7" rx="5.3" ry="4.4"/><ellipse cx="1212.9" cy="841.6" rx="5.3" ry="4.4"/><ellipse cx="1163.7" cy="835.0" rx="5.3" ry="4.4"/><ellipse cx="1191.7" cy="849.7" rx="5.3" ry="4.4"/><ellipse cx="1140.6" cy="865.9" rx="5.3" ry="4.4"/><ellipse cx="1165.9" cy="840.8" rx="5.3" ry="4.4"/><ellipse cx="1186.5" cy="836.3" rx="5.3" ry="4.4"/><ellipse cx="1118.0" cy="840.3" rx="5.3" ry="4.4"/><ellipse cx="1178.8" cy="853.9" rx="5.3" ry="4.4"/><ellipse cx="1138.8" cy="835.4" rx="5.3" ry="4.4"/><ellipse cx="1151.4" cy="866.9" rx="5.3" ry="4.4"/><ellipse cx="1197.9" cy="846.7" rx="5.3" ry="4.4"/><ellipse cx="1197.7" cy="831.9" rx="5.3" ry="4.4"/><ellipse cx="1206.4" cy="853.3" rx="5.3" ry="4.4"/><ellipse cx="1246.4" cy="836.8" rx="5.3" ry="4.4"/><ellipse cx="1140.8" cy="849.3" rx="5.3" ry="4.4"/><ellipse cx="1213.7" cy="831.5" rx="5.3" ry="4.4"/><ellipse cx="1166.1" cy="863.4" rx="5.3" ry="4.4"/><ellipse cx="1205.7" cy="840.8" rx="5.3" ry="4.4"/><ellipse cx="1194.2" cy="828.5" rx="5.3" ry="4.4"/><ellipse cx="1127.1" cy="862.1" rx="5.3" ry="4.4"/><ellipse cx="1171.3" cy="855.1" rx="5.3" ry="4.4"/><ellipse cx="1142.1" cy="824.8" rx="5.3" ry="4.4"/><ellipse cx="1141.2" cy="851.5" rx="5.3" ry="4.4"/><ellipse cx="1153.0" cy="856.1" rx="5.3" ry="4.4"/><ellipse cx="1214.1" cy="841.3" rx="5.3" ry="4.4"/><ellipse cx="1155.9" cy="834.5" rx="5.3" ry="4.4"/><ellipse cx="1160.1" cy="840.2" rx="5.3" ry="4.4"/><ellipse cx="1145.0" cy="840.5" rx="5.3" ry="4.4"/><ellipse cx="1159.3" cy="832.3" rx="5.3" ry="4.4"/><ellipse cx="1184.5" cy="837.2" rx="5.3" ry="4.4"/><ellipse cx="1152.1" cy="846.7" rx="5.3" ry="4.4"/><ellipse cx="1179.5" cy="840.8" rx="5.3" ry="4.4"/><ellipse cx="1166.2" cy="831.0" rx="5.3" ry="4.4"/><ellipse cx="1170.0" cy="838.2" rx="5.3" ry="4.4"/><ellipse cx="1183.6" cy="847.1" rx="5.3" ry="4.4"/><ellipse cx="1145.4" cy="847.8" rx="5.3" ry="4.4"/><ellipse cx="1142.2" cy="853.5" rx="5.3" ry="4.4"/><ellipse cx="1217.9" cy="844.7" rx="5.3" ry="4.4"/><ellipse cx="1149.9" cy="844.4" rx="5.3" ry="4.4"/><ellipse cx="1167.4" cy="842.3" rx="5.3" ry="4.4"/><ellipse cx="1148.5" cy="853.4" rx="5.3" ry="4.4"/><ellipse cx="1144.0" cy="873.1" rx="5.3" ry="4.4"/><ellipse cx="1225.8" cy="840.5" rx="5.3" ry="4.4"/><ellipse cx="1189.3" cy="846.5" rx="5.3" ry="4.4"/><ellipse cx="1157.6" cy="836.7" rx="5.3" ry="4.4"/><ellipse cx="1152.4" cy="824.0" rx="5.3" ry="4.4"/><ellipse cx="1194.3" cy="844.2" rx="5.3" ry="4.4"/><ellipse cx="1145.8" cy="851.5" rx="5.3" ry="4.4"/><ellipse cx="1142.6" cy="852.8" rx="5.3" ry="4.4"/><ellipse cx="1168.2" cy="868.9" rx="5.3" ry="4.4"/><ellipse cx="1172.8" cy="843.3" rx="5.3" ry="4.4"/><ellipse cx="1202.8" cy="835.8" rx="5.3" ry="4.4"/><ellipse cx="1159.1" cy="854.8" rx="5.3" ry="4.4"/><ellipse cx="1205.7" cy="837.3" rx="5.3" ry="4.4"/><ellipse cx="1143.9" cy="846.0" rx="5.3" ry="4.4"/><ellipse cx="1146.0" cy="836.4" rx="5.3" ry="4.4"/><ellipse cx="1135.1" cy="859.8" rx="5.3" ry="4.4"/><ellipse cx="1124.5" cy="856.2" rx="5.3" ry="4.4"/><ellipse cx="1168.7" cy="856.7" rx="5.3" ry="4.4"/><ellipse cx="1135.0" cy="839.8" rx="5.3" ry="4.4"/><ellipse cx="1183.9" cy="847.5" rx="5.3" ry="4.4"/><ellipse cx="1164.8" cy="816.5" rx="5.3" ry="4.4"/><ellipse cx="1150.0" cy="855.2" rx="5.3" ry="4.4"/></g>
<path d="M1098.3,849.4L1272.2,835.1" stroke="#e3121b" stroke-width="1.3" fill="none"/>
<text transform="translate(1016.20,851.44) rotate(-90) scale(1.0096,1)" font-size="42.62" fill="#231f20">Model</text>
<text transform="translate(1266.80,880.70) scale(1.0533,1)" font-size="40.14" fill="#231f20">Obs.</text>
<path d="M1055.8,992.5V1168.6H1272.3M1146.2,1168.6v-4.0M1236.4,1168.6v-4.0M1055.8,1139.3h4.0M1055.8,1110.0h4.0M1055.8,1080.6h4.0M1055.8,1051.3h4.0M1055.8,1021.9h4.0M1055.8,992.5h4.0" stroke="#7a7a7a" stroke-width="1.2" fill="none"/>
<text transform="translate(1051.46,1184.60) scale(1.4600,1)" font-size="11.10" fill="#231f20">0</text>
<text transform="translate(1141.70,1184.60) scale(1.4600,1)" font-size="11.10" fill="#231f20">5</text>
<text transform="translate(1227.08,1184.60) scale(1.4600,1)" font-size="11.10" fill="#231f20">10</text>
<text transform="translate(1038.67,1172.60) scale(1.4600,1)" font-size="11.10" fill="#231f20">0</text>
<text transform="translate(1038.92,1143.24) scale(1.4600,1)" font-size="11.10" fill="#231f20">2</text>
<text transform="translate(1038.59,1113.88) scale(1.4600,1)" font-size="11.10" fill="#231f20">4</text>
<text transform="translate(1038.75,1084.52) scale(1.4600,1)" font-size="11.10" fill="#231f20">6</text>
<text transform="translate(1038.75,1055.16) scale(1.4600,1)" font-size="11.10" fill="#231f20">8</text>
<text transform="translate(1029.68,1025.80) scale(1.4600,1)" font-size="11.10" fill="#231f20">10</text>
<text transform="translate(1029.92,996.44) scale(1.4600,1)" font-size="11.10" fill="#231f20">12</text>
<path d="M1055.8,1168.6L1272.3,992.5" stroke="#8c8c8c" stroke-width="1.5" stroke-dasharray="8 3.5 1.8 3.5" fill="none"/>
<g class="sm" fill="#8a64bd" stroke="#2b2230" stroke-width="0.85"><ellipse cx="1081.6" cy="1167.8" rx="5.3" ry="4.4"/><ellipse cx="1105.2" cy="1168.0" rx="5.3" ry="4.4"/><ellipse cx="1098.0" cy="1167.9" rx="5.3" ry="4.4"/><ellipse cx="1212.3" cy="1144.4" rx="5.3" ry="4.4"/><ellipse cx="1087.5" cy="1168.6" rx="5.3" ry="4.4"/><ellipse cx="1099.9" cy="1168.7" rx="5.3" ry="4.4"/><ellipse cx="1114.1" cy="1159.1" rx="5.3" ry="4.4"/><ellipse cx="1111.6" cy="1160.6" rx="5.3" ry="4.4"/><ellipse cx="1084.4" cy="1168.5" rx="5.3" ry="4.4"/><ellipse cx="1212.3" cy="1120.6" rx="5.3" ry="4.4"/><ellipse cx="1105.7" cy="1153.1" rx="5.3" ry="4.4"/><ellipse cx="1244.7" cy="1138.1" rx="5.3" ry="4.4"/><ellipse cx="1084.8" cy="1168.3" rx="5.3" ry="4.4"/><ellipse cx="1096.9" cy="1167.6" rx="5.3" ry="4.4"/><ellipse cx="1162.3" cy="1162.7" rx="5.3" ry="4.4"/><ellipse cx="1093.9" cy="1169.6" rx="5.3" ry="4.4"/><ellipse cx="1177.3" cy="1126.1" rx="5.3" ry="4.4"/><ellipse cx="1085.1" cy="1167.8" rx="5.3" ry="4.4"/><ellipse cx="1117.5" cy="1157.0" rx="5.3" ry="4.4"/><ellipse cx="1099.5" cy="1166.7" rx="5.3" ry="4.4"/><ellipse cx="1101.5" cy="1154.2" rx="5.3" ry="4.4"/><ellipse cx="1099.1" cy="1168.7" rx="5.3" ry="4.4"/><ellipse cx="1206.4" cy="1143.1" rx="5.3" ry="4.4"/><ellipse cx="1069.8" cy="1167.9" rx="5.3" ry="4.4"/><ellipse cx="1158.2" cy="1153.1" rx="5.3" ry="4.4"/><ellipse cx="1091.3" cy="1169.0" rx="5.3" ry="4.4"/><ellipse cx="1143.2" cy="1144.8" rx="5.3" ry="4.4"/><ellipse cx="1109.1" cy="1149.2" rx="5.3" ry="4.4"/><ellipse cx="1116.6" cy="1137.8" rx="5.3" ry="4.4"/><ellipse cx="1090.8" cy="1129.8" rx="5.3" ry="4.4"/><ellipse cx="1104.9" cy="1129.8" rx="5.3" ry="4.4"/><ellipse cx="1140.7" cy="1126.1" rx="5.3" ry="4.4"/><ellipse cx="1095.3" cy="1167.2" rx="5.3" ry="4.4"/><ellipse cx="1272.2" cy="1132.8" rx="5.3" ry="4.4"/><ellipse cx="1105.1" cy="1161.2" rx="5.3" ry="4.4"/><ellipse cx="1082.4" cy="1168.3" rx="5.3" ry="4.4"/><ellipse cx="1168.2" cy="1117.8" rx="5.3" ry="4.4"/><ellipse cx="1076.6" cy="1166.9" rx="5.3" ry="4.4"/><ellipse cx="1077.2" cy="1167.2" rx="5.3" ry="4.4"/><ellipse cx="1094.7" cy="1167.6" rx="5.3" ry="4.4"/><ellipse cx="1129.9" cy="1142.3" rx="5.3" ry="4.4"/><ellipse cx="1104.1" cy="1166.4" rx="5.3" ry="4.4"/><ellipse cx="1183.1" cy="1158.1" rx="5.3" ry="4.4"/><ellipse cx="1194.8" cy="1156.4" rx="5.3" ry="4.4"/><ellipse cx="1120.7" cy="1133.9" rx="5.3" ry="4.4"/><ellipse cx="1096.1" cy="1168.1" rx="5.3" ry="4.4"/><ellipse cx="1107.4" cy="1134.8" rx="5.3" ry="4.4"/><ellipse cx="1094.1" cy="1109.8" rx="5.3" ry="4.4"/><ellipse cx="1098.2" cy="1168.7" rx="5.3" ry="4.4"/><ellipse cx="1159.8" cy="1157.2" rx="5.3" ry="4.4"/><ellipse cx="1094.5" cy="1169.4" rx="5.3" ry="4.4"/><ellipse cx="1106.6" cy="1158.9" rx="5.3" ry="4.4"/><ellipse cx="1134.9" cy="1139.8" rx="5.3" ry="4.4"/><ellipse cx="1109.0" cy="1156.3" rx="5.3" ry="4.4"/><ellipse cx="1109.9" cy="1124.5" rx="5.3" ry="4.4"/><ellipse cx="1156.5" cy="1118.1" rx="5.3" ry="4.4"/><ellipse cx="1189.8" cy="1153.4" rx="5.3" ry="4.4"/><ellipse cx="1177.3" cy="1104.8" rx="5.3" ry="4.4"/><ellipse cx="1153.2" cy="1124.8" rx="5.3" ry="4.4"/><ellipse cx="1078.8" cy="1168.1" rx="5.3" ry="4.4"/><ellipse cx="1113.0" cy="1160.4" rx="5.3" ry="4.4"/><ellipse cx="1256.7" cy="1130.1" rx="5.3" ry="4.4"/><ellipse cx="1239.7" cy="1148.4" rx="5.3" ry="4.4"/><ellipse cx="1168.2" cy="1128.5" rx="5.3" ry="4.4"/><ellipse cx="1111.5" cy="1162.2" rx="5.3" ry="4.4"/><ellipse cx="1108.2" cy="1139.8" rx="5.3" ry="4.4"/><ellipse cx="1142.4" cy="1129.8" rx="5.3" ry="4.4"/><ellipse cx="1096.6" cy="1167.6" rx="5.3" ry="4.4"/><ellipse cx="1070.0" cy="1161.1" rx="5.3" ry="4.4"/><ellipse cx="1099.1" cy="1124.5" rx="5.3" ry="4.4"/><ellipse cx="1110.5" cy="1168.4" rx="5.3" ry="4.4"/><ellipse cx="1248.0" cy="1152.7" rx="5.3" ry="4.4"/><ellipse cx="1119.9" cy="1154.7" rx="5.3" ry="4.4"/><ellipse cx="1117.4" cy="1148.1" rx="5.3" ry="4.4"/><ellipse cx="1115.3" cy="1163.1" rx="5.3" ry="4.4"/><ellipse cx="1230.6" cy="1133.6" rx="5.3" ry="4.4"/><ellipse cx="1143.2" cy="1127.3" rx="5.3" ry="4.4"/><ellipse cx="1149.0" cy="1137.3" rx="5.3" ry="4.4"/><ellipse cx="1205.6" cy="1130.6" rx="5.3" ry="4.4"/><ellipse cx="1093.4" cy="1169.5" rx="5.3" ry="4.4"/><ellipse cx="1100.1" cy="1168.1" rx="5.3" ry="4.4"/><ellipse cx="1095.8" cy="1169.2" rx="5.3" ry="4.4"/><ellipse cx="1117.4" cy="1126.5" rx="5.3" ry="4.4"/><ellipse cx="1143.2" cy="1133.1" rx="5.3" ry="4.4"/><ellipse cx="1109.9" cy="1145.1" rx="5.3" ry="4.4"/><ellipse cx="1128.2" cy="1168.1" rx="5.3" ry="4.4"/><ellipse cx="1128.2" cy="1125.6" rx="5.3" ry="4.4"/><ellipse cx="1206.4" cy="1121.5" rx="5.3" ry="4.4"/><ellipse cx="1109.9" cy="1119.0" rx="5.3" ry="4.4"/><ellipse cx="1098.0" cy="1168.6" rx="5.3" ry="4.4"/><ellipse cx="1088.3" cy="1167.5" rx="5.3" ry="4.4"/><ellipse cx="1155.7" cy="1124.0" rx="5.3" ry="4.4"/><ellipse cx="1200.6" cy="1143.1" rx="5.3" ry="4.4"/><ellipse cx="1114.9" cy="1168.1" rx="5.3" ry="4.4"/><ellipse cx="1121.6" cy="1116.5" rx="5.3" ry="4.4"/><ellipse cx="1106.9" cy="1167.8" rx="5.3" ry="4.4"/><ellipse cx="1089.2" cy="1168.9" rx="5.3" ry="4.4"/><ellipse cx="1241.4" cy="1131.4" rx="5.3" ry="4.4"/><ellipse cx="1116.6" cy="1133.1" rx="5.3" ry="4.4"/><ellipse cx="1082.5" cy="1167.1" rx="5.3" ry="4.4"/><ellipse cx="1074.2" cy="1167.9" rx="5.3" ry="4.4"/><ellipse cx="1125.7" cy="1109.8" rx="5.3" ry="4.4"/><ellipse cx="1084.1" cy="1167.7" rx="5.3" ry="4.4"/></g>
<path d="M1081.6,1167.2L1272.2,1117.3" stroke="#e3121b" stroke-width="1.3" fill="none"/>
<text transform="translate(1006.40,1132.35) rotate(-90) scale(1.0008,1)" font-size="43.03" fill="#231f20">Model</text>
<text transform="translate(1284.18,1161.60) scale(1.0634,1)" font-size="40.14" fill="#231f20">Obs.</text>
<path d="M1055.8,1237.0V1412.7H1272.7M1164.3,1412.7v-4.0M1272.8,1412.7v-4.0M1055.8,1369.0h4.0M1055.8,1325.1h4.0M1055.8,1281.2h4.0M1055.8,1237.3h4.0" stroke="#7a7a7a" stroke-width="1.2" fill="none"/>
<text transform="translate(1046.68,1428.70) scale(1.4600,1)" font-size="11.10" fill="#231f20">20</text>
<text transform="translate(1155.27,1428.70) scale(1.4600,1)" font-size="11.10" fill="#231f20">30</text>
<text transform="translate(1263.93,1428.70) scale(1.4600,1)" font-size="11.10" fill="#231f20">40</text>
<text transform="translate(1029.68,1416.80) scale(1.4600,1)" font-size="11.10" fill="#231f20">20</text>
<text transform="translate(1029.76,1372.90) scale(1.4600,1)" font-size="11.10" fill="#231f20">25</text>
<text transform="translate(1029.68,1329.00) scale(1.4600,1)" font-size="11.10" fill="#231f20">30</text>
<text transform="translate(1029.76,1285.10) scale(1.4600,1)" font-size="11.10" fill="#231f20">35</text>
<text transform="translate(1029.68,1241.20) scale(1.4600,1)" font-size="11.10" fill="#231f20">40</text>
<path d="M1055.8,1412.7L1272.7,1237.0" stroke="#8c8c8c" stroke-width="1.5" stroke-dasharray="8 3.5 1.8 3.5" fill="none"/>
<g class="sm" fill="#66a76b" stroke="#1f2a1f" stroke-width="0.85"><ellipse cx="1109.6" cy="1355.2" rx="5.3" ry="4.4"/><ellipse cx="1211.1" cy="1315.7" rx="5.3" ry="4.4"/><ellipse cx="1160.7" cy="1339.5" rx="5.3" ry="4.4"/><ellipse cx="1174.6" cy="1339.8" rx="5.3" ry="4.4"/><ellipse cx="1198.0" cy="1317.1" rx="5.3" ry="4.4"/><ellipse cx="1137.4" cy="1350.2" rx="5.3" ry="4.4"/><ellipse cx="1154.4" cy="1367.3" rx="5.3" ry="4.4"/><ellipse cx="1209.3" cy="1302.2" rx="5.3" ry="4.4"/><ellipse cx="1144.8" cy="1367.9" rx="5.3" ry="4.4"/><ellipse cx="1129.7" cy="1379.2" rx="5.3" ry="4.4"/><ellipse cx="1144.6" cy="1351.8" rx="5.3" ry="4.4"/><ellipse cx="1160.3" cy="1325.8" rx="5.3" ry="4.4"/><ellipse cx="1166.9" cy="1338.1" rx="5.3" ry="4.4"/><ellipse cx="1204.3" cy="1325.9" rx="5.3" ry="4.4"/><ellipse cx="1161.7" cy="1349.8" rx="5.3" ry="4.4"/><ellipse cx="1137.4" cy="1364.2" rx="5.3" ry="4.4"/><ellipse cx="1174.4" cy="1313.1" rx="5.3" ry="4.4"/><ellipse cx="1235.7" cy="1304.5" rx="5.3" ry="4.4"/><ellipse cx="1151.3" cy="1357.5" rx="5.3" ry="4.4"/><ellipse cx="1115.6" cy="1347.4" rx="5.3" ry="4.4"/><ellipse cx="1161.4" cy="1317.1" rx="5.3" ry="4.4"/><ellipse cx="1211.6" cy="1316.4" rx="5.3" ry="4.4"/><ellipse cx="1253.5" cy="1301.3" rx="5.3" ry="4.4"/><ellipse cx="1163.7" cy="1325.7" rx="5.3" ry="4.4"/><ellipse cx="1156.1" cy="1333.6" rx="5.3" ry="4.4"/><ellipse cx="1161.9" cy="1363.2" rx="5.3" ry="4.4"/><ellipse cx="1213.3" cy="1299.9" rx="5.3" ry="4.4"/><ellipse cx="1227.1" cy="1305.1" rx="5.3" ry="4.4"/><ellipse cx="1107.4" cy="1331.8" rx="5.3" ry="4.4"/><ellipse cx="1195.5" cy="1306.7" rx="5.3" ry="4.4"/><ellipse cx="1148.1" cy="1323.5" rx="5.3" ry="4.4"/><ellipse cx="1148.6" cy="1336.9" rx="5.3" ry="4.4"/><ellipse cx="1178.0" cy="1343.3" rx="5.3" ry="4.4"/><ellipse cx="1221.1" cy="1310.8" rx="5.3" ry="4.4"/><ellipse cx="1098.7" cy="1364.2" rx="5.3" ry="4.4"/><ellipse cx="1139.4" cy="1351.0" rx="5.3" ry="4.4"/><ellipse cx="1222.9" cy="1305.4" rx="5.3" ry="4.4"/><ellipse cx="1184.5" cy="1336.6" rx="5.3" ry="4.4"/><ellipse cx="1139.9" cy="1396.4" rx="5.3" ry="4.4"/><ellipse cx="1145.7" cy="1339.9" rx="5.3" ry="4.4"/><ellipse cx="1143.9" cy="1361.8" rx="5.3" ry="4.4"/><ellipse cx="1229.9" cy="1326.0" rx="5.3" ry="4.4"/><ellipse cx="1183.4" cy="1334.8" rx="5.3" ry="4.4"/><ellipse cx="1179.4" cy="1341.1" rx="5.3" ry="4.4"/><ellipse cx="1139.8" cy="1332.0" rx="5.3" ry="4.4"/><ellipse cx="1155.9" cy="1320.6" rx="5.3" ry="4.4"/><ellipse cx="1145.2" cy="1332.7" rx="5.3" ry="4.4"/><ellipse cx="1133.4" cy="1345.3" rx="5.3" ry="4.4"/><ellipse cx="1232.5" cy="1292.9" rx="5.3" ry="4.4"/><ellipse cx="1220.9" cy="1313.7" rx="5.3" ry="4.4"/><ellipse cx="1103.4" cy="1351.6" rx="5.3" ry="4.4"/><ellipse cx="1118.1" cy="1342.2" rx="5.3" ry="4.4"/><ellipse cx="1134.9" cy="1383.9" rx="5.3" ry="4.4"/><ellipse cx="1206.9" cy="1317.6" rx="5.3" ry="4.4"/><ellipse cx="1155.6" cy="1318.0" rx="5.3" ry="4.4"/><ellipse cx="1095.5" cy="1364.4" rx="5.3" ry="4.4"/><ellipse cx="1213.1" cy="1350.2" rx="5.3" ry="4.4"/><ellipse cx="1199.6" cy="1319.6" rx="5.3" ry="4.4"/><ellipse cx="1207.5" cy="1320.4" rx="5.3" ry="4.4"/><ellipse cx="1120.3" cy="1351.6" rx="5.3" ry="4.4"/><ellipse cx="1160.6" cy="1335.1" rx="5.3" ry="4.4"/><ellipse cx="1195.6" cy="1338.1" rx="5.3" ry="4.4"/><ellipse cx="1209.2" cy="1308.2" rx="5.3" ry="4.4"/><ellipse cx="1178.1" cy="1337.5" rx="5.3" ry="4.4"/><ellipse cx="1148.1" cy="1368.3" rx="5.3" ry="4.4"/><ellipse cx="1227.7" cy="1308.9" rx="5.3" ry="4.4"/><ellipse cx="1163.7" cy="1325.1" rx="5.3" ry="4.4"/><ellipse cx="1151.1" cy="1329.9" rx="5.3" ry="4.4"/><ellipse cx="1168.1" cy="1333.7" rx="5.3" ry="4.4"/><ellipse cx="1152.7" cy="1324.9" rx="5.3" ry="4.4"/><ellipse cx="1209.9" cy="1316.3" rx="5.3" ry="4.4"/><ellipse cx="1211.8" cy="1302.3" rx="5.3" ry="4.4"/><ellipse cx="1186.2" cy="1324.8" rx="5.3" ry="4.4"/><ellipse cx="1141.8" cy="1357.3" rx="5.3" ry="4.4"/><ellipse cx="1197.3" cy="1325.7" rx="5.3" ry="4.4"/><ellipse cx="1175.4" cy="1329.5" rx="5.3" ry="4.4"/><ellipse cx="1137.9" cy="1349.4" rx="5.3" ry="4.4"/><ellipse cx="1144.6" cy="1359.2" rx="5.3" ry="4.4"/><ellipse cx="1097.2" cy="1369.1" rx="5.3" ry="4.4"/><ellipse cx="1212.9" cy="1326.8" rx="5.3" ry="4.4"/><ellipse cx="1144.0" cy="1350.5" rx="5.3" ry="4.4"/><ellipse cx="1128.4" cy="1333.9" rx="5.3" ry="4.4"/><ellipse cx="1135.4" cy="1340.7" rx="5.3" ry="4.4"/><ellipse cx="1169.6" cy="1344.7" rx="5.3" ry="4.4"/><ellipse cx="1211.7" cy="1309.2" rx="5.3" ry="4.4"/><ellipse cx="1147.1" cy="1347.1" rx="5.3" ry="4.4"/><ellipse cx="1242.3" cy="1297.7" rx="5.3" ry="4.4"/><ellipse cx="1150.4" cy="1353.8" rx="5.3" ry="4.4"/><ellipse cx="1202.6" cy="1325.6" rx="5.3" ry="4.4"/><ellipse cx="1108.5" cy="1358.4" rx="5.3" ry="4.4"/><ellipse cx="1150.3" cy="1359.4" rx="5.3" ry="4.4"/><ellipse cx="1186.9" cy="1320.1" rx="5.3" ry="4.4"/><ellipse cx="1174.2" cy="1327.0" rx="5.3" ry="4.4"/><ellipse cx="1211.9" cy="1296.8" rx="5.3" ry="4.4"/><ellipse cx="1198.1" cy="1359.8" rx="5.3" ry="4.4"/><ellipse cx="1218.4" cy="1293.1" rx="5.3" ry="4.4"/><ellipse cx="1223.3" cy="1315.2" rx="5.3" ry="4.4"/><ellipse cx="1159.8" cy="1371.5" rx="5.3" ry="4.4"/><ellipse cx="1142.8" cy="1352.4" rx="5.3" ry="4.4"/><ellipse cx="1122.8" cy="1346.3" rx="5.3" ry="4.4"/><ellipse cx="1114.3" cy="1362.2" rx="5.3" ry="4.4"/><ellipse cx="1221.9" cy="1312.7" rx="5.3" ry="4.4"/><ellipse cx="1182.7" cy="1333.9" rx="5.3" ry="4.4"/><ellipse cx="1206.9" cy="1318.5" rx="5.3" ry="4.4"/><ellipse cx="1221.8" cy="1319.5" rx="5.3" ry="4.4"/><ellipse cx="1124.2" cy="1333.7" rx="5.3" ry="4.4"/><ellipse cx="1131.5" cy="1372.8" rx="5.3" ry="4.4"/><ellipse cx="1113.6" cy="1352.2" rx="5.3" ry="4.4"/><ellipse cx="1123.0" cy="1350.5" rx="5.3" ry="4.4"/><ellipse cx="1127.3" cy="1344.4" rx="5.3" ry="4.4"/><ellipse cx="1120.6" cy="1356.4" rx="5.3" ry="4.4"/><ellipse cx="1172.6" cy="1324.0" rx="5.3" ry="4.4"/><ellipse cx="1172.9" cy="1343.5" rx="5.3" ry="4.4"/><ellipse cx="1100.0" cy="1371.1" rx="5.3" ry="4.4"/><ellipse cx="1136.2" cy="1347.5" rx="5.3" ry="4.4"/><ellipse cx="1147.8" cy="1350.0" rx="5.3" ry="4.4"/><ellipse cx="1097.5" cy="1353.6" rx="5.3" ry="4.4"/><ellipse cx="1112.5" cy="1356.2" rx="5.3" ry="4.4"/><ellipse cx="1220.0" cy="1326.8" rx="5.3" ry="4.4"/><ellipse cx="1201.9" cy="1310.4" rx="5.3" ry="4.4"/><ellipse cx="1221.8" cy="1312.1" rx="5.3" ry="4.4"/><ellipse cx="1129.5" cy="1328.8" rx="5.3" ry="4.4"/><ellipse cx="1188.9" cy="1317.6" rx="5.3" ry="4.4"/><ellipse cx="1152.8" cy="1334.6" rx="5.3" ry="4.4"/><ellipse cx="1155.0" cy="1355.5" rx="5.3" ry="4.4"/><ellipse cx="1224.4" cy="1307.0" rx="5.3" ry="4.4"/><ellipse cx="1118.7" cy="1350.9" rx="5.3" ry="4.4"/><ellipse cx="1138.5" cy="1349.4" rx="5.3" ry="4.4"/><ellipse cx="1215.1" cy="1308.4" rx="5.3" ry="4.4"/><ellipse cx="1167.0" cy="1325.1" rx="5.3" ry="4.4"/><ellipse cx="1120.1" cy="1352.0" rx="5.3" ry="4.4"/><ellipse cx="1119.0" cy="1324.0" rx="5.3" ry="4.4"/><ellipse cx="1208.8" cy="1307.9" rx="5.3" ry="4.4"/><ellipse cx="1218.5" cy="1294.8" rx="5.3" ry="4.4"/><ellipse cx="1216.7" cy="1312.1" rx="5.3" ry="4.4"/><ellipse cx="1127.1" cy="1363.5" rx="5.3" ry="4.4"/><ellipse cx="1199.9" cy="1306.6" rx="5.3" ry="4.4"/><ellipse cx="1176.2" cy="1315.6" rx="5.3" ry="4.4"/><ellipse cx="1154.7" cy="1362.1" rx="5.3" ry="4.4"/><ellipse cx="1223.0" cy="1325.5" rx="5.3" ry="4.4"/><ellipse cx="1087.3" cy="1365.8" rx="5.3" ry="4.4"/><ellipse cx="1149.7" cy="1358.7" rx="5.3" ry="4.4"/><ellipse cx="1221.7" cy="1291.5" rx="5.3" ry="4.4"/><ellipse cx="1161.8" cy="1345.2" rx="5.3" ry="4.4"/><ellipse cx="1218.7" cy="1299.2" rx="5.3" ry="4.4"/><ellipse cx="1166.5" cy="1322.3" rx="5.3" ry="4.4"/><ellipse cx="1204.8" cy="1318.5" rx="5.3" ry="4.4"/><ellipse cx="1104.2" cy="1370.6" rx="5.3" ry="4.4"/><ellipse cx="1176.0" cy="1323.5" rx="5.3" ry="4.4"/><ellipse cx="1155.6" cy="1338.5" rx="5.3" ry="4.4"/><ellipse cx="1220.7" cy="1306.0" rx="5.3" ry="4.4"/><ellipse cx="1200.0" cy="1305.5" rx="5.3" ry="4.4"/><ellipse cx="1118.8" cy="1345.2" rx="5.3" ry="4.4"/><ellipse cx="1125.6" cy="1348.7" rx="5.3" ry="4.4"/><ellipse cx="1159.9" cy="1313.0" rx="5.3" ry="4.4"/><ellipse cx="1164.3" cy="1320.8" rx="5.3" ry="4.4"/><ellipse cx="1165.6" cy="1344.7" rx="5.3" ry="4.4"/><ellipse cx="1103.8" cy="1356.7" rx="5.3" ry="4.4"/><ellipse cx="1166.6" cy="1336.9" rx="5.3" ry="4.4"/><ellipse cx="1221.6" cy="1311.5" rx="5.3" ry="4.4"/><ellipse cx="1137.3" cy="1383.4" rx="5.3" ry="4.4"/><ellipse cx="1151.2" cy="1362.8" rx="5.3" ry="4.4"/><ellipse cx="1198.2" cy="1323.7" rx="5.3" ry="4.4"/><ellipse cx="1208.1" cy="1321.6" rx="5.3" ry="4.4"/><ellipse cx="1130.1" cy="1340.7" rx="5.3" ry="4.4"/><ellipse cx="1217.8" cy="1304.3" rx="5.3" ry="4.4"/><ellipse cx="1224.5" cy="1299.5" rx="5.3" ry="4.4"/><ellipse cx="1124.2" cy="1346.2" rx="5.3" ry="4.4"/><ellipse cx="1196.9" cy="1314.9" rx="5.3" ry="4.4"/><ellipse cx="1215.1" cy="1319.2" rx="5.3" ry="4.4"/><ellipse cx="1133.9" cy="1349.0" rx="5.3" ry="4.4"/><ellipse cx="1110.9" cy="1362.9" rx="5.3" ry="4.4"/><ellipse cx="1191.0" cy="1336.5" rx="5.3" ry="4.4"/><ellipse cx="1168.5" cy="1338.1" rx="5.3" ry="4.4"/><ellipse cx="1103.3" cy="1366.3" rx="5.3" ry="4.4"/><ellipse cx="1151.5" cy="1393.9" rx="5.3" ry="4.4"/><ellipse cx="1227.2" cy="1294.9" rx="5.3" ry="4.4"/><ellipse cx="1119.0" cy="1339.7" rx="5.3" ry="4.4"/><ellipse cx="1204.2" cy="1329.1" rx="5.3" ry="4.4"/><ellipse cx="1143.7" cy="1347.7" rx="5.3" ry="4.4"/><ellipse cx="1140.0" cy="1353.7" rx="5.3" ry="4.4"/><ellipse cx="1133.7" cy="1361.2" rx="5.3" ry="4.4"/><ellipse cx="1163.3" cy="1323.9" rx="5.3" ry="4.4"/><ellipse cx="1206.5" cy="1308.0" rx="5.3" ry="4.4"/><ellipse cx="1203.9" cy="1324.0" rx="5.3" ry="4.4"/><ellipse cx="1110.8" cy="1337.6" rx="5.3" ry="4.4"/><ellipse cx="1113.3" cy="1356.9" rx="5.3" ry="4.4"/><ellipse cx="1188.2" cy="1340.6" rx="5.3" ry="4.4"/><ellipse cx="1120.9" cy="1356.3" rx="5.3" ry="4.4"/><ellipse cx="1240.3" cy="1309.5" rx="5.3" ry="4.4"/><ellipse cx="1110.7" cy="1358.6" rx="5.3" ry="4.4"/><ellipse cx="1229.2" cy="1306.5" rx="5.3" ry="4.4"/><ellipse cx="1130.6" cy="1343.4" rx="5.3" ry="4.4"/><ellipse cx="1154.3" cy="1360.8" rx="5.3" ry="4.4"/><ellipse cx="1205.4" cy="1314.3" rx="5.3" ry="4.4"/><ellipse cx="1131.3" cy="1334.9" rx="5.3" ry="4.4"/><ellipse cx="1112.0" cy="1337.6" rx="5.3" ry="4.4"/><ellipse cx="1116.6" cy="1374.4" rx="5.3" ry="4.4"/><ellipse cx="1199.9" cy="1310.6" rx="5.3" ry="4.4"/><ellipse cx="1147.2" cy="1332.1" rx="5.3" ry="4.4"/><ellipse cx="1106.9" cy="1350.0" rx="5.3" ry="4.4"/><ellipse cx="1123.1" cy="1361.4" rx="5.3" ry="4.4"/><ellipse cx="1108.8" cy="1348.5" rx="5.3" ry="4.4"/><ellipse cx="1114.9" cy="1342.3" rx="5.3" ry="4.4"/><ellipse cx="1128.3" cy="1322.1" rx="5.3" ry="4.4"/><ellipse cx="1182.0" cy="1336.2" rx="5.3" ry="4.4"/><ellipse cx="1120.2" cy="1348.3" rx="5.3" ry="4.4"/><ellipse cx="1146.2" cy="1365.0" rx="5.3" ry="4.4"/><ellipse cx="1241.2" cy="1303.2" rx="5.3" ry="4.4"/><ellipse cx="1184.8" cy="1321.4" rx="5.3" ry="4.4"/><ellipse cx="1188.5" cy="1316.3" rx="5.3" ry="4.4"/><ellipse cx="1173.2" cy="1324.9" rx="5.3" ry="4.4"/><ellipse cx="1182.0" cy="1344.0" rx="5.3" ry="4.4"/><ellipse cx="1207.5" cy="1316.4" rx="5.3" ry="4.4"/><ellipse cx="1119.8" cy="1346.1" rx="5.3" ry="4.4"/><ellipse cx="1204.4" cy="1326.3" rx="5.3" ry="4.4"/><ellipse cx="1169.0" cy="1332.5" rx="5.3" ry="4.4"/><ellipse cx="1108.1" cy="1341.5" rx="5.3" ry="4.4"/><ellipse cx="1140.7" cy="1320.7" rx="5.3" ry="4.4"/><ellipse cx="1172.1" cy="1331.3" rx="5.3" ry="4.4"/><ellipse cx="1181.5" cy="1349.3" rx="5.3" ry="4.4"/><ellipse cx="1167.3" cy="1339.1" rx="5.3" ry="4.4"/><ellipse cx="1089.4" cy="1370.1" rx="5.3" ry="4.4"/><ellipse cx="1210.5" cy="1321.4" rx="5.3" ry="4.4"/><ellipse cx="1092.7" cy="1344.5" rx="5.3" ry="4.4"/><ellipse cx="1212.1" cy="1310.0" rx="5.3" ry="4.4"/><ellipse cx="1198.2" cy="1340.5" rx="5.3" ry="4.4"/><ellipse cx="1151.1" cy="1335.7" rx="5.3" ry="4.4"/><ellipse cx="1202.6" cy="1329.5" rx="5.3" ry="4.4"/><ellipse cx="1108.2" cy="1350.5" rx="5.3" ry="4.4"/><ellipse cx="1229.4" cy="1306.8" rx="5.3" ry="4.4"/><ellipse cx="1197.2" cy="1313.6" rx="5.3" ry="4.4"/><ellipse cx="1207.6" cy="1317.7" rx="5.3" ry="4.4"/><ellipse cx="1136.1" cy="1346.1" rx="5.3" ry="4.4"/><ellipse cx="1122.7" cy="1343.5" rx="5.3" ry="4.4"/><ellipse cx="1167.5" cy="1351.8" rx="5.3" ry="4.4"/><ellipse cx="1171.8" cy="1329.9" rx="5.3" ry="4.4"/><ellipse cx="1097.4" cy="1361.5" rx="5.3" ry="4.4"/><ellipse cx="1141.6" cy="1352.9" rx="5.3" ry="4.4"/><ellipse cx="1114.4" cy="1344.8" rx="5.3" ry="4.4"/><ellipse cx="1148.5" cy="1338.7" rx="5.3" ry="4.4"/><ellipse cx="1222.7" cy="1312.3" rx="5.3" ry="4.4"/><ellipse cx="1154.1" cy="1348.1" rx="5.3" ry="4.4"/><ellipse cx="1132.5" cy="1348.3" rx="5.3" ry="4.4"/><ellipse cx="1143.2" cy="1394.8" rx="5.3" ry="4.4"/><ellipse cx="1196.4" cy="1356.5" rx="5.3" ry="4.4"/><ellipse cx="1097.6" cy="1351.8" rx="5.3" ry="4.4"/><ellipse cx="1238.3" cy="1306.5" rx="5.3" ry="4.4"/><ellipse cx="1165.9" cy="1324.8" rx="5.3" ry="4.4"/><ellipse cx="1152.8" cy="1362.3" rx="5.3" ry="4.4"/><ellipse cx="1191.8" cy="1311.6" rx="5.3" ry="4.4"/><ellipse cx="1180.5" cy="1338.6" rx="5.3" ry="4.4"/><ellipse cx="1159.8" cy="1338.4" rx="5.3" ry="4.4"/><ellipse cx="1181.3" cy="1328.6" rx="5.3" ry="4.4"/><ellipse cx="1197.1" cy="1314.5" rx="5.3" ry="4.4"/><ellipse cx="1162.4" cy="1332.0" rx="5.3" ry="4.4"/><ellipse cx="1129.4" cy="1356.7" rx="5.3" ry="4.4"/></g>
<path d="M1097.4,1368.5L1236.4,1306.9" stroke="#e3121b" stroke-width="1.3" fill="none"/>
<text transform="translate(1006.40,1374.08) rotate(-90) scale(0.9827,1)" font-size="43.03" fill="#231f20">Model</text>
<text transform="translate(1219.45,1403.40) scale(1.1526,1)" font-size="37.52" fill="#231f20">Obs.</text>
<path d="M1050.0,1520.8V1696.1H1266.3M1109.9,1696.1v-4.0M1188.0,1696.1v-4.0M1265.8,1696.1v-4.0M1050.0,1521.1h4.0M1050.0,1584.3h4.0M1050.0,1647.8h4.0" stroke="#7a7a7a" stroke-width="1.2" fill="none"/>
<text transform="translate(1094.14,1712.10) scale(1.4600,1)" font-size="11.10" fill="#231f20">0.03</text>
<text transform="translate(1176.74,1712.10) scale(1.4600,1)" font-size="11.10" fill="#231f20">0.3</text>
<text transform="translate(1254.50,1712.10) scale(1.4600,1)" font-size="11.10" fill="#231f20">3.0</text>
<text transform="translate(1019.34,1525.00) scale(1.4600,1)" font-size="11.10" fill="#231f20">3.0</text>
<text transform="translate(1019.42,1588.20) scale(1.4600,1)" font-size="11.10" fill="#231f20">0.3</text>
<text transform="translate(1010.43,1651.70) scale(1.4600,1)" font-size="11.10" fill="#231f20">0.03</text>
<path d="M1050.0,1696.1L1266.3,1520.8" stroke="#8c8c8c" stroke-width="1.5" stroke-dasharray="8 3.5 1.8 3.5" fill="none"/>
<g class="sm" fill="#8a64bd" stroke="#2b2230" stroke-width="0.85"><ellipse cx="1143.2" cy="1596.5" rx="5.3" ry="4.4"/><ellipse cx="1113.2" cy="1618.2" rx="5.3" ry="4.4"/><ellipse cx="1098.2" cy="1629.8" rx="5.3" ry="4.4"/><ellipse cx="1121.5" cy="1616.5" rx="5.3" ry="4.4"/><ellipse cx="1259.7" cy="1573.2" rx="5.3" ry="4.4"/><ellipse cx="1213.1" cy="1577.4" rx="5.3" ry="4.4"/><ellipse cx="1133.2" cy="1623.2" rx="5.3" ry="4.4"/><ellipse cx="1238.0" cy="1588.2" rx="5.3" ry="4.4"/><ellipse cx="1115.7" cy="1610.7" rx="5.3" ry="4.4"/><ellipse cx="1077.4" cy="1617.3" rx="5.3" ry="4.4"/><ellipse cx="1234.7" cy="1572.4" rx="5.3" ry="4.4"/><ellipse cx="1171.5" cy="1589.9" rx="5.3" ry="4.4"/><ellipse cx="1079.9" cy="1619.8" rx="5.3" ry="4.4"/><ellipse cx="1099.9" cy="1634.8" rx="5.3" ry="4.4"/><ellipse cx="1226.4" cy="1584.9" rx="5.3" ry="4.4"/><ellipse cx="1094.9" cy="1632.3" rx="5.3" ry="4.4"/><ellipse cx="1241.4" cy="1579.9" rx="5.3" ry="4.4"/><ellipse cx="1118.2" cy="1636.5" rx="5.3" ry="4.4"/><ellipse cx="1231.4" cy="1581.6" rx="5.3" ry="4.4"/><ellipse cx="1214.7" cy="1569.1" rx="5.3" ry="4.4"/><ellipse cx="1219.7" cy="1555.8" rx="5.3" ry="4.4"/><ellipse cx="1094.9" cy="1639.0" rx="5.3" ry="4.4"/><ellipse cx="1226.4" cy="1592.4" rx="5.3" ry="4.4"/><ellipse cx="1221.4" cy="1573.2" rx="5.3" ry="4.4"/><ellipse cx="1159.0" cy="1587.4" rx="5.3" ry="4.4"/><ellipse cx="1224.7" cy="1617.3" rx="5.3" ry="4.4"/><ellipse cx="1216.4" cy="1585.7" rx="5.3" ry="4.4"/><ellipse cx="1073.3" cy="1628.5" rx="5.3" ry="4.4"/><ellipse cx="1143.2" cy="1592.4" rx="5.3" ry="4.4"/><ellipse cx="1124.9" cy="1619.8" rx="5.3" ry="4.4"/><ellipse cx="1098.2" cy="1624.8" rx="5.3" ry="4.4"/><ellipse cx="1211.4" cy="1563.3" rx="5.3" ry="4.4"/><ellipse cx="1071.6" cy="1639.8" rx="5.3" ry="4.4"/><ellipse cx="1105.7" cy="1633.1" rx="5.3" ry="4.4"/><ellipse cx="1235.5" cy="1610.7" rx="5.3" ry="4.4"/><ellipse cx="1061.6" cy="1627.3" rx="5.3" ry="4.4"/><ellipse cx="1119.9" cy="1626.5" rx="5.3" ry="4.4"/><ellipse cx="1126.5" cy="1624.8" rx="5.3" ry="4.4"/><ellipse cx="1146.5" cy="1597.4" rx="5.3" ry="4.4"/><ellipse cx="1137.4" cy="1603.2" rx="5.3" ry="4.4"/><ellipse cx="1139.9" cy="1603.2" rx="5.3" ry="4.4"/><ellipse cx="1103.2" cy="1619.8" rx="5.3" ry="4.4"/><ellipse cx="1124.0" cy="1587.4" rx="5.3" ry="4.4"/><ellipse cx="1061.6" cy="1621.5" rx="5.3" ry="4.4"/><ellipse cx="1151.5" cy="1609.9" rx="5.3" ry="4.4"/><ellipse cx="1130.7" cy="1594.9" rx="5.3" ry="4.4"/><ellipse cx="1127.4" cy="1606.5" rx="5.3" ry="4.4"/><ellipse cx="1229.7" cy="1566.6" rx="5.3" ry="4.4"/><ellipse cx="1068.3" cy="1623.2" rx="5.3" ry="4.4"/><ellipse cx="1199.8" cy="1584.1" rx="5.3" ry="4.4"/><ellipse cx="1206.4" cy="1585.7" rx="5.3" ry="4.4"/><ellipse cx="1131.5" cy="1635.6" rx="5.3" ry="4.4"/><ellipse cx="1236.4" cy="1578.2" rx="5.3" ry="4.4"/><ellipse cx="1089.9" cy="1618.2" rx="5.3" ry="4.4"/><ellipse cx="1223.1" cy="1579.9" rx="5.3" ry="4.4"/><ellipse cx="1084.9" cy="1619.8" rx="5.3" ry="4.4"/><ellipse cx="1219.7" cy="1564.9" rx="5.3" ry="4.4"/><ellipse cx="1223.1" cy="1611.5" rx="5.3" ry="4.4"/><ellipse cx="1134.9" cy="1609.9" rx="5.3" ry="4.4"/><ellipse cx="1108.2" cy="1617.3" rx="5.3" ry="4.4"/><ellipse cx="1111.6" cy="1628.2" rx="5.3" ry="4.4"/><ellipse cx="1218.1" cy="1593.2" rx="5.3" ry="4.4"/><ellipse cx="1151.5" cy="1588.2" rx="5.3" ry="4.4"/><ellipse cx="1117.4" cy="1595.7" rx="5.3" ry="4.4"/><ellipse cx="1244.7" cy="1575.7" rx="5.3" ry="4.4"/><ellipse cx="1248.0" cy="1576.6" rx="5.3" ry="4.4"/><ellipse cx="1154.8" cy="1614.0" rx="5.3" ry="4.4"/><ellipse cx="1129.9" cy="1618.2" rx="5.3" ry="4.4"/><ellipse cx="1208.1" cy="1571.6" rx="5.3" ry="4.4"/><ellipse cx="1084.9" cy="1639.0" rx="5.3" ry="4.4"/><ellipse cx="1116.6" cy="1623.2" rx="5.3" ry="4.4"/><ellipse cx="1127.4" cy="1639.8" rx="5.3" ry="4.4"/><ellipse cx="1106.6" cy="1626.5" rx="5.3" ry="4.4"/><ellipse cx="1159.0" cy="1597.4" rx="5.3" ry="4.4"/><ellipse cx="1089.9" cy="1624.8" rx="5.3" ry="4.4"/><ellipse cx="1148.2" cy="1591.5" rx="5.3" ry="4.4"/></g>
<path d="M1059.1,1638.1L1266.0,1564.9" stroke="#e3121b" stroke-width="1.3" fill="none"/>
<text transform="translate(999.10,1657.84) rotate(-90) scale(0.9779,1)" font-size="44.00" fill="#231f20">Model</text>
<text transform="translate(1211.54,1686.00) scale(1.0594,1)" font-size="41.10" fill="#231f20">Obs.</text>
<path d="M1050.0,1765.0V1941.1H1266.3M1109.9,1941.1v-4.0M1188.0,1941.1v-4.0M1265.8,1941.1v-4.0M1050.0,1765.8h4.0M1050.0,1829.0h4.0M1050.0,1892.2h4.0" stroke="#7a7a7a" stroke-width="1.2" fill="none"/>
<text transform="translate(1094.14,1957.10) scale(1.4600,1)" font-size="11.10" fill="#231f20">0.03</text>
<text transform="translate(1176.74,1957.10) scale(1.4600,1)" font-size="11.10" fill="#231f20">0.3</text>
<text transform="translate(1254.50,1957.10) scale(1.4600,1)" font-size="11.10" fill="#231f20">3.0</text>
<text transform="translate(1019.34,1769.70) scale(1.4600,1)" font-size="11.10" fill="#231f20">3.0</text>
<text transform="translate(1019.42,1832.90) scale(1.4600,1)" font-size="11.10" fill="#231f20">0.3</text>
<text transform="translate(1010.43,1896.10) scale(1.4600,1)" font-size="11.10" fill="#231f20">0.03</text>
<path d="M1050.0,1941.1L1266.3,1765.0" stroke="#8c8c8c" stroke-width="1.5" stroke-dasharray="8 3.5 1.8 3.5" fill="none"/>
<g class="sm" fill="#66a76b" stroke="#1f2a1f" stroke-width="0.85"><ellipse cx="1141.9" cy="1832.9" rx="5.3" ry="4.4"/><ellipse cx="1181.6" cy="1817.0" rx="5.3" ry="4.4"/><ellipse cx="1142.8" cy="1826.5" rx="5.3" ry="4.4"/><ellipse cx="1104.1" cy="1884.0" rx="5.3" ry="4.4"/><ellipse cx="1140.7" cy="1901.4" rx="5.3" ry="4.4"/><ellipse cx="1129.1" cy="1883.9" rx="5.3" ry="4.4"/><ellipse cx="1186.9" cy="1851.8" rx="5.3" ry="4.4"/><ellipse cx="1163.8" cy="1825.7" rx="5.3" ry="4.4"/><ellipse cx="1160.8" cy="1857.1" rx="5.3" ry="4.4"/><ellipse cx="1083.3" cy="1861.5" rx="5.3" ry="4.4"/><ellipse cx="1131.4" cy="1846.0" rx="5.3" ry="4.4"/><ellipse cx="1174.3" cy="1818.5" rx="5.3" ry="4.4"/><ellipse cx="1188.1" cy="1875.7" rx="5.3" ry="4.4"/><ellipse cx="1176.9" cy="1848.9" rx="5.3" ry="4.4"/><ellipse cx="1169.1" cy="1825.5" rx="5.3" ry="4.4"/><ellipse cx="1210.4" cy="1831.6" rx="5.3" ry="4.4"/><ellipse cx="1161.8" cy="1870.4" rx="5.3" ry="4.4"/><ellipse cx="1154.3" cy="1830.5" rx="5.3" ry="4.4"/><ellipse cx="1093.4" cy="1895.0" rx="5.3" ry="4.4"/><ellipse cx="1183.9" cy="1826.1" rx="5.3" ry="4.4"/><ellipse cx="1116.8" cy="1858.5" rx="5.3" ry="4.4"/><ellipse cx="1173.8" cy="1857.5" rx="5.3" ry="4.4"/><ellipse cx="1147.0" cy="1864.4" rx="5.3" ry="4.4"/><ellipse cx="1148.5" cy="1845.1" rx="5.3" ry="4.4"/><ellipse cx="1228.6" cy="1820.8" rx="5.3" ry="4.4"/><ellipse cx="1167.2" cy="1836.3" rx="5.3" ry="4.4"/><ellipse cx="1190.9" cy="1843.7" rx="5.3" ry="4.4"/><ellipse cx="1184.7" cy="1809.7" rx="5.3" ry="4.4"/><ellipse cx="1150.2" cy="1829.7" rx="5.3" ry="4.4"/><ellipse cx="1119.4" cy="1882.9" rx="5.3" ry="4.4"/><ellipse cx="1205.9" cy="1849.3" rx="5.3" ry="4.4"/><ellipse cx="1211.0" cy="1820.2" rx="5.3" ry="4.4"/><ellipse cx="1175.2" cy="1837.3" rx="5.3" ry="4.4"/><ellipse cx="1152.5" cy="1860.4" rx="5.3" ry="4.4"/><ellipse cx="1113.2" cy="1890.1" rx="5.3" ry="4.4"/><ellipse cx="1200.5" cy="1846.0" rx="5.3" ry="4.4"/><ellipse cx="1150.5" cy="1820.8" rx="5.3" ry="4.4"/><ellipse cx="1091.9" cy="1872.1" rx="5.3" ry="4.4"/><ellipse cx="1191.4" cy="1869.0" rx="5.3" ry="4.4"/><ellipse cx="1212.2" cy="1820.7" rx="5.3" ry="4.4"/><ellipse cx="1238.9" cy="1819.1" rx="5.3" ry="4.4"/><ellipse cx="1126.0" cy="1867.5" rx="5.3" ry="4.4"/><ellipse cx="1180.5" cy="1847.2" rx="5.3" ry="4.4"/><ellipse cx="1098.3" cy="1840.1" rx="5.3" ry="4.4"/><ellipse cx="1170.3" cy="1858.0" rx="5.3" ry="4.4"/><ellipse cx="1131.6" cy="1863.0" rx="5.3" ry="4.4"/><ellipse cx="1104.2" cy="1829.0" rx="5.3" ry="4.4"/><ellipse cx="1150.8" cy="1875.2" rx="5.3" ry="4.4"/><ellipse cx="1153.5" cy="1841.0" rx="5.3" ry="4.4"/><ellipse cx="1162.9" cy="1829.3" rx="5.3" ry="4.4"/><ellipse cx="1101.2" cy="1854.2" rx="5.3" ry="4.4"/><ellipse cx="1138.0" cy="1827.5" rx="5.3" ry="4.4"/><ellipse cx="1194.9" cy="1857.2" rx="5.3" ry="4.4"/><ellipse cx="1162.0" cy="1836.8" rx="5.3" ry="4.4"/><ellipse cx="1165.5" cy="1807.9" rx="5.3" ry="4.4"/><ellipse cx="1136.9" cy="1858.8" rx="5.3" ry="4.4"/><ellipse cx="1170.9" cy="1815.9" rx="5.3" ry="4.4"/><ellipse cx="1174.5" cy="1837.5" rx="5.3" ry="4.4"/><ellipse cx="1163.3" cy="1808.9" rx="5.3" ry="4.4"/><ellipse cx="1173.2" cy="1835.2" rx="5.3" ry="4.4"/><ellipse cx="1070.8" cy="1860.7" rx="5.3" ry="4.4"/><ellipse cx="1191.7" cy="1839.5" rx="5.3" ry="4.4"/><ellipse cx="1144.0" cy="1813.2" rx="5.3" ry="4.4"/><ellipse cx="1132.3" cy="1824.6" rx="5.3" ry="4.4"/><ellipse cx="1170.0" cy="1837.9" rx="5.3" ry="4.4"/><ellipse cx="1180.8" cy="1857.6" rx="5.3" ry="4.4"/><ellipse cx="1104.9" cy="1911.1" rx="5.3" ry="4.4"/><ellipse cx="1186.4" cy="1837.5" rx="5.3" ry="4.4"/><ellipse cx="1152.5" cy="1877.0" rx="5.3" ry="4.4"/><ellipse cx="1204.4" cy="1831.1" rx="5.3" ry="4.4"/><ellipse cx="1127.0" cy="1843.3" rx="5.3" ry="4.4"/><ellipse cx="1184.8" cy="1893.1" rx="5.3" ry="4.4"/><ellipse cx="1169.8" cy="1864.1" rx="5.3" ry="4.4"/><ellipse cx="1157.4" cy="1874.3" rx="5.3" ry="4.4"/><ellipse cx="1205.5" cy="1864.2" rx="5.3" ry="4.4"/><ellipse cx="1111.3" cy="1821.1" rx="5.3" ry="4.4"/><ellipse cx="1072.5" cy="1885.6" rx="5.3" ry="4.4"/><ellipse cx="1154.3" cy="1837.2" rx="5.3" ry="4.4"/><ellipse cx="1219.6" cy="1854.1" rx="5.3" ry="4.4"/><ellipse cx="1212.3" cy="1839.4" rx="5.3" ry="4.4"/><ellipse cx="1154.7" cy="1820.5" rx="5.3" ry="4.4"/><ellipse cx="1188.2" cy="1832.6" rx="5.3" ry="4.4"/><ellipse cx="1139.0" cy="1829.2" rx="5.3" ry="4.4"/><ellipse cx="1163.4" cy="1829.6" rx="5.3" ry="4.4"/><ellipse cx="1117.9" cy="1871.5" rx="5.3" ry="4.4"/><ellipse cx="1165.4" cy="1827.3" rx="5.3" ry="4.4"/><ellipse cx="1193.9" cy="1840.8" rx="5.3" ry="4.4"/><ellipse cx="1147.6" cy="1811.6" rx="5.3" ry="4.4"/><ellipse cx="1158.7" cy="1841.1" rx="5.3" ry="4.4"/><ellipse cx="1160.9" cy="1842.1" rx="5.3" ry="4.4"/><ellipse cx="1147.6" cy="1814.0" rx="5.3" ry="4.4"/><ellipse cx="1152.6" cy="1836.5" rx="5.3" ry="4.4"/><ellipse cx="1194.3" cy="1828.3" rx="5.3" ry="4.4"/><ellipse cx="1115.9" cy="1869.0" rx="5.3" ry="4.4"/><ellipse cx="1223.1" cy="1855.7" rx="5.3" ry="4.4"/><ellipse cx="1173.8" cy="1851.4" rx="5.3" ry="4.4"/><ellipse cx="1223.1" cy="1820.7" rx="5.3" ry="4.4"/><ellipse cx="1179.6" cy="1855.9" rx="5.3" ry="4.4"/><ellipse cx="1166.5" cy="1823.6" rx="5.3" ry="4.4"/><ellipse cx="1151.5" cy="1894.8" rx="5.3" ry="4.4"/><ellipse cx="1191.0" cy="1836.3" rx="5.3" ry="4.4"/><ellipse cx="1099.9" cy="1879.8" rx="5.3" ry="4.4"/><ellipse cx="1143.7" cy="1859.3" rx="5.3" ry="4.4"/><ellipse cx="1166.4" cy="1862.2" rx="5.3" ry="4.4"/><ellipse cx="1133.4" cy="1827.1" rx="5.3" ry="4.4"/><ellipse cx="1200.8" cy="1845.1" rx="5.3" ry="4.4"/><ellipse cx="1153.9" cy="1855.9" rx="5.3" ry="4.4"/><ellipse cx="1099.1" cy="1816.3" rx="5.3" ry="4.4"/><ellipse cx="1209.1" cy="1806.9" rx="5.3" ry="4.4"/><ellipse cx="1159.1" cy="1808.3" rx="5.3" ry="4.4"/><ellipse cx="1158.9" cy="1852.0" rx="5.3" ry="4.4"/><ellipse cx="1174.7" cy="1859.2" rx="5.3" ry="4.4"/><ellipse cx="1154.0" cy="1861.2" rx="5.3" ry="4.4"/><ellipse cx="1131.3" cy="1843.4" rx="5.3" ry="4.4"/><ellipse cx="1089.1" cy="1879.0" rx="5.3" ry="4.4"/><ellipse cx="1182.0" cy="1817.6" rx="5.3" ry="4.4"/><ellipse cx="1160.2" cy="1865.8" rx="5.3" ry="4.4"/><ellipse cx="1216.3" cy="1808.0" rx="5.3" ry="4.4"/><ellipse cx="1100.7" cy="1855.7" rx="5.3" ry="4.4"/><ellipse cx="1209.3" cy="1835.2" rx="5.3" ry="4.4"/><ellipse cx="1196.2" cy="1859.7" rx="5.3" ry="4.4"/><ellipse cx="1138.3" cy="1877.1" rx="5.3" ry="4.4"/><ellipse cx="1194.4" cy="1815.2" rx="5.3" ry="4.4"/><ellipse cx="1120.4" cy="1835.7" rx="5.3" ry="4.4"/><ellipse cx="1160.7" cy="1822.3" rx="5.3" ry="4.4"/><ellipse cx="1132.9" cy="1878.9" rx="5.3" ry="4.4"/><ellipse cx="1159.7" cy="1827.8" rx="5.3" ry="4.4"/><ellipse cx="1191.7" cy="1840.5" rx="5.3" ry="4.4"/><ellipse cx="1096.5" cy="1880.3" rx="5.3" ry="4.4"/><ellipse cx="1194.3" cy="1844.9" rx="5.3" ry="4.4"/><ellipse cx="1144.2" cy="1826.0" rx="5.3" ry="4.4"/><ellipse cx="1187.2" cy="1810.8" rx="5.3" ry="4.4"/><ellipse cx="1122.4" cy="1906.1" rx="5.3" ry="4.4"/><ellipse cx="1224.7" cy="1830.7" rx="5.3" ry="4.4"/><ellipse cx="1180.9" cy="1850.6" rx="5.3" ry="4.4"/><ellipse cx="1160.1" cy="1844.4" rx="5.3" ry="4.4"/><ellipse cx="1201.7" cy="1830.3" rx="5.3" ry="4.4"/><ellipse cx="1182.5" cy="1852.0" rx="5.3" ry="4.4"/><ellipse cx="1129.1" cy="1867.1" rx="5.3" ry="4.4"/><ellipse cx="1166.8" cy="1850.3" rx="5.3" ry="4.4"/><ellipse cx="1149.3" cy="1836.1" rx="5.3" ry="4.4"/><ellipse cx="1123.9" cy="1881.7" rx="5.3" ry="4.4"/><ellipse cx="1188.1" cy="1834.3" rx="5.3" ry="4.4"/><ellipse cx="1146.0" cy="1821.6" rx="5.3" ry="4.4"/><ellipse cx="1146.1" cy="1841.2" rx="5.3" ry="4.4"/><ellipse cx="1176.8" cy="1839.3" rx="5.3" ry="4.4"/><ellipse cx="1138.5" cy="1821.2" rx="5.3" ry="4.4"/><ellipse cx="1204.3" cy="1854.3" rx="5.3" ry="4.4"/><ellipse cx="1194.0" cy="1853.0" rx="5.3" ry="4.4"/><ellipse cx="1187.6" cy="1815.1" rx="5.3" ry="4.4"/><ellipse cx="1182.6" cy="1822.1" rx="5.3" ry="4.4"/><ellipse cx="1197.6" cy="1857.3" rx="5.3" ry="4.4"/><ellipse cx="1239.4" cy="1817.2" rx="5.3" ry="4.4"/><ellipse cx="1168.3" cy="1884.2" rx="5.3" ry="4.4"/><ellipse cx="1147.5" cy="1837.8" rx="5.3" ry="4.4"/><ellipse cx="1080.9" cy="1880.9" rx="5.3" ry="4.4"/><ellipse cx="1129.4" cy="1830.4" rx="5.3" ry="4.4"/><ellipse cx="1105.1" cy="1835.9" rx="5.3" ry="4.4"/><ellipse cx="1115.7" cy="1835.7" rx="5.3" ry="4.4"/><ellipse cx="1203.9" cy="1817.0" rx="5.3" ry="4.4"/><ellipse cx="1204.8" cy="1899.8" rx="5.3" ry="4.4"/><ellipse cx="1146.0" cy="1878.5" rx="5.3" ry="4.4"/><ellipse cx="1168.0" cy="1841.5" rx="5.3" ry="4.4"/><ellipse cx="1154.6" cy="1832.7" rx="5.3" ry="4.4"/><ellipse cx="1155.7" cy="1834.7" rx="5.3" ry="4.4"/><ellipse cx="1079.1" cy="1879.0" rx="5.3" ry="4.4"/><ellipse cx="1178.6" cy="1872.9" rx="5.3" ry="4.4"/><ellipse cx="1181.3" cy="1839.0" rx="5.3" ry="4.4"/><ellipse cx="1143.5" cy="1873.2" rx="5.3" ry="4.4"/><ellipse cx="1154.1" cy="1805.7" rx="5.3" ry="4.4"/><ellipse cx="1189.0" cy="1820.6" rx="5.3" ry="4.4"/><ellipse cx="1170.6" cy="1886.5" rx="5.3" ry="4.4"/><ellipse cx="1160.4" cy="1847.1" rx="5.3" ry="4.4"/><ellipse cx="1146.8" cy="1830.6" rx="5.3" ry="4.4"/><ellipse cx="1215.6" cy="1896.1" rx="5.3" ry="4.4"/><ellipse cx="1172.2" cy="1874.6" rx="5.3" ry="4.4"/></g>
<path d="M1059.1,1869.5L1266.0,1816.9" stroke="#e3121b" stroke-width="1.3" fill="none"/>
<text transform="translate(999.10,1894.91) rotate(-90) scale(0.9682,1)" font-size="44.00" fill="#231f20">Model</text>
<text transform="translate(1229.68,1933.60) scale(1.0935,1)" font-size="39.03" fill="#231f20">Obs.</text>
<path d="M1047.5,2056.7V2232.7H1264.7M1119.0,2232.7v-4.0M1191.3,2232.7v-4.0M1264.3,2232.7v-4.0M1047.5,2203.1h4.0M1047.5,2173.9h4.0M1047.5,2144.8h4.0M1047.5,2115.6h4.0M1047.5,2086.4h4.0M1047.5,2057.2h4.0" stroke="#7a7a7a" stroke-width="1.2" fill="none"/>
<text transform="translate(1034.19,2248.70) scale(1.4600,1)" font-size="11.10" fill="#231f20">220</text>
<text transform="translate(1105.39,2248.70) scale(1.4600,1)" font-size="11.10" fill="#231f20">240</text>
<text transform="translate(1177.69,2248.70) scale(1.4600,1)" font-size="11.10" fill="#231f20">260</text>
<text transform="translate(1250.69,2248.70) scale(1.4600,1)" font-size="11.10" fill="#231f20">280</text>
<text transform="translate(1012.38,2236.20) scale(1.4600,1)" font-size="11.10" fill="#231f20">220</text>
<text transform="translate(1012.38,2207.02) scale(1.4600,1)" font-size="11.10" fill="#231f20">230</text>
<text transform="translate(1012.38,2177.84) scale(1.4600,1)" font-size="11.10" fill="#231f20">240</text>
<text transform="translate(1012.38,2148.66) scale(1.4600,1)" font-size="11.10" fill="#231f20">250</text>
<text transform="translate(1012.38,2119.48) scale(1.4600,1)" font-size="11.10" fill="#231f20">260</text>
<text transform="translate(1012.38,2090.30) scale(1.4600,1)" font-size="11.10" fill="#231f20">270</text>
<text transform="translate(1012.38,2061.12) scale(1.4600,1)" font-size="11.10" fill="#231f20">280</text>
<path d="M1047.5,2232.7L1264.7,2056.7" stroke="#8c8c8c" stroke-width="1.5" stroke-dasharray="8 3.5 1.8 3.5" fill="none"/>
<g class="sm" fill="#8a64bd" stroke="#2b2230" stroke-width="0.85"><ellipse cx="1070.9" cy="2211.0" rx="5.3" ry="4.4"/><ellipse cx="1200.2" cy="2115.1" rx="5.3" ry="4.4"/><ellipse cx="1219.8" cy="2113.6" rx="5.3" ry="4.4"/><ellipse cx="1088.3" cy="2202.3" rx="5.3" ry="4.4"/><ellipse cx="1082.6" cy="2204.6" rx="5.3" ry="4.4"/><ellipse cx="1212.7" cy="2121.0" rx="5.3" ry="4.4"/><ellipse cx="1077.7" cy="2198.0" rx="5.3" ry="4.4"/><ellipse cx="1075.1" cy="2199.6" rx="5.3" ry="4.4"/><ellipse cx="1114.1" cy="2171.6" rx="5.3" ry="4.4"/><ellipse cx="1174.4" cy="2151.2" rx="5.3" ry="4.4"/><ellipse cx="1076.0" cy="2177.6" rx="5.3" ry="4.4"/><ellipse cx="1219.6" cy="2105.7" rx="5.3" ry="4.4"/><ellipse cx="1157.5" cy="2138.4" rx="5.3" ry="4.4"/><ellipse cx="1097.8" cy="2198.5" rx="5.3" ry="4.4"/><ellipse cx="1143.8" cy="2169.4" rx="5.3" ry="4.4"/><ellipse cx="1111.0" cy="2172.6" rx="5.3" ry="4.4"/><ellipse cx="1110.0" cy="2162.8" rx="5.3" ry="4.4"/><ellipse cx="1186.2" cy="2133.9" rx="5.3" ry="4.4"/><ellipse cx="1144.2" cy="2158.2" rx="5.3" ry="4.4"/><ellipse cx="1074.8" cy="2203.9" rx="5.3" ry="4.4"/><ellipse cx="1129.4" cy="2163.0" rx="5.3" ry="4.4"/><ellipse cx="1058.6" cy="2208.4" rx="5.3" ry="4.4"/><ellipse cx="1112.0" cy="2160.9" rx="5.3" ry="4.4"/><ellipse cx="1211.4" cy="2084.1" rx="5.3" ry="4.4"/><ellipse cx="1136.4" cy="2158.5" rx="5.3" ry="4.4"/><ellipse cx="1171.8" cy="2150.2" rx="5.3" ry="4.4"/><ellipse cx="1101.0" cy="2168.1" rx="5.3" ry="4.4"/><ellipse cx="1112.2" cy="2160.3" rx="5.3" ry="4.4"/><ellipse cx="1183.1" cy="2100.8" rx="5.3" ry="4.4"/><ellipse cx="1181.4" cy="2118.6" rx="5.3" ry="4.4"/><ellipse cx="1227.2" cy="2080.0" rx="5.3" ry="4.4"/><ellipse cx="1117.8" cy="2183.4" rx="5.3" ry="4.4"/><ellipse cx="1198.1" cy="2138.2" rx="5.3" ry="4.4"/><ellipse cx="1101.5" cy="2188.5" rx="5.3" ry="4.4"/><ellipse cx="1211.0" cy="2110.1" rx="5.3" ry="4.4"/><ellipse cx="1063.9" cy="2196.2" rx="5.3" ry="4.4"/><ellipse cx="1144.5" cy="2151.5" rx="5.3" ry="4.4"/><ellipse cx="1179.0" cy="2114.7" rx="5.3" ry="4.4"/><ellipse cx="1189.8" cy="2141.5" rx="5.3" ry="4.4"/><ellipse cx="1115.8" cy="2190.6" rx="5.3" ry="4.4"/><ellipse cx="1198.2" cy="2121.1" rx="5.3" ry="4.4"/><ellipse cx="1137.4" cy="2194.8" rx="5.3" ry="4.4"/><ellipse cx="1178.1" cy="2088.3" rx="5.3" ry="4.4"/><ellipse cx="1096.3" cy="2198.3" rx="5.3" ry="4.4"/><ellipse cx="1106.6" cy="2176.7" rx="5.3" ry="4.4"/><ellipse cx="1147.4" cy="2155.6" rx="5.3" ry="4.4"/><ellipse cx="1068.5" cy="2193.5" rx="5.3" ry="4.4"/><ellipse cx="1174.4" cy="2114.8" rx="5.3" ry="4.4"/><ellipse cx="1162.3" cy="2169.8" rx="5.3" ry="4.4"/><ellipse cx="1184.0" cy="2192.8" rx="5.3" ry="4.4"/><ellipse cx="1125.3" cy="2155.4" rx="5.3" ry="4.4"/><ellipse cx="1221.4" cy="2140.7" rx="5.3" ry="4.4"/><ellipse cx="1112.3" cy="2160.0" rx="5.3" ry="4.4"/><ellipse cx="1071.1" cy="2198.0" rx="5.3" ry="4.4"/><ellipse cx="1146.6" cy="2157.6" rx="5.3" ry="4.4"/><ellipse cx="1145.0" cy="2161.4" rx="5.3" ry="4.4"/><ellipse cx="1206.9" cy="2105.5" rx="5.3" ry="4.4"/><ellipse cx="1186.0" cy="2112.0" rx="5.3" ry="4.4"/><ellipse cx="1186.7" cy="2114.8" rx="5.3" ry="4.4"/><ellipse cx="1154.1" cy="2147.8" rx="5.3" ry="4.4"/><ellipse cx="1129.4" cy="2158.9" rx="5.3" ry="4.4"/><ellipse cx="1185.2" cy="2124.6" rx="5.3" ry="4.4"/><ellipse cx="1233.0" cy="2089.1" rx="5.3" ry="4.4"/><ellipse cx="1164.5" cy="2146.9" rx="5.3" ry="4.4"/><ellipse cx="1116.2" cy="2168.4" rx="5.3" ry="4.4"/><ellipse cx="1082.9" cy="2199.1" rx="5.3" ry="4.4"/><ellipse cx="1160.4" cy="2134.3" rx="5.3" ry="4.4"/><ellipse cx="1118.1" cy="2156.7" rx="5.3" ry="4.4"/><ellipse cx="1137.7" cy="2151.0" rx="5.3" ry="4.4"/><ellipse cx="1090.4" cy="2211.3" rx="5.3" ry="4.4"/><ellipse cx="1082.2" cy="2213.8" rx="5.3" ry="4.4"/><ellipse cx="1065.3" cy="2201.2" rx="5.3" ry="4.4"/><ellipse cx="1226.3" cy="2113.6" rx="5.3" ry="4.4"/><ellipse cx="1199.2" cy="2118.5" rx="5.3" ry="4.4"/><ellipse cx="1179.2" cy="2145.1" rx="5.3" ry="4.4"/><ellipse cx="1122.8" cy="2173.8" rx="5.3" ry="4.4"/><ellipse cx="1068.3" cy="2197.3" rx="5.3" ry="4.4"/><ellipse cx="1159.5" cy="2125.6" rx="5.3" ry="4.4"/><ellipse cx="1142.5" cy="2157.3" rx="5.3" ry="4.4"/><ellipse cx="1176.5" cy="2161.2" rx="5.3" ry="4.4"/><ellipse cx="1124.3" cy="2181.3" rx="5.3" ry="4.4"/><ellipse cx="1103.2" cy="2188.4" rx="5.3" ry="4.4"/><ellipse cx="1176.0" cy="2132.2" rx="5.3" ry="4.4"/><ellipse cx="1133.9" cy="2162.2" rx="5.3" ry="4.4"/><ellipse cx="1256.3" cy="2084.9" rx="5.3" ry="4.4"/><ellipse cx="1088.0" cy="2198.9" rx="5.3" ry="4.4"/><ellipse cx="1141.2" cy="2161.5" rx="5.3" ry="4.4"/><ellipse cx="1191.2" cy="2111.2" rx="5.3" ry="4.4"/><ellipse cx="1160.7" cy="2185.6" rx="5.3" ry="4.4"/><ellipse cx="1090.9" cy="2189.3" rx="5.3" ry="4.4"/><ellipse cx="1162.3" cy="2164.0" rx="5.3" ry="4.4"/><ellipse cx="1150.2" cy="2149.9" rx="5.3" ry="4.4"/><ellipse cx="1158.5" cy="2136.4" rx="5.3" ry="4.4"/><ellipse cx="1178.0" cy="2130.7" rx="5.3" ry="4.4"/><ellipse cx="1174.8" cy="2197.3" rx="5.3" ry="4.4"/><ellipse cx="1123.2" cy="2155.1" rx="5.3" ry="4.4"/><ellipse cx="1156.5" cy="2123.2" rx="5.3" ry="4.4"/><ellipse cx="1101.6" cy="2187.2" rx="5.3" ry="4.4"/><ellipse cx="1140.1" cy="2151.6" rx="5.3" ry="4.4"/><ellipse cx="1164.8" cy="2147.6" rx="5.3" ry="4.4"/><ellipse cx="1065.7" cy="2203.8" rx="5.3" ry="4.4"/><ellipse cx="1194.0" cy="2126.8" rx="5.3" ry="4.4"/><ellipse cx="1217.2" cy="2080.8" rx="5.3" ry="4.4"/><ellipse cx="1188.3" cy="2132.3" rx="5.3" ry="4.4"/><ellipse cx="1077.1" cy="2173.5" rx="5.3" ry="4.4"/><ellipse cx="1077.0" cy="2210.2" rx="5.3" ry="4.4"/><ellipse cx="1095.6" cy="2200.7" rx="5.3" ry="4.4"/><ellipse cx="1201.3" cy="2116.9" rx="5.3" ry="4.4"/><ellipse cx="1122.2" cy="2160.1" rx="5.3" ry="4.4"/><ellipse cx="1061.2" cy="2205.9" rx="5.3" ry="4.4"/><ellipse cx="1258.0" cy="2100.8" rx="5.3" ry="4.4"/><ellipse cx="1238.0" cy="2134.0" rx="5.3" ry="4.4"/><ellipse cx="1076.8" cy="2195.0" rx="5.3" ry="4.4"/><ellipse cx="1110.8" cy="2168.0" rx="5.3" ry="4.4"/><ellipse cx="1078.9" cy="2193.0" rx="5.3" ry="4.4"/><ellipse cx="1123.7" cy="2158.9" rx="5.3" ry="4.4"/><ellipse cx="1132.8" cy="2152.5" rx="5.3" ry="4.4"/><ellipse cx="1179.1" cy="2132.3" rx="5.3" ry="4.4"/><ellipse cx="1086.4" cy="2189.3" rx="5.3" ry="4.4"/><ellipse cx="1081.2" cy="2192.0" rx="5.3" ry="4.4"/><ellipse cx="1216.4" cy="2128.2" rx="5.3" ry="4.4"/><ellipse cx="1219.3" cy="2116.2" rx="5.3" ry="4.4"/><ellipse cx="1107.0" cy="2172.2" rx="5.3" ry="4.4"/><ellipse cx="1092.7" cy="2198.6" rx="5.3" ry="4.4"/><ellipse cx="1104.6" cy="2171.1" rx="5.3" ry="4.4"/><ellipse cx="1142.6" cy="2125.8" rx="5.3" ry="4.4"/><ellipse cx="1191.9" cy="2119.3" rx="5.3" ry="4.4"/><ellipse cx="1129.1" cy="2144.3" rx="5.3" ry="4.4"/><ellipse cx="1195.6" cy="2099.9" rx="5.3" ry="4.4"/><ellipse cx="1169.8" cy="2149.9" rx="5.3" ry="4.4"/><ellipse cx="1081.9" cy="2198.0" rx="5.3" ry="4.4"/><ellipse cx="1182.7" cy="2128.8" rx="5.3" ry="4.4"/><ellipse cx="1226.9" cy="2114.4" rx="5.3" ry="4.4"/><ellipse cx="1140.5" cy="2143.2" rx="5.3" ry="4.4"/><ellipse cx="1168.5" cy="2137.9" rx="5.3" ry="4.4"/><ellipse cx="1089.8" cy="2188.1" rx="5.3" ry="4.4"/><ellipse cx="1110.7" cy="2176.0" rx="5.3" ry="4.4"/><ellipse cx="1125.7" cy="2159.6" rx="5.3" ry="4.4"/><ellipse cx="1129.9" cy="2173.9" rx="5.3" ry="4.4"/><ellipse cx="1243.9" cy="2144.9" rx="5.3" ry="4.4"/><ellipse cx="1148.2" cy="2125.7" rx="5.3" ry="4.4"/><ellipse cx="1138.3" cy="2157.9" rx="5.3" ry="4.4"/><ellipse cx="1089.7" cy="2206.5" rx="5.3" ry="4.4"/><ellipse cx="1128.8" cy="2152.8" rx="5.3" ry="4.4"/><ellipse cx="1090.7" cy="2189.1" rx="5.3" ry="4.4"/><ellipse cx="1201.1" cy="2110.9" rx="5.3" ry="4.4"/><ellipse cx="1088.0" cy="2213.8" rx="5.3" ry="4.4"/><ellipse cx="1247.2" cy="2122.4" rx="5.3" ry="4.4"/><ellipse cx="1085.8" cy="2182.3" rx="5.3" ry="4.4"/><ellipse cx="1109.7" cy="2174.0" rx="5.3" ry="4.4"/><ellipse cx="1128.6" cy="2156.5" rx="5.3" ry="4.4"/><ellipse cx="1167.8" cy="2140.5" rx="5.3" ry="4.4"/><ellipse cx="1145.7" cy="2099.1" rx="5.3" ry="4.4"/><ellipse cx="1099.2" cy="2173.1" rx="5.3" ry="4.4"/><ellipse cx="1150.7" cy="2194.0" rx="5.3" ry="4.4"/><ellipse cx="1141.8" cy="2151.2" rx="5.3" ry="4.4"/><ellipse cx="1202.3" cy="2127.4" rx="5.3" ry="4.4"/><ellipse cx="1108.7" cy="2176.3" rx="5.3" ry="4.4"/><ellipse cx="1072.2" cy="2202.9" rx="5.3" ry="4.4"/><ellipse cx="1136.3" cy="2156.9" rx="5.3" ry="4.4"/><ellipse cx="1133.4" cy="2166.6" rx="5.3" ry="4.4"/><ellipse cx="1160.0" cy="2132.3" rx="5.3" ry="4.4"/><ellipse cx="1203.1" cy="2103.5" rx="5.3" ry="4.4"/><ellipse cx="1068.4" cy="2207.8" rx="5.3" ry="4.4"/><ellipse cx="1098.4" cy="2199.1" rx="5.3" ry="4.4"/><ellipse cx="1163.1" cy="2097.4" rx="5.3" ry="4.4"/><ellipse cx="1133.2" cy="2159.9" rx="5.3" ry="4.4"/><ellipse cx="1193.4" cy="2134.4" rx="5.3" ry="4.4"/><ellipse cx="1058.2" cy="2216.5" rx="5.3" ry="4.4"/><ellipse cx="1232.5" cy="2098.9" rx="5.3" ry="4.4"/><ellipse cx="1070.2" cy="2216.1" rx="5.3" ry="4.4"/><ellipse cx="1088.2" cy="2189.4" rx="5.3" ry="4.4"/><ellipse cx="1143.5" cy="2160.7" rx="5.3" ry="4.4"/><ellipse cx="1094.8" cy="2199.1" rx="5.3" ry="4.4"/><ellipse cx="1148.0" cy="2146.2" rx="5.3" ry="4.4"/><ellipse cx="1159.8" cy="2104.9" rx="5.3" ry="4.4"/><ellipse cx="1121.7" cy="2161.9" rx="5.3" ry="4.4"/><ellipse cx="1081.1" cy="2182.2" rx="5.3" ry="4.4"/><ellipse cx="1079.7" cy="2211.6" rx="5.3" ry="4.4"/><ellipse cx="1128.6" cy="2171.0" rx="5.3" ry="4.4"/><ellipse cx="1178.1" cy="2144.9" rx="5.3" ry="4.4"/><ellipse cx="1170.3" cy="2120.8" rx="5.3" ry="4.4"/><ellipse cx="1108.1" cy="2168.3" rx="5.3" ry="4.4"/><ellipse cx="1130.7" cy="2198.1" rx="5.3" ry="4.4"/><ellipse cx="1102.7" cy="2192.5" rx="5.3" ry="4.4"/><ellipse cx="1105.8" cy="2198.5" rx="5.3" ry="4.4"/><ellipse cx="1113.3" cy="2188.3" rx="5.3" ry="4.4"/><ellipse cx="1098.2" cy="2195.5" rx="5.3" ry="4.4"/><ellipse cx="1161.0" cy="2125.4" rx="5.3" ry="4.4"/><ellipse cx="1115.2" cy="2163.7" rx="5.3" ry="4.4"/><ellipse cx="1136.2" cy="2148.9" rx="5.3" ry="4.4"/><ellipse cx="1119.0" cy="2164.3" rx="5.3" ry="4.4"/><ellipse cx="1088.0" cy="2193.6" rx="5.3" ry="4.4"/><ellipse cx="1141.3" cy="2162.0" rx="5.3" ry="4.4"/><ellipse cx="1131.7" cy="2149.1" rx="5.3" ry="4.4"/><ellipse cx="1081.8" cy="2196.4" rx="5.3" ry="4.4"/><ellipse cx="1205.0" cy="2134.7" rx="5.3" ry="4.4"/><ellipse cx="1174.9" cy="2133.8" rx="5.3" ry="4.4"/><ellipse cx="1080.8" cy="2205.9" rx="5.3" ry="4.4"/><ellipse cx="1161.9" cy="2134.5" rx="5.3" ry="4.4"/><ellipse cx="1180.4" cy="2124.1" rx="5.3" ry="4.4"/><ellipse cx="1087.7" cy="2201.1" rx="5.3" ry="4.4"/><ellipse cx="1064.9" cy="2192.1" rx="5.3" ry="4.4"/><ellipse cx="1073.8" cy="2196.5" rx="5.3" ry="4.4"/><ellipse cx="1135.8" cy="2148.7" rx="5.3" ry="4.4"/><ellipse cx="1162.8" cy="2109.4" rx="5.3" ry="4.4"/><ellipse cx="1118.9" cy="2179.0" rx="5.3" ry="4.4"/><ellipse cx="1067.6" cy="2213.1" rx="5.3" ry="4.4"/><ellipse cx="1086.6" cy="2195.9" rx="5.3" ry="4.4"/><ellipse cx="1122.2" cy="2164.2" rx="5.3" ry="4.4"/><ellipse cx="1170.5" cy="2112.4" rx="5.3" ry="4.4"/><ellipse cx="1140.7" cy="2129.9" rx="5.3" ry="4.4"/><ellipse cx="1135.4" cy="2152.6" rx="5.3" ry="4.4"/><ellipse cx="1081.7" cy="2195.8" rx="5.3" ry="4.4"/><ellipse cx="1150.7" cy="2162.8" rx="5.3" ry="4.4"/><ellipse cx="1131.4" cy="2151.7" rx="5.3" ry="4.4"/><ellipse cx="1120.2" cy="2179.4" rx="5.3" ry="4.4"/><ellipse cx="1256.3" cy="2111.9" rx="5.3" ry="4.4"/><ellipse cx="1140.8" cy="2155.1" rx="5.3" ry="4.4"/><ellipse cx="1140.3" cy="2150.6" rx="5.3" ry="4.4"/><ellipse cx="1240.5" cy="2107.4" rx="5.3" ry="4.4"/><ellipse cx="1150.0" cy="2166.3" rx="5.3" ry="4.4"/><ellipse cx="1140.8" cy="2154.6" rx="5.3" ry="4.4"/><ellipse cx="1170.2" cy="2116.5" rx="5.3" ry="4.4"/><ellipse cx="1133.5" cy="2151.8" rx="5.3" ry="4.4"/><ellipse cx="1070.3" cy="2200.2" rx="5.3" ry="4.4"/><ellipse cx="1078.4" cy="2196.1" rx="5.3" ry="4.4"/><ellipse cx="1174.0" cy="2191.5" rx="5.3" ry="4.4"/><ellipse cx="1152.5" cy="2160.9" rx="5.3" ry="4.4"/><ellipse cx="1248.9" cy="2094.1" rx="5.3" ry="4.4"/><ellipse cx="1184.7" cy="2117.3" rx="5.3" ry="4.4"/><ellipse cx="1165.3" cy="2140.9" rx="5.3" ry="4.4"/><ellipse cx="1096.9" cy="2194.3" rx="5.3" ry="4.4"/><ellipse cx="1229.8" cy="2115.5" rx="5.3" ry="4.4"/><ellipse cx="1217.0" cy="2118.0" rx="5.3" ry="4.4"/><ellipse cx="1162.5" cy="2131.7" rx="5.3" ry="4.4"/><ellipse cx="1131.7" cy="2159.5" rx="5.3" ry="4.4"/><ellipse cx="1203.9" cy="2145.7" rx="5.3" ry="4.4"/><ellipse cx="1163.1" cy="2119.4" rx="5.3" ry="4.4"/><ellipse cx="1093.5" cy="2191.1" rx="5.3" ry="4.4"/><ellipse cx="1220.1" cy="2104.8" rx="5.3" ry="4.4"/><ellipse cx="1154.3" cy="2162.8" rx="5.3" ry="4.4"/><ellipse cx="1107.6" cy="2192.2" rx="5.3" ry="4.4"/><ellipse cx="1175.9" cy="2122.3" rx="5.3" ry="4.4"/><ellipse cx="1057.8" cy="2215.2" rx="5.3" ry="4.4"/><ellipse cx="1244.7" cy="2100.8" rx="5.3" ry="4.4"/><ellipse cx="1115.9" cy="2173.8" rx="5.3" ry="4.4"/><ellipse cx="1226.4" cy="2105.2" rx="5.3" ry="4.4"/><ellipse cx="1132.7" cy="2156.1" rx="5.3" ry="4.4"/><ellipse cx="1184.8" cy="2149.0" rx="5.3" ry="4.4"/><ellipse cx="1171.3" cy="2109.9" rx="5.3" ry="4.4"/><ellipse cx="1075.3" cy="2208.4" rx="5.3" ry="4.4"/><ellipse cx="1096.2" cy="2191.0" rx="5.3" ry="4.4"/><ellipse cx="1105.5" cy="2182.2" rx="5.3" ry="4.4"/><ellipse cx="1077.6" cy="2206.7" rx="5.3" ry="4.4"/><ellipse cx="1155.4" cy="2151.5" rx="5.3" ry="4.4"/><ellipse cx="1163.6" cy="2112.7" rx="5.3" ry="4.4"/><ellipse cx="1117.0" cy="2172.0" rx="5.3" ry="4.4"/><ellipse cx="1075.1" cy="2218.3" rx="5.3" ry="4.4"/><ellipse cx="1177.5" cy="2125.2" rx="5.3" ry="4.4"/></g>
<path d="M1065.8,2205.6L1264.7,2083.3" stroke="#e3121b" stroke-width="1.3" fill="none"/>
<text transform="translate(997.30,2202.34) rotate(-90) scale(0.9999,1)" font-size="43.03" fill="#231f20">Model</text>
<text transform="translate(1210.47,2214.50) scale(1.0974,1)" font-size="39.03" fill="#231f20">Obs.</text>
<path d="M1047.5,2301.3V2476.7H1264.3M1088.3,2476.7v-4.0M1155.7,2476.7v-4.0M1223.9,2476.7v-4.0M1047.5,2444.8h4.0M1047.5,2389.4h4.0M1047.5,2334.1h4.0" stroke="#7a7a7a" stroke-width="1.2" fill="none"/>
<text transform="translate(1079.27,2492.70) scale(1.4600,1)" font-size="11.10" fill="#231f20">50</text>
<text transform="translate(1141.88,2492.70) scale(1.4600,1)" font-size="11.10" fill="#231f20">100</text>
<text transform="translate(1210.08,2492.70) scale(1.4600,1)" font-size="11.10" fill="#231f20">150</text>
<text transform="translate(1021.38,2448.70) scale(1.4600,1)" font-size="11.10" fill="#231f20">50</text>
<text transform="translate(1012.38,2393.30) scale(1.4600,1)" font-size="11.10" fill="#231f20">100</text>
<text transform="translate(1012.38,2338.00) scale(1.4600,1)" font-size="11.10" fill="#231f20">150</text>
<path d="M1047.5,2476.7L1264.3,2301.3" stroke="#8c8c8c" stroke-width="1.5" stroke-dasharray="8 3.5 1.8 3.5" fill="none"/>
<g class="sm" fill="#66a76b" stroke="#1f2a1f" stroke-width="0.85"><ellipse cx="1212.1" cy="2380.9" rx="5.3" ry="4.4"/><ellipse cx="1096.3" cy="2425.8" rx="5.3" ry="4.4"/><ellipse cx="1151.9" cy="2379.6" rx="5.3" ry="4.4"/><ellipse cx="1161.6" cy="2387.0" rx="5.3" ry="4.4"/><ellipse cx="1203.1" cy="2377.7" rx="5.3" ry="4.4"/><ellipse cx="1160.7" cy="2325.8" rx="5.3" ry="4.4"/><ellipse cx="1194.6" cy="2384.3" rx="5.3" ry="4.4"/><ellipse cx="1091.8" cy="2433.3" rx="5.3" ry="4.4"/><ellipse cx="1164.0" cy="2351.6" rx="5.3" ry="4.4"/><ellipse cx="1108.6" cy="2418.2" rx="5.3" ry="4.4"/><ellipse cx="1255.1" cy="2361.0" rx="5.3" ry="4.4"/><ellipse cx="1120.6" cy="2422.1" rx="5.3" ry="4.4"/><ellipse cx="1079.5" cy="2423.6" rx="5.3" ry="4.4"/><ellipse cx="1210.4" cy="2356.9" rx="5.3" ry="4.4"/><ellipse cx="1210.6" cy="2349.1" rx="5.3" ry="4.4"/><ellipse cx="1197.0" cy="2366.0" rx="5.3" ry="4.4"/><ellipse cx="1149.7" cy="2386.3" rx="5.3" ry="4.4"/><ellipse cx="1059.2" cy="2441.5" rx="5.3" ry="4.4"/><ellipse cx="1151.0" cy="2400.3" rx="5.3" ry="4.4"/><ellipse cx="1212.4" cy="2385.2" rx="5.3" ry="4.4"/><ellipse cx="1081.2" cy="2425.3" rx="5.3" ry="4.4"/><ellipse cx="1081.6" cy="2432.6" rx="5.3" ry="4.4"/><ellipse cx="1179.8" cy="2351.9" rx="5.3" ry="4.4"/><ellipse cx="1158.6" cy="2405.5" rx="5.3" ry="4.4"/><ellipse cx="1153.6" cy="2424.2" rx="5.3" ry="4.4"/><ellipse cx="1078.9" cy="2414.1" rx="5.3" ry="4.4"/><ellipse cx="1054.1" cy="2445.2" rx="5.3" ry="4.4"/><ellipse cx="1128.1" cy="2423.6" rx="5.3" ry="4.4"/><ellipse cx="1118.2" cy="2375.7" rx="5.3" ry="4.4"/><ellipse cx="1050.7" cy="2433.5" rx="5.3" ry="4.4"/><ellipse cx="1104.3" cy="2434.0" rx="5.3" ry="4.4"/><ellipse cx="1079.2" cy="2435.3" rx="5.3" ry="4.4"/><ellipse cx="1152.8" cy="2377.0" rx="5.3" ry="4.4"/><ellipse cx="1135.3" cy="2415.4" rx="5.3" ry="4.4"/><ellipse cx="1061.0" cy="2436.0" rx="5.3" ry="4.4"/><ellipse cx="1136.7" cy="2391.0" rx="5.3" ry="4.4"/><ellipse cx="1170.9" cy="2394.4" rx="5.3" ry="4.4"/><ellipse cx="1056.0" cy="2451.9" rx="5.3" ry="4.4"/><ellipse cx="1188.8" cy="2388.2" rx="5.3" ry="4.4"/><ellipse cx="1168.3" cy="2376.4" rx="5.3" ry="4.4"/><ellipse cx="1119.6" cy="2423.2" rx="5.3" ry="4.4"/><ellipse cx="1147.9" cy="2376.6" rx="5.3" ry="4.4"/><ellipse cx="1055.7" cy="2418.9" rx="5.3" ry="4.4"/><ellipse cx="1145.5" cy="2402.8" rx="5.3" ry="4.4"/><ellipse cx="1082.9" cy="2417.7" rx="5.3" ry="4.4"/><ellipse cx="1212.2" cy="2418.5" rx="5.3" ry="4.4"/><ellipse cx="1114.8" cy="2409.4" rx="5.3" ry="4.4"/><ellipse cx="1071.7" cy="2415.3" rx="5.3" ry="4.4"/><ellipse cx="1090.5" cy="2430.6" rx="5.3" ry="4.4"/><ellipse cx="1094.6" cy="2429.9" rx="5.3" ry="4.4"/><ellipse cx="1193.1" cy="2378.5" rx="5.3" ry="4.4"/><ellipse cx="1190.0" cy="2375.1" rx="5.3" ry="4.4"/><ellipse cx="1147.3" cy="2416.0" rx="5.3" ry="4.4"/><ellipse cx="1151.5" cy="2390.5" rx="5.3" ry="4.4"/><ellipse cx="1162.4" cy="2403.3" rx="5.3" ry="4.4"/><ellipse cx="1151.1" cy="2415.0" rx="5.3" ry="4.4"/><ellipse cx="1160.2" cy="2422.4" rx="5.3" ry="4.4"/><ellipse cx="1197.1" cy="2389.0" rx="5.3" ry="4.4"/><ellipse cx="1119.0" cy="2403.1" rx="5.3" ry="4.4"/><ellipse cx="1215.3" cy="2380.4" rx="5.3" ry="4.4"/><ellipse cx="1111.5" cy="2427.6" rx="5.3" ry="4.4"/><ellipse cx="1058.9" cy="2442.5" rx="5.3" ry="4.4"/><ellipse cx="1157.7" cy="2368.0" rx="5.3" ry="4.4"/><ellipse cx="1163.1" cy="2359.9" rx="5.3" ry="4.4"/><ellipse cx="1092.4" cy="2364.1" rx="5.3" ry="4.4"/><ellipse cx="1128.1" cy="2374.0" rx="5.3" ry="4.4"/><ellipse cx="1063.7" cy="2431.6" rx="5.3" ry="4.4"/><ellipse cx="1223.6" cy="2382.8" rx="5.3" ry="4.4"/><ellipse cx="1176.4" cy="2390.4" rx="5.3" ry="4.4"/><ellipse cx="1133.9" cy="2400.9" rx="5.3" ry="4.4"/><ellipse cx="1158.3" cy="2380.9" rx="5.3" ry="4.4"/><ellipse cx="1104.1" cy="2431.7" rx="5.3" ry="4.4"/><ellipse cx="1123.8" cy="2400.8" rx="5.3" ry="4.4"/><ellipse cx="1178.4" cy="2395.4" rx="5.3" ry="4.4"/><ellipse cx="1051.8" cy="2432.4" rx="5.3" ry="4.4"/><ellipse cx="1151.0" cy="2407.1" rx="5.3" ry="4.4"/><ellipse cx="1090.8" cy="2424.5" rx="5.3" ry="4.4"/><ellipse cx="1076.9" cy="2440.1" rx="5.3" ry="4.4"/><ellipse cx="1256.7" cy="2380.0" rx="5.3" ry="4.4"/><ellipse cx="1178.9" cy="2402.3" rx="5.3" ry="4.4"/><ellipse cx="1130.3" cy="2393.3" rx="5.3" ry="4.4"/><ellipse cx="1233.9" cy="2364.1" rx="5.3" ry="4.4"/><ellipse cx="1184.3" cy="2405.3" rx="5.3" ry="4.4"/><ellipse cx="1205.7" cy="2388.7" rx="5.3" ry="4.4"/><ellipse cx="1048.9" cy="2426.4" rx="5.3" ry="4.4"/><ellipse cx="1111.6" cy="2444.8" rx="5.3" ry="4.4"/><ellipse cx="1186.5" cy="2390.7" rx="5.3" ry="4.4"/><ellipse cx="1075.1" cy="2439.8" rx="5.3" ry="4.4"/><ellipse cx="1199.5" cy="2374.8" rx="5.3" ry="4.4"/><ellipse cx="1173.3" cy="2424.2" rx="5.3" ry="4.4"/><ellipse cx="1081.4" cy="2427.0" rx="5.3" ry="4.4"/><ellipse cx="1203.2" cy="2368.4" rx="5.3" ry="4.4"/><ellipse cx="1208.3" cy="2400.9" rx="5.3" ry="4.4"/><ellipse cx="1075.5" cy="2431.4" rx="5.3" ry="4.4"/><ellipse cx="1190.0" cy="2391.7" rx="5.3" ry="4.4"/><ellipse cx="1160.1" cy="2391.8" rx="5.3" ry="4.4"/><ellipse cx="1202.7" cy="2398.4" rx="5.3" ry="4.4"/><ellipse cx="1159.6" cy="2394.3" rx="5.3" ry="4.4"/><ellipse cx="1207.9" cy="2384.0" rx="5.3" ry="4.4"/><ellipse cx="1103.1" cy="2420.8" rx="5.3" ry="4.4"/><ellipse cx="1184.0" cy="2372.7" rx="5.3" ry="4.4"/><ellipse cx="1147.6" cy="2415.7" rx="5.3" ry="4.4"/><ellipse cx="1230.1" cy="2368.3" rx="5.3" ry="4.4"/><ellipse cx="1200.9" cy="2375.9" rx="5.3" ry="4.4"/><ellipse cx="1225.6" cy="2384.4" rx="5.3" ry="4.4"/><ellipse cx="1180.0" cy="2398.0" rx="5.3" ry="4.4"/><ellipse cx="1138.2" cy="2323.3" rx="5.3" ry="4.4"/><ellipse cx="1082.5" cy="2425.3" rx="5.3" ry="4.4"/><ellipse cx="1197.7" cy="2397.2" rx="5.3" ry="4.4"/><ellipse cx="1121.1" cy="2424.8" rx="5.3" ry="4.4"/><ellipse cx="1086.9" cy="2436.3" rx="5.3" ry="4.4"/><ellipse cx="1079.4" cy="2422.4" rx="5.3" ry="4.4"/><ellipse cx="1145.1" cy="2403.5" rx="5.3" ry="4.4"/><ellipse cx="1087.7" cy="2427.3" rx="5.3" ry="4.4"/><ellipse cx="1104.1" cy="2426.1" rx="5.3" ry="4.4"/><ellipse cx="1082.4" cy="2369.9" rx="5.3" ry="4.4"/><ellipse cx="1101.7" cy="2432.5" rx="5.3" ry="4.4"/><ellipse cx="1086.9" cy="2429.7" rx="5.3" ry="4.4"/><ellipse cx="1226.5" cy="2364.9" rx="5.3" ry="4.4"/><ellipse cx="1204.1" cy="2381.5" rx="5.3" ry="4.4"/><ellipse cx="1052.3" cy="2423.8" rx="5.3" ry="4.4"/><ellipse cx="1128.7" cy="2384.4" rx="5.3" ry="4.4"/><ellipse cx="1191.0" cy="2375.7" rx="5.3" ry="4.4"/><ellipse cx="1134.5" cy="2393.3" rx="5.3" ry="4.4"/><ellipse cx="1073.1" cy="2407.2" rx="5.3" ry="4.4"/><ellipse cx="1190.5" cy="2384.7" rx="5.3" ry="4.4"/><ellipse cx="1164.1" cy="2408.8" rx="5.3" ry="4.4"/><ellipse cx="1138.3" cy="2379.9" rx="5.3" ry="4.4"/><ellipse cx="1071.6" cy="2442.7" rx="5.3" ry="4.4"/><ellipse cx="1084.1" cy="2360.7" rx="5.3" ry="4.4"/><ellipse cx="1144.5" cy="2403.2" rx="5.3" ry="4.4"/><ellipse cx="1254.4" cy="2361.3" rx="5.3" ry="4.4"/><ellipse cx="1230.6" cy="2373.2" rx="5.3" ry="4.4"/><ellipse cx="1152.6" cy="2393.6" rx="5.3" ry="4.4"/><ellipse cx="1216.6" cy="2382.8" rx="5.3" ry="4.4"/><ellipse cx="1218.7" cy="2375.2" rx="5.3" ry="4.4"/><ellipse cx="1149.3" cy="2375.9" rx="5.3" ry="4.4"/><ellipse cx="1199.9" cy="2385.4" rx="5.3" ry="4.4"/><ellipse cx="1082.9" cy="2423.9" rx="5.3" ry="4.4"/><ellipse cx="1128.2" cy="2363.2" rx="5.3" ry="4.4"/><ellipse cx="1132.4" cy="2351.2" rx="5.3" ry="4.4"/><ellipse cx="1154.8" cy="2352.4" rx="5.3" ry="4.4"/><ellipse cx="1101.0" cy="2401.3" rx="5.3" ry="4.4"/><ellipse cx="1153.2" cy="2397.2" rx="5.3" ry="4.4"/><ellipse cx="1216.7" cy="2384.3" rx="5.3" ry="4.4"/><ellipse cx="1200.6" cy="2418.1" rx="5.3" ry="4.4"/><ellipse cx="1100.5" cy="2439.2" rx="5.3" ry="4.4"/><ellipse cx="1079.9" cy="2436.9" rx="5.3" ry="4.4"/><ellipse cx="1134.9" cy="2327.4" rx="5.3" ry="4.4"/><ellipse cx="1150.0" cy="2432.3" rx="5.3" ry="4.4"/><ellipse cx="1207.8" cy="2359.3" rx="5.3" ry="4.4"/><ellipse cx="1092.5" cy="2421.4" rx="5.3" ry="4.4"/><ellipse cx="1088.2" cy="2438.8" rx="5.3" ry="4.4"/><ellipse cx="1069.7" cy="2433.4" rx="5.3" ry="4.4"/><ellipse cx="1198.5" cy="2364.4" rx="5.3" ry="4.4"/><ellipse cx="1154.1" cy="2393.3" rx="5.3" ry="4.4"/><ellipse cx="1202.8" cy="2373.6" rx="5.3" ry="4.4"/><ellipse cx="1193.6" cy="2381.8" rx="5.3" ry="4.4"/><ellipse cx="1188.7" cy="2407.5" rx="5.3" ry="4.4"/><ellipse cx="1135.5" cy="2408.2" rx="5.3" ry="4.4"/><ellipse cx="1145.2" cy="2377.0" rx="5.3" ry="4.4"/><ellipse cx="1134.5" cy="2398.2" rx="5.3" ry="4.4"/><ellipse cx="1161.7" cy="2388.2" rx="5.3" ry="4.4"/><ellipse cx="1232.3" cy="2375.0" rx="5.3" ry="4.4"/><ellipse cx="1082.6" cy="2418.0" rx="5.3" ry="4.4"/><ellipse cx="1166.2" cy="2421.0" rx="5.3" ry="4.4"/><ellipse cx="1149.8" cy="2374.9" rx="5.3" ry="4.4"/><ellipse cx="1198.1" cy="2351.6" rx="5.3" ry="4.4"/><ellipse cx="1186.4" cy="2340.8" rx="5.3" ry="4.4"/><ellipse cx="1139.9" cy="2414.4" rx="5.3" ry="4.4"/><ellipse cx="1147.6" cy="2395.3" rx="5.3" ry="4.4"/><ellipse cx="1130.7" cy="2434.0" rx="5.3" ry="4.4"/><ellipse cx="1151.5" cy="2391.1" rx="5.3" ry="4.4"/><ellipse cx="1082.6" cy="2448.1" rx="5.3" ry="4.4"/><ellipse cx="1135.9" cy="2413.1" rx="5.3" ry="4.4"/><ellipse cx="1206.3" cy="2374.9" rx="5.3" ry="4.4"/><ellipse cx="1055.6" cy="2427.1" rx="5.3" ry="4.4"/><ellipse cx="1101.4" cy="2417.7" rx="5.3" ry="4.4"/><ellipse cx="1136.7" cy="2422.6" rx="5.3" ry="4.4"/><ellipse cx="1098.4" cy="2411.9" rx="5.3" ry="4.4"/><ellipse cx="1221.3" cy="2380.4" rx="5.3" ry="4.4"/><ellipse cx="1150.7" cy="2322.5" rx="5.3" ry="4.4"/><ellipse cx="1154.7" cy="2382.7" rx="5.3" ry="4.4"/><ellipse cx="1199.0" cy="2367.7" rx="5.3" ry="4.4"/><ellipse cx="1123.6" cy="2425.1" rx="5.3" ry="4.4"/><ellipse cx="1177.5" cy="2412.0" rx="5.3" ry="4.4"/><ellipse cx="1209.4" cy="2386.8" rx="5.3" ry="4.4"/><ellipse cx="1128.2" cy="2322.5" rx="5.3" ry="4.4"/><ellipse cx="1080.8" cy="2399.5" rx="5.3" ry="4.4"/><ellipse cx="1143.6" cy="2383.7" rx="5.3" ry="4.4"/><ellipse cx="1195.7" cy="2391.0" rx="5.3" ry="4.4"/><ellipse cx="1149.4" cy="2405.3" rx="5.3" ry="4.4"/><ellipse cx="1173.1" cy="2385.8" rx="5.3" ry="4.4"/><ellipse cx="1119.1" cy="2415.5" rx="5.3" ry="4.4"/><ellipse cx="1117.5" cy="2417.9" rx="5.3" ry="4.4"/><ellipse cx="1164.5" cy="2380.7" rx="5.3" ry="4.4"/><ellipse cx="1170.6" cy="2398.6" rx="5.3" ry="4.4"/><ellipse cx="1097.7" cy="2444.3" rx="5.3" ry="4.4"/><ellipse cx="1179.9" cy="2393.1" rx="5.3" ry="4.4"/><ellipse cx="1153.3" cy="2382.3" rx="5.3" ry="4.4"/><ellipse cx="1188.9" cy="2420.6" rx="5.3" ry="4.4"/><ellipse cx="1205.1" cy="2387.0" rx="5.3" ry="4.4"/><ellipse cx="1207.4" cy="2374.5" rx="5.3" ry="4.4"/><ellipse cx="1086.5" cy="2412.8" rx="5.3" ry="4.4"/><ellipse cx="1156.0" cy="2418.0" rx="5.3" ry="4.4"/><ellipse cx="1214.9" cy="2374.7" rx="5.3" ry="4.4"/><ellipse cx="1139.2" cy="2389.1" rx="5.3" ry="4.4"/><ellipse cx="1051.5" cy="2435.5" rx="5.3" ry="4.4"/><ellipse cx="1176.2" cy="2380.4" rx="5.3" ry="4.4"/><ellipse cx="1134.6" cy="2376.7" rx="5.3" ry="4.4"/><ellipse cx="1071.3" cy="2431.3" rx="5.3" ry="4.4"/><ellipse cx="1150.8" cy="2375.5" rx="5.3" ry="4.4"/><ellipse cx="1202.8" cy="2370.9" rx="5.3" ry="4.4"/><ellipse cx="1062.5" cy="2431.9" rx="5.3" ry="4.4"/><ellipse cx="1106.4" cy="2410.5" rx="5.3" ry="4.4"/><ellipse cx="1063.2" cy="2423.5" rx="5.3" ry="4.4"/><ellipse cx="1081.6" cy="2424.2" rx="5.3" ry="4.4"/><ellipse cx="1154.2" cy="2376.6" rx="5.3" ry="4.4"/><ellipse cx="1129.4" cy="2404.6" rx="5.3" ry="4.4"/><ellipse cx="1209.0" cy="2394.8" rx="5.3" ry="4.4"/><ellipse cx="1077.1" cy="2432.3" rx="5.3" ry="4.4"/><ellipse cx="1218.4" cy="2380.2" rx="5.3" ry="4.4"/></g>
<path d="M1054.1,2434.8L1233.9,2363.2" stroke="#e3121b" stroke-width="1.3" fill="none"/>
<text transform="translate(995.50,2452.34) rotate(-90) scale(0.9999,1)" font-size="43.03" fill="#231f20">Model</text>
<text transform="translate(1209.37,2463.40) scale(1.0709,1)" font-size="40.00" fill="#231f20">Obs.</text>
<rect x="665.7" y="2133.7" width="104.9" height="44.8" rx="3" fill="#fff" stroke="#d9d9d9" stroke-width="1"/>
<text transform="translate(674.33,2152.40) scale(1.1250,1)" font-size="13.33" fill="#3c3c3c">X</text>
<text transform="translate(690.34,2152.40) scale(1.1822,1)" font-size="13.43" font-weight="bold" fill="#3e8ed0">95.7992</text>
<text transform="translate(674.33,2168.60) scale(1.1250,1)" font-size="13.33" fill="#3c3c3c">Y</text>
<text transform="translate(689.05,2168.60) scale(1.1753,1)" font-size="13.43" font-weight="bold" fill="#3e8ed0">150</text>
<circle cx="664" cy="2180.2" r="4.6" fill="#fffbd0" opacity="0.8"/><circle cx="664" cy="2180.2" r="3.3" fill="#222"/>
</svg></body></html>
